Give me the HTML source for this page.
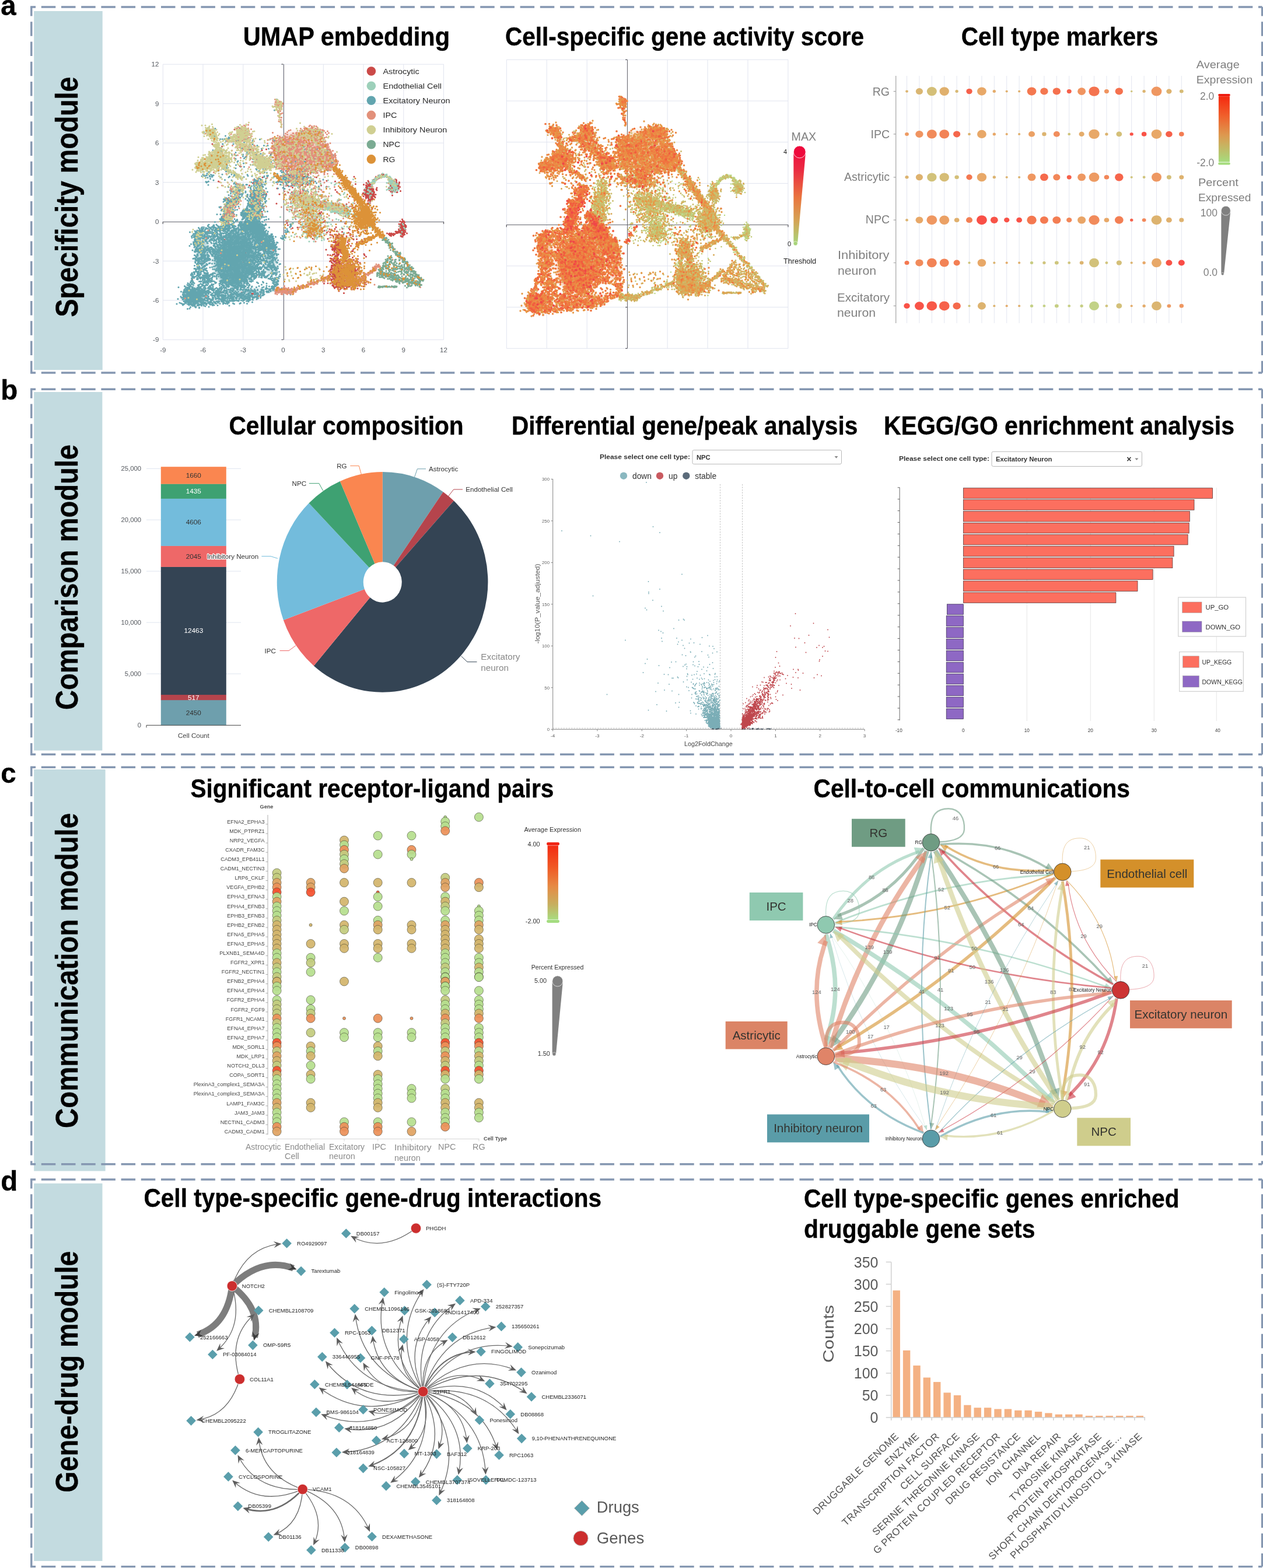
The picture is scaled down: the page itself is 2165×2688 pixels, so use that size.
<!DOCTYPE html>
<html lang="en"><head><meta charset="utf-8"><title>Figure</title>
<style>html,body{margin:0;padding:0;background:#fff;overflow:hidden}body{width:2165px;height:2688px}svg{display:block}text{font-family:"Liberation Sans",sans-serif}</style>
</head><body>
<svg width="2165" height="2688" viewBox="0 0 2165 2688">
<rect x="58.2" y="19" width="117.5" height="615.2" fill="#c3dbe0"/>
<rect x="58.2" y="672" width="117.2" height="614.6" fill="#c3dbe0"/>
<rect x="58.2" y="1319" width="122.4" height="688.5" fill="#c3dbe0"/>
<rect x="58.2" y="2028.7" width="117.3" height="647.3" fill="#c3dbe0"/>
<path d="M52.1 12H2163.6M52.1 639H2163.6" fill="none" stroke="#8597b1" stroke-width="3.4" stroke-dasharray="24.5 9.7" stroke-dashoffset="15.5"/><path d="M53.8 12V639M2163.6 12V639" fill="none" stroke="#8597b1" stroke-width="3.4" stroke-dasharray="24.5 9.7" stroke-dashoffset="8.9"/>
<path d="M52.1 667.2H2163.6M52.1 1293.3H2163.6" fill="none" stroke="#8597b1" stroke-width="3.4" stroke-dasharray="24.5 9.7" stroke-dashoffset="15.5"/><path d="M53.8 667.2V1293.3M2163.6 667.2V1293.3" fill="none" stroke="#8597b1" stroke-width="3.4" stroke-dasharray="24.5 9.7" stroke-dashoffset="8.9"/>
<path d="M52.1 1315.2H2163.6M52.1 1995.8H2163.6" fill="none" stroke="#8597b1" stroke-width="3.4" stroke-dasharray="24.5 9.7" stroke-dashoffset="15.5"/><path d="M53.8 1315.2V1995.8M2163.6 1315.2V1995.8" fill="none" stroke="#8597b1" stroke-width="3.4" stroke-dasharray="24.5 9.7" stroke-dashoffset="8.9"/>
<path d="M52.1 2022H2163.6M52.1 2685.6H2163.6" fill="none" stroke="#8597b1" stroke-width="3.4" stroke-dasharray="24.5 9.7" stroke-dashoffset="15.5"/><path d="M53.8 2022V2685.6M2163.6 2022V2685.6" fill="none" stroke="#8597b1" stroke-width="3.4" stroke-dasharray="24.5 9.7" stroke-dashoffset="8.9"/>
<text transform="translate(133 543.5) rotate(-90)" font-size="54.4" font-weight="bold" textLength="412" lengthAdjust="spacingAndGlyphs" stroke="#000" stroke-width="0.4">Specificity module</text>
<text x="1.2" y="26" font-size="47.5" font-weight="bold" stroke="#000" stroke-width="0.4">a</text>
<text transform="translate(133 1217) rotate(-90)" font-size="54.4" font-weight="bold" textLength="455" lengthAdjust="spacingAndGlyphs" stroke="#000" stroke-width="0.4">Comparison module</text>
<text x="1.2" y="684.6" font-size="47.5" font-weight="bold" stroke="#000" stroke-width="0.4">b</text>
<text transform="translate(133 1934) rotate(-90)" font-size="54.4" font-weight="bold" textLength="540" lengthAdjust="spacingAndGlyphs" stroke="#000" stroke-width="0.4">Communication module</text>
<text x="1.2" y="1342" font-size="47.5" font-weight="bold" stroke="#000" stroke-width="0.4">c</text>
<text transform="translate(133 2558.5) rotate(-90)" font-size="54.4" font-weight="bold" textLength="414" lengthAdjust="spacingAndGlyphs" stroke="#000" stroke-width="0.4">Gene-drug module</text>
<text x="1.2" y="2041" font-size="47.5" font-weight="bold" stroke="#000" stroke-width="0.4">d</text>
<text x="416.7" y="78.3" font-size="45.2" font-weight="bold" textLength="354.3" lengthAdjust="spacingAndGlyphs" stroke="#000" stroke-width="0.4">UMAP embedding</text>
<text x="866" y="78" font-size="45.2" font-weight="bold" textLength="615" lengthAdjust="spacingAndGlyphs" stroke="#000" stroke-width="0.4">Cell-specific gene activity score</text>
<text x="1647.7" y="78.3" font-size="45.2" font-weight="bold" textLength="337.6" lengthAdjust="spacingAndGlyphs" stroke="#000" stroke-width="0.4">Cell type markers</text>
<text x="392.4" y="745.1" font-size="45.2" font-weight="bold" textLength="402.3" lengthAdjust="spacingAndGlyphs" stroke="#000" stroke-width="0.4">Cellular composition</text>
<text x="877" y="745.3" font-size="45.2" font-weight="bold" textLength="593.3" lengthAdjust="spacingAndGlyphs" stroke="#000" stroke-width="0.4">Differential gene/peak analysis</text>
<text x="1515" y="744.8" font-size="45.2" font-weight="bold" textLength="601" lengthAdjust="spacingAndGlyphs" stroke="#000" stroke-width="0.4">KEGG/GO enrichment analysis</text>
<text x="326.4" y="1367.2" font-size="45.2" font-weight="bold" textLength="622.9" lengthAdjust="spacingAndGlyphs" stroke="#000" stroke-width="0.4">Significant receptor-ligand pairs</text>
<text x="1394.5" y="1367.4" font-size="45.2" font-weight="bold" textLength="542.5" lengthAdjust="spacingAndGlyphs" stroke="#000" stroke-width="0.4">Cell-to-cell communications</text>
<text x="246.5" y="2069.4" font-size="45.2" font-weight="bold" textLength="784.5" lengthAdjust="spacingAndGlyphs" stroke="#000" stroke-width="0.4">Cell type-specific gene-drug interactions</text>
<text x="1378" y="2069.6" font-size="45.2" font-weight="bold" textLength="643.5" lengthAdjust="spacingAndGlyphs" stroke="#000" stroke-width="0.4">Cell type-specific genes enriched</text>
<text x="1378" y="2122.4" font-size="45.2" font-weight="bold" textLength="396.3" lengthAdjust="spacingAndGlyphs" stroke="#000" stroke-width="0.4">druggable gene sets</text>
<defs><filter id="ublur" x="-30%" y="-30%" width="160%" height="160%"><feGaussianBlur stdDeviation="5"/></filter></defs>
<path d="M279.3 110.2V582.4M348 110.2V582.4M416.8 110.2V582.4M485.5 110.2V582.4M554.3 110.2V582.4M623 110.2V582.4M691.8 110.2V582.4M760.5 110.2V582.4M279.3 110.2H760.5M279.3 177.7H760.5M279.3 245.1H760.5M279.3 312.6H760.5M279.3 380H760.5M279.3 447.5H760.5M279.3 514.9H760.5M279.3 582.4H760.5" stroke="#e1e4ef" stroke-width="1" fill="none"/>
<path d="M486.5 110.2V582.4M279.3 380.5H760.5" stroke="#5c5c62" stroke-width="0.9" fill="none"/>
<path d="M485.5 110.2h-3M485.5 582.4h-3M279.3 380v4M760.5 380v4" stroke="#5c5c62" stroke-width="1.3"/>
<text x="272.3" y="114.2" font-size="11.5" text-anchor="end" fill="#55595f" >12</text>
<text x="272.3" y="181.7" font-size="11.5" text-anchor="end" fill="#55595f" >9</text>
<text x="272.3" y="249.1" font-size="11.5" text-anchor="end" fill="#55595f" >6</text>
<text x="272.3" y="316.6" font-size="11.5" text-anchor="end" fill="#55595f" >3</text>
<text x="272.3" y="384" font-size="11.5" text-anchor="end" fill="#55595f" >0</text>
<text x="272.3" y="451.5" font-size="11.5" text-anchor="end" fill="#55595f" >-3</text>
<text x="272.3" y="518.9" font-size="11.5" text-anchor="end" fill="#55595f" >-6</text>
<text x="272.3" y="586.4" font-size="11.5" text-anchor="end" fill="#55595f" >-9</text>
<text x="279.3" y="603.5" font-size="11.5" text-anchor="middle" fill="#55595f" >-9</text>
<text x="348" y="603.5" font-size="11.5" text-anchor="middle" fill="#55595f" >-6</text>
<text x="416.8" y="603.5" font-size="11.5" text-anchor="middle" fill="#55595f" >-3</text>
<text x="485.5" y="603.5" font-size="11.5" text-anchor="middle" fill="#55595f" >0</text>
<text x="554.3" y="603.5" font-size="11.5" text-anchor="middle" fill="#55595f" >3</text>
<text x="623" y="603.5" font-size="11.5" text-anchor="middle" fill="#55595f" >6</text>
<text x="691.8" y="603.5" font-size="11.5" text-anchor="middle" fill="#55595f" >9</text>
<text x="760.5" y="603.5" font-size="11.5" text-anchor="middle" fill="#55595f" >12</text>
<g filter="url(#ublur)">
<ellipse cx="403" cy="445.2" rx="34.4" ry="45" fill="#62a5af" fill-opacity="0.85" transform="rotate(10 403 445.2)"/>
<ellipse cx="444.3" cy="407" rx="13.7" ry="29.2" fill="#62a5af" fill-opacity="0.6" transform="rotate(-40 444.3 407)"/>
<ellipse cx="334.3" cy="508.2" rx="18.3" ry="13.5" fill="#62a5af" fill-opacity="0.6" transform="rotate(0 334.3 508.2)"/>
<ellipse cx="407.6" cy="504.8" rx="45.8" ry="6.7" fill="#62a5af" fill-opacity="0.5" transform="rotate(-6 407.6 504.8)"/>
<ellipse cx="348" cy="429.5" rx="10.3" ry="27" fill="#62a5af" fill-opacity="0.45" transform="rotate(0 348 429.5)"/>
<ellipse cx="462.6" cy="447.5" rx="10.3" ry="22.5" fill="#62a5af" fill-opacity="0.45" transform="rotate(0 462.6 447.5)"/>
<ellipse cx="515.3" cy="258.6" rx="43.5" ry="29.2" fill="#e2907a" fill-opacity="0.5" transform="rotate(15 515.3 258.6)"/>
<ellipse cx="366.4" cy="276.6" rx="18.3" ry="9" fill="#d0cf92" fill-opacity="0.5" transform="rotate(-20 366.4 276.6)"/>
<ellipse cx="623" cy="373.3" rx="11.5" ry="13.5" fill="#dc9238" fill-opacity="0.5" transform="rotate(0 623 373.3)"/>
<ellipse cx="595.5" cy="467.7" rx="13.7" ry="13.5" fill="#dc9238" fill-opacity="0.45" transform="rotate(0 595.5 467.7)"/>
</g>
<g fill="none" stroke-linecap="round" transform="scale(0.5)">
<path d="M804 444h0m18-3h0m3 0h0m5 3h0m11 0h0m-116 7h0m0 5h0m97-4h0m0 6h0m11-3h0m3 1h0m0 3h0m216-7h0m21 4h0m0 2h0m24-6h0m-270 11h0m259 0h0m21-1h0m-324 16h0m36-8h0m12 4h0m131 2h0m85-4h0m8 1h0m-244 11h0m3-2h0m4 0h0m21-2h0m2 2h0m122-2h0m4 6h0m38-1h0m8-5h0m-285 14h0m106 5h0m127-2h0m1-3h0m49 0h0m80 2h0m-330 6h0m53 5h0m25-2h0m35-3h0m132-2h0m11 2h0m38-2h0m62 3h0m-258 10h0m39 2h0m15-3h0m44 4h0m44-2h0m55 5h0m66-1h0m-318 11h0m52-4h0m29-4h0m44 7h0m43 1h0m20-6h0m40-1h0m22 4h0m-325 8h0m151 0h0m95 0h0m55-3h0m31 8h0m14-1h0m18 0h0m34-5h0m-430 14h0m44-1h0m15 1h0m4-4h0m25-1h0m73 3h0m30-2h0m29 2h0m80-3h0m50 4h0m20-6h0m8 4h0m48 2h0m-58 8h0m-352 8h0m16-2h0m27 3h0m117 1h0m175-2h0m59 7h0m-378 2h0m21 5h0m16 2h0m57-8h0m152 0h0m16 9h0m5-8h0m56 4h0m11 3h0m14-7h0m21 5h0m36 1h0m-153 8h0m1 3h0m2 1h0m4-3h0m13-3h0m16-1h0m5-2h0m2 5h0m1 3h0m13 1h0m16-6h0m3 0h0m-71 14h0m19-1h0m2-5h0m4-1h0m7 3h0m3 3h0m4 1h0m10 2h0m2-5h0m3-4h0m7 6h0m6 2h0m3-1h0m19-5h0m234 6h0m2-1h0m3 2h0m1-1h0m-415 10h0m68-6h0m9 3h0m3 1h0m10-6h0m2 1h0m24 3h0m6 0h0m0 4h0m1-2h0m1-6h0m4 8h0m1-7h0m3 2h0m1 0h0m9 3h0m5-2h0m6-1h0m32 5h0m129-2h0m75 0h0m3 3h0m4-3h0m1-4h0m3 7h0m2 0h0m1-3h0m7 0h0m3-5h0m11 4h0m1-3h0m1 5h0m-353 8h0m8 0h0m2-1h0m9-1h0m2 0h0m1 4h0m1-1h0m1-6h0m1 3h0m1-3h0m4 6h0m1-2h0m12 0h0m2 0h0m5-3h0m2 2h0m4 3h0m2-5h0m2 0h0m1 4h0m2 0h0m2-2h0m2-1h0m4 5h0m7-4h0m20 2h0m98 3h0m13-3h0m100 1h0m5-6h0m2 4h0m3 1h0m6-3h0m34 3h0m2 3h0m10 0h0m6 0h0m5-3h0m3 1h0m1 2h0m-610 4h0m118 6h0m13-1h0m12-6h0m9 4h0m86-3h0m3 2h0m11-3h0m12 8h0m2 0h0m3-2h0m2-5h0m12 3h0m2-1h0m17 0h0m1 3h0m4-5h0m2-1h0m40 0h0m22-1h0m29 2h0m13 4h0m94 1h0m6-7h0m2 4h0m14 5h0m1-2h0m2-1h0m3-3h0m48 5h0m2-1h0m8-7h0m1 5h0m1-4h0m2 3h0m0 4h0m1-1h0m2-7h0m0 5h0m1-3h0m1-2h0m1 5h0m2 1h0m1 2h0m1-3h0m0 3h0m1-3h0m2-5h0m1 6h0m9-1h0m0 3h0m-514 8h0m27 0h0m15 3h0m90-3h0m13 1h0m13-2h0m20 0h0m4-2h0m0 2h0m18-1h0m11-2h0m35 4h0m118-5h0m28 2h0m8 2h0m4 3h0m1-7h0m3 4h0m3-5h0m0 4h0m1 4h0m0 1h0m1-8h0m0 2h0m1 0h0m5-1h0m1 1h0m0 2h0m1-3h0m0 1h0m62-1h0m1 5h0m2-6h0m1 6h0m1 1h0m1-7h0m1 4h0m1 0h0m1-5h0m0 8h0m0 1h0m2-5h0m1-2h0m0 3h0m0 4h0m1-8h0m0 2h0m0 1h0m1-3h0m0 5h0m0 2h0m0 1h0m1-9h0m0 7h0m1-7h0m0 5h0m0 1h0m1 2h0m0 1h0m3-9h0m0 6h0m0 1h0m1-7h0m1 8h0m1-8h0m0 9h0m1-5h0m0 4h0m1 1h0m1-8h0m1 6h0m1 0h0m1-3h0m-542 13h0m13-6h0m46 2h0m15-2h0m51 5h0m53-3h0m24-2h0m1-1h0m12 5h0m7-5h0m46 3h0m27-3h0m48 5h0m39-4h0m48 2h0m1-3h0m1 8h0m1-7h0m0 7h0m0 1h0m1-9h0m0 3h0m0 6h0m1-7h0m0 5h0m1-3h0m0 4h0m1-7h0m0 6h0m1-7h0m0 3h0m0 1h0m1 1h0m0 1h0m0 2h0m1-6h0m0 1h0m1-2h0m0 1h0m0 2h0m0 5h0m1-9h0m0 1h0m0 8h0m1-3h0m1-5h0m0 6h0m1 1h0m1-8h0m0 7h0m0 1h0m1-5h0m0 1h0m0 5h0m1-7h0m0 1h0m0 4h0m0 2h0m1-7h0m0 7h0m1-3h0m0 1h0m0 1h0m1-5h0m0 3h0m1-5h0m3 7h0m10 1h0m2-5h0m41 1h0m5 3h0m1 0h0m1-3h0m3-4h0m0 5h0m1 3h0m2-2h0m1-7h0m0 1h0m0 7h0m1-7h0m0 3h0m0 1h0m0 1h0m1 0h0m1-6h0m1 3h0m0 2h0m1-1h0m0 4h0m1-8h0m0 1h0m0 2h0m0 6h0m1-7h0m0 1h0m0 3h0m0 2h0m0 1h0m1-8h0m0 2h0m0 1h0m0 2h0m1-2h0m0 2h0m1-3h0m3-2h0m0 4h0m1-2h0m0 2h0m1 0h0m0 2h0m1-2h0m2-3h0m2 5h0m4-6h0m-553 10h0m55 1h0m4 3h0m2 0h0m0 1h0m1-4h0m1 4h0m1 2h0m1 1h0m1-4h0m1 3h0m1-1h0m1-7h0m1 4h0m2 5h0m1-4h0m2 0h0m2 2h0m1-2h0m1 1h0m2 3h0m102 0h0m29-3h0m9-4h0m1 5h0m7-1h0m3 0h0m32 0h0m68-5h0m5 7h0m94-6h0m1-2h0m1 9h0m3-7h0m0 7h0m1-5h0m1-3h0m0 3h0m3 0h0m0 4h0m1 1h0m1-8h0m0 4h0m0 1h0m0 1h0m1-3h0m0 1h0m0 1h0m0 1h0m0 1h0m1-4h0m0 5h0m1-9h0m0 1h0m0 1h0m0 1h0m0 1h0m0 1h0m0 1h0m1-3h0m0 1h0m0 1h0m0 1h0m0 3h0m1-8h0m0 8h0m1-9h0m0 2h0m0 3h0m0 1h0m0 1h0m0 2h0m1-9h0m0 2h0m0 1h0m0 3h0m0 3h0m1-9h0m0 1h0m0 1h0m0 3h0m0 1h0m0 3h0m1-9h0m0 2h0m2-2h0m0 9h0m1-9h0m0 3h0m0 5h0m1-8h0m0 3h0m0 5h0m0 1h0m1-6h0m0 2h0m0 3h0m1-7h0m0 1h0m0 2h0m0 2h0m0 2h0m0 1h0m1-9h0m0 2h0m0 1h0m0 4h0m0 2h0m1-1h0m1-2h0m1-6h0m0 5h0m0 2h0m2 0h0m10-5h0m43 0h0m5 5h0m2-6h0m2-1h0m1 5h0m0 3h0m1-4h0m4-3h0m0 1h0m1 0h0m2-2h0m0 1h0m0 1h0m0 5h0m1-5h0m0 1h0m0 4h0m1-5h0m1-2h0m3 0h0m1 9h0m2 0h0m11-4h0m-510 7h0m13 3h0m1-5h0m5 6h0m1-5h0m3-1h0m1 2h0m0 1h0m3-3h0m0 1h0m1 1h0m0 3h0m2 3h0m1-8h0m1 0h0m6 8h0m3-2h0m7 2h0m2-3h0m45 1h0m20 0h0m10-6h0m11 7h0m4 1h0m10 0h0m8-5h0m7 4h0m1-5h0m22 0h0m3 0h0m190 1h0m4-2h0m1 5h0m1-4h0m1 5h0m2-4h0m0 6h0m3-6h0m1 3h0m1-1h0m1-1h0m1-2h0m0 4h0m0 3h0m1-9h0m0 3h0m0 1h0m0 3h0m0 1h0m1-8h0m0 1h0m0 3h0m0 5h0m1-8h0m0 3h0m0 1h0m1-5h0m0 1h0m0 3h0m0 1h0m0 1h0m0 2h0m1-7h0m0 6h0m1-6h0m1 2h0m1 3h0m0 3h0m1-9h0m0 3h0m0 1h0m0 5h0m1-7h0m0 3h0m0 3h0m1-7h0m0 1h0m0 2h0m0 5h0m1-9h0m0 7h0m0 1h0m1-6h0m0 2h0m0 2h0m1-5h0m0 6h0m0 2h0m1-9h0m0 1h0m0 4h0m1-4h0m0 4h0m0 1h0m0 3h0m1-9h0m0 6h0m1 3h0m1-5h0m1 3h0m1-7h0m0 1h0m0 2h0m0 4h0m0 2h0m1-4h0m0 1h0m0 2h0m1-8h0m5 7h0m-440 8h0m13-5h0m4 2h0m4-2h0m12 0h0m4 0h0m6 2h0m105 7h0m3-9h0m4 1h0m5 1h0m6 3h0m2-3h0m1 0h0m1-2h0m2 6h0m1-1h0m2-2h0m3 6h0m10-1h0m1-6h0m3-2h0m12 9h0m1-6h0m5 5h0m16-1h0m125-4h0m47 0h0m8 2h0m1 3h0m1-7h0m0 3h0m1-3h0m1-1h0m0 3h0m2 0h0m0 2h0m1 2h0m1-6h0m1 0h0m0 3h0m0 4h0m1-5h0m0 1h0m0 4h0m1-7h0m0 5h0m1-6h0m0 3h0m0 2h0m1-3h0m0 2h0m0 2h0m1-6h0m1 0h0m0 3h0m1 0h0m1-1h0m0 2h0m1-4h0m0 4h0m0 2h0m0 1h0m1-5h0m0 4h0m1-4h0m0 2h0m2-1h0m1 0h0m0 6h0m1-9h0m4 1h0m0 2h0m3 2h0m1 2h0m59-7h0m-560 18h0m20-7h0m65 0h0m24-1h0m110 6h0m17-4h0m6-2h0m5 5h0m5 0h0m1-1h0m14 4h0m7 1h0m2-7h0m5-2h0m6 3h0m0 1h0m5 5h0m1-7h0m1-1h0m2 4h0m2 3h0m2-3h0m2 1h0m72 1h0m96-7h0m7 9h0m1-9h0m1 4h0m2 0h0m0 1h0m4-2h0m1 3h0m2-6h0m1 1h0m1 1h0m1 3h0m1-5h0m0 3h0m2-1h0m-461 8h0m53 9h0m8-5h0m3-4h0m2 8h0m4-7h0m60 7h0m83-6h0m3-2h0m2 4h0m7-1h0m0 3h0m1-3h0m3-3h0m7 7h0m5 1h0m2-3h0m3-4h0m9 2h0m2-3h0m18 3h0m14 1h0m2-4h0m18 9h0m10-6h0m2 6h0m10 0h0m112-2h0m5-2h0m0 2h0m3-7h0m0 6h0m-495 12h0m128-8h0m99 9h0m20-6h0m16 0h0m0 6h0m5-3h0m5 2h0m3-3h0m7-1h0m5 2h0m8-3h0m2-3h0m0 1h0m13-1h0m14 0h0m4 0h0m3 2h0m12 4h0m14 2h0m28 0h0m2-7h0m17 3h0m9-4h0m34 6h0m14 3h0m25-9h0m-492 17h0m10 2h0m15-9h0m3 0h0m71 8h0m6-7h0m1 6h0m16-7h0m6 2h0m1-1h0m114 3h0m23 4h0m17-5h0m3 3h0m9-1h0m2 3h0m16 0h0m78-7h0m2 3h0m51-3h0m32 1h0m20-1h0m11 5h0m-475 9h0m66-1h0m13 3h0m3-5h0m4 0h0m11 4h0m102-5h0m20 4h0m7-3h0m12-1h0m21-1h0m1 9h0m33-6h0m2 6h0m6-2h0m46-3h0m19 1h0m13 2h0m37-2h0m8-1h0m22 2h0m7 3h0m15 0h0m-481 8h0m0 2h0m96-6h0m16 4h0m104-7h0m28 4h0m24-4h0m17 7h0m21-4h0m5 0h0m2 5h0m60-6h0m9-1h0m55 5h0m18-1h0m9-3h0m4 6h0m3-3h0m9 4h0m-487 8h0m16-2h0m63-4h0m1 2h0m8 3h0m22-1h0m123-4h0m22 5h0m7 1h0m48-7h0m93 1h0m31 3h0m24 0h0m3 0h0m12-4h0m-459 12h0m79-1h0m172 3h0m6 0h0m166 4h0m30-3h0m12-1h0m2 1h0m0 3h0m110 1h0m7-7h0m2 5h0m4 2h0m-535 9h0m134-3h0m126-4h0m73 5h0m56 3h0m129-1h0m6 0h0m0 1h0m1-1h0m1-2h0m0 2h0m1-7h0m0 5h0m2 0h0m0 3h0m1-8h0m0 4h0m0 2h0m0 2h0m1-2h0m0 2h0m2-1h0m0 1h0m1-3h0m0 1h0m0 2h0m1-1h0m1 1h0m1-7h0m-400 10h0m165 7h0m102-1h0m3 0h0m15-8h0m97 6h0m2-1h0m1-2h0m1 2h0m0 2h0m1-7h0m0 3h0m1 4h0m1-7h0m0 1h0m0 1h0m0 5h0m0 1h0m0 1h0m1-4h0m0 1h0m0 1h0m0 1h0m0 1h0m1-9h0m0 1h0m0 2h0m0 1h0m0 2h0m0 2h0m1-8h0m0 1h0m0 4h0m0 2h0m0 2h0m1-6h0m0 4h0m0 1h0m0 1h0m1-8h0m0 5h0m0 1h0m0 1h0m1-7h0m0 1h0m0 1h0m0 1h0m0 1h0m0 2h0m1-3h0m1-4h0m0 1h0m1-1h0m0 5h0m0 1h0m1-6h0m0 2h0m0 1h0m0 6h0m1-4h0m2-4h0m1 5h0m2-2h0m0 4h0m-649 7h0m87 4h0m69-1h0m104-6h0m17-2h0m54 5h0m56 1h0m18-1h0m26-1h0m22-2h0m3 5h0m29-2h0m1 0h0m138 1h0m2 3h0m3-5h0m0 3h0m2-6h0m1 2h0m0 1h0m1-4h0m0 1h0m0 2h0m0 5h0m1-7h0m0 1h0m0 2h0m0 2h0m0 2h0m1-6h0m0 2h0m0 2h0m0 1h0m1-6h0m0 2h0m0 1h0m0 1h0m0 2h0m0 1h0m0 1h0m1-9h0m0 1h0m0 1h0m0 1h0m0 1h0m0 2h0m0 3h0m1-8h0m0 1h0m0 2h0m0 1h0m0 2h0m0 2h0m1-9h0m0 2h0m0 1h0m0 1h0m0 2h0m0 1h0m0 1h0m1-8h0m0 1h0m0 1h0m0 2h0m0 1h0m0 2h0m1-5h0m0 4h0m1 0h0m1-3h0m0 3h0m0 2h0m0 1h0m1-7h0m0 1h0m0 3h0m1-3h0m1-3h0m0 1h0m1 7h0m-505 5h0m193 5h0m34-7h0m9 6h0m11 0h0m6-7h0m17 3h0m18 2h0m22 3h0m15-2h0m15-6h0m2 8h0m2-3h0m23-5h0m104 4h0m3 0h0m0 3h0m0 2h0m1 0h0m2-4h0m0 2h0m0 2h0m1-1h0m2 0h0m2-6h0m0 3h0m0 1h0m2 0h0m1-3h0m1 2h0m1 1h0m0 2h0m1-8h0m0 1h0m1 4h0m1 3h0m1-7h0m0 1h0m0 1h0m0 3h0m0 2h0m1-4h0m1-2h0m0 4h0m0 2h0m1-8h0m0 1h0m1-1h0m0 5h0m0 1h0m0 2h0m1-6h0m0 1h0m0 6h0m1-9h0m0 1h0m0 4h0m1-4h0m0 1h0m0 3h0m0 2h0m0 2h0m1-6h0m0 1h0m0 4h0m2 0h0m1-8h0m3 5h0m-511 9h0m217-2h0m3 2h0m19-1h0m14 2h0m6 1h0m2 1h0m8-3h0m9 3h0m5-5h0m1 3h0m7 1h0m6 1h0m2-4h0m23-1h0m0 5h0m1-1h0m34-2h0m91-4h0m6 2h0m0 1h0m3-3h0m0 1h0m0 2h0m0 1h0m0 2h0m1-2h0m0 3h0m2-4h0m2 0h0m0 6h0m1-9h0m0 1h0m2 1h0m0 2h0m1-1h0m1-1h0m3 5h0m1-6h0m3 2h0m1-1h0m20 7h0m1-8h0m2-1h0m0 2h0m1 2h0m3-2h0m1-2h0m0 5h0m0 2h0m1-7h0m0 6h0m2-3h0m2 1h0m8-4h0m-501 18h0m178 0h0m52 1h0m19-8h0m8 6h0m1-5h0m3-1h0m0 2h0m3 2h0m1 0h0m2 4h0m5-1h0m3-1h0m2-5h0m4-2h0m1 6h0m3 3h0m9-9h0m22 0h0m12 0h0m27 9h0m18-6h0m4 5h0m1-5h0m9-2h0m0 4h0m95-4h0m4 1h0m-610 10h0m127 5h0m32-2h0m220 2h0m2-6h0m0 8h0m6-1h0m2-8h0m0 8h0m2-4h0m1-4h0m1 2h0m6 7h0m1-7h0m1-2h0m0 3h0m0 6h0m1-3h0m22-2h0m18-4h0m0 1h0m11-1h0m19 8h0m31-7h0m-130 9h0m5 1h0m2 1h0m1 6h0m2 0h0m1-7h0m1 2h0m0 1h0m1-3h0m0 2h0m3-3h0m0 7h0m2-6h0m0 4h0m1-5h0m2 7h0m1-2h0m2 2h0m1-5h0m2 2h0m2-2h0m2 7h0m3 0h0m1-9h0m2 1h0m12-1h0m4 6h0m26 2h0m1-4h0m1-4h0m19 0h0m12 1h0m1 0h0m-121 14h0m1-5h0m3 7h0m1-7h0m4 6h0m3-4h0m0 6h0m4-6h0m0 5h0m1-4h0m1 6h0m4-8h0m1 5h0m0 2h0m2 1h0m1-8h0m1 3h0m2-3h0m1 1h0m0 6h0m2-7h0m0 1h0m3 6h0m2-3h0m1 1h0m1 3h0m3-6h0m1-2h0m0 3h0m4 0h0m2 2h0m6-5h0m2 0h0m11 2h0m22 1h0m2 2h0m-318 12h0m209-2h0m21-2h0m0 1h0m1-2h0m0 4h0m2-6h0m3 5h0m1 2h0m1-7h0m0 8h0m2-8h0m1 1h0m0 2h0m0 2h0m3-6h0m1 0h0m2 5h0m1-2h0m1 0h0m3 1h0m1 2h0m0 2h0m2-4h0m0 4h0m2-8h0m0 2h0m0 1h0m0 6h0m1-2h0m1 2h0m2-7h0m0 5h0m1 2h0m2-9h0m0 3h0m3-1h0m1 5h0m1 0h0m4-7h0m1 7h0m28-2h0m-370 11h0m305-5h0m2 2h0m5 3h0m2-6h0m1 9h0m1-8h0m1 0h0m0 2h0m0 4h0m3-1h0m7-3h0m2 4h0m3 1h0m1-6h0m0 3h0m5-5h0m3 5h0m6 4h0m19-8h0m3 0h0m-86 13h0m8 1h0m9-2h0m4-1h0m2-1h0m2 7h0m2-1h0m1 0h0m1 2h0m2-8h0m1 6h0m1-7h0m0 3h0m1 4h0m3-6h0m0 2h0m7 6h0m10 0h0m7-4h0m8-2h0m5 6h0m50-8h0m2 4h0m-568 12h0m118 1h0m42-8h0m291 6h0m5 1h0m7 0h0m1-4h0m0 4h0m3-3h0m4 1h0m1-1h0m2-4h0m0 9h0m2-4h0m1 1h0m19-6h0m4 4h0m1 4h0m6-5h0m8 6h0m2-1h0m10-5h0m18 5h0m28-8h0m-419 19h0m295-3h0m3-2h0m3 5h0m4-7h0m2 0h0m1 3h0m2 3h0m2-3h0m2 1h0m1-1h0m1-3h0m0 1h0m0 5h0m1-3h0m1-4h0m3 6h0m2-4h0m0 5h0m1-2h0m2-4h0m2 4h0m1-2h0m0 3h0m1-2h0m0 1h0m6-4h0m4 4h0m4 1h0m2-4h0m5 1h0m7-2h0m2 3h0m2 3h0m3-8h0m3 5h0m1-3h0m0 3h0m8-4h0m6 5h0m1 1h0m5-2h0m2 3h0m-533 5h0m444-2h0m4 3h0m2 2h0m0 3h0m3-2h0m2-1h0m1-1h0m2-3h0m0 3h0m1-5h0m2 8h0m1-1h0m1-7h0m0 6h0m1 2h0m2-7h0m0 8h0m1-7h0m0 7h0m1-3h0m1 1h0m0 1h0m1-2h0m1-3h0m5 3h0m1-5h0m1 8h0m4-7h0m6 5h0m3-1h0m2 2h0m4-3h0m2-4h0m1 3h0m0 1h0m0 3h0m1-3h0m1-5h0m5 7h0m5 1h0m5-4h0m0 1h0m0 2h0m4-1h0m10-6h0m9 1h0m-395 17h0m297-2h0m1-6h0m1 3h0m0 5h0m4-8h0m2 3h0m1 0h0m1 6h0m1-8h0m1 0h0m0 7h0m1-4h0m0 2h0m0 1h0m1-3h0m1 5h0m1-9h0m0 9h0m1-5h0m0 3h0m1-7h0m0 3h0m0 6h0m1-6h0m1-3h0m0 3h0m2 1h0m0 1h0m0 3h0m2-8h0m1 3h0m0 3h0m0 3h0m1-2h0m3 2h0m1-6h0m0 6h0m1-2h0m0 1h0m2-6h0m0 7h0m1-6h0m0 4h0m1-3h0m0 4h0m1 1h0m1-4h0m1 2h0m0 1h0m1 0h0m2 0h0m1-7h0m1-1h0m0 3h0m2 4h0m1-3h0m2 5h0m3-1h0m1-3h0m1-3h0m1 4h0m0 3h0m1-1h0m2-6h0m0 2h0m1 2h0m2 0h0m1 1h0m1-6h0m5 8h0m1-7h0m0 6h0m1-4h0m0 4h0m1-7h0m0 6h0m1-4h0m0 4h0m1-2h0m1-5h0m9 6h0m0 2h0m12 1h0m2-1h0m-101 10h0m2-4h0m1-1h0m3 1h0m3-2h0m1 0h0m2 3h0m0 2h0m0 2h0m2-7h0m0 1h0m1 0h0m1 2h0m1-4h0m1 1h0m1 6h0m1-7h0m1 5h0m1-4h0m1 1h0m0 1h0m1-2h0m0 1h0m2-1h0m1 7h0m1-2h0m3-5h0m1-2h0m1 2h0m0 6h0m1-1h0m1-5h0m0 7h0m2-9h0m0 4h0m0 2h0m0 2h0m1-6h0m0 1h0m1 2h0m1-1h0m1-2h0m0 1h0m0 4h0m2 0h0m1 2h0m1-1h0m2-1h0m1-6h0m0 1h0m2 5h0m6-7h0m1 6h0m1-3h0m3 5h0m1-8h0m1 3h0m1 6h0m1-1h0m1 0h0m1-5h0m1 1h0m1 4h0m2-4h0m1 2h0m3-3h0m0 3h0m3-1h0m1-4h0m0 3h0m7-3h0m0 1h0m0 6h0m1-3h0m4 3h0m4-5h0m0 3h0m-357 13h0m262 0h0m4-7h0m2-1h0m0 1h0m0 3h0m2 2h0m0 1h0m1 1h0m1-2h0m2-4h0m1-2h0m0 3h0m0 2h0m1 0h0m0 1h0m2-1h0m1-5h0m0 5h0m0 2h0m1-1h0m0 2h0m1-7h0m1-1h0m0 2h0m1-3h0m0 4h0m0 4h0m2-8h0m0 6h0m0 2h0m1-7h0m0 6h0m0 1h0m0 1h0m1-3h0m0 3h0m1-9h0m1 3h0m1-2h0m0 7h0m0 1h0m1-1h0m1-6h0m0 4h0m0 1h0m1-5h0m0 7h0m1-4h0m1-4h0m1 3h0m1 0h0m0 5h0m1-2h0m0 2h0m2-6h0m0 3h0m3-6h0m0 2h0m0 4h0m2-4h0m0 2h0m0 5h0m3-3h0m0 3h0m1-3h0m6 0h0m2 1h0m1-3h0m1 1h0m0 3h0m2-7h0m1 4h0m1-3h0m0 4h0m1-5h0m2-1h0m1 5h0m0 1h0m0 3h0m3-5h0m1-4h0m2 6h0m1-1h0m1 0h0m1 0h0m2-5h0m1 0h0m1 8h0m1-6h0m1-1h0m2 3h0m4-3h0m3 5h0m3-1h0m3 0h0m2 2h0m6-6h0m4 2h0m-440 12h0m84-2h0m242 4h0m9-5h0m5 4h0m1 3h0m2-5h0m2 5h0m1-9h0m0 5h0m0 2h0m2-1h0m1 0h0m2-3h0m0 3h0m2-6h0m1 6h0m0 3h0m1-8h0m0 2h0m0 1h0m0 1h0m0 1h0m0 1h0m1-4h0m0 6h0m1-9h0m0 2h0m0 1h0m0 3h0m0 3h0m1-3h0m1-6h0m1 1h0m0 2h0m0 4h0m0 1h0m0 1h0m1-5h0m0 2h0m1-5h0m0 5h0m0 2h0m1-6h0m0 2h0m0 4h0m1-4h0m0 5h0m1-9h0m0 2h0m0 1h0m0 2h0m0 1h0m0 2h0m1-6h0m0 2h0m0 2h0m1-6h0m0 8h0m1 0h0m2-8h0m4 1h0m1 2h0m2 1h0m0 4h0m1 0h0m1-8h0m2 4h0m0 2h0m3 0h0m1 1h0m0 1h0m0 1h0m1-3h0m1 1h0m2-3h0m1 4h0m1-7h0m2 8h0m2-7h0m1 2h0m4 5h0m1-3h0m1 3h0m2 0h0m3-9h0m0 5h0m2 3h0m1-6h0m2 5h0m3-6h0m0 1h0m0 1h0m0 2h0m3-1h0m2-3h0m2 8h0m20-1h0m-581 11h0m474-3h0m5 2h0m4-2h0m1-4h0m1 0h0m0 2h0m2 4h0m1-2h0m1-6h0m2 6h0m1 1h0m1-1h0m0 2h0m1-8h0m0 4h0m2 3h0m1-5h0m0 5h0m1-7h0m0 4h0m0 5h0m1-9h0m0 7h0m0 1h0m2-5h0m1-2h0m1 4h0m1-3h0m0 5h0m1-2h0m0 3h0m1-3h0m0 1h0m1-1h0m1-5h0m0 5h0m1-1h0m1-1h0m0 5h0m1-7h0m0 1h0m2-2h0m0 5h0m2-2h0m0 1h0m0 3h0m2-6h0m0 7h0m0 1h0m1-4h0m2-2h0m1-3h0m0 3h0m0 5h0m1-1h0m1-5h0m0 6h0m1-4h0m5-2h0m0 3h0m0 2h0m1-7h0m0 2h0m1 0h0m1 5h0m1-4h0m0 1h0m0 2h0m1-6h0m2 1h0m0 6h0m1-7h0m0 3h0m1-3h0m0 9h0m2-4h0m0 4h0m5-9h0m4 5h0m1-4h0m4 8h0m7-2h0m2-1h0m1-2h0m7 2h0m6-3h0m2 0h0m1 6h0m2 0h0m1-2h0m5 2h0m24-1h0m-135 4h0m1 0h0m4 5h0m2-1h0m1-1h0m0 4h0m1-3h0m2 0h0m0 1h0m1-1h0m0 1h0m0 2h0m1-2h0m2-4h0m0 2h0m0 3h0m1-2h0m2-6h0m2 3h0m0 6h0m1-7h0m0 4h0m1-5h0m0 1h0m0 7h0m2-8h0m0 7h0m1-5h0m0 2h0m1 0h0m1 2h0m1 0h0m1-3h0m1-4h0m0 5h0m0 3h0m1 0h0m0 1h0m1-5h0m0 2h0m0 2h0m1-3h0m0 1h0m2 3h0m1-7h0m0 5h0m1 0h0m1 2h0m1-4h0m1 3h0m1-8h0m0 2h0m1 0h0m1-1h0m0 7h0m1-6h0m0 4h0m1 2h0m1-6h0m1 4h0m2-4h0m0 4h0m2-5h0m1 5h0m2-4h0m0 7h0m2-2h0m3-7h0m0 1h0m0 1h0m0 5h0m0 1h0m3-5h0m3 3h0m2-4h0m0 3h0m3-1h0m1-4h0m4 3h0m1 5h0m4-7h0m0 1h0m1 7h0m1-1h0m1-2h0m0 2h0m2-1h0m2-2h0m2-3h0m1 3h0m1-2h0m1-3h0m1 2h0m0 7h0m3-4h0m1-4h0m5 6h0m8-5h0m1-1h0m4 8h0m9-4h0m-480 11h0m331-4h0m13-1h0m9 0h0m6-1h0m1 7h0m0 2h0m4-1h0m1-6h0m1-2h0m1 0h0m0 3h0m5-3h0m0 5h0m1-4h0m0 8h0m1-3h0m1 0h0m0 3h0m1-4h0m1-2h0m0 3h0m1-4h0m0 2h0m1-3h0m0 2h0m0 1h0m0 1h0m1-3h0m0 3h0m0 4h0m1-8h0m0 1h0m0 1h0m0 4h0m0 2h0m2-9h0m1 1h0m0 2h0m1 0h0m1 5h0m1-6h0m0 2h0m0 5h0m2-4h0m1-1h0m0 1h0m1-5h0m0 8h0m3-3h0m1-1h0m0 1h0m0 3h0m1-8h0m0 8h0m1-2h0m0 2h0m1-8h0m0 7h0m1-7h0m0 9h0m1-9h0m1 1h0m0 3h0m0 1h0m0 1h0m1-3h0m1-1h0m0 2h0m0 1h0m1 1h0m0 1h0m0 2h0m1-9h0m1 5h0m1-5h0m0 1h0m1-1h0m0 1h0m0 1h0m0 3h0m0 2h0m1-5h0m0 2h0m0 1h0m0 4h0m2-8h0m0 7h0m1-8h0m0 4h0m0 3h0m1-6h0m0 1h0m0 2h0m0 2h0m2-2h0m1 1h0m2-1h0m1-3h0m1 8h0m1-6h0m2-1h0m0 1h0m1 0h0m2-2h0m1 0h0m1 6h0m1-2h0m0 3h0m1-8h0m0 8h0m4-3h0m0 3h0m1-2h0m2-6h0m1 1h0m0 4h0m0 4h0m1-9h0m1 1h0m2 1h0m1 2h0m4 0h0m1-4h0m2 3h0m1 5h0m15-8h0m4 5h0m5 0h0m-111 7h0m0 1h0m3 5h0m2-3h0m2-1h0m4 0h0m3-4h0m2 2h0m0 3h0m1-1h0m3 0h0m1-1h0m2-2h0m1 6h0m4-4h0m2-2h0m0 1h0m0 2h0m1-4h0m2 3h0m1-2h0m1-1h0m1 8h0m3-7h0m5-1h0m1 2h0m0 3h0m3-5h0m2 3h0m2-1h0m0 1h0m3-1h0m5 5h0m7-5h0m2 1h0m13 6h0m6-9h0m14 2h0m-566 11h0m479-2h0m3 7h0m4-6h0m14-1h0m3-1h0m4 0h0m25 1h0m-562 17h0m108-5h0m71 0h0m34 4h0m4 0h0m312-2h0m-388 5h0" stroke="#cb4a48" stroke-width="6.2"/>
<path d="M1089 460h0m2 3h0m-45 10h0m18-2h0m31 7h0m-160 3h0m9 1h0m146-2h0m-123 17h0m48-2h0m69 1h0m-119 11h0m7 1h0m-22 4h0m24 3h0m22-1h0m23 2h0m34-3h0m-56 7h0m27 3h0m1-1h0m1 7h0m89 0h0m13-7h0m-66 9h0m4 0h0m-106 16h0m10-4h0m166-2h0m7 5h0m-187 11h0m93 4h0m9 8h0m34-3h0m-70 4h0m55 4h0m16 3h0m2-5h0m-58 9h0m-5 18h0m280-4h0m10 4h0m1 0h0m3-1h0m-337 11h0m306-1h0m2-4h0m1 1h0m0 3h0m2-7h0m0 7h0m1-8h0m0 3h0m1 4h0m2-5h0m1 2h0m1 1h0m0 2h0m0 1h0m1-7h0m0 1h0m0 3h0m1 4h0m5-5h0m0 2h0m4-4h0m0 5h0m2-4h0m3 1h0m0 1h0m1-1h0m3 2h0m3 0h0m0 2h0m1-2h0m3 3h0m2-2h0m1-2h0m0 1h0m3 2h0m-301 9h0m87 1h0m86-3h0m66 2h0m5 2h0m1 0h0m2-2h0m1-6h0m0 3h0m0 2h0m1-5h0m1 1h0m1 4h0m0 3h0m1-1h0m1-6h0m1-2h0m1 1h0m2 1h0m1-1h0m37 1h0m0 5h0m2-6h0m0 8h0m3-7h0m1 1h0m1 0h0m0 2h0m1 2h0m2-4h0m3 6h0m7-3h0m-372 11h0m9-3h0m53 0h0m16 0h0m37-3h0m3 8h0m37-1h0m126 0h0m9-2h0m4-1h0m2-1h0m0 4h0m1-6h0m0 3h0m0 2h0m0 2h0m1-3h0m2-3h0m2-2h0m2 1h0m0 4h0m41 1h0m7-2h0m4 1h0m0 1h0m0 2h0m1-7h0m2 0h0m1 4h0m2-5h0m1 1h0m0 5h0m1-7h0m1 1h0m1 2h0m0 2h0m1-2h0m3 2h0m0 1h0m0 3h0m1 0h0m2-1h0m1-3h0m0 4h0m-341 2h0m133 3h0m3-3h0m14-1h0m111 6h0m1-4h0m0 2h0m1-4h0m62 1h0m4 2h0m1 5h0m1-5h0m1 0h0m0 5h0m2-7h0m3 1h0m0 3h0m1-5h0m0 9h0m1-6h0m0 6h0m1-4h0m3-3h0m0 3h0m1-1h0m1 4h0m2-8h0m3 2h0m-327 14h0m17 3h0m22-3h0m8-5h0m8 4h0m0 4h0m2 0h0m23-8h0m10-1h0m125 7h0m12-4h0m6 0h0m61 5h0m4-8h0m0 9h0m4-6h0m8-3h0m2 3h0m1 2h0m0 2h0m0 1h0m1-7h0m2 7h0m2-5h0m0 3h0m2-1h0m1-5h0m1 4h0m2 2h0m2-3h0m-370 8h0m15 7h0m3 1h0m3-7h0m6 6h0m6-2h0m20 1h0m11 2h0m22-1h0m6 0h0m15-8h0m112 0h0m49 2h0m1-2h0m3 3h0m2 5h0m3-1h0m1-2h0m55-4h0m11-1h0m7 4h0m2-4h0m1 0h0m4 6h0m2-4h0m0 3h0m3 3h0m4-8h0m4 1h0m0 2h0m-368 10h0m8 2h0m1-5h0m0 1h0m5 2h0m3 3h0m1-6h0m9 7h0m14-3h0m2 4h0m4 0h0m11-2h0m27-5h0m5 5h0m12 2h0m1 0h0m68 1h0m11-3h0m3-5h0m69-1h0m9 3h0m5 1h0m12-3h0m68 2h0m-351 14h0m2-4h0m1 2h0m3 0h0m4-3h0m1 0h0m3 3h0m1-2h0m2-3h0m1 7h0m2-6h0m1 5h0m2-1h0m0 1h0m2 3h0m1-7h0m0 4h0m0 3h0m1-7h0m1-1h0m1 7h0m2-2h0m4-5h0m8 0h0m1 7h0m1 1h0m2-1h0m0 1h0m4-2h0m1 0h0m1-5h0m1 0h0m1 4h0m11-3h0m3 1h0m7 5h0m4-7h0m1 3h0m17-2h0m13-2h0m32 0h0m52 4h0m80-3h0m0 6h0m4-8h0m-280 13h0m11-1h0m4 4h0m2-1h0m4-3h0m6 6h0m2-8h0m3 3h0m0 4h0m3-5h0m1 0h0m0 2h0m6-2h0m1-2h0m1 0h0m0 4h0m2 4h0m3-5h0m3 2h0m1-3h0m3 2h0m1-1h0m1 1h0m1 0h0m1-1h0m0 1h0m1 0h0m0 5h0m2 0h0m1-5h0m1 3h0m2-4h0m1 2h0m0 3h0m1-6h0m0 6h0m0 1h0m4-9h0m0 9h0m2-6h0m0 4h0m1-5h0m0 7h0m8-4h0m2 3h0m1-3h0m2-5h0m1 8h0m4 1h0m1 0h0m6-4h0m1 1h0m2 3h0m13-2h0m5-4h0m2 2h0m42 1h0m6-1h0m5 0h0m-173 13h0m2-8h0m1 8h0m4-2h0m6-2h0m5-1h0m3-1h0m1 2h0m3 3h0m10-4h0m0 2h0m1-5h0m3 4h0m6-4h0m5 5h0m1-3h0m1 4h0m5-6h0m1 4h0m2 2h0m1-6h0m0 4h0m3 4h0m2-1h0m2-2h0m1 0h0m1-2h0m5-2h0m1-1h0m0 8h0m3-3h0m1-4h0m3 4h0m1-5h0m0 7h0m1-4h0m4-1h0m0 2h0m0 4h0m1-3h0m2 3h0m0 1h0m3-9h0m0 1h0m0 3h0m5 2h0m2-2h0m2 2h0m1 0h0m2 1h0m1-2h0m0 4h0m1-5h0m2 2h0m0 1h0m2-3h0m0 2h0m0 2h0m3-4h0m0 1h0m0 1h0m1 2h0m2-5h0m0 6h0m1-3h0m1-2h0m0 4h0m1-1h0m0 2h0m1 0h0m1 0h0m2-5h0m0 2h0m1 2h0m3 0h0m6 0h0m4-4h0m2 2h0m0 2h0m10 1h0m1-1h0m15-2h0m47 0h0m56-1h0m-293 7h0m14 3h0m15 0h0m16 2h0m6-7h0m9 3h0m0 4h0m1-6h0m3 1h0m5 2h0m3 1h0m2 4h0m1-8h0m0 5h0m5 1h0m6 0h0m0 2h0m3-5h0m4-1h0m0 4h0m4 2h0m4-7h0m3 0h0m2 0h0m4 5h0m5-6h0m2 4h0m1 1h0m1 3h0m6-4h0m0 1h0m1-1h0m1-5h0m1 0h0m0 5h0m1 0h0m1 1h0m0 2h0m2-1h0m0 1h0m1-5h0m0 6h0m1-6h0m1-2h0m1-1h0m0 5h0m1-4h0m0 3h0m0 4h0m1-4h0m0 2h0m0 2h0m1-7h0m1 1h0m0 5h0m1-6h0m0 4h0m0 1h0m0 2h0m1-6h0m0 2h0m0 1h0m0 2h0m1-4h0m0 5h0m1-8h0m1 3h0m1-3h0m0 8h0m1-6h0m0 1h0m0 2h0m0 4h0m1-6h0m0 1h0m0 1h0m0 2h0m0 2h0m1-6h0m0 6h0m1-9h0m0 5h0m0 3h0m1-1h0m0 1h0m1-3h0m1-4h0m1 5h0m0 3h0m2-6h0m1-1h0m0 5h0m0 1h0m1-1h0m1-1h0m2-5h0m0 2h0m0 4h0m0 2h0m2-3h0m0 1h0m1-1h0m2-4h0m0 1h0m0 6h0m1-4h0m0 1h0m1 0h0m0 3h0m2-9h0m0 4h0m0 4h0m2-2h0m2 3h0m2-4h0m0 4h0m1-2h0m0 1h0m2-8h0m7 9h0m2-5h0m1 2h0m8 2h0m15-4h0m4 4h0m15-8h0m16 3h0m16 4h0m-244 11h0m2 0h0m16 0h0m6-5h0m3-3h0m18 0h0m3 0h0m1 0h0m7 8h0m2-7h0m4 3h0m1 2h0m1 1h0m2-2h0m6 2h0m1-6h0m4-1h0m0 6h0m0 3h0m1-8h0m2 3h0m1-2h0m2 1h0m0 2h0m13-4h0m1 5h0m7 1h0m3-4h0m11-3h0m3 0h0m1 1h0m1 1h0m3-1h0m0 4h0m2-3h0m2 7h0m1-8h0m1 3h0m0 2h0m1-4h0m0 5h0m2-7h0m0 1h0m0 4h0m0 1h0m1-6h0m0 1h0m1-1h0m0 3h0m1-3h0m0 5h0m1-3h0m0 1h0m1-3h0m0 3h0m0 5h0m1-1h0m2-5h0m0 2h0m0 1h0m0 1h0m0 2h0m1-8h0m0 1h0m1 3h0m0 1h0m1-2h0m0 5h0m1-8h0m0 1h0m0 3h0m1-3h0m0 1h0m1 2h0m1-1h0m1-2h0m0 2h0m0 3h0m1-6h0m0 3h0m1-1h0m0 2h0m0 1h0m1-3h0m1-1h0m0 5h0m0 3h0m1-4h0m1-4h0m0 2h0m0 3h0m0 3h0m2-5h0m0 4h0m1-4h0m0 1h0m0 2h0m0 2h0m1-8h0m1 7h0m1-8h0m0 4h0m0 5h0m2-3h0m0 3h0m1 0h0m2-9h0m0 7h0m1-1h0m2 3h0m1-5h0m0 5h0m1-6h0m1 5h0m1-2h0m1-1h0m0 4h0m4-3h0m1-1h0m0 3h0m0 1h0m1-2h0m1-3h0m1 1h0m1 0h0m2-2h0m0 5h0m2-4h0m0 4h0m2-5h0m1 2h0m0 2h0m1-5h0m0 2h0m1 4h0m1 1h0m2-2h0m1-5h0m1-1h0m4 1h0m6 6h0m13 1h0m20-1h0m-243 7h0m17-1h0m23 4h0m14-8h0m1 1h0m4 1h0m0 7h0m13-8h0m1 7h0m8-5h0m2 1h0m1 2h0m9 0h0m26-6h0m4 0h0m8 0h0m7 1h0m1-1h0m3 6h0m1 2h0m4-6h0m0 5h0m1-7h0m3 2h0m1 4h0m2-6h0m1 1h0m0 6h0m1-5h0m1-2h0m0 2h0m3 5h0m1-1h0m0 3h0m1-6h0m1 0h0m2-3h0m0 2h0m0 6h0m2-7h0m0 2h0m4-3h0m0 3h0m0 6h0m1-8h0m0 7h0m1-4h0m0 4h0m3-6h0m0 1h0m0 1h0m1-3h0m0 6h0m1-3h0m1 4h0m0 1h0m1-9h0m1 0h0m0 7h0m0 2h0m1-9h0m0 1h0m0 6h0m1-7h0m0 1h0m1 2h0m0 2h0m1-1h0m0 2h0m0 1h0m1 0h0m1-2h0m1-3h0m0 4h0m2-3h0m0 5h0m2-1h0m1-7h0m0 1h0m1 2h0m2 4h0m0 2h0m1-1h0m2-3h0m0 1h0m0 3h0m3-1h0m1-8h0m0 8h0m1 0h0m1-2h0m0 2h0m1-1h0m2-4h0m2 0h0m0 2h0m52 4h0m6 0h0m11-2h0m0 2h0m-252 7h0m2 0h0m20-2h0m7-3h0m7 4h0m1-1h0m4 5h0m1-4h0m8 2h0m6-1h0m9-2h0m1 0h0m10 4h0m4-1h0m59-7h0m6 3h0m1-3h0m1 1h0m0 3h0m3-4h0m4 2h0m5 2h0m1-3h0m2 1h0m1-1h0m1 0h0m4 0h0m0 6h0m3-5h0m1 1h0m2 5h0m1-4h0m1-3h0m1 2h0m1 3h0m1-5h0m0 1h0m1 1h0m1 1h0m12 0h0m18 0h0m4-4h0m27 3h0m-300 11h0m47 0h0m4 4h0m11-4h0m2 2h0m15 3h0m1-1h0m2-7h0m1-1h0m7 9h0m4-9h0m1 4h0m1 4h0m11-4h0m2 3h0m1-4h0m4 0h0m4 6h0m1-7h0m9 0h0m0 5h0m7-3h0m4-3h0m9 8h0m68-7h0m4-1h0m12 0h0m0 1h0m1 4h0m24-6h0m3 1h0m24 8h0m1 0h0m4-3h0m-264 8h0m18-2h0m48 3h0m4 0h0m2-4h0m4 2h0m1 4h0m1-3h0m0 2h0m7-3h0m4-1h0m1 0h0m1-2h0m1 2h0m0 2h0m1-3h0m0 8h0m4-6h0m0 3h0m1-4h0m11 2h0m4 4h0m6-5h0m3-1h0m21-2h0m24 1h0m8 3h0m90-4h0m16 1h0m5 4h0m-268 9h0m26-3h0m8 6h0m8 0h0m8 0h0m4-4h0m0 1h0m2-2h0m8 2h0m2 1h0m1 3h0m1 1h0m1-9h0m2 4h0m0 4h0m2-3h0m1 1h0m1-6h0m0 6h0m2-4h0m0 7h0m2 0h0m2-7h0m1 1h0m2-3h0m1 5h0m1-3h0m1 3h0m6-5h0m5 6h0m2-3h0m0 2h0m19-1h0m7-2h0m5 7h0m93-5h0m24-4h0m2 5h0m10-3h0m2 1h0m14-3h0m100 7h0m-350 11h0m3-8h0m3 2h0m0 1h0m12 4h0m1 2h0m1-6h0m8 2h0m0 2h0m1-2h0m4-2h0m0 5h0m11-7h0m0 1h0m0 3h0m1 0h0m1 1h0m6-2h0m1 1h0m3 3h0m1-5h0m7 5h0m1-2h0m5-1h0m26 0h0m64 2h0m180-2h0m13-4h0m-349 10h0m10 1h0m1-1h0m9 2h0m2 3h0m1-4h0m2 6h0m3-4h0m2-4h0m0 6h0m0 2h0m3-1h0m0 2h0m1-2h0m4-7h0m0 7h0m2-6h0m1 4h0m0 1h0m1 1h0m1-1h0m1-4h0m1 5h0m1-1h0m2-3h0m1 2h0m2-3h0m2 2h0m0 5h0m4-3h0m3 0h0m0 3h0m5-4h0m3 3h0m70-8h0m6 4h0m70 0h0m124 2h0m13-6h0m3 4h0m1 1h0m-349 11h0m3 2h0m3-6h0m1 5h0m2-5h0m3 3h0m0 1h0m2-5h0m2 1h0m1 7h0m1-9h0m0 8h0m1 0h0m1-2h0m1-6h0m1 7h0m3-7h0m0 4h0m1-3h0m0 3h0m1 0h0m1-2h0m0 7h0m1-9h0m1 6h0m1-5h0m3 3h0m2-3h0m0 3h0m2 2h0m1-3h0m1 3h0m1-5h0m0 6h0m2-1h0m1 0h0m3 3h0m4-7h0m3 0h0m3 7h0m7-7h0m4 1h0m10-3h0m1 0h0m59 8h0m2 1h0m198-4h0m-379 14h0m12-5h0m24 2h0m16-5h0m2 5h0m12-2h0m0 1h0m2-1h0m6-4h0m0 4h0m2 5h0m2-2h0m0 1h0m0 1h0m1-4h0m2 4h0m3-5h0m4 0h0m8-2h0m1 2h0m1 4h0m4-3h0m9-4h0m264 2h0m-327 11h0m4 2h0m14-2h0m14 2h0m6-3h0m1 6h0m3-5h0m4-4h0m11 1h0m6 6h0m112-7h0m-247 13h0m85 5h0m16 0h0m27-4h0m8-2h0" stroke="#9dd0ba" stroke-width="6.2"/>
<path d="M949 341h0m-1 13h0m3 1h0m5 0h0m2 3h0m0 1h0m2 2h0m-19 17h0m-228 61h0m104-4h0m-98 12h0m1-3h0m1 5h0m3-1h0m8-2h0m6-5h0m86 3h0m1-3h0m2 8h0m13 0h0m7-6h0m249 4h0m-397 6h0m24 1h0m2-1h0m10 5h0m85-3h0m6-5h0m1 7h0m4 0h0m6-4h0m1-1h0m6-2h0m4 2h0m3 7h0m184-7h0m18 0h0m2 4h0m5-4h0m12 0h0m4 7h0m14-9h0m4 7h0m10-4h0m-371 13h0m3 2h0m37-2h0m37-1h0m1 1h0m10-3h0m12 6h0m2-7h0m2 0h0m2-2h0m2 1h0m2-1h0m5 6h0m196 1h0m25 1h0m8-3h0m2-4h0m8 8h0m17-2h0m-378 3h0m5 0h0m3 3h0m21 4h0m7 0h0m7 0h0m9 0h0m2-1h0m4-5h0m1 4h0m0 4h0m3-5h0m1-2h0m7 2h0m2-4h0m14 8h0m9-2h0m5-4h0m10 2h0m8 3h0m3-3h0m6-1h0m15 5h0m23 0h0m35 0h0m12-2h0m2 3h0m23 0h0m6-8h0m54 2h0m31-3h0m6 3h0m16 2h0m2 0h0m21-2h0m-324 7h0m0 4h0m25 2h0m9-5h0m5 1h0m1-1h0m0 5h0m21-5h0m1 7h0m26 1h0m3-6h0m75 0h0m12 4h0m28-5h0m6 4h0m3 3h0m14-5h0m15-2h0m0 6h0m18-1h0m4-4h0m0 5h0m43 0h0m18-3h0m12 2h0m-369 8h0m3 2h0m15-3h0m1 0h0m36 0h0m36 1h0m19 2h0m11-5h0m0 3h0m16 4h0m23 0h0m13 0h0m36-9h0m3 8h0m8-7h0m5 8h0m6 0h0m5-1h0m5-1h0m2-2h0m45 3h0m6 0h0m2-8h0m2 6h0m21-4h0m27 5h0m-351 3h0m14 8h0m6-2h0m69 3h0m3-1h0m7-8h0m15 2h0m0 6h0m81-8h0m6 7h0m10-3h0m15 2h0m1-6h0m0 6h0m18 0h0m12-3h0m2 4h0m13-6h0m1 5h0m27-2h0m4-2h0m14 5h0m1 0h0m10 1h0m28-3h0m1-3h0m3 2h0m-371 11h0m10-3h0m5 3h0m8 4h0m1-8h0m4 7h0m4 1h0m11-1h0m58-4h0m20-2h0m3-2h0m0 5h0m24-4h0m3 6h0m16-7h0m24 0h0m22 3h0m26-3h0m3 8h0m4-5h0m3 4h0m7-2h0m2 4h0m10-4h0m22-3h0m22 2h0m5-3h0m17 5h0m23-5h0m33 4h0m4-2h0m6 2h0m1-2h0m-373 13h0m50-3h0m37 5h0m2-6h0m3 6h0m14-5h0m6 0h0m6 0h0m2 6h0m2 0h0m14-2h0m38-1h0m4-3h0m23-3h0m0 4h0m9 1h0m10 4h0m3-2h0m18 2h0m22-5h0m5 2h0m6-3h0m20-2h0m8 6h0m18 2h0m18-7h0m8 4h0m4 1h0m4-6h0m2-1h0m-396 16h0m3 2h0m9-5h0m1-1h0m15 4h0m3-2h0m2 1h0m2 1h0m1-4h0m0 7h0m1-7h0m0 3h0m0 2h0m8-4h0m13 4h0m19-7h0m14 3h0m24-3h0m0 6h0m8 3h0m3-2h0m1 0h0m29-6h0m2 6h0m12-1h0m1 0h0m12-4h0m25 3h0m2-3h0m1 5h0m19-2h0m4-4h0m13 6h0m12-5h0m3 7h0m1-3h0m4-4h0m18 3h0m30 1h0m37-3h0m0 1h0m56 1h0m6 1h0m0 2h0m11-6h0m-433 9h0m6 2h0m4 3h0m1-4h0m10 5h0m0 1h0m6-5h0m10 1h0m0 1h0m3 4h0m2 0h0m11-6h0m0 6h0m4-6h0m6-2h0m34 3h0m1 1h0m29-2h0m30 3h0m1 0h0m4-3h0m8-1h0m0 6h0m11-6h0m5 3h0m10 0h0m7-1h0m20-4h0m4 9h0m16-2h0m30 0h0m5-4h0m7 2h0m3 4h0m6-3h0m14-4h0m8 4h0m54-2h0m2 4h0m3 0h0m25-5h0m4 0h0m15 0h0m-410 9h0m1-1h0m2 6h0m2-1h0m8-2h0m2-1h0m0 5h0m3-4h0m3-4h0m0 6h0m4-1h0m0 1h0m7-3h0m1 1h0m3 4h0m4-7h0m6-1h0m7 5h0m13-3h0m29 3h0m2-3h0m54 3h0m15-2h0m3 3h0m7-2h0m3 3h0m4 1h0m3-1h0m4-3h0m3-2h0m4 5h0m14-2h0m11-1h0m2 4h0m15-6h0m43 3h0m11-1h0m1-1h0m31 1h0m3 1h0m5-2h0m14 2h0m18-2h0m14 4h0m4-3h0m0 2h0m24-4h0m13 5h0m2 1h0m3-6h0m-442 13h0m1 0h0m2-3h0m2-2h0m8 7h0m2-2h0m1 2h0m4 0h0m1-1h0m0 1h0m5-7h0m0 8h0m12-8h0m7 9h0m2-9h0m3 0h0m8 3h0m1 5h0m3-4h0m11 1h0m3 0h0m0 4h0m31-3h0m26-6h0m24 5h0m8 0h0m13 4h0m4-3h0m2-5h0m6 2h0m6 3h0m2-5h0m2 6h0m4-6h0m1-1h0m4 3h0m9 5h0m7-6h0m23 6h0m12-3h0m2-4h0m4 8h0m30-9h0m20 7h0m4-3h0m13 5h0m21-5h0m11 1h0m30-3h0m22 4h0m13-6h0m3 0h0m13 0h0m-455 15h0m1 4h0m8-2h0m4-1h0m57 2h0m3 1h0m2-9h0m2 4h0m5-2h0m2 5h0m5-2h0m26 2h0m17-5h0m12 0h0m41 7h0m15-9h0m1 3h0m9-3h0m9 5h0m2-5h0m14 3h0m3 0h0m11-1h0m46 4h0m1-1h0m38-4h0m9 0h0m5 7h0m3-8h0m9 9h0m9-4h0m0 1h0m38 0h0m-404 13h0m23 0h0m30-3h0m24-3h0m2 5h0m5-3h0m0 1h0m5 3h0m5-5h0m90-2h0m8 4h0m14-6h0m8 0h0m52 6h0m4-2h0m14 2h0m14 3h0m4-6h0m6 5h0m5 1h0m3-9h0m1 8h0m8-4h0m1 2h0m2-2h0m1 4h0m2 1h0m3-8h0m2 8h0m3-7h0m3 7h0m6-2h0m2-5h0m10 3h0m30 2h0m38-2h0m-428 13h0m14-3h0m5-5h0m8 9h0m39-1h0m31-7h0m1 7h0m9-1h0m2 2h0m1-4h0m2 0h0m2 2h0m38 2h0m59-8h0m8 1h0m36 4h0m15-5h0m3-1h0m6 4h0m5 4h0m4-5h0m0 6h0m4-2h0m9-5h0m11 4h0m0 3h0m2 0h0m1-5h0m0 1h0m4-1h0m7 2h0m1-1h0m1-5h0m1 1h0m4 3h0m0 1h0m2 3h0m2-7h0m11 1h0m0 4h0m6 3h0m19-8h0m-377 13h0m7-2h0m2 1h0m4 6h0m1-7h0m3-1h0m3 8h0m6-6h0m2 3h0m6 0h0m1-5h0m0 4h0m1 1h0m4-5h0m25 7h0m27 0h0m3-3h0m15-2h0m7 1h0m3-4h0m1 2h0m1 3h0m4-1h0m18 3h0m14-4h0m14 1h0m41 3h0m1-3h0m9-1h0m2 2h0m2-3h0m20 4h0m16 0h0m7-3h0m5 1h0m3 0h0m0 1h0m4 3h0m2-6h0m0 6h0m2-3h0m3 4h0m3-1h0m4-1h0m5-1h0m2 1h0m1-7h0m3 1h0m1 4h0m2 4h0m2-5h0m0 4h0m4-3h0m3 2h0m1-2h0m2-5h0m0 1h0m2 0h0m2 2h0m0 5h0m0 1h0m2-3h0m1-3h0m5-1h0m0 2h0m1-4h0m0 3h0m1-2h0m0 3h0m3 0h0m1 4h0m4-6h0m2 5h0m1 2h0m9-8h0m1 5h0m1 2h0m1 1h0m3-7h0m0 4h0m4 3h0m6 0h0m1-1h0m-344 5h0m11 5h0m39-1h0m23 1h0m30-8h0m48 4h0m2 2h0m5 3h0m5-5h0m0 4h0m2-7h0m0 2h0m2-1h0m1 0h0m4 2h0m2 3h0m2 0h0m15-5h0m38-1h0m10 0h0m5 4h0m6-4h0m0 5h0m4-1h0m1 1h0m2 2h0m3-5h0m2 1h0m0 5h0m1 0h0m5-9h0m0 4h0m2 4h0m2-2h0m1 2h0m3-1h0m0 2h0m1 0h0m2-8h0m2 1h0m2 3h0m2 1h0m2-4h0m2 6h0m1-7h0m2 5h0m1 0h0m5-2h0m17 4h0m3-4h0m3-4h0m20 9h0m3-7h0m4 6h0m5-4h0m0 5h0m34-3h0m-402 7h0m2 3h0m3-2h0m4-2h0m88 6h0m3-3h0m56 0h0m8-1h0m2-4h0m0 9h0m5-7h0m0 6h0m5 0h0m1-8h0m0 3h0m1 0h0m1-3h0m3 5h0m6 1h0m2-4h0m3-2h0m3 5h0m8-1h0m1-3h0m26 3h0m10 1h0m4-1h0m2-2h0m2 2h0m4-3h0m3 3h0m4 0h0m3 2h0m3-4h0m2 2h0m5 0h0m1 1h0m4 4h0m5-4h0m5-3h0m6 3h0m0 4h0m5-4h0m1-5h0m1 8h0m4 0h0m1 0h0m1-7h0m2 2h0m1 4h0m3-2h0m6-5h0m0 3h0m2 2h0m1-2h0m3 0h0m4 1h0m1-3h0m1 0h0m3 8h0m8 0h0m4-5h0m0 3h0m2-1h0m10-2h0m2-3h0m15 1h0m4 6h0m-371 6h0m88-4h0m4 9h0m2-7h0m4 3h0m1 2h0m3-6h0m6 5h0m3-1h0m0 1h0m5 0h0m3-3h0m0 5h0m11-5h0m3 0h0m16 5h0m7-4h0m1 5h0m5-6h0m1-1h0m0 2h0m1 0h0m1-2h0m3-1h0m1 0h0m1 0h0m0 5h0m1-2h0m3-4h0m0 5h0m0 2h0m1-1h0m4-1h0m3-4h0m3 1h0m0 6h0m2 1h0m5-7h0m2 1h0m1 0h0m52 0h0m1 0h0m18 4h0m2-6h0m0 2h0m1-1h0m7 7h0m6-1h0m6-5h0m0 2h0m6 2h0m1-2h0m6 2h0m5-7h0m3 9h0m1-2h0m7-2h0m3-5h0m16 0h0m10 0h0m33 9h0m7-7h0m-317 9h0m16 3h0m5-3h0m6 4h0m1-3h0m1 2h0m4 1h0m2 2h0m1 2h0m1-7h0m5 6h0m3 0h0m24-6h0m7 0h0m0 4h0m1 3h0m10-5h0m1 3h0m1-6h0m2-1h0m0 2h0m3 3h0m4 0h0m0 2h0m1-6h0m2 3h0m4 5h0m2-9h0m0 8h0m1-3h0m1-1h0m2-4h0m1 8h0m4 0h0m2-7h0m1 0h0m10 5h0m41 0h0m17-2h0m6 3h0m46-4h0m16 5h0m4-7h0m26 8h0m-288 9h0m9-6h0m3 6h0m1-6h0m5 6h0m4-2h0m4-1h0m1 4h0m3-7h0m1 1h0m2 4h0m4-4h0m2-2h0m0 4h0m2-5h0m0 7h0m2-5h0m2-1h0m3 5h0m5-4h0m9 4h0m17 3h0m4-5h0m5 0h0m0 4h0m2-6h0m0 3h0m4-1h0m1-1h0m1 3h0m2 0h0m1 1h0m1-4h0m1-1h0m0 6h0m2 1h0m2-9h0m1 6h0m3-2h0m1 2h0m1 3h0m1-5h0m0 2h0m1 2h0m2-7h0m2 1h0m4 7h0m1-1h0m2-6h0m0 5h0m13 1h0m93-6h0m33-1h0m10 4h0m3 2h0m-272 12h0m7-5h0m10-2h0m4 1h0m0 4h0m4-5h0m2 0h0m1 0h0m1-2h0m3 0h0m2 4h0m3-4h0m0 2h0m1 6h0m5-3h0m3 2h0m2-3h0m2-3h0m8-1h0m5 9h0m2-2h0m0 2h0m9-1h0m2-7h0m1 3h0m0 5h0m1 0h0m7-3h0m1-6h0m0 1h0m1 1h0m0 1h0m0 1h0m0 3h0m2 1h0m2-8h0m3 7h0m1-3h0m0 1h0m1-4h0m0 1h0m1 3h0m1-1h0m0 4h0m2-7h0m2 8h0m1-6h0m0 6h0m1-5h0m0 4h0m1-6h0m0 1h0m0 4h0m1-5h0m1-1h0m0 7h0m1-5h0m1-3h0m0 3h0m1 0h0m0 2h0m1-5h0m1 4h0m5 4h0m3 0h0m3-7h0m2 5h0m-134 13h0m9 0h0m1-1h0m6-6h0m4 2h0m1 2h0m5-1h0m0 4h0m2-5h0m4-4h0m0 5h0m2-3h0m0 3h0m1-2h0m0 3h0m1-5h0m1 6h0m1-6h0m3 1h0m4 3h0m4 2h0m5-5h0m16 1h0m3 2h0m9-2h0m3-3h0m0 5h0m3-1h0m0 2h0m0 3h0m2-6h0m1 1h0m2-2h0m0 5h0m4-5h0m1-2h0m0 7h0m1-5h0m3 2h0m0 2h0m0 3h0m1-8h0m0 6h0m3-5h0m0 3h0m1 0h0m1-3h0m0 4h0m1-5h0m1 4h0m3-1h0m0 1h0m1 3h0m3-4h0m4-3h0m3 7h0m3-8h0m0 5h0m0 3h0m5 1h0m2 0h0m2-5h0m2-4h0m-146 13h0m2 6h0m1-6h0m1 1h0m1 2h0m1 1h0m1 0h0m0 1h0m1-7h0m3 2h0m1-2h0m2 6h0m1-1h0m1-2h0m0 2h0m1-1h0m2-2h0m1-1h0m1-1h0m0 6h0m2 0h0m1-2h0m0 1h0m4-3h0m0 5h0m4-1h0m1-5h0m0 2h0m1-1h0m4 1h0m3 0h0m0 5h0m1-8h0m1 7h0m2-4h0m2 3h0m2-5h0m3-2h0m3 3h0m1 1h0m19-2h0m6 5h0m5-7h0m1 3h0m2 2h0m0 1h0m4-4h0m0 3h0m1-4h0m0 8h0m3-9h0m0 5h0m1-5h0m0 4h0m0 5h0m2-1h0m1-6h0m0 1h0m0 2h0m1-4h0m1 5h0m2-6h0m0 1h0m0 5h0m1-4h0m1 5h0m1-7h0m0 3h0m0 1h0m0 4h0m2-7h0m0 1h0m0 7h0m1-4h0m1-1h0m1 4h0m1-5h0m1-2h0m1 0h0m0 4h0m1-2h0m2 3h0m0 1h0m2 0h0m1 2h0m1-9h0m0 1h0m3 6h0m5-5h0m0 1h0m0 6h0m1-7h0m0 4h0m8-3h0m2 0h0m4 6h0m-147 3h0m10 7h0m1-5h0m3-3h0m0 3h0m1 2h0m0 2h0m1 1h0m2 0h0m1-1h0m1-3h0m1-4h0m0 1h0m1-1h0m2 3h0m3-3h0m0 7h0m1 0h0m1 0h0m1-6h0m0 5h0m1 0h0m1 0h0m1 0h0m1-2h0m0 3h0m1-6h0m0 4h0m3 2h0m3-8h0m0 3h0m3 2h0m1-3h0m6 6h0m33 0h0m2-8h0m0 5h0m3 2h0m4-6h0m0 2h0m1-3h0m0 6h0m1-5h0m1-1h0m0 2h0m1 1h0m1 2h0m1-1h0m1 4h0m1-5h0m0 2h0m2-5h0m0 9h0m1-2h0m1-5h0m0 6h0m3-1h0m1-4h0m0 1h0m1-3h0m1 3h0m1 2h0m3-3h0m0 1h0m0 2h0m2-5h0m1 2h0m0 5h0m1-7h0m0 1h0m1-1h0m1 5h0m3-4h0m1 0h0m0 2h0m0 2h0m2 0h0m1 2h0m5-8h0m3 9h0m7-8h0m1 4h0m-153 14h0m13-8h0m3 6h0m1-4h0m2-3h0m0 9h0m1-6h0m1 1h0m1-2h0m1-1h0m0 4h0m0 3h0m1-8h0m1 4h0m2 1h0m2-1h0m0 1h0m0 1h0m1-5h0m0 2h0m0 3h0m1 0h0m1-6h0m0 4h0m1 3h0m0 2h0m1-5h0m0 4h0m1-7h0m1 0h0m0 1h0m0 1h0m0 3h0m3 1h0m0 2h0m2-7h0m0 3h0m1-5h0m0 7h0m1-3h0m4-1h0m3-1h0m1 7h0m10-1h0m30-1h0m1-1h0m1-6h0m1 4h0m2-1h0m2 6h0m2-8h0m0 1h0m0 1h0m0 6h0m2-4h0m0 4h0m2-9h0m3 4h0m0 3h0m2-1h0m2-5h0m0 5h0m0 1h0m1 0h0m2 1h0m1-5h0m0 3h0m0 2h0m1-7h0m0 4h0m1-3h0m1 5h0m1 0h0m2-4h0m1 2h0m1-4h0m2 1h0m3 1h0m0 4h0m1-3h0m1-3h0m0 7h0m1-8h0m0 1h0m0 4h0m3-2h0m3 3h0m5-2h0m1 5h0m5-1h0m-153 2h0m3 2h0m7 6h0m6-6h0m1-2h0m5 8h0m3 0h0m3-7h0m1 6h0m1 0h0m3-3h0m1-4h0m1 1h0m0 1h0m0 2h0m1 0h0m1 0h0m3-3h0m2 2h0m0 2h0m2-3h0m1-1h0m2 7h0m14 1h0m22 0h0m7 0h0m1-2h0m2-3h0m1 5h0m1-9h0m0 7h0m2-3h0m7 4h0m5-8h0m0 4h0m0 5h0m1-8h0m0 3h0m1 4h0m2-7h0m1 7h0m2-7h0m0 3h0m2 0h0m0 3h0m1-6h0m0 7h0m1-3h0m1-1h0m1 4h0m1-7h0m2 0h0m0 5h0m2-3h0m0 6h0m4-5h0m1-1h0m3-1h0m1 2h0m0 2h0m1 1h0m1-5h0m0 1h0m1 0h0m0 4h0m1-6h0m3 6h0m2-2h0m2-3h0m5 3h0m-145 5h0m0 2h0m9 3h0m1-2h0m2 4h0m2 1h0m3-1h0m0 2h0m1-5h0m1-4h0m0 1h0m0 5h0m1-3h0m1-3h0m0 3h0m0 2h0m1-3h0m0 1h0m0 4h0m1-3h0m1 0h0m1-1h0m0 3h0m0 3h0m1-7h0m0 2h0m0 3h0m2-3h0m2 1h0m1-5h0m0 4h0m1-2h0m2-1h0m0 1h0m2 4h0m1-2h0m0 2h0m2-6h0m1 4h0m0 2h0m0 3h0m7-9h0m22 9h0m1-1h0m3-5h0m0 5h0m1-6h0m0 4h0m1-4h0m1 2h0m2-2h0m2-2h0m2 6h0m1-2h0m1-3h0m2 1h0m0 5h0m0 1h0m3-4h0m0 2h0m0 3h0m1-9h0m0 6h0m2-1h0m0 3h0m1-8h0m0 6h0m0 1h0m1-3h0m1-2h0m0 2h0m0 3h0m2-5h0m1 0h0m0 3h0m2 4h0m1-1h0m2-8h0m0 1h0m0 4h0m1 0h0m2 3h0m1-7h0m1 3h0m1 4h0m1-7h0m1 0h0m1 2h0m3 6h0m3-6h0m0 6h0m1-2h0m1-5h0m0 7h0m1-5h0m1-4h0m0 6h0m2 1h0m1 1h0m0 1h0m1-4h0m3 4h0m2-7h0m0 4h0m1-1h0m1-1h0m1-3h0m1 2h0m10-2h0m5 5h0m8-1h0m-173 10h0m12 0h0m10-1h0m2 3h0m1-6h0m0 6h0m0 1h0m0 1h0m1-1h0m1-7h0m1 0h0m0 1h0m1 3h0m2 0h0m0 3h0m1-8h0m2 3h0m1 3h0m2-5h0m1-1h0m0 1h0m0 5h0m0 3h0m1-9h0m0 1h0m1 7h0m5-1h0m0 2h0m1-4h0m0 2h0m1 2h0m1-2h0m1 0h0m1-6h0m1 1h0m1 1h0m6 1h0m1 1h0m8 2h0m15-7h0m0 6h0m2-6h0m0 9h0m1-5h0m1-4h0m1 6h0m1-4h0m1 2h0m1-3h0m2 2h0m0 5h0m1-6h0m1-2h0m1 0h0m0 3h0m1-1h0m1 4h0m0 2h0m2-6h0m1 6h0m1-4h0m1-2h0m3 1h0m0 4h0m1-6h0m0 3h0m0 2h0m1-4h0m0 3h0m1-3h0m1 5h0m2-6h0m0 3h0m4-4h0m0 4h0m0 2h0m1-4h0m1-1h0m0 1h0m0 2h0m0 3h0m1-4h0m2 2h0m0 2h0m2-2h0m1 1h0m1-2h0m2 4h0m2-4h0m0 4h0m1-3h0m1-5h0m0 1h0m3-1h0m0 1h0m0 8h0m1-3h0m1 0h0m2-5h0m2 7h0m1-6h0m1-1h0m1-1h0m1 3h0m3 4h0m5 1h0m1 1h0m1-5h0m0 2h0m2-3h0m-140 14h0m1-4h0m2 2h0m1 2h0m1-6h0m0 2h0m1-1h0m1-2h0m0 1h0m0 8h0m1 0h0m1-1h0m1-6h0m1 2h0m0 4h0m0 1h0m1-7h0m3 4h0m3 3h0m1-4h0m1 1h0m4 3h0m1-6h0m1 2h0m1 4h0m1-5h0m1 3h0m1-7h0m1 2h0m3-1h0m0 2h0m2-1h0m0 1h0m1 1h0m2-2h0m35 0h0m0 3h0m1-4h0m2 0h0m2 3h0m1 3h0m1-5h0m1-1h0m3 1h0m2-1h0m0 6h0m1-7h0m2 0h0m0 1h0m0 2h0m0 4h0m2-4h0m0 4h0m1-7h0m0 4h0m1-4h0m0 6h0m2-1h0m1 1h0m1-1h0m0 2h0m1-4h0m1-1h0m0 1h0m0 2h0m1-4h0m1 0h0m0 5h0m0 1h0m0 2h0m1-8h0m1 0h0m0 5h0m1-2h0m0 1h0m0 2h0m1-2h0m0 3h0m1-7h0m0 1h0m1 5h0m1-5h0m0 1h0m0 1h0m0 1h0m1 3h0m2 1h0m3-5h0m0 2h0m1-1h0m0 2h0m1 1h0m1-4h0m0 1h0m2 3h0m1-8h0m0 5h0m1-5h0m0 6h0m1 2h0m3-7h0m0 8h0m3-4h0m1 2h0m1-7h0m1 2h0m2-2h0m0 2h0m1 3h0m1 1h0m2 0h0m2-3h0m6 1h0m7-1h0m-158 8h0m3 4h0m0 1h0m2-5h0m1 4h0m1-2h0m1 0h0m0 1h0m0 2h0m2-5h0m1 8h0m3-9h0m0 2h0m0 3h0m1 3h0m1-4h0m0 2h0m1 1h0m1 2h0m1-3h0m0 1h0m0 1h0m1 0h0m1 0h0m1-7h0m0 3h0m1-3h0m0 3h0m1-2h0m0 1h0m1-3h0m0 3h0m0 4h0m1-4h0m1-3h0m0 7h0m1-4h0m0 5h0m2-6h0m3 4h0m1-1h0m1 0h0m1-5h0m0 2h0m0 4h0m4 3h0m5-1h0m0 1h0m5-8h0m5 5h0m4-3h0m1 3h0m16-3h0m1-2h0m0 1h0m4-2h0m6 7h0m1-1h0m1-4h0m3-2h0m0 8h0m2-6h0m0 7h0m2-4h0m1 0h0m3 2h0m0 1h0m2-3h0m1 1h0m1-6h0m2 0h0m0 2h0m0 7h0m1 0h0m1-2h0m0 2h0m2-8h0m0 5h0m0 1h0m0 2h0m1-5h0m1-2h0m0 6h0m0 1h0m1-4h0m0 1h0m0 1h0m0 1h0m0 1h0m1-5h0m0 2h0m0 1h0m1-4h0m1 0h0m1-3h0m0 1h0m1 4h0m0 2h0m1-6h0m0 6h0m1-6h0m1 0h0m1 1h0m3 4h0m1-5h0m4 6h0m1-6h0m1 6h0m1 2h0m3-2h0m1-6h0m16 4h0m6-2h0m8-2h0m-184 10h0m26 3h0m1-3h0m1 1h0m0 2h0m2-1h0m1-1h0m0 1h0m0 5h0m1-8h0m0 1h0m0 1h0m0 3h0m0 2h0m1-4h0m0 1h0m1-3h0m0 5h0m1-6h0m2 0h0m0 4h0m0 3h0m0 1h0m1-5h0m0 3h0m1-6h0m0 4h0m0 3h0m0 1h0m1-7h0m1 0h0m0 4h0m0 1h0m1 0h0m2-6h0m0 8h0m0 1h0m1 0h0m1-1h0m0 1h0m1-4h0m0 2h0m1 1h0m9 1h0m3-2h0m5-3h0m6-4h0m13 5h0m1 0h0m0 2h0m2-7h0m0 9h0m1-4h0m1 0h0m1-3h0m0 7h0m1-5h0m1-4h0m0 4h0m4 4h0m3-2h0m1-5h0m0 5h0m1-3h0m0 6h0m1-5h0m1 1h0m0 1h0m2 1h0m2-3h0m0 4h0m3-8h0m0 7h0m0 2h0m2-5h0m0 1h0m0 2h0m1-6h0m0 5h0m1-3h0m2-3h0m1 4h0m0 1h0m0 2h0m1-3h0m1 4h0m1-7h0m0 4h0m0 3h0m1-8h0m0 2h0m1-2h0m0 1h0m0 6h0m0 1h0m1-4h0m0 2h0m1-5h0m0 2h0m0 2h0m0 4h0m1-7h0m0 2h0m0 5h0m1-9h0m0 2h0m0 1h0m0 1h0m0 4h0m0 1h0m1-5h0m0 1h0m0 2h0m0 2h0m1-7h0m0 3h0m1-4h0m0 2h0m0 2h0m1-3h0m1 0h0m0 2h0m0 2h0m0 1h0m1-7h0m0 5h0m2-4h0m0 2h0m0 2h0m1 1h0m1-4h0m1 3h0m2-4h0m0 7h0m1-4h0m0 5h0m1-5h0m0 4h0m1-7h0m1 2h0m0 1h0m1 3h0m0 2h0m1-8h0m0 4h0m1-5h0m0 6h0m0 2h0m1-2h0m0 2h0m1-2h0m0 2h0m1-6h0m0 7h0m2-1h0m1 0h0m1-8h0m0 7h0m0 1h0m2-4h0m1 3h0m4 1h0m2-8h0m2 1h0m10 7h0m84 1h0m4-1h0m0 1h0m5-3h0m-311 13h0m6 0h0m14-6h0m0 3h0m3-6h0m1 9h0m10-1h0m3-2h0m2-4h0m0 1h0m2-1h0m1 6h0m7-8h0m3 4h0m4 3h0m1-1h0m6 1h0m1-1h0m5 3h0m1-3h0m1 0h0m2-3h0m0 3h0m0 2h0m2 0h0m1 1h0m4-7h0m0 4h0m0 1h0m2-7h0m0 3h0m0 3h0m1-4h0m1 1h0m0 1h0m2-2h0m0 2h0m0 1h0m1-4h0m0 1h0m1 5h0m1-5h0m2 6h0m2-2h0m1-6h0m1 6h0m0 1h0m2-7h0m4 0h0m2 4h0m1 5h0m1-9h0m0 6h0m2-4h0m0 7h0m2 0h0m1-5h0m1 1h0m4 1h0m9-3h0m0 6h0m1-8h0m3-1h0m0 3h0m1-2h0m2 7h0m1-2h0m0 1h0m1-7h0m0 4h0m1 5h0m1-8h0m0 2h0m0 1h0m1 0h0m0 4h0m1-5h0m4-3h0m1 2h0m0 4h0m0 3h0m1-2h0m1-5h0m1 3h0m1 2h0m1 2h0m1-7h0m1 4h0m0 2h0m1-3h0m1-5h0m1 0h0m0 1h0m0 7h0m1-8h0m0 5h0m2-2h0m0 3h0m0 1h0m1-6h0m0 3h0m0 2h0m0 1h0m0 2h0m1-6h0m1-3h0m1 6h0m1-4h0m0 1h0m0 1h0m0 1h0m1 0h0m0 3h0m1-8h0m0 3h0m1 6h0m1-6h0m0 4h0m1-3h0m0 2h0m0 2h0m1-3h0m0 1h0m1-1h0m1-5h0m0 2h0m0 7h0m1-9h0m0 1h0m0 1h0m1-1h0m0 1h0m0 6h0m1-4h0m0 1h0m0 2h0m0 2h0m1-8h0m0 2h0m0 1h0m0 1h0m1-3h0m0 2h0m0 1h0m0 4h0m1-7h0m1 0h0m0 1h0m0 2h0m0 2h0m1-6h0m0 3h0m0 2h0m0 2h0m1-7h0m0 3h0m0 5h0m1-5h0m0 1h0m0 3h0m1-2h0m1-6h0m1 1h0m1 1h0m0 3h0m0 4h0m1-9h0m0 4h0m0 2h0m0 2h0m0 1h0m1-4h0m0 1h0m0 1h0m0 1h0m1-7h0m0 1h0m0 4h0m1-5h0m0 6h0m1-7h0m0 2h0m0 1h0m0 4h0m1-7h0m0 3h0m0 3h0m0 1h0m0 2h0m1-9h0m0 1h0m0 3h0m0 2h0m1-5h0m0 2h0m1-3h0m0 1h0m0 3h0m0 3h0m1-2h0m1 0h0m1-3h0m0 1h0m0 1h0m0 1h0m0 1h0m1 2h0m0 1h0m3-6h0m0 3h0m0 1h0m1-1h0m0 2h0m1-5h0m0 5h0m2-2h0m0 1h0m1 1h0m1-4h0m2 0h0m1-4h0m0 5h0m1-5h0m2 2h0m3 2h0m3-3h0m3 0h0m82 8h0m1-2h0m2-4h0m1 2h0m-317 6h0m3 4h0m6-3h0m0 6h0m4-4h0m1 4h0m3-4h0m5 4h0m2-3h0m1-4h0m0 3h0m1 0h0m1-1h0m3 1h0m2 0h0m5 4h0m2-5h0m3-3h0m2 5h0m1 2h0m4-7h0m0 8h0m2-7h0m0 2h0m5-3h0m1 8h0m1-3h0m1-4h0m0 7h0m2-1h0m1-4h0m1 1h0m4-3h0m2 4h0m2-4h0m3 7h0m1-5h0m0 1h0m0 1h0m2 0h0m3 0h0m1 0h0m0 2h0m0 1h0m1-3h0m1-2h0m0 6h0m1-8h0m1 2h0m1 2h0m0 1h0m0 2h0m1-8h0m0 4h0m0 5h0m1-6h0m1-1h0m1-2h0m0 1h0m0 3h0m2 2h0m1 2h0m1-6h0m3 1h0m0 1h0m1 2h0m0 1h0m1 0h0m1-5h0m0 7h0m1-3h0m1 3h0m2-6h0m0 1h0m0 5h0m1-1h0m1-6h0m0 2h0m1-2h0m4 0h0m3 7h0m3 0h0m2-7h0m2 5h0m2-3h0m0 1h0m0 4h0m1-6h0m1 3h0m2 2h0m1-2h0m1-2h0m2-1h0m0 3h0m4-5h0m2 5h0m1-1h0m1 3h0m0 1h0m2 0h0m2-2h0m2-4h0m1-3h0m1 2h0m0 2h0m0 3h0m1-6h0m0 6h0m1-7h0m2 3h0m0 1h0m2 3h0m0 1h0m1-7h0m0 1h0m1 6h0m1-8h0m1 0h0m0 1h0m0 2h0m1 3h0m3-3h0m0 3h0m0 3h0m1-8h0m0 8h0m1-6h0m1-1h0m1 6h0m0 1h0m1-4h0m0 1h0m0 1h0m1-7h0m0 5h0m1-1h0m0 2h0m1-2h0m0 3h0m1-6h0m0 3h0m0 5h0m1-9h0m1 0h0m0 1h0m0 2h0m0 1h0m1-4h0m0 2h0m0 1h0m1 2h0m0 3h0m1-1h0m1-6h0m0 7h0m1-3h0m0 1h0m0 2h0m1-7h0m0 2h0m0 1h0m0 2h0m0 2h0m1-6h0m1 3h0m0 3h0m1-2h0m1-6h0m0 3h0m0 2h0m0 1h0m0 2h0m1-8h0m0 3h0m1 1h0m0 3h0m1-7h0m1 1h0m0 4h0m0 1h0m1-2h0m0 3h0m0 1h0m1-8h0m0 3h0m0 1h0m2-4h0m0 4h0m0 4h0m1-7h0m0 2h0m0 1h0m0 1h0m0 1h0m1-5h0m0 3h0m0 3h0m0 1h0m1-5h0m0 1h0m0 2h0m0 1h0m0 2h0m1-1h0m1-8h0m0 4h0m0 3h0m0 2h0m1-7h0m0 2h0m1-2h0m0 2h0m1-2h0m1 4h0m0 1h0m0 1h0m1-6h0m0 1h0m0 1h0m1 0h0m0 3h0m0 1h0m1-6h0m0 3h0m0 2h0m1-3h0m0 4h0m1-7h0m1-1h0m0 3h0m0 4h0m1-5h0m2-1h0m0 3h0m0 1h0m0 1h0m1-5h0m0 5h0m0 3h0m1 0h0m1-5h0m1 1h0m1-3h0m0 3h0m1-4h0m0 6h0m1-4h0m1-1h0m2 0h0m0 4h0m3-6h0m2 4h0m1-4h0m0 6h0m3-3h0m15-3h0m61 5h0m-333 11h0m17-4h0m2 6h0m1-3h0m0 3h0m2-4h0m0 2h0m1 1h0m2-7h0m1 8h0m2-2h0m2-3h0m1-2h0m0 4h0m0 4h0m2-1h0m2-8h0m0 3h0m3 6h0m1-2h0m1-6h0m0 5h0m2 1h0m2-7h0m0 4h0m1-2h0m0 2h0m5-2h0m1 1h0m1 5h0m1-2h0m4-1h0m2 3h0m3-5h0m0 2h0m3-2h0m1 6h0m1-9h0m0 2h0m3 2h0m0 5h0m4 0h0m2-6h0m2 5h0m3 0h0m1-1h0m2-7h0m3 3h0m3 4h0m3-5h0m0 4h0m1-5h0m2-1h0m4 1h0m3 4h0m1-4h0m0 3h0m2 5h0m4-9h0m1 9h0m3-8h0m2 2h0m2-2h0m0 8h0m4-5h0m3 1h0m3 2h0m1-5h0m3 0h0m3 0h0m1 7h0m2 0h0m1-1h0m1-4h0m2-3h0m0 8h0m1-8h0m0 4h0m2-3h0m0 2h0m1-4h0m0 2h0m0 1h0m2 1h0m2-1h0m0 6h0m1-8h0m0 1h0m3 0h0m3 5h0m1-1h0m0 2h0m1-7h0m1 4h0m4 2h0m1-1h0m1-5h0m0 5h0m1-6h0m0 1h0m1 5h0m2-6h0m6 5h0m0 3h0m1-8h0m2 0h0m2 9h0m1-7h0m4-1h0m3 4h0m0 4h0m1-6h0m0 1h0m1 3h0m0 1h0m2-1h0m0 1h0m1 0h0m1-7h0m1-1h0m0 3h0m0 5h0m0 1h0m1-7h0m0 1h0m0 2h0m0 2h0m0 1h0m1-3h0m0 1h0m2 0h0m5-2h0m0 1h0m1-2h0m1-1h0m0 2h0m0 3h0m1-7h0m0 1h0m1 2h0m1-2h0m1 1h0m1 1h0m1-1h0m1-2h0m0 6h0m1-5h0m1 2h0m1-2h0m1 5h0m0 1h0m2-2h0m0 1h0m1 1h0m1-4h0m1-1h0m0 1h0m1-2h0m0 2h0m0 2h0m0 1h0m0 1h0m1-7h0m1 4h0m1-3h0m0 1h0m0 1h0m0 3h0m1-5h0m0 2h0m0 2h0m0 1h0m1-6h0m0 8h0m1-8h0m1 2h0m0 1h0m1 1h0m0 3h0m1-3h0m0 1h0m0 4h0m1-5h0m0 1h0m1-5h0m0 1h0m0 2h0m0 5h0m2-5h0m0 1h0m0 2h0m1-4h0m0 6h0m0 1h0m1-8h0m0 3h0m0 3h0m1-6h0m1 2h0m0 5h0m0 1h0m1-8h0m1 3h0m0 1h0m1 0h0m1-5h0m0 1h0m0 4h0m0 1h0m1 0h0m1-4h0m0 3h0m1 1h0m0 1h0m0 1h0m0 1h0m1-8h0m0 1h0m0 4h0m3-6h0m0 3h0m0 1h0m0 2h0m0 3h0m1-6h0m0 3h0m1 0h0m0 2h0m3 0h0m2-5h0m0 6h0m3-9h0m6 4h0m59-4h0m0 6h0m5 0h0m2-5h0m1 3h0m0 1h0m1 0h0m2-1h0m-328 13h0m2-5h0m3 0h0m1 6h0m1-1h0m2-6h0m3 6h0m0 2h0m1-5h0m0 1h0m1 2h0m0 2h0m1-9h0m2 6h0m2-2h0m0 1h0m3 3h0m2-3h0m2 1h0m0 1h0m4-6h0m0 4h0m0 1h0m0 2h0m2-4h0m3-3h0m0 8h0m2 0h0m3-4h0m2 2h0m2-6h0m3 1h0m1-2h0m1 5h0m0 4h0m2-8h0m4 7h0m1-8h0m10 6h0m1-4h0m0 3h0m5 3h0m1-8h0m0 5h0m1-5h0m0 5h0m3-4h0m1 8h0m4-5h0m0 2h0m1-1h0m0 3h0m2-8h0m0 4h0m0 5h0m6-6h0m1-1h0m1 0h0m0 6h0m2-4h0m0 4h0m3-6h0m0 4h0m0 3h0m7-8h0m0 8h0m6-1h0m2-8h0m1 2h0m1 2h0m1 2h0m1 1h0m2-3h0m0 1h0m1-2h0m2 4h0m1-7h0m1 0h0m1 5h0m2-2h0m0 5h0m1 0h0m1 0h0m1-2h0m2-1h0m5-5h0m1 8h0m1-2h0m2-6h0m0 6h0m1 0h0m3-3h0m0 2h0m0 1h0m0 1h0m2 1h0m1-7h0m0 6h0m1 2h0m3-9h0m1 8h0m1-4h0m0 3h0m2-5h0m1 5h0m0 1h0m1 1h0m1-5h0m0 1h0m0 2h0m3-5h0m3-2h0m2 0h0m0 4h0m3-3h0m1-1h0m1 1h0m0 6h0m1-6h0m4 8h0m1-8h0m0 7h0m2-4h0m1-1h0m0 4h0m0 1h0m3-7h0m3 0h0m0 5h0m3-4h0m0 7h0m1-9h0m0 4h0m0 1h0m0 2h0m1-5h0m0 1h0m1 0h0m0 1h0m0 1h0m1 0h0m1-1h0m1 2h0m0 3h0m1-3h0m1-3h0m1-2h0m0 3h0m1-4h0m0 2h0m1-2h0m1 1h0m0 2h0m1-3h0m1 9h0m1-1h0m0 1h0m1-5h0m1-4h0m0 9h0m1-9h0m0 4h0m0 4h0m3-7h0m0 1h0m1-2h0m1 0h0m0 1h0m0 8h0m1-6h0m0 5h0m1-4h0m0 5h0m1-4h0m0 4h0m1-9h0m0 1h0m0 5h0m0 3h0m1-5h0m0 4h0m1 0h0m2-6h0m0 5h0m1-3h0m1-2h0m0 3h0m0 2h0m1-7h0m2 1h0m1 1h0m0 1h0m2 3h0m1 2h0m1-4h0m1-3h0m0 4h0m1 0h0m0 4h0m1-5h0m0 1h0m0 3h0m1-4h0m1-4h0m0 1h0m0 1h0m0 3h0m0 1h0m2-5h0m0 5h0m0 1h0m2-7h0m0 4h0m1-3h0m0 1h0m0 3h0m1-5h0m1 0h0m0 3h0m1-2h0m0 5h0m1-4h0m1 0h0m1 3h0m0 1h0m0 1h0m1 2h0m1-6h0m0 1h0m0 1h0m0 1h0m0 1h0m1-2h0m2 3h0m1-4h0m1 4h0m2-8h0m0 1h0m0 3h0m5 4h0m1 1h0m3 0h0m1-1h0m1 1h0m2-6h0m1 5h0m2-5h0m35 6h0m7-2h0m-318 3h0m1 5h0m6-2h0m2-2h0m1 2h0m1 6h0m2-8h0m0 8h0m2-8h0m0 3h0m0 1h0m2-2h0m0 1h0m0 2h0m1-6h0m0 2h0m1-2h0m1 2h0m0 4h0m1-5h0m2 0h0m0 7h0m0 1h0m2-9h0m1 9h0m1 0h0m1-4h0m2-4h0m2 5h0m1-5h0m1-1h0m1 4h0m3 4h0m1-1h0m3-7h0m0 7h0m1-3h0m0 2h0m3-4h0m1 0h0m3 0h0m1 3h0m1 1h0m1-5h0m1 2h0m1 4h0m1-3h0m0 4h0m2-5h0m0 2h0m5-5h0m2 4h0m2-3h0m1 8h0m1 0h0m3-7h0m2 4h0m0 2h0m2-7h0m3-1h0m1 4h0m1-2h0m6-2h0m0 9h0m2-6h0m1 2h0m1-4h0m0 6h0m3 0h0m1-3h0m1 5h0m3-5h0m0 4h0m1-1h0m1-6h0m1-1h0m0 1h0m1 2h0m1 0h0m0 3h0m0 2h0m0 1h0m2-1h0m1 0h0m1-4h0m0 2h0m0 2h0m4-5h0m2-3h0m0 2h0m2-2h0m0 3h0m0 1h0m2 3h0m1-7h0m2 5h0m0 3h0m3-2h0m0 1h0m1-5h0m2-1h0m0 2h0m1 0h0m1 1h0m1-1h0m1-1h0m0 4h0m1 1h0m1-6h0m0 1h0m1 0h0m0 5h0m1-4h0m0 2h0m0 2h0m1 0h0m1-2h0m1-4h0m0 4h0m1-2h0m0 1h0m2 5h0m1-6h0m1-1h0m2 0h0m2 5h0m1-4h0m0 3h0m4-6h0m1 2h0m0 2h0m1 4h0m1-6h0m0 3h0m1 0h0m1-3h0m0 5h0m1 1h0m1-6h0m0 1h0m1-1h0m0 3h0m1 0h0m1 0h0m0 1h0m1-3h0m0 4h0m1-1h0m2-3h0m0 2h0m0 3h0m2-1h0m1 2h0m1-8h0m0 1h0m1 0h0m0 1h0m2 0h0m1 6h0m1-8h0m2-1h0m1 4h0m2-4h0m0 2h0m0 2h0m1 4h0m1-2h0m1-3h0m1 0h0m0 4h0m3-3h0m0 1h0m1 4h0m1 0h0m2 0h0m1-8h0m2 1h0m1 0h0m0 4h0m1-3h0m1 1h0m1-4h0m1 0h0m0 9h0m2-1h0m3 0h0m0 1h0m1-1h0m3-6h0m0 3h0m1 2h0m3-5h0m2 3h0m1-2h0m1-3h0m2 5h0m1-5h0m0 1h0m0 7h0m1-8h0m2 3h0m2-1h0m1-2h0m0 7h0m0 1h0m0 1h0m4-9h0m0 5h0m0 2h0m2-6h0m1 1h0m0 5h0m0 1h0m1-5h0m1 1h0m0 4h0m1-7h0m0 5h0m1-3h0m0 1h0m1-3h0m1-1h0m0 6h0m1 0h0m0 3h0m1-8h0m0 5h0m3-5h0m1 0h0m0 1h0m0 6h0m1-4h0m1-4h0m0 2h0m0 6h0m1-8h0m0 7h0m1 1h0m2-1h0m3 2h0m1-5h0m0 3h0m2-7h0m0 6h0m1-1h0m1-2h0m1-3h0m0 8h0m2-6h0m3 3h0m1-3h0m1 2h0m0 2h0m3-3h0m0 4h0m1-3h0m1-4h0m0 3h0m2-3h0m0 3h0m2 6h0m1-3h0m2-3h0m1-3h0m2 8h0m7-6h0m18 4h0m3 2h0m4-3h0m0 3h0m3-4h0m2-3h0m1-1h0m2 2h0m1 3h0m-312 8h0m0 6h0m1 0h0m2-4h0m0 4h0m3-2h0m1-4h0m2 4h0m0 2h0m1 0h0m1-3h0m1-4h0m0 3h0m2 4h0m1-7h0m2-1h0m0 1h0m0 1h0m2-2h0m0 1h0m2 7h0m6-2h0m2-2h0m3-4h0m5 5h0m1-4h0m0 1h0m0 4h0m3-5h0m2 7h0m7-2h0m2-2h0m1-3h0m1 0h0m1 1h0m1-1h0m1 1h0m4 0h0m4 3h0m1 1h0m2-7h0m0 3h0m0 2h0m3 0h0m3-2h0m1-3h0m0 6h0m7-5h0m0 1h0m1 3h0m4 0h0m5-3h0m4 3h0m1 2h0m1-6h0m1 2h0m2 2h0m1 2h0m2-2h0m0 2h0m0 2h0m5-1h0m1-7h0m1 0h0m1 8h0m2-3h0m1-4h0m3 2h0m1 5h0m1-4h0m1-3h0m0 6h0m1-8h0m0 2h0m1 3h0m0 1h0m3-6h0m1 7h0m1-7h0m0 1h0m0 8h0m2-7h0m1 2h0m1-2h0m1-2h0m4 7h0m0 1h0m1-3h0m1 2h0m2-5h0m0 1h0m0 4h0m0 2h0m1-4h0m0 1h0m2-6h0m0 6h0m1-5h0m1 0h0m0 3h0m0 5h0m2-5h0m0 3h0m2-5h0m0 3h0m2-2h0m1-3h0m5 6h0m1 0h0m2 1h0m1 0h0m1-1h0m1-6h0m0 2h0m1 7h0m1-9h0m1 9h0m1-4h0m0 4h0m1-6h0m3-3h0m0 3h0m2-2h0m0 6h0m2-6h0m1 8h0m1-2h0m1-2h0m1 1h0m1-1h0m2-5h0m1 0h0m2 2h0m2 2h0m1-2h0m0 2h0m2 3h0m8 2h0m1-4h0m1-3h0m2 2h0m1-2h0m1 3h0m3 3h0m2-7h0m0 8h0m1-6h0m0 4h0m1-4h0m0 2h0m0 2h0m1-2h0m3-4h0m0 4h0m1-4h0m1-1h0m0 3h0m0 5h0m4-4h0m1 1h0m1-1h0m1-4h0m0 7h0m2-4h0m0 6h0m1-9h0m0 6h0m1 2h0m1-5h0m1 0h0m0 1h0m1-1h0m2 1h0m1 1h0m0 2h0m1-4h0m0 6h0m2-8h0m0 3h0m1-3h0m1 1h0m0 6h0m1-6h0m0 1h0m1 4h0m0 1h0m1-8h0m0 6h0m0 2h0m0 1h0m1-3h0m0 1h0m2-4h0m1-3h0m0 2h0m1 2h0m0 3h0m0 1h0m1-8h0m0 7h0m0 1h0m0 1h0m1-2h0m1-4h0m0 5h0m1-7h0m1 8h0m1-1h0m1-6h0m0 2h0m0 4h0m1-7h0m0 5h0m0 1h0m1-5h0m1 3h0m0 3h0m0 1h0m1-7h0m1 1h0m1 3h0m1-4h0m1 2h0m0 3h0m3 1h0m1 0h0m0 1h0m1-9h0m1 2h0m0 7h0m2-4h0m1 0h0m31-5h0m-315 17h0m8-7h0m0 6h0m2-3h0m1-1h0m1 2h0m2 3h0m1-3h0m2-1h0m1 6h0m5-5h0m1-1h0m0 2h0m1 0h0m0 1h0m1-6h0m0 7h0m2-2h0m2-4h0m2 7h0m1-5h0m1 0h0m1 4h0m0 1h0m1-2h0m1-6h0m2 7h0m0 2h0m4-8h0m0 2h0m12 0h0m2 1h0m11-4h0m2 4h0m7 0h0m3 1h0m1 2h0m3-4h0m2 1h0m1-3h0m0 2h0m0 3h0m2 2h0m5-8h0m0 1h0m3 8h0m1-3h0m1-6h0m1 8h0m4-7h0m3-1h0m0 4h0m2-4h0m3 8h0m1-4h0m2 0h0m0 4h0m1-8h0m2 0h0m1 4h0m0 3h0m1-2h0m1-5h0m0 7h0m0 2h0m1-3h0m2 0h0m1 2h0m1-7h0m0 2h0m1 0h0m1-2h0m0 7h0m1-8h0m1 4h0m1-2h0m1 4h0m0 3h0m2-4h0m1 2h0m1 0h0m0 1h0m1-8h0m0 3h0m3 6h0m1-7h0m2 1h0m0 4h0m1-4h0m2-2h0m0 2h0m1 1h0m0 4h0m1-8h0m0 6h0m0 3h0m1-1h0m1-3h0m3-2h0m1 2h0m1 2h0m1-6h0m4 4h0m1-4h0m2 6h0m1-4h0m1-3h0m0 7h0m2-3h0m1-3h0m0 4h0m2-5h0m0 3h0m0 2h0m1 0h0m1-4h0m0 8h0m1-6h0m0 5h0m1-8h0m0 6h0m2-5h0m1 1h0m0 4h0m4-1h0m0 2h0m1 0h0m1-7h0m0 4h0m1 0h0m1 0h0m1 0h0m2-4h0m0 4h0m1 1h0m2 3h0m2-6h0m1 3h0m2 3h0m2-7h0m0 3h0m1-3h0m4-1h0m0 4h0m0 1h0m1 2h0m2-5h0m0 1h0m1 5h0m1-6h0m2 6h0m8-2h0m0 3h0m1-8h0m0 3h0m1 1h0m1-4h0m1 1h0m1 4h0m1-6h0m3 1h0m2 0h0m1 2h0m1-3h0m0 5h0m3-1h0m0 3h0m0 1h0m3-7h0m0 1h0m0 4h0m1-3h0m1-3h0m1 0h0m1 0h0m1 3h0m0 3h0m2-5h0m1 3h0m1-2h0m0 2h0m0 4h0m3-5h0m0 2h0m1-4h0m0 7h0m1 1h0m1-3h0m0 1h0m1 0h0m1-6h0m0 8h0m1-8h0m0 3h0m0 3h0m0 1h0m1-6h0m0 1h0m0 6h0m5-8h0m0 4h0m1-3h0m0 1h0m0 3h0m1 2h0m2-1h0m0 1h0m1-3h0m2-1h0m0 3h0m0 1h0m1-7h0m0 1h0m0 3h0m1-3h0m1 4h0m0 1h0m0 1h0m1-1h0m3 2h0m1-5h0m0 1h0m1 0h0m0 1h0m1-3h0m0 1h0m2-3h0m1 8h0m2-7h0m0 5h0m2-6h0m0 6h0m1-5h0m6 5h0m2-6h0m3 1h0m-302 11h0m15-3h0m1 8h0m1-1h0m1-4h0m0 1h0m1 0h0m4 5h0m2-9h0m0 8h0m1-7h0m0 3h0m0 3h0m3-5h0m1 2h0m2-2h0m0 1h0m1-3h0m5 7h0m1 0h0m2-2h0m3-3h0m2 1h0m1-1h0m3 4h0m2 2h0m5-1h0m5-2h0m1-1h0m8 4h0m4 0h0m7-7h0m1 3h0m1-4h0m1 2h0m0 2h0m3 0h0m0 3h0m0 2h0m1-1h0m0 1h0m5-5h0m1-2h0m1 5h0m1 2h0m1-9h0m1 6h0m1 2h0m4-7h0m0 8h0m2-7h0m0 6h0m2-3h0m2-4h0m0 1h0m2-2h0m1 8h0m2-6h0m0 6h0m1-7h0m0 2h0m1-2h0m0 6h0m1-6h0m0 6h0m1 2h0m1-8h0m0 3h0m1-4h0m0 4h0m0 4h0m1 1h0m2-7h0m2 7h0m2-4h0m4 1h0m1 1h0m1-7h0m0 4h0m1 0h0m0 5h0m2-3h0m1 2h0m1-2h0m0 2h0m1-6h0m1 2h0m1 3h0m1 0h0m1-6h0m0 6h0m0 2h0m1-2h0m3 0h0m0 2h0m1-3h0m0 3h0m1-4h0m0 4h0m1-4h0m0 1h0m1 1h0m1-4h0m0 4h0m1-7h0m4 4h0m1 2h0m1-3h0m0 2h0m1 3h0m4-4h0m0 1h0m1-3h0m0 3h0m1-1h0m4-1h0m0 4h0m0 2h0m1-4h0m1-2h0m0 4h0m2 2h0m1-5h0m2 3h0m1-4h0m1-3h0m1 9h0m1-4h0m0 2h0m0 2h0m3-7h0m0 4h0m2-3h0m0 1h0m3-4h0m0 1h0m0 2h0m0 3h0m2 2h0m1-4h0m0 3h0m0 1h0m1-8h0m0 1h0m1 4h0m1-1h0m0 4h0m1-2h0m0 3h0m2-7h0m1 0h0m2 7h0m2-8h0m0 5h0m2-6h0m0 7h0m0 1h0m0 1h0m1-8h0m1 0h0m1 5h0m1-4h0m2 1h0m1-3h0m0 6h0m0 3h0m1-5h0m1 2h0m0 2h0m1-2h0m0 3h0m2-4h0m0 3h0m3 0h0m1-5h0m2 6h0m1-3h0m1 1h0m3 1h0m1 1h0m2-7h0m0 3h0m0 3h0m1-3h0m1 1h0m4-3h0m2 2h0m1-3h0m1-1h0m0 3h0m2-1h0m2 6h0m1 0h0m1-6h0m0 3h0m2 0h0m1-6h0m1 1h0m0 3h0m1-4h0m2 1h0m0 3h0m1 1h0m0 4h0m1-6h0m1-3h0m1 8h0m2-5h0m0 6h0m1-7h0m0 7h0m1-8h0m2 4h0m1-5h0m0 1h0m0 6h0m1 0h0m1-4h0m1-2h0m0 5h0m1-3h0m0 2h0m1 0h0m0 1h0m0 1h0m2-3h0m0 5h0m1-8h0m1-1h0m0 5h0m0 2h0m1-6h0m1-1h0m0 9h0m2-7h0m0 1h0m1-3h0m0 2h0m0 1h0m0 1h0m0 4h0m1-7h0m1 3h0m0 2h0m0 2h0m2 0h0m0 1h0m1-8h0m0 1h0m1 2h0m0 1h0m1-2h0m0 3h0m0 3h0m1-8h0m0 4h0m1-4h0m1 3h0m1-2h0m0 6h0m3-2h0m1-6h0m1 6h0m1 3h0m2-2h0m-289 11h0m10-1h0m1-3h0m0 3h0m3-2h0m2-3h0m1 1h0m0 5h0m1-2h0m2-1h0m0 3h0m3-7h0m2 2h0m0 1h0m1 1h0m1-2h0m1-3h0m0 5h0m5 3h0m1-5h0m1 1h0m1 5h0m1-5h0m3 3h0m0 1h0m1-5h0m1-2h0m3 2h0m2 6h0m1-4h0m1 4h0m3-7h0m0 5h0m1-7h0m1 2h0m3 3h0m1-4h0m0 8h0m3-1h0m1-2h0m2-6h0m2 3h0m2-2h0m0 7h0m3-4h0m1 0h0m1 0h0m1 1h0m0 2h0m1 0h0m1 1h0m4-4h0m2 0h0m4 3h0m2-2h0m0 1h0m0 3h0m4-6h0m1 4h0m0 2h0m2-9h0m0 1h0m0 1h0m0 7h0m1-6h0m0 1h0m1 1h0m0 4h0m2-3h0m1-3h0m0 5h0m2-5h0m1 3h0m1-6h0m3 3h0m0 3h0m1-1h0m0 2h0m2-6h0m1 3h0m0 3h0m1-7h0m1 8h0m1-2h0m2-1h0m0 2h0m3-2h0m0 4h0m2-2h0m2-4h0m1 0h0m1 2h0m0 3h0m2-6h0m0 3h0m1-1h0m0 5h0m1-8h0m0 3h0m0 3h0m3-7h0m0 9h0m1-5h0m2 2h0m1-6h0m1 0h0m0 9h0m1-5h0m0 1h0m0 2h0m0 2h0m1-7h0m0 1h0m1-2h0m0 1h0m0 6h0m1-8h0m0 4h0m0 5h0m1-7h0m0 5h0m1-1h0m1-3h0m1 5h0m2-2h0m1-6h0m0 2h0m2 3h0m1-5h0m1 1h0m0 1h0m0 1h0m0 1h0m1-2h0m0 1h0m0 5h0m1-4h0m1-4h0m0 2h0m0 4h0m1-5h0m0 5h0m0 1h0m0 2h0m2-5h0m0 1h0m3-5h0m1 2h0m0 6h0m1-7h0m0 1h0m0 7h0m2-7h0m1 1h0m1-1h0m0 2h0m0 3h0m2-7h0m2 0h0m1 0h0m1 3h0m0 3h0m1-6h0m1 0h0m2 2h0m0 6h0m1 0h0m0 1h0m1-2h0m0 1h0m1-3h0m1 2h0m1 0h0m0 1h0m1 0h0m2-4h0m0 2h0m1-1h0m0 2h0m3 0h0m2-2h0m1-3h0m0 6h0m1-8h0m1 2h0m1 4h0m2-4h0m0 2h0m0 2h0m1-4h0m0 4h0m0 1h0m1-7h0m0 9h0m2-5h0m1 4h0m6-6h0m0 1h0m4-3h0m0 1h0m2 2h0m0 1h0m1 1h0m1-3h0m1 7h0m2-3h0m3 0h0m3-6h0m1 6h0m1-3h0m1-3h0m2 4h0m1-3h0m0 8h0m1-5h0m0 2h0m1-6h0m0 5h0m2 2h0m1-7h0m1 7h0m1-7h0m0 2h0m1-2h0m0 1h0m0 4h0m1-1h0m3-3h0m0 5h0m0 3h0m1-6h0m0 1h0m0 2h0m2-5h0m2 3h0m0 1h0m4-4h0m0 3h0m1-4h0m2 1h0m0 2h0m1 0h0m1-3h0m0 1h0m1 2h0m2-2h0m0 6h0m0 1h0m1-6h0m0 1h0m1 5h0m1-3h0m1-5h0m1 0h0m0 1h0m0 1h0m1 1h0m3 1h0m2-3h0m1-1h0m2 0h0m0 1h0m1 5h0m3-1h0m2 0h0m0 4h0m1-9h0m1 6h0m0 3h0m1 0h0m2-4h0m1-5h0m8 4h0m5 0h0m-292 8h0m1 2h0m1-2h0m2 1h0m1-3h0m1 0h0m0 1h0m4 1h0m2 2h0m4-2h0m0 4h0m3-3h0m2 0h0m1-2h0m2 6h0m2 0h0m2 0h0m1-5h0m0 1h0m3 1h0m2 4h0m1-8h0m0 2h0m2 2h0m7 2h0m5-5h0m2 1h0m1 3h0m2-3h0m1 6h0m1-5h0m6-1h0m0 2h0m0 1h0m2-5h0m1 0h0m0 2h0m0 6h0m3-6h0m1-2h0m0 2h0m0 4h0m1 0h0m1-6h0m1 1h0m0 2h0m2 1h0m1-3h0m0 4h0m1 4h0m2-3h0m1-6h0m0 2h0m0 3h0m0 1h0m1 0h0m1 0h0m2-3h0m0 5h0m0 1h0m4-9h0m1 7h0m1 1h0m1-8h0m0 2h0m1 3h0m1-2h0m0 5h0m2-7h0m2 1h0m2 0h0m1 4h0m1-1h0m0 2h0m1-7h0m1 2h0m0 4h0m2-4h0m0 4h0m2-3h0m1 2h0m1 1h0m1-5h0m2-1h0m0 2h0m1 2h0m0 4h0m1-1h0m1-4h0m1 3h0m0 1h0m1 2h0m1-5h0m0 2h0m0 2h0m2-6h0m0 2h0m1 5h0m1-9h0m0 2h0m1 0h0m0 5h0m0 2h0m1-9h0m0 3h0m1 4h0m0 1h0m2 0h0m2-1h0m1-5h0m1 1h0m0 3h0m1-3h0m0 4h0m0 1h0m1-3h0m1-3h0m0 7h0m1 0h0m1-8h0m0 4h0m1-4h0m0 3h0m0 5h0m2-8h0m0 2h0m1-3h0m0 4h0m0 4h0m2-7h0m0 2h0m0 4h0m1-3h0m3 1h0m0 2h0m1 0h0m1-3h0m1-1h0m0 3h0m1 2h0m3-7h0m1 1h0m0 5h0m1-6h0m1 3h0m0 3h0m0 1h0m1-7h0m0 6h0m2-6h0m1 6h0m3-2h0m0 1h0m0 1h0m0 1h0m2-2h0m1 0h0m0 3h0m1-8h0m0 7h0m1-7h0m0 1h0m1 1h0m3-1h0m0 1h0m0 3h0m0 1h0m1-7h0m0 1h0m0 7h0m3-4h0m5-2h0m2 5h0m0 1h0m3-4h0m0 3h0m0 1h0m2-6h0m0 5h0m1-5h0m0 5h0m1-6h0m0 3h0m1-1h0m1 1h0m3-1h0m0 1h0m1-1h0m1 5h0m2-1h0m1 0h0m1-6h0m1 8h0m1 0h0m1-2h0m1 0h0m2 2h0m1-3h0m1 2h0m1-7h0m0 1h0m0 1h0m1 5h0m2-4h0m4 2h0m2-3h0m0 5h0m1-6h0m1-1h0m0 4h0m1 3h0m5 0h0m10-8h0m2 5h0m2 1h0m1-5h0m3 3h0m2-3h0m0 2h0m1 1h0m1 2h0m0 3h0m1-7h0m1 0h0m1-2h0m0 3h0m0 5h0m1 0h0m2-7h0m0 2h0m1 2h0m0 2h0m1-7h0m0 7h0m0 2h0m2-6h0m3 6h0m1-7h0m0 2h0m2 2h0m2-2h0m1 2h0m0 2h0m3-2h0m1-4h0m5 7h0m2-6h0m1-2h0m-279 14h0m4 3h0m5-6h0m0 2h0m1-2h0m1-1h0m0 4h0m0 2h0m10-5h0m2 3h0m1 1h0m0 1h0m0 2h0m1-7h0m1 4h0m3 0h0m1-3h0m1 0h0m3 3h0m2-2h0m0 3h0m0 2h0m2-3h0m5-4h0m2 5h0m2-3h0m0 2h0m3 2h0m7-7h0m1 1h0m2 5h0m1-2h0m1 1h0m1-5h0m0 2h0m0 5h0m5-8h0m1 8h0m1-6h0m2 6h0m1-4h0m1-3h0m5 3h0m0 1h0m0 3h0m1-1h0m3-1h0m1-1h0m4 0h0m2-2h0m0 3h0m1-3h0m0 1h0m0 4h0m2-6h0m1 4h0m0 3h0m1-3h0m2-1h0m1 2h0m2-7h0m1 6h0m1-6h0m0 2h0m0 2h0m2-1h0m0 5h0m2-7h0m2 2h0m0 4h0m1 0h0m0 2h0m1-2h0m1-1h0m1 1h0m1-4h0m1 0h0m1-1h0m1 5h0m0 1h0m1-3h0m0 2h0m0 2h0m2-9h0m1 5h0m0 4h0m1-7h0m0 2h0m0 5h0m1-8h0m0 3h0m0 4h0m1-8h0m1 7h0m1-7h0m0 1h0m0 5h0m0 1h0m1-2h0m1-4h0m0 4h0m1-3h0m0 7h0m1-2h0m2 1h0m1-7h0m2 2h0m0 1h0m1-4h0m0 4h0m0 4h0m0 1h0m1-2h0m1-4h0m0 5h0m2-8h0m0 1h0m0 7h0m1-6h0m0 5h0m1-5h0m0 3h0m0 1h0m0 1h0m3-7h0m2 6h0m1 1h0m1-2h0m0 3h0m0 1h0m1-3h0m3-6h0m0 3h0m0 5h0m1-8h0m0 9h0m1 0h0m2-3h0m1-3h0m0 6h0m1-5h0m0 4h0m1-1h0m0 2h0m1-1h0m1-3h0m0 2h0m1-4h0m1 1h0m0 2h0m2-5h0m1 0h0m0 2h0m0 2h0m0 1h0m0 1h0m1-6h0m0 8h0m1-4h0m0 1h0m2-3h0m1-1h0m0 3h0m1-3h0m0 2h0m1-2h0m0 2h0m0 3h0m1-4h0m1-2h0m0 4h0m1-4h0m1 7h0m1-3h0m1 2h0m0 1h0m2-3h0m0 2h0m2-4h0m1 5h0m1 0h0m1-6h0m2 4h0m0 2h0m4-3h0m0 1h0m1 0h0m1 3h0m1-4h0m0 3h0m3 1h0m1-1h0m1-4h0m1 0h0m1-4h0m0 3h0m2-1h0m0 2h0m0 2h0m1 2h0m2-6h0m1 0h0m2 6h0m2 1h0m1-5h0m0 4h0m2-5h0m1 0h0m0 3h0m0 3h0m1 0h0m2-8h0m2 4h0m3-5h0m1 4h0m0 5h0m2-4h0m1 0h0m0 4h0m2-5h0m2-2h0m1 7h0m1-5h0m2 1h0m1-4h0m1 4h0m2 3h0m1-8h0m2 7h0m0 2h0m9-6h0m0 2h0m0 1h0m1-2h0m4 4h0m3-8h0m0 9h0m1-8h0m1 0h0m1 5h0m5-3h0m0 3h0m5-4h0m0 2h0m8-4h0m0 3h0m1 3h0m5-4h0m-292 15h0m4-1h0m3 0h0m1-1h0m3-5h0m0 2h0m0 1h0m1 0h0m1 0h0m3 4h0m3 1h0m1-4h0m0 2h0m2 3h0m2-4h0m1 1h0m0 3h0m2-7h0m0 7h0m1-2h0m1-4h0m1 6h0m1-4h0m1-4h0m1 2h0m0 2h0m4-5h0m1 1h0m0 6h0m1 0h0m1-6h0m1 4h0m1-2h0m2 6h0m1-3h0m3 0h0m2-5h0m1 0h0m1 7h0m1-3h0m4 2h0m17-7h0m0 4h0m0 2h0m3-3h0m0 2h0m2-5h0m0 1h0m0 6h0m3-3h0m1-3h0m0 5h0m3 1h0m1-6h0m2 1h0m0 1h0m0 2h0m1 2h0m1-4h0m1 4h0m1 1h0m2-4h0m1 4h0m1 0h0m4 1h0m1-1h0m1-8h0m0 2h0m1 2h0m0 2h0m3 2h0m0 1h0m1-8h0m0 5h0m1-5h0m0 3h0m2 4h0m0 1h0m1-3h0m1-4h0m0 6h0m0 1h0m1-4h0m1-3h0m0 7h0m1-6h0m0 6h0m1-9h0m1 0h0m1 9h0m1-9h0m0 2h0m0 7h0m1-8h0m0 1h0m1 2h0m1 0h0m1 1h0m0 2h0m2 1h0m1-8h0m0 6h0m0 3h0m1-8h0m1 2h0m0 2h0m0 2h0m0 1h0m3-8h0m0 4h0m0 4h0m1-8h0m0 5h0m0 2h0m1-7h0m1 3h0m0 3h0m1-6h0m0 3h0m3 3h0m0 3h0m1-3h0m1-1h0m1 4h0m1-5h0m1-3h0m0 4h0m1 3h0m1-7h0m1 2h0m1 5h0m1-8h0m0 4h0m0 2h0m1-3h0m0 3h0m1-1h0m1-4h0m0 4h0m1 2h0m1-5h0m0 6h0m0 1h0m1-3h0m0 1h0m1-3h0m0 1h0m0 2h0m1-7h0m0 2h0m1 3h0m0 4h0m1 0h0m2-6h0m2 6h0m2-6h0m0 4h0m1-7h0m0 9h0m1-2h0m1-7h0m0 3h0m0 2h0m0 2h0m1 0h0m1-4h0m1 5h0m1-5h0m1 4h0m1-6h0m1 5h0m1-1h0m1 1h0m1-4h0m0 1h0m0 1h0m1 2h0m1-5h0m1-1h0m4 8h0m1 1h0m1-9h0m0 3h0m2-2h0m0 2h0m5-1h0m2-2h0m1 9h0m4-9h0m0 3h0m2-3h0m2 5h0m1-2h0m0 2h0m2-5h0m0 4h0m0 5h0m2-6h0m3 3h0m1-6h0m4 4h0m0 2h0m2 2h0m1-3h0m3-4h0m0 1h0m0 1h0m1 0h0m2 6h0m2-3h0m2-3h0m0 4h0m2 2h0m5-9h0m2 5h0m1 1h0m0 2h0m1 1h0m6-4h0m4 0h0m2 1h0m1-4h0m1 1h0m3 3h0m2-6h0m2 6h0m1 1h0m1-7h0m2 2h0m4-2h0m0 3h0m1 6h0m1-9h0m3 2h0m0 1h0m0 1h0m0 4h0m1-4h0m3-1h0m1 6h0m2-1h0m4-4h0m-280 14h0m1-7h0m2-1h0m1 4h0m1-4h0m4 3h0m1 4h0m0 2h0m2-2h0m1-5h0m0 1h0m4 3h0m6-3h0m0 3h0m5 0h0m1 1h0m1-4h0m0 5h0m3-8h0m2 1h0m0 6h0m5-2h0m2-3h0m5 0h0m5-2h0m8 2h0m7 2h0m1-2h0m1-2h0m4 6h0m3-6h0m0 6h0m2-3h0m0 3h0m0 1h0m2-3h0m0 3h0m1-7h0m3 5h0m0 2h0m1-7h0m0 4h0m4-1h0m1 4h0m1-4h0m0 5h0m1-2h0m2 1h0m1 0h0m1-2h0m2-5h0m0 3h0m0 2h0m1-3h0m1-2h0m2 0h0m0 9h0m1-7h0m4 4h0m1 2h0m1-6h0m0 2h0m1-3h0m1 4h0m1-1h0m0 3h0m1-4h0m0 2h0m0 1h0m1-6h0m1 0h0m0 7h0m1-1h0m0 3h0m1-8h0m0 7h0m2-6h0m1-1h0m0 2h0m0 5h0m1-8h0m0 4h0m1-4h0m0 4h0m0 1h0m1 1h0m0 2h0m2-8h0m0 2h0m1 0h0m0 7h0m1-8h0m0 5h0m0 1h0m1-7h0m0 3h0m0 2h0m0 3h0m1 1h0m1-7h0m0 1h0m0 2h0m0 2h0m1-5h0m0 2h0m2 0h0m0 1h0m1 2h0m2-7h0m1 3h0m1-2h0m0 7h0m1-7h0m0 3h0m1 0h0m0 3h0m0 2h0m2-9h0m0 3h0m1-2h0m2 6h0m0 2h0m1-9h0m0 3h0m0 1h0m0 4h0m1-8h0m1 0h0m0 3h0m0 4h0m1 0h0m1-4h0m0 1h0m0 2h0m0 1h0m1-5h0m0 3h0m0 1h0m1-3h0m2-2h0m0 1h0m1 1h0m0 4h0m0 1h0m3-2h0m0 2h0m5-5h0m2-1h0m0 3h0m1-3h0m0 3h0m1 2h0m1 2h0m2-5h0m0 5h0m1-4h0m0 1h0m1-5h0m0 3h0m5-4h0m0 1h0m0 3h0m2 5h0m2-2h0m5-2h0m1 1h0m1-3h0m0 6h0m3-5h0m1-3h0m0 2h0m2 2h0m1 2h0m0 1h0m1-5h0m0 4h0m0 2h0m1-3h0m1-5h0m0 1h0m0 4h0m0 1h0m3-5h0m1-2h0m0 1h0m0 1h0m4 0h0m1 1h0m0 1h0m0 3h0m4 2h0m1-9h0m0 7h0m2 2h0m1-8h0m1 6h0m1-6h0m0 2h0m1-3h0m0 2h0m1 4h0m0 1h0m1 1h0m5-7h0m0 5h0m1-4h0m2 0h0m3 2h0m1-3h0m1 2h0m1 0h0m2-1h0m1-1h0m2 7h0m1-1h0m1-2h0m2 3h0m2-6h0m2 5h0m1 1h0m0 1h0m7-1h0m1-2h0m0 3h0m1-2h0m3-2h0m3-3h0m1 0h0m1 4h0m3-2h0m7-4h0m0 2h0m3 6h0m6-6h0m-283 9h0m5 5h0m0 1h0m1-3h0m0 2h0m4 1h0m1-6h0m4 2h0m1 1h0m1-2h0m2 3h0m2 1h0m1-4h0m3 3h0m3-2h0m2-3h0m2 0h0m6 5h0m2 3h0m1-1h0m6-4h0m3-1h0m7 2h0m9-1h0m5 6h0m2-2h0m1-6h0m0 6h0m3 0h0m1-1h0m0 1h0m1-6h0m0 5h0m1 3h0m2-2h0m2-1h0m2-5h0m1 8h0m1-5h0m3-3h0m0 1h0m0 4h0m2 0h0m0 1h0m1-6h0m0 3h0m0 3h0m2-7h0m0 2h0m0 2h0m1-3h0m0 1h0m1-1h0m0 4h0m0 3h0m1 0h0m1-6h0m2 0h0m1 7h0m1-8h0m0 6h0m2-6h0m0 3h0m3-3h0m3 2h0m1-2h0m0 5h0m1 2h0m1 0h0m1-8h0m0 2h0m0 7h0m1-9h0m0 9h0m1-3h0m2-6h0m0 8h0m1-3h0m0 1h0m1-1h0m1-4h0m0 1h0m1 0h0m0 4h0m0 1h0m0 2h0m2-8h0m0 1h0m1 3h0m1 1h0m0 2h0m0 1h0m3-5h0m1-1h0m1 3h0m1-2h0m0 3h0m0 1h0m2-8h0m0 8h0m2-5h0m1-2h0m0 2h0m0 2h0m0 4h0m1-1h0m0 1h0m1-7h0m0 2h0m2 4h0m1-6h0m1 6h0m1-8h0m0 5h0m0 3h0m1-2h0m1 1h0m1 1h0m2-1h0m1-4h0m0 3h0m2-6h0m0 3h0m1-1h0m1-2h0m0 1h0m0 4h0m1-5h0m0 6h0m1-2h0m0 4h0m0 1h0m1-6h0m0 2h0m0 2h0m0 2h0m1-7h0m5 5h0m1-7h0m1 5h0m1-2h0m0 5h0m1-7h0m0 2h0m0 1h0m0 2h0m0 1h0m0 2h0m2-6h0m1 2h0m3 2h0m1-4h0m0 4h0m1-2h0m1-2h0m1 3h0m0 2h0m0 1h0m3-4h0m1 0h0m1 2h0m1-6h0m0 2h0m2 3h0m0 3h0m2-5h0m4 2h0m4-6h0m1 0h0m1 4h0m1 0h0m1-2h0m1 0h0m0 5h0m1-3h0m1-3h0m6 6h0m2 2h0m2 0h0m1-5h0m2 1h0m0 2h0m4-4h0m4-1h0m0 1h0m1-2h0m0 4h0m7 3h0m6-5h0m2 3h0m7 2h0m1 0h0m3-5h0m0 3h0m2-3h0m2 6h0m1-6h0m5-3h0m4 1h0m0 7h0m2-2h0m12-6h0m0 1h0m1-1h0m7 6h0m3-1h0m-294 6h0m9 4h0m3 2h0m2 2h0m2-6h0m0 3h0m3 2h0m6-8h0m1 8h0m2-2h0m2-1h0m2 1h0m1-5h0m1 1h0m2 1h0m2-3h0m15 7h0m7-1h0m6-2h0m5-2h0m3-2h0m6 1h0m0 5h0m1-2h0m3 0h0m3 5h0m1-6h0m1 0h0m1 6h0m4-9h0m2 8h0m0 1h0m3-1h0m1-7h0m0 6h0m6 0h0m1 0h0m1-5h0m0 2h0m1-1h0m3 4h0m1-2h0m0 4h0m2-2h0m1-6h0m0 2h0m2 4h0m0 1h0m1-4h0m1 1h0m1-2h0m0 3h0m0 3h0m1-5h0m2 2h0m0 2h0m0 1h0m1-1h0m0 1h0m1-8h0m2 7h0m1-3h0m1 4h0m4-9h0m0 1h0m0 5h0m0 1h0m1-7h0m2 2h0m0 5h0m2 1h0m2-8h0m0 5h0m1 0h0m1 2h0m1 0h0m1 0h0m0 1h0m0 1h0m1-5h0m1-4h0m1 5h0m0 4h0m1-4h0m0 4h0m1-9h0m1 8h0m1-7h0m1-1h0m1 1h0m0 3h0m1 0h0m0 1h0m1-3h0m2 1h0m0 2h0m0 1h0m0 1h0m1-3h0m0 1h0m0 1h0m0 1h0m2-5h0m1 3h0m0 4h0m1-8h0m0 1h0m0 4h0m0 2h0m1-7h0m1 3h0m2 0h0m0 1h0m0 1h0m2-1h0m0 1h0m2-4h0m0 6h0m1-7h0m2 0h0m0 7h0m1-5h0m0 1h0m0 1h0m2-4h0m1-1h0m1 1h0m0 8h0m5-9h0m0 7h0m2-7h0m0 5h0m1 4h0m1-2h0m1-1h0m1-3h0m1 4h0m1-6h0m0 8h0m1-5h0m0 5h0m1-1h0m3-5h0m1 1h0m1 4h0m2-7h0m0 4h0m1 0h0m0 1h0m4 0h0m0 3h0m2-8h0m0 2h0m1 2h0m0 2h0m3-4h0m1-2h0m0 3h0m2-1h0m1-2h0m0 1h0m0 1h0m0 3h0m1-6h0m0 8h0m3 0h0m1 0h0m2-1h0m0 2h0m1-4h0m1 1h0m1 0h0m1 2h0m1 0h0m2 1h0m3-4h0m2-3h0m1-1h0m1-1h0m1 1h0m2 5h0m1 1h0m0 2h0m2-1h0m1-1h0m0 2h0m3-2h0m3-1h0m1-6h0m3 0h0m0 4h0m2-4h0m1 4h0m0 1h0m2-4h0m0 2h0m0 4h0m1 1h0m2-7h0m1-1h0m0 4h0m2 2h0m2 2h0m1-5h0m1-1h0m2 2h0m1 4h0m1-8h0m2 4h0m4 3h0m6-4h0m0 1h0m-286 7h0m3 0h0m2 5h0m1-4h0m0 6h0m0 1h0m2-6h0m2-1h0m5 1h0m1 6h0m1-8h0m2-1h0m0 1h0m2 2h0m0 2h0m4 4h0m1-8h0m5 3h0m1 2h0m0 2h0m3-6h0m0 3h0m3 0h0m1-4h0m1 6h0m2-7h0m0 8h0m2 1h0m20-6h0m6 0h0m4 6h0m1-3h0m2-5h0m0 6h0m5-2h0m1-4h0m0 7h0m1-7h0m0 6h0m0 1h0m2-5h0m1 2h0m2 1h0m1 0h0m1-2h0m2-4h0m1 4h0m0 2h0m2 0h0m1-4h0m0 3h0m1-1h0m0 5h0m1-6h0m1 6h0m1 0h0m1 0h0m1-1h0m1 1h0m2-7h0m1-2h0m0 6h0m0 1h0m1-6h0m5 6h0m0 1h0m1-2h0m2-3h0m0 1h0m1 4h0m1-2h0m3-6h0m0 2h0m0 2h0m0 2h0m1-4h0m1 2h0m2-3h0m0 3h0m0 4h0m1 1h0m1-2h0m1-6h0m1 2h0m1-2h0m0 3h0m2-2h0m1 1h0m0 3h0m1-6h0m1 2h0m0 1h0m0 4h0m1-5h0m1-2h0m2 9h0m1-7h0m0 1h0m0 3h0m0 1h0m2-7h0m0 3h0m1-3h0m0 2h0m0 2h0m0 3h0m1-5h0m0 1h0m0 5h0m1-3h0m1-5h0m0 1h0m0 6h0m2-5h0m0 4h0m1-3h0m1-3h0m0 2h0m2 2h0m0 1h0m0 4h0m2-8h0m0 1h0m0 4h0m1 3h0m2-9h0m6 5h0m1-5h0m0 5h0m2 1h0m1-3h0m1-2h0m1 5h0m0 1h0m2-4h0m0 3h0m0 2h0m1-6h0m5-2h0m1 3h0m0 4h0m1-1h0m0 3h0m1-9h0m0 3h0m0 2h0m0 1h0m1-5h0m2 5h0m0 1h0m1-2h0m0 1h0m0 2h0m1-2h0m2-4h0m0 3h0m0 3h0m1-8h0m0 6h0m1-1h0m2-2h0m3 2h0m0 3h0m1 1h0m1-5h0m0 1h0m0 3h0m1-5h0m0 4h0m1-4h0m3-3h0m0 4h0m2 0h0m3-4h0m0 2h0m0 7h0m1-2h0m2-5h0m1-2h0m1 3h0m1 1h0m1-4h0m0 9h0m4-8h0m3 3h0m1 4h0m2-6h0m4 1h0m1-1h0m0 1h0m1-1h0m0 1h0m9 2h0m0 4h0m9-8h0m4 2h0m0 1h0m5 1h0m7-4h0m2 2h0m2 3h0m2 2h0m5-4h0m2-4h0m2 4h0m1 4h0m1-4h0m1-3h0m1-1h0m0 4h0m1 2h0m4-6h0m-296 19h0m1-3h0m1 3h0m5-6h0m0 1h0m2 2h0m1-3h0m0 2h0m4-4h0m3 1h0m2-1h0m1 1h0m0 1h0m0 2h0m0 3h0m3-3h0m1-4h0m1 2h0m0 3h0m0 1h0m6-3h0m1-4h0m0 3h0m0 6h0m7-9h0m4 4h0m1 4h0m3-2h0m1 0h0m1 3h0m1-1h0m0 1h0m4-4h0m2 1h0m15 3h0m1-2h0m4-1h0m4 1h0m12-5h0m2 1h0m1 2h0m0 1h0m1 1h0m0 2h0m1-3h0m4-5h0m1 8h0m3 0h0m1-9h0m0 9h0m1-1h0m2-2h0m2-1h0m1-4h0m0 2h0m0 1h0m1-1h0m1 6h0m4-9h0m2 0h0m0 4h0m1-3h0m3 4h0m1-5h0m0 1h0m1 6h0m5-7h0m1 5h0m0 3h0m1-1h0m2 0h0m2-2h0m2-2h0m0 2h0m0 1h0m1 1h0m4 2h0m1-9h0m1 3h0m0 5h0m1 0h0m2-1h0m1-7h0m0 3h0m0 5h0m1-1h0m1-5h0m2 1h0m0 3h0m1-4h0m0 5h0m0 2h0m2-9h0m1 2h0m0 7h0m2-5h0m2-3h0m0 2h0m0 6h0m1-9h0m1 5h0m1-5h0m3 9h0m1-1h0m1-4h0m0 3h0m0 2h0m2-5h0m1-1h0m0 3h0m0 2h0m0 1h0m1-9h0m0 5h0m1-5h0m2 3h0m1 0h0m0 2h0m1-1h0m3 2h0m3-6h0m1 1h0m1 5h0m1-3h0m1-1h0m0 2h0m0 4h0m0 1h0m1-7h0m0 4h0m1-6h0m1 8h0m1-5h0m1-1h0m0 1h0m1-3h0m0 5h0m0 1h0m2-6h0m0 2h0m0 2h0m0 2h0m4-6h0m1 4h0m0 5h0m1-1h0m1-2h0m0 3h0m1-7h0m0 3h0m0 2h0m1-4h0m0 3h0m1 1h0m2-7h0m0 1h0m1 5h0m1-4h0m1 6h0m2 0h0m1 1h0m4-2h0m1 1h0m2-8h0m1 3h0m0 6h0m3-7h0m2 1h0m2 3h0m1 2h0m1-6h0m1 2h0m4 4h0m0 1h0m1 0h0m2-8h0m0 8h0m1-5h0m2-4h0m0 7h0m1-4h0m0 3h0m1-4h0m0 6h0m1-1h0m1-3h0m1 2h0m1 0h0m1-3h0m1 2h0m2-3h0m18 5h0m4-4h0m1 6h0m2 0h0m3-4h0m1 4h0m4-4h0m1 0h0m1 4h0m4 0h0m1-6h0m7-1h0m-302 9h0m0 3h0m4 4h0m2-6h0m1 5h0m2 1h0m3-8h0m4 8h0m4-3h0m1-2h0m1 0h0m2 3h0m1-2h0m1 4h0m1-7h0m0 4h0m1 4h0m1-9h0m2 3h0m9 1h0m1 5h0m1-5h0m1 3h0m3 0h0m1-3h0m3 0h0m0 4h0m1 0h0m1 0h0m1-3h0m1 3h0m1-8h0m3 1h0m0 3h0m0 4h0m3-4h0m0 3h0m1-2h0m0 3h0m1-2h0m2-4h0m0 2h0m0 3h0m2-6h0m2-1h0m3 0h0m0 3h0m1 0h0m1-2h0m0 8h0m1-9h0m4 6h0m2 2h0m6-3h0m0 4h0m2-7h0m4-1h0m1 7h0m6-3h0m1-2h0m0 4h0m3-2h0m1-5h0m2 2h0m1-2h0m0 5h0m0 4h0m1-6h0m2-3h0m0 3h0m0 3h0m0 1h0m3-7h0m2 1h0m0 5h0m1 1h0m0 2h0m1-1h0m1 1h0m1-7h0m1-2h0m0 3h0m1 3h0m0 2h0m2-6h0m0 3h0m2-5h0m1 6h0m1-6h0m0 4h0m0 3h0m2-3h0m1 1h0m1 0h0m2 3h0m1-6h0m1 2h0m3-4h0m0 4h0m1 3h0m1-7h0m0 3h0m0 2h0m1-2h0m1 1h0m0 4h0m1-5h0m0 2h0m0 3h0m1-8h0m1 1h0m2 2h0m1 4h0m1 1h0m1-2h0m1-4h0m1-1h0m0 6h0m1-7h0m0 4h0m1 2h0m1-5h0m0 8h0m1-4h0m0 1h0m1-6h0m0 3h0m1 0h0m0 1h0m0 4h0m1-1h0m2-4h0m1 3h0m1 1h0m1 1h0m2-5h0m0 4h0m1-6h0m1 8h0m1-8h0m0 2h0m1-1h0m1 5h0m2-6h0m0 6h0m0 1h0m1-8h0m0 7h0m2-2h0m0 4h0m3-6h0m1 6h0m1-2h0m2-5h0m0 6h0m2-8h0m0 2h0m3-2h0m0 6h0m1-1h0m0 3h0m2-1h0m0 1h0m0 1h0m1-1h0m1-1h0m1-2h0m0 1h0m3-6h0m2 1h0m1-1h0m6 4h0m1 4h0m2-6h0m3-2h0m0 1h0m0 4h0m0 3h0m3 0h0m1-4h0m2 2h0m1-1h0m0 2h0m2 0h0m2 2h0m1-5h0m1-2h0m6-1h0m1 2h0m0 6h0m1-6h0m0 2h0m1-2h0m0 1h0m4-2h0m0 1h0m3 4h0m2-6h0m3 5h0m2-2h0m2-3h0m1 5h0m6 2h0m2 1h0m2-4h0m1 1h0m4-4h0m9 4h0m1-1h0m0 2h0m6-7h0m8 1h0m0 3h0m11 3h0m3-6h0m0 7h0m-303 6h0m2 0h0m2-3h0m4 0h0m0 2h0m2-3h0m8 7h0m1-5h0m2 6h0m1-2h0m3-6h0m2 0h0m1 3h0m2 3h0m1-1h0m1-5h0m1 1h0m4-1h0m0 3h0m1 5h0m1-8h0m1 5h0m2-5h0m1 1h0m0 3h0m0 3h0m2-2h0m1 4h0m2-8h0m2 1h0m2 3h0m1-4h0m2 0h0m0 8h0m1-2h0m0 1h0m2-1h0m1-4h0m1 4h0m0 1h0m5-4h0m4 1h0m1-3h0m0 7h0m16-4h0m0 1h0m15-6h0m0 2h0m1-1h0m3 1h0m1-1h0m0 2h0m1 0h0m1 3h0m0 3h0m1-6h0m0 1h0m0 2h0m0 1h0m1-2h0m2 4h0m1-7h0m0 2h0m1 2h0m1-3h0m2-3h0m0 3h0m1 1h0m1-4h0m0 3h0m0 5h0m1-7h0m2-1h0m0 4h0m1 5h0m3-1h0m3-5h0m1 1h0m2-2h0m1-1h0m3 3h0m2-1h0m1-3h0m1 1h0m0 6h0m2-5h0m2 3h0m1-4h0m0 2h0m5 2h0m1-4h0m0 2h0m1-3h0m0 8h0m4-5h0m0 3h0m1-5h0m0 4h0m3-2h0m1 0h0m1 4h0m1-6h0m3 1h0m0 2h0m2-1h0m3-2h0m0 5h0m1-4h0m1-1h0m0 3h0m1-3h0m0 8h0m1-1h0m2-2h0m3 2h0m1-7h0m0 4h0m0 1h0m1-2h0m1-2h0m0 2h0m0 3h0m1-6h0m2 2h0m2 5h0m1 0h0m1-7h0m2 0h0m5 3h0m0 3h0m2 0h0m2-3h0m0 1h0m2-3h0m0 3h0m1-4h0m0 8h0m1-1h0m1-8h0m0 8h0m7-1h0m1-5h0m1 4h0m1-6h0m1 3h0m2-2h0m0 2h0m1-2h0m1-1h0m10 0h0m7 1h0m3 1h0m9-1h0m3-1h0m1 0h0m1 2h0m8 3h0m4 0h0m2 2h0m2-7h0m0 5h0m3 2h0m3-3h0m1 0h0m4 4h0m3-5h0m0 6h0m4-5h0m1 4h0m1-6h0m1 6h0m4-6h0m3 2h0m-303 15h0m1-3h0m2-4h0m1-2h0m0 1h0m0 4h0m1-2h0m2-1h0m2 4h0m1 3h0m20-4h0m5-1h0m0 2h0m2-1h0m5-4h0m1 6h0m0 1h0m4-2h0m1-4h0m0 6h0m1-7h0m2 7h0m1-2h0m3-3h0m1 6h0m1-2h0m1 0h0m1-2h0m1 4h0m2-6h0m0 3h0m3-5h0m2-1h0m0 7h0m2-4h0m1-1h0m1 4h0m1-5h0m0 4h0m1 0h0m2-1h0m5 0h0m4 3h0m4 2h0m13-5h0m2-1h0m0 5h0m2-2h0m1-5h0m0 2h0m0 5h0m3-7h0m0 7h0m2-3h0m1-3h0m0 1h0m0 3h0m1 3h0m1-4h0m1-5h0m0 5h0m0 3h0m3-5h0m0 2h0m1 3h0m1-6h0m0 3h0m2-5h0m0 6h0m1 2h0m2 1h0m5-5h0m0 4h0m1-6h0m0 3h0m0 2h0m2-4h0m0 4h0m0 1h0m1-5h0m0 1h0m2 1h0m0 2h0m1-3h0m1-4h0m0 8h0m2-7h0m1 7h0m1-1h0m1 1h0m2-6h0m1-2h0m0 5h0m3-5h0m0 9h0m1-9h0m0 1h0m0 3h0m0 3h0m4-4h0m1 4h0m1-7h0m0 7h0m1-7h0m1 8h0m0 1h0m1-8h0m0 1h0m1 7h0m1-9h0m0 1h0m1-1h0m0 5h0m2-5h0m0 4h0m1 4h0m2-6h0m1 7h0m2-1h0m2-8h0m0 2h0m0 4h0m1-6h0m0 7h0m0 1h0m1-4h0m0 3h0m2-5h0m1 1h0m3-1h0m1 1h0m0 1h0m1-2h0m0 4h0m1-6h0m1 4h0m1-2h0m1 7h0m2-4h0m0 1h0m1-2h0m1-3h0m2 3h0m2-3h0m0 7h0m1-3h0m0 3h0m8-4h0m2 1h0m3 0h0m1 1h0m1-2h0m4-1h0m14 5h0m20-2h0m2 3h0m29-8h0m3 2h0m3-2h0m1 0h0m0 6h0m0 2h0m1-8h0m0 4h0m0 1h0m2-5h0m2 7h0m3-2h0m0 3h0m3-3h0m1-1h0m2-4h0m1 1h0m0 3h0m-312 12h0m2-6h0m1 7h0m4-4h0m3 3h0m1 0h0m4-5h0m1 3h0m3-5h0m2 7h0m3-6h0m13 7h0m1 1h0m3-3h0m5-3h0m4 2h0m1 3h0m1-1h0m3-5h0m1 7h0m5-9h0m2 9h0m2-4h0m4 3h0m2-7h0m1 2h0m10 5h0m2-4h0m1 3h0m1 0h0m0 1h0m4-3h0m6-4h0m14 2h0m1 6h0m2-7h0m4 3h0m4-2h0m0 6h0m1-8h0m3 7h0m4-8h0m0 1h0m1 0h0m1 1h0m2 1h0m0 4h0m1-6h0m0 4h0m1-5h0m1 6h0m1 0h0m3 0h0m2-4h0m0 7h0m2-5h0m1 0h0m1-4h0m1 1h0m2 5h0m1-4h0m1 3h0m1 0h0m0 3h0m1-7h0m0 2h0m0 5h0m1-5h0m1 4h0m3-5h0m1 7h0m1-9h0m1 8h0m1-6h0m2-2h0m0 9h0m3-3h0m1-4h0m3-1h0m1 2h0m1-2h0m0 7h0m2-1h0m1 2h0m1-9h0m0 4h0m1-2h0m0 3h0m1-3h0m0 7h0m2-1h0m1 1h0m1-1h0m1-8h0m0 9h0m1-3h0m0 3h0m1-7h0m5 5h0m4-5h0m1 7h0m1-9h0m6 2h0m2 5h0m3-5h0m1-1h0m4 5h0m1 2h0m29-7h0m12 5h0m17-4h0m21-2h0m3 0h0m1 4h0m1 0h0m2 3h0m4-3h0m1 1h0m3 2h0m2-5h0m0 2h0m1 1h0m-341 10h0m21-4h0m3 3h0m5 1h0m1 1h0m3 0h0m3-3h0m0 5h0m0 1h0m1-8h0m1 3h0m0 1h0m3-5h0m3 3h0m4 1h0m0 2h0m1-2h0m0 5h0m6-1h0m8 1h0m2-3h0m2-1h0m1 4h0m1-9h0m0 8h0m1-3h0m0 3h0m1-3h0m1-1h0m2 0h0m2 4h0m1-5h0m5-3h0m4 7h0m2-7h0m1 4h0m1-4h0m1 6h0m1 0h0m0 2h0m8 0h0m2-1h0m2-3h0m1 3h0m1-5h0m1-2h0m2 2h0m1 7h0m1-3h0m3 3h0m4-7h0m0 3h0m12 2h0m10 2h0m2-3h0m5-3h0m0 2h0m1 3h0m1 1h0m1-1h0m4-5h0m1 3h0m1-1h0m1-4h0m1 7h0m3-1h0m2-3h0m1 5h0m3-8h0m3 2h0m0 1h0m1-1h0m2-1h0m7 7h0m5-9h0m0 8h0m4-7h0m0 1h0m2 2h0m1 4h0m4-7h0m1 3h0m0 2h0m0 2h0m1-4h0m0 4h0m1-6h0m1 1h0m2 0h0m0 3h0m2 3h0m1-8h0m0 5h0m1-6h0m4 1h0m1 1h0m2 7h0m1-3h0m0 1h0m2-7h0m0 4h0m2-4h0m0 3h0m1 2h0m2-1h0m3 2h0m1-5h0m0 7h0m1-5h0m0 3h0m4-4h0m7 4h0m3-1h0m1-5h0m10 4h0m1-2h0m15 3h0m9-4h0m11 5h0m5-2h0m9 2h0m1-6h0m2 9h0m7-7h0m8 1h0m0 6h0m2-2h0m0 1h0m1-7h0m1 5h0m1 3h0m1-1h0m1-3h0m2-4h0m0 6h0m2-5h0m4-1h0m20 7h0m-335 7h0m1-2h0m3-3h0m0 8h0m1-1h0m1-7h0m2 2h0m1 1h0m0 5h0m1-8h0m0 2h0m0 2h0m1-2h0m1 7h0m2-9h0m0 7h0m1-5h0m1 5h0m1 0h0m0 1h0m1-8h0m0 3h0m0 2h0m1 3h0m1-7h0m0 2h0m0 1h0m0 1h0m0 3h0m3-4h0m1 2h0m0 1h0m0 1h0m1-1h0m2-7h0m0 2h0m0 4h0m1-4h0m1-1h0m1 7h0m0 1h0m1-7h0m0 1h0m1 6h0m1-9h0m0 1h0m0 1h0m1 1h0m1 3h0m0 3h0m1-8h0m0 4h0m1 0h0m0 1h0m1-6h0m0 2h0m2 3h0m1-3h0m0 1h0m1-2h0m0 2h0m0 1h0m1-1h0m2-2h0m3 4h0m0 1h0m0 2h0m2-7h0m3 0h0m0 2h0m0 6h0m1-2h0m1-1h0m0 1h0m1 2h0m2-1h0m1-1h0m1-6h0m0 3h0m1-3h0m1 8h0m1-5h0m0 5h0m1-6h0m3 1h0m1 0h0m0 2h0m0 3h0m1-6h0m2-2h0m0 4h0m2 3h0m1-8h0m0 8h0m5 0h0m0 1h0m1-3h0m1 0h0m3 0h0m2-4h0m0 7h0m4-8h0m4 0h0m0 2h0m3-3h0m0 5h0m4-4h0m0 7h0m1-6h0m0 4h0m1-2h0m4-4h0m2 7h0m3 0h0m2-2h0m0 3h0m1-8h0m0 6h0m0 2h0m3-3h0m2-2h0m0 5h0m4-8h0m0 8h0m2-7h0m0 6h0m3-4h0m7 6h0m1-4h0m1-1h0m0 2h0m1 2h0m1-1h0m3-1h0m1 0h0m2-1h0m0 1h0m5-3h0m4 1h0m1 0h0m3-2h0m0 4h0m4-1h0m3 4h0m2-9h0m0 2h0m0 4h0m1-5h0m1 2h0m0 2h0m6 3h0m6-6h0m0 2h0m3-1h0m7 1h0m2-4h0m4 3h0m4 2h0m1-1h0m1-1h0m5 5h0m1-5h0m2-1h0m0 1h0m0 2h0m0 1h0m2-4h0m3 5h0m1-2h0m0 2h0m0 1h0m2-1h0m1-5h0m1 5h0m1-2h0m6-5h0m0 6h0m2-1h0m3 1h0m0 3h0m2-3h0m1 2h0m1 0h0m1 1h0m1-1h0m2-6h0m2 4h0m1 2h0m0 1h0m7-6h0m0 2h0m13-3h0m0 4h0m1 2h0m4-5h0m1 4h0m1 1h0m1-3h0m0 2h0m6-6h0m3 0h0m0 8h0m2-1h0m1-8h0m4 8h0m2-7h0m2 3h0m1 1h0m2-4h0m1 4h0m0 4h0m1-2h0m6-6h0m1 5h0m1-3h0m3-3h0m3 3h0m0 5h0m3-1h0m8-7h0m1 5h0m1-1h0m0 3h0m5-4h0m14 6h0m4-1h0m2-4h0m2 0h0m2 1h0m7-2h0m0 4h0m0 1h0m1-1h0m2-2h0m5-4h0m-379 9h0m6 9h0m1-7h0m0 2h0m2-4h0m1 3h0m2-3h0m0 9h0m1-6h0m1-1h0m2-1h0m2 2h0m1-1h0m0 6h0m1-4h0m0 3h0m0 2h0m1-9h0m0 3h0m1 6h0m1-6h0m0 2h0m0 3h0m1-5h0m0 5h0m0 1h0m1-2h0m0 2h0m1-8h0m2-1h0m0 1h0m0 2h0m0 6h0m1-6h0m0 1h0m1-4h0m1 1h0m0 5h0m0 1h0m1-3h0m0 1h0m1 0h0m0 1h0m0 2h0m1-8h0m0 2h0m0 6h0m0 1h0m3-8h0m0 2h0m0 4h0m0 2h0m1-8h0m0 1h0m0 1h0m0 2h0m0 2h0m1-3h0m0 2h0m1-6h0m0 2h0m0 3h0m0 2h0m1-6h0m1 0h0m0 1h0m1-2h0m0 1h0m0 5h0m0 2h0m1-3h0m0 1h0m0 3h0m1-7h0m2 7h0m1-6h0m0 3h0m0 2h0m1-7h0m0 6h0m1-7h0m1 5h0m0 1h0m1-5h0m0 3h0m1-3h0m0 7h0m1-4h0m1 3h0m1-7h0m0 4h0m0 4h0m1-4h0m1 4h0m0 1h0m1-3h0m1 1h0m0 2h0m2-7h0m0 4h0m1-6h0m0 2h0m1 6h0m1-5h0m0 4h0m1 0h0m2 1h0m1-4h0m0 3h0m0 2h0m1-3h0m2-3h0m0 6h0m1-5h0m2 4h0m2-7h0m0 4h0m4-2h0m1-3h0m0 5h0m1 1h0m1-3h0m1 6h0m1 0h0m1-7h0m1 2h0m2-4h0m2 4h0m0 1h0m1-3h0m1 6h0m2-6h0m0 1h0m5-1h0m2 7h0m4-3h0m5-3h0m3 1h0m3-3h0m0 7h0m0 1h0m3-8h0m0 5h0m1-6h0m0 9h0m1-5h0m1 3h0m1 1h0m0 1h0m1-5h0m1-2h0m2 2h0m0 4h0m1-5h0m0 6h0m2-7h0m1 3h0m1-2h0m2 1h0m5-3h0m0 2h0m2-3h0m3 3h0m5 3h0m3-4h0m1 3h0m1-3h0m1 2h0m0 1h0m1-5h0m2 8h0m5-7h0m4 0h0m1 2h0m2 4h0m3-7h0m0 7h0m0 2h0m1 0h0m1-1h0m4-6h0m0 2h0m0 3h0m3-3h0m1 3h0m2 1h0m2-2h0m0 1h0m1-5h0m1 3h0m1 0h0m3 3h0m1-8h0m0 9h0m3-1h0m0 1h0m1-1h0m3 1h0m1-3h0m2 3h0m2-5h0m1 1h0m1 4h0m3-8h0m0 1h0m3 6h0m1-2h0m1-4h0m3-2h0m9 6h0m2 2h0m1-4h0m4-4h0m0 4h0m2 0h0m10-3h0m1 0h0m1 1h0m1 2h0m0 3h0m2-4h0m1 3h0m1-2h0m0 5h0m2-2h0m1-1h0m3-2h0m1 5h0m2-2h0m5-6h0m2 0h0m1-1h0m0 5h0m5-1h0m3 5h0m1-5h0m2-3h0m1 8h0m9-7h0m2 0h0m5 0h0m28-2h0m12 0h0m25 2h0m2-2h0m-369 17h0m7-6h0m2 4h0m0 2h0m0 2h0m2-9h0m0 4h0m2 2h0m2-1h0m0 4h0m2-7h0m0 1h0m0 1h0m1-1h0m0 5h0m1 1h0m1-6h0m0 4h0m1-4h0m1-3h0m0 3h0m0 3h0m0 3h0m1-9h0m0 1h0m0 1h0m0 1h0m0 1h0m0 5h0m1-9h0m1 0h0m0 6h0m0 2h0m1-5h0m1-2h0m0 1h0m0 3h0m0 1h0m0 2h0m1-5h0m0 2h0m2 0h0m0 3h0m1-7h0m0 6h0m0 1h0m0 1h0m1-5h0m0 2h0m0 1h0m1-5h0m0 1h0m0 6h0m1-8h0m0 4h0m0 4h0m1-4h0m1-1h0m0 3h0m1-4h0m1-1h0m0 4h0m0 2h0m0 1h0m2-8h0m0 1h0m1 1h0m0 6h0m1-9h0m0 1h0m0 2h0m0 1h0m0 1h0m0 4h0m1-1h0m1-6h0m0 1h0m0 4h0m1-7h0m0 5h0m0 3h0m1-5h0m0 3h0m2 1h0m0 2h0m1-5h0m0 2h0m1-6h0m1 9h0m1-5h0m0 5h0m2-9h0m1 3h0m0 1h0m0 2h0m2-3h0m0 1h0m1-1h0m0 6h0m1-6h0m0 2h0m0 4h0m1-7h0m0 2h0m1-4h0m0 3h0m0 1h0m0 1h0m1-2h0m1 6h0m1-9h0m0 3h0m0 1h0m1 4h0m1-1h0m0 1h0m1-6h0m0 5h0m1-3h0m0 2h0m0 3h0m2-4h0m1-5h0m0 1h0m4 5h0m1-4h0m1 2h0m2-1h0m1 3h0m3-3h0m0 1h0m1-3h0m2 0h0m0 2h0m0 5h0m4-6h0m3 4h0m1 0h0m0 3h0m1-3h0m8-5h0m4 3h0m1 0h0m1-2h0m4 1h0m1-1h0m2 0h0m0 4h0m1-2h0m1 5h0m2-9h0m4 1h0m1 2h0m0 3h0m2 1h0m1-2h0m1-1h0m0 4h0m2-2h0m2-5h0m4 3h0m2-3h0m1-1h0m0 6h0m1 0h0m1-5h0m0 4h0m1 1h0m1-5h0m0 4h0m1-4h0m1 1h0m1 0h0m0 2h0m0 5h0m2-4h0m2-1h0m1 3h0m1-5h0m1 2h0m7 5h0m1-7h0m0 4h0m2-1h0m3 1h0m2-4h0m2-1h0m1-1h0m0 1h0m0 4h0m0 3h0m2-1h0m1-5h0m0 1h0m2 4h0m3-7h0m1 0h0m1 8h0m1-2h0m6-5h0m4 1h0m0 3h0m0 3h0m2-4h0m0 2h0m2-5h0m0 4h0m2 1h0m2-6h0m2 4h0m1-1h0m1 4h0m1 2h0m2-9h0m0 1h0m1 5h0m1 3h0m2-6h0m2-1h0m0 2h0m3 0h0m0 1h0m0 3h0m3-2h0m1-1h0m2 1h0m1-6h0m0 9h0m2-9h0m2 7h0m1-1h0m1-6h0m1 1h0m1 6h0m0 2h0m1-8h0m1 6h0m2-5h0m0 5h0m1 0h0m1-5h0m0 6h0m2-4h0m1 1h0m1-4h0m0 4h0m2-2h0m1 0h0m0 6h0m1 0h0m4-1h0m2-8h0m1 0h0m0 8h0m1-1h0m4 2h0m1-3h0m3-3h0m0 1h0m0 3h0m2-6h0m1-1h0m0 5h0m1-2h0m0 4h0m5-4h0m2-3h0m1 7h0m5-4h0m4-1h0m93-2h0m-386 15h0m12-4h0m4 6h0m1-7h0m0 5h0m3 1h0m1-1h0m2-1h0m2-1h0m0 1h0m1-1h0m1-3h0m0 7h0m1-7h0m0 2h0m0 6h0m1-8h0m0 8h0m1-6h0m0 6h0m0 1h0m1-5h0m0 3h0m0 1h0m1-8h0m0 5h0m0 4h0m1-9h0m0 4h0m0 2h0m0 3h0m1-7h0m1 3h0m1-4h0m0 6h0m0 2h0m1-1h0m1-8h0m0 5h0m1-2h0m0 5h0m1-6h0m0 1h0m1-3h0m0 7h0m2 1h0m1 0h0m1-4h0m0 1h0m1-5h0m0 1h0m0 8h0m1-9h0m0 1h0m1-1h0m0 5h0m0 1h0m1-5h0m0 5h0m0 3h0m1-7h0m0 3h0m0 3h0m0 1h0m1-5h0m2-2h0m0 2h0m1-4h0m0 6h0m0 2h0m1-7h0m0 3h0m0 3h0m0 2h0m1-3h0m3 0h0m2-5h0m0 2h0m0 2h0m0 1h0m1-4h0m1-1h0m2 3h0m0 2h0m1-6h0m0 4h0m0 2h0m0 1h0m1-2h0m1-4h0m0 7h0m1-4h0m0 4h0m1-2h0m1-2h0m0 5h0m1-7h0m1-2h0m0 4h0m1-4h0m0 2h0m0 3h0m1-2h0m0 2h0m0 2h0m0 2h0m4-5h0m1 2h0m1-1h0m1-2h0m0 6h0m1 0h0m3-3h0m0 1h0m0 2h0m3 0h0m2-4h0m2 4h0m1-8h0m2 0h0m2 0h0m0 2h0m4-2h0m0 6h0m4-4h0m0 2h0m4 0h0m5 2h0m2 1h0m0 1h0m2-9h0m0 2h0m1 6h0m1-8h0m0 4h0m8-1h0m1 3h0m4-3h0m4 1h0m2-2h0m0 3h0m2-2h0m0 2h0m2 0h0m0 1h0m4 0h0m3-5h0m0 8h0m1-9h0m0 4h0m0 1h0m2-5h0m1 8h0m2-6h0m1 2h0m0 5h0m1-6h0m0 2h0m1 1h0m4-4h0m0 2h0m2-3h0m4 6h0m1-5h0m2-1h0m4 3h0m0 5h0m3-9h0m0 3h0m3-2h0m1 0h0m1 3h0m0 3h0m1-2h0m0 2h0m1-7h0m2 2h0m1-1h0m1 4h0m7-5h0m0 3h0m3 6h0m1-6h0m8 0h0m0 5h0m4-7h0m3 1h0m3 1h0m3 3h0m1-4h0m1 4h0m2 3h0m1-1h0m1-2h0m1-4h0m4 3h0m3-2h0m1 0h0m2 5h0m1-3h0m1 1h0m2-1h0m1 0h0m1-4h0m1 1h0m0 1h0m0 4h0m0 2h0m1-2h0m7 0h0m2-5h0m0 6h0m4-7h0m9-1h0m0 6h0m1-6h0m4 3h0m8-2h0m-277 17h0m14-5h0m3-1h0m1 6h0m2-4h0m0 2h0m1-2h0m1-3h0m0 3h0m0 1h0m1-1h0m0 1h0m1-1h0m2-1h0m1 0h0m0 2h0m1-4h0m2 1h0m0 5h0m1-7h0m1 0h0m0 3h0m0 4h0m1-7h0m1 0h0m1 0h0m0 6h0m1 2h0m1-4h0m0 4h0m1-6h0m0 6h0m1-7h0m0 7h0m0 1h0m2-9h0m0 2h0m0 4h0m3-6h0m0 5h0m3-4h0m0 2h0m0 6h0m2-8h0m0 2h0m0 3h0m0 2h0m1-7h0m0 6h0m1-1h0m0 2h0m1 0h0m1-4h0m0 3h0m1-7h0m1 0h0m0 2h0m1 0h0m0 4h0m1 2h0m1-4h0m0 2h0m0 2h0m1-4h0m0 4h0m2-6h0m1-1h0m2 0h0m0 2h0m0 1h0m0 1h0m3-4h0m2 1h0m2 4h0m3-5h0m2 5h0m4-5h0m0 3h0m0 4h0m1 0h0m2-2h0m5-6h0m0 7h0m5-6h0m0 1h0m1-2h0m2 0h0m1 2h0m1 5h0m1 2h0m1 0h0m3-4h0m2 1h0m1-5h0m0 7h0m3-7h0m0 6h0m1-6h0m2 8h0m1 0h0m4-5h0m1 1h0m2 3h0m1-2h0m0 3h0m1-3h0m4-2h0m3-1h0m2 5h0m1 0h0m2-6h0m2 2h0m6-4h0m1 1h0m1 3h0m2-4h0m0 1h0m0 2h0m2-1h0m0 2h0m1 3h0m0 1h0m1-3h0m1-5h0m1 1h0m1 8h0m1 0h0m2-7h0m2-1h0m2 2h0m1 3h0m2-3h0m1 0h0m0 1h0m0 5h0m4-6h0m0 5h0m1-1h0m3-7h0m1 0h0m0 1h0m1 1h0m5-1h0m1 1h0m2-1h0m0 1h0m1-1h0m1 0h0m1 0h0m1 1h0m3-2h0m1 0h0m5 0h0m4 1h0m3 1h0m7 7h0m2-9h0m6 1h0m0 1h0m4 6h0m8-6h0m2 0h0m3-1h0m2 3h0m1-4h0m12 6h0m-259 6h0m15-2h0m4 2h0m2 4h0m2-3h0m2 0h0m7-3h0m6 3h0m1-3h0m2 4h0m1 2h0m1-5h0m1 1h0m0 2h0m2-4h0m2 0h0m1 0h0m0 2h0m0 1h0m1 0h0m0 2h0m0 1h0m4-4h0m1 4h0m0 3h0m3-9h0m0 4h0m2 0h0m0 2h0m1-4h0m0 1h0m0 5h0m1-5h0m0 2h0m0 1h0m1-6h0m3 0h0m5 7h0m1-6h0m0 4h0m3-3h0m0 5h0m4-2h0m4-3h0m0 2h0m1-3h0m0 5h0m1 2h0m1-4h0m0 2h0m1-6h0m5 3h0m1-2h0m0 7h0m3-8h0m2 2h0m4 3h0m1-5h0m8 0h0m3 4h0m4 0h0m5 0h0m0 3h0m1-5h0m0 3h0m2 1h0m2 0h0m7-5h0m5 6h0m8-6h0m11 1h0m9-1h0m6 1h0m6 6h0m13-8h0m4 2h0m19-1h0m25 0h0m-204 18h0m7-1h0m3-5h0m15-2h0m3 3h0m1-2h0m11 2h0m0 2h0m21-6h0m12 2h0" stroke="#62a5af" stroke-width="6.2"/>
<path d="M943 341h0m4 2h0m0 5h0m10 0h0m3 0h0m-17 9h0m1-7h0m1 7h0m2-7h0m0 4h0m1 5h0m4-7h0m0 5h0m2 1h0m1-5h0m1-3h0m0 6h0m1 3h0m2-6h0m1 0h0m0 2h0m2-1h0m2 2h0m1 3h0m4-5h0m1 2h0m-27 8h0m4 1h0m1-5h0m1 1h0m1 0h0m1 0h0m1 3h0m0 2h0m0 2h0m1-5h0m0 5h0m1 0h0m1-8h0m1 6h0m1-5h0m2 5h0m3-6h0m1 1h0m3 5h0m1-3h0m-19 12h0m10-2h0m2 3h0m0 3h0m5-7h0m-12 10h0m1 4h0m1-6h0m6 1h0m7 7h0m-9 5h0m1 1h0m3-4h0m-6 11h0m2 2h0m6 0h0m-9 13h0m5 1h0m1 1h0m0 1h0m1-8h0m1 7h0m-113 10h0m115-2h0m-147 11h0m12-3h0m6-4h0m3 9h0m1-6h0m1 6h0m121-4h0m2 1h0m82 2h0m2 1h0m11-6h0m3-3h0m5 8h0m1-5h0m0 3h0m1 2h0m3-1h0m4-5h0m7 1h0m4 4h0m-380 11h0m15-2h0m4-3h0m7 4h0m76-3h0m1-3h0m2-1h0m11 8h0m3-8h0m2 9h0m2-1h0m2-3h0m4 3h0m2-3h0m2 0h0m1 1h0m0 1h0m6-4h0m2 2h0m1-5h0m10 3h0m129 5h0m6-2h0m33 2h0m2-7h0m5 5h0m5 3h0m2-9h0m1 8h0m1-4h0m1-3h0m5 7h0m2-8h0m0 8h0m2-5h0m2 2h0m2 3h0m1 1h0m1-7h0m0 6h0m1 1h0m2-7h0m0 5h0m1-6h0m0 7h0m0 1h0m1 0h0m1-6h0m5-1h0m0 1h0m2 5h0m1 1h0m2-4h0m0 3h0m4-7h0m4 4h0m1 4h0m1-7h0m4 2h0m6 0h0m0 2h0m0 3h0m1-5h0m6 2h0m3 0h0m0 3h0m4 0h0m-406 9h0m17-8h0m0 1h0m7 0h0m84 6h0m2 2h0m2-7h0m2 2h0m2-1h0m2 1h0m1 4h0m1-6h0m0 1h0m1 2h0m0 2h0m1-2h0m2-3h0m1 3h0m1-4h0m0 2h0m3 0h0m1-1h0m4-2h0m1 8h0m1-2h0m1 3h0m2-4h0m0 4h0m1-7h0m1 4h0m8-6h0m0 7h0m2 1h0m7 0h0m72-3h0m44 3h0m6-5h0m19 4h0m2 0h0m9-1h0m0 1h0m2-2h0m5 1h0m0 3h0m5-3h0m3-3h0m3 3h0m1 0h0m1 3h0m1-3h0m2-5h0m0 8h0m3-4h0m1 0h0m3 4h0m1-8h0m1 2h0m0 2h0m1 0h0m3 1h0m0 2h0m3-4h0m0 4h0m1-6h0m0 4h0m2-6h0m1 1h0m0 2h0m1-2h0m0 4h0m0 1h0m3 1h0m1 1h0m1-2h0m1-3h0m1 4h0m2 1h0m4-4h0m1-1h0m1-2h0m0 6h0m4-6h0m0 6h0m1 0h0m1-7h0m0 1h0m0 6h0m2 2h0m1-2h0m1-6h0m1 7h0m1-8h0m1 7h0m5-4h0m2-1h0m3 1h0m4 3h0m15-1h0m7-5h0m4 6h0m-408 9h0m73-5h0m10 9h0m2-7h0m0 7h0m10-8h0m6 3h0m0 1h0m5 2h0m6-3h0m0 4h0m1 0h0m1-2h0m4-5h0m2 2h0m2 2h0m0 2h0m1-5h0m0 4h0m3-3h0m3 3h0m0 1h0m1-4h0m0 1h0m4-3h0m2 2h0m5 5h0m3-1h0m89-2h0m7 3h0m15 1h0m3-3h0m8-5h0m8 7h0m5-5h0m6 2h0m1 4h0m3-2h0m8 2h0m1-7h0m1 3h0m0 3h0m1-1h0m2 0h0m6-5h0m0 5h0m3-3h0m3-4h0m0 2h0m2-2h0m1 0h0m2 0h0m0 2h0m1 3h0m2 1h0m3-3h0m2-2h0m0 1h0m0 4h0m1-1h0m2 0h0m1-1h0m0 1h0m1-3h0m0 6h0m1 0h0m2 0h0m2-5h0m0 1h0m0 1h0m1-2h0m1 0h0m1 0h0m2 6h0m1 0h0m1-7h0m2-2h0m0 5h0m0 1h0m1-4h0m1-1h0m0 3h0m2-3h0m0 1h0m0 2h0m1 4h0m0 1h0m1-5h0m2-3h0m0 5h0m3-1h0m0 2h0m1-7h0m0 7h0m1-2h0m0 2h0m1-5h0m1-2h0m0 1h0m0 4h0m1-1h0m0 2h0m4-1h0m3-5h0m0 3h0m0 2h0m2 1h0m1-1h0m1-1h0m2-1h0m0 3h0m1-6h0m0 2h0m1 6h0m2-4h0m0 4h0m1-7h0m0 7h0m5 0h0m2-3h0m2-1h0m13-3h0m-379 13h0m2 1h0m34 3h0m8 1h0m5-6h0m2 0h0m1 1h0m9-4h0m4 8h0m1-7h0m5 4h0m1-5h0m0 4h0m3 3h0m1-7h0m2 9h0m2 0h0m1-2h0m3-6h0m3 4h0m2-3h0m1 6h0m2-7h0m0 2h0m5 3h0m9 0h0m4-4h0m7 0h0m68 4h0m6-1h0m3-2h0m3 2h0m2 1h0m1 2h0m1 0h0m8-5h0m4 0h0m0 1h0m1 3h0m1-3h0m1 1h0m2-3h0m2 0h0m1 6h0m3-5h0m1 5h0m1-6h0m0 7h0m6-8h0m0 2h0m0 4h0m3-5h0m0 1h0m2 3h0m1-6h0m2 9h0m3-9h0m2 8h0m1-1h0m1 2h0m3-6h0m0 3h0m1 0h0m3-5h0m3 2h0m4 6h0m5-3h0m2 2h0m3-7h0m0 6h0m2 1h0m1-1h0m1-7h0m0 4h0m1 2h0m2 3h0m3-5h0m0 4h0m1-7h0m1 3h0m0 4h0m0 1h0m6 0h0m1-5h0m1-3h0m1 1h0m3 4h0m2-5h0m0 3h0m6-2h0m1-1h0m0 1h0m3 2h0m5 0h0m0 4h0m1-8h0m0 2h0m3 1h0m2 0h0m1-3h0m0 7h0m3-7h0m0 6h0m1-6h0m2 4h0m0 3h0m0 2h0m2-6h0m1 0h0m1-2h0m1 0h0m4 7h0m1-8h0m0 6h0m1-4h0m1 0h0m1 2h0m1-1h0m0 1h0m1 4h0m2-7h0m0 1h0m1-1h0m0 6h0m1-7h0m2 1h0m0 2h0m1 1h0m2 4h0m6-6h0m1 5h0m0 2h0m1-5h0m2 3h0m3-2h0m4 0h0m2 2h0m3-5h0m6-2h0m-340 14h0m15 2h0m14-5h0m4 7h0m6-2h0m12-3h0m8-3h0m4 5h0m4 3h0m2-8h0m6 6h0m4-6h0m3 9h0m10-5h0m47-4h0m17 2h0m1 3h0m5 2h0m5-5h0m2 3h0m1-3h0m0 7h0m4-7h0m2 4h0m2-2h0m0 4h0m1-3h0m3-3h0m0 1h0m2 4h0m2-6h0m0 5h0m3-4h0m1 5h0m1 2h0m1-7h0m0 3h0m0 4h0m3-7h0m0 1h0m0 5h0m1-5h0m0 4h0m4-7h0m3 6h0m1-3h0m0 1h0m1 3h0m5-7h0m3 9h0m1-7h0m1 5h0m0 1h0m2-6h0m1 2h0m0 3h0m0 1h0m2-8h0m0 5h0m0 4h0m1 0h0m1-2h0m1-1h0m0 1h0m1-5h0m0 4h0m1-2h0m0 1h0m3-5h0m0 5h0m1-5h0m3 6h0m1-6h0m0 1h0m0 4h0m1-2h0m4-1h0m0 7h0m3-1h0m3 0h0m6 1h0m1-9h0m0 5h0m2-4h0m1 7h0m2-2h0m3-1h0m1 2h0m2-5h0m0 2h0m1-1h0m0 5h0m7-6h0m2 6h0m0 1h0m6-7h0m1-2h0m1 4h0m2 5h0m5-9h0m4 7h0m2 2h0m4-2h0m1 0h0m2 2h0m1-6h0m1-3h0m1 1h0m0 3h0m1-4h0m2 0h0m3 2h0m1 6h0m6-4h0m0 1h0m3 2h0m1-4h0m3 3h0m7-2h0m1 4h0m3-1h0m3-3h0m-381 13h0m8 0h0m54 2h0m15-4h0m7-2h0m1 4h0m2-5h0m2 4h0m5-3h0m3 1h0m5 0h0m6 4h0m15-3h0m13 3h0m46-6h0m15-2h0m2 2h0m6 6h0m3-6h0m0 2h0m1 3h0m2-3h0m0 1h0m2 3h0m3-8h0m1 4h0m2-1h0m1-3h0m0 6h0m1-5h0m1 0h0m4 7h0m1-3h0m2-2h0m3 3h0m1-6h0m0 8h0m1-3h0m1-1h0m0 4h0m1 0h0m3-1h0m7-5h0m0 3h0m0 2h0m0 1h0m2-6h0m1 4h0m0 3h0m1-9h0m0 1h0m1-1h0m1 2h0m0 4h0m1-5h0m1-1h0m0 8h0m1-6h0m0 3h0m1 1h0m0 2h0m1 0h0m1-7h0m0 3h0m2 1h0m0 4h0m1-2h0m1-4h0m0 6h0m1-7h0m0 1h0m0 5h0m2-8h0m2 2h0m0 2h0m1 4h0m1-5h0m1-2h0m0 4h0m1-1h0m1 2h0m2-6h0m0 4h0m0 5h0m1-7h0m2-2h0m0 6h0m4-4h0m0 2h0m0 1h0m4-4h0m2 4h0m4-2h0m1-3h0m0 1h0m2 2h0m1 3h0m0 1h0m0 1h0m6-6h0m0 6h0m7-6h0m2 1h0m5 4h0m4-6h0m1 5h0m5-6h0m1 2h0m0 5h0m2-6h0m0 3h0m2-1h0m2 0h0m1-1h0m1 5h0m1-4h0m0 3h0m3-6h0m0 7h0m1-7h0m11 5h0m1-2h0m2-1h0m2 7h0m7-8h0m0 3h0m1 3h0m5-1h0m0 2h0m1-3h0m0 4h0m1 0h0m1-2h0m1-6h0m2 2h0m0 2h0m5 1h0m1 3h0m2-5h0m4 2h0m3-3h0m1 4h0m7-6h0m-391 16h0m69-5h0m3 0h0m10 1h0m0 3h0m12 0h0m4-6h0m1 6h0m4-6h0m1 0h0m4 3h0m3-3h0m0 7h0m4 1h0m6 0h0m1-5h0m3 6h0m7-9h0m56 8h0m4-3h0m0 4h0m3-9h0m3 5h0m0 1h0m1 2h0m2-7h0m4 5h0m0 3h0m2-2h0m4-3h0m1 1h0m1-1h0m0 4h0m2-1h0m1-6h0m1 7h0m1-7h0m1 2h0m1-3h0m2 1h0m0 2h0m0 6h0m4-3h0m2-6h0m2 1h0m0 1h0m1 1h0m0 1h0m0 3h0m0 2h0m1-5h0m0 4h0m3-8h0m0 1h0m0 2h0m1-3h0m2 0h0m1 4h0m3-2h0m1 4h0m1-1h0m3 4h0m1-7h0m3 7h0m1-8h0m1 5h0m0 2h0m1-2h0m0 3h0m1-6h0m0 3h0m1-4h0m1 3h0m2-1h0m0 1h0m2-3h0m0 1h0m3 1h0m1-4h0m1 2h0m0 5h0m0 1h0m2-7h0m0 3h0m0 4h0m3-5h0m3 0h0m0 5h0m1-3h0m0 2h0m2-4h0m1-1h0m1 7h0m2-9h0m2 3h0m2-1h0m7 0h0m1 6h0m1-3h0m0 4h0m1-9h0m0 8h0m1-1h0m1 2h0m7-8h0m8 5h0m1 2h0m1-5h0m1 0h0m4 1h0m2-1h0m1 1h0m3-3h0m3 5h0m4 3h0m3-4h0m2 0h0m2-1h0m0 3h0m6-3h0m1-1h0m3 4h0m1-1h0m1-4h0m0 6h0m1-7h0m1 6h0m1-1h0m3-5h0m1 4h0m1 3h0m4-6h0m0 6h0m2-6h0m0 5h0m2-3h0m1 2h0m1-5h0m1 0h0m0 1h0m9 2h0m0 1h0m1-5h0m0 8h0m1-6h0m2 3h0m3-1h0m-379 15h0m5-2h0m42-1h0m35 1h0m3-5h0m1-2h0m0 2h0m15 1h0m2 1h0m11 2h0m5-2h0m2-3h0m0 5h0m7-6h0m58 0h0m3 9h0m1-5h0m4 5h0m1-7h0m1 0h0m0 2h0m1 4h0m3 0h0m4-3h0m0 3h0m0 1h0m2-2h0m2-3h0m0 4h0m1 1h0m4-9h0m3 9h0m1-2h0m1-5h0m0 2h0m1-1h0m0 1h0m2-4h0m0 6h0m1-6h0m2 1h0m0 6h0m0 1h0m1-7h0m0 7h0m2-4h0m0 4h0m1-7h0m3 0h0m0 7h0m1-3h0m1-1h0m1-4h0m0 4h0m1-1h0m0 4h0m1-6h0m1 6h0m0 2h0m1-3h0m0 3h0m1 0h0m1-9h0m1 0h0m1 7h0m0 1h0m1 0h0m1-5h0m1 1h0m0 4h0m2-4h0m1 3h0m1-5h0m0 4h0m1-3h0m2-2h0m0 7h0m1-1h0m2-3h0m2 5h0m1-7h0m1-1h0m1 8h0m1-9h0m0 3h0m0 3h0m3-6h0m0 7h0m1-4h0m1 4h0m3-3h0m4-2h0m0 6h0m1-2h0m1-2h0m1 5h0m4-8h0m0 3h0m5-3h0m0 1h0m2 6h0m3 0h0m1-1h0m9-7h0m2 3h0m1-1h0m0 1h0m0 3h0m3-5h0m5 0h0m1 2h0m0 5h0m5 0h0m2-4h0m3-4h0m0 9h0m1-9h0m0 6h0m1-1h0m1 0h0m2 1h0m3 2h0m1-6h0m0 5h0m0 1h0m1-7h0m3 0h0m1 5h0m4 0h0m5 1h0m2-1h0m2-2h0m0 2h0m2 2h0m1-4h0m2 2h0m0 3h0m1-5h0m0 4h0m1-8h0m0 7h0m5-2h0m2 3h0m2-3h0m0 3h0m1-4h0m5-1h0m5-2h0m4 0h0m0 4h0m3-2h0m3 5h0m7-1h0m-396 10h0m4-5h0m12 1h0m1 4h0m102-7h0m5 1h0m3 7h0m3-1h0m5-2h0m22-1h0m21 1h0m1-4h0m6 1h0m5 2h0m1 0h0m1-1h0m4 5h0m2-1h0m1 1h0m6 0h0m2-5h0m2-2h0m1 5h0m3-4h0m0 4h0m1-2h0m4 5h0m2-4h0m1-5h0m0 5h0m2-3h0m1 0h0m2 5h0m1-6h0m1 2h0m0 1h0m0 1h0m1-4h0m0 6h0m1-5h0m0 6h0m1-3h0m0 2h0m1-4h0m0 5h0m1-4h0m2 0h0m0 2h0m0 3h0m1-8h0m0 1h0m0 7h0m1-1h0m1-1h0m1-6h0m1 1h0m0 4h0m0 1h0m1 2h0m4-6h0m0 4h0m1-4h0m0 4h0m1-4h0m1-2h0m0 6h0m1-7h0m1 4h0m1-4h0m1 8h0m1-4h0m0 1h0m1-1h0m2 1h0m1 0h0m0 2h0m3 0h0m0 1h0m2-6h0m1 3h0m5-5h0m3 0h0m1 0h0m0 5h0m0 2h0m2-7h0m0 2h0m0 1h0m2 3h0m2-6h0m0 3h0m1 0h0m0 1h0m1-2h0m5 0h0m0 2h0m2 2h0m1-3h0m1-1h0m2-1h0m3 8h0m3-9h0m0 4h0m2-4h0m1 1h0m0 4h0m0 2h0m4-4h0m0 3h0m3 2h0m3-4h0m2-3h0m1 2h0m2 6h0m2-7h0m3 6h0m2-7h0m1 4h0m1 3h0m1-7h0m2 5h0m4-2h0m2 4h0m3-5h0m2 1h0m0 3h0m1-1h0m1-3h0m1 4h0m6-6h0m4-1h0m0 9h0m1-3h0m1-6h0m0 1h0m1-1h0m1 6h0m0 2h0m2-3h0m1-3h0m2 0h0m1-1h0m1 2h0m1 0h0m1-2h0m3 4h0m1 1h0m2 1h0m1 0h0m2-7h0m0 5h0m2-3h0m0 4h0m1-4h0m0 2h0m0 5h0m3-5h0m1-4h0m1 0h0m3 7h0m2-5h0m2 5h0m3-5h0m0 6h0m2 0h0m11-1h0m-425 3h0m1 8h0m32-2h0m6 0h0m52-4h0m30 2h0m32 4h0m5-1h0m6-4h0m0 2h0m8 3h0m2-4h0m2 4h0m15-3h0m26-3h0m0 1h0m1-2h0m2 8h0m1-2h0m2-6h0m0 6h0m0 2h0m1-5h0m2 5h0m2-6h0m1 2h0m1-1h0m1 4h0m1-8h0m2 7h0m0 1h0m2-7h0m5 1h0m0 6h0m1-4h0m1 1h0m2-1h0m1-1h0m2 2h0m0 1h0m1-5h0m0 6h0m0 1h0m1 1h0m3-2h0m1 2h0m1-2h0m1-7h0m0 7h0m1 1h0m1-2h0m1-6h0m0 2h0m1 3h0m0 1h0m1-2h0m0 1h0m2-1h0m1 2h0m3-5h0m0 7h0m2-4h0m2 5h0m2-9h0m0 4h0m2 1h0m1 4h0m2-6h0m3-3h0m0 2h0m2 1h0m0 1h0m1-2h0m0 1h0m0 3h0m1-3h0m4 0h0m4-3h0m0 1h0m2 3h0m0 2h0m5-4h0m0 4h0m1-5h0m0 6h0m1-7h0m3 0h0m0 4h0m0 2h0m1-6h0m0 2h0m0 6h0m6-4h0m2 5h0m1-1h0m1-3h0m1 1h0m2 0h0m2-4h0m6-1h0m2 3h0m1 4h0m4-2h0m2-5h0m2 4h0m1 4h0m2-7h0m0 5h0m0 2h0m2-4h0m0 1h0m1-2h0m0 1h0m0 1h0m2-5h0m4 3h0m0 3h0m3-6h0m1-1h0m1 5h0m2-5h0m1 3h0m1-3h0m1 1h0m0 5h0m2 1h0m0 2h0m3-2h0m1-4h0m1-3h0m0 1h0m0 7h0m0 1h0m2-6h0m1 1h0m0 2h0m1 1h0m1-7h0m0 3h0m1 1h0m2 1h0m1-2h0m0 3h0m3-6h0m0 1h0m2 1h0m0 2h0m1-3h0m0 6h0m1-5h0m0 4h0m1 1h0m1-5h0m2-2h0m0 3h0m1 4h0m0 2h0m1-4h0m0 1h0m3-4h0m0 1h0m1 4h0m2-5h0m1 6h0m1-1h0m1-5h0m2-2h0m0 2h0m0 3h0m3 0h0m0 1h0m1-4h0m0 4h0m2-4h0m0 7h0m1-6h0m0 2h0m3-5h0m0 1h0m1 5h0m1-4h0m2 0h0m1-2h0m1 1h0m0 7h0m1-1h0m2 1h0m4-7h0m1 5h0m1 1h0m2-4h0m-452 14h0m24-1h0m3 1h0m1-1h0m5-3h0m3-3h0m7 4h0m11 3h0m3-7h0m0 8h0m7-1h0m2-3h0m38-2h0m22-1h0m34 0h0m12 0h0m1 1h0m0 2h0m6 1h0m2-5h0m2 0h0m0 2h0m10 7h0m2-9h0m16 8h0m13-5h0m3 6h0m3-2h0m8-7h0m4 9h0m1-2h0m2-3h0m1 0h0m1 5h0m1-6h0m1 4h0m1-6h0m2 1h0m5 0h0m2 7h0m4-5h0m1 0h0m2 4h0m1-7h0m1 0h0m0 8h0m3-7h0m2-1h0m0 2h0m3-3h0m0 8h0m1-8h0m0 4h0m0 2h0m2-6h0m0 4h0m1-3h0m1-1h0m1 5h0m0 4h0m2-2h0m5-5h0m1 1h0m2-3h0m2 4h0m1 3h0m0 2h0m4 0h0m2-9h0m0 1h0m1-1h0m0 1h0m0 8h0m1-8h0m2-1h0m0 7h0m1 2h0m1-3h0m2 3h0m1-8h0m0 1h0m1-2h0m0 4h0m1-2h0m1 7h0m1-8h0m0 1h0m4-1h0m1 4h0m0 1h0m1-2h0m0 3h0m1-3h0m0 5h0m1-6h0m2-1h0m1 5h0m5-6h0m2 1h0m1-1h0m0 8h0m3-5h0m2 0h0m2 3h0m3-7h0m1 1h0m8 7h0m2-5h0m3-1h0m0 4h0m2-1h0m0 2h0m1 0h0m2-3h0m1 1h0m2 0h0m0 2h0m1-2h0m0 4h0m2-5h0m3 3h0m1 2h0m1-6h0m2-2h0m1 0h0m1 3h0m0 1h0m0 3h0m7-4h0m0 5h0m1-6h0m1 1h0m1-3h0m2 8h0m2-7h0m1 2h0m1-4h0m0 3h0m0 3h0m2-2h0m0 4h0m1-3h0m0 2h0m1 0h0m2-7h0m0 6h0m0 2h0m1-4h0m0 4h0m1 0h0m1-8h0m0 3h0m0 6h0m2-6h0m1 4h0m1-3h0m0 5h0m1 0h0m1-1h0m1-8h0m1 1h0m2 4h0m1-4h0m1 2h0m1-3h0m1 6h0m1-3h0m0 5h0m1 0h0m1-7h0m0 3h0m1-4h0m0 4h0m0 2h0m0 1h0m1 1h0m0 1h0m1-5h0m0 2h0m0 2h0m1-7h0m0 2h0m0 4h0m0 2h0m1-5h0m1 4h0m1-5h0m0 1h0m1 4h0m1-6h0m0 3h0m1-2h0m0 6h0m1-7h0m0 3h0m1 0h0m1 2h0m2 0h0m0 1h0m1-8h0m2 0h0m0 2h0m1 0h0m3 2h0m1-1h0m2 0h0m1-2h0m0 8h0m7-8h0m0 6h0m3 2h0m-420 2h0m2 1h0m1 6h0m8-2h0m36-1h0m64 4h0m20-4h0m11 1h0m11-1h0m17 0h0m5 4h0m3-7h0m6 0h0m1 7h0m2-7h0m2 3h0m20 3h0m3-1h0m4 1h0m4-8h0m1 5h0m2-5h0m4 3h0m4 6h0m3-5h0m1-2h0m1 1h0m0 5h0m2-3h0m1-1h0m2-4h0m1 6h0m1 1h0m1 0h0m2-4h0m5 2h0m3 2h0m6-1h0m1-1h0m1 3h0m1-3h0m2-3h0m0 3h0m2-4h0m4 1h0m0 6h0m4-6h0m5 7h0m2 0h0m3-8h0m1 6h0m2-6h0m1-1h0m3 1h0m0 1h0m0 5h0m1-7h0m0 8h0m2-5h0m0 5h0m1-6h0m1 5h0m0 2h0m1-8h0m2 2h0m2 0h0m1-1h0m0 7h0m1-3h0m1-5h0m1-1h0m9 8h0m2-7h0m1 2h0m1 1h0m1-3h0m6 0h0m0 8h0m1-6h0m4 2h0m3-1h0m0 5h0m1-3h0m0 1h0m0 1h0m0 1h0m5-8h0m0 2h0m3 2h0m1-5h0m1 3h0m1 2h0m1-5h0m0 1h0m0 5h0m2-3h0m0 4h0m2 1h0m1-6h0m1 0h0m2-1h0m1-1h0m2 0h0m0 2h0m2 4h0m1-1h0m0 4h0m1-7h0m0 4h0m3-2h0m1-4h0m0 1h0m0 3h0m0 3h0m1-2h0m0 1h0m1-3h0m1 0h0m1 1h0m1 0h0m0 1h0m1-2h0m0 5h0m2-7h0m0 5h0m0 3h0m1-8h0m0 1h0m0 1h0m0 5h0m1-5h0m1-2h0m0 2h0m1-1h0m0 3h0m2-2h0m0 5h0m1-6h0m1 5h0m2-5h0m0 2h0m0 5h0m1-8h0m0 3h0m0 1h0m1-1h0m0 5h0m1-9h0m0 6h0m1-6h0m0 3h0m1-3h0m0 1h0m0 7h0m0 1h0m1-1h0m1-5h0m0 5h0m1-6h0m0 5h0m0 1h0m1-1h0m1-3h0m0 1h0m4-4h0m0 1h0m1 7h0m1-6h0m4-2h0m0 2h0m1-3h0m5 4h0m4-3h0m0 5h0m1-2h0m1-1h0m0 2h0m2 0h0m2-5h0m3 9h0m2-6h0m-431 14h0m1-5h0m13 0h0m11-2h0m129 9h0m18-2h0m2-6h0m0 4h0m0 4h0m12-7h0m7-2h0m2 3h0m3 6h0m9-9h0m12 3h0m2 0h0m0 1h0m3-2h0m1 0h0m1 0h0m4 1h0m3 4h0m1-7h0m3 1h0m0 1h0m2 3h0m5 1h0m1-3h0m1 0h0m0 2h0m1 4h0m3-7h0m1-1h0m1 2h0m4 3h0m2-4h0m0 1h0m0 1h0m2-1h0m1 5h0m1-7h0m3 8h0m5-2h0m0 1h0m1-3h0m1 2h0m3-5h0m0 6h0m3-3h0m0 3h0m1 0h0m5-8h0m0 1h0m0 4h0m2 4h0m1-1h0m4 1h0m2-2h0m6-4h0m6 1h0m4 1h0m2 0h0m1-5h0m0 2h0m1 0h0m1 5h0m2-1h0m1-5h0m5 4h0m4-2h0m7 5h0m2-7h0m2 1h0m3 0h0m1 6h0m3 0h0m1-2h0m0 3h0m3-2h0m2-5h0m0 5h0m5 0h0m5-1h0m2-5h0m0 2h0m3-3h0m0 2h0m1-1h0m1 8h0m2-9h0m0 1h0m2 0h0m1-1h0m0 4h0m3 1h0m0 3h0m1-8h0m2 2h0m1-2h0m0 5h0m2 1h0m1-4h0m0 4h0m0 1h0m1-6h0m0 5h0m0 3h0m1-8h0m1 8h0m1-9h0m1 5h0m1 3h0m2-8h0m0 5h0m2-2h0m1 5h0m2-8h0m1 1h0m1 6h0m1-5h0m0 2h0m1-2h0m1 3h0m2-1h0m0 4h0m1-6h0m3 2h0m2 4h0m1 1h0m1-5h0m2 3h0m2-6h0m2 3h0m4-4h0m2 3h0m2 2h0m3-3h0m-440 14h0m112-5h0m27 2h0m32-3h0m0 1h0m7 5h0m6-6h0m8 5h0m1 1h0m3-2h0m4 5h0m5-2h0m1-2h0m3-4h0m4 5h0m19-2h0m0 1h0m2-5h0m3 0h0m3 8h0m3-5h0m1 5h0m5-7h0m0 5h0m2-3h0m3-2h0m0 6h0m2 2h0m2-8h0m0 2h0m7 4h0m2-4h0m1 4h0m1-2h0m3 4h0m1-8h0m0 2h0m10 0h0m0 3h0m2-6h0m1 5h0m6 3h0m1-4h0m2-3h0m3 1h0m2 0h0m7 2h0m2-3h0m0 1h0m1 0h0m0 7h0m1-8h0m2 8h0m4-3h0m2 3h0m4-6h0m0 5h0m3-4h0m0 1h0m2-4h0m4 0h0m0 7h0m1-8h0m3 3h0m0 3h0m2-2h0m3-4h0m3 7h0m0 2h0m1-7h0m0 5h0m2 0h0m3-1h0m3-4h0m3 6h0m0 1h0m1-9h0m1 8h0m0 1h0m1-9h0m8 2h0m0 4h0m2-3h0m1 2h0m1-5h0m0 3h0m4 4h0m3-7h0m0 2h0m0 3h0m1-4h0m0 1h0m1-1h0m0 4h0m0 1h0m1-2h0m1-4h0m0 1h0m0 7h0m3-5h0m3-1h0m2-1h0m0 1h0m0 3h0m1 0h0m1 3h0m1-3h0m0 1h0m4-5h0m2 8h0m1-8h0m2 3h0m1 0h0m0 5h0m2-6h0m2 5h0m3-3h0m2-2h0m0 4h0m1-7h0m2 0h0m2 3h0m0 6h0m1-1h0m1-3h0m1-4h0m1 3h0m5-2h0m5 7h0m2-6h0m3-1h0m5 6h0m7 1h0m-197 2h0m1-1h0m5 5h0m4-5h0m6 9h0m3-4h0m6-2h0m1 2h0m8-4h0m0 2h0m0 1h0m1-3h0m4-1h0m0 2h0m1 3h0m2-5h0m0 7h0m3-3h0m1-2h0m4 1h0m2 2h0m3 2h0m2-7h0m4 3h0m5 5h0m3-6h0m2 0h0m5 3h0m6-5h0m1 6h0m4 1h0m1 0h0m1-5h0m3 5h0m7-2h0m2-2h0m1 0h0m2-2h0m0 4h0m1-2h0m2 4h0m4-7h0m0 4h0m1 3h0m4-6h0m0 3h0m2 4h0m6-3h0m6-5h0m1 6h0m1-3h0m0 1h0m1 0h0m1-4h0m1 1h0m2 7h0m9 1h0m2-3h0m2-5h0m6-1h0m1 2h0m3-1h0m2 1h0m1 2h0m4-2h0m1 2h0m1-4h0m14 8h0m7-5h0m-423 8h0m43 5h0m116-1h0m93-1h0m11-3h0m1-1h0m0 1h0m1 5h0m2-4h0m1 2h0m0 4h0m2-1h0m1-7h0m0 1h0m0 4h0m3-1h0m0 5h0m2-4h0m1 4h0m1-9h0m0 8h0m2-1h0m5-7h0m0 5h0m1-2h0m0 3h0m4-3h0m4 1h0m3-3h0m0 5h0m4 3h0m3-6h0m2 0h0m1 4h0m2-7h0m4 0h0m17 3h0m2 3h0m11-5h0m3-1h0m3 4h0m5-1h0m2 0h0m11-3h0m12 3h0m0 5h0m1-8h0m10 6h0m22 1h0m10-4h0m0 6h0m10-8h0m-203 16h0m6-1h0m8-3h0m4-1h0m3 0h0m1-2h0m5 9h0m3-1h0m7-4h0m1 3h0m8 1h0m2-3h0m0 1h0m17 1h0m1-5h0m7 1h0m23-2h0m21 6h0m13-6h0m73 4h0m20 4h0m-317 8h0m14-5h0m34-2h0m13 6h0m37 2h0m25 0h0m1-8h0m0 9h0m6-4h0m2 3h0m3-7h0m2 6h0m3-2h0m3-1h0m10-2h0m2-2h0m0 6h0m3 2h0m1-3h0m6 1h0m1-6h0m8 7h0m8-2h0m3 0h0m2-5h0m122 6h0m5-4h0m-429 12h0m28 2h0m28 1h0m66 0h0m11 1h0m11-2h0m74 2h0m9-8h0m17 2h0m18-2h0m4 2h0m2 1h0m3-2h0m4 4h0m6-3h0m0 6h0m2-3h0m13-3h0m6 7h0m20-7h0m18 2h0m1-3h0m18 5h0m72 0h0m3-3h0m1 1h0m8 2h0m2-3h0m5 1h0m-442 12h0m32 2h0m19-8h0m7 2h0m4 7h0m15-1h0m54-6h0m59-1h0m30 6h0m16 2h0m7-8h0m4 2h0m8-3h0m7 4h0m2 0h0m5 0h0m18 0h0m15 1h0m17 3h0m105-3h0m9-2h0m3 0h0m2-1h0m10 4h0m-419 8h0m4 4h0m1 0h0m3 0h0m13-2h0m9-3h0m5 2h0m0 2h0m9-2h0m6 0h0m56-3h0m131 5h0m15-3h0m32 2h0m4-2h0m3 3h0m14 1h0m52-7h0m45 6h0m20 0h0m-421 3h0m4 6h0m14 1h0m7 1h0m44-4h0m23 5h0m11 0h0m2 0h0m10-5h0m70 2h0m16-6h0m19 8h0m1-6h0m3 2h0m10 2h0m5-6h0m1 6h0m8 0h0m29 1h0m24 0h0m10-5h0m4 6h0m103-6h0m5 7h0m6 0h0m-406 1h0m1 9h0m1-5h0m4-2h0m1 0h0m44 5h0m21-7h0m116 6h0m7-1h0m0 2h0m11-6h0m15 1h0m1 2h0m3-2h0m1 0h0m5 7h0m7-9h0m14 3h0m2 3h0m6-6h0m0 8h0m8-1h0m3-1h0m1 1h0m2 0h0m71-5h0m48-2h0m2 0h0m8 4h0m3-4h0m4 9h0m3-1h0m-443 11h0m11-7h0m2 3h0m19 3h0m48-7h0m14 4h0m1-4h0m6 8h0m17-6h0m92-1h0m4 4h0m4-3h0m3 1h0m7-2h0m0 3h0m10-3h0m0 4h0m2-3h0m4 2h0m1 3h0m2-6h0m2 4h0m2 0h0m11 0h0m1 0h0m0 3h0m2-4h0m0 2h0m2 0h0m3 0h0m1-2h0m3 2h0m2 1h0m1 0h0m2-2h0m4-4h0m0 4h0m35 3h0m9-5h0m1-1h0m6 1h0m9-1h0m100 1h0m-451 9h0m12 2h0m13-5h0m25 9h0m36 0h0m6 0h0m17-2h0m5-2h0m102-4h0m12 2h0m3-1h0m2 7h0m2-2h0m1 1h0m6-4h0m4 1h0m4-2h0m4-2h0m0 8h0m2-8h0m1 1h0m2 1h0m5-3h0m0 3h0m0 4h0m1 0h0m2 0h0m1-1h0m1-3h0m16-2h0m5 6h0m9 1h0m3-6h0m3 3h0m14-1h0m17 4h0m52-2h0m50-2h0m13 4h0m2-4h0m3-2h0m3 1h0m1 1h0m2-1h0m7 0h0m-456 12h0m1 4h0m5 0h0m3-3h0m1-2h0m3 1h0m3 0h0m1-5h0m13 3h0m70 1h0m93 5h0m6-3h0m9-2h0m10-4h0m4 8h0m4-5h0m4 0h0m11 2h0m0 1h0m2 0h0m5 2h0m2-7h0m2 2h0m8 3h0m2-6h0m4 0h0m9 5h0m1-3h0m2 3h0m3-3h0m0 2h0m3 4h0m1-8h0m5 4h0m1 2h0m3 2h0m9-8h0m8 1h0m0 7h0m4-3h0m1-1h0m3 3h0m5 2h0m5-7h0m2 6h0m31-1h0m6-5h0m1 7h0m38-5h0m20 3h0m25 0h0m6 0h0m-474 9h0m8 0h0m7 0h0m2 1h0m7-2h0m5 0h0m2-1h0m7-2h0m3-2h0m49 0h0m13 8h0m5-5h0m9-3h0m1 8h0m22 0h0m82 1h0m4 0h0m1 0h0m18-8h0m6 0h0m2 8h0m13-1h0m1-4h0m5-4h0m10 0h0m6 7h0m1 2h0m7-9h0m5 3h0m3 5h0m6 1h0m1-8h0m1 8h0m1-1h0m3 0h0m1 1h0m5-2h0m3 2h0m4-6h0m10-3h0m6 2h0m0 6h0m5-8h0m7 3h0m8 3h0m6-4h0m6 3h0m0 2h0m5-3h0m20 3h0m13 2h0m10-1h0m4-1h0m3 1h0m43 1h0m6-8h0m2 4h0m-499 7h0m13 5h0m1 0h0m7-1h0m2 2h0m2-2h0m0 2h0m3-6h0m7 5h0m0 1h0m2-3h0m11-2h0m15 1h0m58 0h0m25-2h0m62-2h0m18 8h0m1-7h0m19 3h0m11 1h0m1-2h0m5 0h0m14 6h0m5-3h0m1 3h0m16-6h0m1 5h0m3-4h0m24 1h0m2 3h0m9-7h0m11 1h0m1 6h0m33-3h0m3 4h0m7-3h0m2 1h0m10-3h0m5 2h0m3-3h0m9 4h0m0 2h0m1-9h0m3 6h0m7 0h0m67 3h0m-483 1h0m3 5h0m2-5h0m0 8h0m1-8h0m2 0h0m1 1h0m0 6h0m2-7h0m2 6h0m3-4h0m0 3h0m63 0h0m25-4h0m108-1h0m24 7h0m2-3h0m5 0h0m20 3h0m7-3h0m4 3h0m3 2h0m15-4h0m1-2h0m0 2h0m2-1h0m6 0h0m9 0h0m2 3h0m9-5h0m66 0h0m2-1h0m17 8h0m6-2h0m70-2h0m6 0h0m-497 13h0m8-2h0m0 2h0m4-8h0m3 6h0m8-6h0m0 4h0m2 2h0m4 3h0m3-7h0m5 4h0m69 2h0m1-4h0m1-3h0m11 7h0m6-1h0m2 2h0m115-3h0m2-6h0m24 6h0m5 0h0m10 1h0m7-3h0m9 5h0m1 0h0m2-6h0m24 5h0m16-7h0m21 8h0m20-8h0m31-1h0m-414 15h0m4 1h0m3-5h0m1 0h0m5-1h0m2 8h0m1-4h0m1 1h0m3-2h0m8 4h0m5-2h0m2-5h0m3 2h0m75-2h0m1 0h0m2 0h0m132 2h0m27-1h0m4 6h0m1-5h0m1 1h0m7-3h0m2 9h0m14-9h0m1 8h0m1-4h0m13-3h0m0 6h0m9-7h0m9 6h0m8 3h0m10-5h0m57 5h0m-400 2h0m2-1h0m2 8h0m200-1h0m6-1h0m27-4h0m15 2h0m5-4h0m17 7h0m14-3h0m6 4h0m3-7h0m2 2h0m1 1h0m7-1h0m3 2h0m7 4h0m1-7h0m19 5h0m26-2h0m-375 7h0m20 5h0m239-2h0m2 1h0m20 2h0m6-4h0m7 1h0m6-2h0m3 5h0m2 1h0m1-4h0m5 1h0m0 3h0m4-8h0m0 4h0m1 4h0m1-6h0m1-1h0m1 3h0m0 3h0m4-5h0m9-2h0m89 4h0m-149 13h0m12-1h0m5-1h0m4-4h0m5 4h0m3-6h0m2 9h0m2-9h0m0 9h0m1-4h0m1-1h0m1-4h0m0 9h0m2 0h0m4 0h0m2-1h0m2-8h0m1 5h0m1-4h0m4 1h0m2 2h0m0 5h0m2-4h0m2-3h0m14 7h0m5-6h0m90 1h0m-206 11h0m27-5h0m10 8h0m18-1h0m4-3h0m1 0h0m3 0h0m4-3h0m2 0h0m0 7h0m5-8h0m1 2h0m1 1h0m9-1h0m3 1h0m1 6h0m3-8h0m0 2h0m1 0h0m0 5h0m1-2h0m2 3h0m5-3h0m1-6h0m34 8h0m-420 2h0m335 6h0m3 1h0m1-6h0m1 0h0m10 1h0m1 1h0m1-1h0m1 4h0m0 1h0m3-5h0m5-2h0m1 6h0m2-4h0m0 6h0m2-8h0m1 5h0m7 3h0m2-6h0m3-2h0m1 3h0m3 2h0m3-4h0m26 2h0m-64 7h0m3 4h0m1 4h0m4-4h0m3 2h0m3-3h0m123 3h0m-492 10h0m311-5h0m12 4h0m24-2h0m7-3h0m18 2h0m55 2h0m31-1h0m-88 8h0m5 7h0m-185 2h0m429 0h0m8 7h0m14 11h0m-411 10h0m-180 10h0m604-6h0m-184 22h0m198 3h0m-177 4h0m148-1h0m-185 19h0m21-2h0m2-2h0m13-2h0m17 1h0m76 2h0m8 1h0m1 1h0m51-1h0m-183 6h0m6 3h0m11-4h0m1 6h0m1 0h0m5-5h0m16 1h0m12 2h0m59 1h0m1 2h0m4 0h0m1-5h0m2 4h0m1-6h0m1 7h0m1-2h0m1 2h0m2-6h0m2-2h0m0 2h0m1-3h0m0 5h0m2-2h0m1-1h0m1 1h0m0 2h0m2 0h0m2-2h0m70 0h0m-218 14h0m30 0h0m19-7h0m5 8h0m17 0h0m44 0h0m4 1h0m2-2h0m1 0h0m1-4h0m1 1h0m1 3h0m2-4h0m1-1h0m0 7h0m3-8h0m0 2h0m2-3h0m0 1h0m0 6h0m2-5h0m13 1h0m20-2h0m27 7h0m3-6h0m43 3h0m12-3h0m-250 17h0m11-7h0m8-1h0m0 6h0m18-4h0m2-1h0m48 4h0m5 3h0m3-1h0m2 1h0m6-3h0m3-1h0m0 3h0m1-1h0m1 0h0m1-4h0m0 4h0m0 2h0m1-5h0m1 1h0m1-2h0m2 3h0m1-5h0m2 3h0m2 1h0m1-5h0m27 7h0m109-7h0m7 1h0m-314 15h0m13 3h0m6-3h0m2 1h0m2 2h0m28-3h0m14-1h0m14 2h0m8-3h0m16 1h0m3 1h0m20-4h0m14 5h0m3 1h0m1 0h0m1-1h0m1-5h0m0 2h0m0 5h0m1 0h0m2-9h0m3 2h0m2-1h0m1 0h0m0 3h0m1-1h0m58 6h0m15-8h0m5 0h0m2 5h0m41-4h0m51 3h0m-333 12h0m1-4h0m0 4h0m0 2h0m1-4h0m0 2h0m1-2h0m0 3h0m2 1h0m1-5h0m1 5h0m1-5h0m0 4h0m2 1h0m2-7h0m0 7h0m1-7h0m1-1h0m2 2h0m1-1h0m1-2h0m0 3h0m0 3h0m2-3h0m0 3h0m1-5h0m0 3h0m0 2h0m4-1h0m1-3h0m0 6h0m2-2h0m31-2h0m19 2h0m3 3h0m7-9h0m2 9h0m7 0h0m6-2h0m6-1h0m6 3h0m1-7h0m4 5h0m1-4h0m6 3h0m2-4h0m5 0h0m2 1h0m1-1h0m0 1h0m0 1h0m1 1h0m0 3h0m3 0h0m1-8h0m0 1h0m1 3h0m0 4h0m1-6h0m1 0h0m1 0h0m1 0h0m1 4h0m1-6h0m0 2h0m4-2h0m129 9h0m-329 8h0m10 2h0m1-5h0m4 4h0m5-4h0m0 3h0m0 2h0m1-3h0m1 1h0m0 1h0m7 1h0m1-4h0m0 4h0m2-6h0m4-3h0m0 2h0m3-1h0m1 2h0m2 0h0m5-2h0m5 5h0m6-1h0m41-4h0m9 3h0m11-3h0m3 5h0m8 0h0m3-1h0m0 2h0m1-3h0m0 1h0m1 2h0m3-7h0m0 8h0m4-3h0m2-5h0m3 7h0m0 1h0m4-6h0m0 2h0m0 3h0m7-2h0m1 2h0m9-6h0m0 8h0m1-6h0m0 5h0m0 1h0m1-9h0m1 1h0m0 7h0m1-6h0m0 6h0m1 1h0m1 0h0m1-6h0m0 5h0m1-1h0m1-7h0m1 6h0m1-6h0m3 7h0m0 2h0m1-6h0m0 3h0m1-4h0m0 1h0m1 3h0m2-4h0m3 0h0m10 0h0m5 3h0m110-5h0m9 6h0m13-4h0m9 6h0m-365 11h0m15-3h0m1 1h0m3-2h0m1 4h0m1-9h0m4 2h0m0 4h0m4-4h0m1 3h0m2-4h0m3 1h0m1 2h0m1-4h0m1 2h0m1-2h0m0 6h0m3-5h0m0 4h0m2-4h0m5 1h0m3 1h0m100 4h0m1-6h0m1 0h0m0 3h0m2-3h0m2-1h0m0 3h0m2-1h0m5 4h0m3-5h0m4 3h0m4 0h0m1-3h0m4-1h0m5 0h0m2 1h0m2-1h0m1 2h0m3 2h0m5 4h0m18-4h0m10-4h0m21 6h0m120 0h0m-456 11h0m0 1h0m3 1h0m1-4h0m1 0h0m0 3h0m0 1h0m1-3h0m2 1h0m16 0h0m3-6h0m0 6h0m4 1h0m0 1h0m3 0h0m7-2h0m11 2h0m18-3h0m2 2h0m2-7h0m1 8h0m1-1h0m3-5h0m0 4h0m1 0h0m1-2h0m3-5h0m0 3h0m2 0h0m1 5h0m3-5h0m0 1h0m1 0h0m1 0h0m0 1h0m1-4h0m1 1h0m5-1h0m0 1h0m0 4h0m3-6h0m16 5h0m140-5h0m1 5h0m1-3h0m1 0h0m17-2h0m81 4h0m16-1h0m19 1h0m99 1h0m-497 9h0m0 1h0m0 3h0m2-2h0m0 2h0m2 0h0m0 1h0m1-3h0m0 2h0m1-6h0m0 1h0m0 1h0m0 2h0m2-1h0m1-4h0m0 1h0m0 1h0m0 1h0m1-2h0m0 5h0m1-4h0m0 4h0m2-7h0m0 3h0m0 6h0m1-7h0m0 1h0m0 1h0m0 1h0m2 1h0m2-5h0m0 7h0m1-7h0m0 1h0m0 6h0m1-3h0m1 1h0m1-4h0m1-1h0m0 2h0m1 5h0m1-6h0m1 6h0m1-7h0m0 7h0m1-8h0m0 2h0m0 3h0m1-1h0m0 2h0m0 3h0m1-3h0m1 0h0m0 2h0m0 1h0m1-6h0m0 2h0m1-3h0m0 3h0m0 2h0m2-1h0m1-5h0m0 4h0m0 4h0m1-2h0m0 1h0m1-2h0m2 0h0m0 2h0m1-6h0m0 2h0m0 4h0m1-2h0m1-1h0m0 1h0m1-6h0m0 6h0m0 1h0m1 0h0m1 0h0m2-3h0m1-1h0m1 1h0m0 5h0m1-2h0m0 2h0m1-7h0m0 3h0m0 2h0m1 1h0m1-5h0m0 2h0m3 4h0m1-9h0m0 1h0m0 4h0m1-1h0m2 4h0m1 1h0m1-5h0m2-4h0m0 8h0m2-2h0m2-1h0m1-5h0m1 3h0m1 3h0m3-3h0m10-2h0m178 2h0m-263 11h0m0 3h0m2-4h0m1-3h0m1 3h0m2 6h0m2-7h0m3 2h0m5-2h0m2-2h0m1 0h0m1 8h0m1-7h0m0 2h0m1 3h0m1 0h0m0 3h0m1-9h0m0 9h0m2-7h0m3-2h0m0 3h0m1-1h0m1-2h0m0 4h0m1-1h0m1-2h0m1 1h0m1 0h0m1-2h0m0 4h0m0 2h0m1-6h0m1 1h0m1-1h0m0 1h0m1-1h0m0 7h0m1-7h0m0 9h0m1-8h0m0 5h0m5-1h0m2-1h0m0 2h0m1-6h0m0 6h0m2-6h0m0 2h0m1 6h0m2-4h0m3-2h0m1-2h0m1 1h0m1 6h0m1-3h0m0 2h0m1-6h0m7 1h0m-308 15h0m182-1h0m-253 8h0" stroke="#e2907a" stroke-width="6.2"/>
<path d="M946 341h0m4 8h0m1 0h0m1-7h0m2 4h0m1 2h0m10 1h0m-19 7h0m6-1h0m1 1h0m5-2h0m5-1h0m0 1h0m0 5h0m2-4h0m0 3h0m-31 6h0m2 3h0m3-1h0m6 0h0m2-2h0m0 5h0m2-6h0m4 5h0m3-1h0m3-5h0m0 1h0m1-2h0m0 7h0m1-5h0m0 6h0m1-2h0m2-3h0m-19 13h0m2 0h0m1-6h0m3 6h0m5-7h0m1 0h0m2 7h0m5-6h0m2 2h0m0 2h0m-9 8h0m1 6h0m-5 8h0m3 0h0m3-2h0m1 0h0m-1 6h0m0 1h0m-2 8h0m4 9h0m1-2h0m-235 9h0m96 2h0m21-2h0m0 3h0m9-9h0m111 5h0m65-3h0m-337 8h0m12 0h0m1 8h0m6 1h0m6-4h0m0 3h0m1-5h0m11 2h0m77 3h0m7-3h0m1 0h0m12 2h0m2-4h0m0 3h0m0 3h0m5-2h0m4 0h0m0 1h0m4-2h0m2 3h0m121-4h0m1-4h0m78 3h0m34 2h0m13 3h0m-385 7h0m0 1h0m1-2h0m0 1h0m1 0h0m1-4h0m1 0h0m0 6h0m1-6h0m0 1h0m0 2h0m2-3h0m0 4h0m0 2h0m0 1h0m2-5h0m2 1h0m2 4h0m1-3h0m1-3h0m0 2h0m0 2h0m0 1h0m3-3h0m0 1h0m1 0h0m0 3h0m1-1h0m1-3h0m0 1h0m0 2h0m0 1h0m2-3h0m0 3h0m1-3h0m0 2h0m1-4h0m1 0h0m1-4h0m0 9h0m2-4h0m1 3h0m1 1h0m1 0h0m5-4h0m66-1h0m5 3h0m3-3h0m0 4h0m5-4h0m0 3h0m1 1h0m1-4h0m5 2h0m4-3h0m2 1h0m1 0h0m1 2h0m1-5h0m4 3h0m6 0h0m4-1h0m0 3h0m1 3h0m1-4h0m164-4h0m3 7h0m13-1h0m17 1h0m8-7h0m3 1h0m3 1h0m5 4h0m1-3h0m3 1h0m3 1h0m6-1h0m3 3h0m6-1h0m4-3h0m-401 9h0m2 3h0m2-5h0m3 8h0m5-8h0m2 3h0m1-3h0m1 2h0m0 1h0m1 0h0m2-3h0m0 5h0m1-6h0m1 2h0m1 7h0m1 0h0m1-9h0m0 3h0m0 3h0m1-3h0m0 2h0m0 2h0m1-1h0m0 1h0m0 2h0m1-8h0m0 4h0m1 4h0m1-5h0m0 1h0m1-3h0m0 7h0m2-4h0m1 3h0m1-1h0m1-2h0m1-3h0m0 1h0m0 1h0m0 3h0m1-7h0m2 0h0m0 7h0m0 1h0m1-6h0m0 7h0m1-5h0m1 5h0m2-4h0m3 4h0m4-6h0m7 6h0m33-1h0m4-4h0m5 1h0m2-3h0m16-1h0m0 6h0m1-6h0m2-1h0m0 7h0m2-2h0m3-2h0m0 3h0m1 0h0m1-3h0m1-2h0m0 7h0m1-5h0m0 4h0m1-1h0m0 3h0m2-7h0m0 5h0m0 1h0m1-5h0m0 2h0m1 0h0m1-3h0m1 0h0m1-1h0m0 2h0m0 6h0m1-9h0m1 5h0m1-3h0m1-2h0m2 0h0m0 3h0m1-1h0m5-1h0m0 6h0m1-7h0m0 7h0m2 2h0m3-5h0m3 4h0m11 1h0m3-8h0m5-1h0m150 8h0m7-5h0m9 2h0m6-4h0m0 4h0m0 2h0m1 0h0m8-6h0m0 7h0m3-6h0m0 7h0m1-8h0m3 3h0m1 3h0m2 0h0m7-4h0m2 2h0m3 3h0m5-6h0m1-2h0m0 3h0m1 1h0m2 0h0m12-4h0m3 1h0m8 1h0m0 4h0m31 3h0m-438 8h0m9-2h0m2-4h0m2 2h0m2-1h0m3 6h0m1-5h0m1-2h0m2 0h0m0 3h0m1 2h0m3-4h0m0 2h0m3 3h0m0 2h0m2-8h0m0 2h0m0 1h0m2-4h0m3 0h0m1 3h0m4-2h0m0 8h0m1-4h0m7-1h0m38 0h0m4 5h0m3 0h0m6-7h0m0 4h0m6-5h0m0 1h0m0 5h0m3-1h0m5-2h0m5-1h0m2 0h0m0 3h0m1-3h0m3 4h0m2-1h0m0 3h0m1-6h0m0 3h0m0 3h0m1 0h0m2-1h0m2-4h0m1-1h0m2-3h0m0 5h0m0 1h0m0 1h0m1-6h0m0 4h0m1-5h0m0 3h0m0 1h0m2-4h0m0 1h0m3 7h0m1-7h0m1 0h0m1 8h0m1-8h0m2 5h0m4-5h0m3 1h0m1 1h0m2 4h0m1-5h0m0 6h0m136-1h0m15-4h0m4 6h0m2-3h0m8-3h0m1 0h0m1 2h0m2 3h0m4-7h0m2 4h0m3-5h0m0 5h0m3 1h0m5-3h0m1 3h0m1-3h0m2-2h0m2 0h0m0 8h0m5-5h0m3 5h0m3-5h0m0 1h0m1-3h0m3 7h0m2-6h0m3 6h0m4-3h0m6-3h0m8 0h0m0 3h0m0 3h0m3-8h0m3 3h0m1-1h0m7-1h0m2 7h0m21-1h0m-413 9h0m8-3h0m1 0h0m1 1h0m1-5h0m1 0h0m2 1h0m1 3h0m0 1h0m3-3h0m1-2h0m2 7h0m3-5h0m2 1h0m1-2h0m0 5h0m1-1h0m2-5h0m3 5h0m27 3h0m1-3h0m1-1h0m0 1h0m2 3h0m14-5h0m1 2h0m2 2h0m2 0h0m1-5h0m0 1h0m1 0h0m1-2h0m2 7h0m1 0h0m3-8h0m1 2h0m0 4h0m1 2h0m1 0h0m1-3h0m1-5h0m0 9h0m3-3h0m0 2h0m1-5h0m0 2h0m1 0h0m3 1h0m4-6h0m0 4h0m0 2h0m1-3h0m4 0h0m1 0h0m0 2h0m0 2h0m1-1h0m2-1h0m0 2h0m1-7h0m0 4h0m6-2h0m0 1h0m2-2h0m4 3h0m8 2h0m8-2h0m8 3h0m7-2h0m20 1h0m27 3h0m17-3h0m3 1h0m2-2h0m9-2h0m10 3h0m3 3h0m6-9h0m38 3h0m11 5h0m4-5h0m10 2h0m2-1h0m12-3h0m3 5h0m3-2h0m5 0h0m5 3h0m7-3h0m1 5h0m1-2h0m7-7h0m1 1h0m6 5h0m7-4h0m12 2h0m17-2h0m-399 10h0m6 2h0m0 2h0m2-5h0m1 6h0m3-1h0m3-6h0m1 0h0m0 8h0m1-8h0m2 2h0m5 7h0m3-8h0m4 6h0m7-3h0m3-4h0m5 9h0m4-9h0m6 7h0m2-6h0m0 6h0m2-7h0m0 2h0m0 3h0m1-2h0m2 3h0m2-4h0m1 3h0m4-5h0m2 4h0m2-4h0m0 4h0m1-4h0m3 5h0m3 3h0m1-1h0m3 1h0m4-3h0m3 4h0m3-4h0m1-5h0m1 9h0m2-8h0m1 5h0m1-6h0m8 4h0m1-1h0m4-2h0m2 4h0m2-2h0m1-2h0m0 5h0m1 0h0m3-6h0m2 3h0m0 4h0m5-7h0m0 5h0m4 4h0m6 0h0m3-5h0m38-1h0m1 6h0m44-5h0m0 2h0m17 1h0m3-1h0m1 1h0m3 0h0m20-4h0m6 2h0m7-4h0m3 2h0m4 6h0m1-4h0m1-1h0m47-4h0m9 3h0m0 2h0m1-4h0m2 4h0m1 2h0m2 1h0m4 0h0m8 0h0m3-7h0m13-1h0m2 9h0m5-8h0m-384 17h0m4-2h0m2 0h0m2-2h0m0 2h0m5 2h0m1-4h0m1 1h0m0 2h0m1-7h0m0 8h0m1-5h0m0 3h0m2-4h0m1 1h0m1 5h0m25-1h0m4-3h0m26-2h0m5 3h0m1-5h0m2 8h0m4-5h0m0 3h0m6-4h0m2 3h0m3-4h0m1 3h0m0 1h0m0 3h0m1-5h0m5 0h0m0 6h0m1-4h0m3-1h0m0 1h0m1 2h0m3-2h0m1-3h0m1 3h0m7-2h0m3-3h0m0 8h0m4 0h0m6-7h0m74 5h0m3-6h0m3 5h0m2-3h0m8 4h0m3-5h0m2 7h0m1 1h0m21-2h0m4 1h0m16 0h0m6 0h0m0 1h0m1-7h0m1 2h0m5-1h0m17 0h0m7 6h0m2-3h0m3 0h0m3 2h0m1-6h0m19 2h0m16 0h0m2 3h0m6-3h0m0 4h0m-360 3h0m4 3h0m2-4h0m2 4h0m0 5h0m1-5h0m1 0h0m1-4h0m1 1h0m1 4h0m1 1h0m1-6h0m0 3h0m2 4h0m1-1h0m1-1h0m7 1h0m8-6h0m15 8h0m25-2h0m5-3h0m1 1h0m0 2h0m2-4h0m3 3h0m7-4h0m2 2h0m2-3h0m4 4h0m2-3h0m0 1h0m2 5h0m2 0h0m3 0h0m1-2h0m3-3h0m5-1h0m0 7h0m1-7h0m3-1h0m1 8h0m3-6h0m2-2h0m0 9h0m1-3h0m8-3h0m0 5h0m1 1h0m5-7h0m4 6h0m3-4h0m4-1h0m14 5h0m12-7h0m20 1h0m10 0h0m3 2h0m2 2h0m2 2h0m15-3h0m5-3h0m1 4h0m6-2h0m1-1h0m1 4h0m8-2h0m5-4h0m2-1h0m1 0h0m2 0h0m0 5h0m14-4h0m3 6h0m13-4h0m2 1h0m7-2h0m4 6h0m17 0h0m9-1h0m32-5h0m2 2h0m-367 13h0m4-2h0m0 2h0m3 2h0m1-8h0m1 2h0m0 2h0m2-5h0m0 5h0m1-3h0m0 2h0m1-1h0m0 2h0m1 0h0m3-2h0m0 2h0m1 0h0m0 1h0m1 3h0m1-4h0m1-2h0m1-3h0m2 1h0m1 3h0m1-4h0m0 2h0m2 1h0m2 4h0m2-1h0m2-4h0m2 3h0m5 3h0m2-2h0m2-2h0m16 3h0m18-2h0m5-3h0m0 3h0m6 2h0m2-7h0m0 6h0m5-2h0m8-1h0m1 0h0m0 2h0m1 2h0m0 1h0m1-5h0m2-3h0m0 9h0m2-3h0m1-6h0m5 9h0m1-3h0m10 1h0m2-6h0m1 2h0m11 0h0m3 1h0m1 3h0m2-5h0m3 0h0m1 0h0m0 7h0m8 0h0m51-4h0m5 0h0m1 3h0m7 1h0m3-9h0m0 5h0m5-5h0m1 2h0m2 3h0m1-2h0m6-3h0m2 8h0m2-6h0m4-2h0m0 6h0m14 3h0m5-2h0m4-3h0m0 2h0m4-5h0m23 7h0m2-3h0m2 2h0m2-3h0m14 3h0m4-6h0m2 8h0m16-7h0m8 7h0m14-2h0m4-5h0m3-1h0m2 2h0m2 6h0m1-7h0m0 5h0m5-5h0m1 0h0m2 5h0m7 1h0m-410 11h0m2-9h0m0 3h0m2 2h0m1-1h0m0 1h0m0 3h0m1-5h0m0 1h0m6-3h0m0 6h0m0 1h0m2 0h0m2-6h0m4 3h0m0 4h0m1-8h0m3 3h0m1 1h0m1-5h0m0 4h0m3-3h0m0 3h0m1 2h0m1-4h0m0 3h0m0 2h0m3-5h0m1 1h0m3 1h0m2-1h0m0 2h0m0 3h0m1-5h0m1-2h0m0 6h0m2-2h0m1 1h0m4-5h0m2 8h0m1-1h0m4-5h0m2 2h0m3-4h0m1 2h0m0 2h0m5-1h0m3-3h0m2 4h0m1-1h0m6 3h0m26-2h0m6-3h0m0 1h0m20 6h0m5-5h0m6-4h0m0 7h0m0 2h0m2-8h0m5 7h0m1-7h0m1 0h0m0 2h0m0 2h0m3-5h0m0 1h0m2 1h0m0 3h0m1 0h0m2 0h0m1 1h0m4-4h0m3 2h0m0 4h0m6-6h0m1 7h0m12-1h0m2-4h0m4 4h0m1-1h0m16-6h0m10 6h0m7-3h0m7 2h0m10-6h0m5 4h0m10 3h0m8-2h0m3 1h0m5-6h0m15 3h0m0 5h0m3-8h0m14 9h0m4-3h0m14-2h0m16 3h0m6-4h0m3-2h0m0 8h0m12-3h0m12 0h0m2-3h0m15-3h0m0 3h0m2 2h0m0 2h0m4-1h0m19 2h0m25-7h0m-475 18h0m17-7h0m6-1h0m4 7h0m3 1h0m1 0h0m6-4h0m3-2h0m0 4h0m2-3h0m1 2h0m1-2h0m3 5h0m1-5h0m0 4h0m2-4h0m0 2h0m1-2h0m0 4h0m2-7h0m0 4h0m2-5h0m0 5h0m0 4h0m1-8h0m0 2h0m1 2h0m0 1h0m1-6h0m0 8h0m1-5h0m0 1h0m0 4h0m0 1h0m1-6h0m1-1h0m0 3h0m1-5h0m1 8h0m1-4h0m1-4h0m0 2h0m1 5h0m2 0h0m1-7h0m0 7h0m3 0h0m1-2h0m1-3h0m0 3h0m0 4h0m3-8h0m0 4h0m0 3h0m2-5h0m0 2h0m0 1h0m0 3h0m2-8h0m0 8h0m3-1h0m2-5h0m1 5h0m0 1h0m2-8h0m0 3h0m1-1h0m0 2h0m0 2h0m2 0h0m0 2h0m1-7h0m0 2h0m0 3h0m5-5h0m1 5h0m1-2h0m4 4h0m1-9h0m0 5h0m0 4h0m11-5h0m1 0h0m8-1h0m1-3h0m23 0h0m19 1h0m0 1h0m8 5h0m2-5h0m1 2h0m1 0h0m3 0h0m5 1h0m1-5h0m0 2h0m3 7h0m1-7h0m3 3h0m2 0h0m0 4h0m3 0h0m1-3h0m2-4h0m2 7h0m1-1h0m1-3h0m0 4h0m3-6h0m4 3h0m1 1h0m0 1h0m0 1h0m2-7h0m7 6h0m3 1h0m3 0h0m5-4h0m9 2h0m5-1h0m1 3h0m21-1h0m10-4h0m5-4h0m12 1h0m7-1h0m1 0h0m4 8h0m3 1h0m8-4h0m12-4h0m3 5h0m4-2h0m2 4h0m2 0h0m13-8h0m1 0h0m3 6h0m3 0h0m21 0h0m22-6h0m0 1h0m1 3h0m6-2h0m9 0h0m5-1h0m5 7h0m17 0h0m-442 9h0m4-6h0m1 2h0m0 3h0m2-5h0m1 1h0m0 1h0m1-1h0m0 6h0m11-5h0m1 3h0m0 2h0m2-6h0m0 1h0m1 5h0m1-1h0m1 1h0m1-2h0m1-6h0m0 9h0m1-2h0m2-7h0m1 2h0m1-1h0m1 1h0m1 1h0m0 1h0m2-3h0m0 4h0m0 1h0m0 1h0m0 1h0m0 1h0m2-9h0m0 2h0m1 5h0m1-1h0m2-4h0m0 4h0m1-6h0m0 1h0m1 1h0m0 2h0m1-3h0m1-1h0m0 3h0m0 3h0m0 3h0m1-7h0m0 4h0m0 2h0m1-1h0m0 1h0m1-4h0m0 1h0m1-3h0m0 2h0m1-4h0m0 2h0m0 2h0m0 3h0m0 1h0m1-2h0m0 3h0m1-8h0m0 6h0m1-7h0m1 2h0m0 3h0m0 1h0m1 1h0m0 2h0m1-2h0m0 2h0m1-4h0m0 2h0m0 1h0m1 1h0m1-8h0m0 7h0m1-3h0m0 4h0m1-7h0m0 7h0m1-8h0m0 7h0m2-2h0m0 3h0m2-9h0m0 1h0m0 2h0m0 2h0m0 1h0m0 2h0m5-4h0m0 1h0m1-3h0m0 1h0m1 1h0m0 4h0m1-8h0m0 8h0m1-6h0m0 3h0m2 1h0m2-6h0m1 7h0m0 1h0m2-5h0m1 3h0m0 1h0m2-1h0m1 3h0m1-5h0m0 5h0m1-4h0m0 4h0m3-5h0m1 0h0m2 3h0m3-5h0m0 1h0m3 4h0m2-3h0m0 2h0m1-5h0m0 7h0m11-1h0m38 0h0m2-6h0m11 3h0m0 5h0m8-6h0m2-1h0m2-1h0m2-1h0m0 1h0m1 3h0m0 3h0m1-7h0m4 4h0m2-3h0m6 2h0m0 6h0m1-1h0m1-8h0m0 1h0m0 7h0m1-7h0m0 3h0m1 5h0m1-8h0m0 3h0m1-4h0m0 2h0m0 7h0m1-7h0m0 2h0m0 5h0m1 0h0m2-7h0m1 4h0m0 1h0m3-5h0m0 3h0m0 2h0m2-7h0m0 2h0m0 6h0m1-4h0m0 1h0m0 3h0m1-5h0m1-3h0m0 4h0m0 2h0m1-5h0m0 5h0m1 1h0m3 2h0m2-9h0m2 5h0m0 4h0m1-5h0m0 5h0m1-3h0m3-3h0m2 2h0m0 2h0m1-6h0m1 0h0m5-1h0m0 7h0m0 2h0m13-1h0m15-4h0m13 5h0m4-5h0m26 2h0m24-6h0m1 3h0m9 4h0m11-4h0m2-2h0m13 5h0m3-2h0m9-3h0m0 4h0m3 3h0m13-7h0m1 8h0m14-7h0m4 6h0m8-1h0m1 2h0m1-6h0m12 0h0m10 5h0m1 1h0m-463 9h0m2 1h0m1-2h0m1-7h0m2 9h0m1-2h0m1 1h0m6-6h0m0 5h0m2-4h0m2-1h0m0 1h0m2-2h0m0 8h0m1-1h0m1-2h0m1 1h0m1 1h0m1-1h0m0 2h0m3-5h0m0 2h0m1 3h0m3-9h0m0 1h0m0 3h0m0 1h0m2 4h0m1-8h0m0 3h0m1-2h0m1 2h0m1 5h0m1-6h0m1 0h0m2-2h0m2 3h0m1-4h0m0 4h0m1-2h0m0 3h0m1 4h0m1-6h0m2-2h0m1 0h0m0 7h0m1-7h0m0 8h0m1-6h0m0 4h0m0 1h0m0 1h0m2-8h0m0 7h0m1-6h0m2 6h0m1-6h0m2-1h0m0 5h0m0 2h0m2-1h0m0 1h0m1 1h0m2-9h0m0 4h0m0 1h0m3 3h0m0 1h0m3-9h0m0 2h0m0 1h0m3-1h0m1 3h0m0 1h0m0 2h0m1-7h0m0 2h0m0 1h0m1-4h0m1 6h0m1-1h0m1 0h0m1-2h0m0 4h0m2-7h0m1 2h0m1 4h0m1-5h0m0 1h0m0 2h0m0 2h0m0 1h0m1-6h0m0 3h0m2 1h0m4-5h0m1 7h0m4-7h0m1 8h0m2-8h0m0 2h0m0 2h0m0 3h0m5-5h0m1-2h0m0 3h0m0 6h0m5-1h0m2-2h0m6-2h0m8 3h0m4-7h0m16 8h0m2-8h0m8 2h0m9 6h0m29-1h0m3-4h0m3-3h0m3 3h0m2 4h0m4-3h0m1 4h0m1-6h0m1 4h0m0 2h0m1-4h0m1-3h0m1-1h0m0 7h0m3-5h0m0 4h0m1-4h0m3 6h0m1-3h0m2-2h0m1-3h0m0 2h0m0 6h0m2-5h0m0 2h0m3-3h0m1 0h0m2 2h0m0 1h0m0 4h0m1-7h0m2 3h0m1-2h0m0 5h0m1-6h0m0 3h0m0 2h0m2-2h0m3 2h0m1-7h0m3 3h0m4-3h0m2 2h0m11 3h0m6-5h0m2 9h0m2-7h0m2 3h0m5-4h0m4 0h0m32 2h0m29 0h0m14-3h0m12 9h0m31-9h0m2 9h0m2-3h0m10 1h0m10-7h0m1 0h0m0 8h0m1 1h0m1 0h0m13-4h0m3 2h0m5-3h0m2 0h0m10-2h0m6 7h0m-478 2h0m1-1h0m0 3h0m3 5h0m2-4h0m2 3h0m1-3h0m0 3h0m3-7h0m2 3h0m1 5h0m2-8h0m1 2h0m0 6h0m3-6h0m0 3h0m0 3h0m0 1h0m1-8h0m0 2h0m0 5h0m1-6h0m0 2h0m0 3h0m0 1h0m1-8h0m0 3h0m1-3h0m0 7h0m0 1h0m0 1h0m1-8h0m0 7h0m1-7h0m0 5h0m0 3h0m1-6h0m0 1h0m0 4h0m1-3h0m0 2h0m1-2h0m0 4h0m1-6h0m0 2h0m0 3h0m0 1h0m2-9h0m0 1h0m0 2h0m0 3h0m0 2h0m1-2h0m0 1h0m0 1h0m1-2h0m1-2h0m0 1h0m0 1h0m1-2h0m0 1h0m0 1h0m1-5h0m0 3h0m0 1h0m0 3h0m1-7h0m1 0h0m0 3h0m0 1h0m1 0h0m0 3h0m2-7h0m0 3h0m1-2h0m0 5h0m1-6h0m2 2h0m1 1h0m1 0h0m0 3h0m1-6h0m2 0h0m1 0h0m1-1h0m0 9h0m2-3h0m1 2h0m0 1h0m2-9h0m0 8h0m2-7h0m1 5h0m1-1h0m2-5h0m0 8h0m1-6h0m2 1h0m1 1h0m0 4h0m1-7h0m2 0h0m0 2h0m1 3h0m3-5h0m0 3h0m1-3h0m1-1h0m0 4h0m2 0h0m0 2h0m1-5h0m0 2h0m1-1h0m0 2h0m0 2h0m2-3h0m1 5h0m1-1h0m1-4h0m1 6h0m1-5h0m2-3h0m0 1h0m1 4h0m1-5h0m1 0h0m2 4h0m3-2h0m0 5h0m2 1h0m2-8h0m2 6h0m0 2h0m12-3h0m29-4h0m3 4h0m7-2h0m17-4h0m18 6h0m7-3h0m4 0h0m2 0h0m2 5h0m1-6h0m1 4h0m1-6h0m1 7h0m5-4h0m0 4h0m1-7h0m0 3h0m0 5h0m2-8h0m0 2h0m2 3h0m1-3h0m1-1h0m0 7h0m1-3h0m1-4h0m0 2h0m2 5h0m0 1h0m2-8h0m0 5h0m1 2h0m1-6h0m1-1h0m0 1h0m0 2h0m2-3h0m0 2h0m0 6h0m1-9h0m0 5h0m0 2h0m1-7h0m0 1h0m0 3h0m0 1h0m3-4h0m0 4h0m1 4h0m3 0h0m1-7h0m0 1h0m0 4h0m0 1h0m1 1h0m2-6h0m1-3h0m0 8h0m1 1h0m2-4h0m1 0h0m0 2h0m1-5h0m0 6h0m2-5h0m2-3h0m0 5h0m1 2h0m2-1h0m4-4h0m0 7h0m3-2h0m2 2h0m4-9h0m1 7h0m10 1h0m6-4h0m0 1h0m5 3h0m1-7h0m8 4h0m1 0h0m7-2h0m26 0h0m16-2h0m17 5h0m0 3h0m5-3h0m1-6h0m15 7h0m1-1h0m0 2h0m5 0h0m4-3h0m12 1h0m3 3h0m4-8h0m18-1h0m7 5h0m7-5h0m-452 15h0m2-3h0m1 5h0m3-6h0m0 3h0m0 4h0m2 1h0m1-1h0m0 1h0m1-1h0m1 1h0m1-5h0m0 4h0m1-7h0m1 1h0m1 1h0m0 6h0m1-1h0m1-8h0m0 2h0m0 2h0m0 1h0m1-4h0m0 1h0m0 5h0m1-1h0m1 0h0m1-6h0m1 1h0m0 1h0m0 1h0m0 4h0m1-6h0m0 1h0m1-1h0m0 4h0m0 1h0m0 1h0m1-7h0m0 2h0m0 4h0m1-5h0m0 2h0m1 0h0m1 3h0m1-5h0m0 2h0m0 2h0m1-3h0m0 3h0m1-4h0m2 1h0m0 3h0m0 4h0m2-7h0m0 2h0m0 2h0m1-4h0m1-1h0m0 8h0m1-7h0m0 4h0m1-5h0m0 3h0m0 3h0m0 1h0m1-4h0m0 4h0m1 1h0m1-5h0m0 3h0m1-3h0m0 4h0m1-4h0m0 5h0m3-5h0m3 5h0m1-3h0m2 0h0m3 0h0m1-2h0m0 3h0m1-7h0m0 1h0m2 3h0m2-2h0m1-1h0m1 5h0m3-2h0m3-2h0m0 4h0m1-2h0m3-3h0m0 4h0m1-5h0m0 1h0m1 3h0m1 5h0m1-3h0m4-2h0m4-4h0m5 0h0m1 3h0m0 4h0m3-4h0m2 0h0m0 4h0m1-7h0m4 1h0m1 4h0m0 2h0m3-7h0m8 6h0m7-6h0m13 5h0m48 4h0m30-4h0m1-4h0m0 6h0m1-2h0m1-2h0m1 0h0m1 4h0m1-6h0m0 7h0m2-6h0m0 7h0m3-6h0m2 5h0m2-8h0m0 2h0m0 3h0m3-2h0m1 0h0m1 2h0m2-1h0m4-3h0m1-1h0m0 2h0m1 4h0m1-1h0m3-1h0m1 1h0m1 1h0m1 1h0m1 2h0m1-2h0m0 1h0m3-6h0m0 2h0m0 1h0m2 2h0m5 2h0m1-8h0m0 4h0m3-1h0m5 0h0m1-1h0m13 6h0m1-8h0m4-1h0m5 3h0m7 1h0m12 4h0m5-2h0m34-5h0m7 1h0m2 4h0m2-5h0m16 6h0m5-5h0m3-1h0m1 4h0m10-1h0m7 3h0m5-7h0m2 4h0m11 1h0m2-2h0m3-3h0m3 2h0m0 3h0m1 0h0m0 2h0m1-5h0m1-1h0m1-1h0m1 2h0m0 6h0m6 1h0m22-1h0m4 1h0m9-4h0m1-3h0m10 4h0m-495 6h0m15 3h0m2-2h0m2-2h0m0 4h0m2 1h0m2-6h0m4 0h0m0 6h0m1 0h0m1-6h0m0 5h0m1-5h0m1 0h0m2 0h0m0 3h0m3-1h0m1-2h0m3 9h0m1-9h0m1 0h0m4 1h0m1-1h0m0 1h0m0 5h0m4-2h0m1 3h0m8-6h0m1 6h0m1-5h0m1 0h0m2-2h0m0 4h0m6-2h0m1 0h0m4 4h0m5 2h0m2-7h0m1 3h0m1 2h0m2-5h0m1 4h0m1-1h0m1-1h0m1-1h0m7 0h0m13 1h0m3 0h0m2-3h0m3 4h0m2 5h0m1-7h0m3 1h0m3 6h0m2-6h0m1 5h0m0 1h0m1 0h0m1 0h0m6-4h0m4 4h0m23-4h0m3-5h0m20 7h0m10-6h0m3 8h0m21-1h0m8-6h0m1-2h0m0 9h0m8-1h0m3-5h0m2 4h0m1 0h0m2-4h0m0 1h0m0 1h0m6-2h0m1-2h0m9 2h0m5 1h0m17-4h0m46 7h0m9 2h0m3-3h0m7-2h0m3 1h0m0 2h0m8-1h0m0 1h0m18-3h0m17 0h0m9-3h0m5 6h0m1 2h0m3-3h0m0 3h0m3-1h0m9-3h0m7-5h0m7 5h0m13-4h0m40-1h0m-482 10h0m17 1h0m8-1h0m3 0h0m0 8h0m15 0h0m3-5h0m20 1h0m12 1h0m28 4h0m5-4h0m4-5h0m0 2h0m3-2h0m6 4h0m4-4h0m2 4h0m2-3h0m0 2h0m2-2h0m1 5h0m2 2h0m4-1h0m6 1h0m10-3h0m1 1h0m12-5h0m32 4h0m7 4h0m8-7h0m7-1h0m2 1h0m2 1h0m4 1h0m11 1h0m13-1h0m11 0h0m32 1h0m3 1h0m18 0h0m2-5h0m3-1h0m4 2h0m2 4h0m5-6h0m0 4h0m4 3h0m2-4h0m9 1h0m1 3h0m2 0h0m8-5h0m6 1h0m5-1h0m3 6h0m3-1h0m3-6h0m27 1h0m90 7h0m-476 8h0m56-3h0m4 5h0m43-2h0m11-3h0m0 4h0m1-3h0m1-5h0m0 2h0m2 7h0m3-4h0m1 2h0m1-6h0m0 7h0m1-8h0m0 6h0m1-5h0m0 3h0m5 4h0m1-4h0m7 4h0m32-7h0m11 0h0m2 6h0m9 1h0m5-3h0m41 4h0m36-9h0m12 3h0m3 2h0m3 3h0m26-4h0m9-1h0m1-1h0m2 4h0m2-2h0m5 4h0m18-6h0m24 1h0m15 1h0m25 3h0m11-3h0m15 1h0m26-3h0m0 1h0m125 4h0m1 1h0m4 0h0m8-4h0m3 0h0m1-3h0m0 3h0m8 0h0m10 0h0m3 2h0m5 3h0m-630 2h0m57 3h0m54 0h0m1 0h0m10 0h0m3 3h0m2-7h0m0 1h0m13 3h0m38 1h0m18 2h0m11 0h0m16 1h0m5-8h0m4 0h0m29 0h0m6 9h0m14-3h0m0 2h0m9-6h0m1 2h0m1 0h0m2-1h0m1 1h0m6 5h0m5-2h0m1-3h0m6 4h0m7-6h0m5 6h0m2-6h0m0 6h0m14-4h0m0 2h0m4-4h0m1 7h0m4-1h0m10-7h0m7 3h0m3 2h0m22-3h0m79-1h0m5 1h0m2-3h0m107 8h0m3-8h0m15 0h0m23 6h0m8-4h0m1 0h0m4 2h0m8 4h0m-593 8h0m22-1h0m17-4h0m11 4h0m49-1h0m31 0h0m5-2h0m5-1h0m1 0h0m1 1h0m0 3h0m13 4h0m26-6h0m1 5h0m32-5h0m2 0h0m24 2h0m4-3h0m2 6h0m5-2h0m2-2h0m10 0h0m2-3h0m5 8h0m5-7h0m1 7h0m1-9h0m13 6h0m10-4h0m37 1h0m60 5h0m26-6h0m6 2h0m32-1h0m56 6h0m6-2h0m2 2h0m51-1h0m16-1h0m-585 10h0m17 1h0m4-6h0m27 3h0m1 4h0m3-3h0m6-6h0m0 9h0m2-1h0m1-4h0m3-1h0m30 5h0m16-7h0m1 0h0m7 4h0m8-3h0m18-2h0m26 6h0m32-2h0m19-4h0m27 7h0m5-3h0m7 4h0m20-8h0m4 7h0m13-1h0m7-4h0m4 2h0m27-2h0m82 6h0m3 1h0m10-7h0m12 3h0m139-2h0m7 2h0m4 2h0m-611 6h0m26-2h0m25 2h0m5-3h0m1 3h0m7 3h0m2 0h0m2 3h0m6-3h0m3 0h0m4 0h0m2 2h0m2-8h0m0 6h0m4-1h0m2-5h0m35 2h0m1 4h0m10 1h0m3-7h0m0 4h0m2 5h0m4-1h0m2-7h0m3 4h0m115 1h0m12-2h0m0 1h0m5 1h0m8-1h0m6-3h0m0 6h0m19-6h0m20 7h0m4-7h0m9 2h0m36 3h0m40 2h0m25-5h0m16 2h0m3 2h0m61-6h0m49-2h0m18 9h0m-561 9h0m17-7h0m6 3h0m1-4h0m1 7h0m5-3h0m15 1h0m4 1h0m4-5h0m21 4h0m8 0h0m11 3h0m2 0h0m3-1h0m2 1h0m4-7h0m7 6h0m4 2h0m1-8h0m2 0h0m1 5h0m9 3h0m75-2h0m21-1h0m6-3h0m10 1h0m21 5h0m1 0h0m8-1h0m2 1h0m2-9h0m10 1h0m1 4h0m6-5h0m8 8h0m112-5h0m7 0h0m-402 12h0m3-3h0m4 1h0m7 4h0m6-7h0m1 0h0m14 0h0m29 0h0m17 0h0m0 4h0m1-2h0m3 4h0m9-4h0m1 6h0m16-7h0m62 1h0m9 7h0m19 0h0m12 0h0m1-1h0m1 1h0m3-8h0m3 3h0m2-3h0m9 7h0m5 1h0m3-3h0m3-4h0m0 3h0m4-1h0m1 5h0m2-4h0m3 0h0m3 0h0m8 4h0m11 0h0m3-8h0m0 1h0m0 3h0m1-4h0m8 4h0m44-2h0m72 0h0m14 3h0m-444 11h0m26 1h0m4-1h0m2-1h0m3-1h0m1-3h0m6-1h0m1 3h0m20 3h0m10-6h0m22-1h0m15 7h0m3 2h0m6 0h0m2-8h0m1 4h0m104-3h0m3-1h0m2 7h0m5-3h0m1-3h0m5 5h0m4 0h0m0 2h0m5-2h0m3-3h0m1 3h0m2-3h0m0 5h0m2-8h0m1 0h0m4 8h0m1-6h0m1 3h0m1-2h0m6 5h0m3-6h0m2-2h0m1-1h0m1 1h0m2-1h0m1 1h0m0 4h0m0 4h0m1-9h0m5 9h0m4-4h0m5-2h0m3 4h0m4-1h0m2-1h0m3-4h0m0 2h0m11-2h0m0 8h0m2-8h0m8 1h0m3 5h0m8-3h0m3-3h0m9 8h0m56-3h0m7-3h0m35 5h0m-436 3h0m0 1h0m9 3h0m7 4h0m7-4h0m7 2h0m3-1h0m1-3h0m2 0h0m39 1h0m12 0h0m22-3h0m2 6h0m2-6h0m0 7h0m22-6h0m57 5h0m4-3h0m11-1h0m11 5h0m4-7h0m5 0h0m3 4h0m5-1h0m4 5h0m2-3h0m1 1h0m0 1h0m5-5h0m1 1h0m1 0h0m1-4h0m1 3h0m7 2h0m1 3h0m1-2h0m0 3h0m2-1h0m4-6h0m0 6h0m4-8h0m1 2h0m0 3h0m0 2h0m2-7h0m0 8h0m1-5h0m1 0h0m0 2h0m1-2h0m0 3h0m2-1h0m1-3h0m1 4h0m3 0h0m4 3h0m1-3h0m1-4h0m2 6h0m1 1h0m1-2h0m1-7h0m1 4h0m1-1h0m6 0h0m5 4h0m1-3h0m11 5h0m14-7h0m5 7h0m1-1h0m11 1h0m25-7h0m62 6h0m51 1h0m-501 10h0m3-9h0m11 8h0m7-1h0m4-7h0m2 5h0m5 3h0m0 1h0m8-4h0m42-1h0m1 3h0m5-7h0m5 6h0m6-1h0m1 1h0m2-1h0m2 1h0m6-5h0m21 6h0m69 2h0m8-6h0m22 1h0m2 4h0m2-4h0m4-3h0m2 0h0m1-1h0m3 2h0m2-1h0m8 3h0m3 0h0m1-1h0m3 1h0m4 0h0m3 2h0m1 0h0m3-4h0m1 0h0m0 7h0m1-5h0m0 1h0m0 4h0m2-4h0m5 3h0m2 0h0m2-4h0m1 5h0m1-7h0m2 3h0m1-4h0m2 5h0m1-2h0m0 1h0m7 0h0m4 1h0m0 1h0m6-6h0m3 0h0m1 5h0m1-1h0m5-5h0m0 2h0m0 1h0m0 2h0m12 2h0m15 2h0m7-4h0m1 3h0m1 1h0m1-2h0m13 1h0m2-1h0m10-6h0m13 8h0m63-9h0m7 8h0m-470 2h0m11 6h0m2-3h0m2 0h0m0 3h0m7-5h0m1 0h0m2 7h0m1-7h0m12 0h0m17 0h0m47-1h0m7 5h0m0 3h0m6-4h0m8 5h0m18-4h0m67-3h0m3-2h0m30 2h0m1-1h0m0 4h0m3-1h0m3-2h0m5-2h0m1 8h0m5-4h0m3 1h0m1-4h0m4-1h0m0 1h0m2 1h0m2 6h0m2-3h0m1 0h0m2 1h0m1-3h0m1-2h0m5 0h0m0 6h0m8-1h0m7 2h0m18-4h0m0 4h0m5-6h0m10 5h0m4-3h0m4-4h0m2 7h0m3-3h0m8-1h0m1 2h0m1 3h0m3-5h0m2 1h0m4-2h0m1 5h0m9 1h0m4-3h0m0 4h0m3-6h0m1 1h0m0 4h0m6-8h0m9 5h0m5 1h0m9 2h0m-413 9h0m1-6h0m6 8h0m2-6h0m0 4h0m11 0h0m8-1h0m6-5h0m37 6h0m22-1h0m0 1h0m14-4h0m2 1h0m1 0h0m2 4h0m2-8h0m5 4h0m3 1h0m7-2h0m88-2h0m6 0h0m12 2h0m2-3h0m11 3h0m1-3h0m7 1h0m2 1h0m5-1h0m10-1h0m0 6h0m2 0h0m3 0h0m1 1h0m1-4h0m1 2h0m1 4h0m3-3h0m0 1h0m1 1h0m2-3h0m2-1h0m2 0h0m1-4h0m0 2h0m0 6h0m1-5h0m6 3h0m3-2h0m0 2h0m1-3h0m1-3h0m0 1h0m2 8h0m8 0h0m1-4h0m3-2h0m5-1h0m6-2h0m5 3h0m0 3h0m3-5h0m0 7h0m10-3h0m1-1h0m4 3h0m10 2h0m4-5h0m1 3h0m4-6h0m1 0h0m5 0h0m5 6h0m7-7h0m0 9h0m1-4h0m1 1h0m0 3h0m2-3h0m2 0h0m6-4h0m3-2h0m3 0h0m1 8h0m1 0h0m1-5h0m11-2h0m53 4h0m8-2h0m7-1h0m1-1h0m-494 12h0m8 6h0m1-5h0m1-4h0m1 3h0m1 2h0m17-4h0m4 1h0m5 1h0m41 2h0m5 2h0m8 1h0m6-4h0m6 0h0m10 5h0m4-7h0m4-2h0m9 8h0m14-3h0m92 0h0m5 4h0m9-1h0m4-8h0m4 5h0m9-2h0m8 0h0m1-3h0m5 7h0m4-5h0m0 6h0m11-6h0m1 3h0m3-3h0m3 2h0m9 3h0m0 2h0m2-7h0m7 1h0m3 3h0m7-1h0m37-4h0m11-1h0m8 0h0m11 0h0m1 0h0m2 3h0m0 4h0m3-6h0m13 4h0m2-5h0m3 7h0m1-5h0m0 1h0m53 4h0m6-4h0m12 5h0m16-7h0m-510 15h0m17 2h0m0 1h0m1-4h0m1-1h0m8 5h0m1-2h0m1-2h0m61 1h0m8 1h0m5-6h0m4 8h0m2-3h0m2-2h0m5 3h0m4 0h0m9-5h0m4 5h0m111-1h0m16-4h0m1-1h0m3 1h0m0 3h0m1 2h0m5-6h0m1 2h0m10-1h0m1 5h0m6-5h0m10 5h0m4-4h0m4-3h0m4 4h0m6-1h0m0 6h0m12 0h0m16-7h0m1-2h0m57 7h0m5 2h0m2-9h0m5 4h0m7 1h0m41 3h0m18 0h0m11-5h0m19 2h0m-504 13h0m4-6h0m0 5h0m7-4h0m1 1h0m0 5h0m1-5h0m5 2h0m5 0h0m3 1h0m14-6h0m38 1h0m6 0h0m1 3h0m9-4h0m3 3h0m16 5h0m6-9h0m3 4h0m1 2h0m110-1h0m4 0h0m11-2h0m2-1h0m2 0h0m4 0h0m3 4h0m5-1h0m8-3h0m0 1h0m2 4h0m4-6h0m8 2h0m0 1h0m5 3h0m4 2h0m5-9h0m8 2h0m7 2h0m12 0h0m1 1h0m0 2h0m3 2h0m10-8h0m0 1h0m12 3h0m55-4h0m9 4h0m42 4h0m5-4h0m8-4h0m1 0h0m3 5h0m12-2h0m-504 15h0m19-7h0m3-2h0m0 3h0m4-1h0m5 0h0m2 0h0m5 1h0m2-2h0m1 2h0m61-1h0m5 4h0m4-6h0m124 6h0m49-6h0m10 2h0m1 4h0m4-6h0m0 3h0m1 3h0m0 2h0m0 1h0m10-1h0m5-1h0m1-1h0m4-3h0m20 5h0m2-3h0m121-4h0m10 2h0m5 4h0m1-6h0m41 5h0m-516 6h0m2 7h0m2-6h0m0 3h0m2-3h0m5 5h0m1-1h0m1-7h0m7 5h0m0 2h0m10-7h0m6 1h0m6 8h0m48-2h0m154 1h0m47-4h0m3-4h0m4 9h0m3-8h0m0 1h0m3 5h0m4 1h0m1-1h0m4-6h0m1 8h0m3-8h0m3 5h0m1-1h0m4-1h0m0 1h0m2 2h0m0 2h0m2-9h0m11 1h0m2-1h0m16 4h0m72 0h0m32-1h0m1 3h0m24 3h0m28-9h0m4 1h0m-518 11h0m6 7h0m1-1h0m4-7h0m205 5h0m66-1h0m5-4h0m13-1h0m3 4h0m5-4h0m1 0h0m0 5h0m0 2h0m1-3h0m0 1h0m1 4h0m2-8h0m0 8h0m1-3h0m4 2h0m1 0h0m1-6h0m2-1h0m0 8h0m1-9h0m0 1h0m2 5h0m4-4h0m9-2h0m1 0h0m22 7h0m1-2h0m1 1h0m17-1h0m41 1h0m16 3h0m7-7h0m30-2h0m3 9h0m19-7h0m1 4h0m14 0h0m-608 11h0m86-1h0m12 1h0m284-5h0m3 6h0m6-5h0m1 6h0m2-7h0m10 5h0m1-6h0m4 7h0m1-3h0m1-5h0m0 3h0m3-3h0m0 8h0m2-1h0m2 0h0m1-6h0m0 2h0m1 2h0m1-3h0m0 7h0m1-8h0m0 2h0m1 3h0m2 2h0m1-8h0m4 6h0m31-2h0m42 3h0m45-7h0m31 3h0m4 2h0m32 2h0m-618 8h0m21 1h0m16 2h0m135-5h0m161 4h0m67-6h0m2 2h0m8-3h0m3 9h0m4-7h0m3 0h0m3 2h0m1 0h0m2 5h0m5-6h0m1 3h0m1-6h0m1 0h0m2 9h0m3-7h0m5 4h0m57-1h0m-486 12h0m2-4h0m4 1h0m0 4h0m5-8h0m7 0h0m44 0h0m279 1h0m23 1h0m2 0h0m13 4h0m10-1h0m17 4h0m1 0h0m4-3h0m2-6h0m0 3h0m3-1h0m29 1h0m57 4h0m-504 8h0m3 0h0m9-5h0m0 1h0m5 0h0m291 0h0m11 2h0m18 0h0m18-1h0m21-1h0m6 4h0m12-2h0m12 4h0m25 0h0m5-2h0m22 1h0m54 1h0m12-2h0m12 4h0m-532 5h0m6 0h0m8 5h0m8-6h0m205 3h0m91-5h0m144 5h0m20-5h0m5 2h0m12-2h0m9 8h0m-515 5h0m11-3h0m1 4h0m10 2h0m6-2h0m472-2h0m7-1h0m1-2h0m1 4h0m4 5h0m-510 1h0m22 5h0m186-5h0m297 5h0m2 2h0m0 1h0m2 0h0m13 0h0m-509 9h0m0 2h0m7-4h0m68 3h0m154-8h0m262 0h0m2 1h0m0 7h0m12-3h0m-501 11h0m488-5h0m4 2h0m3 3h0m-371 9h0m91 0h0m273-1h0m2 3h0m4 0h0m2-2h0m1-2h0m8 0h0m-9 11h0m0 3h0m-279 12h0m274-9h0m-409 16h0m84-6h0m-177 10h0m106 0h0m194 5h0m71 2h0m-360 8h0m71-5h0m220 5h0m25-4h0m44 0h0m19 5h0m26-6h0m-163 16h0m66-5h0m0 3h0m46 4h0m19-4h0m10 5h0m5-2h0m7-1h0m-112 6h0m12-2h0m16 5h0m15-5h0m37 3h0m2-1h0m1 2h0m6-4h0m37 5h0m10-4h0m-286 17h0m127-3h0m28 3h0m87-5h0m2-3h0m1 7h0m16 0h0m4-1h0m-308 5h0m212-1h0m1 4h0m23 0h0m43 2h0m18-4h0m22 2h0m-450 32h0m-2 25h0m29 5h0" stroke="#d0cf92" stroke-width="6.2"/>
<path d="M1277 767h0m-9 12h0m8-5h0m9 5h0m-5 5h0m20 13h0m-1 4h0m13 5h0m3 6h0m1 6h0m1 0h0m2-2h0m0 1h0m5-2h0m2 2h0m-15 6h0m2 0h0m2-3h0m3 2h0m2 2h0m0 1h0m3 0h0m2-1h0m0 4h0m1-3h0m0 1h0m2-2h0m0 1h0m1 3h0m3-6h0m-10 9h0m1-1h0m2 0h0m3 1h0m0 2h0m3 0h0m0 1h0m1-3h0m0 1h0m1 4h0m0 2h0m1-3h0m1-5h0m0 2h0m2 4h0m1 3h0m1-4h0m1 2h0m4-1h0m1-2h0m-13 7h0m1 1h0m1 0h0m0 1h0m5 0h0m1 6h0m4-1h0m1-5h0m1 4h0m-11 3h0m4 7h0m8-5h0m0 1h0m1 0h0m1 2h0m0 1h0m1-3h0m1 2h0m3-1h0m-7 6h0m3 3h0m5-1h0m0 6h0m1-2h0m0 3h0m1-2h0m4-3h0m2 0h0m0 1h0m9 1h0m-42 12h0m11-1h0m16-3h0m1-2h0m2-2h0m1 2h0m1 0h0m0 4h0m4-1h0m1-1h0m2-2h0m2 1h0m0 3h0m0 1h0m2-7h0m-45 17h0m5-3h0m3 4h0m3 1h0m1-6h0m3 0h0m25-1h0m0 1h0m4 0h0m3-1h0m4 5h0m4 0h0m1 0h0m3-2h0m2 4h0m-67 1h0m0 8h0m2-3h0m0 3h0m3-6h0m0 7h0m1-1h0m1-4h0m1-3h0m6 8h0m1-3h0m3 0h0m1 1h0m3-5h0m10-1h0m0 5h0m2 2h0m1-8h0m12 0h0m0 3h0m1-2h0m10 2h0m0 5h0m2 1h0m1-5h0m1 2h0m0 3h0m2-4h0m1-1h0m1-4h0m2 7h0m6 0h0m-82 6h0m2 6h0m1-8h0m4 2h0m2 2h0m0 4h0m6 0h0m4-1h0m2-4h0m1-3h0m0 1h0m1 4h0m6-5h0m1 1h0m4 4h0m3-5h0m3 6h0m6-4h0m8 3h0m2-2h0m8 5h0m8-2h0m4-5h0m0 1h0m1-1h0m2-1h0m2-1h0m0 5h0m1-4h0m2-1h0m1 9h0m6 0h0m-98 9h0m5-2h0m0 2h0m1-8h0m0 4h0m1 2h0m4-3h0m3-1h0m1 5h0m4 1h0m5-7h0m0 7h0m1-4h0m0 2h0m12 3h0m6-7h0m1-1h0m5 8h0m1-9h0m1 0h0m4 3h0m5 0h0m5 1h0m0 1h0m4-4h0m3 4h0m0 4h0m2-2h0m5-5h0m0 4h0m7 2h0m4-8h0m1 5h0m1-4h0m1 6h0m2 0h0m1-2h0m2 3h0m4-2h0m3-1h0m-114 9h0m2 3h0m0 1h0m3 1h0m1 0h0m1-4h0m3 3h0m1-4h0m2-3h0m0 8h0m2-8h0m2 2h0m9-2h0m0 8h0m1-9h0m4 0h0m4 3h0m0 4h0m1-4h0m4 2h0m0 1h0m1-1h0m6 2h0m2-7h0m0 4h0m2-4h0m2 3h0m2 0h0m5 1h0m4-1h0m1-3h0m6 1h0m4-1h0m2 3h0m2 5h0m3-4h0m5 5h0m2-9h0m0 6h0m3-3h0m1-3h0m5 2h0m3 1h0m2-3h0m1 8h0m3-5h0m1-3h0m3 0h0m0 3h0m0 3h0m1-4h0m0 5h0m1-4h0m2 5h0m1-8h0m1 8h0m2-8h0m3 9h0m-127 8h0m1-2h0m4 2h0m1-1h0m0 1h0m3-7h0m0 9h0m2-4h0m2-5h0m1 5h0m0 1h0m0 1h0m0 2h0m1-4h0m1-2h0m3 0h0m2 2h0m0 3h0m1 0h0m1-2h0m0 2h0m3-3h0m0 1h0m0 2h0m2 1h0m4-3h0m6 0h0m4-4h0m1 0h0m2 7h0m1 0h0m1-2h0m1 0h0m1-2h0m5 3h0m4-8h0m1 8h0m1-1h0m6-3h0m6-2h0m5-2h0m4 1h0m2-1h0m1 3h0m1 4h0m10-3h0m1-1h0m2 1h0m2-4h0m1 7h0m3-5h0m2-1h0m0 1h0m0 4h0m7 3h0m2-7h0m1 0h0m3-2h0m2 0h0m0 2h0m3-1h0m1 6h0m1-5h0m0 5h0m1-7h0m1 8h0m3-2h0m0 1h0m1-5h0m-132 9h0m0 4h0m0 2h0m1-6h0m0 2h0m6 1h0m3-3h0m3 0h0m1 0h0m0 3h0m1-2h0m1 0h0m1 3h0m0 4h0m1-9h0m1 0h0m2 4h0m1-3h0m1 3h0m4 0h0m1-3h0m0 1h0m1 2h0m1 4h0m1 0h0m1 0h0m0 1h0m1-5h0m1-2h0m1-2h0m0 1h0m1 0h0m0 3h0m1-1h0m0 5h0m2-8h0m0 2h0m0 4h0m0 1h0m0 2h0m1-5h0m0 1h0m2 2h0m3 1h0m1-1h0m0 2h0m2-5h0m2 4h0m1-4h0m0 3h0m2-1h0m0 1h0m4-5h0m0 5h0m0 1h0m1-8h0m0 3h0m1 1h0m0 2h0m4-4h0m2 4h0m3-1h0m3-2h0m2 3h0m9-6h0m3 7h0m6-7h0m2 1h0m6 6h0m8-4h0m0 1h0m2 2h0m4 0h0m2-4h0m3-2h0m3 5h0m1-3h0m1 1h0m4 4h0m2-1h0m1 0h0m0 2h0m1-8h0m0 8h0m3-8h0m0 5h0m0 4h0m2-8h0m0 3h0m1-2h0m0 1h0m2 1h0m4-1h0m0 6h0m-135 1h0m3 0h0m4 0h0m5 0h0m1 2h0m4 2h0m11 2h0m5 0h0m2-2h0m3-3h0m1 8h0m1-9h0m3 4h0m1-3h0m2 3h0m2-3h0m0 5h0m1-6h0m0 8h0m1-8h0m3 5h0m1-2h0m0 1h0m0 5h0m1-7h0m1-1h0m1-1h0m0 5h0m1-1h0m1-2h0m0 5h0m2-4h0m0 6h0m1-4h0m0 2h0m0 2h0m1-6h0m1 4h0m1-7h0m0 7h0m0 1h0m1-1h0m2-7h0m0 1h0m4 2h0m3 1h0m2 4h0m3-4h0m0 5h0m1-3h0m1-1h0m1 0h0m2 3h0m2 1h0m1-6h0m1 1h0m1-3h0m0 5h0m1 1h0m0 1h0m1-2h0m0 2h0m3 0h0m2-4h0m2 5h0m2 0h0m3 0h0m3-8h0m0 3h0m2-1h0m1 5h0m0 1h0m1-8h0m1-1h0m4 8h0m5-4h0m9-1h0m4-3h0m0 1h0m0 6h0m1-1h0m1-5h0m0 1h0m0 5h0m2-3h0m0 1h0m0 1h0m1 0h0m1 2h0m3-6h0m0 2h0m8 5h0m-107 1h0m0 1h0m1 1h0m11 3h0m3-4h0m0 1h0m1 5h0m2-3h0m2-3h0m1 2h0m2-1h0m0 7h0m1-1h0m3-6h0m0 1h0m2-1h0m1 3h0m4-4h0m2-1h0m0 9h0m1-9h0m0 7h0m2 0h0m1 1h0m3-8h0m1 5h0m1 2h0m1-7h0m0 4h0m3-4h0m0 5h0m2-2h0m3 2h0m2 2h0m1-6h0m2 5h0m0 2h0m2-1h0m4-2h0m1 4h0m1-3h0m0 2h0m1-7h0m0 6h0m1-5h0m0 3h0m0 3h0m1-6h0m0 5h0m3 1h0m1-7h0m0 8h0m2-2h0m1 0h0m2 0h0m1 1h0m6-4h0m0 5h0m3-1h0m4-8h0m0 4h0m1 2h0m0 3h0m2-3h0m1-5h0m5 0h0m2 1h0m1 1h0m-80 9h0m11-2h0m15 3h0m2 4h0m1-5h0m2 0h0m0 2h0m2-4h0m3 0h0m5 2h0m1-1h0m0 7h0m3-6h0m5 0h0m2 0h0m0 1h0m2 4h0m0 1h0m1-5h0m0 4h0m0 2h0m1-8h0m0 1h0m0 4h0m1-2h0m1-2h0m3 4h0m1-5h0m0 4h0m0 4h0m1-7h0m2 0h0m0 1h0m1 0h0m0 1h0m1-2h0m3 6h0m0 1h0m1-4h0m2 1h0m2 1h0m-148 8h0m1-2h0m1-2h0m1 2h0m1 3h0m1-2h0m1 1h0m1-3h0m1 2h0m4-1h0m2-1h0m0 2h0m1 1h0m3-3h0m1 0h0m1-1h0m2 2h0m1-1h0m2-1h0m1 2h0m2 0h0m1-2h0m1 1h0m0 1h0m0 1h0m1-1h0m2 1h0m2-1h0m3-1h0m2 2h0m6-3h0m2 1h0m1 1h0m3 0h0m1-1h0m0 3h0m2 0h0m2-4h0m0 1h0m0 2h0m1-2h0m0 2h0m3-2h0m1 2h0m1-2h0m29-2h0m6 6h0m4-6h0m1 1h0m0 1h0m1-2h0m0 1h0m1-1h0m0 1h0m6 0h0m1-1h0m29 3h0" stroke="#7aab93" stroke-width="6.2"/>
<path d="M708 448h0m12 0h0m331-6h0m-321 13h0m295 2h0m10 2h0m8-2h0m14 0h0m4-5h0m2 7h0m19-9h0m11 7h0m3-5h0m-375 9h0m221 8h0m83-6h0m43 3h0m13-4h0m9 1h0m-356 16h0m1-4h0m212-1h0m24 5h0m23-5h0m13 1h0m14 3h0m20-5h0m17 6h0m40-1h0m6-5h0m-127 14h0m25 0h0m23-2h0m19-5h0m6 7h0m19-6h0m34 4h0m-153 10h0m20 0h0m5 3h0m40-2h0m23 3h0m22-7h0m32-1h0m25 7h0m-184 3h0m163 7h0m17-6h0m2 1h0m-174 12h0m155-5h0m-348 13h0m194 2h0m19-3h0m11-1h0m4 0h0m104 1h0m23 7h0m19 0h0m2-7h0m-398 12h0m19 0h0m11 4h0m9-4h0m170 5h0m12-6h0m39 0h0m13 0h0m11 1h0m2 3h0m25-1h0m94-2h0m-428 11h0m37 2h0m8-1h0m197 2h0m21-3h0m45-5h0m86 5h0m35-2h0m19 5h0m-467 9h0m41 0h0m25-3h0m6 5h0m225-7h0m17 3h0m50 3h0m54-5h0m5 0h0m19-1h0m27 2h0m-471 8h0m0 5h0m19-5h0m0 3h0m3-5h0m0 8h0m15 0h0m33-5h0m25 0h0m245 0h0m45 1h0m14 2h0m6 0h0m2-5h0m12-1h0m50 9h0m1 0h0m1-1h0m2-3h0m10 1h0m-490 6h0m2 5h0m4-2h0m9-5h0m21 6h0m5-6h0m263 0h0m4 0h0m2 9h0m10-6h0m6-2h0m18 7h0m9 0h0m54-4h0m1 5h0m22-8h0m14 0h0m11-1h0m12 4h0m0 3h0m3-2h0m2 1h0m0 2h0m1-8h0m0 3h0m3 2h0m2 0h0m0 3h0m3 1h0m-461 1h0m54 4h0m270-1h0m14 0h0m71 6h0m7-1h0m2-3h0m7-2h0m22-2h0m2 4h0m3-4h0m0 7h0m2-6h0m2-2h0m1 3h0m0 1h0m3 3h0m1-6h0m0 6h0m1-3h0m1 5h0m2-3h0m2-4h0m2-2h0m0 8h0m0 1h0m1-5h0m0 2h0m1 1h0m1-2h0m7 1h0m-235 13h0m1-5h0m1-1h0m0 1h0m4 2h0m120-5h0m87 2h0m0 3h0m3-6h0m0 2h0m2 3h0m1-4h0m1-1h0m0 2h0m0 4h0m4-6h0m1 4h0m0 4h0m2-2h0m2 2h0m1-5h0m0 4h0m0 2h0m1-1h0m1 1h0m1-8h0m1 8h0m-230 5h0m1-1h0m3 2h0m2-2h0m0 2h0m0 3h0m2-8h0m0 1h0m1-1h0m1 6h0m1-3h0m0 3h0m0 1h0m1 2h0m5 0h0m65-3h0m13-3h0m120 2h0m1-5h0m1 0h0m1 3h0m1-2h0m1 3h0m1-2h0m0 1h0m0 4h0m2-6h0m1 0h0m0 3h0m0 5h0m1-3h0m2-2h0m0 2h0m1-1h0m0 4h0m1-3h0m1-6h0m0 2h0m1 0h0m0 1h0m0 4h0m1 2h0m3-3h0m2 1h0m2-1h0m0 2h0m3-6h0m5 7h0m-238 2h0m2 0h0m1 3h0m1-1h0m0 4h0m1-6h0m0 1h0m0 2h0m1-1h0m0 3h0m1-6h0m0 4h0m2 0h0m2 1h0m200-4h0m7 0h0m1-1h0m1 1h0m0 6h0m2 2h0m1-2h0m1-2h0m0 3h0m1-8h0m1 0h0m1 4h0m1-3h0m0 8h0m1-4h0m1-4h0m0 1h0m1 7h0m4-2h0m1-6h0m0 6h0m1-1h0m0 1h0m2 1h0m27-6h0m-264 8h0m67 2h0m45 7h0m2-7h0m7 5h0m88-2h0m7 3h0m1 0h0m4-1h0m1 2h0m1-8h0m0 2h0m1 5h0m1-4h0m1 4h0m3-5h0m0 2h0m0 2h0m1-6h0m0 5h0m0 1h0m1-7h0m0 3h0m1-1h0m1-2h0m0 3h0m1 4h0m1-6h0m0 4h0m0 2h0m2-2h0m0 4h0m1-6h0m0 6h0m1-2h0m1-6h0m2-1h0m0 6h0m4-1h0m1 4h0m-164 7h0m124 2h0m9-8h0m1 0h0m3 6h0m5-3h0m2 4h0m1-5h0m3 2h0m1-2h0m1-1h0m0 7h0m1-4h0m0 5h0m1-3h0m1-2h0m0 2h0m0 1h0m0 2h0m1-6h0m0 4h0m0 1h0m2-2h0m0 2h0m1-4h0m2 0h0m0 3h0m2-4h0m0 1h0m1-3h0m0 2h0m0 2h0m1 3h0m2 1h0m-83 8h0m46-4h0m12-1h0m6-1h0m0 3h0m3 1h0m2 1h0m4-5h0m0 4h0m1-5h0m0 4h0m1-2h0m1 2h0m1-4h0m0 7h0m1-7h0m0 7h0m1-4h0m0 4h0m1-7h0m0 3h0m0 6h0m1-4h0m0 2h0m1-4h0m0 3h0m0 1h0m1 1h0m1-2h0m2-5h0m0 1h0m1 4h0m0 1h0m1-1h0m0 2h0m4-4h0m3 5h0m2-1h0m2-2h0m-108 12h0m63-2h0m7-6h0m7 0h0m9 5h0m3-3h0m2-1h0m0 3h0m1-4h0m0 8h0m0 1h0m1-2h0m1 0h0m1-3h0m1 0h0m0 2h0m2-6h0m0 2h0m0 6h0m1 0h0m1-7h0m0 1h0m0 2h0m0 1h0m0 2h0m2-7h0m0 3h0m1 4h0m0 2h0m1-8h0m0 2h0m0 3h0m1 2h0m0 1h0m1-2h0m1-5h0m0 6h0m0 1h0m1-7h0m0 4h0m2-4h0m0 5h0m-246 12h0m72-5h0m58 4h0m60-3h0m27 2h0m8-7h0m2 0h0m0 1h0m2 0h0m2 6h0m1-4h0m1-3h0m0 1h0m0 1h0m2 4h0m1-2h0m2 2h0m1-5h0m0 3h0m1 4h0m1-8h0m0 5h0m0 4h0m1-6h0m0 1h0m0 5h0m2-1h0m1 1h0m1-9h0m0 6h0m0 2h0m1-4h0m0 2h0m1-3h0m0 6h0m1-3h0m0 3h0m2-2h0m0 1h0m3 0h0m1-5h0m0 3h0m13 2h0m-268 8h0m24 2h0m13-6h0m15 5h0m8-5h0m36 3h0m28-3h0m6 2h0m103-1h0m1 2h0m2-2h0m2-2h0m0 5h0m1-6h0m0 8h0m1-1h0m2-1h0m1-5h0m0 5h0m3-5h0m0 3h0m0 5h0m1-9h0m1 4h0m0 5h0m1-5h0m1 2h0m0 1h0m1-4h0m0 1h0m0 1h0m0 1h0m0 1h0m1-5h0m0 4h0m0 2h0m1-6h0m0 2h0m0 5h0m1-6h0m0 3h0m1 1h0m1-7h0m0 9h0m1-3h0m0 1h0m0 2h0m1 0h0m1 0h0m1-4h0m1 4h0m1-3h0m1-1h0m-264 8h0m22 1h0m12-4h0m22 5h0m95 1h0m70-6h0m21 9h0m2-8h0m1 5h0m2-3h0m1 2h0m1-5h0m0 3h0m1 2h0m1-1h0m1 1h0m0 3h0m0 1h0m1-6h0m0 1h0m1-4h0m0 1h0m0 2h0m2 0h0m0 4h0m1-2h0m1-1h0m1 0h0m0 4h0m0 1h0m1-7h0m0 1h0m1-3h0m0 3h0m0 6h0m2-5h0m0 4h0m1-1h0m0 2h0m1-6h0m1-2h0m1 7h0m1-3h0m0 3h0m8 1h0m2-3h0m32-2h0m-277 8h0m25-1h0m10 2h0m0 6h0m17-1h0m15-8h0m6 5h0m3-1h0m0 2h0m31-6h0m29 7h0m82-5h0m1 2h0m1-2h0m0 6h0m1-5h0m1-3h0m0 1h0m1 1h0m0 2h0m1-2h0m2-1h0m0 2h0m1 0h0m0 6h0m1-5h0m0 3h0m0 1h0m2-4h0m0 1h0m0 3h0m1-3h0m0 2h0m1-6h0m0 6h0m0 1h0m1-3h0m0 1h0m2-3h0m0 1h0m0 4h0m0 1h0m1-8h0m1 2h0m0 1h0m1-4h0m0 8h0m0 1h0m1-8h0m0 3h0m1-1h0m2 1h0m1 1h0m1-5h0m1 8h0m7 0h0m-209 4h0m24 0h0m12 1h0m9 1h0m4-2h0m0 2h0m2 5h0m5-4h0m1-1h0m0 5h0m46-6h0m9 2h0m14-5h0m5 7h0m25-7h0m3 6h0m1-3h0m10 3h0m0 2h0m2-4h0m0 2h0m5 1h0m1 0h0m4-5h0m1 2h0m2 0h0m0 5h0m1-9h0m1 2h0m1-2h0m0 3h0m1 1h0m1-4h0m2 8h0m1-8h0m0 2h0m1 1h0m0 2h0m1-4h0m0 2h0m0 4h0m1-3h0m0 2h0m0 3h0m2-2h0m1 1h0m1-1h0m0 1h0m1 0h0m1-8h0m0 9h0m1 0h0m1-6h0m0 3h0m2-3h0m0 1h0m0 3h0m1 2h0m1-8h0m0 3h0m2 4h0m1 0h0m1 0h0m5-8h0m2 5h0m2-1h0m11 3h0m9 1h0m2 0h0m-257 3h0m15 7h0m1 0h0m6-6h0m1 4h0m130-1h0m19 0h0m2-3h0m1 3h0m7 1h0m1-5h0m0 6h0m2-7h0m1 7h0m8-4h0m0 5h0m4-5h0m4 0h0m0 3h0m5-6h0m0 7h0m1-3h0m0 2h0m1-6h0m1 6h0m0 3h0m2-1h0m1-4h0m1-4h0m2 3h0m0 3h0m0 2h0m1-7h0m0 2h0m0 1h0m0 5h0m1-4h0m0 1h0m1-4h0m0 7h0m1-9h0m0 3h0m0 5h0m1-4h0m0 2h0m0 2h0m0 1h0m2-7h0m0 4h0m0 1h0m0 2h0m1-3h0m0 2h0m2 0h0m2-8h0m0 5h0m0 1h0m0 3h0m2-9h0m0 5h0m0 4h0m1-3h0m1 2h0m6-7h0m1 7h0m4-7h0m8 4h0m8 4h0m-254 1h0m5 7h0m6-3h0m1-3h0m0 4h0m7 2h0m13-7h0m3 3h0m7 1h0m100-2h0m8 1h0m3-3h0m7 4h0m12 0h0m1-3h0m2 6h0m0 1h0m1-5h0m2 1h0m0 1h0m3-2h0m0 1h0m2 3h0m2-3h0m0 1h0m1 4h0m3 0h0m1-8h0m2 6h0m0 2h0m1-2h0m2 0h0m1 1h0m2-8h0m0 3h0m0 1h0m0 4h0m1-3h0m0 4h0m2-9h0m1 3h0m0 5h0m1 1h0m3-6h0m1 5h0m1 1h0m1-8h0m0 4h0m0 1h0m0 2h0m1-7h0m0 2h0m2-2h0m0 6h0m1-6h0m0 5h0m0 3h0m2-2h0m0 1h0m2-7h0m1 2h0m1 6h0m1-8h0m0 4h0m0 1h0m1-6h0m1 2h0m0 7h0m1-9h0m0 1h0m0 2h0m0 1h0m0 1h0m0 1h0m1-6h0m1 6h0m1-6h0m0 2h0m0 3h0m1-3h0m0 3h0m1 0h0m1 3h0m2-4h0m3 2h0m7 3h0m4-1h0m4 0h0m14 1h0m-272 5h0m11-4h0m7 1h0m9-1h0m7 4h0m9-2h0m16 1h0m17 0h0m15 1h0m72-2h0m11 2h0m5 4h0m1 1h0m2-1h0m2 0h0m2-5h0m1 2h0m1-2h0m2 2h0m1-4h0m1 3h0m0 2h0m0 2h0m2-3h0m1 0h0m1 0h0m1 3h0m1-6h0m0 3h0m1-3h0m0 5h0m1-1h0m1-3h0m0 2h0m1-3h0m0 2h0m1-3h0m1 2h0m0 1h0m0 2h0m1-4h0m1-2h0m0 6h0m1 0h0m0 3h0m1-6h0m0 4h0m0 1h0m1-6h0m0 2h0m1-1h0m0 1h0m0 1h0m1 2h0m1-5h0m2 4h0m1-5h0m0 1h0m0 6h0m1-6h0m1-2h0m0 7h0m0 1h0m1-7h0m0 1h0m0 2h0m0 3h0m1-7h0m0 6h0m0 1h0m1-4h0m0 1h0m0 3h0m3 1h0m1-7h0m0 5h0m1-4h0m0 1h0m2 0h0m0 1h0m0 1h0m1-5h0m0 3h0m1 0h0m1-3h0m0 2h0m1 3h0m1 4h0m1-3h0m0 1h0m1-3h0m1-3h0m0 7h0m1-7h0m0 7h0m1-3h0m3 3h0m0 1h0m2-5h0m2 5h0m1-9h0m2 6h0m2 3h0m1 0h0m6-2h0m-240 4h0m8 5h0m7 3h0m8-6h0m17 2h0m107 2h0m3-6h0m3 8h0m7-6h0m5 1h0m4-3h0m3 6h0m1 2h0m1-2h0m2 2h0m4-6h0m0 5h0m2-2h0m1-5h0m0 4h0m0 1h0m1-6h0m0 4h0m2-3h0m2 4h0m0 4h0m1-3h0m0 1h0m1-4h0m0 4h0m0 1h0m1-5h0m0 2h0m1-4h0m1 3h0m1-3h0m0 2h0m0 2h0m0 1h0m2-1h0m3-3h0m0 3h0m0 2h0m0 2h0m1-9h0m0 9h0m1-8h0m0 5h0m0 2h0m3-4h0m0 4h0m1 0h0m1-8h0m0 8h0m2-7h0m0 2h0m0 3h0m2-6h0m0 7h0m1-4h0m0 6h0m1-9h0m0 1h0m0 2h0m1-2h0m0 1h0m1 0h0m0 2h0m1-4h0m0 2h0m0 1h0m0 1h0m0 1h0m0 2h0m1-6h0m0 5h0m0 3h0m1-8h0m0 5h0m1-6h0m1 0h0m0 8h0m1-4h0m0 4h0m1-2h0m0 3h0m1-7h0m1 2h0m0 4h0m1-8h0m0 3h0m1 1h0m0 2h0m2-1h0m4-2h0m2-3h0m2 7h0m3-3h0m2 5h0m8-1h0m-270 11h0m29-5h0m2 3h0m20-2h0m2 3h0m2-3h0m15-2h0m19 3h0m55 1h0m38-5h0m6-2h0m1 7h0m5-2h0m1-1h0m0 1h0m1-5h0m0 7h0m3 1h0m2-4h0m0 5h0m3-4h0m1-4h0m0 2h0m1 0h0m3 2h0m1-4h0m0 8h0m1-9h0m0 7h0m0 2h0m1-6h0m1-1h0m0 4h0m1-1h0m0 2h0m1-2h0m0 1h0m2-2h0m0 3h0m2-7h0m0 4h0m1-2h0m0 4h0m1-4h0m0 3h0m0 1h0m1-4h0m0 7h0m1-8h0m0 1h0m0 2h0m0 2h0m0 3h0m1-9h0m0 1h0m0 1h0m3 2h0m1-3h0m0 5h0m0 2h0m1-7h0m0 5h0m2-5h0m0 5h0m1-5h0m0 3h0m0 1h0m0 1h0m1-4h0m0 4h0m2 1h0m1-5h0m0 1h0m0 3h0m1-1h0m3-1h0m0 3h0m1 2h0m2-9h0m2 3h0m0 4h0m0 2h0m1 0h0m1-4h0m0 2h0m1-6h0m1 6h0m3-6h0m0 2h0m2-2h0m0 7h0m2-7h0m1 3h0m0 1h0m0 3h0m2 0h0m1-2h0m1-1h0m3-2h0m3 0h0m8 2h0m-270 7h0m12-2h0m7 9h0m13-1h0m1-2h0m6-5h0m0 2h0m3 2h0m5 1h0m3 3h0m10-7h0m9 2h0m6-2h0m47 7h0m34-2h0m1-7h0m19 1h0m0 3h0m1-2h0m8 5h0m1-5h0m3-2h0m0 5h0m1-5h0m1 6h0m0 2h0m3 1h0m1-7h0m1 0h0m2 7h0m1-7h0m0 4h0m2-4h0m2 3h0m1-5h0m0 3h0m1 5h0m1-7h0m0 1h0m0 7h0m1-4h0m0 4h0m2-8h0m0 7h0m1-4h0m0 1h0m1-2h0m0 2h0m0 2h0m1-5h0m1-2h0m1 6h0m1-6h0m1 0h0m0 9h0m1-8h0m1-1h0m0 1h0m0 4h0m1-3h0m0 2h0m0 5h0m2-1h0m1-2h0m0 1h0m0 2h0m1-6h0m0 4h0m0 1h0m1-8h0m0 6h0m2-5h0m0 1h0m0 2h0m1 3h0m2-3h0m1 5h0m1-5h0m1-4h0m1 2h0m1 0h0m0 6h0m1-6h0m2 4h0m1-4h0m0 7h0m1-5h0m1-1h0m0 1h0m0 3h0m0 1h0m1-5h0m0 4h0m1-4h0m1-1h0m1-1h0m2-1h0m0 5h0m0 3h0m1-5h0m2-2h0m1 6h0m2-6h0m0 4h0m3 1h0m7-4h0m-314 8h0m53 0h0m11 6h0m15-3h0m5 0h0m1-2h0m8 2h0m1 1h0m2 0h0m1-3h0m0 6h0m3 0h0m3-4h0m3-2h0m2-1h0m5 7h0m8-5h0m10 7h0m5-1h0m85 0h0m13-2h0m7-2h0m0 3h0m5 0h0m4-5h0m2 1h0m0 2h0m1 4h0m2-4h0m1-5h0m0 8h0m2-8h0m0 3h0m2-3h0m0 1h0m0 5h0m0 3h0m2-9h0m1 4h0m1 3h0m2-6h0m2 1h0m0 1h0m1-3h0m0 2h0m1 6h0m1 1h0m2-8h0m2-1h0m0 4h0m1 0h0m2 2h0m2 1h0m1 2h0m1-9h0m1 5h0m2-4h0m3 4h0m1-1h0m5-1h0m3-2h0m0 2h0m0 4h0m1-6h0m0 4h0m0 1h0m1-4h0m0 1h0m0 4h0m1-5h0m1 2h0m1-3h0m2 7h0m1-7h0m0 2h0m0 1h0m0 5h0m1-4h0m2-5h0m2 9h0m-310 2h0m44 5h0m18-4h0m17-1h0m6 1h0m1 6h0m2-4h0m2-3h0m1 1h0m0 3h0m3 3h0m1-4h0m1 0h0m1 1h0m2 0h0m3 2h0m0 1h0m0 1h0m1-6h0m3-2h0m0 5h0m2 0h0m1-1h0m2-3h0m1-1h0m12 1h0m1 5h0m1 1h0m2-5h0m31 4h0m83-6h0m2 1h0m2-1h0m0 3h0m1 4h0m2-4h0m9-4h0m1 4h0m1 1h0m0 1h0m3-5h0m3 0h0m4 0h0m4 2h0m3-2h0m3 8h0m1-9h0m0 3h0m18-2h0m0 8h0m1-8h0m2 6h0m2-7h0m2 2h0m2-2h0m0 2h0m1 5h0m0 1h0m2-4h0m1 2h0m0 1h0m3-5h0m0 6h0m2-4h0m1-3h0m6 6h0m-298 10h0m37-3h0m4 1h0m5 0h0m1 0h0m6-4h0m0 7h0m2 1h0m1-7h0m1 1h0m2 2h0m2 2h0m7-3h0m2-3h0m1 0h0m10 2h0m11-2h0m1 2h0m6 5h0m3-5h0m27 1h0m10-2h0m4 0h0m43 7h0m19-8h0m1 6h0m5-6h0m3 0h0m8 5h0m1-1h0m2-1h0m1 5h0m7 0h0m2-3h0m6-4h0m0 2h0m3 4h0m7-5h0m2 5h0m2-6h0m13 7h0m14-8h0m0 4h0m0 2h0m2-4h0m2-2h0m0 4h0m2-1h0m1 2h0m1-4h0m0 3h0m1-4h0m0 2h0m1 3h0m1-6h0m0 6h0m1-1h0m2 3h0m2-6h0m0 2h0m4 2h0m5-2h0m1 2h0m-331 6h0m75 4h0m1-5h0m0 6h0m4-1h0m1 2h0m6-7h0m8 7h0m3-3h0m3 3h0m6-7h0m8 2h0m16 4h0m28 0h0m11-1h0m2-2h0m8 5h0m1-2h0m7-1h0m5 1h0m29-3h0m7 0h0m21 4h0m2 1h0m3-5h0m16-3h0m3 0h0m4 2h0m2-3h0m3 0h0m14 6h0m1 1h0m9-1h0m0 2h0m1-4h0m1 0h0m0 4h0m2-3h0m0 4h0m1-7h0m0 1h0m1-1h0m0 2h0m0 2h0m1-5h0m1 3h0m2-2h0m0 2h0m1-4h0m1 1h0m0 1h0m0 1h0m0 2h0m0 4h0m1-4h0m1 0h0m0 2h0m1-6h0m0 5h0m0 1h0m2-7h0m0 2h0m1 1h0m0 2h0m1 1h0m4-2h0m0 5h0m2-7h0m2 4h0m1 1h0m2 0h0m-281 3h0m17 1h0m13 1h0m28-1h0m7 0h0m41 5h0m7 2h0m4-6h0m3 6h0m7 0h0m2-2h0m3 3h0m1-7h0m0 3h0m2 4h0m2-1h0m2-2h0m3 0h0m5 1h0m5-2h0m14-1h0m4 4h0m44 0h0m5 0h0m1 0h0m3-1h0m2-4h0m1 2h0m1-3h0m0 6h0m1-6h0m3 4h0m1 1h0m1-4h0m0 4h0m1 1h0m0 1h0m2-1h0m1-3h0m2-1h0m0 1h0m0 2h0m1-6h0m1-1h0m0 5h0m1-4h0m0 4h0m1-2h0m2 2h0m0 2h0m2-4h0m2-2h0m0 1h0m1-1h0m15 3h0m4-3h0m2 4h0m4 1h0m3-5h0m2-1h0m-309 17h0m120 0h0m8 0h0m9-3h0m11 3h0m1 2h0m5-4h0m0 4h0m3-1h0m3-8h0m0 7h0m1-6h0m0 7h0m1-6h0m0 7h0m1-6h0m0 6h0m1-8h0m0 1h0m0 2h0m0 1h0m0 1h0m0 1h0m1-6h0m0 8h0m1-7h0m0 4h0m0 1h0m1-6h0m0 5h0m2-6h0m0 1h0m0 5h0m1-6h0m0 5h0m0 1h0m0 1h0m0 1h0m3-5h0m0 6h0m1-6h0m0 6h0m1 0h0m1-5h0m1 0h0m0 3h0m1-5h0m10 2h0m1-4h0m1 7h0m1-6h0m32 8h0m6-2h0m3-5h0m2 1h0m4 5h0m0 1h0m2-2h0m1-1h0m1-1h0m2-5h0m1 1h0m0 6h0m1-5h0m0 2h0m2 5h0m3 0h0m2-7h0m0 4h0m2-6h0m2 1h0m1 0h0m1 2h0m0 1h0m2-2h0m2-1h0m1 1h0m1 1h0m1-1h0m48-1h0m-171 15h0m5-2h0m9 2h0m0 3h0m2-2h0m2-7h0m0 1h0m0 8h0m2-9h0m0 2h0m1-1h0m0 6h0m1-6h0m0 2h0m0 2h0m0 2h0m2-4h0m0 1h0m0 2h0m1-2h0m0 5h0m1-3h0m0 3h0m1-8h0m0 6h0m1-7h0m0 3h0m1 0h0m1-3h0m0 3h0m1 2h0m0 3h0m1-7h0m1 2h0m12 6h0m11-4h0m14 1h0m1 2h0m3-3h0m0 4h0m1-1h0m2-1h0m0 1h0m1 0h0m2-5h0m0 3h0m2-5h0m2 5h0m3-3h0m1 2h0m1-2h0m0 4h0m1-2h0m1-1h0m1 3h0m1-5h0m2 1h0m2 2h0m1-5h0m2 0h0m0 1h0m2 0h0m20 7h0m20-6h0m44 5h0m-200 5h0m1-2h0m5 7h0m4-6h0m6 5h0m4-1h0m1 4h0m5-4h0m2 2h0m3-5h0m0 4h0m2-4h0m0 4h0m1-6h0m1 4h0m2-4h0m0 3h0m0 1h0m0 2h0m1-2h0m0 4h0m1-6h0m0 1h0m0 5h0m1-8h0m0 4h0m0 3h0m1-5h0m1-2h0m0 9h0m1-2h0m1-7h0m0 8h0m1-4h0m1 1h0m1 4h0m1-5h0m0 4h0m7-6h0m2 2h0m26 1h0m4-5h0m0 2h0m1 2h0m4-3h0m0 8h0m1-7h0m24-2h0m83 2h0m1 7h0m-183 7h0m7-5h0m1 0h0m4-1h0m0 2h0m3 1h0m2 0h0m1-2h0m1 7h0m1-6h0m1 3h0m0 4h0m1-9h0m0 4h0m1-4h0m0 2h0m0 5h0m0 1h0m1-5h0m0 6h0m1-9h0m0 6h0m0 1h0m2-7h0m0 6h0m1-5h0m0 4h0m1 3h0m0 1h0m1-9h0m0 7h0m1-7h0m0 1h0m0 7h0m4 0h0m1-6h0m6-1h0m16 2h0m4-2h0m9 5h0m41 3h0m81-3h0m-202 8h0m1 0h0m11-4h0m0 7h0m3-5h0m2 1h0m0 4h0m7-7h0m2 4h0m1 2h0m1-6h0m0 6h0m1-4h0m1-1h0m0 7h0m1-2h0m0 2h0m0 1h0m1-5h0m1-4h0m1 5h0m1-5h0m0 5h0m0 1h0m1 0h0m1-6h0m0 5h0m0 1h0m2-6h0m0 3h0m0 5h0m0 1h0m2-6h0m0 6h0m4-8h0m0 2h0m2-2h0m0 5h0m10-2h0m13 1h0m152 3h0m-230 9h0m36-7h0m2 2h0m1-2h0m0 2h0m0 3h0m0 3h0m1-2h0m0 1h0m2-7h0m0 9h0m1-8h0m0 1h0m1 5h0m0 1h0m1-5h0m0 4h0m1-4h0m1 0h0m0 3h0m1-3h0m1 1h0m1 1h0m0 2h0m2 0h0m1-5h0m0 5h0m0 1h0m1-5h0m1-3h0m3 2h0m0 2h0m3-2h0m8-2h0m7 8h0m13 0h0m136 0h0m2 1h0m7-1h0m-225 5h0m3 2h0m1 4h0m1-2h0m1-3h0m3-2h0m12 6h0m5-7h0m1 4h0m0 1h0m1-3h0m1 0h0m0 1h0m1-3h0m1 2h0m1 4h0m2-7h0m1 3h0m0 5h0m1-1h0m1-7h0m0 9h0m1-4h0m0 4h0m1-1h0m1-4h0m0 1h0m0 3h0m1-1h0m0 1h0m1-6h0m0 1h0m1 1h0m3-2h0m2 7h0m8 0h0m17-3h0m4 2h0m24-3h0m87-1h0m3-3h0m37 1h0m5 1h0m4 3h0m-248 5h0m19 6h0m2-1h0m6-5h0m3 2h0m5-1h0m2 7h0m2-3h0m1 1h0m1-6h0m1 4h0m2 3h0m1-8h0m2 8h0m1-7h0m5 7h0m3-3h0m1-3h0m0 3h0m2 4h0m2-4h0m2 0h0m2-2h0m1 5h0m2-1h0m2-4h0m1-3h0m0 3h0m1 4h0m1 0h0m8-1h0m4-3h0m3 4h0m1 0h0m103 2h0m57-8h0m-242 15h0m8 0h0m6 3h0m1 0h0m1-5h0m7 4h0m4-6h0m1 7h0m1-9h0m6 0h0m2 6h0m0 2h0m3 1h0m5-5h0m0 1h0m0 2h0m2-6h0m1 8h0m1-2h0m2 1h0m2 0h0m4-2h0m2-4h0m0 3h0m7 4h0m1-8h0m3 6h0m5-4h0m6 1h0m5 3h0m0 1h0m7-3h0m14-4h0m87 6h0m34-5h0m24 0h0m4 5h0m-379 12h0m1-1h0m39-2h0m8 1h0m15-4h0m37 2h0m25-1h0m0 1h0m5 1h0m4-3h0m0 3h0m1-6h0m0 9h0m5-9h0m1 5h0m3 0h0m0 4h0m2-8h0m0 6h0m1 0h0m1-2h0m3-4h0m0 1h0m1 0h0m5 3h0m2-5h0m3 5h0m3 2h0m1 1h0m2 1h0m1-6h0m3 0h0m0 6h0m1-7h0m0 2h0m1-3h0m0 6h0m3-4h0m0 4h0m1-7h0m2 0h0m0 4h0m1 3h0m2 1h0m1-1h0m1-4h0m0 3h0m0 1h0m2-7h0m0 7h0m1-7h0m0 4h0m1-2h0m1 6h0m1 1h0m2-7h0m0 7h0m2-9h0m0 1h0m0 6h0m2-5h0m1 2h0m3 1h0m2-1h0m5 4h0m1-5h0m5 1h0m5 4h0m10-5h0m75 0h0m11 2h0m16 0h0m8 2h0m38-6h0m-404 12h0m3-3h0m49 4h0m7-4h0m15 2h0m29 2h0m46 3h0m1-5h0m6-1h0m1 5h0m4-4h0m2-2h0m0 4h0m0 3h0m2-3h0m7-2h0m0 3h0m0 2h0m2-6h0m3 2h0m0 2h0m2 4h0m3-7h0m0 3h0m0 4h0m1-9h0m0 9h0m4-6h0m0 1h0m1 3h0m1-6h0m1 8h0m1-1h0m1-8h0m0 3h0m0 1h0m1-3h0m1 4h0m1-3h0m0 4h0m1 0h0m0 2h0m2-8h0m0 3h0m1-1h0m1 2h0m0 1h0m1-2h0m0 5h0m0 1h0m1-7h0m1 3h0m0 3h0m1-5h0m1 0h0m3 1h0m1 5h0m1-4h0m4-4h0m0 1h0m1 1h0m1-3h0m0 7h0m1-4h0m1 4h0m1-6h0m1-1h0m0 4h0m1-4h0m0 2h0m17 1h0m0 6h0m6-1h0m4-1h0m8-7h0m31 4h0m1-4h0m1 7h0m1-2h0m2 2h0m18-6h0m26 0h0m14-1h0m34 4h0m30-4h0m3 5h0m-425 11h0m29 2h0m15-7h0m81-1h0m17 0h0m5 4h0m7-2h0m1 4h0m2-2h0m1-1h0m0 1h0m3-4h0m2 6h0m1 1h0m0 1h0m1-7h0m1 8h0m3-5h0m2-3h0m3 7h0m2-2h0m1 0h0m0 3h0m4-6h0m2 3h0m2-1h0m0 3h0m1-7h0m0 2h0m2-3h0m0 4h0m1-3h0m0 3h0m1-4h0m0 4h0m3-3h0m1 5h0m1 2h0m1-6h0m1-1h0m2 3h0m0 2h0m1 1h0m0 2h0m1-8h0m0 3h0m0 1h0m2 4h0m1-4h0m0 2h0m1-6h0m0 2h0m0 1h0m0 1h0m0 3h0m1-7h0m0 4h0m1 0h0m0 1h0m1-4h0m0 7h0m1-8h0m1 5h0m0 2h0m1 1h0m1-7h0m0 7h0m4-3h0m1-3h0m0 6h0m5-1h0m1-3h0m4-4h0m0 5h0m0 3h0m1-9h0m0 3h0m4 3h0m3-3h0m0 4h0m1-2h0m0 4h0m4-2h0m1-3h0m5 2h0m4 3h0m2-6h0m0 6h0m3-8h0m8 4h0m15 0h0m7-5h0m7 0h0m28 8h0m1-7h0m10 7h0m39-8h0m-369 16h0m44-4h0m1 2h0m73 4h0m22-3h0m1 4h0m1-4h0m0 1h0m5 2h0m8-3h0m12-1h0m1-4h0m0 8h0m3-7h0m0 3h0m0 4h0m1-2h0m0 1h0m1 1h0m0 1h0m2-9h0m0 3h0m2-3h0m0 1h0m1 2h0m0 1h0m2-2h0m0 3h0m4 3h0m1-2h0m0 2h0m0 1h0m2-8h0m0 4h0m1-4h0m0 4h0m1 4h0m3-5h0m0 4h0m2-8h0m1 9h0m2 0h0m2-7h0m0 4h0m3-4h0m1-1h0m1 0h0m1 1h0m0 1h0m2 5h0m1 0h0m1-8h0m0 4h0m0 1h0m0 2h0m0 2h0m1-4h0m1 4h0m1-9h0m2 8h0m1-7h0m0 1h0m1 1h0m2 4h0m2-5h0m1 1h0m1 1h0m1-3h0m3 5h0m1-6h0m0 9h0m8-6h0m1 5h0m4-6h0m1 7h0m4 0h0m9-2h0m5-1h0m1 0h0m1-3h0m3-1h0m2 7h0m64-7h0m9-2h0m4 5h0m0 1h0m6-4h0m18 0h0m44 0h0m35 6h0m-427 6h0m16-1h0m2-1h0m53 7h0m25-6h0m1 0h0m6 2h0m2-3h0m2 0h0m3 2h0m1-3h0m6 7h0m3-4h0m3-1h0m1-2h0m16 1h0m5 7h0m1-2h0m1-1h0m4-6h0m0 4h0m1 3h0m1 2h0m3-2h0m1-5h0m0 5h0m2-4h0m2 0h0m1 0h0m1 3h0m0 2h0m2-8h0m3 1h0m1 3h0m1-4h0m0 5h0m2-3h0m1 7h0m1-8h0m0 7h0m1-4h0m1 1h0m4-4h0m1 0h0m0 4h0m1 1h0m1-3h0m1 1h0m0 4h0m1-7h0m1 3h0m0 5h0m1-9h0m1 4h0m1-2h0m0 5h0m1-4h0m1 2h0m1-5h0m0 4h0m1-4h0m2 2h0m0 4h0m1-2h0m0 2h0m0 1h0m1-3h0m1-3h0m0 1h0m1 1h0m1-3h0m2 4h0m2-4h0m1 2h0m0 7h0m1-3h0m3-2h0m4 1h0m1 1h0m0 1h0m0 1h0m2-2h0m1-2h0m1 5h0m7-1h0m1-1h0m2-1h0m3 1h0m1 0h0m1 2h0m6-6h0m1 1h0m7 2h0m2-6h0m0 6h0m102 2h0m14 1h0m11-5h0m2 5h0m1-4h0m2-1h0m30 0h0m18-3h0m4 1h0m8 6h0m-471 7h0m90-1h0m2 0h0m1-4h0m11 7h0m8-4h0m3 4h0m11-6h0m8 0h0m15 2h0m6-3h0m8 6h0m1-1h0m3 2h0m3-5h0m0 7h0m3-4h0m5 0h0m3-5h0m0 1h0m1 5h0m8-4h0m2 4h0m2 0h0m0 3h0m1-1h0m1-5h0m1 0h0m1-3h0m0 9h0m3 0h0m1-4h0m3-5h0m1 8h0m0 1h0m1-2h0m0 2h0m5-7h0m2 3h0m0 1h0m2-6h0m0 6h0m1-6h0m0 5h0m1-1h0m1 0h0m0 4h0m1 0h0m2-2h0m0 3h0m2-8h0m1 2h0m1-2h0m1 5h0m1-5h0m0 4h0m1 2h0m1-6h0m0 7h0m1-6h0m0 1h0m2-1h0m0 7h0m1-7h0m0 6h0m1-2h0m1 0h0m2-6h0m3 2h0m0 4h0m4-3h0m1 0h0m1-2h0m0 2h0m1 0h0m0 5h0m1-6h0m3 6h0m1-5h0m0 4h0m1 2h0m1-4h0m6-4h0m2 4h0m6-4h0m3 8h0m2-4h0m4-4h0m3 6h0m8 0h0m6 2h0m143-8h0m13 2h0m-404 16h0m17-2h0m12 1h0m15-5h0m66-1h0m14 4h0m2-1h0m2-5h0m5 9h0m2-6h0m0 1h0m0 4h0m2-5h0m1 5h0m1-3h0m1-4h0m4 4h0m2 2h0m0 2h0m1-7h0m1 1h0m0 3h0m1-2h0m2 0h0m1 3h0m3-2h0m2 3h0m1-6h0m1-2h0m1 6h0m1-5h0m3 1h0m1 1h0m0 5h0m1-3h0m1 4h0m1-9h0m1 9h0m1-3h0m2 1h0m0 1h0m0 1h0m2-7h0m0 7h0m1-3h0m3 0h0m1 3h0m1-6h0m1-2h0m1 3h0m0 3h0m1-6h0m0 3h0m0 1h0m2-4h0m1 5h0m1 0h0m2-3h0m0 5h0m1-5h0m1 1h0m1 0h0m0 5h0m3-8h0m0 2h0m1 2h0m3 3h0m1-1h0m3-7h0m3 3h0m1 0h0m3 0h0m2 6h0m1-6h0m9-2h0m6 5h0m146-3h0m25-3h0m6 4h0m11 2h0m-488 13h0m2-3h0m57-1h0m15-3h0m4 4h0m0 3h0m9-5h0m1 4h0m2 0h0m3-8h0m9 4h0m5-1h0m101 5h0m2-8h0m5 1h0m1 0h0m4 3h0m1 5h0m3-3h0m2-1h0m5-5h0m10 1h0m4-1h0m11 6h0m0 2h0m2-4h0m2-3h0m2 0h0m1 5h0m2-4h0m0 7h0m3-6h0m0 6h0m1-7h0m0 5h0m6-6h0m15 0h0m10 1h0m74 0h0m-376 11h0m1 3h0m12-3h0m5-1h0m8-1h0m12 2h0m22-3h0m0 3h0m3 1h0m15-3h0m135 5h0m22-4h0m7-2h0m14 2h0m10 1h0m23-1h0m10-1h0m-244 10h0m1 8h0m2-9h0" stroke="#dc9238" stroke-width="6.2"/>
</g>
<circle cx="636.4" cy="122" r="7.8" fill="#cb4a48"/>
<text x="656.5" y="126.6" font-size="13.4" fill="#2a2a2a" textLength="62.2" lengthAdjust="spacingAndGlyphs" >Astrocytic</text>
<circle cx="636.4" cy="147.2" r="7.8" fill="#9dd0ba"/>
<text x="656.5" y="151.8" font-size="13.4" fill="#2a2a2a" textLength="100.5" lengthAdjust="spacingAndGlyphs" >Endothelial Cell</text>
<circle cx="636.4" cy="172.3" r="7.8" fill="#62a5af"/>
<text x="656.5" y="176.9" font-size="13.4" fill="#2a2a2a" textLength="115" lengthAdjust="spacingAndGlyphs" >Excitatory Neuron</text>
<circle cx="636.4" cy="197.4" r="7.8" fill="#e2907a"/>
<text x="656.5" y="202" font-size="13.4" fill="#2a2a2a" textLength="24" lengthAdjust="spacingAndGlyphs" >IPC</text>
<circle cx="636.4" cy="222.6" r="7.8" fill="#d0cf92"/>
<text x="656.5" y="227.2" font-size="13.4" fill="#2a2a2a" textLength="109.8" lengthAdjust="spacingAndGlyphs" >Inhibitory Neuron</text>
<circle cx="636.4" cy="247.8" r="7.8" fill="#7aab93"/>
<text x="656.5" y="252.3" font-size="13.4" fill="#2a2a2a" textLength="29.5" lengthAdjust="spacingAndGlyphs" >NPC</text>
<circle cx="636.4" cy="272.9" r="7.8" fill="#dc9238"/>
<text x="656.5" y="277.5" font-size="13.4" fill="#2a2a2a" textLength="20.8" lengthAdjust="spacingAndGlyphs" >RG</text>
<path d="M868.3 102.3V597.3M937.2 102.3V597.3M1006.2 102.3V597.3M1075.1 102.3V597.3M1144.1 102.3V597.3M1213 102.3V597.3M1282 102.3V597.3M1350.9 102.3V597.3M868.3 102.3H1350.9M868.3 173H1350.9M868.3 243.7H1350.9M868.3 314.4H1350.9M868.3 385.2H1350.9M868.3 455.9H1350.9M868.3 526.6H1350.9M868.3 597.3H1350.9" stroke="#e1e4ef" stroke-width="1" fill="none"/>
<path d="M1075.5 102.3V597.3M868.3 385.5H1350.9" stroke="#5c5c62" stroke-width="0.9" fill="none"/>
<path d="M1075.1 102.3h-3M1075.1 597.3h-3M868.3 385.2v4M1350.9 385.2v4M1075.1 455.9h-3M1075.1 526.6h-3" stroke="#5c5c62" stroke-width="1.3"/>
<g filter="url(#ublur)">
<ellipse cx="992.4" cy="453.5" rx="34.5" ry="47.1" fill="#ee8042" fill-opacity="0.85" transform="rotate(10 992.4 453.5)"/>
<ellipse cx="1033.8" cy="413.4" rx="13.8" ry="30.6" fill="#ee8042" fill-opacity="0.6" transform="rotate(-40 1033.8 413.4)"/>
<ellipse cx="923.5" cy="519.5" rx="18.4" ry="14.1" fill="#ee8042" fill-opacity="0.6" transform="rotate(0 923.5 519.5)"/>
<ellipse cx="997" cy="516" rx="46" ry="7.1" fill="#ee8042" fill-opacity="0.5" transform="rotate(-6 997 516)"/>
<ellipse cx="937.2" cy="437" rx="10.3" ry="28.3" fill="#ee8042" fill-opacity="0.45" transform="rotate(0 937.2 437)"/>
<ellipse cx="1052.1" cy="455.9" rx="10.3" ry="23.6" fill="#ee8042" fill-opacity="0.45" transform="rotate(0 1052.1 455.9)"/>
<ellipse cx="1105" cy="257.9" rx="43.7" ry="30.6" fill="#e8944a" fill-opacity="0.5" transform="rotate(15 1105 257.9)"/>
<ellipse cx="955.6" cy="276.7" rx="18.4" ry="9.4" fill="#e8944a" fill-opacity="0.5" transform="rotate(-20 955.6 276.7)"/>
<ellipse cx="1213" cy="378.1" rx="11.5" ry="14.1" fill="#d8a850" fill-opacity="0.5" transform="rotate(0 1213 378.1)"/>
<ellipse cx="1185.4" cy="477.1" rx="13.8" ry="14.1" fill="#d8a850" fill-opacity="0.45" transform="rotate(0 1185.4 477.1)"/>
</g>
<g fill="none" stroke-linecap="round" transform="scale(0.5)">
<path d="M2321 576h0m-161 12h0m183-7h0m2 8h0m-180 10h0m11-4h0m316 3h0m-374 11h0m217-7h0m146 4h0m10-6h0m2 8h0m1 1h0m2-9h0m0 6h0m7 0h0m3-2h0m0 2h0m-256 11h0m217-4h0m4 2h0m1-2h0m46 2h0m2 1h0m-479 13h0m12-9h0m10 7h0m215-2h0m89-2h0m95-1h0m4 4h0m4-4h0m40-2h0m19 6h0m2-3h0m0 6h0m6-1h0m-475 7h0m8 1h0m18 1h0m128 2h0m39-9h0m61 2h0m63 4h0m57-5h0m20 5h0m0 2h0m3-8h0m47 1h0m17 6h0m4 0h0m7-3h0m5 0h0m-489 9h0m19 2h0m6 1h0m6-1h0m264 3h0m90-1h0m5 0h0m7-3h0m81 2h0m5-2h0m6 5h0m-483 1h0m21 6h0m8 3h0m176-5h0m19 1h0m168 2h0m4-4h0m54 3h0m21-4h0m1-1h0m7 1h0m0 5h0m13-5h0m-513 8h0m6 7h0m21-1h0m10-5h0m3-1h0m13 7h0m132-4h0m6 6h0m221-5h0m95 1h0m-498 8h0m4 3h0m15 1h0m97-2h0m22 3h0m37-5h0m9 4h0m39-4h0m162-2h0m16 6h0m11 2h0m-396 3h0m4 3h0m11 2h0m13 2h0m96-8h0m9 6h0m11-6h0m9 8h0m25-5h0m3 5h0m120-7h0m47 1h0m37-1h0m1-1h0m-398 15h0m13 1h0m4-3h0m134 4h0m8-5h0m1-3h0m21 1h0m3-1h0m0 5h0m3-5h0m2 4h0m10 2h0m2-3h0m9 2h0m21 2h0m121-7h0m8 7h0m13-2h0m-368 8h0m10-3h0m156 1h0m8 2h0m18 0h0m4 4h0m18-4h0m13 4h0m8 1h0m1-5h0m0 4h0m2-4h0m0 5h0m1-7h0m2 7h0m21 0h0m1-8h0m28 4h0m41 3h0m-345 11h0m17-8h0m6 2h0m7 4h0m153-4h0m23 2h0m4 3h0m1 0h0m17-2h0m6 4h0m12-9h0m4 5h0m2 1h0m4-1h0m0 1h0m1-5h0m3 2h0m0 4h0m2 0h0m1-1h0m8-6h0m0 6h0m4 1h0m3 2h0m2-6h0m6 1h0m14 3h0m88-1h0m4 2h0m4-2h0m-396 11h0m4-1h0m5-4h0m19 3h0m8-5h0m7 4h0m141 1h0m10-2h0m49 3h0m16-3h0m0 2h0m6 0h0m6-1h0m1 2h0m3 0h0m5-6h0m3 9h0m7-5h0m0 1h0m5-3h0m15-1h0m3 2h0m2 2h0m1-3h0m11 4h0m9-6h0m25 5h0m8-4h0m45 5h0m-412 7h0m3-3h0m13 0h0m9 8h0m163 0h0m45-7h0m39 4h0m9-5h0m12 2h0m2-1h0m19 1h0m10 0h0m2 4h0m1 0h0m6 1h0m3 2h0m4-6h0m15 1h0m57 1h0m-427 14h0m44-1h0m154-7h0m21 1h0m13 6h0m10-6h0m3 7h0m74-6h0m7-2h0m8 0h0m4 3h0m10-4h0m2 5h0m37-5h0m17 6h0m-395 10h0m11-4h0m25-2h0m178 7h0m166-1h0m24-5h0m-206 15h0m20-3h0m1-1h0m0 1h0m7 3h0m1-4h0m3 3h0m82 2h0m59-5h0m22-2h0m4 8h0m1-2h0m4-2h0m4 1h0m5-4h0m114 6h0m-398 9h0m78 2h0m8-4h0m2-3h0m1 5h0m13-4h0m3 4h0m16-1h0m133 1h0m10-4h0m12 2h0m34-1h0m88 5h0m4 0h0m-337 11h0m9-7h0m9-1h0m7 5h0m5 2h0m1-5h0m4-2h0m3 3h0m3-1h0m3 3h0m132-6h0m14 2h0m20 6h0m112-1h0m7-1h0m2-6h0m0 8h0m2-1h0m4-6h0m2 5h0m2-4h0m3 7h0m-367 2h0m15 3h0m16-2h0m0 1h0m1 0h0m8 5h0m1-6h0m10 7h0m1-1h0m2-1h0m1-5h0m5 5h0m2-6h0m4 3h0m15 0h0m271-2h0m1 3h0m1-2h0m1 4h0m1-4h0m0 4h0m-323 3h0m10 3h0m16 5h0m275-2h0m11 2h0m3 0h0m4-5h0m1 4h0m2 0h0m4-3h0m6-4h0m-329 12h0m6 4h0m12 1h0m17-3h0m0 2h0m16 3h0m39-1h0m28-7h0m148 2h0m10 6h0m38-6h0m0 2h0m8 4h0m-322 2h0m18 0h0m1 0h0m5 5h0m85 2h0m171-6h0m36 2h0m-275 6h0m8 6h0m40-5h0m20 2h0m0 2h0m14 3h0m13-5h0m79-3h0m-128 15h0m23-1h0m1 1h0m2-4h0m-37 15h0m5 10h0m16-4h0m24 3h0m35 1h0m144 22h0m7-5h0m-223 16h0m1 5h0m8 4h0m5-5h0m-7 7h0m74 5h0m118 4h0m-200 4h0m17 3h0m11 3h0m-52 4h0m30-2h0m5 6h0m37-6h0m17 7h0m12-6h0m181 3h0m-237 10h0m3-1h0m12 1h0m14 4h0m2-2h0m214-6h0m4 6h0m-230 8h0m37 3h0m204-8h0m-261 13h0m1 4h0m7-7h0m18 1h0m7 8h0m15-4h0m-89 9h0m76 5h0m167-3h0m-312 11h0m149-6h0m-54 9h0m16 4h0m4 2h0m8 0h0m6-4h0m4 1h0m7 6h0m27 0h0m-185 1h0m3 6h0m1-4h0m120 1h0m0 3h0m48-1h0m-252 6h0m23 2h0m8 4h0m196-6h0m-240 18h0m46-7h0m7 0h0m9 6h0m-39 4h0" stroke="#b9d985" stroke-width="5"/>
<path d="M2144 349h0m-140 96h0m226 22h0m-222 24h0m187 1h0m-303 70h0m65 4h0m47-1h0m324 9h0m14 10h0m-181 6h0m26 8h0m-127 3h0m96 6h0m17 2h0m95-2h0m76-1h0m5-4h0m0 7h0m1-9h0m1 2h0m3 4h0m123 1h0m4-5h0m4 5h0m2-2h0m22 4h0m1 0h0m6 0h0m-448 6h0m4 2h0m115-2h0m42 4h0m128-6h0m109 1h0m6-2h0m5-1h0m5-1h0m25 0h0m16 7h0m-445 6h0m85 0h0m45-3h0m3 8h0m64-3h0m90-2h0m91 5h0m1 0h0m8-8h0m49 1h0m12 1h0m2 4h0m-153 10h0m73-1h0m7 4h0m1-2h0m5-7h0m53 1h0m3 2h0m1 3h0m14-1h0m1-2h0m0 1h0m5 4h0m1 0h0m11-6h0m-517 9h0m5 6h0m29-7h0m6 5h0m169 2h0m18-5h0m183 6h0m3-1h0m5-2h0m2 3h0m70-2h0m7 3h0m4-9h0m1 4h0m3-2h0m3 4h0m-502 8h0m11-2h0m20-2h0m201 0h0m109 0h0m6 2h0m49 7h0m9-3h0m1 3h0m2-4h0m6-1h0m2-3h0m17 6h0m48-4h0m7 2h0m3-2h0m1-3h0m2 7h0m-484 3h0m0 5h0m0 1h0m7-3h0m1-2h0m8 2h0m10 2h0m5-1h0m100 1h0m10-1h0m6 2h0m9-4h0m43 0h0m61 6h0m30 0h0m69 0h0m36 1h0m3-9h0m0 5h0m0 3h0m1-8h0m0 4h0m5-1h0m2 3h0m1 0h0m1-2h0m4 2h0m64-6h0m0 9h0m9-7h0m3 1h0m17-3h0m-514 15h0m11 3h0m9 0h0m10-7h0m11 8h0m57-7h0m40 3h0m4-1h0m0 2h0m5 2h0m2-6h0m1 6h0m7-2h0m2 2h0m4-5h0m7 5h0m23-2h0m1 1h0m4 2h0m69 0h0m9-2h0m129-4h0m1 3h0m15-3h0m-421 14h0m5-6h0m43 5h0m98-5h0m14 6h0m8-6h0m8 5h0m3 1h0m4-1h0m4-4h0m9 5h0m17-3h0m7 2h0m37-6h0m111 2h0m11 6h0m30-4h0m2-4h0m-416 13h0m5 5h0m24 1h0m121 0h0m12 0h0m1-4h0m3-5h0m8 6h0m1 3h0m1-8h0m7 7h0m2-2h0m6-3h0m0 4h0m20-7h0m7 7h0m3-1h0m2-4h0m7 0h0m39 0h0m105-2h0m37 1h0m-416 11h0m6 2h0m8-3h0m3 7h0m1-1h0m12 2h0m6-1h0m144-6h0m2 1h0m2-2h0m7-1h0m0 3h0m3 5h0m11-5h0m3 2h0m12-4h0m7 4h0m7-4h0m15 4h0m9-4h0m5 5h0m0 3h0m3-8h0m1 5h0m3-1h0m3 2h0m3-2h0m0 3h0m2-6h0m0 3h0m83-2h0m22 1h0m-386 10h0m9 3h0m15-7h0m9 1h0m4 4h0m157-2h0m5 3h0m12 2h0m1-4h0m1 1h0m7-4h0m2 7h0m16-2h0m15-1h0m1-2h0m6-2h0m8 3h0m1-1h0m2 6h0m4-2h0m7 1h0m0 1h0m2-4h0m2-1h0m1 1h0m1-5h0m1 9h0m1-6h0m0 2h0m3 2h0m0 2h0m8-9h0m2 6h0m15-4h0m5 2h0m10 4h0m25-3h0m13 3h0m1-4h0m2-2h0m5 2h0m44-3h0m-409 17h0m6-6h0m0 4h0m5-5h0m22 0h0m100 5h0m18-4h0m5 6h0m27-4h0m1 5h0m24-7h0m7 1h0m24 1h0m28 0h0m5-4h0m16 7h0m2-1h0m2 1h0m3 0h0m2 2h0m10-5h0m1 4h0m11-7h0m0 5h0m5 3h0m5-4h0m20-2h0m42-2h0m1 2h0m4 6h0m4-3h0m-409 4h0m14 3h0m7 5h0m9-7h0m110 3h0m52 1h0m20-5h0m24 4h0m7 0h0m49 0h0m8 1h0m6 4h0m3-9h0m3 3h0m5 2h0m1 2h0m5-7h0m8 6h0m5 1h0m6 0h0m8-6h0m10 1h0m13 1h0m24 3h0m10 3h0m1-1h0m2 0h0m1-4h0m2 1h0m2-2h0m-391 7h0m7 6h0m12 2h0m1-5h0m151 4h0m47-5h0m28 1h0m42-1h0m18-2h0m4 7h0m32 2h0m17-7h0m9 5h0m2 0h0m-399 3h0m15 1h0m11 2h0m7 3h0m11-2h0m148 4h0m16 1h0m14-7h0m15-2h0m26 1h0m83 1h0m48-2h0m0 4h0m5-3h0m12 2h0m1-3h0m2 4h0m3 2h0m4 0h0m27 2h0m-423 3h0m109 7h0m81-5h0m155-2h0m31 1h0m0 3h0m3-5h0m31 4h0m97-2h0m6 7h0m-360 8h0m50-1h0m4 0h0m4 0h0m2 2h0m2-8h0m11 2h0m136 1h0m9-3h0m9 9h0m25-6h0m100 6h0m4-1h0m3 1h0m-355 10h0m13-2h0m21-5h0m5 4h0m5-5h0m1 2h0m1 5h0m2 1h0m6-3h0m8 2h0m177-8h0m108 1h0m2 4h0m0 3h0m1-6h0m2 0h0m3-2h0m0 2h0m2-2h0m0 1h0m1 2h0m1 3h0m-390 10h0m35-4h0m11 2h0m10 0h0m10-3h0m3 8h0m6-3h0m1-6h0m1 8h0m3-5h0m5 0h0m2-3h0m4 5h0m1 2h0m8 1h0m1-1h0m139 0h0m3-2h0m46 4h0m86-1h0m3-6h0m1-2h0m0 4h0m1 5h0m1-9h0m0 3h0m1 0h0m2 4h0m1-1h0m0 3h0m-332 9h0m1-1h0m9-5h0m2-2h0m3 7h0m13-6h0m7-1h0m4 0h0m3 2h0m4 5h0m129 1h0m64-1h0m2-1h0m82-4h0m5-1h0m4 6h0m-349 12h0m18-1h0m4 1h0m9-2h0m18-1h0m4-6h0m192 9h0m59-3h0m21-5h0m7-1h0m7 0h0m11 1h0m3 6h0m-341 10h0m31-7h0m0 1h0m-1 13h0m9-2h0m60 6h0m25-3h0m86-4h0m59 2h0m13 5h0m-179 8h0m6 1h0m17-7h0m9 4h0m78-1h0m34 3h0m-108 12h0m159-8h0m-192 13h0m15 3h0m12-4h0m0 6h0m160-4h0m-200 6h0m7 3h0m1 1h0m21 0h0m10 0h0m6 4h0m-24 3h0m14 5h0m7-5h0m2 0h0m33 0h0m140 1h0m0 2h0m-174 10h0m6-1h0m67 3h0m-103 7h0m27 1h0m3 0h0m2 3h0m9 1h0m34-3h0m100 3h0m-161 2h0m6 7h0m3-4h0m14 5h0m4 0h0m161-5h0m-212 15h0m1-2h0m6-3h0m29 5h0m18-3h0m4-2h0m6 5h0m5-3h0m-67 6h0m26 5h0m4 0h0m2 2h0m9-3h0m1 1h0m28 2h0m71-6h0m41 6h0m18 0h0m-249 4h0m62 6h0m7-8h0m16 2h0m37 4h0m56 3h0m12-3h0m-148 8h0m1 3h0m1-7h0m12 7h0m9-2h0m1-5h0m2 4h0m23 2h0m2 2h0m5-8h0m4 1h0m13 0h0m97 4h0m113 0h0m-421 9h0m108-4h0m19 4h0m4 4h0m27-2h0m2-3h0m4 5h0m3-7h0m5 5h0m12 2h0m11-4h0m13 3h0m6 2h0m5-9h0m89 4h0m1-3h0m31 5h0m-238 6h0m26 0h0m21-2h0m4 6h0m16 2h0m13 0h0m7-5h0m9-3h0m46 7h0m202-5h0m-371 12h0m28-3h0m11 4h0m32 4h0m8-9h0m1 0h0m16 9h0m2-6h0m1 4h0m9 2h0m16-9h0m4 2h0m4 0h0m3 6h0m9 0h0m9-6h0m2 0h0m7-2h0m135 0h0m44 8h0m-355 9h0m6-4h0m87-1h0m28 4h0m36-5h0m-270 18h0m27-7h0m34 4h0m12 3h0m124-5h0m30 1h0m45 3h0m-271 10h0m1-4h0m1 4h0m4-4h0m1 4h0m2-2h0m2 2h0m2-5h0m1 0h0m14 0h0m3 4h0m12 1h0m37-8h0m-82 12h0m8 4h0m5-2h0m16 1h0m4-5h0m16 0h0m-322 37h0" stroke="#c2ca78" stroke-width="5.4"/>
<path d="M2128 331h0m-101 107h0m-135 8h0m344 2h0m48-7h0m-368 18h0m299-4h0m-217 11h0m-96 4h0m39 3h0m64 10h0m4 5h0m114-1h0m61-5h0m36-1h0m-128 17h0m98 1h0m-90 10h0m12-9h0m189 6h0m-370 8h0m161-3h0m43 6h0m10-4h0m33-2h0m67 5h0m38 0h0m-172 9h0m4-3h0m52 7h0m46-8h0m-275 13h0m114-4h0m230 0h0m7 0h0m11 7h0m-314 6h0m30 0h0m129-2h0m38 5h0m-34 7h0m36 6h0m104-1h0m-226 10h0m3-5h0m4 6h0m11-1h0m13-4h0m153-1h0m-303 16h0m17-3h0m98-6h0m33 5h0m127-5h0m103 8h0m5-4h0m5 5h0m-368 5h0m41 3h0m178 0h0m3-1h0m15-5h0m101-1h0m24 3h0m-359 8h0m86 6h0m95-5h0m49 3h0m2 3h0m20-3h0m113 3h0m-173 11h0m44-6h0m1 6h0m13-3h0m123-3h0m144 2h0m0 1h0m-490 11h0m67-2h0m23-5h0m52 5h0m17-4h0m15 1h0m3-1h0m36 7h0m4-3h0m43 2h0m34 2h0m55-4h0m12 0h0m3-2h0m111 5h0m3-8h0m3 1h0m12 0h0m1 1h0m25 3h0m-462 8h0m67 4h0m20-2h0m31 3h0m6-8h0m1 5h0m24 2h0m12-1h0m20 2h0m133-2h0m159-5h0m6 5h0m-507 11h0m26 1h0m5-3h0m2-3h0m105-1h0m0 6h0m4-3h0m18-3h0m12 3h0m2-4h0m55 8h0m98-4h0m8-2h0m13 1h0m2 6h0m74-5h0m8-1h0m2 1h0m1-4h0m59 0h0m4 0h0m10 3h0m0 3h0m5-4h0m8 3h0m-492 10h0m13-1h0m2-3h0m4 8h0m151-2h0m43-1h0m115-3h0m5 4h0m53-1h0m5-1h0m3 1h0m0 2h0m1-5h0m0 3h0m77-3h0m3 2h0m1-1h0m1 4h0m4-6h0m2 5h0m0 1h0m-483 2h0m8 1h0m7 8h0m7-3h0m5 0h0m112 2h0m65-8h0m5 2h0m38 0h0m80 5h0m7-7h0m6 1h0m48 1h0m2 0h0m2 1h0m0 5h0m2-4h0m0 2h0m1-3h0m4 2h0m67-2h0m10 2h0m2 0h0m1 2h0m2 0h0m1-6h0m0 6h0m1-4h0m9 5h0m-503 7h0m13-1h0m9 2h0m8 3h0m1 0h0m2-7h0m94 3h0m31 1h0m2 3h0m28-7h0m1 6h0m1-2h0m24 0h0m131-4h0m1 5h0m3-5h0m3 2h0m31 5h0m7-4h0m5 4h0m6-9h0m0 7h0m2-7h0m3 4h0m2 4h0m1 0h0m2-4h0m4 2h0m2-3h0m68 0h0m-487 13h0m3 0h0m18 0h0m15 1h0m5-3h0m94 5h0m9-9h0m7 5h0m14 4h0m10-4h0m6-5h0m3 4h0m6 2h0m43 0h0m7-2h0m106-2h0m21 6h0m2-4h0m2 2h0m28-5h0m3 1h0m5 7h0m2-7h0m-416 15h0m19 1h0m3-1h0m2-5h0m5 5h0m1-5h0m2 0h0m5 3h0m105 4h0m4-7h0m12 1h0m2 0h0m6-1h0m17 3h0m4-1h0m6-1h0m4 6h0m5-8h0m7 8h0m5-3h0m45-6h0m111 0h0m4 9h0m5-4h0m7 4h0m25-2h0m4-4h0m-401 9h0m17-2h0m131 7h0m2 2h0m13-5h0m7-2h0m16 5h0m3-2h0m4 0h0m8-3h0m0 2h0m4-3h0m0 6h0m20 1h0m2-1h0m70-4h0m62 3h0m20-6h0m21 1h0m-400 12h0m9-1h0m133-1h0m37 1h0m9 5h0m7-3h0m5-3h0m13 3h0m2-4h0m1 5h0m4-2h0m9 0h0m5 1h0m1 4h0m2-1h0m2-5h0m1 3h0m12 4h0m1-2h0m8 0h0m11-1h0m8-2h0m15 4h0m35-7h0m41 3h0m4-3h0m20 3h0m0 3h0m-403 9h0m6 3h0m6-4h0m23-2h0m121-1h0m20 7h0m5-8h0m5 2h0m16 1h0m3-2h0m22 4h0m21 1h0m12-3h0m0 1h0m1 1h0m3-5h0m2 8h0m1-3h0m12 2h0m3 0h0m4-8h0m2 3h0m5 2h0m70-4h0m17 1h0m5-2h0m1 1h0m1 0h0m3 6h0m15 1h0m15 0h0m-416 8h0m9-3h0m1-1h0m2 4h0m2-1h0m2-4h0m5 0h0m6 0h0m2 8h0m5-6h0m117 0h0m28 1h0m14 0h0m1-2h0m2 2h0m1-4h0m0 1h0m1 1h0m5 5h0m8 0h0m7 1h0m3-5h0m7 1h0m17 2h0m21-3h0m22-2h0m8 3h0m4-2h0m2 5h0m4-7h0m0 9h0m6-1h0m3-7h0m6 8h0m12 0h0m34-3h0m8-2h0m1 4h0m15-4h0m3 4h0m5-2h0m0 2h0m-405 6h0m24 1h0m17 0h0m116 2h0m37 1h0m59 1h0m26-3h0m18-1h0m10 1h0m4-3h0m7 3h0m26-5h0m26 6h0m7-2h0m14 0h0m6 0h0m3-1h0m4 1h0m3-2h0m6 5h0m2-2h0m14 1h0m4 0h0m-456 3h0m46 9h0m1 0h0m4-9h0m2 2h0m12 0h0m142 1h0m8-3h0m4 1h0m2 3h0m1 5h0m40-2h0m4-5h0m2 5h0m6-5h0m71 1h0m18-1h0m2-1h0m19 1h0m7 3h0m4 2h0m22-2h0m5-3h0m1 6h0m6 1h0m7-1h0m-421 9h0m15 0h0m1 0h0m10 0h0m13-2h0m5 1h0m6-3h0m62 0h0m47 1h0m13-3h0m13 4h0m10 1h0m5-6h0m8 7h0m9 2h0m31-6h0m85-2h0m30 2h0m4-3h0m14 6h0m1-2h0m11-1h0m2-2h0m3 3h0m36 2h0m-253 7h0m21 4h0m29 2h0m128-7h0m7 5h0m4 2h0m3-2h0m17-5h0m7 4h0m3 0h0m8-6h0m6 5h0m10 2h0m8-6h0m2 4h0m18 1h0m-262 12h0m37-4h0m1 1h0m1 2h0m7-2h0m13-4h0m2 4h0m5-3h0m12 2h0m7 1h0m96 1h0m6-4h0m9-2h0m12 1h0m24 7h0m6-2h0m104 3h0m1-4h0m-518 13h0m111-1h0m61-4h0m14 1h0m12 0h0m7-4h0m4 1h0m42 8h0m122-5h0m2-3h0m8-1h0m11 9h0m3-8h0m1 5h0m15-1h0m7 0h0m92-1h0m2-1h0m0 6h0m1-2h0m3 1h0m0 1h0m2-4h0m-527 7h0m4 5h0m19 0h0m156 2h0m28-6h0m2-1h0m6 7h0m1-9h0m0 3h0m8-3h0m3 2h0m7-2h0m4 8h0m78-7h0m65 4h0m44 4h0m86-1h0m10-6h0m1-2h0m0 2h0m1 3h0m10 2h0m-695 9h0m156 2h0m37-3h0m5-3h0m111 7h0m54-7h0m5 7h0m3-3h0m1 0h0m11 2h0m1-4h0m14-2h0m1-1h0m2 2h0m-55 11h0m16-1h0m12-1h0m1 5h0m9 0h0m9-1h0m45 1h0m16-1h0m146 1h0m2 0h0m9-5h0m0 2h0m40 2h0m5-3h0m-415 9h0m131-2h0m10 2h0m18 2h0m116-2h0m12 0h0m58 3h0m23-5h0m-179 12h0m33-1h0m15 1h0m24 5h0m66 2h0m2-8h0m2 4h0m1 1h0m44 0h0m15-6h0m1 8h0m-398 3h0m153 1h0m91 2h0m2 4h0m6-5h0m1-1h0m1 1h0m50 2h0m18-1h0m77 1h0m3 2h0m4-4h0m-200 11h0m29-1h0m9-2h0m5 4h0m11 0h0m40-3h0m14-1h0m-94 14h0m3-5h0m6 8h0m11-6h0m3 2h0m5 3h0m3-6h0m1 1h0m3 1h0m-67 8h0m23 1h0m7 7h0m10-2h0m17-2h0m3-3h0m4-1h0m169 8h0m-571 9h0m83-4h0m290-3h0m24 5h0m1-4h0m4 5h0m5 1h0m20-2h0m-26 9h0m1-1h0m2-1h0m5-3h0m2 3h0m3 5h0m147 1h0m2-6h0m27 6h0m3-5h0m1 5h0m-237 9h0m46-7h0m0 8h0m6-9h0m146 0h0m9 0h0m14 6h0m-220 10h0m10-5h0m10 2h0m3-1h0m5-2h0m28 2h0m3 0h0m1 0h0m7 2h0m1-4h0m0 1h0m20 6h0m102-1h0m45 3h0m18-5h0m1 5h0m-244 9h0m4-8h0m6 6h0m15 0h0m7-2h0m3 0h0m5 1h0m7 1h0m15 1h0m2-5h0m7-2h0m133 9h0m8-1h0m36-6h0m-246 17h0m4-7h0m9 2h0m4 3h0m24-3h0m3-2h0m1 2h0m3 1h0m7 1h0m1-5h0m1 4h0m9 0h0m34-4h0m64 8h0m18-3h0m32 2h0m10-8h0m27 5h0m1 3h0m6 0h0m-280 10h0m15-5h0m0 2h0m11-4h0m15 0h0m4-1h0m4 7h0m12-2h0m1-3h0m0 3h0m5 3h0m7-6h0m7 6h0m2-6h0m1 7h0m6-9h0m53 8h0m4-1h0m9-4h0m20-2h0m3 7h0m44-2h0m25-5h0m0 8h0m19-1h0m12-7h0m6 7h0m2 0h0m-619 6h0m277 4h0m77-1h0m5-7h0m7 9h0m5-1h0m1-3h0m2-4h0m5 6h0m1-5h0m9 3h0m0 1h0m2-4h0m4 2h0m5-3h0m7 3h0m0 4h0m10-4h0m13 2h0m12-4h0m19 7h0m8-6h0m2 3h0m43-5h0m3 1h0m0 7h0m7-2h0m9 2h0m4 0h0m58-8h0m20-1h0m-345 19h0m42-3h0m32 3h0m13 0h0m1-6h0m6 5h0m4-3h0m10-5h0m1 3h0m9 5h0m4-5h0m0 4h0m2 2h0m7-4h0m5-3h0m12-2h0m8 2h0m1 5h0m4-6h0m5 7h0m19 0h0m3 1h0m41-9h0m20 3h0m2-2h0m12 0h0m1 4h0m1-2h0m56-3h0m14 3h0m27 5h0m3-8h0m6 9h0m-373 3h0m40 5h0m19-5h0m0 3h0m0 3h0m20-3h0m14 4h0m10-4h0m2 3h0m3-4h0m8-4h0m2 7h0m4-7h0m3 1h0m2-1h0m7 4h0m47-1h0m3 6h0m3-4h0m1-5h0m99 0h0m0 8h0m12-6h0m21 7h0m10-4h0m1 3h0m14-8h0m6 0h0m8 3h0m12-2h0m2 6h0m3-4h0m5 0h0m-387 13h0m34-4h0m5 1h0m12-2h0m39 4h0m0 1h0m2 1h0m3-1h0m6-4h0m9 2h0m1 0h0m1 2h0m3-4h0m0 6h0m10-1h0m6 0h0m1-2h0m2-5h0m6 9h0m7-8h0m4 8h0m2-3h0m6-4h0m6-1h0m1 2h0m1 0h0m14 4h0m8-5h0m114-1h0m22-1h0m3 8h0m8-6h0m20 6h0m2-6h0m34 0h0m-388 11h0m9-1h0m7 3h0m55-3h0m7-2h0m13 6h0m5-2h0m1-1h0m2 0h0m0 6h0m2-7h0m6 6h0m6-8h0m1 9h0m3-8h0m0 7h0m9-1h0m2-3h0m5 3h0m6 0h0m0 2h0m1-5h0m0 2h0m8-1h0m4-4h0m16 2h0m6 0h0m168-3h0m22 9h0m1-6h0m11 1h0m-486 14h0m1-1h0m26 2h0m59-4h0m1 0h0m4-2h0m10 2h0m96 1h0m5-6h0m24 4h0m18 0h0m11-3h0m26 0h0m14 2h0m52 1h0m10 1h0m8-2h0m1-1h0m20 3h0m9-1h0m63-2h0m17-2h0m15 0h0m-597 14h0m99 2h0m11-2h0m1 1h0m2 2h0m3-2h0m5-1h0m8-2h0m3 5h0m2-6h0m2 5h0m4 0h0m0 1h0m1-3h0m6 2h0m2 3h0m1-1h0m16 0h0m2-1h0m16-5h0m7-2h0m131 3h0m20-2h0m18 2h0m-256 12h0m1-4h0m13 1h0m2 1h0m2 6h0m1-9h0m0 8h0m7-7h0m5 5h0m7 2h0m6-2h0m9-2h0m1-2h0m3 4h0m4-6h0m-357 15h0m75 0h0m145-3h0m91-2h0m40 1h0m-370 15h0" stroke="#cbbb6b" stroke-width="5.8"/>
<path d="M2136 338h0m-4 21h0m-6 2h0m7-1h0m4 4h0m2 21h0m2 27h0m-156 21h0m34 6h0m123-9h0m107 9h0m29 0h0m-375 8h0m112-2h0m1 1h0m0 2h0m30-2h0m162 3h0m30-3h0m7-2h0m4 5h0m-225 10h0m4 0h0m4-5h0m0 3h0m2 1h0m192-7h0m9 0h0m2 8h0m5-6h0m28 6h0m-114 9h0m89-7h0m1-1h0m2 2h0m9-1h0m47 7h0m-373 10h0m69-5h0m15 5h0m8-4h0m100 5h0m59-3h0m14-6h0m73 0h0m0 7h0m25 1h0m-329 2h0m163 9h0m8-4h0m4-5h0m36 5h0m9 4h0m22-1h0m52-3h0m2-4h0m29 5h0m-281 9h0m15-3h0m6 7h0m1-2h0m9 0h0m44 0h0m65-6h0m18 1h0m3 1h0m1 6h0m107 0h0m-358 3h0m5 2h0m69-4h0m157 1h0m0 4h0m68-3h0m30 4h0m13 3h0m-332 5h0m219-1h0m10 0h0m16 3h0m14-2h0m90 3h0m31-5h0m-386 17h0m31-9h0m106 7h0m42-7h0m24 5h0m7-1h0m44 4h0m8-7h0m12 1h0m6 1h0m37-1h0m54 4h0m-391 7h0m8 2h0m2 0h0m2 3h0m29 1h0m3-9h0m27 4h0m49 0h0m14 0h0m70 2h0m4 3h0m14-3h0m18-5h0m15 5h0m1-6h0m22 5h0m10-3h0m11-1h0m45 4h0m37-2h0m29 2h0m6-5h0m-395 15h0m1 0h0m31 4h0m88-7h0m18 1h0m12 2h0m2 2h0m21 0h0m87-1h0m48-3h0m8 1h0m21 4h0m38 1h0m5-1h0m-407 4h0m4-1h0m3 7h0m8-7h0m5 5h0m15 0h0m31-4h0m124 2h0m0 5h0m2-4h0m5-3h0m13-2h0m14 9h0m119-6h0m18 2h0m19 3h0m7 1h0m4-6h0m0 1h0m6 3h0m2-3h0m0 5h0m8-6h0m3 2h0m-439 11h0m8 0h0m8 3h0m22-7h0m13 5h0m14 1h0m54-1h0m66 2h0m10 0h0m22-8h0m80 4h0m11 3h0m46-1h0m16-7h0m29 2h0m-415 11h0m11 3h0m7-4h0m3 2h0m17 1h0m65-5h0m123 4h0m52-1h0m126-1h0m20 5h0m47-4h0m7-3h0m-441 19h0m9 0h0m28-3h0m23-2h0m107-4h0m144 8h0m15-4h0m1-2h0m80-1h0m39 4h0m-371 7h0m5-2h0m150 7h0m10 1h0m60-2h0m26 0h0m-250 11h0m24-5h0m2 6h0m7-5h0m129 5h0m50-1h0m15-1h0m8 1h0m53-2h0m84-3h0m159 3h0m-486 6h0m120 3h0m25 5h0m18-9h0m2 3h0m1 5h0m47 1h0m10-6h0m127 5h0m-476 9h0m194-1h0m58-6h0m49 4h0m11-2h0m6 3h0m10 1h0m0 2h0m4-3h0m4-4h0m122 8h0m8-8h0m5 1h0m6 0h0m1 2h0m3 3h0m148-6h0m25 2h0m-579 7h0m98 7h0m1-6h0m14-1h0m14 8h0m138-4h0m9-4h0m132 6h0m12 2h0m1-1h0m146-2h0m0 4h0m-462 9h0m51-8h0m240 0h0m16 1h0m0 2h0m1-1h0m5 0h0m68 5h0m8 0h0m76-4h0m0 5h0m6-8h0m2 3h0m0 3h0m9 1h0m-491 11h0m10-3h0m2-1h0m10 3h0m118 2h0m28-3h0m14-1h0m130 0h0m17-4h0m6 7h0m1-1h0m0 2h0m4-5h0m55-2h0m6 1h0m5 2h0m11-1h0m52-3h0m12 0h0m-496 15h0m16-5h0m3 2h0m3 0h0m0 6h0m8-3h0m1-1h0m129-2h0m11-1h0m16 0h0m20 6h0m130-8h0m5 9h0m9-9h0m7 3h0m0 1h0m31 3h0m16-2h0m6-3h0m3 5h0m1-3h0m4-1h0m-414 15h0m28-5h0m115 6h0m11-1h0m10-5h0m22 4h0m4-6h0m124 1h0m13 1h0m30-1h0m8 0h0m35-2h0m12 2h0m69 4h0m-561 8h0m35-2h0m57 6h0m1-7h0m12 6h0m21-7h0m82 3h0m30-1h0m4 2h0m7 5h0m2-7h0m6 7h0m18-5h0m12 5h0m9-2h0m137-5h0m7 2h0m9-2h0m2 4h0m2-5h0m18 3h0m17-4h0m13 1h0m-438 13h0m16-2h0m25 0h0m140 2h0m19 5h0m11-4h0m1-1h0m1-2h0m18 3h0m3 0h0m28-1h0m120-4h0m3 6h0m9-4h0m1 6h0m20-2h0m-474 10h0m67-5h0m7-1h0m39 6h0m126-5h0m4-1h0m4 8h0m11-2h0m15-4h0m12-2h0m2 2h0m12 4h0m7-4h0m13-1h0m16 4h0m106-4h0m7 1h0m0 1h0m1 5h0m6-8h0m23 8h0m-416 4h0m17 7h0m9 0h0m23-2h0m5-2h0m114 0h0m27-1h0m4-4h0m7 1h0m29 6h0m5-7h0m2 4h0m2-2h0m4 2h0m1-1h0m1 3h0m3-2h0m1 5h0m2-7h0m9 0h0m12 0h0m1 5h0m22-4h0m11 5h0m46-4h0m13 3h0m22-7h0m3 3h0m-404 14h0m17-2h0m12 1h0m14-4h0m99 5h0m67-2h0m1-4h0m8 6h0m118-3h0m11 3h0m19-3h0m38 3h0m9 0h0m1-6h0m3 3h0m0 1h0m16 4h0m2-5h0m-418 14h0m28-7h0m122 7h0m58-6h0m16 0h0m14 6h0m69-7h0m2 1h0m67 7h0m5-5h0m3-3h0m6 8h0m14-9h0m-427 18h0m5-3h0m12 4h0m20-9h0m158 3h0m26 0h0m16 3h0m2-5h0m92-1h0m3 0h0m54 7h0m2-3h0m5 2h0m6-5h0m5 1h0m4 3h0m2 4h0m7 0h0m1-9h0m1 2h0m17 1h0m-425 10h0m19 1h0m1 4h0m20-2h0m155-6h0m1 1h0m12 2h0m175 0h0m2-3h0m12 9h0m13-5h0m4 2h0m7 3h0m18-1h0m-509 9h0m287-3h0m180-2h0m12 3h0m15 0h0m20-2h0m-471 13h0m18 0h0m10-4h0m10 4h0m142 3h0m28-7h0m60 1h0m140-1h0m19-1h0m0 4h0m1-1h0m14-2h0m1 6h0m4-6h0m6 0h0m-448 8h0m41 6h0m6-1h0m9-1h0m2 1h0m172-1h0m2 2h0m1-6h0m22 2h0m149 4h0m9-6h0m9 9h0m3-7h0m12 0h0m-523 17h0m37-1h0m32-2h0m25-6h0m10 3h0m60 5h0m117-1h0m56 0h0m52 1h0m67-5h0m28-1h0m5 4h0m7-6h0m42 2h0m8 1h0m94 5h0m7-1h0m-568 3h0m55 9h0m38-7h0m80 7h0m67-1h0m1-3h0m5-2h0m0 3h0m6-3h0m1-3h0m4 6h0m2-2h0m151 2h0m65-2h0m1 1h0m16 1h0m1 2h0m44-2h0m23-3h0m-637 15h0m13-2h0m104 0h0m51-1h0m71 0h0m75 4h0m5 0h0m26-6h0m75 1h0m0 5h0m68-7h0m6 4h0m21-6h0m2 6h0m13-5h0m23 2h0m4-1h0m1 1h0m11 3h0m1 2h0m32-2h0m1-1h0m1-1h0m7 1h0m-668 8h0m50 3h0m54-2h0m44-1h0m62 6h0m141-7h0m28 5h0m94 0h0m8 2h0m10 0h0m57-7h0m32 3h0m11 3h0m3-5h0m0 4h0m28-4h0m-642 14h0m18-1h0m176-5h0m66-1h0m12 1h0m134 0h0m98 1h0m4-1h0m1 8h0m1 0h0m11-3h0m65-5h0m1 2h0m9 2h0m-573 7h0m20 5h0m79 2h0m16-7h0m34 2h0m66 5h0m7-9h0m6 7h0m239 1h0m2-6h0m1 0h0m3 7h0m6-8h0m2 2h0m0 5h0m6-2h0m0 2h0m73-8h0m0 8h0m8-3h0m79 4h0m-598 9h0m33 0h0m118-6h0m279-1h0m5 0h0m6 5h0m46 0h0m113-5h0m1 2h0m-577 10h0m92 4h0m14 0h0m31-2h0m256-1h0m3 0h0m4 5h0m5-5h0m10 3h0m2-3h0m0 2h0m16-3h0m19 5h0m16-5h0m122 6h0m-656 8h0m31-4h0m62 5h0m35-2h0m10 0h0m74 0h0m1-3h0m12 3h0m15-6h0m229 3h0m3-2h0m10 1h0m5-2h0m2 2h0m1 3h0m82-1h0m-417 8h0m18 2h0m0 2h0m49-2h0m260 1h0m2 1h0m2 2h0m3-7h0m1 8h0m9-1h0m166-2h0m11 3h0m1-8h0m-622 17h0m387-5h0m21 0h0m10 2h0m9-4h0m0 2h0m0 4h0m18-7h0m3 5h0m52-4h0m89 6h0m-679 7h0m54 5h0m69-2h0m159-2h0m211-5h0m35 4h0m7 1h0m14-5h0m120 3h0m-661 15h0m79 1h0m49-7h0m27-2h0m113 1h0m216 4h0m2-1h0m4-4h0m44 5h0m17-2h0m105-2h0m63 0h0m5 8h0m-626 7h0m86 2h0m285-1h0m14-4h0m4 3h0m1-2h0m1 2h0m6-1h0m8 3h0m23-7h0m0 5h0m21 2h0m121-7h0m12 3h0m3 0h0m54 2h0m-643 10h0m48 3h0m124-9h0m220 3h0m6 0h0m1 4h0m4-1h0m5-5h0m16 5h0m2 1h0m5 1h0m4-3h0m10 4h0m72-4h0m7 4h0m3-4h0m11-4h0m18 0h0m7 8h0m10-6h0m27-3h0m7 9h0m4-1h0m6-5h0m8 5h0m6-2h0m-686 11h0m83-1h0m14 2h0m55-5h0m0 4h0m33-6h0m112-1h0m40 2h0m97-2h0m7 9h0m6-7h0m0 6h0m2-8h0m9 0h0m4 3h0m1-2h0m3 7h0m5 1h0m4-2h0m2-1h0m2-3h0m2 1h0m7-4h0m1 1h0m6 7h0m5 0h0m2-5h0m25 6h0m7-3h0m37-5h0m5-1h0m19 9h0m9-1h0m36-6h0m11 0h0m52 3h0m5 1h0m-735 6h0m30 1h0m19 6h0m65 0h0m249-2h0m109-5h0m6 5h0m4 2h0m6 0h0m1-9h0m5 0h0m18 0h0m5 8h0m16-6h0m32 3h0m10 3h0m23-4h0m28-4h0m10 7h0m4-2h0m15-5h0m1 0h0m2 8h0m1 0h0m60-7h0m10 0h0m2 8h0m13-5h0m-650 7h0m1 6h0m53-1h0m21-2h0m203-2h0m74 3h0m2 1h0m4-5h0m6 5h0m3-3h0m2 3h0m10-6h0m4 7h0m1-7h0m0 5h0m2-5h0m1 7h0m3-6h0m10-1h0m10 5h0m5-5h0m2 9h0m4-3h0m6-6h0m43 9h0m50-7h0m13-2h0m18 9h0m17-9h0m5 6h0m3 1h0m3-6h0m26 5h0m22-4h0m23 5h0m12-3h0m-674 8h0m3 3h0m24-5h0m81 6h0m71 3h0m82-8h0m79 6h0m5-3h0m6 5h0m1-7h0m9-1h0m5 1h0m35 6h0m6-8h0m5 4h0m1 0h0m1-3h0m4 7h0m1-6h0m5-2h0m9 3h0m2 6h0m4-3h0m1-2h0m8 5h0m1-4h0m6-1h0m1 4h0m2-1h0m2-2h0m1-2h0m13-1h0m4 2h0m5-1h0m26 5h0m68-8h0m21 7h0m24-3h0m1 5h0m3 0h0m3-3h0m21 2h0m19-5h0m5-3h0m17 9h0m-746 4h0m63 5h0m18-3h0m44-3h0m118 3h0m24 0h0m17-1h0m83 5h0m2-1h0m18-5h0m29 0h0m28 0h0m6 3h0m9 0h0m1 2h0m12-2h0m8-5h0m5 5h0m3 1h0m4-6h0m1 2h0m13-3h0m4 9h0m6-8h0m3 0h0m2-1h0m1 9h0m8 0h0m2-6h0m1 3h0m125-5h0m5 7h0m3-5h0m17 3h0m4-1h0m16 1h0m3 0h0m9 1h0m1 0h0m2 1h0m1-5h0m14 3h0m-628 5h0m7 2h0m219 5h0m29-6h0m4 3h0m2-5h0m2 1h0m65 7h0m6-1h0m7 0h0m4 0h0m0 2h0m4-6h0m0 5h0m7-5h0m1 2h0m11-1h0m3-3h0m1 6h0m2-5h0m0 3h0m1 0h0m0 1h0m1-4h0m2-1h0m2-1h0m0 2h0m1-1h0m1 3h0m2-1h0m1 3h0m13-3h0m19-3h0m3 3h0m18 3h0m178-3h0m6 0h0m1-1h0m9 5h0m-764 12h0m21-8h0m81-1h0m267 1h0m98 8h0m11 0h0m6-4h0m3-5h0m11 2h0m17-1h0m12 2h0m11-3h0m22 2h0m60 2h0m11 1h0m9-1h0m2-2h0m5 3h0m3 0h0m21-2h0m44 4h0m-732 8h0m57-4h0m139 6h0m2 0h0m84 2h0m4-4h0m1-4h0m2-1h0m5 4h0m8-1h0m2 2h0m4-4h0m3 6h0m2 0h0m3 0h0m1 2h0m1-1h0m13-2h0m7-4h0m1 4h0m1 0h0m4-2h0m1-3h0m5 0h0m6 4h0m6-3h0m201-2h0m-567 14h0m18-4h0m8 5h0m35-1h0m128-4h0m97 5h0m4-5h0m24 0h0m6 1h0m11 6h0m5-3h0m1-4h0m-359 15h0m58-1h0m67 5h0m49-1h0m12-7h0m58 5h0m87-5h0m-328 17h0m17-7h0m4 0h0m2 3h0m7 1h0m154-3h0m27 7h0m-215 8h0m15-6h0m1 1h0m10 3h0m97 3h0m92-1h0m-237 5h0m121 1h0" stroke="#d8ab5a" stroke-width="6.2"/>
<path d="M2131 343h0m-18 12h0m19-1h0m7 4h0m2 0h0m2-3h0m-16 12h0m13-7h0m3 3h0m-9 15h0m3 3h0m1 7h0m1-2h0m-107 28h0m-135 13h0m132-5h0m210 6h0m3-4h0m-358 9h0m14 5h0m91-2h0m22 2h0m-139 10h0m14-7h0m5 0h0m11-1h0m0 1h0m0 3h0m12 0h0m61 3h0m24 1h0m11-2h0m8-1h0m33 0h0m172 2h0m8-4h0m0 5h0m2-2h0m11-2h0m9 2h0m-378 5h0m8 3h0m8-2h0m8 0h0m2 5h0m3-7h0m1 4h0m9-4h0m2 9h0m84 0h0m6-6h0m0 1h0m6 5h0m2-1h0m176 1h0m14-1h0m1 1h0m29-5h0m29-1h0m2 1h0m13 3h0m6 1h0m-380 8h0m7 0h0m55-6h0m16 7h0m23 1h0m34-4h0m109 4h0m16-2h0m19-5h0m4 2h0m8 2h0m2-4h0m15 6h0m2-7h0m17 4h0m1 1h0m5 4h0m3-3h0m11 1h0m4-6h0m9 7h0m12-8h0m12 0h0m-376 15h0m2-2h0m7 3h0m36-1h0m1-3h0m7 5h0m0 2h0m21-7h0m11 1h0m6-3h0m1 8h0m3-6h0m5-2h0m6 7h0m6-7h0m8 2h0m103-2h0m11 5h0m1 1h0m15 3h0m24-8h0m2 2h0m3 4h0m7 2h0m3-4h0m1-5h0m3 5h0m15 4h0m12-6h0m5 2h0m24 2h0m3-3h0m23-4h0m-376 11h0m67 2h0m31-3h0m5 0h0m7 2h0m4 1h0m0 2h0m122-2h0m7 1h0m7-1h0m6 5h0m13-4h0m2-1h0m8 6h0m22-4h0m8-5h0m22 8h0m36-8h0m15 4h0m-379 11h0m4 3h0m7-3h0m2-2h0m71 1h0m5 5h0m19-3h0m12-1h0m26 2h0m63-2h0m17 0h0m9 2h0m6 1h0m12-2h0m2-6h0m5 8h0m2 1h0m6-3h0m2-3h0m5 2h0m1-4h0m20 4h0m2 1h0m6 0h0m5-3h0m18 1h0m9-3h0m3 3h0m17 1h0m2-3h0m33 3h0m-367 13h0m23-2h0m31-2h0m0 1h0m48-1h0m2-3h0m71 2h0m6 3h0m1-1h0m13-3h0m15 7h0m15-1h0m1-4h0m4 4h0m5-1h0m3-6h0m10 6h0m2-5h0m18-2h0m28 9h0m1-8h0m2 5h0m2 3h0m19-6h0m17 1h0m3-4h0m2 2h0m-361 8h0m1 2h0m10 6h0m10-7h0m6-1h0m7 7h0m59-7h0m16 1h0m15-1h0m123 4h0m2 5h0m1-2h0m3-5h0m1 5h0m2 1h0m5-5h0m0 3h0m11 0h0m7 3h0m1-5h0m9-1h0m22-2h0m4 5h0m5 0h0m7-4h0m21-2h0m15 6h0m11-2h0m-395 9h0m7 4h0m9-7h0m8 0h0m5 1h0m1 0h0m45 5h0m35 3h0m37-5h0m3-4h0m25 6h0m8-3h0m59-2h0m6 8h0m6-5h0m1-2h0m2-2h0m4 3h0m0 2h0m1-5h0m1 7h0m2-1h0m9-5h0m25 8h0m3-6h0m11-2h0m0 4h0m17-3h0m22-2h0m5 5h0m13 0h0m33-5h0m2 9h0m-445 9h0m49-1h0m8-5h0m14 2h0m3 5h0m17-7h0m2 7h0m7-3h0m5 2h0m83-4h0m6-3h0m5 4h0m17 0h0m1 3h0m5-6h0m9 7h0m5-5h0m11 5h0m2-8h0m19 8h0m6-4h0m2 2h0m18-7h0m18 7h0m4 2h0m20-8h0m9 4h0m5 1h0m1 1h0m9 2h0m3-4h0m41-3h0m5-2h0m1 4h0m0 2h0m20-5h0m3 8h0m12-5h0m3-2h0m8-2h0m6 7h0m8-1h0m-456 5h0m0 4h0m1-3h0m2-1h0m0 6h0m14-6h0m16 6h0m0 1h0m9-8h0m1 3h0m1 3h0m5-3h0m10-1h0m1 6h0m7-5h0m3 4h0m2-7h0m28 6h0m9-5h0m66 0h0m4 3h0m8 4h0m7-7h0m2 3h0m2-2h0m0 2h0m3-4h0m1 7h0m6-2h0m25 4h0m40-5h0m10-1h0m8 4h0m16-7h0m1 9h0m16-9h0m4 3h0m11-2h0m1 0h0m36 4h0m7 3h0m4-4h0m4-1h0m2 5h0m14-6h0m2 7h0m10-4h0m1 2h0m4-4h0m2-3h0m1 7h0m10-2h0m24 4h0m-474 10h0m4-1h0m5-5h0m4-2h0m4 7h0m9-3h0m16 3h0m2-7h0m0 7h0m10-5h0m1-1h0m2 6h0m2-8h0m13 4h0m6-4h0m3 5h0m3 1h0m18 3h0m5-1h0m38-8h0m40 5h0m11 2h0m20-4h0m4 2h0m5-1h0m3-2h0m7 7h0m3-3h0m4-6h0m8 5h0m24 1h0m4-4h0m30 5h0m13-6h0m11 3h0m17 4h0m1-6h0m5 1h0m4 4h0m30 0h0m6-6h0m9 2h0m1 3h0m16-6h0m5 0h0m1 0h0m5 1h0m8 4h0m2-2h0m1-2h0m0 1h0m1 7h0m3-7h0m22-1h0m4 4h0m-460 12h0m3 2h0m9-2h0m7-7h0m5 8h0m5-8h0m12 0h0m6 4h0m5 1h0m4-1h0m15 1h0m96 2h0m19 1h0m11-6h0m1 7h0m11-4h0m1 1h0m1-2h0m17-1h0m37 0h0m3 5h0m17-5h0m11 6h0m9 0h0m9 0h0m33-3h0m21 1h0m22 1h0m32-3h0m2 4h0m2-9h0m1 3h0m9 3h0m1-2h0m18-3h0m-473 11h0m5 4h0m3-2h0m3-3h0m6 5h0m9 2h0m5 0h0m2-2h0m3-1h0m0 3h0m15-8h0m17 2h0m26 3h0m113-3h0m4 0h0m10 0h0m12 1h0m13 0h0m0 4h0m8-4h0m8-3h0m43 9h0m3-8h0m0 7h0m16-1h0m17-3h0m14-2h0m8 7h0m14-6h0m3 3h0m7 1h0m4-2h0m17 0h0m3-5h0m1 1h0m44 8h0m20-6h0m-473 7h0m2 0h0m7 1h0m2 1h0m20-2h0m10 3h0m25 4h0m4-1h0m1 0h0m0 2h0m41-4h0m69-1h0m32 0h0m38 2h0m33 3h0m9-8h0m38 9h0m10-4h0m2 4h0m9-7h0m5-2h0m14 8h0m18-4h0m2 0h0m1-1h0m26-2h0m4 5h0m2 1h0m28-1h0m-326 7h0m79-3h0m101 5h0m17-4h0m0 3h0m10-2h0m9 3h0m3 3h0m4 1h0m1-8h0m6 3h0m6 1h0m26-2h0m19-3h0m73 4h0m-466 13h0m121-3h0m131 1h0m3 3h0m4-5h0m2 5h0m18-1h0m39-5h0m1 6h0m3-5h0m13 1h0m24 1h0m118 4h0m5-5h0m-413 13h0m168 2h0m26-7h0m1 4h0m2 0h0m18 2h0m8-7h0m5 6h0m9-1h0m10-5h0m31-1h0m126 0h0m11 2h0m-368 16h0m90-3h0m49 3h0m4 0h0m59-8h0m9 5h0m2 1h0m6-4h0m6-2h0m12 0h0m9 1h0m9 1h0m19 3h0m13 2h0m89 2h0m36-2h0m-408 12h0m65-3h0m74-1h0m20-3h0m44 1h0m33 6h0m7-6h0m6 1h0m6-1h0m117-3h0m4 5h0m5-2h0m155-1h0m-496 15h0m49-1h0m123-5h0m26 0h0m68 5h0m65 0h0m11 0h0m166-3h0m-535 8h0m0 2h0m65-1h0m149 5h0m54-3h0m57 2h0m51-4h0m2 3h0m5-2h0m1 2h0m51 4h0m11-6h0m65 1h0m28-4h0m-582 13h0m12-1h0m11-2h0m85 7h0m139 0h0m145-6h0m28 4h0m12 4h0m2-6h0m61-2h0m-264 16h0m22 1h0m14-8h0m18 8h0m7-3h0m201 0h0m-488 13h0m15-8h0m62 6h0m43 3h0m110-8h0m19 3h0m84 4h0m6-2h0m92 2h0m6-8h0m-417 17h0m3-2h0m58-5h0m20 8h0m148-8h0m14 5h0m183-4h0m5 4h0m-428 7h0m81 1h0m112 0h0m65-1h0m12-1h0m157 0h0m8 5h0m5-4h0m18 0h0m-482 9h0m13 0h0m76 3h0m35-1h0m89 4h0m42-1h0m8-2h0m150 2h0m11-6h0m17 5h0m8 2h0m7-1h0m19 0h0m-426 11h0m40-5h0m126-1h0m100 0h0m59 3h0m76 2h0m29 3h0m2-5h0m-487 10h0m3 4h0m16 0h0m29 0h0m53-7h0m158 1h0m10-2h0m2 0h0m17 2h0m112 6h0m39-5h0m12-3h0m23 0h0m18 2h0m-440 11h0m4-2h0m193 6h0m78-7h0m126 2h0m3 3h0m16-3h0m-482 16h0m2-8h0m5 4h0m4-1h0m1 0h0m4 1h0m49-3h0m14-1h0m3 4h0m3 0h0m0 1h0m6-5h0m32 2h0m1 4h0m191 0h0m16-6h0m137 8h0m2-8h0m3 1h0m0 3h0m11 4h0m8-6h0m1 1h0m2 6h0m2-1h0m-494 10h0m57-5h0m332 1h0m52-4h0m27 5h0m4-5h0m3 2h0m0 7h0m15-1h0m-494 6h0m78-4h0m0 8h0m2-1h0m9-4h0m3 0h0m10-1h0m1 5h0m1-4h0m4 2h0m6 4h0m10-2h0m111-2h0m86 1h0m132 1h0m49-7h0m0 7h0m-494 7h0m3-1h0m13-3h0m31 8h0m3-5h0m2 6h0m16 0h0m1-9h0m7 5h0m0 1h0m5-2h0m10 0h0m1 1h0m1 0h0m7 4h0m4-9h0m5 3h0m2 6h0m7-1h0m2-4h0m15-2h0m146 4h0m19 1h0m18-4h0m105 6h0m20-1h0m56-6h0m8 1h0m-555 8h0m26 4h0m16-3h0m3 7h0m6-6h0m11 1h0m9-4h0m29 1h0m19 5h0m5-4h0m14 6h0m7-1h0m6 1h0m9-2h0m8-3h0m2 4h0m166 1h0m84-2h0m111-5h0m25 3h0m18 4h0m-645 9h0m56-5h0m48-2h0m2 2h0m51 7h0m13-7h0m14-1h0m6 7h0m2-7h0m7 4h0m1-5h0m0 3h0m26 2h0m187-1h0m63 2h0m96 1h0m61-5h0m3 6h0m5-1h0m-592 7h0m20 4h0m4-8h0m13 7h0m40-5h0m22 7h0m46-1h0m11-5h0m6-1h0m18 1h0m9 4h0m157 1h0m12-1h0m114-1h0m23-1h0m51-2h0m39 3h0m15 1h0m13 2h0m-632 10h0m18-1h0m3-4h0m2 1h0m55-3h0m7 5h0m8 2h0m14-6h0m9 2h0m36 1h0m24-4h0m13 0h0m7-2h0m11 1h0m2 3h0m0 5h0m3-6h0m180 1h0m51 5h0m29-1h0m37 0h0m94-7h0m25 4h0m-633 7h0m41 4h0m10-3h0m19 6h0m34 0h0m46-6h0m2 5h0m16-5h0m5 3h0m15-1h0m28 2h0m11-5h0m4 3h0m8 0h0m2 0h0m2-5h0m3 5h0m1 2h0m6-1h0m167 1h0m70 2h0m5-6h0m4 3h0m26-5h0m58 3h0m4 1h0m2-3h0m1 3h0m1-4h0m-603 15h0m4-6h0m5 3h0m53-3h0m6 6h0m10-3h0m14-2h0m7 3h0m24-3h0m1 5h0m12-4h0m4 2h0m12 1h0m3 0h0m35 1h0m13-1h0m2 0h0m2-4h0m7 0h0m1 3h0m6-4h0m4 2h0m6-2h0m5 9h0m15-7h0m3 2h0m9-2h0m6 2h0m9 1h0m208-4h0m15 4h0m6-3h0m1-2h0m5 5h0m15-5h0m128 4h0m-637 7h0m0 1h0m52-2h0m20 4h0m17-2h0m4 6h0m3-5h0m30 3h0m7 1h0m6-7h0m11 7h0m22 0h0m18-3h0m21 0h0m1 4h0m15-8h0m6 2h0m3-1h0m1 3h0m5 1h0m3 0h0m216-5h0m1 2h0m17 4h0m14 2h0m10-3h0m145-5h0m-665 14h0m34-3h0m18 7h0m37 0h0m9-4h0m27-1h0m1-2h0m23 5h0m10-5h0m0 3h0m21 0h0m3-1h0m1 4h0m17-3h0m22-1h0m7 2h0m15 3h0m3-8h0m0 8h0m4-7h0m12 3h0m7-4h0m206 9h0m8-9h0m8 3h0m17 2h0m3-1h0m-517 8h0m26 6h0m7 0h0m7-4h0m25-2h0m11 3h0m12 3h0m6-7h0m21-1h0m16 4h0m8 2h0m19-4h0m12 0h0m0 1h0m15 5h0m45-8h0m30 9h0m13-5h0m3 4h0m204 0h0m30-5h0m6 1h0m165-3h0m-659 17h0m46-6h0m4 5h0m16-7h0m10 5h0m6 2h0m6-4h0m15-1h0m8 7h0m30-2h0m6-5h0m2 6h0m9-6h0m0 2h0m309 5h0m201-7h0m5-1h0m-697 10h0m23 8h0m3-7h0m10 1h0m33 3h0m32-4h0m16-1h0m0 4h0m14 4h0m6-5h0m16 1h0m1 0h0m5-3h0m14 7h0m11 0h0m7-3h0m7-1h0m6-3h0m23-2h0m11 1h0m25 1h0m220 2h0m28-4h0m7 6h0m192 2h0m-675 8h0m13-4h0m25 2h0m29 2h0m19 3h0m2-6h0m11 3h0m1-3h0m14 3h0m67-5h0m12 5h0m239-4h0m15-2h0m59 7h0m-527 3h0m21 7h0m34-6h0m17 1h0m2 6h0m4-3h0m7 2h0m0 2h0m5 0h0m4-1h0m9-4h0m7-2h0m2 7h0m26-9h0m5 9h0m3-4h0m10 1h0m48-2h0m9-2h0m57 5h0m226-4h0m25 6h0m136-3h0m20-1h0m12-5h0m-694 11h0m13 1h0m51 6h0m8-5h0m16 2h0m20 2h0m27-7h0m5 6h0m5-2h0m29 4h0m32-1h0m20 2h0m1-4h0m245-1h0m63-3h0m80 2h0m39 4h0m26-2h0m-680 7h0m50 2h0m11-4h0m21 8h0m37-2h0m29-3h0m2 1h0m12 1h0m21 2h0m6-1h0m18-5h0m1 5h0m176-2h0m87 3h0m24-6h0m4 3h0m7 0h0m1 5h0m4-2h0m7-6h0m17 5h0m13-4h0m72 1h0m17 1h0m0 1h0m74-5h0m0 4h0m-624 6h0m5 9h0m14-7h0m2 2h0m22 1h0m12-3h0m19 4h0m50 0h0m250-4h0m6-2h0m2 9h0m1-9h0m1 1h0m12 1h0m42 4h0m10-5h0m0 5h0m73-6h0m0 8h0m70-7h0m24 8h0m22 0h0m-734 5h0m11-2h0m5 3h0m55 1h0m25 2h0m0 1h0m3 0h0m28 0h0m7-1h0m34-7h0m12 1h0m34-1h0m27 1h0m78 7h0m148-7h0m17 4h0m2 2h0m4-1h0m6 0h0m0 2h0m1-4h0m2 3h0m24-1h0m79-5h0m26 4h0m23 1h0m6 1h0m31-2h0m31 3h0m8-6h0m29 4h0m-764 11h0m3-2h0m40-3h0m7 5h0m8 0h0m17-3h0m38 0h0m12-2h0m20 0h0m0 3h0m23-5h0m13 0h0m5 4h0m24-1h0m21 0h0m5-3h0m5-1h0m222 9h0m12-1h0m16-3h0m4-2h0m5-3h0m28 6h0m6 3h0m17 0h0m37-3h0m1 0h0m8 2h0m7-8h0m1 3h0m60 0h0m14 4h0m8-1h0m1-3h0m5 3h0m11-2h0m3-2h0m38 4h0m13-5h0m-756 10h0m56 2h0m26 2h0m23-2h0m9-1h0m64 2h0m307 0h0m14 5h0m21-7h0m2 2h0m2 0h0m6-1h0m0 5h0m4-8h0m16 0h0m16 9h0m5-3h0m6-5h0m3 3h0m15-4h0m0 6h0m93-2h0m9-3h0m3 4h0m5 2h0m3 0h0m7-4h0m7 0h0m10 0h0m20 0h0m29 2h0m-781 7h0m40 4h0m10 1h0m16-2h0m2-1h0m34-3h0m45 6h0m16 2h0m11-6h0m305 3h0m13-1h0m5 1h0m6-1h0m1 3h0m12-3h0m0 3h0m4-8h0m6 6h0m3 0h0m6-2h0m4-1h0m4 3h0m0 1h0m1 0h0m2 1h0m1-5h0m1-3h0m4 3h0m10 0h0m2 5h0m4-5h0m145-1h0m60 7h0m-755 10h0m18-7h0m97 4h0m27 0h0m2 3h0m29-8h0m95 4h0m1 0h0m3 2h0m102 1h0m59-6h0m34-2h0m4 5h0m10-1h0m3-1h0m19-3h0m7 0h0m2 1h0m0 4h0m15 0h0m1-4h0m3 4h0m6 0h0m4 1h0m5-2h0m213-1h0m1 0h0m-827 14h0m86-7h0m125 2h0m5-2h0m11 0h0m26 3h0m77 6h0m100-4h0m115 0h0m16-1h0m19-2h0m16 7h0m7-2h0m4-3h0m34-1h0m61 0h0m39 3h0m52-5h0m-765 14h0m1 1h0m11 0h0m6-2h0m10-2h0m1 6h0m12-8h0m1 3h0m33 5h0m26 1h0m2 0h0m26-4h0m21 2h0m0 1h0m45-3h0m20 2h0m21 1h0m8-2h0m69 0h0m3 0h0m17-4h0m190 6h0m-535 8h0m22-1h0m8 0h0m1-1h0m2 5h0m15-3h0m23-3h0m4-2h0m11 5h0m42-1h0m20 3h0m14-5h0m17 6h0m6-2h0m12 1h0m46-7h0m23 2h0m6 3h0m69-4h0m-326 10h0m0 2h0m2-3h0m0 1h0m6 5h0m1 2h0m1-5h0m7 0h0m4 1h0m2 4h0m41-7h0m7 7h0m25-8h0m11 5h0m19 1h0m33-5h0m27 0h0m22 1h0m36 6h0m112-9h0m-377 14h0m7-3h0m21 5h0m4-4h0m1 6h0m2-4h0m2-2h0m1 1h0m12 2h0m1-3h0m11 1h0m1 5h0m54-7h0m9-1h0m4 6h0m2 3h0m4 0h0m24-4h0m19-1h0m8 2h0m22-4h0m-193 9h0m11 0h0m48 3h0m68-3h0m47 2h0m-157 9h0m0 1h0m10 1h0m2 3h0m7-5h0m62 0h0m33 1h0m6 2h0m-93 6h0m50-1h0" stroke="#e69a48" stroke-width="6.6"/>
<path d="M2131 332h0m8 6h0m-3 9h0m3-2h0m3 0h0m8 2h0m-28 9h0m5 0h0m11-3h0m1-1h0m3-2h0m-15 13h0m9-1h0m0 41h0m5 10h0m-258 12h0m118-3h0m22-2h0m-137 17h0m4 0h0m111-1h0m18-6h0m11 8h0m10 0h0m104-8h0m100 8h0m4-6h0m8-2h0m10 7h0m11 2h0m-369 8h0m83-4h0m14 4h0m1-3h0m4-1h0m1 6h0m2-1h0m4-3h0m193 3h0m2-6h0m32 2h0m1 4h0m7-1h0m7-1h0m5 0h0m7 2h0m-382 9h0m5 0h0m3-7h0m14 4h0m1-2h0m3 3h0m15-1h0m70 5h0m5-9h0m9 1h0m5 1h0m4-2h0m16 8h0m145-6h0m18 3h0m2-2h0m2 5h0m6-7h0m3 3h0m2 4h0m6-8h0m1 2h0m3 7h0m2-3h0m2-4h0m5 1h0m9 0h0m2 1h0m2 4h0m12 1h0m5-7h0m0 6h0m4 1h0m-382 2h0m16-1h0m17 1h0m2 5h0m53 3h0m2 0h0m15 0h0m29-5h0m4-1h0m11 6h0m136-5h0m24 0h0m10-1h0m11-2h0m8 6h0m0 2h0m3-8h0m4 4h0m3-5h0m7 6h0m21 2h0m1-7h0m12 7h0m30-4h0m-400 8h0m1-1h0m63 0h0m5 2h0m3 4h0m10-6h0m7 3h0m6-2h0m6-1h0m19 1h0m13-2h0m35 3h0m45 2h0m3 0h0m7-5h0m10 9h0m2-2h0m11-4h0m0 6h0m13-5h0m5-2h0m1-2h0m6 0h0m13 7h0m4-4h0m10-3h0m12 2h0m11-1h0m10 6h0m9-6h0m1 7h0m17-1h0m10 1h0m4-7h0m10 2h0m-329 11h0m23-2h0m13 4h0m3-4h0m37 5h0m51-1h0m49 2h0m12-4h0m2 2h0m2-2h0m2-4h0m1 4h0m31-2h0m4 2h0m5 2h0m1 3h0m1-7h0m0 4h0m21-2h0m21 3h0m16-2h0m3-1h0m24-1h0m7-2h0m7 0h0m-390 10h0m17 2h0m1 6h0m19-7h0m48 0h0m12 1h0m3-1h0m3-1h0m6 1h0m18-1h0m63-1h0m16 8h0m15-2h0m4-4h0m9 6h0m2 1h0m8-4h0m0 1h0m8 1h0m10 2h0m8-1h0m19-6h0m25 5h0m5 2h0m39-5h0m8 1h0m5 0h0m1 3h0m11-6h0m8 3h0m-285 7h0m7 2h0m2 1h0m7-4h0m84 7h0m22-2h0m17 0h0m4-5h0m3 8h0m1-7h0m4 2h0m14-1h0m9-3h0m18 1h0m9-1h0m57 4h0m1 2h0m4 0h0m5 0h0m4 2h0m1 1h0m8-9h0m3 1h0m-401 17h0m13-5h0m11 6h0m10-6h0m2 3h0m41 0h0m45-5h0m16 3h0m15 0h0m76-1h0m5 1h0m2 2h0m4 1h0m6-3h0m14-2h0m7 0h0m4 6h0m3-3h0m5-3h0m3 1h0m5 0h0m5 4h0m42-6h0m1 0h0m20 4h0m17 0h0m15 2h0m6-4h0m2 3h0m2 1h0m12-6h0m-406 16h0m10 0h0m10-3h0m3 5h0m14-7h0m1 4h0m6-6h0m4 7h0m104-6h0m4 5h0m63-5h0m6 6h0m10-7h0m9 8h0m14-6h0m0 5h0m3 1h0m1-4h0m5 4h0m12-4h0m4 2h0m2-5h0m1 5h0m0 3h0m14-8h0m6 0h0m1 4h0m0 4h0m7-7h0m19-2h0m5 0h0m21 8h0m1 1h0m17-8h0m10 0h0m14 4h0m30 1h0m-448 4h0m14 4h0m1 2h0m3 0h0m3-1h0m16 3h0m7-2h0m3 1h0m4-6h0m1 1h0m3 2h0m0 2h0m14 1h0m14 2h0m84-8h0m27 8h0m9-1h0m25-2h0m18-3h0m6 0h0m18 3h0m1 2h0m5-2h0m2 1h0m2-1h0m3-2h0m2-1h0m4-2h0m0 8h0m3 0h0m4-6h0m5 0h0m5 3h0m33-2h0m19-4h0m5 8h0m1-3h0m1 0h0m3-3h0m5 2h0m10 2h0m9-3h0m6 0h0m7 2h0m2 4h0m18-3h0m-410 13h0m3-9h0m1 1h0m11 1h0m1-2h0m0 3h0m2 6h0m1-8h0m4 6h0m1 0h0m0 1h0m4-1h0m6 2h0m5-6h0m1-1h0m5 3h0m1-2h0m11 3h0m2 3h0m18-1h0m11-1h0m40-7h0m19 3h0m11 1h0m10 4h0m3 1h0m2-9h0m8 5h0m2-3h0m4-1h0m2 3h0m33 4h0m7 1h0m2-2h0m1-7h0m18 9h0m4-5h0m9-3h0m14 6h0m3-1h0m12-5h0m10 2h0m0 2h0m13 4h0m12-8h0m15 6h0m2-3h0m7-4h0m2 1h0m16 3h0m7-1h0m6 1h0m0 2h0m3-3h0m3 6h0m5-6h0m4-3h0m0 9h0m3-1h0m3-4h0m11 1h0m3 3h0m3 0h0m14-1h0m-457 12h0m14-8h0m0 3h0m6-1h0m1-2h0m5 4h0m11-1h0m0 5h0m3-3h0m3 2h0m2-3h0m6 1h0m5-3h0m11 4h0m11-2h0m1 3h0m8-6h0m93 1h0m15 3h0m1-5h0m15 4h0m7-3h0m4 6h0m1 0h0m1-6h0m3 0h0m20 2h0m39-1h0m14 4h0m7-2h0m13-2h0m7 5h0m6-1h0m12-7h0m11 9h0m1-8h0m0 8h0m14-4h0m17-5h0m1 8h0m1 1h0m11-2h0m8 0h0m3-7h0m2 1h0m6 2h0m1 5h0m5-7h0m5 6h0m2 0h0m5-3h0m2-1h0m-466 8h0m1 0h0m7 7h0m13-5h0m0 3h0m2-3h0m0 5h0m2-5h0m9-3h0m0 9h0m4-7h0m3 4h0m25 3h0m5-8h0m14-1h0m9 2h0m130 4h0m3 3h0m2-8h0m5 1h0m4 0h0m1-1h0m12 5h0m1 0h0m3-3h0m26 2h0m1-1h0m3-2h0m5 3h0m6-3h0m22 1h0m17 6h0m9-3h0m3 3h0m22-4h0m8-3h0m3 1h0m8 2h0m5 2h0m0 2h0m5 0h0m8-2h0m7-1h0m6 1h0m3-3h0m7-3h0m14 6h0m1 0h0m14-4h0m6 0h0m34 4h0m-492 12h0m13-2h0m1 0h0m2-3h0m1-1h0m7-3h0m10 9h0m3-3h0m0 2h0m31-6h0m4 6h0m15-4h0m6-3h0m8 0h0m52 1h0m10 1h0m57 1h0m2 2h0m11 0h0m1 1h0m3-2h0m2-5h0m13 0h0m12 4h0m23 0h0m3-1h0m9 2h0m2-5h0m13 7h0m1-1h0m6-2h0m6 2h0m12-3h0m7-1h0m4 0h0m8 6h0m12-6h0m3 7h0m5-5h0m6-4h0m4 7h0m10 2h0m22-8h0m1 1h0m0 1h0m3 0h0m2 5h0m28-4h0m3-2h0m-454 8h0m0 1h0m1 2h0m14-1h0m2-2h0m0 2h0m7-1h0m4-1h0m1 2h0m0 6h0m6-8h0m7 0h0m32 4h0m215-1h0m15 4h0m20-3h0m0 1h0m0 1h0m19-6h0m7 5h0m26-4h0m0 8h0m18-2h0m1-2h0m14 4h0m16-7h0m15 1h0m19-3h0m-440 12h0m22 3h0m68-1h0m6-3h0m14 2h0m0 4h0m83-2h0m95-4h0m2 5h0m15 0h0m4 3h0m10-3h0m3-4h0m3 6h0m3-2h0m9-6h0m30 5h0m15-5h0m26 0h0m8 5h0m-386 14h0m36-9h0m47 0h0m4 0h0m168 6h0m29-5h0m8 5h0m8 2h0m27-8h0m88 8h0m31 0h0m1-6h0m-360 10h0m11 1h0m7 0h0m119 1h0m9 3h0m3 0h0m37-5h0m2 2h0m13 5h0m4-2h0m6-2h0m8-5h0m19 6h0m13-4h0m10 7h0m40-9h0m-161 16h0m13-4h0m26 1h0m18-1h0m12 4h0m14-5h0m15 2h0m-344 7h0m106 9h0m150-1h0m21-5h0m28-2h0m20 8h0m152-8h0m18 2h0m-419 12h0m21 1h0m260-6h0m127 1h0m-402 17h0m1-3h0m9 1h0m20 0h0m209-4h0m3 3h0m-252 8h0m19 0h0m9 0h0m9 2h0m3 3h0m68-1h0m327-5h0m-385 16h0m53-6h0m20 4h0m315-6h0m3 5h0m8 3h0m-454 9h0m13 2h0m10-5h0m412-3h0m-441 15h0m5-2h0m10-3h0m16 3h0m6-3h0m15 2h0m407 6h0m-451 8h0m4 1h0m13-3h0m3-1h0m1 0h0m2-3h0m0 7h0m2-6h0m5 3h0m69-4h0m2 0h0m358 0h0m5 2h0m5 4h0m-471 9h0m5-6h0m5 0h0m3 4h0m6 4h0m231-2h0m6 3h0m23-4h0m208 1h0m1 0h0m-504 13h0m12-4h0m14-3h0m36 0h0m27 3h0m14-3h0m401 4h0m-491 10h0m3-4h0m7-2h0m3 6h0m10-1h0m6-3h0m41 2h0m10 3h0m379 1h0m8 1h0m1-7h0m12 7h0m11 0h0m5-9h0m-503 15h0m7-5h0m119 6h0m385-2h0m-501 8h0m7 5h0m1-3h0m7-4h0m58 0h0m16 5h0m183-3h0m201 7h0m-494 1h0m3 6h0m39-3h0m3 5h0m47 0h0m1-8h0m20 2h0m0 7h0m2-2h0m6-6h0m1 1h0m32 3h0m80 1h0m-223 8h0m4-3h0m0 2h0m3-3h0m7 7h0m7 0h0m3-7h0m6 0h0m30 0h0m2 2h0m0 4h0m23-2h0m0 4h0m1 1h0m13-5h0m1-4h0m0 5h0m8 2h0m8-2h0m2 1h0m2 3h0m4 0h0m192 0h0m72 0h0m100 0h0m15-5h0m3 1h0m2 2h0m-560 7h0m67 1h0m1-3h0m3-2h0m25 7h0m18-7h0m2 2h0m13 1h0m12 0h0m0 2h0m4-1h0m7 4h0m2-3h0m3-1h0m4-3h0m1 1h0m3 7h0m7-7h0m7 5h0m9-2h0m236-5h0m69 5h0m-506 5h0m8 4h0m12 0h0m3-3h0m17 6h0m22 0h0m8-3h0m13 4h0m20 1h0m2-4h0m1-1h0m22-3h0m1 1h0m8 7h0m7-5h0m6-4h0m0 7h0m2-4h0m3-1h0m0 1h0m3 5h0m3-8h0m7 7h0m1 1h0m2-8h0m2 6h0m1 0h0m0 3h0m5-6h0m2-3h0m9 3h0m3-3h0m4 0h0m12 5h0m315-2h0m6 4h0m-548 10h0m5-5h0m17 6h0m10-1h0m4-7h0m1 4h0m36-1h0m0 3h0m12-6h0m7 6h0m9-5h0m14 1h0m14 5h0m17 0h0m19-7h0m3 7h0m12-4h0m4-2h0m9 4h0m4-1h0m0 1h0m0 3h0m1-1h0m6-1h0m12 2h0m6-2h0m81 2h0m-314 2h0m4 6h0m14-5h0m2 7h0m45-6h0m33-1h0m13 5h0m5-5h0m6 0h0m6 1h0m57 5h0m3 2h0m21-3h0m6-4h0m4-1h0m3 0h0m5 2h0m2 1h0m9 4h0m2-7h0m20 4h0m3 1h0m244 3h0m22-1h0m-533 3h0m2-1h0m2 3h0m2-3h0m1 6h0m2-4h0m1 2h0m2 0h0m5-3h0m8-1h0m13 5h0m5-3h0m37 6h0m19 1h0m6-9h0m2 3h0m12 3h0m1 0h0m1-6h0m24 8h0m5-2h0m2-5h0m20 1h0m5 5h0m10-2h0m4-3h0m11 0h0m0 3h0m5-2h0m6-3h0m12 0h0m2 7h0m1-5h0m3 7h0m2-9h0m2 3h0m0 1h0m15-1h0m6 2h0m4 1h0m5 0h0m14-1h0m19 4h0m9-3h0m3-3h0m-277 12h0m12-5h0m27 9h0m11-4h0m4-3h0m10-1h0m8 8h0m17-4h0m1-1h0m4-1h0m7 0h0m13 2h0m1 2h0m11 2h0m1-7h0m13 4h0m2-2h0m2 0h0m12 3h0m6-5h0m28 5h0m6-3h0m3 3h0m20 0h0m11 2h0m6-6h0m3 5h0m1 1h0m172-9h0m28 9h0m179-8h0m-652 17h0m2-1h0m8-5h0m29-2h0m26 8h0m37-8h0m8 3h0m1 6h0m6-5h0m2 4h0m1-2h0m1-4h0m3-2h0m5 3h0m6 4h0m3-7h0m9 2h0m10 7h0m9-7h0m8 5h0m0 1h0m5-7h0m7 4h0m6-4h0m16 7h0m3-2h0m8 0h0m12-2h0m13-1h0m0 5h0m1-2h0m0 1h0m4-6h0m1 1h0m2 0h0m4-1h0m3 2h0m7 6h0m3-4h0m231-4h0m6 2h0m1-1h0m3 5h0m8 0h0m-517 10h0m69-6h0m24 5h0m10 3h0m4-2h0m10-3h0m5 3h0m2-6h0m6 0h0m29 8h0m3-1h0m8-7h0m0 8h0m7-5h0m5 2h0m1 1h0m9-6h0m3 1h0m2 6h0m18 1h0m20-4h0m3-3h0m3-1h0m9-1h0m9 5h0m1-4h0m3 3h0m240-1h0m59-2h0m26 3h0m-580 7h0m9 7h0m4-7h0m44 8h0m14-7h0m10 6h0m7-4h0m5-1h0m3 6h0m4-5h0m13-3h0m7 0h0m18 7h0m7-3h0m3-4h0m2 6h0m6-3h0m0 1h0m12-2h0m20-2h0m2 1h0m3 6h0m6 1h0m6-6h0m16 2h0m2-5h0m10 9h0m9-4h0m0 1h0m14 0h0m3-4h0m214 0h0m3 5h0m10-4h0m-458 16h0m9-7h0m20 5h0m1-7h0m14 0h0m5 4h0m19-2h0m17 2h0m0 3h0m8-3h0m9 2h0m1-5h0m2 8h0m11-3h0m14-5h0m0 5h0m1 0h0m4-3h0m23 5h0m1-4h0m14 5h0m9-1h0m6-4h0m6-2h0m17 7h0m24-9h0m2 0h0m6 6h0m209-6h0m48 9h0m-516 9h0m43-1h0m11-7h0m4 1h0m10 1h0m13-1h0m3 0h0m4 0h0m13 4h0m1 1h0m8-4h0m6 3h0m26-3h0m0 7h0m2-8h0m1 3h0m18 4h0m20-6h0m5 5h0m32-6h0m12 3h0m3-4h0m6 6h0m1 1h0m4-7h0m7 8h0m222-1h0m-492 7h0m3 2h0m1 3h0m28-4h0m0 2h0m2-5h0m42 2h0m12 0h0m17 1h0m5 1h0m2 0h0m1-3h0m6-3h0m1 7h0m5-1h0m6-6h0m5 4h0m8 0h0m14-3h0m10-1h0m7 1h0m2 0h0m4 2h0m8-1h0m6 2h0m6-4h0m5 6h0m11 3h0m6 0h0m2-8h0m2-1h0m4 0h0m3 1h0m15 0h0m16 5h0m-253 13h0m4-8h0m6 0h0m45 6h0m11-4h0m3 0h0m15-1h0m7 1h0m2 2h0m1-4h0m1 4h0m20 2h0m3-4h0m0 1h0m3-3h0m5-1h0m2 0h0m0 4h0m6-2h0m50 0h0m9 6h0m6-2h0m1-2h0m12 3h0m9-3h0m11-3h0m30 5h0m210-6h0m-396 14h0m8 4h0m11-3h0m3-4h0m5 8h0m5-8h0m1 2h0m4 6h0m2-9h0m5 1h0m12 5h0m13 1h0m9 0h0m30-4h0m1 1h0m9-3h0m7 5h0m6-1h0m7 3h0m4-7h0m29 1h0m5 1h0m-260 10h0m11-3h0m0 2h0m15 7h0m4-2h0m32-7h0m11 8h0m10-2h0m25-3h0m9 0h0m17 5h0m1-1h0m1 0h0m7-4h0m20 2h0m4-5h0m5 3h0m0 5h0m3-3h0m3-3h0m3-2h0m4 8h0m12-8h0m1 4h0m8 4h0m4-1h0m1-6h0m2 1h0m31 3h0m0 2h0m277-5h0m-501 11h0m2 0h0m69 3h0m8-1h0m9-1h0m6 3h0m8-4h0m7 5h0m12-5h0m10 2h0m4 2h0m4-6h0m0 2h0m9-1h0m12 6h0m22 0h0m4-6h0m3-2h0m5 6h0m19-2h0m3 2h0m7-3h0m22 2h0m4-4h0m10 7h0m199-1h0m15-2h0m1 0h0m24-4h0m12 5h0m1 0h0m-534 10h0m0 1h0m10 2h0m10-1h0m18-1h0m30 1h0m9-2h0m1 1h0m11-4h0m2 1h0m1 3h0m15-1h0m8-1h0m2-3h0m0 6h0m7-7h0m10 0h0m1 0h0m0 3h0m3-2h0m5 6h0m2-7h0m5 6h0m9-4h0m3-2h0m4 0h0m8 6h0m3 1h0m2-4h0m1 0h0m2-1h0m26 6h0m16-9h0m53 2h0m1 3h0m221-4h0m1 1h0m19 7h0m24 0h0m132-4h0m-688 13h0m24-2h0m30-1h0m36-4h0m14 7h0m2-1h0m17-3h0m13 0h0m13-3h0m22 1h0m1 0h0m9 3h0m6-3h0m2-2h0m3 2h0m1 0h0m3 1h0m5 5h0m3-4h0m1 1h0m6 3h0m3 0h0m25-8h0m0 7h0m1-4h0m3-1h0m2 4h0m3-1h0m2-1h0m27 4h0m225-1h0m8 2h0m20-6h0m76 0h0m165 6h0m-750 5h0m10 5h0m16-1h0m1 0h0m6-5h0m4 0h0m19 5h0m6-4h0m25-2h0m8 7h0m34-6h0m6-1h0m2 0h0m4 5h0m21-6h0m4 7h0m5-3h0m23 4h0m8-8h0m7 7h0m18-8h0m9 9h0m2-5h0m229 1h0m4-3h0m9 7h0m15-6h0m164-3h0m-674 13h0m1-3h0m1 0h0m17 0h0m4 6h0m13 1h0m26-3h0m16 2h0m30-4h0m21 2h0m20-3h0m7 0h0m10 3h0m10-2h0m4 6h0m14-4h0m3 4h0m2-8h0m65 5h0m215-3h0m15 6h0m53-7h0m8 6h0m4-3h0m19 5h0m117-8h0m-655 17h0m16-1h0m2-4h0m10 1h0m26 2h0m5-1h0m10-3h0m6-1h0m7 2h0m13 2h0m4-1h0m15 5h0m7-9h0m0 8h0m23-3h0m91 3h0m8-2h0m7-4h0m0 3h0m184-3h0m10 6h0m25-8h0m25 6h0m6-1h0m10 0h0m-558 8h0m55 6h0m16 0h0m31-3h0m24 0h0m12-4h0m2 2h0m13 2h0m1-4h0m7 6h0m10 1h0m18-6h0m11 6h0m326-8h0m6 1h0m15 1h0m15 0h0m33 4h0m34-1h0m129-5h0m-759 13h0m26 2h0m8-1h0m24 4h0m49-9h0m7 2h0m4 6h0m6-6h0m4 2h0m27 1h0m7 3h0m5-5h0m5 3h0m9 1h0m2-3h0m25 1h0m278-5h0m40 9h0m12-8h0m21 3h0m-580 15h0m6-8h0m14 8h0m19-4h0m0 1h0m32 3h0m12-6h0m7 1h0m2-4h0m6 7h0m6-5h0m6 5h0m1-6h0m0 7h0m5 1h0m40-5h0m59 5h0m2-5h0m2 5h0m48-5h0m1 4h0m14-8h0m20 0h0m26 4h0m32 1h0m-354 14h0m2-9h0m8 2h0m4 0h0m3 7h0m2-1h0m1-6h0m8 7h0m9-3h0m5-2h0m15 3h0m8-2h0m3 2h0m38-1h0m3 0h0m2-1h0m3-5h0m2 6h0m6-4h0m34 7h0m14-5h0m18 1h0m6-1h0m34-4h0m3 3h0m9 5h0m17-8h0m20 4h0m3-4h0m2 3h0m-288 15h0m9-6h0m2-1h0m11 4h0m9 3h0m19-2h0m15-1h0m1 3h0m14 1h0m13-3h0m9 1h0m8-2h0m2-5h0m79 9h0m31-4h0m6 3h0m29-3h0m11-4h0m-267 14h0m6-3h0m3 3h0m5 0h0m1-5h0m7 8h0m8-1h0m4 2h0m1 0h0m1-1h0m3-1h0m4 0h0m6-1h0m1-5h0m10 8h0m5-1h0m4-4h0m4 0h0m4 0h0m17 1h0m10 1h0m9-6h0m3 8h0m18-2h0m44-5h0m17 5h0m27-1h0m28 0h0m-248 13h0m1-7h0m4 2h0m5 1h0m3-4h0m1 9h0m13-5h0m0 2h0m6-1h0m6 0h0m6-1h0m13-4h0m24 8h0m3-4h0m3-4h0m0 4h0m12 5h0m24-5h0m3 2h0m15 1h0m1 1h0m34-4h0m19 1h0m24-3h0m-203 11h0m15-2h0m2-1h0m1 3h0m2-2h0m10 8h0m12-7h0m2 5h0m15-6h0m2 2h0m13-1h0m56 0h0m-123 8h0m0 4h0m37-1h0m5 2h0m13 1h0" stroke="#ec8844" stroke-width="7"/>
<path d="M2123 331h0m6 8h0m8 10h0m7-3h0m-2 58h0m-234 25h0m-20 9h0m1-2h0m105 3h0m8 0h0m1 0h0m2-8h0m11 2h0m237-1h0m-366 15h0m19-6h0m5 0h0m10-1h0m74 3h0m21 5h0m221-2h0m1 1h0m13 2h0m24-7h0m1 4h0m-312 8h0m28-2h0m42 7h0m124-5h0m48-2h0m19 5h0m2-6h0m3 2h0m1 4h0m10-5h0m13 1h0m14 3h0m-367 6h0m75 4h0m9-3h0m12 3h0m31-4h0m148 5h0m52-6h0m15-1h0m13 1h0m4 2h0m2 5h0m6-1h0m2-5h0m9 2h0m-357 8h0m34 2h0m7 3h0m48-2h0m108-2h0m5-2h0m8 8h0m21-9h0m37 4h0m38 5h0m19-6h0m10-2h0m4 7h0m16-4h0m6-4h0m-329 11h0m50 8h0m35-3h0m88-4h0m6 5h0m2 0h0m36-1h0m1 3h0m6-7h0m0 4h0m6-4h0m5 7h0m32-1h0m47 1h0m14-7h0m-363 15h0m8 1h0m3-8h0m64 5h0m20 4h0m11-9h0m19 3h0m82 0h0m15-1h0m20 1h0m0 1h0m104-3h0m-341 12h0m111 3h0m105 3h0m6-5h0m5-3h0m13 3h0m14-2h0m29 7h0m34-8h0m4 4h0m22-5h0m12 3h0m-353 15h0m3-7h0m83-1h0m8 1h0m2 6h0m21 2h0m100-1h0m8-2h0m9-3h0m2 2h0m4 2h0m6-5h0m30 0h0m56 4h0m40-1h0m2-2h0m11-2h0m-388 12h0m3-1h0m7 0h0m6 3h0m2 0h0m93-1h0m14-4h0m0 9h0m55-9h0m18 4h0m82-2h0m21-2h0m9 5h0m50 3h0m4-2h0m-369 12h0m13-1h0m2-2h0m1 2h0m4-1h0m82 2h0m46-1h0m1-3h0m0 2h0m10-5h0m39 8h0m8-3h0m4-2h0m3 4h0m23-5h0m11-1h0m26 5h0m33-2h0m46 3h0m0 1h0m25-7h0m32-1h0m-413 10h0m3 6h0m9 0h0m2-6h0m4 0h0m3 5h0m15 2h0m1-7h0m84 8h0m34-8h0m11 7h0m18-3h0m1-5h0m33 7h0m25-4h0m23-2h0m18 6h0m57-3h0m26-4h0m3 4h0m9-1h0m8 0h0m0 3h0m5 2h0m10-6h0m4 2h0m3-1h0m-425 8h0m27 1h0m4 1h0m4 2h0m134-3h0m27 1h0m16-1h0m11 3h0m107 3h0m41-7h0m15 3h0m11-2h0m10 1h0m33 0h0m-477 10h0m11 0h0m2-2h0m12 5h0m18 3h0m13-9h0m12 3h0m10 1h0m75-3h0m57 3h0m8 1h0m4-4h0m0 4h0m12-4h0m102 7h0m27-8h0m56 5h0m11-4h0m19 8h0m14-4h0m3-5h0m-462 12h0m4 0h0m0 6h0m3-5h0m6-3h0m4 7h0m4-4h0m23 1h0m10 1h0m20 3h0m3 1h0m12-6h0m107 5h0m25-5h0m7 4h0m18-7h0m44 1h0m3 0h0m9 1h0m38 1h0m3 4h0m7-4h0m9-2h0m32 4h0m8 0h0m6 1h0m8-3h0m7-1h0m13 3h0m18 0h0m5-2h0m-456 15h0m15-6h0m4 1h0m19 2h0m6-1h0m162-3h0m13 8h0m96-6h0m23 4h0m4-7h0m6 4h0m13-4h0m11 9h0m66-6h0m-414 14h0m83-4h0m49 0h0m58 2h0m83-4h0m15 1h0m16 7h0m23-4h0m39-4h0m84 3h0m-461 10h0m240-2h0m68-1h0m35 8h0m6-8h0m119 3h0m-341 13h0m61-6h0m116 8h0m21-5h0m-50 13h0m16 1h0m5-7h0m40 7h0m-226 3h0m10 5h0m6 2h0m261-6h0m-264 9h0m2 1h0m7 2h0m156-3h0m199 8h0m-375 9h0m5-8h0m2 2h0m15 5h0m261-3h0m-263 15h0m-5 2h0m-47 17h0m4-3h0m5 2h0m12 1h0m9-1h0m6 1h0m9-5h0m400 1h0m-441 7h0m3 8h0m7-1h0m6-1h0m10-5h0m-33 14h0m1-5h0m3 0h0m0 2h0m0 2h0m9-2h0m25-1h0m-30 12h0m2 0h0m1-1h0m6-3h0m1 6h0m2-2h0m380 0h0m117 1h0m-536 5h0m8 5h0m8 4h0m1-3h0m4 2h0m4-4h0m10 1h0m0 4h0m201-2h0m-224 4h0m7 8h0m3-7h0m5 1h0m5 1h0m41 5h0m2-3h0m6 3h0m14-3h0m-109 8h0m23 5h0m3-2h0m9-5h0m1 3h0m0 1h0m9 0h0m4 0h0m36 2h0m3-3h0m6-5h0m2 2h0m13-1h0m0 8h0m2-3h0m1-3h0m7 3h0m247-6h0m121 4h0m-461 9h0m16 6h0m4-7h0m4 5h0m3 0h0m43-1h0m12-3h0m2 2h0m0 1h0m12-1h0m12-2h0m-117 12h0m2-2h0m12 5h0m0 1h0m12-3h0m3-1h0m1 1h0m2-3h0m12-3h0m39 2h0m18 5h0m10-6h0m2 6h0m-116 6h0m4 1h0m4-2h0m5 2h0m5-4h0m1 8h0m1 0h0m3 1h0m4-1h0m55-3h0m4 0h0m10 0h0m8-4h0m5 0h0m0 4h0m1-3h0m1 1h0m6 3h0m10 1h0m379-7h0m-531 13h0m10-2h0m13 7h0m3-5h0m8 6h0m6-6h0m1 4h0m1-6h0m12 6h0m1-6h0m38 6h0m27-1h0m2 3h0m10-3h0m1-4h0m0 2h0m6 3h0m9-6h0m1 7h0m18-3h0m-218 7h0m23 4h0m8 0h0m13 3h0m6-7h0m1 2h0m30-4h0m10 8h0m8 1h0m37-8h0m9 3h0m6 1h0m5-3h0m14 4h0m1-1h0m3-5h0m4 4h0m10 1h0m7-5h0m2 3h0m17-1h0m7-1h0m82 6h0m-298 8h0m64-2h0m16 2h0m17-1h0m17 1h0m33-1h0m7 3h0m2 2h0m4-8h0m13 4h0m10 3h0m3 1h0m2-9h0m0 4h0m1 4h0m1-8h0m2 2h0m3 0h0m4 3h0m3 2h0m1-4h0m5 2h0m1 2h0m92 0h0m314 2h0m-638 6h0m7-5h0m6 0h0m28 3h0m25-3h0m29 4h0m1 4h0m2-7h0m14 6h0m10-5h0m18 6h0m12-2h0m8-1h0m29 4h0m23-4h0m14-4h0m2 1h0m2 5h0m6-7h0m0 1h0m2 1h0m7 6h0m2-1h0m-254 6h0m1 5h0m15-4h0m2 5h0m8-6h0m6 1h0m2-1h0m1 4h0m41-6h0m21 0h0m8 5h0m15-3h0m7 3h0m6-5h0m0 4h0m2-1h0m8-4h0m11 2h0m4-2h0m3 5h0m22-4h0m12 4h0m1-1h0m2 2h0m12-5h0m3 0h0m7 0h0m8-1h0m29 9h0m14-9h0m9 6h0m27 3h0m16-5h0m-300 8h0m3 0h0m16-2h0m21 5h0m0 3h0m2-1h0m4-5h0m6 7h0m17-9h0m21 6h0m7-2h0m21 4h0m1-6h0m13 7h0m3-9h0m6 0h0m5 2h0m37-1h0m7 6h0m3 2h0m7-2h0m4-3h0m2-1h0m4-2h0m5 1h0m3 4h0m5 2h0m12-5h0m1 4h0m4-3h0m51-1h0m-295 8h0m5 2h0m7-1h0m1 5h0m5-7h0m61 3h0m4 2h0m3 3h0m12-4h0m8-4h0m5 3h0m6 1h0m7 3h0m2-3h0m5-3h0m71 2h0m17 1h0m1-4h0m28 0h0m250 0h0m-524 18h0m18 0h0m12-2h0m88-4h0m12 0h0m12 7h0m30-2h0m14-1h0m1-5h0m1 7h0m35 0h0m20-8h0m5 0h0m16 5h0m24 2h0m1-6h0m3 5h0m-266 11h0m12 2h0m1-7h0m13 1h0m48-1h0m18 0h0m16 0h0m0 6h0m16-3h0m1 2h0m23-1h0m10-2h0m41 4h0m11-3h0m12-1h0m9 2h0m6 2h0m2-3h0m1 3h0m2-3h0m12 3h0m1-6h0m240 6h0m-500 10h0m6-1h0m42 0h0m3-4h0m14 4h0m6-1h0m7-6h0m1 8h0m14-1h0m15-7h0m1 4h0m9 4h0m4-4h0m10-3h0m12 8h0m6-2h0m26 1h0m9-7h0m2 0h0m46 3h0m20 1h0m-248 12h0m3-1h0m22-2h0m23 3h0m23-7h0m4 5h0m7 4h0m33-5h0m16-4h0m0 6h0m5-6h0m4 1h0m9 7h0m4-8h0m3 2h0m1 7h0m8 0h0m1-8h0m11 2h0m22 5h0m13-8h0m21 6h0m23-4h0m3 0h0m225 0h0m-468 10h0m3 7h0m19-2h0m1-5h0m16 1h0m10 4h0m11-6h0m14 5h0m9 2h0m15-4h0m12 1h0m7-4h0m0 1h0m5 5h0m13 2h0m6-8h0m1 1h0m50 3h0m9 0h0m27-3h0m8 4h0m2 2h0m12-8h0m1 9h0m-273 8h0m59 2h0m16-2h0m1-5h0m25 1h0m15-3h0m5 5h0m1-3h0m3 3h0m17-3h0m0 4h0m5 0h0m4-1h0m50 1h0m36 1h0m26 2h0m-235 5h0m44-1h0m23-2h0m12 2h0m7 5h0m3-1h0m1 0h0m6 2h0m3-5h0m28 0h0m1 5h0m11-3h0m19-4h0m2-2h0m3 0h0m57 5h0m0 1h0m-240 12h0m3-3h0m27-3h0m37 2h0m17 0h0m1 0h0m1-3h0m4 1h0m2-2h0m2 3h0m14 2h0m6-2h0m2 0h0m0 2h0m8 3h0m1-8h0m18 7h0m3-7h0m3 2h0m3-2h0m9 0h0m8 0h0m7 8h0m4-4h0m11 5h0m27-9h0m31 8h0m311-6h0m-571 17h0m107-1h0m15-8h0m2 9h0m1-5h0m3 5h0m2-2h0m8-2h0m6 0h0m5 2h0m7-5h0m1 6h0m6-5h0m1-3h0m2 2h0m1 7h0m59-5h0m16 1h0m39 0h0m201 0h0m-475 6h0m88 3h0m11 2h0m10-5h0m4 0h0m1 0h0m13 4h0m10-2h0m0 4h0m4-3h0m15-1h0m6 1h0m17 5h0m8-2h0m2-3h0m17 4h0m65-6h0m255 0h0m90 3h0m-608 11h0m70-1h0m17-2h0m14 5h0m27-7h0m2 4h0m1 3h0m3 0h0m11-2h0m15 3h0m11-6h0m1 6h0m1-6h0m12-3h0m36 7h0m31 1h0m10-4h0m327 0h0m-615 9h0m15 4h0m24 2h0m33-7h0m28 2h0m10 2h0m12 0h0m2-2h0m2 1h0m1 2h0m19-7h0m4 6h0m4 3h0m3-4h0m20 0h0m15 1h0m24 1h0m3-1h0m20-4h0m24 3h0m281 4h0m55-6h0m-598 10h0m40 2h0m3-2h0m12-2h0m4 6h0m47-6h0m5 8h0m9-7h0m1-2h0m24 5h0m12 0h0m26 2h0m49-7h0m43 6h0m8 2h0m3 1h0m259-8h0m184 3h0m-729 6h0m67 6h0m63-3h0m5-3h0m5 8h0m14-8h0m1 9h0m3-9h0m13 8h0m12 1h0m19-3h0m5-2h0m4-1h0m72-2h0m1 4h0m-297 6h0m5 3h0m35 3h0m30-7h0m81 9h0m1 0h0m4-7h0m3-2h0m4 9h0m9-1h0m11-7h0m71 6h0m55-4h0m210 3h0m32 1h0m-509 8h0m19 2h0m14-4h0m49 4h0m3 2h0m27-8h0m11 1h0m1 3h0m0 2h0m5 0h0m3-5h0m19 7h0m107-6h0m-308 15h0m5-5h0m8 3h0m5-1h0m9-2h0m1 1h0m17 0h0m4 5h0m13-4h0m1 1h0m78-6h0m23 2h0m2 2h0m9-4h0m13 6h0m20-1h0m61 1h0m36-5h0m-298 14h0m8 1h0m2 1h0m1 1h0m6-1h0m4-3h0m1 3h0m5 2h0m10-9h0m3 4h0m10-3h0m10 4h0m14-1h0m12 4h0m68-7h0m44-1h0m20 6h0m5-6h0m4 0h0m-232 14h0m9 4h0m4 1h0m4-9h0m5 3h0m9 4h0m18-2h0m60-4h0m11 5h0m4-3h0m3 5h0m27-5h0m50 4h0m33 2h0m10-7h0m4 6h0m-262 4h0m8 5h0m4-5h0m0 1h0m4-1h0m0 7h0m3-1h0m15-7h0m15 8h0m2-5h0m66 2h0m50-6h0m8 8h0m38 1h0m17-6h0m26-3h0m-243 17h0m3 0h0m1-3h0m2-4h0m8 5h0m4 1h0m2-5h0m3 5h0m2-6h0m16 7h0m4-4h0m7-1h0m7 1h0m6 1h0m5 2h0m17-2h0m23 2h0m17 3h0m6-4h0m29-1h0m19-3h0m45-1h0m-227 14h0m13-2h0m12 1h0m2-2h0m2 1h0m35 2h0m6 5h0m20-1h0m2 1h0m35-3h0m72-4h0m-172 8h0m24 0h0m2 2h0m-8 8h0" stroke="#f0743f" stroke-width="7.4"/>
<path d="M1895 441h0m9 2h0m104 5h0m206-1h0m18 0h0m4-1h0m-328 4h0m372 2h0m-297 13h0m17-3h0m239 7h0m34-7h0m13-1h0m-150 10h0m-142 11h0m168-1h0m68 4h0m23-4h0m-336 10h0m224 5h0m27 0h0m56-5h0m70 5h0m-365 8h0m216 0h0m4 4h0m18-1h0m124-7h0m8 2h0m-240 14h0m76-4h0m61 0h0m47 2h0m24 0h0m27 5h0m15-5h0m-324 15h0m276 0h0m-186 8h0m130-1h0m42-2h0m60-3h0m-405 13h0m12-4h0m9 5h0m201 3h0m52-6h0m132-1h0m-408 12h0m233-3h0m45 6h0m71 3h0m23-9h0m-401 11h0m6 5h0m18-2h0m8 3h0m28-3h0m3 0h0m210-2h0m33-1h0m25 4h0m49 4h0m36-9h0m-382 15h0m156 2h0m214 0h0m6-6h0m4 5h0m-383 7h0m75 4h0m243-1h0m69-5h0m-336 9h0m250 23h0m-227 11h0m278 1h0m-243 18h0m191 5h0m-212 2h0m24 6h0m-70 43h0m6-7h0m24-2h0m5 9h0m8-8h0m18 5h0m-26 6h0m7 6h0m-38 10h0m8-6h0m13 3h0m-10 11h0m1 0h0m9 2h0m3-4h0m48 11h0m-70 5h0m31 5h0m1-1h0m40 3h0m6-1h0m22 3h0m324-8h0m-430 18h0m3-1h0m1-6h0m1 7h0m13-6h0m2-1h0m10 2h0m15-3h0m52-1h0m-89 18h0m6-8h0m11 0h0m23 3h0m47-1h0m4-1h0m3 6h0m17 0h0m-114 10h0m66 0h0m28-2h0m-132 9h0m18 3h0m48 0h0m46-7h0m9 6h0m1 0h0m-164 13h0m2-9h0m70 7h0m3-7h0m2 6h0m0 1h0m42 0h0m23-2h0m33 0h0m18-2h0m1 2h0m3-1h0m2 2h0m-216 12h0m42-3h0m40-5h0m39 7h0m10-7h0m4 0h0m23 4h0m46 2h0m26-5h0m82 2h0m159 0h0m-460 9h0m49 1h0m20 2h0m55-5h0m64 5h0m8-5h0m4 1h0m-209 13h0m20-2h0m89 2h0m29 0h0m13 0h0m77-1h0m-176 14h0m67-3h0m19 4h0m53-8h0m10 1h0m25 0h0m-231 17h0m97 0h0m17-4h0m19 0h0m26-3h0m1-1h0m8 8h0m48 1h0m37-1h0m11-5h0m-259 13h0m5 2h0m14-4h0m66 1h0m72 4h0m-165 3h0m29 7h0m91-2h0m12-3h0m0 4h0m1-4h0m82-1h0m5 5h0m34-8h0m-191 15h0m51 3h0m5 0h0m27-5h0m39 6h0m-154 10h0m52-6h0m24-3h0m28 5h0m17 4h0m22-1h0m25-5h0m3 6h0m2-7h0m12 0h0m37 7h0m-170 2h0m56 2h0m6 6h0m3-4h0m4 1h0m24-2h0m8 3h0m9-6h0m23 1h0m-210 8h0m80 6h0m1-3h0m4 1h0m20 4h0m30 0h0m20-2h0m12-6h0m25 9h0m26-7h0m-214 8h0m9 9h0m74-6h0m36 5h0m3-6h0m0 2h0m16-3h0m4 2h0m8 0h0m3 6h0m16-8h0m9 7h0m-55 3h0m2 6h0m2-2h0m42 3h0m75 0h0m40-5h0m-178 8h0m2 4h0m1 3h0m44-4h0m0 2h0m6-2h0m10 4h0m44-3h0m36 0h0m26-3h0m-117 14h0m18 0h0m5 2h0m14-8h0m-60 11h0m47 1h0m-184 12h0m45-3h0m9-1h0m59 8h0m3-5h0m38 3h0m18 1h0m50-1h0m-88 12h0m-48 11h0m34-1h0m137-7h0m-266 11h0m36-1h0m61 0h0m8 1h0m48 3h0m-169 12h0m-19 7h0m55 3h0m38-5h0m35 3h0m145 4h0m18-6h0m-287 11h0m4 0h0m10-4h0m13 3h0m40 4h0m30-2h0m54-2h0m-141 13h0m8-3h0m8 4h0m35-1h0m6-1h0m1-1h0m117-1h0m7-2h0m21 8h0m-193 5h0m1-2h0m10 7h0m10-6h0m2-1h0m13 4h0m71-3h0m40-2h0m42 7h0m-202 5h0m5 0h0m142 2h0m29 0h0m-168 13h0m18-4h0m21 4h0m35 0h0" stroke="#f15d3f" stroke-width="7.8"/>
<path d="M2235 438h0m14 46h0m-323 20h0m340 34h0m-294 53h0m105 3h0m128-4h0m20 4h0m-198 7h0m154 11h0m21 12h0m2 3h0m-210 48h0m-49 14h0m337-4h0m-315 7h0m-19 16h0m20-1h0m-37 11h0m26-7h0m9 0h0m-16 27h0m14-7h0m63 3h0m-66 14h0m-15 11h0m18 3h0m69 5h0m-92 10h0m5-4h0m3-1h0m7 3h0m77 2h0m10-2h0m13-1h0m-108 8h0m74 4h0m6-4h0m10 4h0m22-5h0m-9 11h0m2 2h0m9 2h0m-18 12h0m113-6h0m-48 13h0m-232 8h0m115 5h0m12 2h0m-146 15h0m181 1h0m32 10h0m-204 9h0m128 1h0m2 2h0m-83 10h0m48 6h0m4 7h0m26 1h0m14 1h0m53-3h0m-180 14h0m50-3h0m38 7h0m19-3h0m117 26h0m-165 27h0m6-3h0m65 3h0m-56 10h0m43 16h0m-75 24h0m171-1h0m-113 6h0m43 5h0m-183 2h0m-21 10h0m43 17h0m-43 5h0m7 0h0m46 16h0" stroke="#ef4748" stroke-width="8.2"/>
<path d="M2196 584h0m128 3h0m21 1h0m-154 20h0m11 1h0m278-5h0m4 4h0m4-4h0m14-3h0m14 7h0m-146 3h0m28 4h0m82-4h0m0 1h0m34 0h0m1 2h0m4-3h0m0 4h0m4 1h0m-443 12h0m9 0h0m375-5h0m5-1h0m51 3h0m1-5h0m3 4h0m3 4h0m-278 8h0m92-6h0m94 9h0m21-2h0m2-4h0m3-2h0m2 1h0m52 0h0m11 7h0m3-1h0m2-3h0m-453 7h0m134-2h0m114 5h0m61 0h0m56-5h0m5 4h0m7-4h0m58 9h0m14-6h0m3 0h0m1-3h0m1 3h0m1 4h0m4-5h0m7 6h0m-491 11h0m14-5h0m186 1h0m1-5h0m195 5h0m7-5h0m0 6h0m68-1h0m9-2h0m1 1h0m8-2h0m-476 17h0m3-8h0m0 4h0m2-4h0m2 3h0m114-1h0m11 6h0m28-6h0m35 0h0m137-2h0m2 1h0m54 4h0m-410 13h0m39-6h0m119 6h0m14-9h0m9 8h0m35 1h0m5-7h0m19 5h0m111-5h0m9 3h0m29 0h0m17 4h0m6-4h0m-429 7h0m40-1h0m108 4h0m26-2h0m25-1h0m7-1h0m0 3h0m7 5h0m3-8h0m7 0h0m-187 17h0m5-2h0m11-2h0m105 1h0m4-3h0m0 4h0m25 1h0m7-4h0m8-3h0m7 7h0m9-6h0m1 3h0m15 3h0m15-7h0m13 7h0m-259 8h0m7 3h0m6-1h0m18-7h0m10 1h0m91-1h0m17 5h0m37 4h0m7-5h0m5 3h0m7-6h0m6 5h0m5-6h0m7 5h0m19-3h0m1-2h0m6 1h0m5 6h0m1-5h0m1-1h0m16 6h0m117-3h0m-341 15h0m15-3h0m124 1h0m26 0h0m26 2h0m2-3h0m1-3h0m3 2h0m8-5h0m5 7h0m3 1h0m3-6h0m1 3h0m0 3h0m1-6h0m4-1h0m5 1h0m16-2h0m12 0h0m11 4h0m39 0h0m71 5h0m-386 3h0m0 1h0m147 4h0m5 0h0m1-3h0m56 1h0m29-5h0m4 9h0m1-8h0m3 4h0m13-2h0m1-3h0m5 2h0m0 3h0m4 2h0m2 0h0m5 1h0m39-2h0m15-2h0m35-2h0m-399 14h0m8-3h0m0 1h0m5-2h0m12 6h0m5-1h0m129-4h0m30 6h0m36-9h0m69 6h0m10 0h0m5-5h0m2 6h0m1-2h0m0 3h0m4 0h0m1-6h0m3 4h0m0 2h0m9-1h0m14-2h0m40 2h0m-388 5h0m2 2h0m23-4h0m188 4h0m13-1h0m1 2h0m152-1h0m13-3h0m7 0h0m3 5h0m9-4h0m8-2h0m-243 16h0m20 0h0m0 1h0m23-3h0m8-2h0m152 1h0m3-3h0m1 4h0m9 0h0m6 1h0m-193 14h0m10-3h0m195-4h0m7 6h0m1 1h0m-207 6h0m2 3h0m11-8h0m2 1h0m2 6h0m11-6h0m9-1h0m34 3h0m53 4h0m73-6h0m118 8h0m3-3h0m3 3h0m-394 4h0m46-3h0m35 6h0m5-1h0m4-5h0m2 3h0m2 6h0m1-7h0m1-1h0m5 2h0m6 6h0m1-2h0m32-1h0m13 0h0m107-2h0m9-1h0m122 4h0m2-1h0m3-6h0m0 4h0m0 4h0m2-7h0m1-1h0m8 5h0m-333 11h0m2 0h0m7-3h0m2-2h0m4 5h0m4-6h0m0 9h0m5-7h0m2 6h0m5-1h0m18-7h0m14 6h0m87-5h0m35 5h0m45 3h0m83 0h0m3-8h0m1-1h0m0 4h0m1-1h0m0 6h0m1-3h0m1-5h0m1 4h0m1 2h0m1-5h0m0 3h0m4-5h0m2 5h0m1-2h0m-335 11h0m8-4h0m11 5h0m2-3h0m11-1h0m10 3h0m0 1h0m11 0h0m10-3h0m241 7h0m10-9h0m15 9h0m1-5h0m-321 6h0m173 1h0m24 1h0m78 4h0m3-4h0m30-2h0m6 2h0m1-2h0m3 2h0m-328 12h0m11 2h0m9-4h0m15 5h0m4-4h0m14 5h0m27-1h0m27-5h0m-83 8h0m-2 12h0m91 4h0m72 3h0m-80 2h0m17 7h0m1-5h0m3 11h0m155 1h0m5-1h0m-184 6h0m-16 19h0m16-4h0m26-5h0m66 6h0m-92 7h0m0 3h0m20-2h0m15 0h0m-17 8h0m27 4h0m187 1h0m5 11h0m3 1h0m-246 3h0m38 1h0m-33 14h0m37 3h0m34 1h0m191 8h0m-274 3h0m30 1h0m17-1h0m-33 12h0m41 5h0m9-7h0m109 1h0m-205 8h0m9 2h0m2 1h0m25 2h0m10-6h0m8 6h0m9 1h0m31-7h0m234 1h0m-363 15h0m81 3h0m6-5h0m65 4h0m19 1h0m-83 2h0m12 7h0m33 1h0m-144 7h0m90-6h0m13 0h0m187 2h0m-318 8h0" stroke="#b9d985" stroke-width="5"/>
<path d="M2226 436h0m-179 39h0m146 1h0m-145 5h0m26 72h0m-214 26h0m144-6h0m167 8h0m150 2h0m5-2h0m-153 12h0m164-2h0m2 1h0m5 4h0m-173 7h0m172 4h0m147 2h0m9-3h0m4-4h0m2 6h0m-145 8h0m1 2h0m1 0h0m107-3h0m44-3h0m5 3h0m-456 11h0m10-1h0m3 1h0m3-2h0m81 4h0m25 1h0m11-5h0m33 1h0m141 0h0m89 1h0m61-1h0m7-1h0m5 4h0m4 1h0m2 0h0m3-8h0m-489 12h0m6 5h0m5 1h0m78-2h0m228 1h0m88-1h0m9-7h0m63 5h0m3 1h0m2-2h0m0 5h0m2-9h0m2 9h0m5-5h0m0 4h0m2-1h0m3 1h0m-608 2h0m103 2h0m19-2h0m160 8h0m51 0h0m1-5h0m68-1h0m95 2h0m9 4h0m78-5h0m9-3h0m1 4h0m3 3h0m4-5h0m1 5h0m1-5h0m-495 17h0m12-1h0m113-3h0m258 0h0m18 2h0m7 1h0m1 1h0m59-2h0m7-1h0m4-4h0m0 7h0m3-9h0m4 6h0m1-1h0m8-5h0m-503 10h0m17 5h0m3 3h0m3-4h0m10-1h0m9 0h0m109 5h0m34-4h0m177 5h0m33-5h0m7-2h0m1 5h0m1 0h0m3-1h0m1-4h0m1-1h0m2 4h0m6-2h0m0 2h0m64-3h0m-448 11h0m11-1h0m106 4h0m6 2h0m12-2h0m4 1h0m23-1h0m27 1h0m3-6h0m13 7h0m67-7h0m57 5h0m36-4h0m5 4h0m9 3h0m2-8h0m0 5h0m3-6h0m2 5h0m-431 6h0m15-1h0m10 8h0m3-8h0m137 2h0m15 3h0m9-3h0m16 7h0m5-4h0m5 4h0m2-2h0m13 1h0m0 1h0m2-2h0m26-3h0m57 5h0m32-3h0m40 1h0m2-5h0m25 1h0m9 6h0m-412 9h0m3 1h0m12-6h0m3 3h0m127-3h0m8 5h0m18-7h0m7 0h0m3 3h0m4-2h0m7 5h0m1-6h0m10 4h0m2 3h0m1-2h0m9 0h0m1-4h0m2-1h0m8 8h0m10-6h0m2 3h0m148 1h0m32-5h0m7-1h0m-429 13h0m23-1h0m10 5h0m2-1h0m135 1h0m19-8h0m14 2h0m14 6h0m2-3h0m10 4h0m10-9h0m6 7h0m8-3h0m1 1h0m0 2h0m4 2h0m4-4h0m6-2h0m2 5h0m20 0h0m3-1h0m41 0h0m55-6h0m-395 12h0m4-2h0m15 4h0m4 1h0m19-5h0m83-1h0m10 9h0m5 0h0m6-2h0m7-1h0m15-6h0m17 1h0m4 6h0m62-5h0m5 0h0m6 0h0m0 1h0m11-3h0m1 1h0m0 4h0m3 0h0m3 2h0m1 1h0m1-8h0m1 8h0m2-1h0m7-3h0m2 1h0m8-4h0m0 5h0m5 2h0m5-2h0m10-1h0m9 0h0m6-4h0m3 6h0m34-4h0m-380 16h0m31-3h0m1-4h0m16-1h0m95 7h0m38-8h0m17 8h0m16-7h0m14 6h0m6-6h0m38 2h0m9 6h0m6-8h0m2-1h0m5 2h0m2-1h0m2-1h0m0 2h0m2 0h0m2 2h0m2-4h0m0 9h0m2-4h0m1 0h0m3 1h0m3 0h0m2-3h0m1 4h0m5 1h0m6-5h0m5 5h0m0 1h0m2-3h0m9 3h0m1-7h0m2 1h0m20-3h0m21 7h0m18-1h0m4 0h0m-400 7h0m0 1h0m4-4h0m21 8h0m3-5h0m10-2h0m3 0h0m157 6h0m18-3h0m8-3h0m9 4h0m55-4h0m0 4h0m9-5h0m6 1h0m19 8h0m4-6h0m0 1h0m0 1h0m2 0h0m7-4h0m4 0h0m1 3h0m6 0h0m3-2h0m22 3h0m16 2h0m15 1h0m7-8h0m21 8h0m-418 8h0m9-2h0m11-2h0m150 3h0m50-2h0m88 5h0m8-8h0m3 0h0m31 7h0m24-2h0m4-2h0m2-2h0m0 3h0m6-1h0m13 1h0m6 0h0m-408 9h0m5-2h0m8 4h0m4 3h0m202-7h0m18 3h0m0 2h0m80-5h0m15 0h0m47-1h0m7 8h0m-356 3h0m158 1h0m27-1h0m3-1h0m5 3h0m11 0h0m46 2h0m96 2h0m8-7h0m4 4h0m13-1h0m10 6h0m101 0h0m-331 1h0m17 5h0m1-4h0m6 3h0m0 5h0m4-3h0m16-3h0m103 1h0m45 2h0m2 3h0m1-8h0m12 0h0m31 0h0m101 6h0m5-1h0m0 3h0m-340 3h0m8 5h0m18-7h0m3 5h0m7 0h0m16-5h0m0 1h0m139 0h0m8 1h0m2 1h0m30 3h0m101 2h0m1-6h0m0 7h0m1-9h0m6 6h0m1 1h0m4 0h0m-347 6h0m10 6h0m3-1h0m13-8h0m1 0h0m3 5h0m9 0h0m1-1h0m0 3h0m7-5h0m12 2h0m76 1h0m194 1h0m4-6h0m0 4h0m1 1h0m0 3h0m2-3h0m1 1h0m1-1h0m1 3h0m1-7h0m2 1h0m1 2h0m-341 10h0m19-2h0m1 2h0m6 1h0m4-3h0m5 6h0m39-6h0m13 7h0m93-8h0m14 7h0m6-2h0m122 1h0m9-3h0m0 4h0m2-8h0m0 4h0m0 4h0m2-7h0m1 4h0m1-4h0m2 2h0m0 3h0m2-6h0m0 1h0m4 6h0m-333 4h0m7 5h0m3-3h0m10-3h0m8 8h0m84 0h0m95-6h0m38 5h0m40-4h0m3 2h0m18-5h0m14 2h0m-360 12h0m13 4h0m232-2h0m1 2h0m49 1h0m-138 7h0m3 3h0m94-8h0m42 5h0m2-3h0m-153 10h0m84 0h0m0 3h0m3-6h0m0 4h0m85 5h0m-174 7h0m5-6h0m9 3h0m1 0h0m2 0h0m1-2h0m95 1h0m60 0h0m7-1h0m-175 11h0m7-2h0m5 2h0m-33 9h0m26 1h0m199 15h0m4-2h0m-190 8h0m188-2h0m-229 18h0m45-8h0m61 1h0m-104 9h0m7 1h0m74 2h0m8 5h0m105-6h0m58 4h0m-230 11h0m12 0h0m13-5h0m1 2h0m37 1h0m-62 10h0m17 1h0m22-2h0m107-4h0m95 7h0m7 0h0m-270 3h0m3-1h0m7 5h0m15-1h0m20 5h0m6-3h0m12-5h0m69 7h0m2-5h0m99 4h0m-238 8h0m4 1h0m4-1h0m0 1h0m1 2h0m28-3h0m11 0h0m43-1h0m-127 13h0m63 2h0m6-5h0m2 5h0m8-3h0m13 2h0m17-5h0m0 2h0m27 2h0m101-4h0m25 6h0m26-3h0m-287 9h0m6 4h0m4-8h0m43 6h0m37 0h0m149-3h0m11 1h0m80-5h0m2 2h0m-289 15h0m33 2h0m6-7h0m5 6h0m53-6h0m122 1h0m67 6h0m5-9h0m0 4h0m-364 13h0m57-5h0m22 5h0m3-3h0m13-1h0m7 2h0m0 4h0m225-4h0m-385 12h0m11 0h0m151-7h0m33 2h0m111 2h0m1-1h0m114 1h0m-808 13h0m332-5h0m10 5h0m11 0h0m11 0h0m1 2h0m2-5h0m17 1h0m233-2h0m-282 12h0m20-2h0m18-1h0m-350 8h0m5 5h0m-1 14h0m213-5h0" stroke="#c2ca78" stroke-width="5.4"/>
<path d="M2134 339h0m-12 9h0m24 6h0m-139 74h0m-116 6h0m2 14h0m353-4h0m-231 12h0m209 3h0m77-2h0m-374 3h0m41 8h0m37 0h0m-8 11h0m178 0h0m8 0h0m37-9h0m68 7h0m-128 12h0m-14 5h0m138 3h0m-361 11h0m228-6h0m129 4h0m9-2h0m13-4h0m33 19h0m-53 5h0m-359 10h0m10 0h0m142 3h0m188-2h0m12-4h0m-320 15h0m244 3h0m15-5h0m7-4h0m-336 14h0m62-4h0m26 4h0m47 5h0m111-7h0m78 1h0m92 4h0m-395 3h0m374 18h0m48-7h0m-270 13h0m72-4h0m40 5h0m63 0h0m2-1h0m-64 14h0m49-6h0m122 0h0m-183 13h0m70 4h0m113-6h0m3 5h0m132 1h0m10-1h0m17-1h0m-439 9h0m2 0h0m12-5h0m57 4h0m8-1h0m11-3h0m5 1h0m6-1h0m1-1h0m15 4h0m33 4h0m4-1h0m45-6h0m202 8h0m6-1h0m1-5h0m2 2h0m12-5h0m25 8h0m-465 2h0m2 8h0m15-5h0m7 2h0m3-5h0m16 5h0m45-5h0m15 0h0m12 3h0m14-3h0m3 9h0m29 0h0m9-9h0m13 8h0m129-1h0m1-4h0m82 0h0m87 0h0m3-2h0m-476 17h0m5-3h0m3 3h0m1-6h0m130-1h0m97-1h0m78 7h0m6-7h0m64 5h0m15 2h0m2-5h0m60-1h0m4 4h0m3-4h0m7-1h0m1 8h0m2 1h0m4-3h0m1-2h0m1-4h0m-381 12h0m24 6h0m12-7h0m8 7h0m3-2h0m161-3h0m5-1h0m1 2h0m69 1h0m3 3h0m1-2h0m6 3h0m64-5h0m4-3h0m10-1h0m2 2h0m0 6h0m10-4h0m9 2h0m-492 12h0m1-1h0m8 2h0m61-8h0m60 6h0m3-6h0m89 6h0m100-6h0m0 1h0m15 1h0m42 1h0m1 5h0m2-6h0m2 6h0m2-1h0m2-1h0m1-2h0m2 3h0m1-5h0m2 1h0m1 1h0m3 0h0m1 2h0m63-7h0m2 4h0m11 4h0m4-8h0m2 5h0m-482 11h0m6-3h0m1-2h0m0 4h0m1 3h0m0 1h0m4-3h0m0 1h0m1 0h0m25-3h0m104 3h0m18-6h0m43 0h0m3 2h0m70 0h0m49 3h0m4 1h0m12-2h0m42-4h0m1 2h0m2 6h0m5-5h0m2 3h0m2 2h0m1-3h0m70-6h0m10 2h0m-497 12h0m3 1h0m10-2h0m2 3h0m3-6h0m3 7h0m4 1h0m8 0h0m10-4h0m99 3h0m21 0h0m9-3h0m0 3h0m6 0h0m2-5h0m10 6h0m21-6h0m18 0h0m26 7h0m103-9h0m9 9h0m18-5h0m9-1h0m12-3h0m1 3h0m0 6h0m5-3h0m3-3h0m1 5h0m2-7h0m6 4h0m1-5h0m0 4h0m-418 12h0m12 0h0m11-6h0m4 0h0m1 1h0m5 8h0m24 0h0m71-1h0m25-4h0m2-1h0m30 0h0m1 0h0m3 2h0m7-1h0m2-4h0m1 2h0m13 0h0m138 1h0m18 5h0m22-6h0m19 4h0m1 1h0m3 2h0m2-1h0m7-4h0m-425 7h0m0 6h0m8-5h0m4-1h0m0 4h0m4-4h0m7 3h0m1-1h0m2 0h0m10 3h0m11 2h0m102-5h0m1 1h0m3 4h0m3-7h0m8 5h0m9-5h0m16-1h0m2 6h0m5-3h0m2-3h0m15 7h0m15-7h0m5 3h0m18 2h0m57-4h0m45 0h0m9 0h0m-374 16h0m17-5h0m3 5h0m1-2h0m9 3h0m4-3h0m4 3h0m86-2h0m7 1h0m33-7h0m5 0h0m13 0h0m3 1h0m9 0h0m9 8h0m1-5h0m9-2h0m13 7h0m10-4h0m4-3h0m11 1h0m1 0h0m3-1h0m11-2h0m21 1h0m33 5h0m56-5h0m2-1h0m12 6h0m2 0h0m13 2h0m3 0h0m-403 9h0m9-6h0m0 3h0m5 1h0m3-1h0m1-1h0m3 2h0m16 4h0m129-1h0m5-1h0m5-5h0m11 2h0m4-1h0m2 4h0m3 2h0m2-4h0m31 1h0m2-5h0m8 6h0m5-5h0m29 1h0m1 4h0m15-5h0m7 0h0m4 7h0m90-2h0m1-1h0m2-1h0m2 3h0m1-2h0m3-5h0m9 5h0m-401 13h0m16-7h0m162 7h0m19-7h0m5 1h0m2 2h0m4-4h0m12 2h0m3-2h0m31 1h0m0 7h0m10-7h0m8 0h0m0 3h0m6 1h0m1-3h0m3 4h0m2-6h0m1 1h0m3 6h0m4-5h0m6 1h0m15 2h0m10-5h0m1 2h0m5 1h0m25 3h0m22-6h0m4 2h0m0 5h0m2-6h0m8 2h0m6 3h0m1 0h0m1-3h0m7 5h0m-406 3h0m7 4h0m15-1h0m1 3h0m161-5h0m16 1h0m24-2h0m18 3h0m51 2h0m27-7h0m7 2h0m9 4h0m50-5h0m6 5h0m2 2h0m1-3h0m3-3h0m2 2h0m-394 9h0m10 5h0m3-1h0m3 0h0m6 2h0m133-4h0m43 3h0m1-5h0m2-1h0m24 7h0m108-8h0m30 0h0m3 1h0m7 5h0m3-1h0m9-3h0m1-2h0m2 7h0m6-6h0m6 5h0m0 2h0m5-1h0m-426 2h0m45 1h0m112 3h0m60 5h0m15 0h0m1-8h0m0 8h0m42-5h0m64-3h0m10 5h0m13-4h0m30 0h0m11 5h0m2-1h0m10-5h0m4 5h0m7 2h0m-258 3h0m41 3h0m14 3h0m6-6h0m3 3h0m19 1h0m2 3h0m16-2h0m118 2h0m7-1h0m14-7h0m4 6h0m1 0h0m10-6h0m6 7h0m1-1h0m2-4h0m-248 10h0m31 0h0m7 6h0m2-7h0m12 8h0m1-5h0m8-1h0m138 6h0m15-9h0m2 0h0m7 6h0m1 2h0m11-6h0m18-1h0m3 6h0m91 2h0m11-6h0m-535 10h0m15 0h0m111-2h0m93 5h0m2-4h0m5 7h0m7-7h0m148 4h0m21-1h0m22-3h0m1 7h0m93-3h0m2 0h0m1 0h0m1-5h0m2 1h0m3 7h0m3-3h0m-505 9h0m3 1h0m122-3h0m18-2h0m42-1h0m4 9h0m1-7h0m0 7h0m6-7h0m5 7h0m23 0h0m2-1h0m117-5h0m7 3h0m11-6h0m141 0h0m1 0h0m1 9h0m6-5h0m-502 11h0m160 2h0m11-3h0m6 2h0m4-5h0m9 7h0m8-7h0m7 7h0m48-6h0m21 5h0m13-1h0m80-4h0m34 5h0m8 0h0m69 0h0m19 0h0m1-4h0m-544 8h0m22 1h0m211 4h0m3-1h0m12 1h0m8-2h0m6 4h0m8-4h0m183 3h0m11-4h0m3 2h0m7-1h0m28 1h0m8 4h0m6-4h0m20-5h0m3 7h0m5 1h0m-611 8h0m98 2h0m128-6h0m49 2h0m19 1h0m14-3h0m84 4h0m39 1h0m28-7h0m47 2h0m46 6h0m-350 8h0m19-2h0m175-1h0m4 2h0m0 3h0m7-6h0m3 5h0m2-7h0m1 7h0m26-4h0m58-3h0m2 2h0m2 3h0m9-5h0m37 0h0m13 5h0m-183 6h0m5 4h0m0 2h0m1 0h0m6-2h0m18 2h0m44 1h0m1-4h0m32-1h0m72 4h0m2-6h0m2 5h0m-470 8h0m66 2h0m233 2h0m6-2h0m0 1h0m12-3h0m3-2h0m12 6h0m2-8h0m26 2h0m3 1h0m1-1h0m3 3h0m103 0h0m2 1h0m-160 4h0m1 2h0m1 0h0m9 4h0m35-6h0m127 7h0m1-4h0m-507 16h0m309-8h0m8 7h0m3-1h0m18-2h0m4-2h0m0 2h0m2-2h0m22 3h0m140-1h0m2-5h0m-583 12h0m187 5h0m220-6h0m9 0h0m175 8h0m-660 7h0m94-4h0m94 7h0m262 0h0m6-4h0m32-4h0m-405 14h0m388-1h0m24 5h0m29 0h0m164-6h0m-686 14h0m224-2h0m223 0h0m7 2h0m4-3h0m0 3h0m18 2h0m24-7h0m24 2h0m2-2h0m159 1h0m2-1h0m10 6h0m-242 9h0m2 0h0m1-4h0m9 2h0m16 2h0m3-3h0m16 1h0m1-3h0m10 2h0m1 5h0m2-6h0m9-2h0m5 4h0m108-1h0m13 5h0m7-1h0m43-4h0m-333 11h0m78-3h0m4 0h0m3 2h0m8-3h0m7 2h0m15 0h0m9 5h0m5-4h0m9 1h0m1-4h0m2 1h0m20 4h0m60 1h0m15 2h0m53-2h0m4-2h0m12-2h0m19 5h0m15-2h0m11 1h0m-349 7h0m74 2h0m4 2h0m10-6h0m0 3h0m6-5h0m10 8h0m4 0h0m2-2h0m8 3h0m2-9h0m1 6h0m4-5h0m2 7h0m8-5h0m0 1h0m4-4h0m2 6h0m5-6h0m12 6h0m54 0h0m2-5h0m0 4h0m18 1h0m16-5h0m86 5h0m-498 9h0m156 4h0m80-3h0m2-4h0m12 5h0m1 1h0m1-3h0m10-4h0m1 5h0m1-1h0m6-3h0m4 3h0m12 2h0m3-6h0m3 6h0m5-2h0m3-1h0m16-3h0m28 3h0m2 4h0m18-5h0m27 1h0m3 1h0m1 1h0m7 0h0m2-3h0m32 3h0m57-5h0m-344 11h0m67 7h0m34-1h0m9-4h0m1-3h0m0 1h0m6 5h0m1-3h0m3 4h0m4-3h0m62 1h0m11 2h0m81-3h0m14 0h0m5-4h0m2 2h0m4-2h0m9 5h0m55 0h0m-715 6h0m369 7h0m28-6h0m4 1h0m2 4h0m18-3h0m1 2h0m21-2h0m1 4h0m1-2h0m11-5h0m0 3h0m2-3h0m36 5h0m4-5h0m19 7h0m123-9h0m16 9h0m7-9h0m1 0h0m7 3h0m12-1h0m7 6h0m15 1h0m6-1h0m24 0h0m-581 7h0m205 4h0m10-2h0m12-4h0m19 3h0m50-4h0m0 1h0m10 6h0m3-3h0m1 3h0m1-6h0m1 6h0m5-9h0m8 2h0m0 5h0m10 1h0m15-2h0m3 0h0m3-4h0m2 4h0m10 3h0m10-4h0m18 2h0m4-2h0m0 1h0m10 3h0m93-4h0m12 0h0m8 2h0m3 2h0m2-9h0m7 0h0m8 1h0m48 2h0m-795 13h0m468-4h0m23-1h0m0 2h0m5-3h0m0 5h0m19 4h0m9-9h0m1 7h0m9-6h0m5 8h0m4-7h0m10 4h0m2 3h0m6-8h0m2-1h0m7 0h0m145 3h0m26 0h0m19-1h0m11 0h0m18 5h0m-687 7h0m193 2h0m1 3h0m1-2h0m22 1h0m57-7h0m0 3h0m7 1h0m127-3h0m9-1h0m8 1h0m6 4h0m21-4h0m94 4h0m5-2h0m18-2h0m5 2h0m3-1h0m-383 9h0m0 2h0m5 2h0m2 2h0m4-1h0m2-7h0m5 9h0m5-5h0m9-1h0m0 6h0m4-1h0m3-3h0m1-1h0m15-2h0m176 2h0m29-2h0m-533 17h0m264-9h0m0 6h0m4-6h0m4 4h0m10-2h0m16 2h0m4-2h0m1 0h0m9-2h0m1 8h0m1-6h0m11-2h0m0 9h0m2-9h0m7 2h0m-367 13h0m30 1h0m273-5h0m46 2h0m-340 7h0m29 0h0m-7 14h0m117 0h0" stroke="#cbbb6b" stroke-width="5.8"/>
<path d="M2131 357h0m126 70h0m-368 7h0m103-4h0m21 9h0m6 0h0m-123 7h0m4-2h0m3 3h0m1-4h0m3-2h0m5 1h0m88 7h0m8-5h0m15 4h0m195-2h0m22 2h0m30-3h0m6 3h0m15-4h0m-376 12h0m58-5h0m12 7h0m8-5h0m26 3h0m16-3h0m1 6h0m158-7h0m18 4h0m25 3h0m19-3h0m1-4h0m1 1h0m14 4h0m-321 5h0m48-1h0m3 5h0m5-4h0m4 2h0m130 4h0m11-1h0m1 0h0m32-2h0m14-2h0m52 4h0m-330 4h0m2 8h0m41-3h0m54 1h0m19 0h0m84-5h0m90 6h0m34-5h0m33-3h0m-293 19h0m9-6h0m21-3h0m122 2h0m106 7h0m28-4h0m5 3h0m36 0h0m-395 6h0m97 5h0m132-1h0m35-8h0m8 7h0m2-3h0m22-3h0m4 5h0m18-2h0m5-4h0m-312 15h0m10-1h0m51-4h0m12 4h0m12 5h0m3-4h0m22-5h0m89 5h0m3-3h0m15 3h0m13 1h0m3 3h0m17-4h0m19-5h0m93 0h0m13 9h0m-387 5h0m9 0h0m99 1h0m6-5h0m11 4h0m7 4h0m13-8h0m4 0h0m8 8h0m64 0h0m7-3h0m5-4h0m9 6h0m44 2h0m14 0h0m61 0h0m-353 2h0m50 8h0m70-9h0m7 4h0m71 2h0m74-2h0m22-1h0m54-3h0m5 0h0m2 7h0m36-6h0m-411 17h0m1 0h0m4-5h0m34 4h0m6 0h0m27-4h0m80 4h0m64-5h0m26 1h0m3-1h0m14 3h0m15 0h0m9-4h0m119 3h0m5-1h0m-437 8h0m33 1h0m11 1h0m26 1h0m14 5h0m11-2h0m18-3h0m62-4h0m30 8h0m44-4h0m8-2h0m43 2h0m70 1h0m21-4h0m39 1h0m-448 8h0m39 2h0m2 3h0m17-3h0m2 3h0m0 3h0m8-4h0m6-4h0m52 7h0m19 2h0m63-6h0m2 5h0m82-6h0m30 0h0m54 1h0m26-3h0m12 0h0m15 4h0m3-1h0m19 5h0m12-1h0m14-3h0m-473 14h0m17-2h0m4-2h0m1-3h0m1 4h0m0 4h0m3-8h0m2 5h0m2-4h0m39-1h0m0 6h0m121-3h0m2 1h0m5-4h0m50 6h0m19-3h0m3 5h0m35-2h0m64-6h0m41 1h0m8 1h0m8 0h0m21 0h0m26 6h0m-470 4h0m10-3h0m32 9h0m3-4h0m19-5h0m24 2h0m52-1h0m63 1h0m37 6h0m29-7h0m3 8h0m14-7h0m7-2h0m117 4h0m0 3h0m1-4h0m35-2h0m5 8h0m17-2h0m1-7h0m-469 11h0m146 1h0m74 3h0m14-5h0m71 8h0m20-7h0m18-1h0m48 1h0m78 4h0m4 4h0m2-3h0m-170 13h0m6-8h0m5 7h0m15-8h0m20 3h0m14 5h0m27-4h0m7 3h0m65-7h0m11 7h0m6-7h0m3 8h0m-450 8h0m34 0h0m57 1h0m11-5h0m6 5h0m124-2h0m18 2h0m2-2h0m7 1h0m45 3h0m7-5h0m1 3h0m5-5h0m22-2h0m2 3h0m116 1h0m4 5h0m37 0h0m85-1h0m7-1h0m3-7h0m-598 12h0m112-1h0m125 0h0m10 2h0m7 5h0m34-8h0m5 9h0m3-1h0m25-4h0m1-1h0m5-1h0m1 3h0m132-3h0m7 1h0m11 6h0m-476 7h0m79-5h0m134 1h0m35 6h0m30-7h0m3 0h0m63 5h0m10 0h0m52-2h0m68 3h0m167-7h0m-463 16h0m7 0h0m70-6h0m49 8h0m2-4h0m5 4h0m4-5h0m23-2h0m3 7h0m45-2h0m76-5h0m5 1h0m4-1h0m5 0h0m30 4h0m28 2h0m15-6h0m4 8h0m5-9h0m8 1h0m68 0h0m-464 9h0m10 6h0m76 2h0m27-5h0m4-2h0m42 5h0m148-5h0m11 6h0m8-7h0m2 9h0m52 0h0m13-1h0m16 1h0m59-1h0m3-1h0m9 2h0m-483 1h0m141 9h0m16-9h0m94 2h0m69 7h0m52-7h0m9 5h0m12 1h0m7-5h0m71 4h0m4-6h0m5 4h0m-552 7h0m50 3h0m20 4h0m8 0h0m4-9h0m94 2h0m69 3h0m13-5h0m12 4h0m121 2h0m5-3h0m12-1h0m43 2h0m5-4h0m0 9h0m1-8h0m0 6h0m1 0h0m11-2h0m2-4h0m0 8h0m72-8h0m-474 16h0m4-3h0m31 2h0m100-1h0m32 0h0m28 3h0m4-7h0m10 2h0m15 5h0m14-2h0m84 3h0m17-4h0m0 2h0m6-3h0m35 2h0m7 3h0m5-9h0m0 5h0m2-5h0m3 8h0m6-5h0m2-1h0m6 1h0m-421 11h0m15 3h0m6-2h0m138 4h0m11-9h0m0 5h0m23 3h0m11-5h0m2-2h0m41 8h0m103-7h0m3 3h0m2 1h0m11 3h0m22-3h0m1-6h0m7 4h0m1-4h0m0 5h0m11 3h0m-416 9h0m8-7h0m23 9h0m102-9h0m29 1h0m9 7h0m9-8h0m19 1h0m28 5h0m1 2h0m5-7h0m2 0h0m31 5h0m106-5h0m0 6h0m4-7h0m14 6h0m26 0h0m-484 13h0m67-9h0m7 6h0m7-4h0m5 1h0m3-1h0m3 4h0m94 3h0m37-9h0m4 1h0m6 6h0m3-6h0m2 2h0m6 5h0m1-2h0m12 3h0m11-8h0m0 4h0m19 4h0m1-6h0m9 5h0m9 1h0m11-5h0m22 0h0m12 0h0m7 2h0m1-1h0m6 3h0m19-1h0m56 2h0m1-9h0m9 1h0m0 4h0m3 0h0m7 3h0m15-6h0m0 2h0m-469 8h0m79 1h0m164 5h0m1 0h0m18-1h0m40-4h0m18 3h0m6-6h0m21 5h0m88-3h0m10 5h0m10-1h0m1-2h0m37 2h0m-412 11h0m12-2h0m112-3h0m17-1h0m31 5h0m5-2h0m5 4h0m3 1h0m1-4h0m7 3h0m29-7h0m6-1h0m59 2h0m8 2h0m60-3h0m9 3h0m0 1h0m3-1h0m5 5h0m1-8h0m8 5h0m-498 5h0m21 8h0m6-6h0m66 3h0m12 3h0m4-7h0m10 7h0m9-4h0m27-2h0m100 0h0m4 1h0m28 2h0m21 3h0m111-4h0m36-3h0m27 5h0m25-4h0m-488 14h0m15-6h0m59-1h0m6 6h0m11-3h0m0 4h0m1-2h0m6 0h0m129 0h0m31 0h0m180-1h0m5-1h0m0 2h0m3 2h0m7-6h0m29 3h0m3-1h0m16 5h0m-490 4h0m70-2h0m15 5h0m8-5h0m12 5h0m8-1h0m131 1h0m6-3h0m14 3h0m33 2h0m35-3h0m107 2h0m5 3h0m3-6h0m1 0h0m4 2h0m9 3h0m3-5h0m2-3h0m14 2h0m7 1h0m-404 7h0m171 4h0m11 4h0m7-4h0m163 0h0m0 5h0m7-8h0m5 5h0m18 0h0m30 1h0m-428 4h0m19 7h0m12 1h0m188-3h0m3-3h0m23 0h0m83 4h0m21-5h0m29 0h0m7-2h0m18 4h0m11 0h0m1-2h0m-458 12h0m71 3h0m163-7h0m13 4h0m0 1h0m8-5h0m44 4h0m105 1h0m5 3h0m10 1h0m4-2h0m2-7h0m7 3h0m28 1h0m0 4h0m1-1h0m1-4h0m3-1h0m102 4h0m-623 12h0m4-5h0m38-2h0m67 0h0m7 1h0m17 4h0m163-2h0m12-4h0m7 7h0m6 2h0m6-4h0m0 1h0m13-5h0m97-1h0m53 0h0m3 5h0m28 1h0m4-6h0m2 3h0m3 2h0m91 1h0m-587 7h0m1-3h0m80 5h0m7 0h0m165 4h0m11-6h0m7 2h0m15-4h0m1 2h0m3 5h0m7-5h0m1 0h0m2 1h0m54 0h0m108 1h0m47 1h0m78-5h0m-629 14h0m38-5h0m43 3h0m15 0h0m26-1h0m28 6h0m4-4h0m4 5h0m23-4h0m146-5h0m41 5h0m20 4h0m1 0h0m29 0h0m109 0h0m16-5h0m4 2h0m1-2h0m1-4h0m0 4h0m1 3h0m14 1h0m22 1h0m45-8h0m-518 17h0m1-8h0m165 8h0m47-8h0m19 1h0m79 2h0m4 6h0m9-7h0m86 6h0m7-4h0m7 0h0m12-3h0m-631 17h0m35-2h0m51-6h0m5 2h0m161 5h0m1 2h0m237-6h0m4 2h0m9-1h0m0 4h0m2-2h0m1-2h0m0 1h0m78 0h0m4-4h0m6 2h0m4 4h0m50-5h0m3 7h0m-643 10h0m146 0h0m18-1h0m65-6h0m237 1h0m8 0h0m18 0h0m3 3h0m9 1h0m40 2h0m10-6h0m7 4h0m4-5h0m9 1h0m-577 16h0m81-3h0m157 0h0m22 0h0m3-1h0m3 3h0m230-2h0m5 3h0m1-9h0m0 7h0m2 2h0m3-5h0m1-1h0m10 3h0m32-2h0m1 4h0m-456 11h0m22-4h0m29-4h0m96 0h0m37 8h0m187-1h0m10-7h0m3 4h0m19-5h0m7 2h0m171 5h0m-680 8h0m76-1h0m12-4h0m1 3h0m163-3h0m6 7h0m248-7h0m2 9h0m15-2h0m18-7h0m-469 15h0m90 2h0m324-2h0m7-3h0m9-1h0m2-1h0m2 3h0m1 4h0m6-7h0m2 5h0m7 4h0m1-7h0m-412 12h0m11-3h0m33 4h0m36-4h0m353 3h0m-446 10h0m25 3h0m3-4h0m13 4h0m13 0h0m8-4h0m53 5h0m280 0h0m14-7h0m3 6h0m2-2h0m2 0h0m2-1h0m1-4h0m18 9h0m125-1h0m6-3h0m35 3h0m8-5h0m-681 11h0m67-2h0m64 7h0m5-7h0m316 0h0m21 6h0m11-3h0m13 1h0m3-1h0m6-3h0m16 2h0m109 1h0m7 3h0m4-5h0m2 1h0m1 4h0m38-8h0m17 7h0m-632 11h0m375-7h0m11 1h0m7 5h0m20 0h0m19 0h0m117-7h0m6 9h0m2-7h0m38-1h0m36 7h0m-531 10h0m27-2h0m1 0h0m43-5h0m40 2h0m43 3h0m28 3h0m95-8h0m14 5h0m9-1h0m1-5h0m0 9h0m6-5h0m1 2h0m4 3h0m1-9h0m5 6h0m1 2h0m2-2h0m2-6h0m14 7h0m1-7h0m0 8h0m3-7h0m6 6h0m4-7h0m2 3h0m10-3h0m1 7h0m51 1h0m2-1h0m4-1h0m14-4h0m13 2h0m30 3h0m6 1h0m17-7h0m14 4h0m-604 14h0m23-8h0m9-1h0m52 2h0m0 4h0m7-3h0m6-3h0m105 3h0m18 6h0m150-6h0m3 3h0m2-2h0m13-4h0m1 7h0m2-1h0m4-1h0m3-2h0m0 4h0m6-1h0m3-5h0m0 1h0m1 3h0m3-1h0m4 2h0m2 0h0m2-3h0m0 3h0m10-5h0m73 8h0m7-8h0m12 1h0m26 6h0m14-5h0m42-1h0m6 6h0m4-7h0m3 8h0m3-6h0m15-2h0m9 6h0m-747 4h0m226 5h0m241 2h0m6-4h0m8-1h0m4-2h0m10 4h0m2-4h0m0 3h0m3-1h0m3 3h0m1-6h0m3 7h0m4-4h0m1 5h0m2-6h0m5 2h0m0 1h0m0 3h0m15-1h0m19-5h0m2 3h0m25 2h0m14-1h0m3-5h0m2 4h0m36-1h0m4 5h0m13-4h0m14 3h0m4-4h0m17-1h0m40 2h0m19-4h0m-543 15h0m34 3h0m214-3h0m23-1h0m5 0h0m0 1h0m1 3h0m5-7h0m17 1h0m6 2h0m12-4h0m0 6h0m5-2h0m7 0h0m3-2h0m2 1h0m37-1h0m0 4h0m6-6h0m6 0h0m34 5h0m11 3h0m7-5h0m11-4h0m3 8h0m5-1h0m2-6h0m6 6h0m59-6h0m-686 18h0m14-8h0m111 0h0m58 0h0m126 1h0m83 7h0m1-4h0m5-3h0m9 0h0m20 6h0m13-2h0m0 2h0m4-5h0m1-2h0m4 1h0m0 4h0m3-5h0m3 2h0m0 1h0m3-1h0m18 3h0m1 1h0m3-3h0m0 5h0m1-6h0m13 4h0m3-3h0m10-3h0m1 5h0m10-1h0m7 1h0m1 1h0m1-4h0m1-2h0m6 2h0m0 5h0m6-6h0m50-2h0m34 5h0m16-5h0m16 8h0m-301 6h0m10 3h0m11-4h0m54 4h0m4-1h0m3 3h0m12-4h0m0 3h0m6-3h0m0 3h0m8-7h0m4 1h0m4 0h0m1 4h0m10-2h0m13-2h0m15 6h0m5-2h0m3-3h0m0 6h0m5-9h0m3 7h0m2-5h0m5-1h0m102 1h0m51 1h0m4 5h0m15-6h0m4-1h0m28 0h0m-787 16h0m75-6h0m203 3h0m112 3h0m27-6h0m5-1h0m1 0h0m60 9h0m1-6h0m1-3h0m11 3h0m0 1h0m1 1h0m3-3h0m5 0h0m0 3h0m4 0h0m1-5h0m0 5h0m8-2h0m0 5h0m3-1h0m3-7h0m1 2h0m4-2h0m0 1h0m4 8h0m11-4h0m8-1h0m5-3h0m4-1h0m0 2h0m6-2h0m2 4h0m151-4h0m21 3h0m19-1h0m1 2h0m1-1h0m10 3h0m7 2h0m-789 3h0m127 1h0m35 2h0m208-4h0m3 3h0m3 4h0m0 1h0m19-6h0m0 5h0m108-7h0m26 1h0m9-1h0m0 3h0m7 0h0m8 5h0m22-7h0m86 5h0m12-2h0m3-1h0m18 0h0m4 1h0m5 1h0m4-2h0m41-2h0m2 0h0m8 0h0m-762 17h0m17 0h0m8-6h0m26 3h0m245 2h0m9-3h0m1-3h0m19 5h0m9-5h0m0 7h0m18-5h0m2-2h0m5 4h0m231-2h0m-569 10h0m1-1h0m69 1h0m28 2h0m217-3h0m2 0h0m-339 11h0m31 4h0m71-7h0m35 7h0m7-5h0m57 7h0m138-8h0m-336 12h0m14-3h0m10 9h0m14-7h0m1 5h0m51 2h0m79-3h0m54-5h0m-235 10h0m58 1h0m83-2h0m-151 17h0m49 4h0" stroke="#d8ab5a" stroke-width="6.2"/>
<path d="M2126 344h0m9-3h0m4 3h0m-21 13h0m6 0h0m12-5h0m3 0h0m1 2h0m2-2h0m-10 8h0m13 7h0m-13 7h0m7-3h0m8 9h0m-11 14h0m8 2h0m64 20h0m-302 4h0m110 5h0m-16 14h0m6-6h0m10-1h0m10 7h0m202-6h0m5 2h0m19 3h0m8-2h0m7-5h0m2 3h0m2 5h0m-393 10h0m5-8h0m4 2h0m1-3h0m0 3h0m4 3h0m6-4h0m1 1h0m1 3h0m4-2h0m5 1h0m0 4h0m14-1h0m69-1h0m3-4h0m8 5h0m0 1h0m21-3h0m197-2h0m5 2h0m11-6h0m2 4h0m17-3h0m3 5h0m2 3h0m16-5h0m10 4h0m-398 2h0m9 5h0m2-5h0m4 1h0m1 6h0m4-7h0m4 4h0m3-3h0m82 7h0m8 0h0m2-8h0m0 1h0m15 3h0m1 3h0m6-2h0m3-2h0m144 6h0m37-3h0m8-3h0m3-1h0m1 6h0m8-8h0m4 1h0m1-1h0m3 5h0m10 2h0m4-2h0m2 3h0m2-5h0m2-3h0m8 9h0m5-4h0m-369 13h0m2-4h0m0 1h0m2 3h0m2-6h0m5 7h0m2-3h0m53 3h0m1-4h0m4 3h0m16-8h0m17 5h0m0 3h0m3-1h0m2-4h0m1-2h0m2 8h0m7-4h0m6 3h0m108 0h0m54-1h0m3-5h0m4 1h0m40 2h0m9-5h0m1 5h0m7-2h0m9 2h0m10 0h0m8-1h0m14 2h0m-397 4h0m64 5h0m5-5h0m1 0h0m4 0h0m17 9h0m1-8h0m0 1h0m2 0h0m22 4h0m3 3h0m28-5h0m7-3h0m57 0h0m6 0h0m16-1h0m2 1h0m1 1h0m23 7h0m8-3h0m4-3h0m6 4h0m8 0h0m29-6h0m34-1h0m3 0h0m3 4h0m2-2h0m3-2h0m21 4h0m3-3h0m-364 14h0m56-4h0m2 0h0m8 3h0m3-3h0m2 4h0m25 0h0m14-5h0m15 6h0m5-5h0m36-1h0m66 3h0m1-3h0m12 8h0m4-2h0m4-1h0m3-1h0m7-4h0m15 1h0m8 7h0m8-5h0m15 6h0m30-3h0m10-1h0m3 4h0m2-8h0m3 3h0m5-2h0m-369 12h0m10 1h0m32 0h0m79 3h0m3-6h0m88-1h0m0 1h0m13 7h0m2-4h0m4-4h0m12 7h0m11-5h0m5 5h0m2-5h0m3-3h0m39 8h0m7-5h0m23 6h0m26 0h0m-353 3h0m8-2h0m2 5h0m89-2h0m13 2h0m87-2h0m27 5h0m4 1h0m3-3h0m19 1h0m4-6h0m0 3h0m6-4h0m5 6h0m6-5h0m2 4h0m14-3h0m6 6h0m1-5h0m0 3h0m11 3h0m9-8h0m4 1h0m26 0h0m9 3h0m3-2h0m-365 13h0m3 0h0m6-2h0m9 1h0m3-4h0m3-1h0m60 0h0m69 8h0m12-4h0m40 4h0m12-8h0m2 4h0m5 0h0m9-3h0m1 1h0m0 6h0m5-2h0m9-5h0m0 3h0m12 5h0m10-3h0m4-2h0m58 2h0m44 3h0m4-2h0m7-6h0m2 5h0m-408 12h0m21 0h0m3-5h0m6 3h0m103-5h0m76 3h0m13-1h0m5 4h0m17-6h0m1 4h0m8-1h0m1-3h0m4 7h0m1-5h0m17 3h0m34-4h0m5 7h0m3-8h0m17 4h0m6-2h0m29 2h0m5 4h0m11-5h0m13 0h0m11-1h0m8-2h0m-425 17h0m21-5h0m0 6h0m2-8h0m10 1h0m1-1h0m13 0h0m1 7h0m1-7h0m13 2h0m4-2h0m3 6h0m68 0h0m19-4h0m9 6h0m10 0h0m21 0h0m22-2h0m10 1h0m6-7h0m21 2h0m3 4h0m7-3h0m10 1h0m2-4h0m16 1h0m17-2h0m3 3h0m10-3h0m23 3h0m5 3h0m5-2h0m2-3h0m20-1h0m6 2h0m5 0h0m10-1h0m23 5h0m2 3h0m6 0h0m-427 6h0m3 3h0m6-2h0m3 0h0m7 1h0m3-1h0m2-4h0m6 2h0m1 5h0m1-3h0m7 3h0m8-9h0m6 2h0m2 6h0m3-2h0m1-6h0m4 6h0m1 1h0m8-3h0m3-2h0m40-2h0m77 2h0m1 2h0m9 5h0m2-3h0m28 1h0m16 2h0m7-1h0m16-4h0m17 5h0m3-9h0m2 1h0m1 6h0m7-5h0m10-2h0m0 4h0m2-2h0m21-1h0m7 7h0m7-3h0m15 3h0m3-4h0m9-3h0m7 2h0m2 5h0m2-4h0m1 1h0m22-1h0m1 4h0m9 1h0m15 0h0m-468 8h0m16-3h0m4 4h0m12 1h0m12-4h0m4 1h0m1 2h0m2 0h0m0 1h0m1-1h0m5-6h0m4 7h0m8-9h0m6 2h0m24 6h0m1-6h0m94 3h0m19 4h0m23-6h0m59 5h0m14-2h0m20-4h0m49-1h0m14 4h0m1 2h0m13-6h0m13 4h0m8-1h0m6 2h0m0 3h0m1-6h0m16 6h0m13-6h0m3 6h0m-468 6h0m15 4h0m5-9h0m3 5h0m1 3h0m4 1h0m2-2h0m5-2h0m0 4h0m3-1h0m2 0h0m7-6h0m1 6h0m1-1h0m9-1h0m4-2h0m2-3h0m8 0h0m13 1h0m15 6h0m44-1h0m70-1h0m12-5h0m3-1h0m62 2h0m8 1h0m0 3h0m33-1h0m6-4h0m5-1h0m4 8h0m10-8h0m11 2h0m2 5h0m26 2h0m1-3h0m7 2h0m10-1h0m7-5h0m7-1h0m5 0h0m2 6h0m2-4h0m3-2h0m11 1h0m17 0h0m-449 10h0m6-2h0m0 2h0m71-2h0m117 2h0m2 1h0m5 6h0m14-7h0m3-2h0m18 6h0m3-2h0m10-1h0m24 1h0m14 5h0m2-5h0m14-2h0m12 3h0m20-3h0m10 2h0m19-3h0m3 8h0m3 0h0m6-6h0m5-2h0m9 3h0m3 3h0m10-2h0m3 3h0m3-6h0m2 2h0m2-1h0m2 3h0m4-6h0m8 3h0m18-3h0m5 5h0m-467 6h0m96 4h0m10-1h0m120-2h0m4 7h0m22-9h0m58 7h0m12-2h0m13 0h0m4 4h0m50-2h0m6-6h0m0 8h0m12-7h0m12 0h0m3-2h0m0 8h0m50-8h0m20 7h0m6 1h0m-485 5h0m26 0h0m17 0h0m64 3h0m7-5h0m112 6h0m25-1h0m35 0h0m32 0h0m1-4h0m3 5h0m3-1h0m9-1h0m8-1h0m15-2h0m31 1h0m2-1h0m77 2h0m-456 11h0m26-2h0m91 0h0m47 4h0m87-3h0m52-4h0m7 8h0m4-4h0m21-3h0m1 5h0m1-1h0m130 1h0m16 3h0m-489 1h0m10 2h0m112 5h0m116-4h0m22-3h0m3 5h0m2 2h0m22 1h0m2-1h0m12 0h0m10-6h0m14 1h0m45 2h0m116 3h0m32 1h0m-301 3h0m26 7h0m54 0h0m52-1h0m138-1h0m7-6h0m2 0h0m-476 18h0m97-4h0m11 0h0m187-4h0m25 2h0m137-1h0m24 8h0m5-4h0m-435 6h0m45 8h0m72-4h0m141-1h0m166-1h0m1-3h0m6 8h0m4 0h0m6-3h0m-412 8h0m23-1h0m42-1h0m14 6h0m10-5h0m9 7h0m152-7h0m23 4h0m114-1h0m8-5h0m26 8h0m4-7h0m39 2h0m-451 12h0m14-2h0m7-2h0m51 0h0m10 8h0m6-4h0m81-3h0m49 0h0m52 5h0m130-1h0m60-2h0m-423 13h0m24-5h0m13-2h0m8 3h0m2 1h0m83 1h0m63 4h0m16 0h0m158-9h0m2 1h0m5-1h0m8 3h0m2 1h0m41 2h0m-485 10h0m69 3h0m7-8h0m2 5h0m37 2h0m100-7h0m30 8h0m23-4h0m136-3h0m37 1h0m9 2h0m0 4h0m-449 6h0m3-1h0m68-3h0m6 6h0m3-6h0m2 3h0m4 4h0m12-7h0m3 6h0m153-3h0m8 5h0m40-3h0m141-2h0m2-1h0m0 6h0m5-4h0m2-4h0m15 2h0m-479 13h0m16-5h0m1 7h0m5-2h0m74-2h0m20-3h0m117 4h0m33 4h0m19-4h0m31 1h0m32 1h0m117-5h0m4 3h0m17 1h0m-463 11h0m3 2h0m87-8h0m2 2h0m115 0h0m59 1h0m15 2h0m8-5h0m65 4h0m92 1h0m2-4h0m15 7h0m23-5h0m-488 9h0m55-1h0m38-2h0m168 3h0m84 0h0m37 3h0m16-6h0m72 8h0m0 1h0m4-3h0m27 1h0m-428 6h0m18 1h0m1 5h0m23-5h0m95 5h0m6-3h0m13-2h0m225 3h0m8 0h0m3 0h0m8-3h0m-492 10h0m18 2h0m18 0h0m18-3h0m37 1h0m1 1h0m153 1h0m109 3h0m102-8h0m34 5h0m-495 5h0m0 7h0m11-5h0m2 6h0m84-2h0m2-2h0m13 2h0m1 2h0m141-6h0m77 6h0m162-6h0m9-3h0m15 4h0m-528 7h0m2 5h0m6 0h0m15-3h0m5-1h0m1 4h0m74 1h0m4 1h0m2-2h0m1-3h0m10 3h0m7 1h0m361-1h0m3-5h0m12 5h0m-487 7h0m1 5h0m17-6h0m47 4h0m3 3h0m16-1h0m2-5h0m3 2h0m4 2h0m12-4h0m1 6h0m2-9h0m16 1h0m184 3h0m170 3h0m1 1h0m12-5h0m11-3h0m2 7h0m2-6h0m-568 16h0m13 2h0m4-2h0m43 1h0m9-8h0m39 4h0m39 2h0m11 0h0m5-6h0m0 1h0m17 3h0m138-3h0m198 2h0m39 2h0m10-1h0m3 0h0m2 5h0m-567 2h0m41 5h0m81-4h0m4 6h0m5-2h0m7-1h0m4 1h0m6-6h0m5 0h0m2 1h0m0 5h0m5 3h0m5-6h0m5 2h0m4 3h0m4-5h0m1 5h0m155-7h0m3 4h0m189-3h0m27-2h0m9 9h0m1-6h0m19-1h0m-618 13h0m74 2h0m37-1h0m4 0h0m14 2h0m39-4h0m21 5h0m6-2h0m4-2h0m1-3h0m3 4h0m3-3h0m10 5h0m3 1h0m1-1h0m3 0h0m191-6h0m62 3h0m141 3h0m85-7h0m-713 12h0m31 4h0m3-7h0m6 8h0m43-4h0m47 4h0m35-5h0m10-3h0m4 0h0m4 2h0m1 2h0m6 2h0m5-3h0m28 4h0m5-5h0m13 6h0m7-2h0m142-5h0m14 7h0m106-8h0m12 2h0m5-2h0m15 6h0m84 3h0m-606 4h0m41 6h0m16-3h0m2-3h0m9 1h0m7 3h0m7-5h0m46 6h0m4 1h0m31 0h0m4-7h0m20 0h0m14 3h0m1 2h0m11 0h0m21-5h0m7 0h0m125 4h0m21-6h0m77 5h0m120 1h0m20-4h0m19 0h0m4 2h0m2-1h0m-640 16h0m4-4h0m4-1h0m8-3h0m2 7h0m7 1h0m17-4h0m71-5h0m1 0h0m22 2h0m6 1h0m20-3h0m6 3h0m2-1h0m19 3h0m18 1h0m18-5h0m2 0h0m3 5h0m2-3h0m0 6h0m13-5h0m9-1h0m220-3h0m0 4h0m6 1h0m4 2h0m5-6h0m5 5h0m6-2h0m0 5h0m17-2h0m18-2h0m42 0h0m0 2h0m6-7h0m-579 19h0m28-7h0m7-2h0m24 8h0m30-8h0m43 0h0m10 7h0m4-6h0m25 7h0m22 1h0m4-6h0m3 1h0m18 4h0m10-6h0m6-2h0m1 0h0m7 9h0m1-3h0m8 0h0m19 0h0m211-4h0m14 4h0m1 2h0m1-4h0m6 3h0m53-6h0m6 3h0m3-2h0m3-2h0m73 4h0m13 1h0m-646 5h0m54 6h0m13 3h0m9-4h0m7-4h0m10 1h0m44 1h0m46-3h0m37 2h0m10 0h0m7-1h0m3 5h0m8 3h0m3-3h0m217-1h0m15 3h0m4-2h0m6 2h0m48-2h0m105 1h0m10 0h0m-599 7h0m9 5h0m32 0h0m9-4h0m1 4h0m3-4h0m1 1h0m6-2h0m29 3h0m15-4h0m24-1h0m8-1h0m7 5h0m1 3h0m12-1h0m13-7h0m9 4h0m6-5h0m0 2h0m0 3h0m2 0h0m224 3h0m16 0h0m2-4h0m0 3h0m6-4h0m4 0h0m163 4h0m-664 7h0m17 2h0m14-6h0m6 1h0m0 7h0m32-4h0m3-4h0m3 3h0m7-3h0m1 7h0m6-6h0m16 4h0m18 3h0m12-1h0m2-4h0m16 4h0m3-5h0m1 1h0m7-1h0m12 6h0m34-7h0m18 5h0m8 1h0m22-3h0m204 2h0m9-1h0m2 0h0m13-1h0m5 0h0m2-3h0m0 5h0m3-4h0m1 6h0m-460 5h0m7 6h0m17-8h0m9 3h0m4-1h0m22-2h0m3 1h0m16 3h0m20-2h0m18 0h0m4 4h0m31-2h0m49-2h0m26 6h0m200-3h0m8 1h0m20 1h0m2 0h0m3-8h0m11 8h0m171-1h0m-691 12h0m39-7h0m35-2h0m24 7h0m17-2h0m1-5h0m1 6h0m30 2h0m3 1h0m17 0h0m4-3h0m12-2h0m4-3h0m3 8h0m2-2h0m4-7h0m4 9h0m14-1h0m247-8h0m46 5h0m6-3h0m183-1h0m13 8h0m-707 8h0m9-1h0m4-4h0m3 1h0m30 3h0m91 1h0m4-2h0m18 0h0m5-3h0m23 6h0m28-2h0m14-4h0m1 4h0m35-5h0m218 5h0m29-2h0m151-4h0m8 9h0m26-3h0m-591 5h0m15 2h0m3 3h0m16 3h0m3-5h0m22-1h0m25 2h0m24-2h0m37 3h0m213 2h0m16-7h0m20 5h0m7-1h0m9 0h0m134 0h0m6-5h0m-567 14h0m13-2h0m34 3h0m27-3h0m2 4h0m2 2h0m5-4h0m3 0h0m110-1h0m203 3h0m1-3h0m26-2h0m12 7h0m6 0h0m107 0h0m4-2h0m13 0h0m2 2h0m-642 11h0m10-9h0m85 2h0m1 0h0m5 4h0m12-6h0m17 2h0m15 0h0m3 4h0m3-3h0m1 5h0m3-1h0m5-2h0m8 2h0m17-2h0m3-5h0m11 7h0m21-2h0m23 1h0m18-5h0m68 5h0m32 2h0m32-7h0m10 7h0m45-8h0m23 4h0m2 4h0m6-8h0m8 2h0m15 5h0m20 2h0m6-5h0m0 2h0m14-1h0m7 1h0m10 2h0m39 0h0m2-1h0m4-6h0m28 4h0m4 1h0m7-3h0m15 5h0m31-1h0m33-4h0m-732 14h0m5-6h0m66 2h0m8 1h0m6 3h0m16-1h0m5-4h0m45-1h0m63 0h0m5 8h0m35-3h0m132-6h0m44 8h0m32-1h0m8-3h0m5-3h0m15 1h0m1 5h0m9-6h0m18 0h0m4 1h0m38 7h0m30-2h0m6-2h0m28 3h0m30-7h0m5 3h0m69-4h0m3 4h0m-749 9h0m43 5h0m3 0h0m73-2h0m14-5h0m23 1h0m11 7h0m4-5h0m2-2h0m15-2h0m34 2h0m9 5h0m50-3h0m6-2h0m64 4h0m70-1h0m48 3h0m12-5h0m6 5h0m9 0h0m2-7h0m2-1h0m0 8h0m4-1h0m30-4h0m1 6h0m12-2h0m11-3h0m94 0h0m12 5h0m62-7h0m32 4h0m-740 4h0m23 3h0m4 2h0m58 0h0m19-2h0m11-1h0m22 3h0m5-5h0m6 0h0m10 7h0m9 0h0m32-4h0m48 6h0m18-6h0m109 0h0m98 0h0m2-1h0m3 4h0m0 2h0m3-5h0m1-1h0m10 6h0m8 1h0m7-3h0m9-3h0m6-2h0m4 0h0m11 2h0m43-2h0m56-1h0m6 1h0m11 6h0m20 2h0m71-4h0m7-4h0m-767 10h0m14 5h0m42 3h0m38-7h0m5 1h0m23 0h0m21 2h0m1-4h0m17 2h0m3-2h0m3 8h0m2-4h0m10-3h0m67-2h0m10 4h0m188 4h0m18-4h0m33-4h0m18 9h0m13-8h0m6 1h0m4 7h0m4-8h0m14 8h0m4-4h0m1 0h0m16-2h0m6-2h0m5 0h0m69 3h0m18 0h0m20-1h0m4 4h0m6 0h0m23 2h0m4-1h0m20-7h0m23 5h0m-784 10h0m4-2h0m67 1h0m34-4h0m9 4h0m27 3h0m22-8h0m25 5h0m1-4h0m59 6h0m164-3h0m3-4h0m100 6h0m10-1h0m4 3h0m9-1h0m3 1h0m2 0h0m1-3h0m9-1h0m1 0h0m17 1h0m1 4h0m2-1h0m4-3h0m8 1h0m107-5h0m30 1h0m4 5h0m2-7h0m1 9h0m22-1h0m3-1h0m4 2h0m9 0h0m12-5h0m6 0h0m-726 8h0m90 7h0m278-7h0m76-2h0m3 6h0m7 3h0m9-3h0m6-2h0m3 4h0m3 0h0m25-5h0m6 3h0m12-2h0m177-4h0m4 3h0m16 3h0m11 1h0m-807 5h0m3 3h0m47 1h0m1-1h0m70-5h0m47 3h0m1-3h0m16 2h0m7-2h0m7 7h0m11-4h0m7 4h0m4-6h0m88 1h0m6 0h0m26 6h0m188-7h0m14 2h0m15-3h0m10 3h0m20 0h0m86 2h0m47 1h0m-718 6h0m15 2h0m8 0h0m6-3h0m25 7h0m14 1h0m17-7h0m7-1h0m6 2h0m66 0h0m34 3h0m15 3h0m48-1h0m19 1h0m9-4h0m64-4h0m26 0h0m167 1h0m38-2h0m-586 15h0m3-2h0m15 5h0m11-7h0m1 1h0m3 2h0m3 4h0m5-5h0m18-2h0m51 1h0m86 4h0m42-6h0m20 2h0m71 0h0m1-2h0m16 4h0m4-1h0m197 4h0m-552 12h0m14-6h0m0 2h0m3-5h0m2 7h0m6 1h0m2-1h0m9-1h0m5-6h0m13 6h0m1-1h0m1-2h0m7-1h0m14-1h0m22 6h0m16-3h0m8-3h0m2 2h0m6 6h0m13-5h0m18-1h0m44 4h0m10-4h0m16 3h0m1 2h0m3-2h0m20-5h0m0 6h0m-247 8h0m6-2h0m8-2h0m7 8h0m21 0h0m5-8h0m45 1h0m46 2h0m20 3h0m39-3h0m18-2h0m3 6h0m2-2h0m1-5h0m12 0h0m8 1h0m-238 9h0m10 3h0m6-2h0m8 0h0m10 6h0m6 0h0m1-6h0m22 1h0m6 1h0m25 5h0m42-3h0m8 1h0m15-2h0m3 0h0m25-2h0m17 2h0m23-4h0m-262 15h0m19 0h0m31 3h0m10-9h0m51 4h0m6-3h0m32 4h0m49 1h0m19-2h0m3-1h0m-39 9h0m-143 12h0" stroke="#e69a48" stroke-width="6.6"/>
<path d="M2130 339h0m9 4h0m3 0h0m1 4h0m-17 9h0m2-4h0m7 5h0m4-3h0m7 3h0m-21 12h0m10-8h0m3 8h0m7-5h0m-7 31h0m7 25h0m-252 19h0m16 0h0m89-7h0m11 7h0m187-3h0m44 1h0m5-1h0m-360 4h0m1 3h0m2 5h0m9-6h0m1-2h0m0 9h0m1-6h0m1 2h0m0 1h0m1-5h0m1 0h0m0 2h0m6 0h0m3 2h0m1 1h0m3-1h0m85-3h0m2 4h0m7 1h0m12-6h0m8-1h0m2 0h0m138 3h0m46-2h0m11 8h0m9-1h0m18-4h0m0 4h0m17-6h0m3 5h0m3 1h0m1-7h0m2 5h0m4 3h0m-385 4h0m18 6h0m63-2h0m4 1h0m13-8h0m2 0h0m3 3h0m2-1h0m0 1h0m4 6h0m3-7h0m7 4h0m3 0h0m4-4h0m1 3h0m176-3h0m15 4h0m1 0h0m26-4h0m-346 12h0m7 2h0m2 1h0m8-3h0m48 4h0m18-3h0m4 2h0m2 1h0m2-6h0m24 3h0m144-3h0m47 6h0m17-6h0m3 1h0m1 5h0m17-3h0m5 0h0m1 1h0m4-1h0m5-1h0m12-3h0m4-1h0m-370 12h0m10-2h0m35 4h0m6 1h0m8-1h0m3-2h0m10 1h0m4 3h0m8-1h0m2 0h0m1 1h0m4-1h0m8-5h0m0 6h0m7-3h0m3-2h0m94 4h0m10-5h0m27 2h0m4 4h0m27 3h0m14-3h0m3-6h0m2 4h0m32 3h0m20-4h0m1 4h0m11-6h0m15 3h0m4 1h0m-358 8h0m45 1h0m67 0h0m82 3h0m4-5h0m8 7h0m10-5h0m15 0h0m5 1h0m9 4h0m2-1h0m2-5h0m15-1h0m0 2h0m1-1h0m11-3h0m6 8h0m5-6h0m5 0h0m8-1h0m3 4h0m33-5h0m6 0h0m5 5h0m11-3h0m14 3h0m-377 14h0m6-6h0m6-2h0m1 2h0m4-3h0m1 6h0m16 2h0m13-6h0m52-2h0m5 7h0m1-4h0m13 5h0m5-2h0m81 2h0m25-7h0m6 5h0m1-3h0m12 2h0m3 0h0m13 0h0m0 2h0m7-7h0m3 4h0m5 5h0m6-8h0m33 3h0m12-3h0m4-1h0m2 5h0m1-4h0m36 4h0m15 3h0m4-7h0m-372 15h0m65-3h0m7 6h0m76-3h0m28 0h0m14-6h0m8 6h0m5-1h0m2 1h0m3-5h0m10 3h0m2 5h0m1-7h0m3 7h0m2-8h0m9 8h0m12-6h0m12 6h0m4-6h0m0 2h0m4 2h0m7-7h0m10 5h0m20-4h0m6 1h0m7 6h0m1 0h0m10-2h0m25-1h0m14-2h0m-375 9h0m13 0h0m0 4h0m4 0h0m54-3h0m14 3h0m10 0h0m45-5h0m69 5h0m32 2h0m10-6h0m2-1h0m24 4h0m17 0h0m0 2h0m4 2h0m1-1h0m7-4h0m10-3h0m17 5h0m7-1h0m12 3h0m5-3h0m1-5h0m5 1h0m3-1h0m5 1h0m11 8h0m2-6h0m13 2h0m-426 7h0m4 2h0m1-2h0m6 4h0m19-2h0m0 2h0m27-2h0m47-1h0m25 4h0m14-7h0m12 4h0m3 0h0m4 4h0m51-1h0m1-6h0m4 5h0m22 3h0m3-7h0m12 4h0m1-6h0m4 1h0m3 8h0m3-3h0m2-1h0m1 0h0m1-5h0m0 9h0m5-3h0m2-4h0m4 7h0m1-6h0m7 4h0m4-3h0m21-1h0m15 3h0m11 0h0m3-4h0m3-1h0m18-1h0m1 2h0m2 4h0m3 0h0m10 2h0m2-4h0m6-3h0m0 4h0m2-5h0m10 8h0m-419 3h0m23 2h0m3 0h0m14-3h0m1 3h0m6 6h0m2-4h0m7 4h0m7-1h0m6-6h0m1 5h0m38-5h0m67 7h0m16-5h0m12 3h0m16-3h0m15 5h0m12-9h0m1 9h0m3-9h0m14 1h0m7 3h0m5 2h0m4-5h0m66 4h0m21 4h0m6-9h0m10 4h0m25-3h0m1 6h0m2-6h0m6 5h0m4 1h0m13-4h0m-434 8h0m0 2h0m2 4h0m13-6h0m10 1h0m4 7h0m4-3h0m0 1h0m1 1h0m10-2h0m2-5h0m3 8h0m8 0h0m3-9h0m6 2h0m0 7h0m2-4h0m2-2h0m3 4h0m12-3h0m2 3h0m9-3h0m63 0h0m16-2h0m0 1h0m6-2h0m2 1h0m10 7h0m13-3h0m10-2h0m0 5h0m4-4h0m9 4h0m11 0h0m8-5h0m2-1h0m7 1h0m13-3h0m4 0h0m22 3h0m7-4h0m5 9h0m7-9h0m6 2h0m6 5h0m5-7h0m2 7h0m16-2h0m9 1h0m1-5h0m7 4h0m9-3h0m1-2h0m1 1h0m16 1h0m2-2h0m4 7h0m2 1h0m8 1h0m6-9h0m1 3h0m6-3h0m1 8h0m1-4h0m1-3h0m0 6h0m2 1h0m5-3h0m5-5h0m2 1h0m1 0h0m0 8h0m-451 3h0m11 6h0m3-2h0m1-2h0m24-3h0m4 2h0m4 5h0m1-2h0m4-5h0m0 5h0m9-3h0m1 1h0m0 2h0m7-2h0m33 3h0m27-5h0m61-2h0m5 7h0m4-2h0m2 1h0m4 1h0m19-2h0m10 3h0m39-7h0m5 8h0m8-3h0m24 3h0m18 0h0m21-6h0m17 1h0m13 1h0m1 0h0m15 1h0m3-3h0m1 5h0m14-3h0m4-2h0m2 5h0m2-7h0m4 0h0m2 7h0m4-6h0m2 2h0m2 2h0m3 2h0m5-4h0m10-4h0m2 2h0m2 0h0m-467 12h0m7 5h0m2-7h0m6 1h0m2 6h0m1-7h0m0 5h0m2-3h0m5-4h0m0 1h0m0 7h0m17 1h0m1-9h0m1 2h0m1 6h0m5-8h0m2 1h0m1 6h0m8-2h0m8-3h0m1 2h0m1 1h0m1-5h0m7 4h0m5 5h0m14-3h0m39-3h0m84 6h0m2-1h0m2-7h0m0 3h0m5-3h0m15 0h0m30 1h0m0 7h0m2-6h0m8-3h0m1 9h0m17-5h0m74-1h0m24 0h0m16 0h0m2-3h0m1 0h0m3 1h0m15 5h0m5 1h0m4-7h0m9 1h0m1-1h0m1 1h0m0 3h0m1 5h0m13-8h0m-479 12h0m19-2h0m3-1h0m1 7h0m4-5h0m0 4h0m32-4h0m9 1h0m12 4h0m14-3h0m7 4h0m5 1h0m78-5h0m33 5h0m2-5h0m3-3h0m7 0h0m13 6h0m4 2h0m4 0h0m1-3h0m3-4h0m4 3h0m19 2h0m22 2h0m5-7h0m27-1h0m0 2h0m13-3h0m5 0h0m8 2h0m46 7h0m5-7h0m1 3h0m17-5h0m0 4h0m18-4h0m7 4h0m7 5h0m8-7h0m12 5h0m6-1h0m-467 12h0m1-1h0m48 1h0m54-2h0m120-5h0m57 1h0m20-2h0m13 3h0m12 2h0m5 0h0m7 1h0m20 3h0m10 0h0m17-9h0m28 6h0m15 1h0m10 0h0m11-6h0m23 5h0m7-4h0m-375 10h0m10 0h0m8 6h0m137 0h0m79-1h0m1-7h0m0 9h0m5-3h0m0 2h0m8-7h0m86 7h0m22 1h0m-441 6h0m10-4h0m4 8h0m7-1h0m79-7h0m3 6h0m2 0h0m8 0h0m32-2h0m26-2h0m79 3h0m15 0h0m10-5h0m3 4h0m1-3h0m0 1h0m25 4h0m17-1h0m1 0h0m5-6h0m132 5h0m4-4h0m0 6h0m-464 7h0m16 2h0m89-5h0m103 4h0m4-2h0m38-3h0m40 7h0m28-7h0m3 7h0m13-1h0m5-3h0m8-1h0m20 6h0m-360 10h0m37-2h0m4 1h0m27 1h0m193-3h0m31 0h0m10-1h0m9 3h0m14-2h0m1 3h0m37-6h0m96 0h0m17 6h0m14 0h0m-398 4h0m26 5h0m175-2h0m7-3h0m42-2h0m111 4h0m7 0h0m23-3h0m1 6h0m-413 5h0m11 1h0m6 6h0m12-1h0m3-4h0m16-4h0m367 9h0m-403 4h0m26-2h0m3 0h0m6 2h0m124-2h0m60 6h0m183-6h0m21 6h0m45-1h0m12-4h0m-469 17h0m6-2h0m1-5h0m1 4h0m3 3h0m25-4h0m1-4h0m48 5h0m163-6h0m157 5h0m4 1h0m-424 12h0m17 0h0m3-1h0m2-4h0m4 5h0m413 1h0m-442 9h0m13-7h0m2 2h0m1-1h0m1 6h0m5-7h0m217 8h0m-253 5h0m3-4h0m14 2h0m5 3h0m1-4h0m4 0h0m3 5h0m7 3h0m8-2h0m44-1h0m133-6h0m69 8h0m163-8h0m-458 17h0m17-5h0m2 4h0m4 2h0m7-3h0m438 0h0m0 4h0m3-2h0m7-6h0m5 6h0m-486 12h0m7-5h0m5-3h0m4 1h0m1 1h0m8-2h0m6 2h0m442-2h0m-471 9h0m20 2h0m6 1h0m52 4h0m3 1h0m408-6h0m-479 9h0m2 5h0m3-3h0m4 2h0m8-1h0m4 0h0m49-1h0m1 1h0m11 3h0m362-6h0m14 5h0m15-6h0m-480 11h0m9 7h0m8 1h0m3 0h0m9 0h0m1-6h0m44 0h0m16-2h0m36 4h0m0 1h0m344-3h0m13 6h0m8-7h0m19 7h0m-517 3h0m18 7h0m14-4h0m1 0h0m6-4h0m30 4h0m13 2h0m15-1h0m0 3h0m211-6h0m106-3h0m23 9h0m-444 6h0m14 4h0m5-6h0m1-2h0m17 0h0m62 1h0m9 2h0m3 0h0m4 1h0m0 2h0m198-1h0m179 3h0m22-2h0m11-6h0m-517 11h0m4 6h0m13 1h0m3-1h0m23-8h0m13 5h0m16 2h0m1 2h0m4-1h0m11-8h0m2 4h0m2 4h0m2-8h0m5 8h0m5-8h0m2 5h0m3 0h0m3 4h0m10-9h0m2 8h0m1 0h0m2-3h0m5 4h0m381-8h0m-448 13h0m15-2h0m1-1h0m3 7h0m6-4h0m6-3h0m1-1h0m2 0h0m1 5h0m5-3h0m1 3h0m4 2h0m3 0h0m3-3h0m0 4h0m2 0h0m4 1h0m4-5h0m18-2h0m86 6h0m2-4h0m245 1h0m12 0h0m-548 7h0m32 7h0m5-5h0m4 3h0m9 0h0m5 2h0m3-4h0m5-2h0m1-1h0m18 1h0m9-3h0m8 7h0m23-2h0m7-2h0m4-3h0m11 5h0m0 4h0m9-6h0m4-3h0m0 7h0m8-1h0m0 3h0m1-4h0m3-5h0m2 6h0m3-6h0m5 2h0m1 7h0m3-2h0m1-5h0m247 7h0m-461 3h0m26-2h0m15 1h0m21 4h0m7-3h0m16-1h0m14 6h0m9-7h0m2 3h0m24 0h0m5 5h0m2-5h0m0 5h0m12-6h0m18 0h0m13 3h0m4-1h0m20 3h0m4-1h0m2-5h0m6 0h0m0 6h0m2 0h0m1-7h0m5 8h0m85-2h0m106-5h0m115 7h0m-535 4h0m7-1h0m9 3h0m1-1h0m16-1h0m3 1h0m16 6h0m18-7h0m29 1h0m15-2h0m2 8h0m10 0h0m7 0h0m5-7h0m29 7h0m3-9h0m0 3h0m7 3h0m4 1h0m5-5h0m7 5h0m4-4h0m5 5h0m1-6h0m6 7h0m11-1h0m2-4h0m2 4h0m3-5h0m2-1h0m6 6h0m7-6h0m0 1h0m201 3h0m119 1h0m57-2h0m-629 9h0m2 1h0m5 2h0m2-7h0m10 8h0m35-5h0m13 0h0m12-3h0m14 2h0m1 2h0m11 1h0m20-4h0m1 5h0m5 0h0m0 1h0m4-3h0m8-4h0m2 5h0m9-3h0m0 7h0m8-5h0m1 1h0m9-2h0m28 2h0m10-4h0m4 4h0m13 4h0m3 0h0m14-7h0m4 1h0m5 1h0m5-3h0m45 1h0m137 1h0m38 6h0m46-1h0m-511 8h0m0 3h0m5-3h0m12-6h0m30 3h0m6-2h0m4 5h0m5 0h0m9 3h0m2-9h0m8 5h0m2-4h0m4 3h0m3 4h0m10-7h0m12 8h0m14-9h0m1 8h0m3 1h0m4-4h0m5 0h0m6-4h0m8 4h0m17 3h0m5-3h0m57-2h0m6 0h0m1-2h0m264 5h0m70 2h0m-554 6h0m37 4h0m40 1h0m7-4h0m0 2h0m17 0h0m9 0h0m8-7h0m5 4h0m5 0h0m29 1h0m3 3h0m9-6h0m26 2h0m5-3h0m6 2h0m7 2h0m6-4h0m8 4h0m4-5h0m4 9h0m1-7h0m3 1h0m223 1h0m19-4h0m-516 10h0m24 2h0m4-1h0m4 8h0m49-7h0m10 3h0m40 0h0m2-2h0m8-1h0m12 6h0m0 1h0m3-8h0m10 1h0m12 3h0m4 0h0m2 4h0m5-7h0m7 3h0m7-3h0m36 0h0m5 2h0m3-1h0m2 5h0m9-1h0m6-2h0m4-2h0m2 6h0m16-8h0m200 5h0m-473 7h0m9 6h0m7 0h0m4 0h0m7-4h0m10-5h0m0 6h0m1 0h0m10-2h0m15-3h0m1 2h0m17-1h0m14 4h0m15-3h0m2 6h0m6 0h0m1-6h0m2 2h0m6-3h0m9 3h0m0 3h0m10-4h0m2 3h0m3 0h0m6-3h0m20 3h0m7-7h0m0 4h0m2 5h0m4-5h0m6-2h0m19 7h0m10-9h0m4 9h0m2-6h0m6 1h0m4-2h0m9 3h0m1 3h0m8-2h0m4-5h0m8-1h0m-279 18h0m6-8h0m0 6h0m6-3h0m49 5h0m17-1h0m23-2h0m5 4h0m3-3h0m9-4h0m6 2h0m11 5h0m4-3h0m4-6h0m4 8h0m2-6h0m7 4h0m15-2h0m17 3h0m2 1h0m1 1h0m18-3h0m28-6h0m13 7h0m3-5h0m0 1h0m1 5h0m1-5h0m18 1h0m5-4h0m243 9h0m168-2h0m-681 12h0m14-8h0m3 1h0m2 0h0m3 7h0m12-1h0m1-6h0m24 3h0m21-2h0m16 5h0m8-6h0m25 6h0m4-5h0m13-1h0m3 7h0m2-7h0m2-1h0m9 8h0m1-2h0m1-3h0m54 0h0m30 1h0m248-3h0m7 1h0m10 1h0m-511 7h0m25-1h0m11 0h0m3 4h0m29-4h0m6 9h0m4-8h0m7 1h0m3 7h0m6-5h0m7-3h0m6 2h0m9-2h0m3 5h0m2-2h0m0 2h0m9 1h0m19-3h0m2 2h0m2 0h0m0 3h0m5-8h0m1 6h0m10-3h0m1-4h0m5 4h0m14 0h0m26-4h0m15 4h0m3-1h0m0 2h0m39-3h0m423 1h0m-707 9h0m24 3h0m17 0h0m5 3h0m24-8h0m22 9h0m5-3h0m4-6h0m5 9h0m7 0h0m8-6h0m3 4h0m10 2h0m1 0h0m3-3h0m2-6h0m9 3h0m4-3h0m0 1h0m12 0h0m0 3h0m7-1h0m9 4h0m15 2h0m7-7h0m2 7h0m9-7h0m16 6h0m6-1h0m37-3h0m6 5h0m9 0h0m220-1h0m-501 3h0m9 7h0m11-5h0m55 0h0m2-2h0m4 0h0m0 3h0m8 4h0m15 0h0m5-8h0m0 4h0m4 2h0m4-6h0m4 8h0m1-2h0m2-1h0m9-5h0m4 4h0m0 2h0m0 2h0m7-8h0m0 7h0m2-3h0m1-1h0m5 4h0m2 0h0m8-6h0m21 6h0m10-3h0m2-2h0m0 5h0m5 2h0m8-3h0m46-2h0m24 3h0m301 1h0m78-2h0m-662 13h0m24-1h0m6-8h0m51 4h0m10-3h0m14 5h0m16-3h0m6 3h0m9-3h0m13-1h0m3 7h0m9-7h0m1 5h0m1 2h0m1 0h0m11-7h0m3 3h0m4 1h0m4-4h0m22 6h0m8 1h0m13-6h0m7 5h0m8-4h0m8 1h0m288 1h0m-523 12h0m48-6h0m43 0h0m5 5h0m5-1h0m5 0h0m11-1h0m7 3h0m3-3h0m1 1h0m4 2h0m10-6h0m2 5h0m2 1h0m4-5h0m8-2h0m11 2h0m7 4h0m8-4h0m5 4h0m20-3h0m18 3h0m10-6h0m8 8h0m3-5h0m16 4h0m189-4h0m14 0h0m41 2h0m17-4h0m95-1h0m-634 13h0m19-1h0m7-1h0m0 7h0m1-3h0m8 0h0m44-1h0m2-4h0m40 1h0m8 0h0m2 6h0m6 1h0m1-4h0m10-2h0m13 5h0m11 0h0m2-3h0m5 0h0m1-1h0m13-3h0m3 8h0m7-4h0m5-3h0m16-1h0m397-1h0m-635 18h0m8-6h0m11-2h0m1 4h0m12-1h0m16 2h0m3 2h0m25-3h0m37-2h0m0 7h0m7-1h0m5 1h0m8-2h0m1-1h0m6 3h0m7-7h0m0 4h0m0 1h0m4-1h0m0 1h0m22-2h0m15 0h0m2 3h0m5-3h0m10 0h0m9 2h0m7 0h0m24-2h0m27 1h0m29-5h0m193 0h0m56 3h0m173-2h0m-700 13h0m3 3h0m13-5h0m9 5h0m8 0h0m8-2h0m23-5h0m13 1h0m5-1h0m2 7h0m1-6h0m11 7h0m21 0h0m15-1h0m18-1h0m6-5h0m8 3h0m12-5h0m8 7h0m5-3h0m0 4h0m11 1h0m8-9h0m2 2h0m1 0h0m17 4h0m6 1h0m47 0h0m26-2h0m192 2h0m14-5h0m4 7h0m13-8h0m113 7h0m30-6h0m71 3h0m-765 8h0m46-2h0m6 0h0m2 5h0m0 1h0m47-7h0m10 3h0m1 3h0m13 2h0m34-5h0m2 4h0m3-3h0m6 2h0m12-2h0m8-4h0m6 4h0m2 2h0m13 1h0m38-6h0m19 6h0m162-1h0m105-3h0m0 6h0m2-8h0m5 3h0m1 2h0m22 1h0m8 1h0m1-6h0m172 7h0m-748 3h0m32 2h0m6-3h0m2 6h0m5-5h0m3 5h0m4 2h0m50 0h0m1-6h0m6 1h0m2 1h0m6 0h0m5 4h0m6-2h0m6 2h0m8-9h0m14 2h0m15 2h0m3 0h0m5 3h0m1-7h0m0 4h0m2-2h0m10 7h0m14-3h0m82 2h0m6-2h0m3-5h0m190 6h0m14-4h0m6 5h0m27-3h0m6-4h0m52 0h0m6 0h0m115 1h0m-725 17h0m8-2h0m61-3h0m58-3h0m4 2h0m0 4h0m4 0h0m12-1h0m4-2h0m8-2h0m3-2h0m22 2h0m9 1h0m66-3h0m11 3h0m246 0h0m51 6h0m2-4h0m10 2h0m199-6h0m7 4h0m-785 12h0m3-3h0m70 4h0m37-1h0m27-2h0m70 1h0m37-4h0m16 3h0m34 1h0m221-5h0m2-1h0m34 4h0m-548 15h0m8 0h0m8-7h0m5-1h0m0 2h0m10 5h0m1-1h0m4-4h0m1 1h0m6 2h0m2-3h0m18 5h0m2-1h0m56 1h0m8-1h0m5-3h0m5 1h0m6-4h0m33 0h0m4 4h0m44-1h0m63 4h0m7-4h0m-316 10h0m14 5h0m2-2h0m7-2h0m3 3h0m1-8h0m5 9h0m1-2h0m8-2h0m4-2h0m0 3h0m11-4h0m0 2h0m2 5h0m6-1h0m1-3h0m1 1h0m10 2h0m5-4h0m8 1h0m1-4h0m25 7h0m1-2h0m18-1h0m15-1h0m1 2h0m19-5h0m21 1h0m22 2h0m33 0h0m0 2h0m5 0h0m2 3h0m36-6h0m92-1h0m-377 10h0m1 5h0m5-2h0m3 0h0m3 2h0m9-4h0m3-2h0m3 0h0m4 6h0m7 1h0m2-5h0m8-3h0m1 2h0m1-1h0m1 5h0m8 2h0m1-6h0m3-1h0m13 4h0m17-2h0m9 3h0m4-2h0m6-3h0m18 7h0m7-3h0m7 2h0m7 2h0m14-5h0m8 5h0m6-5h0m5 4h0m23-8h0m-207 19h0m3-2h0m8-6h0m4 3h0m2 4h0m4-8h0m4 3h0m5 4h0m2-7h0m18 7h0m4 1h0m3-8h0m19 1h0m44 4h0m3 3h0m21-1h0m22 1h0m12-6h0m27 7h0m16-1h0m-226 2h0m14 8h0m1-8h0m0 1h0m2 8h0m4-7h0m3 1h0m14-2h0m2 3h0m4 4h0m6-8h0m36 1h0m22 6h0m24-3h0m90 2h0m6-3h0m12 6h0m-234 8h0m18-1h0m6 0h0m0 1h0m1 0h0m3-1h0m4 2h0m5-1h0m4-5h0m2-2h0m16 5h0m9-5h0m2 3h0m13 0h0m5 5h0m2-8h0m20 4h0m23-3h0m6 2h0m-103 9h0" stroke="#ec8844" stroke-width="7"/>
<path d="M2125 347h0m19-7h0m-17 11h0m8 7h0m6-7h0m3 13h0m-24 6h0m-250 55h0m126 4h0m149-4h0m-162 14h0m3 0h0m44-4h0m211 1h0m2 1h0m6-4h0m-353 15h0m6 1h0m2-9h0m16 0h0m76 7h0m5-3h0m9 3h0m8 0h0m1-3h0m11-3h0m200 2h0m2 0h0m7 6h0m3-4h0m-363 9h0m17 1h0m24 1h0m73 0h0m12-5h0m38 4h0m143-2h0m34-2h0m22 1h0m4 6h0m14-3h0m17 4h0m10-8h0m8-1h0m-291 13h0m222-1h0m17 6h0m7-8h0m20 3h0m14 0h0m9 6h0m-339 3h0m16 7h0m2-8h0m10 4h0m11 4h0m6-3h0m2 1h0m11-6h0m14 0h0m76 5h0m41-4h0m54 7h0m3-3h0m22 3h0m11-9h0m2 0h0m19 8h0m9-1h0m24-6h0m1 0h0m-292 12h0m132 3h0m8-5h0m6 3h0m2-1h0m0 5h0m3 0h0m2-2h0m84 2h0m-310 10h0m1-3h0m3-4h0m81 6h0m32-1h0m12 2h0m82-4h0m15-1h0m14 3h0m7-1h0m2-3h0m6 4h0m7-4h0m16 0h0m8 4h0m56-3h0m23-2h0m6 3h0m3-2h0m-311 12h0m6-4h0m32 0h0m8 6h0m17 1h0m8 2h0m19-1h0m49-6h0m19 1h0m5 5h0m24-4h0m44 4h0m53-3h0m13 1h0m1-6h0m2 0h0m1 2h0m-357 12h0m10 3h0m4-2h0m11-1h0m49 1h0m14-1h0m12-2h0m97 4h0m25 1h0m12-1h0m12-5h0m0 7h0m75-5h0m5-2h0m2 5h0m1-6h0m35 2h0m19 5h0m-384 4h0m3 2h0m2 4h0m2-2h0m14-3h0m13-2h0m4 3h0m63 0h0m21 4h0m8 1h0m8-7h0m53 2h0m90 6h0m34-9h0m11 3h0m14-1h0m16-2h0m13 4h0m20 5h0m-429 10h0m18-5h0m11-2h0m5 2h0m15 2h0m0 2h0m4-2h0m7-1h0m8-4h0m7-1h0m23 2h0m37 4h0m3-6h0m12 3h0m16 2h0m0 2h0m10 1h0m2-6h0m0 7h0m8-2h0m12 1h0m67 1h0m4-8h0m7 2h0m17 1h0m4-1h0m12 3h0m6 2h0m9-3h0m5 3h0m47-1h0m12-4h0m22 5h0m-395 8h0m3-6h0m5 1h0m2 5h0m2 2h0m12 0h0m3 1h0m4-3h0m112 0h0m16 3h0m16-9h0m75 0h0m5 0h0m3 7h0m6-4h0m29 3h0m46 1h0m4-3h0m15 5h0m69-1h0m-471 10h0m7 0h0m4-6h0m13-1h0m46-1h0m4 5h0m0 4h0m7-7h0m18 3h0m65 4h0m55-3h0m2 2h0m12-3h0m11-2h0m30 2h0m42 0h0m1-5h0m0 5h0m4-4h0m23 2h0m15-3h0m21 1h0m27 1h0m8 0h0m5 5h0m2-4h0m9 1h0m2-1h0m7 6h0m29-4h0m1-2h0m-478 16h0m32-2h0m3-6h0m52 6h0m125-3h0m18-4h0m4 6h0m5-2h0m0 5h0m2-7h0m7 7h0m41-3h0m44 3h0m70-1h0m46-8h0m17 5h0m17-2h0m2-3h0m-472 18h0m17-5h0m41 2h0m6 0h0m152-5h0m1 1h0m5-1h0m6 6h0m1 1h0m53-7h0m40 9h0m33-4h0m7-4h0m6 1h0m32 2h0m10-3h0m5 2h0m53 3h0m-470 4h0m92 2h0m132 3h0m64 2h0m40-6h0m47 0h0m24 5h0m5 1h0m2 0h0m42-7h0m-436 11h0m3 1h0m81-1h0m22 5h0m8 3h0m90-9h0m103 8h0m16 0h0m5-6h0m18 0h0m23 6h0m22-3h0m-222 8h0m26 5h0m125-4h0m11-1h0m66 1h0m-249 13h0m129 1h0m54-8h0m6 1h0m32 0h0m14-1h0m-94 12h0m6 0h0m2-2h0m7 1h0m20 8h0m3-9h0m5 7h0m147-4h0m22 1h0m-411 12h0m47 1h0m76-3h0m121 4h0m70-2h0m-304 12h0m7-1h0m17 0h0m176-5h0m-191 13h0m4-4h0m14 6h0m2-4h0m5-2h0m209 2h0m30 1h0m128-3h0m-385 16h0m14-7h0m4 2h0m277 1h0m114 2h0m-414 11h0m6 0h0m-39 9h0m12 4h0m9-6h0m11-2h0m9 3h0m19-1h0m398 0h0m-442 10h0m16 3h0m17-6h0m157 3h0m-196 13h0m10 0h0m4-2h0m3-1h0m3 2h0m13 1h0m131 0h0m192 0h0m-360 6h0m0 3h0m0 4h0m2-8h0m3 6h0m4 0h0m4-7h0m15 7h0m-34 9h0m3 1h0m2 1h0m5 0h0m1-8h0m2 2h0m2 0h0m2 4h0m3-2h0m-18 10h0m0 4h0m8-7h0m3 8h0m3-8h0m2-1h0m34 8h0m4 0h0m15-7h0m0 5h0m-77 12h0m14-8h0m2 7h0m5-1h0m5-6h0m2 2h0m44 5h0m10-7h0m0 1h0m12 1h0m1 3h0m370-1h0m-470 6h0m3 0h0m27 5h0m41-4h0m23 3h0m2-1h0m1-3h0m-92 11h0m1 2h0m1 4h0m7-6h0m0 1h0m2-2h0m1 7h0m29-1h0m41-1h0m63-2h0m-150 11h0m11 5h0m2-5h0m4-4h0m1 9h0m41-2h0m3-2h0m8 4h0m5-5h0m10 4h0m1-2h0m1-4h0m3-2h0m0 1h0m4 4h0m2 2h0m3-3h0m1-4h0m4 7h0m2-2h0m2-2h0m40 6h0m-196 2h0m61 2h0m22-2h0m2 2h0m2 2h0m19-4h0m16 2h0m1 3h0m7-5h0m3 2h0m2 1h0m2 3h0m5 1h0m5-6h0m1-2h0m7 1h0m7 5h0m0 2h0m5-7h0m1 1h0m1 0h0m11 5h0m104-7h0m205 3h0m-543 16h0m28-6h0m22 2h0m25-4h0m8 5h0m7-4h0m14 2h0m2 3h0m1-6h0m32 2h0m4 3h0m7 2h0m12-8h0m6 9h0m9-5h0m4 1h0m5 4h0m4-7h0m7 2h0m1 1h0m0 3h0m2-1h0m2-2h0m0 2h0m1-6h0m4 4h0m4 0h0m4 1h0m-226 12h0m32-5h0m8-1h0m43 7h0m14-7h0m38-2h0m12 4h0m10 5h0m11-6h0m2-2h0m1-1h0m16 3h0m3 2h0m6-2h0m2 1h0m0 3h0m0 2h0m10-3h0m5-1h0m8 3h0m19 1h0m96-3h0m-310 9h0m3 2h0m16-7h0m15 0h0m7 2h0m17 0h0m0 6h0m4-5h0m18-2h0m20 8h0m3-3h0m4 3h0m2-2h0m17-4h0m4 6h0m22-2h0m3-4h0m11-2h0m18 3h0m13-2h0m21 6h0m20-2h0m159-5h0m-401 17h0m1-6h0m2-1h0m2 8h0m2-9h0m0 4h0m4 0h0m4-4h0m12 9h0m4-9h0m36 2h0m4 1h0m16-2h0m46 8h0m3-6h0m11 5h0m1-8h0m7 4h0m24-3h0m42 4h0m0 1h0m1-3h0m21-3h0m6 8h0m5-6h0m-242 12h0m60-2h0m4 2h0m15-3h0m2 0h0m12 3h0m12 1h0m8 0h0m2 0h0m8 0h0m1 1h0m3-2h0m56 4h0m10-4h0m3 4h0m3 0h0m7 0h0m1-7h0m12 5h0m4-6h0m59 1h0m4 0h0m-292 15h0m1 3h0m6-5h0m6-1h0m21 5h0m40 1h0m19-6h0m3 5h0m1-6h0m3 1h0m28-3h0m20 9h0m13-1h0m10 1h0m30-8h0m16 2h0m1 1h0m5 2h0m8-4h0m2-2h0m5 4h0m17 4h0m241-1h0m34 2h0m-527 7h0m0 2h0m15-1h0m38-1h0m20-4h0m12 4h0m0 1h0m3-5h0m2 2h0m6 5h0m10-9h0m14 9h0m6 0h0m2-8h0m34 7h0m13-4h0m4 2h0m22 0h0m10 2h0m6-1h0m7 2h0m5-8h0m5 8h0m3-7h0m11 5h0m1 0h0m0 2h0m-265 3h0m5 7h0m35-2h0m20-4h0m12 0h0m18 3h0m4 1h0m30-4h0m0 3h0m4-5h0m18 2h0m1 3h0m0 1h0m0 2h0m13-1h0m10-8h0m10 8h0m10-6h0m10-2h0m3 0h0m25 4h0m7 4h0m8 1h0m1-7h0m40-1h0m242 8h0m37-8h0m-555 14h0m26-2h0m21 4h0m13-7h0m35 2h0m2 6h0m2-5h0m14 6h0m12-9h0m2 3h0m5 0h0m11 1h0m2-4h0m19 8h0m2-3h0m4-2h0m2-2h0m11 5h0m21-2h0m8 4h0m1-7h0m1 6h0m5-6h0m21 7h0m3-1h0m9 1h0m-243 4h0m8 1h0m39-3h0m31 8h0m9-2h0m12 1h0m9-5h0m1 5h0m8-7h0m2 4h0m4 0h0m2-1h0m4-1h0m1 1h0m1-1h0m5 4h0m11-5h0m0 2h0m4 0h0m6 5h0m4-1h0m31-5h0m3 2h0m14 1h0m24 0h0m19-1h0m1 5h0m-245 6h0m3 2h0m35-7h0m8 4h0m41 4h0m6 0h0m12-3h0m13-2h0m6 2h0m16-5h0m4 5h0m8 2h0m4-4h0m34 1h0m6 4h0m9-3h0m38 4h0m5-1h0m0 1h0m-257 3h0m11 3h0m6 4h0m21-5h0m31 3h0m10 2h0m7-1h0m6-4h0m5 1h0m7 3h0m28-7h0m1 8h0m2-5h0m13-1h0m1-2h0m11 7h0m7-2h0m22-5h0m0 6h0m1 1h0m3-5h0m12 5h0m28 0h0m20-3h0m257-5h0m-483 12h0m55 6h0m35-5h0m1-3h0m20 0h0m5 5h0m2 3h0m10-4h0m3-4h0m1 2h0m1-1h0m16 5h0m6-4h0m1 2h0m10 4h0m36-6h0m283 0h0m-474 8h0m29 3h0m2 3h0m2-2h0m35 3h0m11-1h0m10-6h0m9 4h0m6 5h0m5-4h0m6-1h0m93-4h0m13 8h0m-260 9h0m12-1h0m11-6h0m40 9h0m13-9h0m23 4h0m12 3h0m9 1h0m3 0h0m5-5h0m16 0h0m1-1h0m1 3h0m14 1h0m43 3h0m-127 3h0m7 1h0m0 6h0m33-7h0m11-1h0m7-1h0m3 7h0m13 2h0m23-4h0m51-2h0m0 4h0m-246 8h0m18 2h0m12-5h0m16 3h0m22 4h0m2-4h0m25 3h0m1-3h0m6 4h0m17-6h0m27 4h0m38-7h0m4 0h0m8 5h0m6 1h0m2 0h0m1-5h0m1 4h0m16 3h0m30-7h0m22 1h0m211 1h0m-479 14h0m33-4h0m15-3h0m8 3h0m52 5h0m3-6h0m30 6h0m2-8h0m4 0h0m2 2h0m1 1h0m10-3h0m12 8h0m13-2h0m23-3h0m6 6h0m1 0h0m81-9h0m373 9h0m-648 3h0m17 3h0m77-5h0m0 9h0m8-6h0m43-3h0m6 7h0m9 1h0m9-1h0m22-7h0m1 0h0m65 3h0m6-1h0m0 6h0m218-3h0m-510 6h0m27 4h0m12 4h0m20-3h0m7-4h0m3-1h0m50 5h0m0 3h0m8-5h0m1 1h0m4 2h0m5-6h0m10 0h0m6-1h0m15 2h0m2-2h0m9 2h0m105-1h0m2 0h0m283 1h0m194 6h0m-759 2h0m46 6h0m67-3h0m3 2h0m8-3h0m1 2h0m29 0h0m5-3h0m8 6h0m108-6h0m7 7h0m5-8h0m229 5h0m257-3h0m-774 13h0m1 0h0m0 2h0m6 2h0m10-2h0m26 0h0m9 2h0m50 0h0m21-5h0m3-1h0m16-1h0m16-1h0m1-1h0m3 0h0m5 7h0m4-6h0m0 3h0m105 3h0m280-4h0m-578 8h0m5 3h0m2 5h0m3-9h0m0 7h0m1-5h0m6 5h0m13-5h0m2 2h0m2 1h0m23 0h0m8 1h0m9 2h0m185-4h0m31-2h0m8 0h0m-289 11h0m5 0h0m4-3h0m5 0h0m12 6h0m12-5h0m4-1h0m10 1h0m14 6h0m98 2h0m3-2h0m17 0h0m12-5h0m34 6h0m7-2h0m20-6h0m-275 17h0m18 1h0m8-1h0m10-6h0m4 0h0m6 6h0m1 2h0m5-3h0m4-6h0m22 8h0m3-4h0m14-3h0m21 8h0m48-2h0m24-7h0m0 1h0m3 7h0m9-5h0m4 2h0m5 2h0m0 1h0m35-6h0m21 1h0m10 1h0m3-2h0m-280 16h0m13-3h0m7-4h0m15 1h0m2 5h0m12 0h0m1 1h0m2-6h0m3 3h0m1-3h0m0 5h0m9 1h0m25-2h0m31 1h0m15 0h0m30-3h0m62-4h0m26 9h0m-244 10h0m2 0h0m5 0h0m10-1h0m1-3h0m24-4h0m6 5h0m5-2h0m4-1h0m10-1h0m7 2h0m17-3h0m3 0h0m11 7h0m22 0h0m4-4h0m7 1h0m12-3h0m9-2h0m0 1h0m38 3h0m17-2h0m-204 16h0m8-4h0m23 1h0m61-5h0m-91 10h0m98 1h0m-96 11h0" stroke="#f0743f" stroke-width="7.4"/>
<path d="M2133 336h0m-1 54h0m-114 43h0m209 0h0m-319 15h0m353-3h0m-348 8h0m119 4h0m-112 11h0m90-8h0m-117 14h0m21-2h0m5 5h0m350-4h0m-340 13h0m111 0h0m121 10h0m22 0h0m42-2h0m-203 14h0m96-4h0m34 5h0m5-7h0m34 6h0m-266 5h0m324 5h0m-350 3h0m146-1h0m19 0h0m23 6h0m157 1h0m42-1h0m31 1h0m-421 12h0m6-3h0m135-5h0m24 4h0m29 4h0m182-6h0m-211 9h0m28 6h0m200-8h0m-412 19h0m36-1h0m153-2h0m18 2h0m72-1h0m-286 6h0m6 2h0m3 1h0m27 3h0m26 0h0m138-7h0m44 6h0m37-1h0m31-4h0m-213 8h0m310 6h0m-211 4h0m134 0h0m85-1h0m-288 27h0m170-5h0m-19 12h0m18-1h0m189 12h0m-353 14h0m88-6h0m69 2h0m42 3h0m-203 17h0m4-2h0m0 3h0m-25 12h0m13-2h0m3-3h0m-20 36h0m-16 6h0m0 2h0m26-1h0m13-6h0m28 18h0m-79 7h0m7-4h0m4 7h0m7-3h0m50 0h0m-59 7h0m4 7h0m2-4h0m4-3h0m12 0h0m29 6h0m26-6h0m0 4h0m-88 7h0m7 2h0m2 2h0m9 0h0m87 12h0m13-1h0m-131 11h0m16-3h0m0 2h0m3-1h0m6-4h0m2 0h0m1 6h0m73-1h0m12 1h0m2-2h0m-101 5h0m2-2h0m0 7h0m5-7h0m19 9h0m58-6h0m15-2h0m6 6h0m10 0h0m1-7h0m-138 14h0m18 3h0m3 2h0m8-5h0m74 3h0m0 1h0m5-2h0m11 0h0m11 1h0m3-6h0m3 6h0m5-7h0m0 6h0m15-5h0m94-1h0m-302 15h0m31 2h0m51-4h0m2 3h0m57 2h0m5-1h0m14-5h0m0 4h0m1 1h0m5-4h0m13 1h0m22 3h0m-154 3h0m1 9h0m26-9h0m12 9h0m19-8h0m57-1h0m24 3h0m3 1h0m4 0h0m4-3h0m-169 10h0m99 6h0m27-6h0m22 1h0m3 2h0m-198 14h0m1-5h0m31 1h0m9 2h0m23-1h0m55 3h0m30-1h0m5-2h0m7 2h0m41-3h0m10-2h0m37 5h0m-253 5h0m27 4h0m45 3h0m13-8h0m36 0h0m3 2h0m23 5h0m14-5h0m5 4h0m43 1h0m32-8h0m-247 17h0m144-6h0m26 1h0m7-1h0m352 2h0m-521 11h0m18 5h0m78-4h0m32 4h0m119-4h0m4-4h0m3 1h0m13 3h0m0 1h0m-95 4h0m12 4h0m1 3h0m0 2h0m102 0h0m-273 9h0m1 1h0m21-9h0m26 2h0m2 3h0m3 1h0m83 3h0m13 0h0m-95 10h0m62-9h0m63 2h0m3 2h0m6-1h0m41-1h0m-216 15h0m5 2h0m23-6h0m14 4h0m29 0h0m49-3h0m51 2h0m-176 5h0m9 6h0m7-4h0m103-1h0m74 7h0m51-9h0m-159 18h0m29-7h0m48 2h0m20-3h0m-133 15h0m3 0h0m8-2h0m50 2h0m9 0h0m1 0h0m3 3h0m21-4h0m16 1h0m33-1h0m-130 13h0m71-7h0m1 8h0m50 0h0m45-5h0m19 5h0m-187 7h0m2 4h0m11-3h0m2-6h0m6 9h0m61-9h0m8 1h0m76 3h0m11 0h0m12 2h0m-279 5h0m34 6h0m119-7h0m6 7h0m2-4h0m35-2h0m28 2h0m-230 8h0m17 1h0m39 2h0m71 0h0m8 0h0m14 1h0m-1 8h0m63-1h0m377 0h0m-547 9h0m14 2h0m88-3h0m11 0h0m7 9h0m13-5h0m-68 15h0m81-1h0m-14 7h0m100 4h0m-283 6h0m22 0h0m27 3h0m52-3h0m6-3h0m37 5h0m19-4h0m0 2h0m29-2h0m41 1h0m30-1h0m-269 12h0m10-1h0m56-3h0m57 0h0m-141 11h0m0 1h0m18-3h0m44 0h0m45 5h0m29 3h0m2-5h0m53-1h0m3-2h0m19 9h0m7-7h0m5 1h0m-191 15h0m1-6h0m1 3h0m8 3h0m91-4h0m5 1h0m33 0h0m12 1h0m-149 9h0m65-2h0m24 4h0m54-4h0m-142 10h0m3-2h0m0 4h0m31-3h0m6-1h0m-48 9h0" stroke="#f15d3f" stroke-width="7.8"/>
<path d="M2029 479h0m249-6h0m-164 24h0m63-7h0m68 9h0m-72 7h0m-221 11h0m56-5h0m72 15h0m84-6h0m-99 20h0m-83 16h0m92-3h0m158 21h0m20-4h0m-16 16h0m1-1h0m-24 19h0m-72 5h0m27 2h0m30-2h0m-47 13h0m-166 21h0m219-1h0m-233 20h0m-22 27h0m11 4h0m7 18h0m-1 8h0m17 1h0m41 1h0m-68 12h0m24 0h0m33-3h0m-70 16h0m86-2h0m11-2h0m-101 9h0m86 5h0m18-3h0m11 0h0m-25 11h0m-82 14h0m117 0h0m119-2h0m-162 10h0m27-5h0m31-1h0m-116 13h0m31-2h0m4 4h0m37 11h0m33 4h0m-15 11h0m17 15h0m-123 25h0m-73 12h0m50-2h0m70-1h0m-21 16h0m59 0h0m-18 5h0m14 4h0m2-2h0m-92 10h0m14 1h0m47 8h0m28 8h0m32 4h0m-62 11h0m7-1h0m29 2h0m-35 7h0m-7 15h0m57-3h0m-92 12h0m20-1h0m-21 11h0m64 7h0m6-4h0m-186 29h0m-19 12h0m34 7h0m103-2h0m-91 11h0m-21 21h0" stroke="#ef4748" stroke-width="8.2"/>
<path d="M2125 557h0m214 31h0m-186 10h0m192-5h0m-170 9h0m26 4h0m151 3h0m117 0h0m19-3h0m14 2h0m5-7h0m-145 15h0m110-5h0m6 0h0m31 0h0m-451 11h0m9 5h0m100-2h0m137-4h0m153-1h0m4 7h0m1-7h0m1 5h0m1 2h0m59 2h0m1-4h0m2-1h0m3 5h0m1-8h0m-344 11h0m340 5h0m-488 6h0m40 3h0m2-2h0m184 1h0m193 0h0m62 3h0m14-5h0m12-2h0m-480 15h0m107 0h0m102-3h0m164 0h0m1 1h0m3 1h0m2-5h0m0 9h0m5-3h0m9 2h0m66-4h0m5-3h0m3 2h0m2 1h0m1-3h0m-477 10h0m14 5h0m4-2h0m138 3h0m11 2h0m9-1h0m22-2h0m184 1h0m7-6h0m4 5h0m5 0h0m0 1h0m-399 5h0m5 0h0m26 0h0m96 6h0m8-4h0m62 0h0m193 5h0m3-5h0m2 0h0m-389 11h0m90-3h0m22-1h0m3 3h0m4 0h0m5 5h0m6-8h0m7 0h0m10 7h0m6-3h0m1 1h0m10-4h0m180 4h0m-356 7h0m8 2h0m13-1h0m5-1h0m146 0h0m2-3h0m1 5h0m11 1h0m7 3h0m17-8h0m1 3h0m55 1h0m-281 14h0m10-9h0m8 0h0m30 4h0m91 1h0m69-3h0m42 3h0m1-2h0m8 6h0m5-3h0m18-2h0m-280 8h0m7 2h0m4 5h0m6-4h0m4 3h0m120-1h0m3 0h0m19-6h0m17 5h0m1 2h0m17 1h0m40-1h0m7-2h0m4-6h0m5 1h0m3 5h0m11-6h0m7 4h0m6-4h0m2 6h0m3 3h0m1-1h0m3-1h0m2 0h0m10 2h0m59-4h0m-377 10h0m16 0h0m17-3h0m9 7h0m126-3h0m4-5h0m2 0h0m53 3h0m1 0h0m4-4h0m15 0h0m37 5h0m4-4h0m1 7h0m4-5h0m1-3h0m8 1h0m17 1h0m0 3h0m1-1h0m3 3h0m14 0h0m75-7h0m-246 13h0m29 2h0m22 1h0m1 1h0m5-4h0m3 0h0m7 0h0m74-3h0m10 2h0m17 2h0m10 2h0m5-1h0m0 3h0m5-1h0m24-5h0m29-2h0m14 0h0m13 9h0m28-1h0m-433 5h0m7 6h0m11 0h0m138-5h0m7-4h0m50 3h0m63-3h0m46 3h0m0 4h0m1-4h0m39 0h0m5 2h0m11-4h0m14 7h0m17 0h0m-413 4h0m139 2h0m11-2h0m25 1h0m13 0h0m6 3h0m8-6h0m2 4h0m15 1h0m15 0h0m93 1h0m57 1h0m-266 7h0m64 2h0m4 2h0m2-2h0m2-6h0m19 6h0m1-4h0m2 3h0m5-2h0m20 0h0m126-2h0m7 2h0m7 1h0m2 1h0m40 0h0m-237 9h0m19 0h0m3 1h0m6 2h0m2-1h0m2 3h0m1-6h0m5 1h0m177-1h0m6 1h0m104 4h0m4-1h0m6 1h0m-349 6h0m1 5h0m29-8h0m5-1h0m0 4h0m1 1h0m1-4h0m27 1h0m0 4h0m279 1h0m1-6h0m3 1h0m0 3h0m1-2h0m1-3h0m2 3h0m-329 12h0m10-3h0m6-1h0m0 3h0m3 5h0m3 0h0m2-3h0m3-2h0m3 2h0m4 1h0m157-4h0m127-1h0m0 4h0m4 1h0m1-4h0m1-2h0m0 2h0m1-2h0m0 8h0m1-6h0m0 3h0m3 1h0m3-2h0m-349 13h0m14-6h0m0 1h0m7 2h0m7-3h0m6 1h0m4 2h0m3 2h0m6-6h0m2 4h0m17 0h0m15 4h0m94-6h0m157 4h0m4-2h0m1-5h0m3 8h0m2-4h0m-332 9h0m7-3h0m30 1h0m116 5h0m45-6h0m129 0h0m0 5h0m3-5h0m1 5h0m-390 11h0m87 3h0m3-8h0m21 3h0m272-3h0m-212 18h0m15-6h0m-12 16h0m13-2h0m153 1h0m14 0h0m-182 11h0m172-8h0m14 20h0m-164 13h0m174 4h0m7 7h0m1-5h0m-205 19h0m15-2h0m29 2h0m179-1h0m-219 5h0m231 1h0m-240 13h0m7-4h0m30 6h0m1-7h0m-9 17h0m2-6h0m9-2h0m8 5h0m12 3h0m17-7h0m-81 8h0m15 2h0m23 0h0m15 2h0m205 1h0m-276 5h0m2 0h0m7 5h0m45-1h0m77 1h0m49 1h0m110 0h0m-265 11h0m31-6h0m122 8h0m-211 3h0m-24 15h0m69 0h0m53-1h0m-12 5h0m-224 27h0m-2 3h0m17 7h0" stroke="#b9d985" stroke-width="5"/>
<path d="M2243 461h0m-172 88h0m121 13h0m143 4h0m-307 23h0m113 16h0m7-3h0m31 2h0m32 3h0m266-2h0m10-1h0m1 2h0m22 3h0m-445 5h0m125 0h0m8 3h0m151-3h0m7 5h0m6-6h0m105 1h0m6 0h0m3 0h0m2 1h0m4-3h0m15-2h0m18 0h0m-459 16h0m7-5h0m16-1h0m0 9h0m66-1h0m40-5h0m20 4h0m43-5h0m80 4h0m35 0h0m2-3h0m93 5h0m11-7h0m44 8h0m9-5h0m2 2h0m3 1h0m0 2h0m5-1h0m-486 4h0m15 0h0m2 3h0m4-1h0m160-4h0m52 3h0m51 2h0m32 2h0m87 0h0m5-1h0m4-3h0m54-2h0m14 6h0m2-3h0m5 3h0m1-5h0m1 0h0m4 2h0m-491 14h0m15 0h0m5-8h0m92 1h0m97 8h0m120-2h0m5-4h0m57-1h0m0 5h0m10-2h0m3 3h0m53-4h0m22 0h0m1 1h0m5 2h0m-457 3h0m117 7h0m15-7h0m228 6h0m12 2h0m1-1h0m3-5h0m0 3h0m2-1h0m75-4h0m1 2h0m1-2h0m10 0h0m3 7h0m-501 3h0m4 3h0m7 3h0m2-5h0m3 1h0m1-1h0m0 2h0m1 1h0m19-3h0m104 6h0m1-1h0m8-1h0m24 4h0m5-5h0m9-1h0m30 3h0m29-2h0m93-2h0m10 2h0m37 2h0m10-1h0m2-4h0m0 8h0m1-6h0m1-2h0m0 6h0m1-7h0m2 0h0m0 1h0m2 0h0m0 1h0m2-1h0m1 4h0m2-2h0m6-3h0m1 6h0m3-1h0m69-4h0m-475 10h0m34 0h0m86 2h0m3-1h0m11 0h0m0 2h0m0 4h0m35 1h0m3-8h0m18 8h0m26-2h0m10-3h0m116 0h0m43-4h0m1 1h0m4 7h0m2-7h0m2 5h0m5-4h0m-418 16h0m3-6h0m6 6h0m3-1h0m5 1h0m4-5h0m9 3h0m10 1h0m2-3h0m116 1h0m2 0h0m1 3h0m6-5h0m0 2h0m11 4h0m3-4h0m3-1h0m16 1h0m1 1h0m7-4h0m2 3h0m8-4h0m5 8h0m21-9h0m9 0h0m116 3h0m32-1h0m12 0h0m1 0h0m4 3h0m-417 11h0m4 0h0m10-5h0m10 7h0m4 1h0m25-3h0m90-6h0m3 7h0m10-5h0m15 5h0m11-3h0m4 1h0m16-4h0m8 7h0m4-2h0m7-4h0m10 5h0m24-5h0m42 7h0m77-9h0m38 3h0m-394 8h0m14 2h0m17-1h0m98-1h0m3 8h0m1-4h0m6 3h0m13-6h0m10 4h0m7 3h0m16-7h0m9 5h0m0 2h0m2-7h0m7-1h0m29 7h0m2-6h0m18 4h0m117-2h0m22-1h0m-408 16h0m12-1h0m13-2h0m135 3h0m13-4h0m2-4h0m9-1h0m4 3h0m16 6h0m5-1h0m3-8h0m10 5h0m15-3h0m14 1h0m2 6h0m1-7h0m6-1h0m1 2h0m2 3h0m2-3h0m3-2h0m2 5h0m0 1h0m6-4h0m2 6h0m4 0h0m5 0h0m1 0h0m12-6h0m10 5h0m8-4h0m8 5h0m50-4h0m18 3h0m-393 9h0m18 1h0m2-6h0m7-2h0m5 5h0m146 3h0m5-7h0m1 8h0m11-5h0m9 0h0m6-2h0m39 6h0m10-8h0m15 4h0m4 4h0m6 0h0m2 0h0m1-5h0m1 1h0m8 0h0m4 4h0m4-7h0m2 8h0m5-1h0m1 0h0m7-6h0m12 6h0m55-6h0m5 2h0m11 0h0m-405 15h0m7-7h0m7 7h0m3-1h0m1-2h0m26-6h0m96 3h0m27-2h0m30 8h0m19-3h0m57-6h0m30 7h0m1-7h0m5 0h0m13 1h0m0 3h0m1-3h0m36 1h0m28-1h0m2 7h0m15-4h0m4-3h0m-400 12h0m3 4h0m24 0h0m133-6h0m5 2h0m12 6h0m4-9h0m4 9h0m28-7h0m80-1h0m6 5h0m12-3h0m9-3h0m3 1h0m1 1h0m7-1h0m12 6h0m9-5h0m7 2h0m9-1h0m2 2h0m2 1h0m9 0h0m10-2h0m1-2h0m2-1h0m5-1h0m12 5h0m-446 6h0m23 5h0m21-2h0m3 0h0m14 1h0m128-4h0m18 0h0m70 8h0m77-4h0m11-5h0m24 0h0m0 6h0m8 3h0m8-5h0m0 2h0m4-1h0m7-5h0m0 5h0m9 2h0m5-5h0m0 3h0m2-5h0m3 8h0m2-7h0m3 3h0m-221 11h0m1-5h0m0 4h0m1-1h0m10 4h0m7-4h0m8 1h0m50-4h0m25 1h0m66 4h0m20 0h0m3-1h0m6-3h0m12 3h0m17-3h0m2 7h0m3 0h0m-236 10h0m8 0h0m4-5h0m21-2h0m0 4h0m31-3h0m76 4h0m1-5h0m33 2h0m1 6h0m10-7h0m9 3h0m1 0h0m0 3h0m1-5h0m2 4h0m2-6h0m3 2h0m5-3h0m16 9h0m98 0h0m10-8h0m3 0h0m-341 15h0m18 2h0m10 0h0m6-2h0m7-2h0m2 3h0m37 1h0m60-1h0m56-7h0m13 0h0m4 1h0m30 0h0m90 7h0m2 0h0m3-5h0m3 6h0m-336 4h0m19 5h0m1-2h0m7-6h0m3 2h0m3 6h0m2-4h0m2-1h0m7-1h0m20-2h0m127 1h0m12 5h0m11-2h0m117 5h0m1-6h0m0 2h0m3-5h0m0 5h0m3-1h0m1 3h0m0 1h0m1-4h0m1 3h0m2-4h0m1-2h0m-340 17h0m1-2h0m3-6h0m10 4h0m5-2h0m2 6h0m5-7h0m9 4h0m9 0h0m10 3h0m23-3h0m241-1h0m0 4h0m6-5h0m3-3h0m1 0h0m2 0h0m4 6h0m5-4h0m-378 15h0m33-7h0m16 0h0m3 7h0m11-5h0m12-1h0m2 1h0m8 0h0m160 1h0m78 1h0m3-1h0m1 2h0m25-4h0m21 7h0m1-6h0m2 4h0m10-4h0m-388 14h0m45 2h0m26-7h0m76 5h0m123 2h0m-29 4h0m78 7h0m1-2h0m-269 5h0m114 0h0m0 7h0m7-4h0m61 4h0m-336 10h0m235-5h0m12 3h0m12-1h0m169 0h0m-170 13h0m4-4h0m9-5h0m1 2h0m0 3h0m0 4h0m4-4h0m5 0h0m160-4h0m-183 18h0m12-2h0m51-7h0m-66 19h0m13-5h0m11 4h0m9 1h0m-41 4h0m26 3h0m49-2h0m-89 9h0m3 6h0m4-6h0m4-1h0m22 7h0m12-6h0m1 2h0m2 0h0m16 0h0m22-1h0m160 0h0m6 1h0m-256 5h0m27 9h0m4-5h0m1-2h0m35-2h0m181 6h0m2 0h0m-229 11h0m36 0h0m23-5h0m80 7h0m39-4h0m66 2h0m-254 6h0m7 4h0m3-6h0m9 6h0m1-7h0m27 0h0m13 0h0m4 0h0m163 2h0m37 2h0m-256 6h0m6 9h0m15-4h0m19-2h0m1-2h0m8 2h0m24 1h0m5-3h0m67 1h0m102-1h0m-264 10h0m7 1h0m8-1h0m18 6h0m14-5h0m12 2h0m2-3h0m8 8h0m8 0h0m4-4h0m87-1h0m3 0h0m-336 7h0m173 3h0m8 1h0m7 0h0m3-2h0m10 6h0m16-9h0m8 9h0m4-2h0m10-1h0m40-5h0m43-1h0m13 0h0m3 1h0m24 3h0m36 5h0m40-8h0m28 1h0m-335 15h0m51-4h0m4 1h0m4-4h0m7 3h0m7-3h0m1 2h0m3 1h0m11-3h0m2 0h0m19 6h0m118 0h0m31-2h0m4 0h0m76 2h0m6 2h0m-361 7h0m59-3h0m12-1h0m39 1h0m37 3h0m-180 13h0m4-7h0m9 1h0m0 3h0m22-2h0m92-2h0m24 2h0m7-3h0m7 2h0m10 3h0m28 1h0m177 0h0m-444 12h0m46-4h0m140-2h0m60-2h0m63 6h0m29-2h0m-377 14h0m3-2h0m4-2h0m1-1h0m14 3h0m15 2h0m11-1h0m2-7h0m25 0h0m-52 15h0m2-5h0m0 2h0m2 1h0m3-1h0m7 2h0" stroke="#c2ca78" stroke-width="5.4"/>
<path d="M2130 352h0m0 17h0m-121 78h0m-41 3h0m11 8h0m22 1h0m164-3h0m-172 10h0m260-4h0m-296 13h0m201-3h0m-137 10h0m182 3h0m19 1h0m-296 9h0m53-4h0m22-1h0m39 6h0m85 8h0m18 3h0m24 2h0m82-5h0m-80 12h0m5 3h0m-192 10h0m5-7h0m74 1h0m-143 10h0m323 5h0m30-8h0m51 1h0m-276 15h0m259-2h0m-350 6h0m233 2h0m35 2h0m-177 12h0m44-2h0m213-4h0m-438 13h0m21 4h0m178-3h0m137-3h0m31 6h0m6 2h0m86-3h0m10 2h0m-141 9h0m142-7h0m1 1h0m-250 12h0m101 0h0m3-1h0m33 2h0m7 5h0m31-4h0m77 4h0m6-8h0m8 2h0m-218 16h0m13-1h0m33 0h0m53-3h0m108 0h0m5-1h0m7-3h0m140 3h0m0 3h0m1-5h0m-561 10h0m118 6h0m11-1h0m114 1h0m8-1h0m40 0h0m20-1h0m116-6h0m2 1h0m104 6h0m3 2h0m18-6h0m33 6h0m16-1h0m-385 9h0m92 1h0m126 1h0m4-5h0m5 3h0m137-5h0m23-2h0m-484 11h0m1 4h0m0 2h0m20-2h0m10 1h0m94-3h0m35 0h0m16 1h0m105-3h0m29 8h0m13-2h0m1 2h0m142-4h0m8 0h0m2-5h0m1 5h0m4-2h0m6 1h0m-524 12h0m36 1h0m11 2h0m8-9h0m97 3h0m24-1h0m34 3h0m47 4h0m25-5h0m8 1h0m50 2h0m15-1h0m1-5h0m66 3h0m2 5h0m4-1h0m1-2h0m76-4h0m4 0h0m4 3h0m3 0h0m3 4h0m2-8h0m0 3h0m6-1h0m-495 14h0m22-4h0m7 0h0m13-2h0m113-1h0m16 0h0m14 4h0m138-2h0m14 7h0m1-8h0m1 6h0m4 1h0m37-1h0m15-6h0m0 6h0m4-6h0m0 7h0m6 1h0m74-8h0m8 0h0m0 4h0m-477 12h0m6-1h0m10 3h0m8-6h0m108 2h0m46-1h0m34-2h0m111 1h0m0 1h0m2-1h0m16 2h0m30 3h0m9 1h0m2-4h0m0 4h0m1-9h0m0 5h0m3-5h0m2 0h0m1 1h0m1-1h0m4 7h0m2-7h0m1 3h0m1 0h0m4 5h0m-425 11h0m11-1h0m3-8h0m2 4h0m0 2h0m1 2h0m5-8h0m5 6h0m3-1h0m5 2h0m19-3h0m86 4h0m12-7h0m9 7h0m20 0h0m3-2h0m21-1h0m21-2h0m8 6h0m76-4h0m54-3h0m26 7h0m10-2h0m1-5h0m1-1h0m0 5h0m2-4h0m0 3h0m1-5h0m2 7h0m5-2h0m10 1h0m-411 12h0m2-1h0m3-4h0m8-2h0m1 0h0m16 8h0m1-5h0m8 1h0m101 1h0m2 1h0m4 2h0m3-4h0m5 0h0m2-3h0m4-1h0m0 5h0m1-2h0m4-2h0m1 7h0m13-4h0m11 3h0m3-1h0m152-5h0m10 3h0m5-5h0m4 2h0m1 4h0m40-3h0m2-3h0m3 6h0m-410 10h0m7-6h0m4 0h0m4 8h0m16-1h0m74-7h0m74 9h0m24 0h0m5-4h0m1 3h0m2-4h0m1-1h0m1-2h0m3 7h0m10 1h0m25 0h0m7-5h0m31 4h0m2-5h0m6-1h0m60-1h0m3 7h0m3-6h0m1 3h0m1 3h0m18-1h0m14-6h0m6 6h0m-410 11h0m13-4h0m7-1h0m6 0h0m7 3h0m94-3h0m16-2h0m18 6h0m10-6h0m1 7h0m15-7h0m1 1h0m19 0h0m11 0h0m0 1h0m1-1h0m2 1h0m4 5h0m8-5h0m8 0h0m1 2h0m10 1h0m3 1h0m1-4h0m2 5h0m4-7h0m9 4h0m18 0h0m4 2h0m51 1h0m12-4h0m23-1h0m12 2h0m-373 7h0m105 7h0m44-7h0m16 1h0m11 1h0m15-4h0m2 9h0m9-9h0m18 7h0m4-4h0m3 0h0m1 3h0m4-1h0m12-4h0m6 8h0m4-9h0m0 5h0m6-1h0m1 5h0m7-3h0m9-4h0m1 6h0m18-1h0m5-5h0m13 7h0m29-6h0m15 4h0m1-6h0m6 4h0m6 1h0m6-5h0m0 3h0m2-2h0m8 7h0m1-1h0m2-6h0m-370 8h0m4 0h0m132 7h0m4-3h0m1 0h0m8-1h0m1 3h0m3 0h0m0 1h0m5-2h0m26 1h0m34-6h0m6 7h0m9-6h0m7 1h0m13 6h0m6 0h0m2-1h0m4 2h0m3-3h0m5 3h0m7-6h0m0 2h0m7 0h0m33 1h0m23 2h0m4-8h0m8 4h0m1 3h0m1-1h0m1-2h0m8-1h0m-414 10h0m0 4h0m6-7h0m12 0h0m8 5h0m3 1h0m28-2h0m98 4h0m55-7h0m5 6h0m7-6h0m3 4h0m9-4h0m2 4h0m83 4h0m2-2h0m8-4h0m7 3h0m12 0h0m15-6h0m2 7h0m10-5h0m17 4h0m7-1h0m0 4h0m5-2h0m8 0h0m1-5h0m6 5h0m-493 12h0m63-8h0m38 4h0m1 1h0m5-5h0m6 6h0m3-6h0m7 6h0m126-7h0m10 2h0m10 4h0m14 2h0m2-2h0m2 2h0m5-2h0m1 3h0m21-1h0m3 1h0m6-3h0m100-3h0m16 4h0m15-4h0m1 2h0m0 4h0m7-1h0m3-4h0m8 2h0m7-5h0m2 1h0m6 3h0m1 4h0m2-2h0m4 0h0m16-1h0m-440 5h0m19 0h0m2 7h0m157-7h0m15 7h0m6-7h0m5 8h0m34-6h0m4-1h0m7 1h0m81 6h0m41-3h0m17-1h0m6 0h0m5-4h0m0 6h0m1 2h0m8-9h0m8 0h0m5 6h0m5 0h0m1-1h0m-401 6h0m116 5h0m48-6h0m26 8h0m15 0h0m15 1h0m1-7h0m0 2h0m19 3h0m107-3h0m0 1h0m4 3h0m5-3h0m6-5h0m0 9h0m9-5h0m2-2h0m6 2h0m1 2h0m1-5h0m6 6h0m5-3h0m-241 12h0m28-6h0m0 5h0m6-2h0m4 4h0m6 2h0m3 0h0m8-9h0m23 6h0m104-5h0m10 2h0m3-3h0m7 2h0m14 4h0m1-3h0m8-1h0m3-2h0m2 6h0m19-6h0m107 6h0m-325 4h0m8 7h0m19-7h0m1 2h0m1 4h0m37 1h0m111-6h0m24 6h0m10-1h0m107-2h0m4 3h0m1-1h0m1-5h0m1 3h0m-526 15h0m27 0h0m172-5h0m4 1h0m12 2h0m3-6h0m0 4h0m93 4h0m34-1h0m25-2h0m7-5h0m28 0h0m26-1h0m8 9h0m86-1h0m3-4h0m0 1h0m2 1h0m1 2h0m-590 7h0m245 1h0m9-2h0m0 3h0m9-4h0m12-1h0m11 4h0m0 3h0m2-4h0m29-2h0m98 6h0m17-2h0m18-3h0m13-3h0m30 4h0m18 3h0m68-1h0m2 1h0m1-2h0m3-6h0m3 2h0m-288 13h0m2-4h0m5-1h0m35 8h0m16-1h0m9 1h0m14 1h0m113-2h0m5 2h0m6-6h0m0 4h0m7 2h0m26-4h0m51-5h0m-629 11h0m81 6h0m143-3h0m47 1h0m24 4h0m11-6h0m94 1h0m21 5h0m46-6h0m46 6h0m8-2h0m5 0h0m5-2h0m16 2h0m15-7h0m2 9h0m61-4h0m-217 12h0m6-7h0m2 6h0m1-2h0m12-4h0m86 1h0m3 5h0m1 0h0m46 2h0m-193 2h0m29 5h0m22-1h0m77 0h0m70 0h0m7 0h0m-161 10h0m1-3h0m2 7h0m1-8h0m2 7h0m19-4h0m29 5h0m3-6h0m-304 8h0m219 2h0m19 4h0m4 1h0m2-7h0m2 6h0m2 1h0m5 1h0m1-5h0m19 3h0m147-3h0m10 6h0m-208 10h0m16-6h0m14 3h0m2-3h0m2-2h0m1 7h0m10-2h0m170 1h0m2 2h0m-607 4h0m415-3h0m8 0h0m4 2h0m3 7h0m2-5h0m8 4h0m3-1h0m-461 12h0m417-1h0m21 1h0m2 0h0m3-3h0m1-3h0m2-2h0m7 2h0m171-1h0m6 6h0m-216 11h0m1-8h0m20 1h0m8 5h0m7-3h0m9 1h0m16 2h0m110 0h0m53-3h0m-595 8h0m389 7h0m10-5h0m16 3h0m12-3h0m2 4h0m114-6h0m27 7h0m29-5h0m-216 6h0m17 4h0m142-2h0m46 1h0m17 1h0m12 5h0m2-1h0m-588 4h0m70 2h0m114 4h0m142-2h0m7-5h0m2 8h0m2-5h0m2 5h0m3-8h0m4 1h0m3 5h0m7 0h0m1-2h0m2-5h0m6 5h0m16 0h0m7-3h0m1 3h0m4-1h0m5 3h0m0 2h0m77-9h0m5 1h0m19 8h0m-142 2h0m2 8h0m1-8h0m7 0h0m16-1h0m5 9h0m8-4h0m2-4h0m12 6h0m15 0h0m40-2h0m28-2h0m28 2h0m22 3h0m15 0h0m41-8h0m10 8h0m-407 11h0m124-4h0m6-1h0m5 2h0m5-1h0m0 4h0m1-9h0m0 5h0m0 3h0m3-1h0m3-1h0m2 3h0m1-9h0m1 3h0m7-3h0m0 4h0m5 5h0m13-6h0m6 2h0m11 1h0m1-2h0m4 3h0m1-4h0m7 3h0m1-3h0m14 5h0m2 0h0m27-2h0m11-4h0m27 5h0m3-1h0m2 2h0m21 1h0m37-9h0m42 8h0m12-3h0m6 4h0m-298 9h0m1-4h0m15 5h0m10-7h0m0 6h0m1-3h0m4 2h0m1 0h0m2-6h0m1 7h0m1-6h0m0 4h0m2 1h0m5 1h0m5-1h0m5 1h0m3-1h0m5-6h0m6 2h0m0 1h0m10 3h0m9-6h0m0 4h0m14 3h0m36-6h0m40-2h0m27 2h0m3 1h0m6 5h0m4-3h0m9 1h0m6 0h0m57-2h0m10 3h0m5-3h0m1-2h0m1 6h0m1-5h0m-594 11h0m137 4h0m107-1h0m32-5h0m1-2h0m5 6h0m6-4h0m3 4h0m14-5h0m1 1h0m4 3h0m4-5h0m3 7h0m3-4h0m1-1h0m1 5h0m2 0h0m5-1h0m2-6h0m0 2h0m6 6h0m2 1h0m1-1h0m1-5h0m1 4h0m7-2h0m4 1h0m4-1h0m7-5h0m4 3h0m6 6h0m1-5h0m9 0h0m8 3h0m2-1h0m6 3h0m7-7h0m2-1h0m86 5h0m22-2h0m0 4h0m23 0h0m2-4h0m1 2h0m1-2h0m4 0h0m5-4h0m9 8h0m4 1h0m11-5h0m23 1h0m-374 10h0m5 3h0m20-8h0m0 8h0m10-7h0m35 1h0m8 3h0m8 3h0m17-4h0m0 2h0m1 0h0m7 3h0m1-2h0m11-3h0m18 3h0m10-1h0m3 3h0m14-3h0m18 3h0m95-9h0m67 1h0m2 4h0m26 1h0m2-5h0m-287 15h0m2-3h0m9-3h0m1 0h0m5 5h0m3-5h0m5 0h0m2 6h0m6-1h0m2 0h0m0 3h0m0 1h0m1-7h0m1 2h0m4 0h0m8 2h0m1-4h0m8 3h0m0 4h0m1-2h0m12-5h0m4 6h0m22-3h0m143-2h0m9 4h0m8 1h0m12-1h0m3-3h0m4 5h0m-485 10h0m9 0h0m70-5h0m20-1h0m9-3h0m2 4h0m97 1h0m7 0h0m4-1h0m2-2h0m7 5h0m32 0h0m1-1h0m2-3h0m119 1h0m14 1h0m2-3h0m-572 16h0m171 1h0m3-1h0m1-4h0m5-2h0m25 6h0m5-2h0m6 3h0m1-1h0m7-5h0m14 3h0m149-4h0m48 3h0m-518 14h0m267-8h0m6-1h0m7 0h0m5 4h0m9 5h0m15-3h0m2-6h0m1 4h0m4-2h0m157-2h0m-269 20h0m-229 28h0" stroke="#cbbb6b" stroke-width="5.8"/>
<path d="M2127 338h0m7 1h0m-3 9h0m4-2h0m2-1h0m-8 7h0m9-2h0m0 44h0m5 18h0m-227 23h0m73 4h0m33-5h0m202 5h0m13-3h0m-336 5h0m97 8h0m2-2h0m7 1h0m7-1h0m230-5h0m-345 15h0m2-3h0m18 0h0m86-1h0m10 3h0m1 2h0m10-2h0m16-2h0m155-3h0m55 3h0m8 3h0m13-5h0m-395 11h0m101-1h0m27 7h0m9-8h0m4 6h0m23-4h0m117 3h0m66 3h0m33-6h0m-354 16h0m30-5h0m41 2h0m39-6h0m21 7h0m107-2h0m46 2h0m9-5h0m48 5h0m16-6h0m7 8h0m-333 5h0m35-2h0m169 6h0m25 0h0m10-3h0m14 2h0m42-3h0m9 5h0m17-5h0m1-2h0m37 2h0m-372 10h0m95 4h0m3-7h0m4 7h0m97 1h0m1-8h0m31 4h0m13-5h0m4 2h0m64 6h0m50-6h0m7 7h0m-280 7h0m10-3h0m28 3h0m82-4h0m20 5h0m4 2h0m40-8h0m29-1h0m70 1h0m-362 17h0m3 1h0m12-5h0m9-2h0m54 0h0m21 2h0m15-1h0m71-1h0m5-1h0m16 8h0m8-8h0m8 2h0m0 4h0m13 1h0m34-1h0m11-7h0m1 6h0m75 2h0m17-2h0m-257 4h0m1 2h0m90 0h0m17 4h0m108-4h0m20 0h0m8 3h0m6-1h0m15 2h0m-377 11h0m132-1h0m91 3h0m11-2h0m2-4h0m7 6h0m18-3h0m11-3h0m2-2h0m44 2h0m25 1h0m32 0h0m-403 12h0m8-3h0m2 2h0m18 3h0m8-6h0m106 2h0m0 3h0m16-3h0m4-2h0m1 7h0m3-3h0m17-1h0m51-1h0m13-4h0m38 1h0m45 4h0m40 3h0m-180 11h0m24 0h0m7-1h0m23-4h0m50-3h0m4 0h0m6 0h0m41 2h0m8-3h0m20 7h0m4-2h0m4-4h0m-424 18h0m6-4h0m5 4h0m7-6h0m3-2h0m12 1h0m18 7h0m11-2h0m94-6h0m44 0h0m35 7h0m6-5h0m45 2h0m7-3h0m22 6h0m82-1h0m22-7h0m-433 19h0m10-6h0m7 4h0m4 1h0m2-8h0m3 5h0m18-4h0m50 3h0m6 3h0m1-6h0m123 2h0m7 2h0m45 0h0m11 4h0m29-5h0m73 0h0m5 4h0m29-6h0m6 2h0m2 5h0m14-3h0m-426 5h0m4 3h0m84 2h0m139-6h0m116 1h0m43 5h0m7-6h0m15 5h0m16-3h0m39-1h0m3 8h0m-486 4h0m221-2h0m108 3h0m9-3h0m30 0h0m65 0h0m49 4h0m3-3h0m-340 16h0m99-2h0m37-4h0m57-1h0m17-1h0m2 7h0m1-4h0m97 3h0m41-2h0m5-3h0m155 7h0m-570 3h0m73 3h0m52 4h0m74-1h0m2-1h0m48 3h0m10-2h0m34-6h0m46 6h0m75-4h0m2 1h0m8 0h0m2 0h0m-452 7h0m151 2h0m15-2h0m5 7h0m128-7h0m1 5h0m26 0h0m1-1h0m8 0h0m125-3h0m1 7h0m1-2h0m177 2h0m-554 6h0m81-5h0m105 7h0m145 1h0m33-1h0m4-7h0m2 9h0m12-2h0m150 2h0m4 0h0m-606 8h0m26-1h0m100 0h0m0 1h0m25-4h0m140-3h0m25 1h0m121 2h0m17 1h0m71 3h0m3-1h0m3 0h0m76 0h0m0 1h0m1-1h0m1 1h0m7 2h0m5-7h0m-533 8h0m61 3h0m9 4h0m72-5h0m218 6h0m5-5h0m3-1h0m1 1h0m10 2h0m2 1h0m1-3h0m39 4h0m2 2h0m13-5h0m62-1h0m7 2h0m16-1h0m-535 13h0m51 1h0m9 0h0m3-4h0m4 5h0m2-1h0m5-3h0m1 1h0m2-5h0m2 3h0m11 0h0m61 4h0m26 1h0m34-8h0m9 6h0m0 1h0m2-1h0m32-1h0m108 0h0m25 3h0m1-4h0m2-2h0m45 5h0m9-8h0m2 5h0m4 4h0m11-6h0m2-1h0m-434 12h0m12-4h0m12 6h0m11 1h0m2-3h0m2-4h0m0 4h0m6-4h0m100 8h0m3 1h0m2-3h0m9 2h0m15 0h0m32-7h0m156 8h0m5-4h0m5 2h0m3-5h0m0 3h0m1-1h0m1-2h0m33 7h0m3-6h0m1 2h0m7 4h0m2-5h0m3-1h0m3 6h0m5-2h0m0 2h0m-438 1h0m33 3h0m16 4h0m8-6h0m100-1h0m2 8h0m3-7h0m9 2h0m17 4h0m2-1h0m14-5h0m20 8h0m7 0h0m150-7h0m0 1h0m2 2h0m0 2h0m37-7h0m3 0h0m-392 18h0m23-6h0m84-1h0m16 6h0m8-5h0m18 2h0m21-2h0m42 1h0m18 3h0m54-2h0m56 2h0m6-4h0m1-2h0m2 9h0m5-8h0m9 6h0m-437 5h0m58 1h0m4-1h0m7 4h0m2 2h0m29-1h0m80-1h0m16-5h0m44-1h0m1 3h0m6 0h0m6 2h0m4 1h0m59-2h0m4 5h0m23-4h0m14 2h0m75-1h0m1 0h0m3-4h0m8-1h0m3 0h0m-392 9h0m10 4h0m7 4h0m114-5h0m23 0h0m5 5h0m22-8h0m30 5h0m3 4h0m36-5h0m5 0h0m22 0h0m8-1h0m21-1h0m72-1h0m15 4h0m-495 5h0m97 8h0m3-2h0m6-4h0m17 4h0m122 3h0m15-8h0m33 7h0m3-4h0m7 2h0m28 0h0m58-5h0m10 1h0m13 2h0m20-4h0m63 1h0m3 8h0m6-9h0m7 8h0m21-5h0m-440 13h0m12 3h0m6-2h0m12-5h0m0 7h0m17-2h0m137-6h0m21-1h0m0 4h0m97-1h0m30 3h0m1 2h0m36-2h0m10-2h0m7 4h0m6-5h0m1 5h0m11-6h0m10 2h0m2 0h0m-404 9h0m19 6h0m130-4h0m17-4h0m30 2h0m157 6h0m1-6h0m8 1h0m1-4h0m18 2h0m7-1h0m2 5h0m7-1h0m4-1h0m0 5h0m-401 6h0m8-1h0m9 3h0m14-3h0m123-3h0m16 5h0m28-4h0m14 4h0m40 2h0m1-7h0m104 2h0m5 5h0m7 0h0m7-3h0m2 1h0m4-5h0m11 2h0m4 2h0m3 4h0m9-6h0m4 1h0m-458 13h0m65-7h0m6 1h0m140 8h0m9-9h0m38 9h0m37-7h0m123 1h0m3 2h0m2-5h0m2 2h0m4 6h0m7-6h0m8-1h0m15 4h0m12 4h0m5-6h0m-433 7h0m0 9h0m5-6h0m1-2h0m13 7h0m2-4h0m169 5h0m37-1h0m2 1h0m14-9h0m129 4h0m1 2h0m10-5h0m1 3h0m13-1h0m1 2h0m2-3h0m0 2h0m1 4h0m15-4h0m8 3h0m2-2h0m-417 10h0m4 0h0m6 0h0m193 0h0m5 2h0m1-5h0m11-1h0m6 3h0m139 0h0m7-4h0m5 9h0m5-9h0m13 0h0m12 3h0m6 0h0m6 3h0m2-6h0m94 8h0m-675 7h0m37 1h0m93-5h0m56 4h0m86-2h0m95 3h0m2 0h0m7-1h0m1 2h0m7-4h0m136 6h0m13-3h0m16-6h0m28 2h0m5 7h0m3-2h0m-601 11h0m5-8h0m101 4h0m79-1h0m4 2h0m6 1h0m25-2h0m142 5h0m1-6h0m7 0h0m12-3h0m5 4h0m23-1h0m4-3h0m115 3h0m60-2h0m8 2h0m0 6h0m9-6h0m75 2h0m9-3h0m-720 17h0m160-2h0m21-1h0m174-3h0m75 1h0m9 3h0m190 2h0m12-4h0m2 4h0m1 0h0m33-6h0m0 3h0m10-2h0m14-3h0m26-1h0m-688 17h0m30-2h0m31 4h0m8-3h0m62-1h0m11 1h0m48-2h0m15-1h0m24 0h0m242 2h0m32-5h0m69 6h0m14 0h0m2-3h0m22 4h0m-601 8h0m174-5h0m7 0h0m16 4h0m20 4h0m1-3h0m236-3h0m11 5h0m27-3h0m24 0h0m48-3h0m47 4h0m4-1h0m1 4h0m3 0h0m-665 6h0m5-1h0m142 6h0m65-7h0m15 5h0m10-2h0m6-1h0m15-1h0m11 5h0m77-7h0m150 1h0m11 5h0m1-4h0m2 0h0m10 6h0m2-7h0m2-1h0m68-1h0m70 3h0m16 5h0m-588 6h0m38-2h0m12 0h0m87-1h0m29 6h0m18 1h0m215-1h0m14-1h0m10 2h0m3-4h0m45-2h0m7 3h0m2-5h0m4 0h0m5 1h0m3 0h0m-477 17h0m167-4h0m214 2h0m22-6h0m11 4h0m3-4h0m0 5h0m1-4h0m7 5h0m156 2h0m-663 2h0m72 4h0m80-1h0m45-3h0m281 1h0m3 3h0m3 4h0m2-3h0m4-2h0m0 4h0m5-2h0m2 0h0m9-2h0m20 3h0m151 3h0m-592 2h0m18 6h0m0 1h0m396 0h0m173-3h0m-578 8h0m16 0h0m28 2h0m25-2h0m7-1h0m24 3h0m16 0h0m22 3h0m7-4h0m9 2h0m218-3h0m23 4h0m2 2h0m3-6h0m2 2h0m2 4h0m7 0h0m174-5h0m-544 7h0m7 2h0m350-3h0m9 1h0m13 6h0m22-4h0m119 3h0m7 1h0m42-5h0m-258 11h0m29 2h0m1 3h0m4-5h0m11 0h0m3 4h0m2-2h0m6-5h0m31 3h0m101 5h0m6-3h0m12 4h0m-540 3h0m25 1h0m17 6h0m20-8h0m11 1h0m52 2h0m7 4h0m220 1h0m15-5h0m7-1h0m1 3h0m13-3h0m4 2h0m5 4h0m4-9h0m1 9h0m10-2h0m7 2h0m80-1h0m3-4h0m1 1h0m24 1h0m47-4h0m6 7h0m14-9h0m-671 14h0m72 3h0m257-2h0m101 0h0m5 1h0m14 2h0m3-1h0m13-7h0m34 2h0m61 5h0m9 2h0m11-7h0m8 3h0m16 4h0m6-1h0m3-7h0m69 4h0m3-2h0m5 5h0m-617 8h0m61 2h0m286-8h0m11 9h0m1-1h0m4-8h0m7 0h0m1 6h0m2-3h0m10-3h0m0 7h0m16 2h0m2-6h0m24 6h0m9-8h0m4 7h0m50-3h0m1-3h0m52-1h0m18 0h0m0 8h0m2-9h0m10 1h0m33-1h0m19 8h0m7 1h0m-757 10h0m87-4h0m48 3h0m87-1h0m97-3h0m164 1h0m7 4h0m5-4h0m6-2h0m11 5h0m14-5h0m0 1h0m1 0h0m34 0h0m12-2h0m15 5h0m14 0h0m49-3h0m3 0h0m12 0h0m10 2h0m6 1h0m31-1h0m37-5h0m-716 15h0m49 1h0m36-3h0m39 4h0m318-4h0m11 2h0m2 1h0m4-1h0m1-1h0m2-2h0m3 0h0m2 1h0m8 0h0m4 0h0m1-1h0m5 2h0m1-4h0m3-1h0m12 8h0m2 1h0m2 0h0m5-9h0m43 8h0m10-8h0m46 9h0m3-1h0m12-1h0m1 1h0m2-5h0m9-2h0m6 8h0m2-2h0m9-5h0m65 1h0m-697 10h0m43 6h0m178 0h0m164-1h0m4 0h0m1-5h0m9-1h0m1 3h0m12 1h0m23 1h0m1-1h0m5-2h0m1 3h0m2-2h0m1-1h0m2-2h0m5-1h0m1 2h0m1 1h0m3 0h0m14 3h0m2-7h0m0 3h0m2-3h0m6 4h0m3-4h0m6 2h0m32 4h0m72-5h0m26 8h0m15 0h0m8 0h0m18 0h0m7 0h0m5-2h0m5-3h0m11-1h0m-596 13h0m27 1h0m253-6h0m37-1h0m9 5h0m14 0h0m3-5h0m9 4h0m1-4h0m1 8h0m10-6h0m2-2h0m1 2h0m8 4h0m5-6h0m2 0h0m7 8h0m1-3h0m4-2h0m2-1h0m7-1h0m4 2h0m2 0h0m4 5h0m2-4h0m3 4h0m2-8h0m5 8h0m11-3h0m109 0h0m3-3h0m0 5h0m7 2h0m11-8h0m6 7h0m5-1h0m1-3h0m1-4h0m8 6h0m4 0h0m9-5h0m0 6h0m3 0h0m10 1h0m14 1h0m-649 3h0m146-2h0m118 5h0m18-2h0m12-1h0m74 0h0m1 4h0m3-6h0m1 3h0m2 3h0m12 1h0m5-3h0m5-3h0m0 7h0m3-7h0m1 7h0m10-4h0m2-2h0m0 1h0m0 4h0m3-6h0m0 1h0m1 4h0m0 1h0m16-6h0m22-1h0m18 0h0m135 2h0m28-1h0m9 3h0m5 1h0m-722 8h0m40 6h0m263-7h0m10-1h0m8 8h0m2-8h0m109 4h0m10-5h0m3 2h0m4 7h0m2-4h0m6 1h0m3-6h0m0 1h0m9 0h0m13-1h0m10 3h0m14-1h0m76 5h0m1-2h0m2-2h0m7 2h0m4-2h0m5 0h0m7 1h0m27-1h0m2 0h0m3 2h0m1-2h0m40-1h0m2-1h0m40 5h0m-809 6h0m33 5h0m44 0h0m10-7h0m11 9h0m28-9h0m7 6h0m161 0h0m16 1h0m5 1h0m1-4h0m5 5h0m8-5h0m6-1h0m3 0h0m2 5h0m12-1h0m2 2h0m8-2h0m2 2h0m19-2h0m7-7h0m192 1h0m-586 14h0m17-5h0m3 0h0m15 1h0m0 7h0m114-6h0m22 2h0m147-3h0m22 3h0m3-2h0m2 4h0m8-3h0m2-3h0m9 1h0m0 7h0m-375 11h0m30-9h0m8 5h0m7-2h0m5-1h0m2 5h0m25-6h0m18-1h0m46 3h0m-125 9h0m17 0h0m16-1h0m7 8h0m40-1h0m15-5h0m62-3h0m-163 16h0m29-3h0m13 3h0m13-6h0m41 4h0m71 1h0m-113 23h0" stroke="#d8ab5a" stroke-width="6.2"/>
<path d="M2125 331h0m-1 16h0m3-3h0m3 2h0m1 0h0m-4 4h0m1 4h0m3 5h0m8 0h0m7 8h0m77 62h0m26-2h0m15 1h0m-365 11h0m11-5h0m96 1h0m137-5h0m79 4h0m24 4h0m-363 4h0m1 5h0m15-4h0m3 1h0m5-3h0m87 5h0m7 3h0m10-9h0m1 6h0m5 2h0m3-8h0m2 5h0m178-1h0m8-1h0m31 4h0m14-7h0m1 4h0m5 4h0m3-8h0m0 5h0m13 2h0m11-2h0m1-4h0m-396 18h0m9-4h0m1-5h0m2 5h0m3-2h0m3 0h0m1 6h0m1-3h0m3-2h0m71 3h0m5-4h0m4 2h0m12-2h0m5-2h0m2 0h0m2 4h0m1 4h0m3-5h0m4-1h0m4 6h0m195-8h0m3 3h0m1 4h0m8-7h0m1 4h0m4 3h0m4 0h0m1-2h0m15 1h0m2 1h0m8-2h0m5 3h0m13-1h0m19-6h0m-405 8h0m3 6h0m5-6h0m70 7h0m10-6h0m9-1h0m5 3h0m4 3h0m5-6h0m0 2h0m2 0h0m3-2h0m4 2h0m5 0h0m1 0h0m148 1h0m3 6h0m17-4h0m1 1h0m23 1h0m7 1h0m1-7h0m3-1h0m1 5h0m3 4h0m11-7h0m5 2h0m5-2h0m4-1h0m6 5h0m5-5h0m6 8h0m9-4h0m-373 13h0m8-5h0m0 3h0m26 0h0m8-6h0m3 3h0m29 5h0m15-4h0m10-3h0m7-1h0m0 3h0m88-1h0m15 3h0m5-5h0m3 9h0m15-2h0m17-1h0m30 3h0m3-5h0m7 1h0m1-4h0m1 3h0m7 2h0m24-2h0m7 0h0m6 2h0m7-1h0m2 0h0m-343 9h0m13 3h0m17-6h0m25 2h0m5 0h0m69 3h0m71 3h0m7-5h0m11-1h0m3 0h0m43-2h0m2 7h0m12 0h0m8-3h0m17-1h0m15 2h0m7-6h0m15 8h0m-262 5h0m6-2h0m19-1h0m34 5h0m69 0h0m1-2h0m13-3h0m3 3h0m7 4h0m3-3h0m3 2h0m1-1h0m0 4h0m23-1h0m1-1h0m12 0h0m15 1h0m21-8h0m28 4h0m17 1h0m9-4h0m8 6h0m-369 5h0m4 7h0m14-1h0m0 1h0m7-9h0m51 1h0m34 7h0m5-2h0m10 1h0m5 1h0m4-7h0m64 7h0m13-1h0m1-3h0m6-2h0m7 7h0m12-4h0m22 2h0m1-3h0m14 2h0m3-2h0m27 2h0m-297 7h0m2-3h0m2 3h0m48 1h0m44-3h0m18 8h0m7-7h0m78 5h0m1-7h0m33 2h0m6 0h0m2-2h0m0 4h0m22-4h0m1 3h0m0 6h0m6-7h0m4 7h0m5-9h0m14 3h0m0 3h0m4-4h0m53 3h0m3 0h0m2 1h0m5-4h0m3 6h0m10-8h0m-398 14h0m12-3h0m4 3h0m10 1h0m14-1h0m19 0h0m73 3h0m7-1h0m0 2h0m7 0h0m15-7h0m71 6h0m2-5h0m11 1h0m5 1h0m8 0h0m7 5h0m1-9h0m7 2h0m7 5h0m4-3h0m20 4h0m18 1h0m21-1h0m3 0h0m5-4h0m0 3h0m14-4h0m26-1h0m3 3h0m10-2h0m0 5h0m1 0h0m7-1h0m-409 10h0m8-4h0m4-3h0m1 8h0m7 1h0m11-4h0m7-3h0m1-2h0m3 2h0m1 1h0m15 2h0m36-4h0m32 0h0m9 6h0m28-5h0m42 3h0m24 4h0m3-7h0m2 2h0m3 4h0m7-1h0m1-4h0m7 4h0m1 2h0m4-1h0m3 0h0m4-5h0m23-1h0m15 6h0m3-8h0m17 6h0m12 1h0m15-4h0m5 3h0m16 3h0m1-1h0m11-7h0m3 0h0m7 7h0m0 1h0m9-7h0m11 6h0m9-2h0m-453 11h0m8 1h0m5-3h0m7 3h0m6-5h0m0 3h0m5-4h0m2-1h0m3 4h0m0 2h0m2-1h0m4-3h0m6 5h0m3-6h0m0 6h0m1-4h0m3 1h0m3 4h0m1 0h0m2 0h0m4 0h0m1-9h0m33 3h0m98 5h0m5 1h0m10-5h0m7 5h0m33 0h0m26-8h0m5 0h0m5 5h0m1-6h0m30 9h0m2-7h0m0 2h0m3-2h0m24 2h0m3 3h0m2-5h0m29 7h0m12-5h0m4 5h0m1 0h0m4-3h0m9 2h0m3-1h0m11-4h0m3 5h0m6-4h0m3-2h0m6 1h0m11-2h0m0 5h0m-470 12h0m7-1h0m29-5h0m2 1h0m31 2h0m0 3h0m12 0h0m5-1h0m1-5h0m0 3h0m14-1h0m57-2h0m58 3h0m2-5h0m6 7h0m4-4h0m1-3h0m1 6h0m19 0h0m25-6h0m9 0h0m11 5h0m10 3h0m46-8h0m3 0h0m0 2h0m10 7h0m33 0h0m37 0h0m6-7h0m6-1h0m1 8h0m6-2h0m3-1h0m4-5h0m0 1h0m12 3h0m-464 7h0m5-2h0m5 9h0m3 0h0m6-5h0m1 1h0m1-1h0m0 2h0m6-5h0m21-1h0m6 3h0m9-1h0m28-1h0m13 6h0m82-4h0m9 0h0m1 4h0m16-5h0m0 2h0m4 3h0m1 0h0m1-5h0m1 0h0m0 1h0m2-2h0m2 0h0m0 4h0m8 3h0m9 1h0m2-5h0m2-4h0m8 3h0m17-3h0m4 3h0m13 3h0m7-3h0m0 3h0m13-2h0m4-2h0m15 2h0m16-1h0m5 1h0m14-1h0m1 5h0m26-2h0m22-4h0m2 5h0m1-6h0m11 8h0m14-3h0m3 3h0m6-7h0m26 4h0m-464 5h0m1-1h0m2 2h0m1-2h0m4 8h0m1-1h0m1-1h0m5 0h0m3 2h0m1-6h0m3 5h0m14 0h0m35-6h0m5 8h0m18-1h0m25 0h0m73-1h0m1-7h0m11 7h0m2-7h0m6 7h0m1-7h0m7 8h0m19 0h0m28-7h0m2 4h0m10 0h0m16 1h0m14-1h0m38-5h0m60 7h0m1-6h0m7 3h0m1-2h0m2 4h0m8-4h0m10 4h0m10 3h0m10-2h0m-467 10h0m11-5h0m3 3h0m9-4h0m11-1h0m20 3h0m10 0h0m4-2h0m28 4h0m6 2h0m108 1h0m27-5h0m61-1h0m16 7h0m21-5h0m8 2h0m1 3h0m14-5h0m6-4h0m4 3h0m2-2h0m27 7h0m3 1h0m42-4h0m6-2h0m3 1h0m20 0h0m3-3h0m-453 10h0m41-1h0m45 1h0m19 4h0m25 3h0m33-7h0m79 4h0m55-2h0m2 0h0m7 0h0m20 0h0m2 4h0m45-6h0m78-1h0m6 6h0m-460 4h0m3 1h0m24 1h0m4 7h0m67-9h0m16 3h0m1 2h0m8-4h0m59 8h0m76 0h0m51-2h0m6-6h0m11 4h0m7 0h0m25 0h0m104 3h0m-361 2h0m38 0h0m98 2h0m30 6h0m20-1h0m9-3h0m0 2h0m10-1h0m9 2h0m11-2h0m37-3h0m118 7h0m6-4h0m5-1h0m-234 9h0m20 5h0m4-7h0m1 6h0m6-7h0m13 2h0m28 1h0m0 1h0m5-2h0m0 5h0m29 1h0m34 0h0m82-8h0m1 7h0m8 2h0m2-4h0m1-5h0m1 8h0m3 1h0m73-1h0m-464 6h0m166 4h0m16-2h0m26 1h0m29 1h0m132-4h0m1-2h0m17-1h0m3 7h0m17 1h0m61-1h0m-467 7h0m8 2h0m28-4h0m164-3h0m7 0h0m20 5h0m153-4h0m4 2h0m8 6h0m2-5h0m79 3h0m83 1h0m-544 6h0m3 4h0m46 1h0m330-9h0m7 8h0m6 1h0m5-2h0m2-6h0m0 4h0m47 4h0m5-4h0m9 0h0m2-3h0m1 5h0m-458 9h0m65-6h0m10 9h0m13-3h0m295 0h0m7-3h0m1-3h0m5 4h0m1 1h0m1 3h0m6 1h0m41-5h0m4 5h0m93-5h0m-578 10h0m12 4h0m2-8h0m21 0h0m31 3h0m17 3h0m112-5h0m24 8h0m44-4h0m167 2h0m1-1h0m1-2h0m4 0h0m41-4h0m-379 19h0m143 0h0m21-1h0m22 0h0m146-4h0m4-2h0m4-2h0m4 3h0m2-1h0m0 2h0m4 1h0m8 4h0m22-9h0m-480 13h0m20-3h0m6 5h0m15-5h0m38 1h0m175-1h0m3 1h0m15-1h0m0 4h0m8 5h0m1-3h0m1-3h0m50 4h0m106-5h0m6 0h0m0 3h0m2-4h0m3 7h0m7-8h0m9 8h0m-460 10h0m8-3h0m3-2h0m2 1h0m74 5h0m148-5h0m15-3h0m29 1h0m169-2h0m2 8h0m1-7h0m2 4h0m4 2h0m2 2h0m7-1h0m-479 2h0m3 1h0m42 5h0m60 0h0m7-5h0m6 6h0m0 1h0m8-6h0m67 6h0m44-8h0m141 2h0m40 3h0m23 4h0m38-2h0m6 2h0m-477 7h0m8-4h0m9 7h0m80 0h0m10-5h0m295 2h0m74-6h0m0 6h0m9-3h0m-493 14h0m3-2h0m1-5h0m55 1h0m38-1h0m21 4h0m1-1h0m140 3h0m14 0h0m6-3h0m24-1h0m0 5h0m18-5h0m139 4h0m8 0h0m9-2h0m10 4h0m12 0h0m-516 6h0m11 2h0m2 1h0m23-1h0m1-6h0m454 0h0m12 3h0m17 5h0m-488 8h0m49-3h0m3-2h0m20-1h0m52 3h0m101 4h0m1-7h0m210 9h0m13-3h0m21 1h0m2-4h0m-499 11h0m12 3h0m7-5h0m10 0h0m8 7h0m58-4h0m11 4h0m4-9h0m19 7h0m31-7h0m84 1h0m90 7h0m127-8h0m9 3h0m10 3h0m21-4h0m12-1h0m-500 17h0m64-3h0m19-4h0m9 2h0m15-2h0m194 8h0m17-3h0m124 1h0m5-7h0m1 6h0m15-6h0m9 9h0m23 0h0m8-1h0m-542 11h0m40-2h0m6-5h0m47 3h0m17-4h0m1 5h0m2 1h0m3-6h0m1 6h0m5 2h0m11-1h0m3 1h0m12-4h0m4-1h0m4 4h0m15-3h0m92 1h0m51 2h0m164-1h0m22-6h0m22 6h0m14 0h0m2-6h0m-589 16h0m64-4h0m30 1h0m7 2h0m49 3h0m9-7h0m3 6h0m3-2h0m3-5h0m4 8h0m6-8h0m12 4h0m3-2h0m5 6h0m1 0h0m164 0h0m128-4h0m81-3h0m31-1h0m2-1h0m5 3h0m-627 11h0m4 3h0m2 2h0m27-5h0m8 3h0m36 1h0m20-7h0m4 1h0m24 1h0m10 0h0m19-1h0m21-1h0m17-1h0m0 2h0m7 1h0m7 1h0m2-4h0m3 3h0m2-3h0m10 3h0m0 3h0m1-5h0m1 4h0m7 3h0m4-3h0m185-5h0m17 4h0m105-1h0m88-1h0m5 2h0m60 5h0m-698 5h0m20 3h0m2 2h0m4 0h0m2-3h0m23-4h0m8-1h0m21 5h0m29-2h0m27-3h0m5 4h0m3-2h0m37-3h0m8 7h0m9-1h0m4 0h0m9 0h0m2-3h0m0 6h0m4 0h0m8 0h0m2-9h0m9 7h0m5-7h0m1 5h0m132-1h0m18-4h0m146 9h0m25-9h0m-556 18h0m11-5h0m15-1h0m11 7h0m5-1h0m31-6h0m57 3h0m34 0h0m13-1h0m29-2h0m25 3h0m11 3h0m12-2h0m217-2h0m12 1h0m3-5h0m14 5h0m3-5h0m90 5h0m3 1h0m-599 7h0m6 5h0m4-7h0m7 5h0m37-1h0m11 3h0m48-3h0m26 4h0m23-7h0m15 7h0m38-5h0m10 2h0m4 1h0m3 0h0m2 2h0m10-3h0m14 0h0m243-2h0m71 1h0m2 1h0m29-2h0m-605 8h0m3 0h0m18 5h0m9 0h0m0 2h0m89-6h0m33 4h0m10-4h0m6-1h0m9 1h0m0 6h0m57-2h0m20 2h0m4-7h0m16 3h0m229-3h0m0 3h0m8-2h0m1 4h0m47 2h0m6-3h0m9 0h0m2 2h0m2-2h0m9-2h0m72-2h0m3 3h0m-660 13h0m63-3h0m70-5h0m70 3h0m11 6h0m20-5h0m8-1h0m2 3h0m3-2h0m4-3h0m216 8h0m2-5h0m9 1h0m7-3h0m11-1h0m10 3h0m-496 15h0m4-3h0m16-6h0m32 9h0m8-1h0m15-3h0m12-4h0m4 1h0m2 2h0m12 4h0m2-8h0m2 9h0m1-4h0m3-4h0m9-1h0m2 8h0m11 1h0m1-4h0m0 1h0m12 3h0m12-9h0m3 3h0m1-1h0m3 7h0m1-8h0m7 0h0m61 4h0m1 2h0m4-2h0m1-3h0m2 1h0m2 2h0m16 0h0m5-1h0m1-1h0m198-2h0m14-1h0m8 8h0m8-5h0m-508 16h0m25-6h0m4 1h0m4-2h0m6 2h0m12 0h0m34-2h0m29 0h0m16 2h0m5 2h0m4 3h0m10-8h0m35-1h0m1 3h0m23-3h0m1 7h0m3-6h0m24 4h0m34-2h0m222 3h0m21 0h0m1-5h0m2 1h0m-458 16h0m33 0h0m17 0h0m10-2h0m9 0h0m7 3h0m33-3h0m20-4h0m17 6h0m8-8h0m6 3h0m274 0h0m26 5h0m9-2h0m-506 12h0m7-7h0m65 4h0m3-5h0m2 2h0m4-2h0m10 6h0m12-3h0m1 0h0m80 1h0m5-1h0m248-3h0m65 8h0m187 0h0m-706 9h0m6-4h0m3 2h0m2-2h0m21-2h0m33 8h0m28-5h0m2 2h0m19-4h0m3 3h0m1-3h0m18 6h0m3 1h0m11-4h0m2 3h0m11 1h0m1-6h0m11 2h0m21 4h0m26-5h0m33 0h0m20 1h0m206 0h0m7-4h0m196 6h0m31-4h0m-700 10h0m5-3h0m1 0h0m55 0h0m41 5h0m27 0h0m5-3h0m19 4h0m37-2h0m36 1h0m38 3h0m260-4h0m175-3h0m-710 14h0m90-4h0m4 4h0m42-4h0m11-1h0m4 4h0m2-3h0m0 4h0m11-4h0m5 7h0m29-7h0m53 6h0m4 0h0m8-4h0m205 0h0m9 5h0m8-7h0m1 6h0m20-2h0m29 1h0m4-2h0m86 5h0m23-9h0m15 4h0m-592 10h0m13 4h0m16-7h0m5 2h0m16 6h0m13-1h0m3-1h0m4 0h0m45-1h0m8-2h0m2 4h0m43-3h0m12-4h0m4 1h0m226-1h0m2 1h0m25 0h0m8 5h0m16-3h0m7 4h0m84-8h0m27 1h0m-637 17h0m60-5h0m18 5h0m8 0h0m27-8h0m19 9h0m2 0h0m10-5h0m14-1h0m71-2h0m76 0h0m139 5h0m2-3h0m18 6h0m7-2h0m7-2h0m6-3h0m24 6h0m16 1h0m2-7h0m5 1h0m82 2h0m3 3h0m75-6h0m9 2h0m-661 14h0m24-4h0m14 5h0m6-2h0m18-3h0m22-3h0m4 0h0m46 7h0m22-7h0m48 4h0m7 4h0m11-2h0m49-5h0m79 4h0m68 3h0m1-5h0m3 0h0m2-3h0m0 8h0m11-4h0m13-3h0m6-1h0m0 8h0m1-9h0m14 6h0m1 2h0m6-6h0m60 3h0m37 0h0m16 2h0m36 2h0m2-2h0m22 2h0m19-3h0m-710 6h0m10 6h0m3 1h0m19-4h0m40 4h0m2-5h0m11-4h0m19 1h0m7 1h0m12 4h0m39 3h0m75-8h0m10 3h0m25 2h0m74-4h0m0 1h0m67 2h0m58-4h0m8-1h0m0 1h0m13 6h0m18 0h0m39-6h0m19 5h0m48-3h0m29 1h0m1-4h0m28 9h0m26-8h0m23 5h0m21-2h0m-754 12h0m12-1h0m2-5h0m5 8h0m1-8h0m7 9h0m24 0h0m32-9h0m11 9h0m6-5h0m22 2h0m1-5h0m3-1h0m1 2h0m36 3h0m36-3h0m2 1h0m36-1h0m34 1h0m10 0h0m35 6h0m14-5h0m111 0h0m37 2h0m4-6h0m27 8h0m7-6h0m4 4h0m44 3h0m2-1h0m5 0h0m7-2h0m3-6h0m94 5h0m12-3h0m9 7h0m67-9h0m0 7h0m-751 9h0m81 2h0m3-4h0m11 5h0m15-7h0m5 5h0m7 0h0m4-7h0m12 7h0m4-5h0m27 2h0m159 1h0m62-3h0m22 2h0m44 3h0m1 0h0m10-6h0m4 0h0m3 0h0m9 4h0m10 3h0m6-5h0m0 3h0m5-4h0m0 5h0m11-7h0m11 8h0m2-1h0m10 1h0m1-6h0m2 6h0m3 0h0m2-8h0m6 3h0m4-1h0m13 0h0m146 6h0m-715 5h0m6 4h0m32-3h0m38 0h0m9-3h0m4-1h0m49 9h0m14-9h0m100 5h0m132-3h0m100 4h0m1-6h0m3 6h0m0 2h0m18-2h0m1-3h0m3-1h0m4 4h0m3-5h0m11 8h0m11-9h0m2 5h0m17-4h0m155 7h0m29-4h0m-788 12h0m9-1h0m30 4h0m13-8h0m36 6h0m1-4h0m36 1h0m43 5h0m16-1h0m11-7h0m78 0h0m19 7h0m95 0h0m10-4h0m10-2h0m97 1h0m39-3h0m116 2h0m56 3h0m34-4h0m13 1h0m-772 15h0m16-7h0m3 3h0m26 0h0m17 2h0m11-4h0m93-1h0m19 4h0m8-2h0m21 2h0m6 4h0m0 1h0m9-8h0m5 7h0m64 1h0m21-8h0m27 3h0m214-3h0m24 3h0m-586 8h0m3-1h0m0 1h0m8 4h0m19 0h0m4 2h0m8-1h0m16-6h0m23 1h0m26 4h0m9-6h0m0 9h0m9-2h0m3-2h0m45 1h0m5-6h0m3 8h0m24-5h0m20 3h0m4-4h0m15 7h0m3-8h0m18 1h0m109 0h0m-371 9h0m15 5h0m5 0h0m10-4h0m11-1h0m0 1h0m7 4h0m7 1h0m8 2h0m40 0h0m31-5h0m29 1h0m2-4h0m24-1h0m12 4h0m10 4h0m10-5h0m9 0h0m-253 15h0m21 0h0m8-6h0m0 1h0m2 4h0m9-7h0m6 6h0m3-5h0m4 4h0m1-2h0m0 6h0m6 0h0m2-5h0m98 4h0m20-5h0m8 0h0m42 2h0m4-3h0m14-2h0m9 2h0m-229 17h0m22-6h0m52 1h0m50-2h0m1 1h0m43 1h0m6-2h0m47-2h0m-225 12h0m35 7h0m4-9h0m5 9h0m3-3h0m18-2h0m82-1h0m-154 7h0m26 7h0m15-7h0m62 1h0m5 0h0" stroke="#e69a48" stroke-width="6.6"/>
<path d="M2126 333h0m-3 7h0m3 1h0m6 5h0m2-3h0m1 4h0m14-2h0m-34 13h0m16-3h0m4-4h0m4 4h0m-13 14h0m13-1h0m-3 7h0m-1 14h0m5-2h0m-2 9h0m-2 13h0m5 2h0m0 2h0m2 6h0m-151 10h0m17-1h0m11-1h0m-125 5h0m1-2h0m9 8h0m4 1h0m83-4h0m12 1h0m8-5h0m4 5h0m5-2h0m5 4h0m185-2h0m19 1h0m22 0h0m-366 12h0m3 0h0m2-6h0m0 1h0m5 0h0m7 5h0m3-4h0m6-5h0m0 8h0m2-4h0m89-1h0m6 4h0m5-6h0m7 1h0m2 5h0m4 1h0m3-3h0m134 3h0m60-5h0m13 6h0m2-6h0m2 0h0m7 0h0m8-3h0m0 3h0m8 6h0m2-5h0m36 1h0m-408 9h0m2-2h0m3 5h0m9-7h0m2 7h0m89-5h0m3-2h0m0 4h0m1 0h0m1 1h0m3-4h0m3 4h0m5 1h0m6-1h0m0 3h0m1-2h0m1 1h0m2-6h0m171 7h0m5-4h0m11 2h0m1-4h0m2 0h0m2-2h0m1 4h0m0 1h0m13 3h0m1-4h0m10 0h0m2 4h0m3-1h0m1 0h0m1 1h0m3-7h0m3 3h0m6 1h0m12-2h0m44 2h0m-407 11h0m60-1h0m17 3h0m3-6h0m3-2h0m15 5h0m1-1h0m11-1h0m18 1h0m1 0h0m92-3h0m16 7h0m59-7h0m0 8h0m3-9h0m4 8h0m7-6h0m6 0h0m9-1h0m0 5h0m4 3h0m6-2h0m4-2h0m8 1h0m0 3h0m4-9h0m8 6h0m9-6h0m0 4h0m-357 7h0m32 6h0m28-3h0m9 1h0m3-2h0m1 4h0m4-5h0m12-1h0m14 7h0m3-1h0m43-2h0m27 2h0m17 1h0m3-5h0m5 1h0m13 0h0m8 2h0m3-6h0m1 9h0m3-3h0m6-6h0m2 7h0m9-4h0m6-3h0m32 6h0m5 1h0m2-6h0m5-1h0m18 0h0m2 9h0m3-9h0m19 1h0m3 3h0m6-4h0m10 6h0m-367 7h0m39 3h0m15-4h0m24 3h0m3 2h0m30-7h0m13 2h0m10-2h0m1 8h0m74-8h0m10 8h0m1-7h0m4 8h0m15-7h0m6 2h0m6-3h0m1 3h0m6 3h0m6-7h0m5 7h0m1-2h0m2-4h0m9 1h0m48 4h0m8 3h0m4-3h0m2 1h0m33 1h0m-372 5h0m61 3h0m22-6h0m12 2h0m1-1h0m2 5h0m5 2h0m5 0h0m3-6h0m7 7h0m96-6h0m8 3h0m0 3h0m11-2h0m7 2h0m8-5h0m2 0h0m6 2h0m6-5h0m0 4h0m5-4h0m6 6h0m1-6h0m6 1h0m10-2h0m3 0h0m2 4h0m5 5h0m13-4h0m17-5h0m21 1h0m3 6h0m2-3h0m11-1h0m0 2h0m8 4h0m11-6h0m-382 12h0m0 4h0m1-2h0m1-5h0m10 1h0m7 1h0m68-3h0m2 6h0m6-3h0m19 4h0m2-2h0m13 3h0m7-9h0m0 9h0m7-8h0m4 0h0m84-1h0m16 2h0m13 7h0m5-7h0m2 3h0m2 3h0m6-2h0m4-5h0m15 5h0m39 1h0m3-4h0m5-1h0m12-2h0m4 8h0m28-5h0m-398 16h0m12-2h0m5-4h0m1-1h0m14-2h0m53 3h0m50 3h0m14-5h0m3 1h0m2 4h0m60-3h0m3-3h0m7 7h0m1 1h0m5-5h0m11-1h0m10 4h0m5-4h0m15 3h0m0 3h0m8 0h0m7 0h0m2-2h0m1 3h0m5-9h0m18 5h0m3-2h0m12-2h0m4-1h0m2 8h0m16-4h0m9 4h0m13-4h0m2-2h0m3 6h0m23 1h0m-402 10h0m16-6h0m20-1h0m17-1h0m49-1h0m0 2h0m19 6h0m21-6h0m10 0h0m4 2h0m9 4h0m14-5h0m4 4h0m28-4h0m23 2h0m7-1h0m4-4h0m5 6h0m1-6h0m0 7h0m6-6h0m0 7h0m10-6h0m2 4h0m9-3h0m2 4h0m13-1h0m7-4h0m2-2h0m14 8h0m6-4h0m6 3h0m8-1h0m7-6h0m24 9h0m16-5h0m1-2h0m3 7h0m2-9h0m16 1h0m-419 18h0m26-9h0m1 5h0m6 3h0m5-8h0m1 4h0m23 3h0m1-3h0m105 5h0m4-2h0m9-5h0m7 2h0m71-1h0m10 4h0m5-2h0m20 4h0m3-7h0m2 0h0m1 1h0m26 0h0m2-3h0m0 5h0m13-4h0m12-1h0m5 3h0m1 3h0m26 0h0m1 1h0m3 2h0m9-8h0m1 5h0m4 1h0m1-3h0m1 4h0m2-7h0m3 0h0m5 0h0m2 3h0m9-2h0m2-1h0m5 7h0m6-3h0m-441 8h0m16 0h0m1-2h0m7-1h0m6 5h0m2-1h0m1-2h0m0 4h0m6 2h0m1-2h0m5 1h0m20-4h0m5 1h0m10-2h0m6-1h0m49 6h0m15-3h0m1-3h0m11 0h0m18 2h0m10-1h0m6-1h0m1 6h0m16-6h0m5 6h0m3 0h0m28-5h0m5 2h0m8-2h0m0 1h0m5 5h0m6 1h0m7-6h0m23-3h0m0 2h0m1 7h0m10-6h0m36 4h0m4-2h0m4 4h0m5-2h0m6-3h0m17-1h0m2 4h0m13-6h0m11 5h0m4 0h0m3-1h0m1-2h0m1-1h0m3 5h0m2 0h0m8-4h0m-446 14h0m9-6h0m5 3h0m8 1h0m2-3h0m0 7h0m5 0h0m3-7h0m12 2h0m2 5h0m1-3h0m6-1h0m0 3h0m4-2h0m5-3h0m2 5h0m4-8h0m5 7h0m13-7h0m12 4h0m76 3h0m10-4h0m15 3h0m13-3h0m1-1h0m2 7h0m5-4h0m40 3h0m5-4h0m2-3h0m12 0h0m1 5h0m19-6h0m0 4h0m21 5h0m3-7h0m9 6h0m10-6h0m14 1h0m16 6h0m12-5h0m21 0h0m5-4h0m13 5h0m5-5h0m2 8h0m1-6h0m11 0h0m13 4h0m3-6h0m-485 14h0m6-4h0m2 8h0m3-8h0m10 2h0m4 7h0m5 0h0m1-4h0m1-4h0m0 2h0m4 1h0m0 1h0m4 1h0m3-4h0m0 2h0m1-1h0m2 0h0m2 1h0m0 4h0m10 0h0m0 1h0m8-6h0m5-1h0m1 1h0m10 1h0m7 0h0m4-2h0m3 4h0m2 3h0m1-5h0m9 0h0m96 0h0m11 3h0m28-5h0m3 2h0m1 5h0m9-3h0m1 2h0m9-8h0m8 8h0m15-2h0m7-3h0m24 1h0m11 2h0m22-5h0m17 6h0m1-6h0m22 8h0m3-7h0m2 3h0m36 1h0m5 0h0m3 0h0m1-4h0m14 6h0m1-4h0m23 0h0m-474 14h0m5-6h0m12 5h0m1-5h0m4 2h0m3 2h0m4-3h0m1-1h0m2 3h0m11 2h0m4-7h0m3 3h0m1-2h0m5 1h0m0 5h0m7 0h0m4 0h0m14-7h0m46 6h0m81-1h0m5-2h0m10 1h0m18-4h0m4 5h0m0 2h0m11-1h0m5-1h0m28 3h0m20-1h0m9-7h0m16 2h0m12 4h0m19 1h0m6-5h0m5 5h0m11 2h0m20-1h0m7 0h0m17-8h0m1 7h0m5-4h0m-433 15h0m29-8h0m2 6h0m13-4h0m19 4h0m22-6h0m86 0h0m57 5h0m6 0h0m1-5h0m77 7h0m13-4h0m1-1h0m5 4h0m11 1h0m13-4h0m8 4h0m14-3h0m9-2h0m7 7h0m28-7h0m13 6h0m1-8h0m19 6h0m31 0h0m-447 5h0m19 5h0m13 1h0m26 2h0m7-2h0m19 2h0m5-1h0m89-4h0m8 2h0m24 0h0m43 1h0m26-4h0m7-1h0m1 5h0m10-2h0m15 2h0m9-6h0m5 7h0m10-5h0m16 0h0m20 2h0m21-5h0m3 2h0m56 4h0m0 3h0m-461 5h0m23-1h0m45-1h0m24 4h0m105 0h0m70-2h0m8 4h0m23-7h0m6-1h0m3 7h0m31 0h0m2-4h0m6 6h0m110-8h0m5 6h0m-386 4h0m152 2h0m16 1h0m2 0h0m3 3h0m3-5h0m0 2h0m74 4h0m19 1h0m122-9h0m11 2h0m-380 17h0m23-8h0m28 7h0m31 1h0m68-1h0m24-5h0m14 2h0m17 2h0m16 1h0m177 0h0m-357 9h0m93-5h0m73 1h0m1 2h0m27-2h0m25 4h0m111-4h0m20 5h0m-408 11h0m28-9h0m3 7h0m5 2h0m12-5h0m3 5h0m169-8h0m92-1h0m67 9h0m16 0h0m-375 8h0m17-7h0m9 0h0m367 6h0m9 0h0m8 2h0m2-1h0m-430 12h0m9-1h0m2-7h0m4-1h0m12 5h0m65 0h0m123-4h0m51 1h0m158 0h0m-407 16h0m14-4h0m8-2h0m32 3h0m345 4h0m3-7h0m-416 8h0m6 4h0m1 2h0m8-3h0m10 4h0m195-5h0m79 3h0m125 3h0m8-8h0m-452 14h0m9-1h0m5 5h0m440-8h0m9 5h0m1-2h0m3 2h0m-448 14h0m1 0h0m10-7h0m7 7h0m240-7h0m176 3h0m8 0h0m-449 7h0m1 1h0m4 6h0m5-1h0m1-8h0m5 2h0m1-1h0m443 1h0m11 1h0m-495 13h0m12 2h0m4 0h0m27 1h0m34-1h0m291-1h0m53-3h0m70 3h0m-494 3h0m13 3h0m6 4h0m50 0h0m5-7h0m226 9h0m-291 1h0m1 6h0m3 1h0m7-2h0m4-2h0m7 1h0m1 4h0m35-3h0m7-2h0m26 2h0m22 4h0m2-1h0m323-5h0m43 5h0m-484 4h0m0 3h0m8 1h0m6 0h0m5-3h0m10-2h0m1 1h0m63 1h0m3 4h0m-86 7h0m8-2h0m11 0h0m36-1h0m11 7h0m1-2h0m18-6h0m7 6h0m404-3h0m-534 8h0m26 0h0m1-1h0m1 4h0m3 4h0m7-2h0m1-5h0m26 3h0m26 1h0m1-5h0m7 6h0m18 0h0m7 0h0m1-4h0m6 2h0m0 3h0m8-6h0m9 5h0m16-5h0m306 4h0m32 4h0m29-3h0m3-3h0m-523 15h0m11-8h0m17 5h0m8 4h0m34-7h0m5-2h0m4 5h0m15 4h0m3-9h0m4 5h0m4-2h0m8-3h0m2 1h0m0 2h0m1 2h0m2-2h0m6 4h0m3-5h0m1 5h0m2-4h0m2 5h0m23-5h0m218 3h0m69 2h0m-450 4h0m9 4h0m13 1h0m6-6h0m3 4h0m16-2h0m0 2h0m13-5h0m12 4h0m6 3h0m9-4h0m0 6h0m7-6h0m28 5h0m4-8h0m2 9h0m3 0h0m3-1h0m12 1h0m3-2h0m6 2h0m1-5h0m8 1h0m1-4h0m391 4h0m-607 14h0m5-7h0m0 4h0m19-1h0m8 1h0m5-1h0m54-1h0m14 3h0m5-2h0m3-1h0m15-3h0m2 7h0m22-2h0m3 3h0m2-4h0m10 0h0m0 1h0m1 3h0m4-9h0m1 4h0m1-4h0m20 9h0m11-2h0m2-4h0m2 0h0m7 5h0m14-2h0m67 1h0m82 2h0m192-5h0m38 4h0m-619 9h0m1 0h0m47-3h0m52 3h0m8-2h0m18 3h0m23-5h0m3-2h0m1 1h0m1 1h0m6 0h0m9 6h0m4-4h0m2 1h0m20-3h0m10 2h0m0 2h0m4-2h0m14-1h0m6-4h0m3 8h0m64 1h0m319-5h0m-630 12h0m57 1h0m3-3h0m32 3h0m4-1h0m21 3h0m7-5h0m3 4h0m21-4h0m6 4h0m1-2h0m13-6h0m0 4h0m7 5h0m16-6h0m17 2h0m2 3h0m2-5h0m4-2h0m1 4h0m5 3h0m2-4h0m5 1h0m2-3h0m6 3h0m10 2h0m2-6h0m11 7h0m4-2h0m350-3h0m5 5h0m6-7h0m-615 15h0m25-6h0m6 5h0m36-2h0m0 3h0m25 0h0m9-6h0m50 9h0m14-6h0m7 5h0m10-6h0m1-1h0m25 0h0m4-1h0m18 0h0m1 8h0m3-2h0m255-3h0m1-2h0m7 5h0m-505 10h0m10-3h0m1 5h0m45-4h0m10-4h0m9 7h0m8-2h0m12-1h0m3-1h0m11 6h0m30 0h0m11-4h0m15 0h0m1 1h0m26-2h0m20 5h0m14-4h0m1 2h0m1-5h0m3 5h0m13-4h0m28 2h0m199-5h0m21 1h0m19 7h0m-513 6h0m5-4h0m3 3h0m8-2h0m13 5h0m20 2h0m19 1h0m16-5h0m16 2h0m6 0h0m6-3h0m8 1h0m20 0h0m5 3h0m31-3h0m6-2h0m41 6h0m7-1h0m11-2h0m11 1h0m7 2h0m1-2h0m2-6h0m10 3h0m9 1h0m223-3h0m36 6h0m134-1h0m2 1h0m-654 11h0m31-3h0m4-2h0m9 6h0m19-9h0m2 8h0m2-5h0m11-1h0m34-1h0m0 5h0m4-5h0m7 0h0m18 0h0m8 3h0m11 0h0m16-1h0m3-3h0m2 2h0m5 3h0m4 2h0m3-4h0m19 4h0m8-2h0m13-4h0m3 5h0m2-1h0m3-1h0m14-2h0m199 0h0m0 7h0m24-3h0m-495 11h0m1-5h0m6 1h0m3 6h0m3-2h0m3-5h0m43 7h0m4-4h0m4-2h0m1 3h0m2 3h0m18-4h0m3 1h0m6-5h0m10-1h0m7 9h0m12-8h0m0 6h0m1 1h0m2 0h0m4-6h0m3 6h0m11-8h0m17 8h0m2 0h0m19-7h0m4 3h0m9 2h0m53-4h0m272 6h0m149-6h0m-665 16h0m42-8h0m13 4h0m5-3h0m5-1h0m6 1h0m21 7h0m13 1h0m3-5h0m3 1h0m5-2h0m0 3h0m6-4h0m1 5h0m8 1h0m1 0h0m3-3h0m5-1h0m4 1h0m0 1h0m22 1h0m44-1h0m2-2h0m40 1h0m15 0h0m243 0h0m-514 13h0m6-5h0m11-3h0m1 3h0m22 5h0m32-1h0m5-5h0m27 1h0m2 6h0m16-3h0m14-4h0m30-2h0m3 6h0m15 2h0m5-3h0m2 1h0m72-4h0m396 2h0m-662 8h0m1-1h0m16 5h0m15-2h0m35-2h0m2-1h0m16 2h0m1 2h0m20 1h0m5 0h0m2 0h0m2-5h0m26 4h0m7 2h0m8-2h0m10 3h0m4-6h0m2 1h0m5 5h0m13-3h0m38 3h0m5-7h0m17-1h0m2 2h0m5 1h0m7 5h0m267-3h0m-532 10h0m11-1h0m1 0h0m17-1h0m6 1h0m40 5h0m3-5h0m20-4h0m1 9h0m14-6h0m6 4h0m3 0h0m7-1h0m2-5h0m8 4h0m7-2h0m18-3h0m6 8h0m27-2h0m2 1h0m14-3h0m22-4h0m6 4h0m16-2h0m-250 11h0m15 0h0m5-1h0m21-2h0m24 6h0m34-2h0m8-4h0m4 6h0m3-1h0m1 0h0m1-3h0m2 6h0m8 0h0m2-7h0m4-1h0m32 0h0m5 8h0m19-4h0m28-4h0m13 7h0m5-6h0m13-1h0m2 1h0m275 8h0m180-2h0m-697 4h0m0 3h0m0 5h0m3 0h0m1-4h0m12-2h0m6 6h0m4-1h0m45-1h0m13-2h0m6 0h0m16-1h0m13 0h0m14-1h0m1 4h0m9-6h0m21 8h0m9-4h0m2-4h0m1 3h0m2-3h0m9 3h0m4 0h0m2-3h0m7 0h0m1-1h0m4 6h0m10 1h0m3-4h0m13 6h0m23-9h0m219 1h0m19 2h0m16-2h0m15 4h0m125 4h0m22-6h0m48 0h0m-728 7h0m25 4h0m32-3h0m19-1h0m7 4h0m13 3h0m2 0h0m10-3h0m2 4h0m8-2h0m6-4h0m2-2h0m11 0h0m11 0h0m17 5h0m7-4h0m2 4h0m6-5h0m11 5h0m3-2h0m8-3h0m3 1h0m54 0h0m9 1h0m195-1h0m64 0h0m110 5h0m1-4h0m-634 8h0m3 4h0m5 5h0m4-1h0m11-6h0m25 7h0m27-7h0m17 2h0m1-2h0m23 4h0m3 3h0m1-4h0m1 1h0m3 2h0m6-2h0m11-4h0m8 5h0m22-2h0m6 4h0m14-4h0m1 4h0m7-4h0m14-5h0m6 7h0m7-6h0m37 6h0m7 1h0m83-8h0m34 3h0m98 4h0m19-2h0m7-2h0m13 0h0m24 1h0m84 2h0m12-1h0m-666 5h0m0 3h0m21-1h0m23 4h0m18 0h0m12-4h0m20-2h0m8 6h0m7-1h0m30-2h0m2 4h0m3-3h0m1-2h0m13 3h0m1 2h0m6-1h0m3 0h0m3-4h0m2 4h0m5 2h0m5-2h0m28-5h0m3-1h0m14 3h0m8 0h0m41 2h0m1 1h0m225-1h0m64 4h0m74-5h0m26-1h0m-646 9h0m2 6h0m23-7h0m8 3h0m1-4h0m8 7h0m45-5h0m4 2h0m22-2h0m6 1h0m3-3h0m15 6h0m6-3h0m5-1h0m0 2h0m6-2h0m10 2h0m18 1h0m3-4h0m64 4h0m29-3h0m115 5h0m79 1h0m34-2h0m6-1h0m15 1h0m38-4h0m125 1h0m22 5h0m-726 9h0m49 0h0m1-2h0m42-1h0m3-1h0m0 6h0m9-3h0m1 3h0m9-9h0m9 2h0m5 3h0m18-2h0m5-2h0m123 2h0m4 6h0m1-2h0m222-4h0m4-1h0m24 4h0m34 3h0m41-2h0m-624 10h0m11 0h0m10-7h0m30 9h0m35-2h0m4-1h0m10-6h0m10 4h0m4-2h0m21-1h0m12-1h0m5 5h0m20-5h0m20 8h0m102-7h0m17 4h0m231-1h0m14 2h0m24-5h0m8 2h0m-581 9h0m31-2h0m18 8h0m3-3h0m15 0h0m59 0h0m29 0h0m8-2h0m1 1h0m14-4h0m73 7h0m32-3h0m3-2h0m3 7h0m465-6h0m-757 8h0m1 2h0m11-2h0m2 2h0m8 4h0m18 2h0m3-9h0m14 3h0m26 4h0m17 2h0m10-8h0m15 8h0m1 0h0m29-2h0m16-6h0m19 4h0m31 3h0m50-6h0m9 5h0m10-4h0m11 5h0m9 1h0m12-7h0m205-2h0m-534 15h0m3-3h0m2 4h0m5-4h0m0 1h0m4 6h0m7-4h0m4-3h0m16 6h0m3 0h0m5 1h0m3-3h0m4-5h0m52 5h0m39-4h0m20 4h0m33 2h0m20-2h0m9 3h0m19 0h0m27-8h0m15 0h0m-292 16h0m4-6h0m1 7h0m1-7h0m0 1h0m1-2h0m1 8h0m2-3h0m2-4h0m5 2h0m4 6h0m4-4h0m1-2h0m0 2h0m2-3h0m11 4h0m2-6h0m1 6h0m3-3h0m10 0h0m12 4h0m11 1h0m25-6h0m11 6h0m13-4h0m4 2h0m3 0h0m11-6h0m12 0h0m2 1h0m3 0h0m1 1h0m15 4h0m3-3h0m0 4h0m7-1h0m3-5h0m26-1h0m12 5h0m17 0h0m2-1h0m15 1h0m-265 11h0m5-6h0m3 7h0m2-6h0m2 3h0m18-3h0m3 0h0m5 3h0m11-1h0m25 3h0m6-4h0m16 5h0m36-5h0m3 7h0m12-7h0m1 1h0m8 3h0m4-2h0m43-4h0m30 5h0m14-2h0m-249 13h0m4 2h0m1-4h0m3-2h0m5 3h0m1-2h0m2 0h0m9 1h0m2 5h0m11-5h0m8-2h0m1 7h0m7 0h0m5 0h0m97-6h0m1 2h0m9-1h0m52 0h0m7-4h0m-210 10h0m5 2h0m3 0h0m10 0h0m28 2h0m31-4h0m4 3h0m2 3h0m18-4h0m28-2h0m3 6h0m6-5h0m14 3h0m-129 15h0m21-9h0" stroke="#ec8844" stroke-width="7"/>
<path d="M2133 349h0m9-4h0m-6 5h0m8 0h0m-4 23h0m2 9h0m-119 41h0m-9 16h0m234-8h0m27 8h0m-391 2h0m18 8h0m2-8h0m87 5h0m13 1h0m6 1h0m5-5h0m3-3h0m15 5h0m142-4h0m78 5h0m4 0h0m7-3h0m1-3h0m0 6h0m-367 13h0m73-3h0m29-5h0m17 5h0m1 3h0m96-9h0m81 2h0m17 5h0m1 1h0m1-6h0m21 7h0m32 0h0m8-1h0m-377 3h0m20 8h0m72-3h0m15-4h0m7 4h0m8-5h0m12 8h0m101 0h0m5-5h0m15 1h0m55-1h0m26 2h0m2-6h0m4 5h0m10 0h0m14 2h0m-339 4h0m42-1h0m21 8h0m4-6h0m13 4h0m4-3h0m19 3h0m98 3h0m25 0h0m17-3h0m50-5h0m31-1h0m-263 15h0m15 1h0m12-5h0m11 2h0m9 0h0m87 2h0m47-2h0m42 3h0m-299 9h0m32-3h0m74-1h0m5 4h0m76 1h0m57 0h0m8 3h0m23-2h0m3 2h0m3-8h0m4 3h0m20-4h0m0 6h0m29-6h0m-252 12h0m26 3h0m35-5h0m6 6h0m73-3h0m1-1h0m9-1h0m4 3h0m19-1h0m15-1h0m7 7h0m12-9h0m29 8h0m10-3h0m1 0h0m20 4h0m20-8h0m27 1h0m2 7h0m-306 7h0m17 1h0m10 0h0m9-5h0m86 0h0m0 5h0m13 2h0m1-1h0m10-4h0m3 3h0m1 2h0m6-3h0m7-3h0m5 3h0m9 1h0m10-6h0m14 7h0m10-8h0m22 8h0m42-6h0m14 5h0m6 2h0m-384 10h0m20-5h0m32 0h0m47 5h0m30-7h0m12 3h0m99 1h0m4-3h0m18 0h0m26 2h0m3 0h0m2 3h0m3-7h0m42 4h0m7 2h0m5 2h0m12 0h0m25-8h0m4-1h0m4 6h0m7 1h0m-417 9h0m2-2h0m8 1h0m1-3h0m0 6h0m10-4h0m5-2h0m8 3h0m31-1h0m96-1h0m61 0h0m7-1h0m5-2h0m5 6h0m30 0h0m16 3h0m1-8h0m14 4h0m3-1h0m23-2h0m20 5h0m1-6h0m10 6h0m2-6h0m2 3h0m11 5h0m2-1h0m8-3h0m6 1h0m5-4h0m18-1h0m3 5h0m19-3h0m-440 10h0m1 4h0m1 0h0m6-6h0m16 5h0m7 0h0m1-4h0m3 2h0m0 3h0m2-6h0m2 4h0m4 1h0m1 3h0m1-4h0m5-1h0m1 5h0m16-4h0m92-4h0m6 4h0m3-5h0m6 0h0m81 9h0m5-6h0m16-1h0m39 4h0m65-2h0m9 4h0m2-5h0m3 1h0m10 1h0m7 4h0m3-7h0m26-1h0m-471 17h0m37-8h0m8 4h0m25 0h0m4 3h0m4-5h0m14-2h0m9 3h0m25-3h0m7 5h0m89-3h0m0 6h0m78-6h0m14 3h0m36 3h0m9-7h0m8 5h0m30 0h0m9-4h0m5 1h0m3 5h0m2-2h0m3-5h0m2 4h0m1-2h0m5 0h0m5 3h0m9-6h0m-429 10h0m9 6h0m0 1h0m3-1h0m2-1h0m10 1h0m36-2h0m6-1h0m100 3h0m25-2h0m3-3h0m16 7h0m38-7h0m40 2h0m52 2h0m17 1h0m13-4h0m36-1h0m9-1h0m33 8h0m-472 8h0m5-1h0m7 0h0m5 0h0m5-1h0m5 0h0m6-1h0m13 2h0m6 3h0m14-3h0m9-4h0m10 0h0m10 4h0m2-4h0m120 7h0m6-4h0m18 2h0m4-5h0m4 7h0m32-7h0m74 2h0m1 0h0m49-2h0m20 7h0m37-7h0m4 5h0m-475 7h0m14 4h0m2-3h0m7-2h0m27-1h0m11 2h0m25 0h0m3 2h0m30 3h0m129-1h0m16-2h0m22-4h0m21 5h0m18-5h0m43-1h0m50 2h0m44 0h0m12 2h0m23-1h0m-367 8h0m102 7h0m23-4h0m24 2h0m27-2h0m38-4h0m4 6h0m1 1h0m23-6h0m8 8h0m60-7h0m13-1h0m-296 18h0m2 0h0m100-4h0m24 1h0m35 2h0m23-7h0m23 3h0m8 1h0m81-5h0m73 5h0m-369 6h0m178 4h0m17-5h0m16 1h0m21 4h0m119-3h0m-397 8h0m219 7h0m8 2h0m4-4h0m3-4h0m9-1h0m2 6h0m19-3h0m60 2h0m-287 11h0m226-2h0m15-1h0m-226 10h0m0 1h0m2-4h0m212 9h0m161-5h0m-405 13h0m5-4h0m14-2h0m0 8h0m5-3h0m2-2h0m6-2h0m3 0h0m344 2h0m27-2h0m-394 17h0m14-9h0m1 6h0m1 1h0m12-2h0m60-2h0m-83 16h0m37-4h0m252-1h0m-328 9h0m25-2h0m15 2h0m378-3h0m38 6h0m-450 11h0m1-7h0m12 4h0m21-4h0m10 0h0m31 7h0m-71 9h0m26 3h0m-50 7h0m16-2h0m7-1h0m0 1h0m7 5h0m4-4h0m6 4h0m-26 6h0m2 2h0m6 0h0m16-7h0m75 5h0m-103 8h0m14-2h0m1-1h0m1 6h0m6-3h0m4-2h0m3-1h0m0 3h0m37 1h0m2-2h0m2-2h0m2 9h0m3-7h0m6 5h0m5-4h0m-80 11h0m8-4h0m1 6h0m6-3h0m0 5h0m1-2h0m1-1h0m3-1h0m77 3h0m-111 10h0m3-3h0m1 3h0m9-7h0m1 7h0m12-3h0m7-4h0m6 1h0m42 0h0m3 0h0m15 0h0m6 2h0m4 2h0m-95 7h0m3-1h0m2 2h0m3-3h0m6 5h0m47-5h0m14 2h0m13 7h0m3-3h0m3 2h0m1-4h0m1-1h0m-101 13h0m3 1h0m6-6h0m1 4h0m22 4h0m29-4h0m8-4h0m19 8h0m4-4h0m3-1h0m2 1h0m14-4h0m11-1h0m109 9h0m-266 4h0m31 4h0m4 2h0m10-3h0m10 1h0m0 1h0m2-7h0m14 5h0m22-1h0m9-2h0m3 6h0m20-2h0m1 0h0m2-4h0m5 0h0m11 5h0m2-6h0m0 6h0m1-5h0m2-2h0m0 7h0m2-6h0m3 3h0m4-1h0m1 3h0m349-6h0m-536 15h0m24 3h0m50 0h0m45 0h0m3-8h0m16 2h0m8-1h0m14 6h0m1-7h0m1 1h0m1 3h0m4 3h0m1 1h0m8-4h0m3 4h0m1-7h0m3-2h0m11 3h0m96-3h0m139 9h0m19-8h0m-475 17h0m1 0h0m16-4h0m39-3h0m10 2h0m24-1h0m13-2h0m49 0h0m27 0h0m2 3h0m8 2h0m1-2h0m3 4h0m5-5h0m9 5h0m1-5h0m0 3h0m11 3h0m3-4h0m78 4h0m-311 11h0m7-2h0m3 2h0m7-9h0m82 3h0m26 5h0m22 1h0m11-7h0m2-2h0m21 8h0m2-3h0m7 3h0m29-8h0m7 3h0m4 4h0m0 1h0m2 1h0m4-7h0m1 4h0m1-2h0m0 5h0m3 0h0m-235 6h0m0 3h0m1-8h0m42 0h0m20 2h0m42-2h0m4 5h0m12 3h0m4-2h0m12 1h0m6-2h0m2-5h0m2 6h0m22-5h0m2 7h0m38-5h0m33 3h0m7-6h0m4 1h0m1 6h0m1-5h0m-261 10h0m14 5h0m32-6h0m49 7h0m23-1h0m26-5h0m7 4h0m2-6h0m18 1h0m7 1h0m10 5h0m6-5h0m17 4h0m4-4h0m10 2h0m4-1h0m10 1h0m1 1h0m-234 6h0m51 7h0m17-3h0m29 3h0m13-3h0m19 3h0m9-3h0m4 4h0m13-3h0m8 3h0m7-5h0m5 2h0m10 3h0m5-3h0m21-1h0m20 1h0m5-5h0m0 4h0m2-3h0m4-1h0m1 8h0m15-1h0m-277 3h0m25-1h0m4 4h0m10-3h0m4 5h0m36-2h0m10 4h0m46-7h0m13 2h0m0 4h0m8 2h0m6 0h0m1 0h0m13-5h0m2-4h0m25 6h0m34 0h0m17-2h0m12 5h0m5-5h0m15-3h0m-264 17h0m17 0h0m7 0h0m13-3h0m19 4h0m6-5h0m4 5h0m46-7h0m13 7h0m11-2h0m10-7h0m11 8h0m13-6h0m26 4h0m3-6h0m13 5h0m23-2h0m1 3h0m1-1h0m23-5h0m237 5h0m-514 8h0m18-2h0m11 5h0m10 3h0m17-2h0m44 1h0m6-1h0m11-5h0m2 3h0m0 2h0m0 2h0m9-3h0m11-4h0m25 2h0m15 2h0m2-6h0m2 2h0m4 0h0m10 7h0m62-4h0m0 3h0m20-1h0m-201 11h0m29-7h0m1-1h0m1 5h0m14-2h0m7-1h0m9 2h0m8 2h0m14-1h0m29-1h0m6-2h0m44 6h0m5-1h0m1-7h0m14 9h0m8-4h0m219 3h0m-446 4h0m29 0h0m9 2h0m8-1h0m7 6h0m4-9h0m0 2h0m1 2h0m16-1h0m2-1h0m7 6h0m4-3h0m3 4h0m7 0h0m5-6h0m0 1h0m9 2h0m1-6h0m1 2h0m2-1h0m1 1h0m6 0h0m3 1h0m5-2h0m2 8h0m1-6h0m7 0h0m2-3h0m7 9h0m13-5h0m5-4h0m17 5h0m4-4h0m12 5h0m23 0h0m256-5h0m-498 9h0m26 2h0m6 3h0m56 1h0m1 0h0m1-5h0m18 5h0m1-4h0m3-2h0m1 9h0m1 0h0m1-2h0m10-6h0m5 2h0m2-2h0m2 5h0m0 1h0m5 1h0m14-8h0m33 8h0m1-6h0m3 4h0m9-6h0m25 9h0m10-7h0m1 0h0m33-2h0m237 0h0m-508 16h0m13 3h0m54-6h0m4 1h0m11 5h0m4-5h0m1-2h0m3 6h0m6 0h0m4-8h0m6 3h0m14 3h0m3-4h0m2 2h0m2 3h0m3-6h0m41 3h0m37-4h0m20 6h0m3-3h0m7 1h0m32 1h0m231-3h0m-500 12h0m31 1h0m0 1h0m16-5h0m48 8h0m8-1h0m16-5h0m8 2h0m22-4h0m27-1h0m14 1h0m15 5h0m11-6h0m10 9h0m19-2h0m12-2h0m-267 14h0m9-5h0m4 5h0m66-8h0m3 0h0m4 0h0m37 6h0m16-5h0m3 3h0m0 3h0m9 1h0m2-7h0m15-2h0m18 4h0m10-2h0m4 1h0m22 0h0m17 4h0m19-1h0m20 3h0m218-6h0m-495 16h0m10-8h0m6 2h0m15-3h0m2 3h0m33-2h0m5 3h0m1 2h0m23-5h0m2 7h0m5-3h0m30-5h0m10 6h0m3-5h0m34 5h0m1 0h0m5-3h0m2-2h0m7 0h0m8 6h0m14-5h0m3-2h0m5 1h0m23 1h0m29 0h0m214 4h0m16 3h0m-470 9h0m60-3h0m16-5h0m27 9h0m9-2h0m3-3h0m6 4h0m4-5h0m4-1h0m14 5h0m5-6h0m8 3h0m25 1h0m17-2h0m34 0h0m220 6h0m37 0h0m-514 5h0m0 5h0m48-1h0m42-8h0m1 8h0m7-7h0m18 2h0m1 5h0m17-2h0m47-3h0m13 1h0m0 2h0m13-4h0m14 3h0m2-2h0m-245 15h0m34-6h0m23 5h0m49-1h0m1 1h0m4-6h0m43 2h0m28-3h0m6 1h0m13 4h0m2 3h0m1-1h0m35-5h0m36 1h0m2 0h0m13 5h0m181-7h0m63 8h0m-541 10h0m4-4h0m33 0h0m16 1h0m12-5h0m47 1h0m21 6h0m16 1h0m1-9h0m8 9h0m6-9h0m4 2h0m24 2h0m3 4h0m34 0h0m58-7h0m-248 14h0m22-3h0m10 7h0m5-2h0m43-7h0m8 7h0m10-5h0m26 0h0m6 1h0m29 0h0m5 3h0m30-4h0m351 7h0m191-1h0m-786 9h0m58-6h0m4 8h0m1-9h0m15 1h0m40 5h0m9 0h0m36 3h0m6-4h0m114-2h0m-285 16h0m18-2h0m13 0h0m20-5h0m41 0h0m2 3h0m16 1h0m2-6h0m26 7h0m5-3h0m4 2h0m55-1h0m1 2h0m68-4h0m21-3h0m-311 12h0m33 4h0m5-4h0m13 6h0m5-6h0m33-2h0m4 3h0m28 0h0m6 1h0m6 0h0m11-2h0m8 6h0m3-5h0m16 2h0m11 4h0m68-6h0m5 2h0m1-5h0m18 7h0m9-1h0m2-3h0m-269 13h0m5-1h0m3-3h0m21 3h0m11 1h0m3-1h0m2 3h0m67-1h0m10-4h0m14 6h0m9-4h0m6 3h0m1-3h0m4-2h0m28-2h0m3 5h0m6 2h0m2-7h0m27 3h0m5-4h0m14 1h0m2 7h0m7-3h0m-249 5h0m10 3h0m7 5h0m1-8h0m5 5h0m8-5h0m2 1h0m13 4h0m23-2h0m56 5h0m1-5h0m4 4h0m6-3h0m14 3h0m10-7h0m3 4h0m24 0h0m3 0h0m6 5h0m14-3h0m1 0h0m6 2h0m2-8h0m9 2h0m15 1h0m13 1h0m-257 6h0m0 7h0m11-1h0m9 3h0m3-6h0m12 1h0m9 0h0m10-4h0m5 8h0m63-4h0m4 2h0m5-4h0m31 3h0m2-1h0m-180 9h0m24 1h0m0 3h0m4-2h0m55 1h0m44-4h0m18-1h0m82 4h0m-181 8h0m2 2h0" stroke="#f0743f" stroke-width="7.4"/>
<path d="M2134 372h0m6 39h0m-252 26h0m116-1h0m3-5h0m-131 16h0m137 1h0m16 1h0m-23 16h0m115 0h0m138 3h0m3-1h0m-308 10h0m32-2h0m22-5h0m3 3h0m103 6h0m-156 2h0m86 8h0m155-4h0m-201 9h0m22-1h0m130 6h0m5-2h0m-153 4h0m39 6h0m71-7h0m69 0h0m51 4h0m1 2h0m20 8h0m25 5h0m-333 9h0m15-6h0m90 2h0m114 2h0m15-3h0m42 0h0m74 3h0m18 3h0m-253 10h0m251-1h0m-415 9h0m47-3h0m125-4h0m5 2h0m10 4h0m9-2h0m4-2h0m6 0h0m37 4h0m144 1h0m-344 4h0m388 6h0m-462 16h0m28 4h0m360-7h0m59 5h0m-437 6h0m309 1h0m13 4h0m14 16h0m18-1h0m-68 15h0m17 1h0m32-3h0m-33 8h0m-240 8h0m256 9h0m-206 29h0m-3 5h0m7 4h0m-11 8h0m5-4h0m8-1h0m2 8h0m26 1h0m-72 1h0m9 8h0m8 0h0m26-4h0m9-4h0m404 4h0m-442 11h0m10-1h0m9 1h0m4-5h0m7 7h0m-24 8h0m2-1h0m7 1h0m-21 9h0m2 2h0m13-5h0m5 5h0m14 1h0m-37 7h0m1 3h0m1 2h0m5-6h0m9-2h0m53 5h0m0 1h0m-63 7h0m2-4h0m10 8h0m2-7h0m37 0h0m10 0h0m4-1h0m4 3h0m3 3h0m7-5h0m-84 18h0m1 0h0m3-1h0m7-1h0m64 0h0m14-7h0m-105 13h0m4-3h0m3 0h0m6 8h0m9 1h0m2-7h0m3 3h0m44-3h0m31 7h0m3-9h0m2 5h0m3-2h0m-102 9h0m6 2h0m10 2h0m12 2h0m64-8h0m2 9h0m15-4h0m4 2h0m5-5h0m-130 15h0m10-3h0m15 4h0m14-3h0m26-3h0m13-1h0m1 6h0m1 1h0m19-7h0m7 1h0m7 5h0m7 2h0m3-1h0m1-4h0m2 1h0m2-4h0m3 5h0m-189 9h0m8 0h0m49 0h0m7 2h0m86-6h0m16 4h0m6-5h0m16 1h0m37 1h0m322 0h0m-573 13h0m20 4h0m187-1h0m12-5h0m9 0h0m4 2h0m-209 9h0m47 3h0m100-2h0m12 3h0m14-6h0m11 5h0m3-1h0m13 1h0m8-5h0m-201 13h0m5 3h0m5-1h0m40 0h0m71-1h0m69-2h0m39-3h0m2 8h0m37-1h0m9-1h0m-190 3h0m61 3h0m359-1h0m-543 10h0m115 5h0m1 0h0m9 0h0m126-2h0m-243 9h0m102-3h0m9 7h0m35-7h0m34 4h0m36 4h0m17-8h0m0 6h0m-180 8h0m27 0h0m2 3h0m25-8h0m6 9h0m21-2h0m17-4h0m4 1h0m69 0h0m-144 11h0m35-3h0m11 5h0m3 0h0m55-6h0m2 8h0m33-9h0m10 1h0m8 8h0m31-8h0m-196 10h0m76 2h0m1-1h0m59 7h0m1 0h0m40-6h0m14-2h0m11 4h0m-199 12h0m32 1h0m25-1h0m9 1h0m53 1h0m35-9h0m24 5h0m-183 5h0m13 0h0m37 1h0m0 4h0m1-2h0m10 4h0m13-4h0m69 4h0m23-6h0m-147 12h0m8 3h0m3 2h0m12-3h0m5 0h0m28-2h0m2-3h0m67 3h0m14-3h0m30 7h0m4 1h0m-243 3h0m68 6h0m22-2h0m31 2h0m4-1h0m3 3h0m7-3h0m11-2h0m18 3h0m-107 12h0m12-2h0m11-2h0m0 4h0m15-8h0m17 5h0m59-5h0m12 2h0m-200 7h0m24 4h0m99 1h0m10-3h0m2 1h0m34 1h0m-180 11h0m146 0h0m18 2h0m14 2h0m2-2h0m22-7h0m27 8h0m-214 10h0m41-8h0m21 8h0m29-2h0m32-4h0m4-1h0m14 1h0m125-2h0m-189 10h0m9 4h0m12 0h0m53-4h0m1 8h0m9-8h0m108 5h0m-249 14h0m37-1h0m33-3h0m16-1h0m0 3h0m38 0h0m-47 10h0m10-2h0m10 2h0m156-1h0m-274 10h0m2-5h0m42 6h0m156-1h0m-240 7h0m9 1h0m14 0h0m10 0h0m3-3h0m81 1h0m1 7h0m17-2h0m25 1h0m50-1h0m88-2h0m-282 7h0m5-2h0m17 6h0m-45 12h0m8-2h0m38 2h0m5-6h0m23 1h0m32-2h0m70 0h0m5 3h0m37-1h0m-213 10h0m12 3h0m3-6h0m97 8h0m49-3h0m54-5h0m-211 17h0m18-4h0m53 3h0m33 0h0m23-2h0m21-1h0m48 0h0m-192 8h0m6 3h0m38 1h0m19-2h0m-37 13h0" stroke="#f15d3f" stroke-width="7.8"/>
<path d="M2007 441h0m232 9h0m-312 87h0m84-1h0m67 23h0m13-7h0m-160 9h0m133 0h0m-127 22h0m159 24h0m-104 34h0m21 26h0m-17 27h0m7 14h0m-48 9h0m28-5h0m-22 17h0m-16 14h0m2 3h0m107-3h0m-106 13h0m85-4h0m3 14h0m1-6h0m6 7h0m-86 10h0m80-7h0m7 3h0m-99 14h0m13-4h0m99-1h0m15 7h0m-20 4h0m-171 12h0m103-1h0m11 10h0m45 1h0m21-1h0m-104 14h0m9 1h0m188-6h0m-295 26h0m142-1h0m-87 10h0m44-8h0m14 12h0m132 5h0m-67 4h0m-98 21h0m34 4h0m106-1h0m-110 11h0m12 6h0m46 4h0m-54 10h0m3 0h0m12-4h0m19 7h0m-49 17h0m13 1h0m64 12h0m-34 18h0m20 7h0m-4 23h0m-180 16h0m4 0h0m189 5h0m-175 8h0m-12 8h0m55 4h0m119 3h0" stroke="#ef4748" stroke-width="8.2"/>
</g>
<defs><linearGradient id="gmax" x1="0" y1="0" x2="0" y2="1"><stop offset="0" stop-color="#ee1040"/><stop offset="0.2" stop-color="#ea2c42"/><stop offset="0.5" stop-color="#e9753e"/><stop offset="0.75" stop-color="#d5a354"/><stop offset="1" stop-color="#a8d47a"/></linearGradient></defs>
<path d="M1360.3 260.4L1381.1 260.4L1367.1 417.3L1360.3 417.3Z" fill="url(#gmax)"/>
<circle cx="1370.7" cy="260.4" r="10.4" fill="#ee0a3c" stroke="#fff" stroke-width="0.8"/>
<circle cx="1363.6" cy="417.3" r="3.6" fill="#a8d47a" stroke="#fff" stroke-width="0.6"/>
<text x="1356.6" y="240.6" font-size="19.5" fill="#808080" textLength="42.5" lengthAdjust="spacingAndGlyphs" >MAX</text>
<text x="1349" y="264" font-size="11" text-anchor="end" fill="#222" >4</text>
<text x="1356" y="421.6" font-size="11" text-anchor="end" fill="#222" >0</text>
<text x="1343" y="452" font-size="13.5" fill="#222" textLength="56" lengthAdjust="spacingAndGlyphs" >Threshold</text>
<path d="M1554.5 130V554M1575.9 130V554M1597.3 130V554M1618.7 130V554M1640.1 130V554M1661.5 130V554M1682.9 130V554M1704.3 130V554M1725.7 130V554M1747.1 130V554M1768.5 130V554M1789.9 130V554M1811.3 130V554M1832.7 130V554M1854.1 130V554M1875.5 130V554M1896.9 130V554M1918.3 130V554M1939.7 130V554M1961.1 130V554M1982.5 130V554M2003.9 130V554M2025.3 130V554" stroke="#e3e6f0" stroke-width="1" fill="none"/>
<path d="M1535.7 130V554M1535.7 156.6h-4M1535.7 229.9h-4M1535.7 303.8h-4M1535.7 377.2h-4M1535.7 450.5h-4M1535.7 524.4h-4" stroke="#a6a6a6" stroke-width="1.2" fill="none"/>
<ellipse cx="1554.5" cy="156.6" rx="2.4" ry="2.2" fill="#dcb470"/>
<ellipse cx="1575.9" cy="156.6" rx="6.1" ry="5.5" fill="#dab672"/>
<ellipse cx="1597.3" cy="156.6" rx="8.5" ry="7.7" fill="#d4bf78"/>
<ellipse cx="1618.7" cy="156.6" rx="8.2" ry="7.4" fill="#e0b06d"/>
<ellipse cx="1640.1" cy="156.6" rx="2.7" ry="2.5" fill="#d8b974"/>
<ellipse cx="1661.5" cy="156.6" rx="5.2" ry="4.7" fill="#f6604a"/>
<ellipse cx="1682.9" cy="156.6" rx="7.9" ry="7.1" fill="#e8a868"/>
<ellipse cx="1704.3" cy="156.6" rx="2.7" ry="2.5" fill="#e4ac6b"/>
<ellipse cx="1725.7" cy="156.6" rx="2.1" ry="1.9" fill="#e0b06d"/>
<ellipse cx="1747.1" cy="156.6" rx="2.1" ry="1.9" fill="#e0b06d"/>
<ellipse cx="1768.5" cy="156.6" rx="7.9" ry="7.1" fill="#f47850"/>
<ellipse cx="1789.9" cy="156.6" rx="6.7" ry="6" fill="#f47850"/>
<ellipse cx="1811.3" cy="156.6" rx="6.7" ry="6" fill="#f5714e"/>
<ellipse cx="1832.7" cy="156.6" rx="4" ry="3.6" fill="#f6604a"/>
<ellipse cx="1854.1" cy="156.6" rx="7" ry="6.3" fill="#f09460"/>
<ellipse cx="1875.5" cy="156.6" rx="9.2" ry="8.2" fill="#f4734f"/>
<ellipse cx="1896.9" cy="156.6" rx="4" ry="3.6" fill="#f09460"/>
<ellipse cx="1918.3" cy="156.6" rx="6.7" ry="6" fill="#f5714e"/>
<ellipse cx="1939.7" cy="156.6" rx="1.8" ry="1.6" fill="#d0c47c"/>
<ellipse cx="1961.1" cy="156.6" rx="2.7" ry="2.5" fill="#dcb470"/>
<ellipse cx="1982.5" cy="156.6" rx="8.9" ry="8" fill="#ef9761"/>
<ellipse cx="2003.9" cy="156.6" rx="4.6" ry="4.1" fill="#deb26e"/>
<ellipse cx="2025.3" cy="156.6" rx="3.4" ry="3" fill="#d6bb76"/>
<ellipse cx="1554.5" cy="229.9" rx="3.4" ry="3" fill="#ed9b63"/>
<ellipse cx="1575.9" cy="229.9" rx="6.7" ry="6" fill="#f09460"/>
<ellipse cx="1597.3" cy="229.9" rx="8.5" ry="7.7" fill="#f18b5b"/>
<ellipse cx="1618.7" cy="229.9" rx="8.5" ry="7.7" fill="#f28356"/>
<ellipse cx="1640.1" cy="229.9" rx="6.1" ry="5.5" fill="#f5674c"/>
<ellipse cx="1661.5" cy="229.9" rx="2.4" ry="2.2" fill="#dcb470"/>
<ellipse cx="1682.9" cy="229.9" rx="7.9" ry="7.1" fill="#e8a868"/>
<ellipse cx="1704.3" cy="229.9" rx="2.7" ry="2.5" fill="#e8a868"/>
<ellipse cx="1725.7" cy="229.9" rx="2.1" ry="1.9" fill="#e4ac6b"/>
<ellipse cx="1747.1" cy="229.9" rx="2.1" ry="1.9" fill="#e0b06d"/>
<ellipse cx="1768.5" cy="229.9" rx="5.5" ry="4.9" fill="#eba165"/>
<ellipse cx="1789.9" cy="229.9" rx="3.7" ry="3.3" fill="#dcb470"/>
<ellipse cx="1811.3" cy="229.9" rx="5.5" ry="4.9" fill="#f18e5d"/>
<ellipse cx="1832.7" cy="229.9" rx="2.4" ry="2.2" fill="#d0c47c"/>
<ellipse cx="1854.1" cy="229.9" rx="4.6" ry="4.1" fill="#e4ac6b"/>
<ellipse cx="1875.5" cy="229.9" rx="9.2" ry="8.2" fill="#e8a868"/>
<ellipse cx="1896.9" cy="229.9" rx="2.7" ry="2.5" fill="#dcb470"/>
<ellipse cx="1918.3" cy="229.9" rx="4.9" ry="4.4" fill="#d4bf78"/>
<ellipse cx="1939.7" cy="229.9" rx="3.1" ry="2.7" fill="#f95247"/>
<ellipse cx="1961.1" cy="229.9" rx="4.3" ry="3.8" fill="#f95247"/>
<ellipse cx="1982.5" cy="229.9" rx="8.9" ry="8" fill="#e8a868"/>
<ellipse cx="2003.9" cy="229.9" rx="5.8" ry="5.2" fill="#f6604a"/>
<ellipse cx="2025.3" cy="229.9" rx="4.3" ry="3.8" fill="#f37c52"/>
<ellipse cx="1554.5" cy="303.8" rx="3.1" ry="2.7" fill="#dcb470"/>
<ellipse cx="1575.9" cy="303.8" rx="6.1" ry="5.5" fill="#deb26e"/>
<ellipse cx="1597.3" cy="303.8" rx="8.2" ry="7.4" fill="#d2c27a"/>
<ellipse cx="1618.7" cy="303.8" rx="8.2" ry="7.4" fill="#d6bd76"/>
<ellipse cx="1640.1" cy="303.8" rx="3.7" ry="3.3" fill="#d4bf78"/>
<ellipse cx="1661.5" cy="303.8" rx="5.2" ry="4.7" fill="#f47850"/>
<ellipse cx="1682.9" cy="303.8" rx="8.2" ry="7.4" fill="#e8a868"/>
<ellipse cx="1704.3" cy="303.8" rx="2.7" ry="2.5" fill="#dcb470"/>
<ellipse cx="1725.7" cy="303.8" rx="2.1" ry="1.9" fill="#dcb470"/>
<ellipse cx="1747.1" cy="303.8" rx="2.1" ry="1.9" fill="#dcb470"/>
<ellipse cx="1768.5" cy="303.8" rx="7" ry="6.3" fill="#ef9761"/>
<ellipse cx="1789.9" cy="303.8" rx="7" ry="6.3" fill="#f56a4c"/>
<ellipse cx="1811.3" cy="303.8" rx="6.1" ry="5.5" fill="#f28759"/>
<ellipse cx="1832.7" cy="303.8" rx="4" ry="3.6" fill="#f6604a"/>
<ellipse cx="1854.1" cy="303.8" rx="7" ry="6.3" fill="#ee9862"/>
<ellipse cx="1875.5" cy="303.8" rx="8.9" ry="8" fill="#ed9b63"/>
<ellipse cx="1896.9" cy="303.8" rx="4.3" ry="3.8" fill="#f28759"/>
<ellipse cx="1918.3" cy="303.8" rx="7.3" ry="6.6" fill="#f6654b"/>
<ellipse cx="1939.7" cy="303.8" rx="2.1" ry="1.9" fill="#d0c47c"/>
<ellipse cx="1961.1" cy="303.8" rx="2.4" ry="2.2" fill="#d0c47c"/>
<ellipse cx="1982.5" cy="303.8" rx="8.5" ry="7.7" fill="#ee9862"/>
<ellipse cx="2003.9" cy="303.8" rx="4" ry="3.6" fill="#d4bf78"/>
<ellipse cx="2025.3" cy="303.8" rx="4" ry="3.6" fill="#deb26f"/>
<ellipse cx="1554.5" cy="377.2" rx="2.4" ry="2.2" fill="#dcb470"/>
<ellipse cx="1575.9" cy="377.2" rx="6.4" ry="5.8" fill="#e8a868"/>
<ellipse cx="1597.3" cy="377.2" rx="8.9" ry="8" fill="#ef9761"/>
<ellipse cx="1618.7" cy="377.2" rx="8.5" ry="7.7" fill="#eba165"/>
<ellipse cx="1640.1" cy="377.2" rx="4.3" ry="3.8" fill="#e0b06d"/>
<ellipse cx="1661.5" cy="377.2" rx="5.5" ry="4.9" fill="#f37f54"/>
<ellipse cx="1682.9" cy="377.2" rx="8.9" ry="8" fill="#f95047"/>
<ellipse cx="1704.3" cy="377.2" rx="6.4" ry="5.8" fill="#f85448"/>
<ellipse cx="1725.7" cy="377.2" rx="4.6" ry="4.1" fill="#f95247"/>
<ellipse cx="1747.1" cy="377.2" rx="4.9" ry="4.4" fill="#f95247"/>
<ellipse cx="1768.5" cy="377.2" rx="8.2" ry="7.4" fill="#f47850"/>
<ellipse cx="1789.9" cy="377.2" rx="7" ry="6.3" fill="#f47a51"/>
<ellipse cx="1811.3" cy="377.2" rx="7" ry="6.3" fill="#f37e53"/>
<ellipse cx="1832.7" cy="377.2" rx="4.6" ry="4.1" fill="#f28759"/>
<ellipse cx="1854.1" cy="377.2" rx="7" ry="6.3" fill="#e9a567"/>
<ellipse cx="1875.5" cy="377.2" rx="9.2" ry="8.2" fill="#f18b5b"/>
<ellipse cx="1896.9" cy="377.2" rx="4.3" ry="3.8" fill="#e8a868"/>
<ellipse cx="1918.3" cy="377.2" rx="7.3" ry="6.6" fill="#f37f54"/>
<ellipse cx="1939.7" cy="377.2" rx="2.7" ry="2.5" fill="#f6604a"/>
<ellipse cx="1961.1" cy="377.2" rx="3.4" ry="3" fill="#f28759"/>
<ellipse cx="1982.5" cy="377.2" rx="8.9" ry="8" fill="#ddb36f"/>
<ellipse cx="2003.9" cy="377.2" rx="4.9" ry="4.4" fill="#e0b06d"/>
<ellipse cx="2025.3" cy="377.2" rx="4" ry="3.6" fill="#deb26f"/>
<ellipse cx="1554.5" cy="450.5" rx="4" ry="3.6" fill="#f47850"/>
<ellipse cx="1575.9" cy="450.5" rx="6.7" ry="6" fill="#f18b5b"/>
<ellipse cx="1597.3" cy="450.5" rx="8.5" ry="7.7" fill="#f28356"/>
<ellipse cx="1618.7" cy="450.5" rx="7.9" ry="7.1" fill="#f28356"/>
<ellipse cx="1640.1" cy="450.5" rx="5.5" ry="4.9" fill="#f37f54"/>
<ellipse cx="1661.5" cy="450.5" rx="2.1" ry="1.9" fill="#d0c47c"/>
<ellipse cx="1682.9" cy="450.5" rx="7.3" ry="6.6" fill="#e8a868"/>
<ellipse cx="1704.3" cy="450.5" rx="2.1" ry="1.9" fill="#dcb470"/>
<ellipse cx="1725.7" cy="450.5" rx="2.1" ry="1.9" fill="#e4ac6b"/>
<ellipse cx="1747.1" cy="450.5" rx="2.1" ry="1.9" fill="#e0b06d"/>
<ellipse cx="1768.5" cy="450.5" rx="2.7" ry="2.5" fill="#c8cc82"/>
<ellipse cx="1789.9" cy="450.5" rx="2.7" ry="2.5" fill="#d0c47c"/>
<ellipse cx="1811.3" cy="450.5" rx="3.4" ry="3" fill="#cec67d"/>
<ellipse cx="1832.7" cy="450.5" rx="2.4" ry="2.2" fill="#d0c47c"/>
<ellipse cx="1854.1" cy="450.5" rx="3.4" ry="3" fill="#dcb470"/>
<ellipse cx="1875.5" cy="450.5" rx="8.5" ry="7.7" fill="#d2c17a"/>
<ellipse cx="1896.9" cy="450.5" rx="2.4" ry="2.2" fill="#d0c47c"/>
<ellipse cx="1918.3" cy="450.5" rx="4.6" ry="4.1" fill="#d4bf78"/>
<ellipse cx="1939.7" cy="450.5" rx="2.1" ry="1.9" fill="#dcb470"/>
<ellipse cx="1961.1" cy="450.5" rx="2.7" ry="2.5" fill="#e8a868"/>
<ellipse cx="1982.5" cy="450.5" rx="8.5" ry="7.7" fill="#e8a868"/>
<ellipse cx="2003.9" cy="450.5" rx="5.5" ry="4.9" fill="#f85448"/>
<ellipse cx="2025.3" cy="450.5" rx="5.5" ry="4.9" fill="#fa4c46"/>
<ellipse cx="1554.5" cy="524.4" rx="5.2" ry="4.7" fill="#f95247"/>
<ellipse cx="1575.9" cy="524.4" rx="7.9" ry="7.1" fill="#f85448"/>
<ellipse cx="1597.3" cy="524.4" rx="8.9" ry="8" fill="#f85848"/>
<ellipse cx="1618.7" cy="524.4" rx="8.9" ry="8" fill="#f6624b"/>
<ellipse cx="1640.1" cy="524.4" rx="6.7" ry="6" fill="#f56a4c"/>
<ellipse cx="1661.5" cy="524.4" rx="2.1" ry="1.9" fill="#d0c47c"/>
<ellipse cx="1682.9" cy="524.4" rx="7" ry="6.3" fill="#ddb36f"/>
<ellipse cx="1704.3" cy="524.4" rx="2.1" ry="1.9" fill="#dcb470"/>
<ellipse cx="1725.7" cy="524.4" rx="2.1" ry="1.9" fill="#e4ac6b"/>
<ellipse cx="1747.1" cy="524.4" rx="2.1" ry="1.9" fill="#e0b06d"/>
<ellipse cx="1768.5" cy="524.4" rx="2.7" ry="2.5" fill="#c4d085"/>
<ellipse cx="1789.9" cy="524.4" rx="2.4" ry="2.2" fill="#c4d085"/>
<ellipse cx="1811.3" cy="524.4" rx="3.4" ry="3" fill="#c6ce83"/>
<ellipse cx="1832.7" cy="524.4" rx="2.4" ry="2.2" fill="#c6ce83"/>
<ellipse cx="1854.1" cy="524.4" rx="2.7" ry="2.5" fill="#c6ce83"/>
<ellipse cx="1875.5" cy="524.4" rx="8.5" ry="7.7" fill="#c2d287"/>
<ellipse cx="1896.9" cy="524.4" rx="2.4" ry="2.2" fill="#d0c47c"/>
<ellipse cx="1918.3" cy="524.4" rx="4.9" ry="4.4" fill="#d3c079"/>
<ellipse cx="1939.7" cy="524.4" rx="2.1" ry="1.9" fill="#e4ac6b"/>
<ellipse cx="1961.1" cy="524.4" rx="2.7" ry="2.5" fill="#e4ac6b"/>
<ellipse cx="1982.5" cy="524.4" rx="8.5" ry="7.7" fill="#dbb571"/>
<ellipse cx="2003.9" cy="524.4" rx="3.4" ry="3" fill="#ed9b63"/>
<ellipse cx="2025.3" cy="524.4" rx="3.7" ry="3.3" fill="#ef9761"/>
<text x="1525" y="163.5" font-size="19.5" text-anchor="end" fill="#7f7f7f" >RG</text>
<text x="1525" y="236.5" font-size="19.5" text-anchor="end" fill="#7f7f7f" >IPC</text>
<text x="1525" y="310" font-size="19.5" text-anchor="end" fill="#7f7f7f" >Astricytic</text>
<text x="1525" y="383" font-size="19.5" text-anchor="end" fill="#7f7f7f" >NPC</text>
<text x="1436" y="444" font-size="19.5" fill="#7f7f7f" textLength="88.5" lengthAdjust="spacingAndGlyphs" >Inhibitory</text>
<text x="1436" y="470.5" font-size="19.5" fill="#7f7f7f" textLength="66" lengthAdjust="spacingAndGlyphs" >neuron</text>
<text x="1435" y="517" font-size="19.5" fill="#7f7f7f" textLength="90" lengthAdjust="spacingAndGlyphs" >Excitatory</text>
<text x="1435" y="543" font-size="19.5" fill="#7f7f7f" textLength="66" lengthAdjust="spacingAndGlyphs" >neuron</text>
<text x="2050.8" y="117" font-size="18.5" fill="#7f7f7f" textLength="74" lengthAdjust="spacingAndGlyphs" >Average</text>
<text x="2050.8" y="143.3" font-size="18.5" fill="#7f7f7f" textLength="96.5" lengthAdjust="spacingAndGlyphs" >Expression</text>
<defs><linearGradient id="gavg" x1="0" y1="0" x2="0" y2="1"><stop offset="0" stop-color="#f5290f"/><stop offset="0.3" stop-color="#f0602c"/><stop offset="0.6" stop-color="#dc9a50"/><stop offset="1" stop-color="#a5dc7d"/></linearGradient></defs>
<rect x="2088.9" y="165.2" width="19" height="112.4" fill="url(#gavg)"/>
<rect x="2088.2" y="161" width="20.6" height="3.9" rx="1.8" fill="#ee1c10"/>
<rect x="2088.2" y="278.6" width="20.6" height="4" rx="1.8" fill="#a5dc7d"/>
<text x="2081.3" y="171" font-size="17.5" text-anchor="end" fill="#7f7f7f" >2.0</text>
<text x="2081.3" y="285" font-size="17.5" text-anchor="end" fill="#7f7f7f" >-2.0</text>
<text x="2053.9" y="319.3" font-size="18.5" fill="#7f7f7f" textLength="69" lengthAdjust="spacingAndGlyphs" >Percent</text>
<text x="2053.9" y="345" font-size="18.5" fill="#7f7f7f" textLength="90.5" lengthAdjust="spacingAndGlyphs" >Expressed</text>
<path d="M2093.4 361.2L2109.3 362.5L2098 469.6L2093.4 469.6Z" fill="#808080"/>
<circle cx="2101.3" cy="361.2" r="8" fill="#808080" stroke="#fff" stroke-width="0.7"/>
<circle cx="2095.7" cy="469.6" r="2.3" fill="#808080" stroke="#fff" stroke-width="0.5"/>
<text x="2087" y="371.3" font-size="17.5" text-anchor="end" fill="#7f7f7f" >100</text>
<text x="2087" y="473" font-size="17.5" text-anchor="end" fill="#7f7f7f" >0.0</text>
<path d="M251 1155.1H413M251 1067.1H413M251 979.2H413M251 891.2H413M251 803.3H413" stroke="#dfe5ef" stroke-width="1" fill="none"/>
<text x="242" y="1247" font-size="11.3" text-anchor="end" fill="#55595f" >0</text>
<text x="242" y="1159.1" font-size="11.3" text-anchor="end" fill="#55595f" >5,000</text>
<text x="242" y="1071.1" font-size="11.3" text-anchor="end" fill="#55595f" >10,000</text>
<text x="242" y="983.2" font-size="11.3" text-anchor="end" fill="#55595f" >15,000</text>
<text x="242" y="895.2" font-size="11.3" text-anchor="end" fill="#55595f" >20,000</text>
<text x="242" y="807.3" font-size="11.3" text-anchor="end" fill="#55595f" >25,000</text>
<rect x="275.8" y="1199.9" width="112" height="43.4" fill="#6e9fad"/>
<text x="331.8" y="1225.7" font-size="11.8" text-anchor="middle" fill="#333" >2450</text>
<rect x="275.8" y="1190.8" width="112" height="9.4" fill="#b5444c"/>
<text x="331.8" y="1199.6" font-size="11.8" text-anchor="middle" fill="#fff" >517</text>
<rect x="275.8" y="971.6" width="112" height="219.5" fill="#344454"/>
<text x="331.8" y="1085.4" font-size="11.8" text-anchor="middle" fill="#fff" >12463</text>
<rect x="275.8" y="935.6" width="112" height="36.3" fill="#ee6868"/>
<text x="331.8" y="957.8" font-size="11.8" text-anchor="middle" fill="#333" >2045</text>
<rect x="275.8" y="854.6" width="112" height="81.3" fill="#73bcdc"/>
<text x="331.8" y="899.3" font-size="11.8" text-anchor="middle" fill="#333" >4606</text>
<rect x="275.8" y="829.4" width="112" height="25.5" fill="#3ea172"/>
<text x="331.8" y="846.2" font-size="11.8" text-anchor="middle" fill="#fff" >1435</text>
<rect x="275.8" y="800.2" width="112" height="29.5" fill="#fa8650"/>
<text x="331.8" y="819" font-size="11.8" text-anchor="middle" fill="#333" >1660</text>
<path d="M251 1243.3H413M251 1243.3v4" stroke="#444" stroke-width="1" fill="none"/>
<text x="331.8" y="1264.5" font-size="11.5" text-anchor="middle" fill="#444" >Cell Count</text>
<path d="M655.8 809A181 189 0 0 1 759.7 843.2L674.7 969.6A33 34.7 0 0 0 655.8 963.3Z" fill="#6e9fad"/>
<path d="M759.7 843.2A181 189 0 0 1 777.9 858.5L678.1 972.4A33 34.7 0 0 0 674.7 969.6Z" fill="#b5444c"/>
<path d="M777.9 858.5A181 189 0 0 1 537.9 1141.4L634.3 1024.3A33 34.7 0 0 0 678.1 972.4Z" fill="#344454"/>
<path d="M537.9 1141.4A181 189 0 0 1 485.8 1063L624.8 1009.9A33 34.7 0 0 0 634.3 1024.3Z" fill="#ee6868"/>
<path d="M485.8 1063A181 189 0 0 1 529.5 862.6L632.8 973.1A33 34.7 0 0 0 624.8 1009.9Z" fill="#73bcdc"/>
<path d="M529.5 862.6A181 189 0 0 1 582.9 825L642.5 966.2A33 34.7 0 0 0 632.8 973.1Z" fill="#3ea172"/>
<path d="M582.9 825A181 189 0 0 1 655.8 809L655.8 963.3A33 34.7 0 0 0 642.5 966.2Z" fill="#fa8650"/>
<path d="M710.2 818.9L715.4 803.8L730 803.8" fill="none" stroke="#6e9fad" stroke-width="1"/>
<text x="735" y="808" font-size="11.6" fill="#333" >Astrocytic</text>
<path d="M767.2 852.5L777.6 839L793 839" fill="none" stroke="#b5444c" stroke-width="1"/>
<text x="798.3" y="843.2" font-size="11.6" fill="#333" >Endothelial Cell</text>
<path d="M507 1106.7L495 1115.5L479.5 1115.5" fill="none" stroke="#ee6868" stroke-width="1"/>
<text x="472.8" y="1119.7" font-size="11.6" text-anchor="end" fill="#333" >IPC</text>
<path d="M553.7 841.1L546.9 828.7L529.8 828.7" fill="none" stroke="#3ea172" stroke-width="1"/>
<text x="525.1" y="832.9" font-size="11.6" text-anchor="end" fill="#333" >NPC</text>
<path d="M619.5 813.7L615.3 798.6L600.3 798.6" fill="none" stroke="#fa8650" stroke-width="1"/>
<text x="594.6" y="802.8" font-size="11.6" text-anchor="end" fill="#333" >RG</text>
<path d="M475.9 957.3L464 953.6L448.4 953.6" fill="none" stroke="#73bcdc" stroke-width="1"/>
<text x="443.2" y="957.8" font-size="11.6" text-anchor="end" fill="#333" stroke="#fff" stroke-width="2.5" paint-order="stroke" stroke-linejoin="round">Inhibitory Neuron</text>
<path d="M790.6 1124.8L801 1134.7L817.5 1134.7" fill="none" stroke="#344454" stroke-width="1"/>
<text x="824.3" y="1131" font-size="15.3" fill="#8a8a8a" >Excitatory</text>
<text x="824.3" y="1150" font-size="15.3" fill="#8a8a8a" >neuron</text>
<rect x="1187" y="771.6" width="255.5" height="24" rx="2.5" fill="#fff" stroke="#b9b9b9" stroke-width="1"/>
<text x="1183" y="787" font-size="11.6" text-anchor="end" font-weight="bold" fill="#333" textLength="155" lengthAdjust="spacingAndGlyphs" >Please select one cell type:</text>
<text x="1194" y="787.8" font-size="11.2" font-weight="bold" fill="#333" >NPC</text>
<path d="M1430.5 782.1l6 0l-3 3.6z" fill="#888"/>
<circle cx="1069" cy="815.7" r="6.2" fill="#8ab8c0"/>
<text x="1084" y="820.5" font-size="13.8" fill="#333" >down</text>
<circle cx="1131" cy="815.7" r="6.2" fill="#c95a60"/>
<text x="1146" y="820.5" font-size="13.8" fill="#333" >up</text>
<circle cx="1176.3" cy="815.7" r="6.2" fill="#5b6b7a"/>
<text x="1191.3" y="820.5" font-size="13.8" fill="#333" >stable</text>
<path d="M947.7 821V1250.3H1482M947.5 1250.3h-3M947.5 1178.8h-3M947.5 1107.3h-3M947.5 1035.8h-3M947.5 964.4h-3M947.5 892.9h-3M947.5 821.4h-3M947.6 1250.3v3M1023.9 1250.3v3M1100.3 1250.3v3M1176.6 1250.3v3M1253 1250.3v3M1329.4 1250.3v3M1405.7 1250.3v3M1482.1 1250.3v3" fill="none" stroke="#777" stroke-width="0.9"/>
<text x="942" y="1253.1" font-size="7.8" text-anchor="end" fill="#666" >0</text>
<text x="942" y="1181.6" font-size="7.8" text-anchor="end" fill="#666" >50</text>
<text x="942" y="1110.1" font-size="7.8" text-anchor="end" fill="#666" >100</text>
<text x="942" y="1038.6" font-size="7.8" text-anchor="end" fill="#666" >150</text>
<text x="942" y="967.2" font-size="7.8" text-anchor="end" fill="#666" >200</text>
<text x="942" y="895.7" font-size="7.8" text-anchor="end" fill="#666" >250</text>
<text x="942" y="824.2" font-size="7.8" text-anchor="end" fill="#666" >300</text>
<text x="947.6" y="1263.8" font-size="8" text-anchor="middle" fill="#555" >-4</text>
<text x="1023.9" y="1263.8" font-size="8" text-anchor="middle" fill="#555" >-3</text>
<text x="1100.3" y="1263.8" font-size="8" text-anchor="middle" fill="#555" >-2</text>
<text x="1176.6" y="1263.8" font-size="8" text-anchor="middle" fill="#555" >-1</text>
<text x="1253" y="1263.8" font-size="8" text-anchor="middle" fill="#555" >0</text>
<text x="1329.4" y="1263.8" font-size="8" text-anchor="middle" fill="#555" >1</text>
<text x="1405.7" y="1263.8" font-size="8" text-anchor="middle" fill="#555" >2</text>
<text x="1482.1" y="1263.8" font-size="8" text-anchor="middle" fill="#555" >3</text>
<text x="1214.4" y="1279" font-size="10.8" text-anchor="middle" fill="#444" >Log2FoldChange</text>
<text transform="translate(925.2 1035) rotate(-90)" font-size="11.3" text-anchor="middle" fill="#555" textLength="137" lengthAdjust="spacingAndGlyphs" >-log10(P_value_adjusted)</text>
<path d="M1234.5 830V1250.3M1272.5 830V1250.3M947.5 1248.3H1482" fill="none" stroke="#aaa" stroke-width="0.7" stroke-dasharray="2.5 2"/>
<g fill="none" stroke-linecap="round" transform="scale(0.5)">
<path d="M2216 1654h0m23 152h0m-313 14h0m336 6h0m-237 11h0m99 20h0m214 112h0m-115 25h0m39 26h0m-38 10h0m0 5h0m-191 8h0m205 15h0m30 21h0m-56 6h0m5 6h0m57 4h0m53 31h0m16-3h0m3 3h0m-36 29h0m-52 6h0m8 4h0m7 5h0m153 9h0m-158 9h0m52 0h0m87-2h0m-263 9h0m126 4h0m68-4h0m30-4h0m-45 18h0m3-8h0m37 4h0m16-1h0m21 5h0m-58 4h0m90 2h0m12 1h0m-97 7h0m101 1h0m-81 11h0m1 1h0m38-2h0m37 5h0m15-4h0m-119 10h0m12 3h0m34 1h0m42-3h0m-45 7h0m48 0h0m-211 7h0m98 9h0m60 0h0m19-1h0m-184 7h0m90-5h0m50 7h0m24 2h0m21-1h0m36 0h0m10-6h0m-184 10h0m37 7h0m46-4h0m6-5h0m7 6h0m27-3h0m11 3h0m19 1h0m14 1h0m-72 5h0m52 2h0m39-3h0m-240 14h0m185-4h0m33-2h0m29 9h0m-175 3h0m14 1h0m64 6h0m2-9h0m1 3h0m14 2h0m8-2h0m8-2h0m13 4h0m13-5h0m18 2h0m2 2h0m17-2h0m-147 13h0m4 0h0m15-4h0m2 3h0m50 5h0m15-4h0m8 4h0m7-4h0m3 4h0m7-2h0m36-6h0m7-1h0m-115 18h0m13-7h0m14 8h0m59-8h0m5 5h0m12-3h0m5-3h0m7 7h0m1-6h0m6 7h0m2-4h0m-211 8h0m38 4h0m83-2h0m0 2h0m6 3h0m2-3h0m3-3h0m10-1h0m0 7h0m6-3h0m2 3h0m4-5h0m2 1h0m2-5h0m0 9h0m1-7h0m1 2h0m7-4h0m6 1h0m3 4h0m0 1h0m8-1h0m1 3h0m2 0h0m4-8h0m0 7h0m10-3h0m-103 11h0m6 2h0m13 0h0m2 1h0m7-6h0m26 2h0m0 3h0m6 1h0m1-7h0m1 6h0m3-1h0m4 3h0m6 0h0m2-9h0m0 6h0m1 3h0m2-4h0m3-4h0m0 5h0m6-3h0m14 6h0m3 0h0m5-6h0m-187 13h0m26 3h0m58-1h0m15-8h0m3 2h0m4 0h0m13 6h0m10-6h0m1 7h0m1 0h0m13-8h0m1 1h0m2-2h0m0 7h0m10-4h0m2-2h0m3 4h0m6-3h0m6 3h0m0 3h0m1-8h0m3 1h0m0 3h0m6-2h0m0 1h0m0 2h0m4 0h0m-218 6h0m135 6h0m1-3h0m0 1h0m0 3h0m3-6h0m2 7h0m10-9h0m2 8h0m3-4h0m2-2h0m3-2h0m1 4h0m3-4h0m0 3h0m0 3h0m5-1h0m5 1h0m0 3h0m1-1h0m2-7h0m0 6h0m15 2h0m3-2h0m1 1h0m1 1h0m6-1h0m2-3h0m2-1h0m1-2h0m2 7h0m6-2h0m-384 4h0m246 0h0m45 0h0m13-1h0m3 8h0m3-1h0m4-1h0m10-3h0m1 0h0m7-2h0m1 2h0m4 6h0m4-8h0m5 3h0m7-3h0m0 6h0m4-3h0m1-2h0m0 1h0m0 1h0m0 4h0m1-2h0m0 2h0m2-1h0m1-1h0m2-5h0m2 5h0m2 3h0m4-4h0m3 3h0m5-8h0m2 5h0m3 4h0m1-5h0m-96 9h0m15 3h0m1 1h0m5 0h0m2-6h0m1 4h0m0 4h0m4-8h0m4 2h0m2 2h0m5-5h0m2 6h0m1-3h0m0 2h0m1 0h0m5 2h0m1 0h0m1-3h0m1-2h0m6 7h0m1-4h0m0 4h0m2-8h0m0 1h0m3 5h0m2-6h0m2 4h0m0 4h0m1-6h0m3 2h0m3 2h0m3-5h0m0 5h0m0 2h0m2-4h0m0 2h0m1-2h0m0 4h0m2-7h0m2 6h0m1-3h0m1 4h0m1-5h0m3 3h0m0 1h0m3-4h0m2-4h0m-137 18h0m49 0h0m13 1h0m2-2h0m3-4h0m1 1h0m0 1h0m4-5h0m3 1h0m2 8h0m3-2h0m7-5h0m2 2h0m1 1h0m1-3h0m0 5h0m2 1h0m2 0h0m1-5h0m0 6h0m1-6h0m3-3h0m0 2h0m0 5h0m1-7h0m2 0h0m1 4h0m3-3h0m0 7h0m2-8h0m1 4h0m0 1h0m2 3h0m1 0h0m2-6h0m1 2h0m1-4h0m0 3h0m0 6h0m2-8h0m1 3h0m0 1h0m1 4h0m1-4h0m1-5h0m0 1h0m0 2h0m0 6h0m3-3h0m0 1h0m1-5h0m1 3h0m1 0h0m3 4h0m1-1h0m1-3h0m2 2h0m2-5h0m1-2h0m-216 16h0m64-6h0m64 0h0m1 3h0m12-1h0m3 0h0m3 0h0m1 0h0m2 4h0m1-5h0m3 3h0m3 1h0m1 1h0m2-6h0m1 8h0m1-3h0m0 1h0m2-1h0m0 4h0m1-3h0m1 1h0m3-2h0m2 1h0m0 3h0m2-6h0m2 5h0m0 1h0m1-6h0m0 5h0m1-4h0m1 2h0m1-4h0m0 2h0m1-2h0m0 4h0m3 3h0m1-6h0m4-3h0m2 0h0m0 7h0m1-2h0m0 3h0m2 1h0m1-6h0m0 5h0m1-5h0m2 2h0m0 2h0m1-1h0m1 0h0m0 1h0m1 0h0m1-6h0m1 6h0m0 1h0m1-2h0m1-4h0m0 3h0m2-1h0m1-1h0m0 1h0m1-3h0m0 4h0m0 3h0m1 0h0m2-1h0m1-2h0m0 2h0m2 2h0m1-5h0m-140 11h0m59-5h0m6 3h0m3-1h0m1-1h0m0 2h0m8 1h0m7-4h0m1 2h0m2-2h0m0 8h0m1-8h0m2 7h0m1-7h0m1 1h0m1 4h0m1 4h0m1-8h0m0 5h0m0 2h0m3-7h0m0 5h0m1-4h0m1 5h0m1-5h0m0 6h0m1-2h0m1-3h0m1 0h0m1-1h0m0 3h0m0 1h0m1-4h0m0 2h0m0 2h0m1-3h0m2 0h0m0 3h0m1-3h0m1 6h0m1-2h0m1 1h0m1-8h0m1 2h0m0 5h0m1-4h0m0 3h0m0 2h0m1-8h0m3 1h0m1 5h0m1 3h0m1-5h0m0 4h0m1-5h0m0 2h0m1-3h0m0 4h0m0 2h0m1-6h0m0 4h0m1 2h0m1-5h0m3 4h0m1-4h0m0 6h0m1-8h0m0 5h0m1-5h0m0 8h0m1-2h0m1-5h0m3-2h0m0 1h0m-243 14h0m62 3h0m82-1h0m28-6h0m8-1h0m3 0h0m3 7h0m3-4h0m0 5h0m1-6h0m1 1h0m0 3h0m1-1h0m1 2h0m1-7h0m0 6h0m1-4h0m0 5h0m1-3h0m1-4h0m0 1h0m1 3h0m1 4h0m1-2h0m0 2h0m1-1h0m1-4h0m0 2h0m0 4h0m2-5h0m4-4h0m0 2h0m0 7h0m1-8h0m1 1h0m0 1h0m0 2h0m0 4h0m2-6h0m0 1h0m1-4h0m1 0h0m0 6h0m1-2h0m0 3h0m1-4h0m0 5h0m1-7h0m0 5h0m2-6h0m1 4h0m0 2h0m1-6h0m0 1h0m2-1h0m0 5h0m1-3h0m1 4h0m1-6h0m0 8h0m0 1h0m1-8h0m0 3h0m0 1h0m1-4h0m0 1h0m0 5h0m1-3h0m0 4h0m1-7h0m0 1h0m1-1h0m1 5h0m0 3h0m1-7h0m0 3h0m0 2h0m0 2h0m1-7h0m0 6h0m0 1h0m2-9h0m0 5h0m1-5h0m1 2h0m2 0h0m0 1h0m1 0h0m0 3h0m1-1h0m0 2h0m1-7h0m0 4h0m0 4h0m-98 7h0m18 3h0m19 1h0m4-5h0m1 3h0m1-4h0m0 1h0m3-2h0m0 4h0m2 2h0m1-4h0m0 2h0m1-5h0m1 1h0m1 6h0m1-8h0m1 6h0m0 3h0m2-9h0m0 7h0m0 1h0m1-6h0m0 4h0m0 2h0m1-6h0m0 7h0m2-3h0m1 2h0m0 1h0m1-1h0m2-6h0m0 6h0m1-1h0m1-5h0m0 6h0m0 1h0m1-1h0m0 1h0m1-9h0m0 7h0m1-6h0m1 1h0m0 1h0m0 3h0m1-3h0m0 1h0m0 2h0m1-3h0m0 2h0m0 1h0m1-4h0m0 1h0m0 1h0m0 5h0m1-7h0m0 5h0m2-7h0m0 5h0m0 3h0m0 1h0m3-4h0m0 2h0m0 1h0m1-8h0m0 9h0m1-6h0m0 1h0m0 1h0m1-3h0m0 6h0m1-6h0m0 2h0m0 3h0m0 2h0m1-2h0m1-6h0m0 1h0m1-2h0m0 3h0m0 5h0m1-8h0m0 5h0m0 1h0m0 3h0m1-2h0m0 1h0m1-5h0m0 5h0m0 1h0m1-8h0m1 0h0m0 2h0m1-3h0m0 6h0m0 2h0m1-8h0m0 2h0m0 4h0m0 1h0m1-4h0m0 1h0m0 1h0m1-5h0m0 6h0m1-6h0m0 4h0m0 4h0m1-8h0m0 5h0m1-2h0m0 4h0m1-6h0m-60 12h0m1 2h0m4-3h0m1 0h0m1 3h0m1-3h0m0 5h0m2 0h0m1-5h0m0 7h0m1-9h0m1 2h0m2 7h0m1-6h0m1 0h0m0 2h0m0 3h0m1-5h0m0 5h0m0 1h0m1-3h0m0 1h0m0 1h0m1-1h0m0 1h0m0 1h0m1-7h0m1 1h0m0 4h0m1-4h0m0 4h0m1-1h0m0 1h0m0 1h0m1-8h0m0 3h0m0 1h0m0 5h0m1-8h0m0 3h0m0 4h0m1-3h0m0 2h0m1-4h0m1-3h0m0 3h0m0 3h0m1-6h0m0 5h0m1-5h0m0 3h0m0 2h0m0 1h0m0 1h0m0 1h0m1-7h0m0 3h0m0 1h0m0 1h0m0 3h0m1-7h0m0 1h0m0 1h0m0 5h0m1-8h0m0 2h0m0 3h0m1-5h0m0 7h0m1 1h0m2-7h0m0 6h0m0 1h0m1-6h0m0 4h0m1-3h0m0 4h0m1-7h0m0 1h0m0 2h0m0 5h0m1-9h0m0 9h0m1-6h0m0 4h0m1-7h0m0 3h0m1 1h0m0 5h0m1-6h0m1 2h0m1-5h0m0 1h0m0 8h0m1-5h0m1-3h0m0 1h0m0 2h0m0 2h0m0 1h0m1-6h0m0 4h0m0 2h0m0 1h0m0 1h0m1-8h0m0 3h0m0 1h0m0 3h0m1-8h0m0 4h0m0 5h0m1-8h0m0 2h0m0 2h0m0 3h0m0 1h0m1-9h0m0 7h0m1-7h0m0 1h0m1 0h0m0 5h0m0 1h0m0 1h0m0 1h0m1-7h0m0 1h0m0 5h0m0 1h0m1-7h0m0 2h0m0 1h0m1-3h0m-55 8h0m2 0h0m3 0h0m2 0h0m2 9h0m1-1h0m1-7h0m0 8h0m3-4h0m1-2h0m0 5h0m1-7h0m1 0h0m0 2h0m0 3h0m1-2h0m0 1h0m0 4h0m1-9h0m0 2h0m0 1h0m0 3h0m1-6h0m0 5h0m0 1h0m0 1h0m1-6h0m0 4h0m1-2h0m0 1h0m0 2h0m0 1h0m0 1h0m1-8h0m0 2h0m0 2h0m0 2h0m0 2h0m0 1h0m1-8h0m0 3h0m0 1h0m0 4h0m1-4h0m0 1h0m0 2h0m1-7h0m1-1h0m0 4h0m0 2h0m0 1h0m0 1h0m1-6h0m0 1h0m0 1h0m0 1h0m0 4h0m1-2h0m0 1h0m1-5h0m0 2h0m0 2h0m0 2h0m1-9h0m0 2h0m0 3h0m0 1h0m0 1h0m0 2h0m1-7h0m0 1h0m0 1h0m0 1h0m0 2h0m0 1h0m0 1h0m1-8h0m0 3h0m0 3h0m0 1h0m1-2h0m0 1h0m0 1h0m1-4h0m0 3h0m0 1h0m0 1h0m1-8h0m0 1h0m0 3h0m0 1h0m1-2h0m0 2h0m0 3h0m1-9h0m0 2h0m0 1h0m0 3h0m1-3h0m0 1h0m0 1h0m0 4h0m1-7h0m0 5h0m0 1h0m0 1h0m1-8h0m0 3h0m0 1h0m1-4h0m0 4h0m1-4h0m0 2h0m0 3h0m0 2h0m1-8h0m0 6h0m0 1h0m0 2h0m1-8h0m0 2h0m0 3h0m0 3h0m1-4h0m0 3h0m1-8h0m0 1h0m0 1h0m0 4h0m0 1h0m1-3h0m0 5h0m1-8h0m0 4h0m0 1h0m0 2h0m0 1h0m1-9h0m0 1h0m0 4h0m0 1h0m0 2h0m1-8h0m0 7h0m0 1h0m1-8h0m0 3h0m0 1h0m0 1h0m0 1h0m0 3h0m1-4h0m0 3h0m1-7h0m0 5h0m1 2h0m1-8h0m-51 10h0m4 2h0m0 5h0m1-3h0m1-1h0m0 6h0m2-9h0m2 9h0m1-3h0m0 3h0m1-8h0m0 2h0m1 0h0m0 6h0m1-8h0m0 2h0m0 3h0m0 1h0m1-4h0m0 2h0m0 3h0m1-5h0m1-3h0m0 5h0m0 4h0m1-9h0m0 1h0m0 2h0m0 4h0m0 1h0m0 1h0m1-9h0m0 1h0m0 1h0m0 3h0m0 1h0m0 3h0m1-9h0m0 6h0m0 1h0m1-7h0m0 2h0m0 2h0m0 1h0m0 1h0m0 1h0m0 2h0m1-6h0m0 4h0m0 1h0m1-7h0m0 1h0m0 4h0m1-5h0m0 5h0m0 1h0m0 1h0m0 1h0m1-9h0m0 1h0m0 2h0m0 1h0m0 5h0m1-8h0m0 3h0m0 3h0m0 2h0m1-9h0m0 1h0m0 1h0m0 2h0m0 4h0m0 1h0m1-9h0m0 4h0m0 3h0m1-4h0m0 1h0m0 1h0m0 2h0m0 1h0m0 1h0m1-9h0m0 2h0m0 1h0m0 5h0m0 1h0m1-9h0m0 1h0m0 5h0m0 2h0m0 1h0m1-9h0m0 1h0m0 2h0m0 1h0m0 4h0m1-8h0m0 3h0m0 2h0m0 1h0m0 2h0m0 1h0m1-9h0m0 2h0m0 5h0m0 1h0m1-8h0m0 2h0m0 2h0m0 1h0m0 1h0m0 1h0m0 1h0m1-7h0m0 1h0m0 7h0m1-9h0m0 2h0m0 1h0m0 1h0m0 1h0m0 1h0m0 3h0m1-9h0m0 1h0m0 1h0m0 1h0m0 3h0m0 1h0m0 2h0m1-8h0m0 1h0m0 2h0m0 3h0m1-7h0m0 1h0m0 1h0m0 2h0m0 3h0m0 1h0m1-8h0m0 1h0m0 1h0m0 2h0m0 1h0m0 2h0m0 1h0m1-8h0m0 5h0m0 1h0m0 1h0m0 2h0m1-4h0m0 2h0m0 1h0m1-6h0m0 1h0m0 2h0m0 2h0m0 1h0m0 1h0m1-9h0m0 1h0m0 1h0m0 1h0m0 4h0m0 2h0m1-8h0m0 1h0m0 1h0m0 2h0m0 1h0m0 2h0m1-6h0m0 1h0m0 1h0m0 1h0m0 1h0m0 1h0m0 1h0m0 1h0m1-9h0m0 1h0m0 1h0m0 1h0m0 1h0m0 4h0m0 1h0m1-6h0m0 3h0m0 1h0m1-7h0m0 1h0m0 1h0m0 1h0m0 2h0m0 1h0m-42 5h0m4 2h0m0 3h0m2-4h0m1-1h0m0 5h0m0 3h0m1-6h0m0 1h0m0 1h0m0 4h0m1-9h0m0 2h0m0 1h0m0 3h0m1-6h0m0 1h0m0 2h0m0 5h0m1-4h0m0 5h0m1-9h0m0 1h0m0 1h0m0 1h0m0 4h0m1-1h0m0 2h0m0 1h0m1-9h0m0 2h0m0 2h0m0 2h0m1-5h0m0 4h0m0 2h0m0 1h0m1-5h0m0 1h0m0 3h0m1-5h0m0 7h0m1-6h0m0 1h0m1-1h0m0 3h0m0 1h0m0 1h0m1-7h0m0 3h0m0 2h0m0 2h0m1-6h0m0 1h0m0 1h0m0 2h0m0 2h0m0 1h0m1-9h0m0 2h0m0 4h0m0 1h0m0 2h0m1-8h0m0 2h0m0 3h0m1-6h0m0 1h0m0 1h0m0 3h0m0 1h0m0 2h0m0 1h0m1-9h0m0 1h0m0 1h0m0 2h0m0 2h0m0 1h0m0 1h0m0 1h0m1-9h0m0 1h0m0 1h0m0 4h0m0 1h0m0 1h0m1-6h0m0 3h0m0 2h0m0 1h0m1-8h0m0 1h0m0 1h0m0 1h0m0 1h0m0 3h0m0 1h0m0 1h0m1-9h0m0 1h0m0 2h0m0 1h0m0 1h0m0 1h0m0 2h0m0 1h0m1-9h0m0 2h0m0 1h0m0 1h0m0 1h0m0 1h0m0 2h0m1-7h0m0 1h0m0 1h0m0 2h0m0 1h0m0 1h0m1-6h0m0 1h0m0 1h0m0 1h0m0 1h0m0 3h0m0 1h0m1-9h0m0 1h0m0 1h0m0 2h0m0 1h0m0 2h0m0 1h0m0 1h0m1-8h0m0 1h0m0 1h0m0 2h0m0 1h0m0 1h0m0 2h0m1-6h0m0 3h0m0 2h0m0 1h0m1-9h0m0 1h0m0 4h0m0 1h0m0 1h0m0 1h0m1-8h0m0 1h0m0 1h0m0 1h0m0 1h0m0 2h0m0 1h0m0 1h0m0 1h0m1-9h0m0 3h0m0 2h0m0 4h0m1-6h0m0 1h0m0 2h0m0 1h0m0 1h0m0 1h0m1-4h0m0 2h0m0 1h0m1-8h0m0 2h0m0 2h0m0 1h0m0 1h0m0 2h0m0 1h0m1-9h0m0 3h0m0 2h0m0 1h0m0 1h0m0 2h0m1 0h0m-39 1h0m2 0h0m1 1h0m2 2h0m2-2h0m0 5h0m1-5h0m0 2h0m1-2h0m0 1h0m0 3h0m1-4h0m0 1h0m0 2h0m1-1h0m1 0h0m1-1h0m0 1h0m0 2h0m0 2h0m0 1h0m1-7h0m0 4h0m1-5h0m0 1h0m0 1h0m1 1h0m0 2h0m0 3h0m1-8h0m0 1h0m0 1h0m0 2h0m0 1h0m0 2h0m1-7h0m0 1h0m0 1h0m0 1h0m0 3h0m1-5h0m0 1h0m0 1h0m0 1h0m0 1h0m1-2h0m0 1h0m0 4h0m1-3h0m0 2h0m0 1h0m1-8h0m0 3h0m0 3h0m0 1h0m1-7h0m0 1h0m0 1h0m0 1h0m0 4h0m1-7h0m0 1h0m0 1h0m0 1h0m0 2h0m0 1h0m1-3h0m0 1h0m1-4h0m0 1h0m0 3h0m0 1h0m0 2h0m1-7h0m0 3h0m0 4h0m1-7h0m0 1h0m0 1h0m0 2h0m0 1h0m1-4h0m0 1h0m0 1h0m0 2h0m0 2h0m0 1h0m1-8h0m0 1h0m0 1h0m0 1h0m0 1h0m0 1h0m0 2h0m0 1h0m1-7h0m0 1h0m0 1h0m0 1h0m0 3h0m0 1h0m1-8h0m0 2h0m0 2h0m0 1h0m0 3h0m0 1h0m1-9h0m0 2h0m0 2h0m0 1h0m0 1h0m0 3h0m1-9h0m0 8h0m1-8h0m0 1h0m0 1h0m0 2h0m0 2h0m0 1h0m1-7h0m0 1h0m0 1h0m0 1h0m0 3h0m1-6h0m0 1h0m0 2h0m0 1h0m1 1h0m1-4h0m0 5h0" stroke="#7aadb6" stroke-width="3.6"/>
<path d="M2727 2104h0m62 33h0m-79 9h0m128 13h0m-65 19h0m-49 10h0m15 1h0m104-4h0m-84 19h0m-31 15h0m80-6h0m17 3h0m-25 4h0m20 0h0m-157 14h0m100 3h0m66-5h0m9 1h0m-179 21h0m161-4h0m-11 17h0m1-5h0m-141 11h0m-11 15h0m15-4h0m47 11h0m16 0h0m1 3h0m-83 3h0m0 6h0m5 1h0m1-2h0m2-2h0m3 1h0m3 3h0m1-2h0m1-3h0m2 0h0m1 4h0m1 2h0m3 0h0m4-2h0m47-1h0m25 2h0m-113 10h0m12 0h0m2-8h0m4 1h0m0 3h0m0 5h0m4-2h0m1-1h0m4-6h0m0 3h0m1 5h0m5-1h0m1 1h0m8-6h0m1-1h0m3 2h0m14 3h0m102-3h0m14 4h0m-196 6h0m15-2h0m3 7h0m2-3h0m2-5h0m4 3h0m4 1h0m1 4h0m2-4h0m2 3h0m1-5h0m0 2h0m1 3h0m3-2h0m1-1h0m32 3h0m26-5h0m17 2h0m55 0h0m-179 14h0m4 1h0m21-6h0m2 0h0m2 1h0m1-3h0m4 8h0m3-1h0m2-2h0m1-2h0m0 5h0m1-9h0m2 3h0m1 0h0m7 2h0m3-4h0m8 0h0m-67 18h0m18-9h0m1 9h0m2-9h0m2 8h0m4-5h0m1-1h0m3-1h0m3 5h0m3 2h0m2 1h0m1 0h0m1-1h0m1-7h0m0 2h0m2 5h0m2-8h0m6 1h0m37 2h0m17 3h0m-133 9h0m15 2h0m1-7h0m22 8h0m2-7h0m4 8h0m4 0h0m1-9h0m1 0h0m2 2h0m1-1h0m0 1h0m0 2h0m0 2h0m3 1h0m4-7h0m0 9h0m1-7h0m2 5h0m2-1h0m2-5h0m0 1h0m3 2h0m0 1h0m3-5h0m0 8h0m2-8h0m15 0h0m-69 12h0m4 5h0m3-1h0m6 3h0m1 0h0m3-5h0m2-3h0m1 0h0m0 6h0m2-6h0m1-1h0m1 2h0m5 0h0m2 0h0m1 6h0m1-3h0m6-2h0m26 5h0m48-8h0m29 6h0m-156 12h0m11-4h0m4 2h0m2-3h0m8-1h0m0 2h0m2 4h0m6-4h0m1-2h0m1 6h0m2-2h0m3-3h0m1 2h0m0 1h0m2 0h0m2-4h0m0 7h0m1-9h0m1 8h0m2-8h0m0 2h0m24 5h0m5-5h0m-92 17h0m6-2h0m3-5h0m8-1h0m5 7h0m9-2h0m0 1h0m3-1h0m3 3h0m3-9h0m1 4h0m2-3h0m1 5h0m1-5h0m0 8h0m2-1h0m1-5h0m0 2h0m0 3h0m3-7h0m1 1h0m7 4h0m0 3h0m1-7h0m1 3h0m2-4h0m5 0h0m18 8h0m25-6h0m-124 12h0m8 4h0m17-4h0m0 3h0m2 1h0m3-9h0m2 8h0m1-3h0m2 2h0m0 2h0m1-3h0m2 2h0m1-2h0m4-1h0m0 1h0m3-6h0m1 4h0m0 3h0m2-5h0m0 6h0m1 1h0m2-2h0m4 2h0m2 0h0m1-6h0m0 1h0m3-3h0m2 0h0m8 4h0m1-5h0m1 9h0m1-7h0m0 7h0m7-8h0m1 4h0m18 3h0m-105 11h0m10-6h0m6 1h0m0 5h0m1 0h0m5-4h0m4-4h0m3 5h0m3-2h0m0 3h0m1-1h0m0 2h0m3-6h0m0 4h0m0 3h0m1-9h0m0 2h0m0 1h0m2-3h0m0 3h0m1 1h0m0 2h0m2 1h0m1-1h0m0 3h0m1-9h0m1 2h0m1 7h0m1-3h0m1-1h0m1 0h0m2-5h0m0 3h0m0 4h0m1-7h0m1 7h0m1-7h0m2 3h0m0 4h0m2-4h0m0 6h0m1-9h0m8 0h0m2 2h0m6-2h0m1 7h0m34-5h0m-118 11h0m12 6h0m2 0h0m3-4h0m1-1h0m4 0h0m1-3h0m7-1h0m0 6h0m3 0h0m2-2h0m0 1h0m0 4h0m1-7h0m1-1h0m0 5h0m0 2h0m2-6h0m0 7h0m1-9h0m0 5h0m0 1h0m1 2h0m1-7h0m0 7h0m1-7h0m0 3h0m2 2h0m1 1h0m0 1h0m0 1h0m1-7h0m0 7h0m1-3h0m1-5h0m1 1h0m2 7h0m2-6h0m2 0h0m0 6h0m1-9h0m1 0h0m0 3h0m0 3h0m1-3h0m1 4h0m3-4h0m1 1h0m3 5h0m3-5h0m1-1h0m0 1h0m1-2h0m1-1h0m0 4h0m15 4h0m5-5h0m3-3h0m3-1h0m2 2h0m-95 17h0m4-7h0m1 2h0m5-4h0m0 5h0m2-1h0m1-1h0m1-1h0m2 2h0m0 3h0m1 1h0m1-1h0m0 2h0m1-6h0m0 4h0m1-4h0m0 3h0m0 1h0m0 1h0m1-4h0m0 3h0m1-3h0m0 1h0m1 1h0m1 1h0m1-2h0m1 3h0m1-5h0m0 5h0m2-5h0m0 4h0m1-3h0m1-4h0m0 3h0m1 1h0m0 1h0m2-4h0m0 7h0m1-6h0m0 1h0m0 2h0m0 2h0m0 1h0m1-6h0m0 3h0m1 2h0m1-5h0m0 2h0m0 5h0m3 0h0m1-9h0m0 4h0m1-1h0m0 1h0m0 4h0m1-8h0m0 8h0m1-4h0m1-3h0m0 8h0m1-8h0m0 2h0m1 3h0m6 2h0m2-4h0m4 5h0m4-9h0m0 4h0m2 5h0m11 0h0m3 0h0m-86 1h0m7 4h0m3 1h0m1 4h0m2-7h0m3 7h0m1-8h0m0 1h0m0 4h0m0 1h0m1 1h0m1-4h0m1 2h0m1-4h0m1 4h0m0 1h0m0 2h0m1-3h0m0 1h0m1-5h0m0 2h0m0 4h0m1-6h0m0 7h0m2-3h0m1-2h0m0 1h0m1-5h0m1 0h0m0 1h0m0 4h0m0 2h0m1-5h0m0 2h0m0 1h0m0 3h0m1-3h0m0 3h0m1-8h0m1 0h0m0 4h0m0 3h0m0 2h0m1-4h0m0 4h0m1-9h0m0 2h0m0 5h0m1-6h0m0 8h0m1-9h0m0 5h0m1 2h0m1-6h0m1 0h0m1-1h0m2 1h0m0 1h0m1 1h0m0 1h0m1-2h0m0 2h0m1-2h0m1 1h0m1 6h0m3-8h0m2 3h0m0 1h0m0 4h0m1-9h0m2 2h0m3-1h0m0 8h0m10 0h0m1-4h0m1 3h0m4-6h0m1-2h0m5 4h0m3-4h0m5 3h0m1 5h0m-94 10h0m1 0h0m7 1h0m1-2h0m1-7h0m0 1h0m1 3h0m2 5h0m1-7h0m0 6h0m0 1h0m1-6h0m1-2h0m0 2h0m2 2h0m0 3h0m1-3h0m0 2h0m1-1h0m1-5h0m0 5h0m0 2h0m1-7h0m0 8h0m1-4h0m0 2h0m1-3h0m0 2h0m0 1h0m1-5h0m0 1h0m0 3h0m1-4h0m0 1h0m1 4h0m0 2h0m1-8h0m0 1h0m0 7h0m1-9h0m0 4h0m1-4h0m0 1h0m1 0h0m0 5h0m0 2h0m1-8h0m0 1h0m0 6h0m3-5h0m0 1h0m0 1h0m1-4h0m0 4h0m0 3h0m0 2h0m1-4h0m0 4h0m1-2h0m1-7h0m1 5h0m0 1h0m0 3h0m1-6h0m1-3h0m0 8h0m1-8h0m0 5h0m1-1h0m0 1h0m1-4h0m1 5h0m1 3h0m1-8h0m0 4h0m0 4h0m3-7h0m0 2h0m0 4h0m3-8h0m0 3h0m0 3h0m2-6h0m0 7h0m1-5h0m1 7h0m1-8h0m3 1h0m0 7h0m2-2h0m4-3h0m0 3h0m1-3h0m2 0h0m5-3h0m0 1h0m1 6h0m3-8h0m1 3h0m11-2h0m-90 13h0m0 4h0m2-7h0m0 1h0m0 5h0m1-1h0m1 0h0m2-4h0m0 2h0m0 5h0m1 0h0m1-6h0m2 5h0m1-7h0m0 4h0m0 1h0m1-2h0m0 1h0m0 2h0m0 1h0m1 0h0m0 1h0m1-6h0m0 1h0m0 5h0m1-8h0m0 1h0m0 5h0m0 2h0m1-4h0m0 3h0m1-3h0m0 2h0m0 1h0m1-5h0m0 5h0m1-7h0m0 1h0m0 1h0m0 2h0m0 4h0m1-8h0m0 1h0m0 4h0m0 2h0m1-8h0m1 0h0m0 4h0m0 1h0m0 2h0m0 1h0m0 1h0m1-8h0m0 1h0m0 3h0m0 2h0m0 2h0m1-1h0m1-7h0m0 2h0m0 3h0m1-5h0m0 1h0m0 3h0m0 1h0m0 2h0m1-8h0m0 1h0m0 1h0m0 1h0m0 3h0m0 1h0m0 2h0m1-8h0m0 8h0m1-5h0m1-1h0m0 4h0m0 1h0m0 1h0m1-9h0m0 1h0m0 4h0m0 1h0m1-6h0m0 2h0m0 4h0m0 2h0m1-6h0m0 2h0m0 5h0m1-9h0m0 1h0m0 4h0m0 1h0m0 1h0m0 2h0m2-9h0m0 1h0m0 1h0m0 1h0m0 2h0m1-2h0m1-3h0m0 7h0m1-7h0m1 2h0m0 3h0m2-5h0m2 6h0m1-6h0m0 6h0m1-3h0m0 4h0m2-3h0m2-2h0m4 2h0m0 3h0m0 2h0m3-6h0m0 6h0m1-8h0m1 2h0m0 4h0m1-6h0m7 5h0m0 2h0m-70 9h0m0 1h0m1-7h0m0 1h0m0 6h0m1-1h0m1-5h0m0 1h0m0 2h0m0 2h0m1-2h0m0 2h0m0 2h0m1-8h0m0 4h0m1-5h0m0 8h0m1-7h0m0 3h0m0 5h0m1-8h0m0 1h0m0 3h0m0 1h0m0 1h0m0 1h0m1-1h0m0 1h0m1-4h0m0 1h0m0 1h0m1-1h0m0 2h0m0 1h0m1-6h0m0 1h0m0 2h0m0 3h0m1-7h0m0 1h0m0 4h0m0 1h0m0 2h0m1-7h0m0 5h0m0 1h0m0 1h0m1-9h0m0 5h0m0 2h0m0 1h0m0 1h0m1-5h0m0 2h0m1-6h0m0 4h0m0 1h0m0 2h0m1-7h0m0 3h0m0 4h0m0 1h0m0 1h0m1-8h0m0 3h0m0 4h0m0 1h0m1-9h0m0 3h0m0 1h0m0 1h0m0 2h0m0 1h0m1-4h0m0 5h0m1-8h0m0 3h0m0 2h0m0 1h0m1-5h0m0 4h0m1-5h0m0 1h0m0 4h0m0 3h0m1-7h0m0 2h0m0 2h0m0 2h0m0 1h0m1-6h0m0 1h0m0 5h0m1-8h0m0 5h0m1-4h0m0 1h0m0 2h0m0 4h0m1-7h0m0 2h0m0 1h0m0 2h0m1-6h0m0 1h0m0 2h0m0 1h0m0 1h0m0 3h0m1-4h0m0 4h0m1-8h0m0 7h0m1-5h0m1-2h0m0 2h0m0 2h0m0 3h0m1-8h0m0 1h0m0 4h0m1-5h0m1 6h0m1-2h0m0 1h0m1 0h0m1 0h0m4-1h0m1-2h0m2 2h0m1-4h0m0 4h0m1 0h0m2 1h0m3-4h0m4 1h0m5 0h0m2 1h0m4-2h0m2 1h0m-71 17h0m1-8h0m0 4h0m0 1h0m0 2h0m1-8h0m0 2h0m0 1h0m0 1h0m0 2h0m0 1h0m1-7h0m0 1h0m0 1h0m0 4h0m0 1h0m0 1h0m0 1h0m1-4h0m0 4h0m1-6h0m0 2h0m0 3h0m0 1h0m1-7h0m0 1h0m0 2h0m0 1h0m0 1h0m0 1h0m1-8h0m0 1h0m0 1h0m0 1h0m0 3h0m0 1h0m0 1h0m0 1h0m1-6h0m0 3h0m0 2h0m0 1h0m1-7h0m0 2h0m0 1h0m0 1h0m0 1h0m0 2h0m1-9h0m0 3h0m0 1h0m0 1h0m0 1h0m0 2h0m0 1h0m1-9h0m0 1h0m0 2h0m0 1h0m0 2h0m0 1h0m0 2h0m1-9h0m0 2h0m0 1h0m0 1h0m0 1h0m0 2h0m1-6h0m0 1h0m0 1h0m0 1h0m0 2h0m1-6h0m0 4h0m0 2h0m0 2h0m1-7h0m0 1h0m0 4h0m0 1h0m0 1h0m0 1h0m1-9h0m0 1h0m0 1h0m0 3h0m0 2h0m1-7h0m0 1h0m0 1h0m0 2h0m0 2h0m0 1h0m0 1h0m0 1h0m1-7h0m0 2h0m0 1h0m0 1h0m0 2h0m1-7h0m0 2h0m0 1h0m0 2h0m1-5h0m0 1h0m0 1h0m0 1h0m0 2h0m1-5h0m0 2h0m0 2h0m0 1h0m0 1h0m0 2h0m1-9h0m1 4h0m0 1h0m0 2h0m0 1h0m0 1h0m1-9h0m0 1h0m0 1h0m0 1h0m0 2h0m0 1h0m1-3h0m0 1h0m0 1h0m0 3h0m1-7h0m0 2h0m0 3h0m1-5h0m0 3h0m0 1h0m0 1h0m0 1h0m1-6h0m0 5h0m0 2h0m1-3h0m1 2h0m2 0h0m0 2h0m1-8h0m0 6h0m0 2h0m1-9h0m0 1h0m1 0h0m0 1h0m0 4h0m2-2h0m2 2h0m2 1h0m3-6h0m2 1h0m1 0h0m3 3h0m-54 9h0m1-2h0m3-1h0m0 3h0m0 2h0m0 1h0m1-7h0m0 1h0m0 2h0m0 1h0m0 2h0m0 1h0m0 1h0m0 1h0m1-9h0m0 1h0m0 1h0m0 2h0m0 1h0m0 1h0m0 3h0m1-8h0m0 1h0m0 1h0m0 1h0m0 1h0m0 1h0m0 1h0m0 1h0m0 1h0m1-9h0m0 1h0m0 1h0m0 1h0m0 1h0m0 1h0m0 1h0m0 1h0m0 1h0m1-8h0m0 1h0m0 1h0m0 1h0m0 2h0m0 1h0m0 2h0m0 1h0m1-9h0m0 1h0m0 1h0m0 1h0m0 1h0m0 1h0m0 1h0m0 1h0m0 1h0m0 1h0m1-9h0m0 1h0m0 1h0m0 1h0m0 1h0m0 1h0m0 1h0m0 1h0m0 1h0m0 1h0m1-9h0m0 2h0m0 1h0m0 1h0m0 1h0m0 1h0m0 1h0m0 2h0m1-9h0m0 1h0m0 2h0m0 2h0m0 1h0m1-4h0m0 2h0m0 1h0m0 2h0m0 2h0m1-9h0m0 1h0m0 1h0m0 1h0m0 1h0m0 1h0m0 1h0m0 1h0m0 1h0m0 1h0m1-9h0m0 1h0m0 1h0m0 1h0m0 1h0m0 1h0m0 1h0m0 2h0m1-8h0m0 3h0m0 1h0m0 3h0m0 2h0m1-9h0m0 1h0m0 3h0m0 4h0m0 1h0m1-6h0m0 1h0m0 3h0m1-7h0m0 1h0m0 2h0m0 1h0m0 1h0m0 2h0m0 1h0m1-8h0m0 3h0m0 1h0m0 1h0m0 2h0m1-7h0m0 1h0m0 2h0m0 1h0m0 5h0m1-9h0m0 1h0m0 3h0m0 1h0m1-2h0m0 3h0m0 1h0m0 1h0m1-7h0m0 1h0m0 1h0m1-1h0m0 2h0m1-1h0m1-2h0m0 1h0m0 1h0m0 3h0m0 1h0m1-7h0m0 1h0m1 4h0m0 1h0m1-5h0m0 2h0m0 4h0m1-7h0m1 3h0m0 2h0m1-5h0m1 0h0m1 0h0m3 0h0m0 1h0m1 0h0m-36 12h0m0 2h0m0 1h0m0 1h0m0 1h0m0 1h0m1-9h0m0 1h0m0 1h0m0 1h0m0 1h0m0 1h0m0 1h0m0 1h0m0 1h0m1-7h0m0 1h0m0 1h0m0 1h0m0 1h0m0 1h0m0 1h0m0 1h0m0 1h0m1-9h0m0 1h0m0 1h0m0 1h0m0 1h0m0 1h0m0 1h0m0 1h0m0 1h0m0 1h0m1-9h0m0 1h0m0 1h0m0 2h0m0 2h0m0 1h0m1-7h0m0 2h0m0 1h0m0 1h0m0 3h0m1-7h0m0 1h0m0 2h0m1-3h0m0 2h0m0 2h0m0 1h0m1-5h0m0 2h0m0 1h0m0 2h0m0 2h0m1-7h0m0 1h0m0 1h0m0 1h0m0 2h0m1-5h0m0 1h0m0 2h0m1-3h0m0 2h0m0 1h0m0 5h0m1-8h0m0 1h0m1 0h0m1-1h0m2 0h0m0 4h0m0 1h0m4 3h0m4-3h0m-24 5h0" stroke="#bf464c" stroke-width="3.6"/>
<path d="M2441 2499h0m3-1h0m2 1h0m10 0h0m3 0h0m3-2h0m1 1h0m3 0h0m6-1h0m75 1h0m17-1h0m6 2h0m8-1h0m2-1h0m1 0h0m3 1h0m10 1h0m3-1h0m4-1h0m10 2h0m4 0h0m15-1h0m3 0h0m3 1h0m2-1h0m5 0h0m-198 2h0m9 0h0m1 0h0m2 0h0m3 0h0m85 0h0m6 1h0m3-1h0m18 0h0m7 0h0m2 0h0m12 0h0m2 0h0m1 0h0m3 0h0m4 0h0m5 0h0m5 1h0m16-1h0m9 0h0m1 0h0m1 0h0" stroke="#3d4a57" stroke-width="3.2"/>
</g>
<rect x="1700" y="774.2" width="257.4" height="25.3" rx="2.5" fill="#fff" stroke="#b9b9b9" stroke-width="1"/>
<text x="1696" y="790.2" font-size="11.6" text-anchor="end" font-weight="bold" fill="#333" textLength="155" lengthAdjust="spacingAndGlyphs" >Please select one cell type:</text>
<text x="1707" y="791.1" font-size="11.2" font-weight="bold" fill="#333" >Excitatory Neuron</text>
<path d="M1945.4 785.4l6 0l-3 3.6z" fill="#888"/>
<text x="1935.4" y="791.5" font-size="14" text-anchor="middle" font-weight="bold" fill="#333" >×</text>
<path d="M1760.3 836V1236M1869.3 836V1236M1978.3 836V1236M2085.3 836V1236" stroke="#e6e6e6" stroke-width="1" fill="none"/>
<rect x="1651.3" y="836.7" width="427.3" height="17.6" fill="#fc6f5f" stroke="#4a2a2a" stroke-width="0.7"/>
<rect x="1651.3" y="856.6" width="395.7" height="17.6" fill="#fc6f5f" stroke="#4a2a2a" stroke-width="0.7"/>
<rect x="1651.3" y="876.5" width="388" height="17.6" fill="#fc6f5f" stroke="#4a2a2a" stroke-width="0.7"/>
<rect x="1651.3" y="896.4" width="386.9" height="17.6" fill="#fc6f5f" stroke="#4a2a2a" stroke-width="0.7"/>
<rect x="1651.3" y="916.3" width="384.8" height="17.6" fill="#fc6f5f" stroke="#4a2a2a" stroke-width="0.7"/>
<rect x="1651.3" y="936.2" width="360.8" height="17.6" fill="#fc6f5f" stroke="#4a2a2a" stroke-width="0.7"/>
<rect x="1651.3" y="956.1" width="358.6" height="17.6" fill="#fc6f5f" stroke="#4a2a2a" stroke-width="0.7"/>
<rect x="1651.3" y="976" width="324.8" height="17.6" fill="#fc6f5f" stroke="#4a2a2a" stroke-width="0.7"/>
<rect x="1651.3" y="995.9" width="298.7" height="17.6" fill="#fc6f5f" stroke="#4a2a2a" stroke-width="0.7"/>
<rect x="1651.3" y="1015.8" width="261.6" height="17.6" fill="#fc6f5f" stroke="#4a2a2a" stroke-width="0.7"/>
<rect x="1623.4" y="1035.8" width="27.9" height="17.6" fill="#8e68c4" stroke="#33264a" stroke-width="0.7"/>
<rect x="1622.2" y="1055.7" width="29.1" height="17.6" fill="#8e68c4" stroke="#33264a" stroke-width="0.7"/>
<rect x="1622.2" y="1075.6" width="29.1" height="17.6" fill="#8e68c4" stroke="#33264a" stroke-width="0.7"/>
<rect x="1622.2" y="1095.5" width="29.1" height="17.6" fill="#8e68c4" stroke="#33264a" stroke-width="0.7"/>
<rect x="1622.2" y="1115.4" width="29.1" height="17.6" fill="#8e68c4" stroke="#33264a" stroke-width="0.7"/>
<rect x="1622.2" y="1135.3" width="29.1" height="17.6" fill="#8e68c4" stroke="#33264a" stroke-width="0.7"/>
<rect x="1622.2" y="1155.2" width="29.1" height="17.6" fill="#8e68c4" stroke="#33264a" stroke-width="0.7"/>
<rect x="1622.2" y="1175.1" width="29.1" height="17.6" fill="#8e68c4" stroke="#33264a" stroke-width="0.7"/>
<rect x="1622.2" y="1195" width="29.1" height="17.6" fill="#8e68c4" stroke="#33264a" stroke-width="0.7"/>
<rect x="1622.2" y="1214.9" width="29.1" height="17.6" fill="#8e68c4" stroke="#33264a" stroke-width="0.7"/>
<path d="M1542.1 835.5V1235M1542.1 835.8h-3.5M1542.1 855.7h-3.5M1542.1 875.6h-3.5M1542.1 895.5h-3.5M1542.1 915.4h-3.5M1542.1 935.3h-3.5M1542.1 955.2h-3.5M1542.1 975.1h-3.5M1542.1 995h-3.5M1542.1 1014.9h-3.5M1542.1 1034.8h-3.5M1542.1 1054.8h-3.5M1542.1 1074.7h-3.5M1542.1 1094.6h-3.5M1542.1 1114.5h-3.5M1542.1 1134.4h-3.5M1542.1 1154.3h-3.5M1542.1 1174.2h-3.5M1542.1 1194.1h-3.5M1542.1 1214h-3.5M1542.1 1233.9h-3.5" stroke="#444" stroke-width="0.8" fill="none"/>
<text x="1540.8" y="1255" font-size="8.2" text-anchor="middle" fill="#444" >-10</text>
<text x="1651.3" y="1255" font-size="8.2" text-anchor="middle" fill="#444" >0</text>
<text x="1760.3" y="1255" font-size="8.2" text-anchor="middle" fill="#444" >10</text>
<text x="1869.3" y="1255" font-size="8.2" text-anchor="middle" fill="#444" >20</text>
<text x="1978.3" y="1255" font-size="8.2" text-anchor="middle" fill="#444" >30</text>
<text x="2087.3" y="1255" font-size="8.2" text-anchor="middle" fill="#444" >40</text>
<rect x="2019.8" y="1024" width="115.7" height="67" fill="#fff" stroke="#d0d0d0" stroke-width="1.2"/>
<rect x="2021.7" y="1117.5" width="109.6" height="67.8" fill="#fff" stroke="#d0d0d0" stroke-width="1.2"/>
<rect x="2026.7" y="1032" width="33.3" height="18.5" fill="#fc6f5f" stroke="#999" stroke-width="0.5"/>
<text x="2066.5" y="1045.2" font-size="11.3" fill="#333" >UP_GO</text>
<rect x="2026.7" y="1065" width="33.3" height="18.5" fill="#8e68c4" stroke="#999" stroke-width="0.5"/>
<text x="2066.5" y="1078.5" font-size="11.3" fill="#333" >DOWN_GO</text>
<rect x="2027.5" y="1124.8" width="27.8" height="19.5" fill="#fc6f5f" stroke="#999" stroke-width="0.5"/>
<text x="2060.5" y="1139" font-size="10.5" fill="#333" >UP_KEGG</text>
<rect x="2027.5" y="1158.5" width="27.8" height="19.5" fill="#8e68c4" stroke="#999" stroke-width="0.5"/>
<text x="2060.5" y="1172.5" font-size="10.5" fill="#333" >DOWN_KEGG</text>
<path d="M459 1397V1945M459 1412.9h-3.5M459 1429h-3.5M459 1445.1h-3.5M459 1461.2h-3.5M459 1477.3h-3.5M459 1493.4h-3.5M459 1509.5h-3.5M459 1525.6h-3.5M459 1541.7h-3.5M459 1557.8h-3.5M459 1573.9h-3.5M459 1590h-3.5M459 1606.1h-3.5M459 1622.2h-3.5M459 1638.3h-3.5M459 1654.4h-3.5M459 1670.5h-3.5M459 1686.5h-3.5M459 1702.6h-3.5M459 1718.7h-3.5M459 1734.8h-3.5M459 1750.9h-3.5M459 1767h-3.5M459 1783.1h-3.5M459 1799.2h-3.5M459 1815.3h-3.5M459 1831.4h-3.5M459 1847.5h-3.5M459 1863.6h-3.5M459 1879.7h-3.5M459 1895.8h-3.5M459 1911.9h-3.5M459 1928h-3.5M459 1944.1h-3.5" stroke="#999" stroke-width="0.8" fill="none"/>
<path d="M459 1952.5H821.5M474.6 1952.5v4M532.6 1952.5v4M590 1952.5v4M647.7 1952.5v4M705.5 1952.5v4M763.2 1952.5v4M820.9 1952.5v4" stroke="#ccc" stroke-width="0.8" fill="none"/>
<text x="453.5" y="1411.6" font-size="9.1" text-anchor="end" fill="#444" >EFNA2_EPHA3</text>
<text x="453.5" y="1427.7" font-size="9.1" text-anchor="end" fill="#444" >MDK_PTPRZ1</text>
<text x="453.5" y="1443.8" font-size="9.1" text-anchor="end" fill="#444" >NRP2_VEGFA</text>
<text x="453.5" y="1459.9" font-size="9.1" text-anchor="end" fill="#444" >CXADR_FAM3C</text>
<text x="453.5" y="1476" font-size="9.1" text-anchor="end" fill="#444" >CADM3_EPB41L1</text>
<text x="453.5" y="1492.1" font-size="9.1" text-anchor="end" fill="#444" >CADM1_NECTIN3</text>
<text x="453.5" y="1508.2" font-size="9.1" text-anchor="end" fill="#444" >LRP6_CKLF</text>
<text x="453.5" y="1524.3" font-size="9.1" text-anchor="end" fill="#444" >VEGFA_EPHB2</text>
<text x="453.5" y="1540.4" font-size="9.1" text-anchor="end" fill="#444" >EPHA3_EFNA3</text>
<text x="453.5" y="1556.5" font-size="9.1" text-anchor="end" fill="#444" >EPHA4_EFNB3</text>
<text x="453.5" y="1572.6" font-size="9.1" text-anchor="end" fill="#444" >EPHB3_EFNB3</text>
<text x="453.5" y="1588.7" font-size="9.1" text-anchor="end" fill="#444" >EPHB2_EFNB2</text>
<text x="453.5" y="1604.8" font-size="9.1" text-anchor="end" fill="#444" >EFNA5_EPHA5</text>
<text x="453.5" y="1620.9" font-size="9.1" text-anchor="end" fill="#444" >EFNA3_EPHA5</text>
<text x="453.5" y="1637" font-size="9.1" text-anchor="end" fill="#444" >PLXNB1_SEMA4D</text>
<text x="453.5" y="1653.1" font-size="9.1" text-anchor="end" fill="#444" >FGFR2_XPR1</text>
<text x="453.5" y="1669.2" font-size="9.1" text-anchor="end" fill="#444" >FGFR2_NECTIN1</text>
<text x="453.5" y="1685.2" font-size="9.1" text-anchor="end" fill="#444" >EFNB2_EPHA4</text>
<text x="453.5" y="1701.3" font-size="9.1" text-anchor="end" fill="#444" >EFNA4_EPHA4</text>
<text x="453.5" y="1717.4" font-size="9.1" text-anchor="end" fill="#444" >FGFR2_EPHA4</text>
<text x="453.5" y="1733.5" font-size="9.1" text-anchor="end" fill="#444" >FGFR2_FGF9</text>
<text x="453.5" y="1749.6" font-size="9.1" text-anchor="end" fill="#444" >FGFR1_NCAM1</text>
<text x="453.5" y="1765.7" font-size="9.1" text-anchor="end" fill="#444" >EFNA4_EPHA7</text>
<text x="453.5" y="1781.8" font-size="9.1" text-anchor="end" fill="#444" >EFNA2_EPHA7</text>
<text x="453.5" y="1797.9" font-size="9.1" text-anchor="end" fill="#444" >MDK_SORL1</text>
<text x="453.5" y="1814" font-size="9.1" text-anchor="end" fill="#444" >MDK_LRP1</text>
<text x="453.5" y="1830.1" font-size="9.1" text-anchor="end" fill="#444" >NOTCH2_DLL3</text>
<text x="453.5" y="1846.2" font-size="9.1" text-anchor="end" fill="#444" >COPA_SORT1</text>
<text x="453.5" y="1862.3" font-size="9.1" text-anchor="end" fill="#444" >PlexinA3_complex1_SEMA3A</text>
<text x="453.5" y="1878.4" font-size="9.1" text-anchor="end" fill="#444" >PlexinA1_complex3_SEMA3A</text>
<text x="453.5" y="1894.5" font-size="9.1" text-anchor="end" fill="#444" >LAMP1_FAM3C</text>
<text x="453.5" y="1910.6" font-size="9.1" text-anchor="end" fill="#444" >JAM3_JAM3</text>
<text x="453.5" y="1926.7" font-size="9.1" text-anchor="end" fill="#444" >NECTIN1_CADM3</text>
<text x="453.5" y="1942.8" font-size="9.1" text-anchor="end" fill="#444" >CADM3_CADM1</text>
<text x="445.5" y="1386" font-size="9.2" font-weight="bold" fill="#555" >Gene</text>
<text x="829" y="1954.5" font-size="9.2" font-weight="bold" fill="#555" >Cell Type</text>
<g stroke="#3a3a2a" stroke-width="0.55">
<circle cx="474.6" cy="1496.5" r="7.5" fill="#c3cb7e" fill-opacity="0.93"/>
<circle cx="474.6" cy="1504.5" r="7.5" fill="#c3cb7e" fill-opacity="0.93"/>
<circle cx="474.6" cy="1513.1" r="7.5" fill="#e0a262" fill-opacity="0.93"/>
<circle cx="474.6" cy="1521.1" r="7.5" fill="#ec9058" fill-opacity="0.93"/>
<circle cx="474.6" cy="1529.4" r="7.5" fill="#f4512e" fill-opacity="0.93"/>
<circle cx="474.6" cy="1537.3" r="7.5" fill="#b6df8e" fill-opacity="0.93"/>
<circle cx="474.6" cy="1545.6" r="7.5" fill="#e0a262" fill-opacity="0.93"/>
<circle cx="474.6" cy="1553.6" r="7.5" fill="#b6df8e" fill-opacity="0.93"/>
<circle cx="474.6" cy="1561.5" r="7.5" fill="#b6df8e" fill-opacity="0.93"/>
<circle cx="474.6" cy="1569.5" r="7.5" fill="#b6df8e" fill-opacity="0.93"/>
<circle cx="474.6" cy="1577.8" r="7.5" fill="#c3cb7e" fill-opacity="0.93"/>
<circle cx="474.6" cy="1585.7" r="7.5" fill="#d3b56c" fill-opacity="0.93"/>
<circle cx="474.6" cy="1593.7" r="7.5" fill="#d3b56c" fill-opacity="0.93"/>
<circle cx="474.6" cy="1602" r="7.5" fill="#d3b56c" fill-opacity="0.93"/>
<circle cx="474.6" cy="1609.9" r="7.5" fill="#d3b56c" fill-opacity="0.93"/>
<circle cx="474.6" cy="1617.9" r="7.5" fill="#d3b56c" fill-opacity="0.93"/>
<circle cx="474.6" cy="1625.8" r="7.5" fill="#d3b56c" fill-opacity="0.93"/>
<circle cx="474.6" cy="1634.1" r="7.5" fill="#b6df8e" fill-opacity="0.93"/>
<circle cx="474.6" cy="1641.7" r="7.5" fill="#b6df8e" fill-opacity="0.93"/>
<circle cx="474.6" cy="1650.4" r="7.5" fill="#d3b56c" fill-opacity="0.93"/>
<circle cx="474.6" cy="1658.3" r="7.5" fill="#c3cb7e" fill-opacity="0.93"/>
<circle cx="474.6" cy="1666.3" r="7.5" fill="#b6df8e" fill-opacity="0.93"/>
<circle cx="474.6" cy="1674.6" r="7.5" fill="#c3cb7e" fill-opacity="0.93"/>
<circle cx="474.6" cy="1682.5" r="7.5" fill="#d3b56c" fill-opacity="0.93"/>
<circle cx="474.6" cy="1682.8" r="7.5" fill="#d3b56c" fill-opacity="0.93"/>
<circle cx="474.6" cy="1690.8" r="7.5" fill="#b6df8e" fill-opacity="0.93"/>
<circle cx="474.6" cy="1698.3" r="7.5" fill="#b6df8e" fill-opacity="0.93"/>
<circle cx="474.6" cy="1714.2" r="7.5" fill="#b6df8e" fill-opacity="0.93"/>
<circle cx="474.6" cy="1721.8" r="7.5" fill="#c3cb7e" fill-opacity="0.93"/>
<circle cx="474.6" cy="1729.8" r="7.5" fill="#c3cb7e" fill-opacity="0.93"/>
<circle cx="474.6" cy="1737.4" r="7.5" fill="#c3cb7e" fill-opacity="0.93"/>
<circle cx="474.6" cy="1745.7" r="7.5" fill="#ec9058" fill-opacity="0.93"/>
<circle cx="474.6" cy="1754" r="7.5" fill="#c3cb7e" fill-opacity="0.93"/>
<circle cx="474.6" cy="1761.9" r="7.5" fill="#b6df8e" fill-opacity="0.93"/>
<circle cx="474.6" cy="1770.2" r="7.5" fill="#b6df8e" fill-opacity="0.93"/>
<circle cx="474.6" cy="1778.2" r="7.5" fill="#b6df8e" fill-opacity="0.93"/>
<circle cx="474.6" cy="1787.5" r="7.5" fill="#f4512e" fill-opacity="0.93"/>
<circle cx="474.6" cy="1793.4" r="7.5" fill="#ec9058" fill-opacity="0.93"/>
<circle cx="474.6" cy="1802" r="7.5" fill="#c3cb7e" fill-opacity="0.93"/>
<circle cx="474.6" cy="1810.3" r="7.5" fill="#e0a262" fill-opacity="0.93"/>
<circle cx="474.6" cy="1818.6" r="7.5" fill="#d3b56c" fill-opacity="0.93"/>
<circle cx="474.6" cy="1826.6" r="7.5" fill="#c3cb7e" fill-opacity="0.93"/>
<circle cx="474.6" cy="1835.2" r="7.5" fill="#f4512e" fill-opacity="0.93"/>
<circle cx="474.6" cy="1842.1" r="7.5" fill="#d3b56c" fill-opacity="0.93"/>
<circle cx="474.6" cy="1849.7" r="7.5" fill="#b6df8e" fill-opacity="0.93"/>
<circle cx="474.6" cy="1858.4" r="7.5" fill="#b6df8e" fill-opacity="0.93"/>
<circle cx="474.6" cy="1866.3" r="7.5" fill="#b6df8e" fill-opacity="0.93"/>
<circle cx="474.6" cy="1874.6" r="7.5" fill="#b6df8e" fill-opacity="0.93"/>
<circle cx="474.6" cy="1882.6" r="7.5" fill="#b6df8e" fill-opacity="0.93"/>
<circle cx="474.6" cy="1890.5" r="7.5" fill="#e0a262" fill-opacity="0.93"/>
<circle cx="474.6" cy="1898.8" r="7.5" fill="#d3b56c" fill-opacity="0.93"/>
<circle cx="474.6" cy="1907.1" r="7.5" fill="#b6df8e" fill-opacity="0.93"/>
<circle cx="474.6" cy="1916.1" r="7.5" fill="#b6df8e" fill-opacity="0.93"/>
<circle cx="474.6" cy="1923.4" r="7.5" fill="#b6df8e" fill-opacity="0.93"/>
<circle cx="474.6" cy="1931.7" r="7.5" fill="#ec9058" fill-opacity="0.93"/>
<circle cx="474.6" cy="1939.6" r="7.5" fill="#e0a262" fill-opacity="0.93"/>
<circle cx="532.6" cy="1513.1" r="7.5" fill="#e0a262" fill-opacity="0.93"/>
<circle cx="532.6" cy="1521.1" r="7.5" fill="#e0a262" fill-opacity="0.93"/>
<circle cx="532.6" cy="1529.4" r="7.5" fill="#f4512e" fill-opacity="0.93"/>
<circle cx="532.6" cy="1585.7" r="2.5" fill="#d3b56c" fill-opacity="0.93"/>
<circle cx="532.6" cy="1617.9" r="7.5" fill="#d3b56c" fill-opacity="0.93"/>
<circle cx="532.6" cy="1641.7" r="7.5" fill="#b6df8e" fill-opacity="0.93"/>
<circle cx="532.6" cy="1650.4" r="7.5" fill="#c3cb7e" fill-opacity="0.93"/>
<circle cx="532.6" cy="1666.3" r="7.5" fill="#b6df8e" fill-opacity="0.93"/>
<circle cx="532.6" cy="1714.2" r="7.5" fill="#b6df8e" fill-opacity="0.93"/>
<circle cx="532.6" cy="1729.8" r="7.5" fill="#b6df8e" fill-opacity="0.93"/>
<circle cx="532.6" cy="1737.4" r="7.5" fill="#c3cb7e" fill-opacity="0.93"/>
<circle cx="532.6" cy="1745.7" r="7.5" fill="#ec9058" fill-opacity="0.93"/>
<circle cx="532.6" cy="1770.2" r="7.5" fill="#c3cb7e" fill-opacity="0.93"/>
<circle cx="532.6" cy="1793.4" r="7.5" fill="#d3b56c" fill-opacity="0.93"/>
<circle cx="532.6" cy="1802" r="7.5" fill="#b6df8e" fill-opacity="0.93"/>
<circle cx="532.6" cy="1810.3" r="7.5" fill="#d3b56c" fill-opacity="0.93"/>
<circle cx="532.6" cy="1826.6" r="7.5" fill="#b6df8e" fill-opacity="0.93"/>
<circle cx="532.6" cy="1842.1" r="7.5" fill="#d3b56c" fill-opacity="0.93"/>
<circle cx="532.6" cy="1849.7" r="7.5" fill="#b6df8e" fill-opacity="0.93"/>
<circle cx="532.6" cy="1890.5" r="7.5" fill="#d3b56c" fill-opacity="0.93"/>
<circle cx="532.6" cy="1898.8" r="7.5" fill="#d3b56c" fill-opacity="0.93"/>
<circle cx="590" cy="1440.5" r="7.5" fill="#d3b56c" fill-opacity="0.93"/>
<circle cx="590" cy="1448.5" r="7.5" fill="#b6df8e" fill-opacity="0.93"/>
<circle cx="590" cy="1456.8" r="7.5" fill="#ec9058" fill-opacity="0.93"/>
<circle cx="590" cy="1464.7" r="7.5" fill="#c3cb7e" fill-opacity="0.93"/>
<circle cx="590" cy="1472.7" r="7.5" fill="#b6df8e" fill-opacity="0.93"/>
<circle cx="590" cy="1481" r="7.5" fill="#c3cb7e" fill-opacity="0.93"/>
<circle cx="590" cy="1488.9" r="7.5" fill="#e0a262" fill-opacity="0.93"/>
<circle cx="590" cy="1513.1" r="7.5" fill="#d3b56c" fill-opacity="0.93"/>
<circle cx="590" cy="1545.6" r="7.5" fill="#d3b56c" fill-opacity="0.93"/>
<circle cx="590" cy="1561.5" r="7.5" fill="#b6df8e" fill-opacity="0.93"/>
<circle cx="590" cy="1585.7" r="7.5" fill="#d3b56c" fill-opacity="0.93"/>
<circle cx="590" cy="1593.7" r="7.5" fill="#c3cb7e" fill-opacity="0.93"/>
<circle cx="590" cy="1617.9" r="7.5" fill="#d3b56c" fill-opacity="0.93"/>
<circle cx="590" cy="1625.8" r="7.5" fill="#d3b56c" fill-opacity="0.93"/>
<circle cx="590" cy="1682.5" r="7.5" fill="#d3b56c" fill-opacity="0.93"/>
<circle cx="590" cy="1745.7" r="2.5" fill="#ec9058" fill-opacity="0.93"/>
<circle cx="590" cy="1770.2" r="7.5" fill="#b6df8e" fill-opacity="0.93"/>
<circle cx="590" cy="1778.2" r="7.5" fill="#b6df8e" fill-opacity="0.93"/>
<circle cx="590" cy="1923.4" r="7.5" fill="#b6df8e" fill-opacity="0.93"/>
<circle cx="590" cy="1931.7" r="7.5" fill="#ec9058" fill-opacity="0.93"/>
<circle cx="590" cy="1939.6" r="7.5" fill="#ec9058" fill-opacity="0.93"/>
<circle cx="647.7" cy="1432.6" r="7.5" fill="#b6df8e" fill-opacity="0.93"/>
<circle cx="647.7" cy="1464.7" r="7.5" fill="#b6df8e" fill-opacity="0.93"/>
<circle cx="647.7" cy="1513.1" r="7.5" fill="#d3b56c" fill-opacity="0.93"/>
<circle cx="647.7" cy="1529.4" r="2.5" fill="#f4512e" fill-opacity="0.93"/>
<circle cx="647.7" cy="1537.3" r="7.5" fill="#b6df8e" fill-opacity="0.93"/>
<circle cx="647.7" cy="1553.6" r="7.5" fill="#b6df8e" fill-opacity="0.93"/>
<circle cx="647.7" cy="1577.8" r="7.5" fill="#b6df8e" fill-opacity="0.93"/>
<circle cx="647.7" cy="1585.7" r="7.5" fill="#e0a262" fill-opacity="0.93"/>
<circle cx="647.7" cy="1593.7" r="7.5" fill="#d3b56c" fill-opacity="0.93"/>
<circle cx="647.7" cy="1617.9" r="7.5" fill="#d3b56c" fill-opacity="0.93"/>
<circle cx="647.7" cy="1625.8" r="7.5" fill="#d3b56c" fill-opacity="0.93"/>
<circle cx="647.7" cy="1641.7" r="7.5" fill="#b6df8e" fill-opacity="0.93"/>
<circle cx="647.7" cy="1745.7" r="7.5" fill="#ec9058" fill-opacity="0.93"/>
<circle cx="647.7" cy="1770.2" r="7.5" fill="#b6df8e" fill-opacity="0.93"/>
<circle cx="647.7" cy="1778.2" r="7.5" fill="#b6df8e" fill-opacity="0.93"/>
<circle cx="647.7" cy="1793.4" r="7.5" fill="#d3b56c" fill-opacity="0.93"/>
<circle cx="647.7" cy="1802" r="7.5" fill="#b6df8e" fill-opacity="0.93"/>
<circle cx="647.7" cy="1810.3" r="7.5" fill="#d3b56c" fill-opacity="0.93"/>
<circle cx="647.7" cy="1842.1" r="7.5" fill="#d3b56c" fill-opacity="0.93"/>
<circle cx="647.7" cy="1849.7" r="7.5" fill="#b6df8e" fill-opacity="0.93"/>
<circle cx="647.7" cy="1858.4" r="7.5" fill="#b6df8e" fill-opacity="0.93"/>
<circle cx="647.7" cy="1866.3" r="7.5" fill="#b6df8e" fill-opacity="0.93"/>
<circle cx="647.7" cy="1874.6" r="7.5" fill="#b6df8e" fill-opacity="0.93"/>
<circle cx="647.7" cy="1882.6" r="7.5" fill="#b6df8e" fill-opacity="0.93"/>
<circle cx="647.7" cy="1890.5" r="7.5" fill="#d3b56c" fill-opacity="0.93"/>
<circle cx="647.7" cy="1898.8" r="7.5" fill="#d3b56c" fill-opacity="0.93"/>
<circle cx="647.7" cy="1923.4" r="7.5" fill="#b6df8e" fill-opacity="0.93"/>
<circle cx="647.7" cy="1931.7" r="7.5" fill="#ec9058" fill-opacity="0.93"/>
<circle cx="647.7" cy="1939.6" r="7.5" fill="#ec9058" fill-opacity="0.93"/>
<circle cx="705.5" cy="1432.6" r="7.5" fill="#b6df8e" fill-opacity="0.93"/>
<circle cx="705.5" cy="1456.8" r="7.5" fill="#ec9058" fill-opacity="0.93"/>
<circle cx="705.5" cy="1464.7" r="7.5" fill="#b6df8e" fill-opacity="0.93"/>
<circle cx="705.5" cy="1472.7" r="2.5" fill="#b6df8e" fill-opacity="0.93"/>
<circle cx="705.5" cy="1513.1" r="7.5" fill="#d3b56c" fill-opacity="0.93"/>
<circle cx="705.5" cy="1585.7" r="7.5" fill="#d3b56c" fill-opacity="0.93"/>
<circle cx="705.5" cy="1593.7" r="7.5" fill="#d3b56c" fill-opacity="0.93"/>
<circle cx="705.5" cy="1617.9" r="7.5" fill="#d3b56c" fill-opacity="0.93"/>
<circle cx="705.5" cy="1625.8" r="7.5" fill="#d3b56c" fill-opacity="0.93"/>
<circle cx="705.5" cy="1745.7" r="2.5" fill="#ec9058" fill-opacity="0.93"/>
<circle cx="705.5" cy="1770.2" r="7.5" fill="#b6df8e" fill-opacity="0.93"/>
<circle cx="705.5" cy="1778.2" r="7.5" fill="#b6df8e" fill-opacity="0.93"/>
<circle cx="705.5" cy="1866.3" r="7.5" fill="#b6df8e" fill-opacity="0.93"/>
<circle cx="705.5" cy="1874.6" r="7.5" fill="#b6df8e" fill-opacity="0.93"/>
<circle cx="705.5" cy="1882.6" r="7.5" fill="#b6df8e" fill-opacity="0.93"/>
<circle cx="705.5" cy="1923.4" r="7.5" fill="#b6df8e" fill-opacity="0.93"/>
<circle cx="705.5" cy="1939.6" r="7.5" fill="#e0a262" fill-opacity="0.93"/>
<circle cx="763.2" cy="1400.8" r="2.5" fill="#b6df8e" fill-opacity="0.93"/>
<circle cx="763.2" cy="1408.4" r="7.5" fill="#b6df8e" fill-opacity="0.93"/>
<circle cx="763.2" cy="1416.3" r="7.5" fill="#b6df8e" fill-opacity="0.93"/>
<circle cx="763.2" cy="1424.3" r="7.5" fill="#ec9058" fill-opacity="0.93"/>
<circle cx="763.2" cy="1504.5" r="7.5" fill="#c3cb7e" fill-opacity="0.93"/>
<circle cx="763.2" cy="1513.1" r="7.5" fill="#e0a262" fill-opacity="0.93"/>
<circle cx="763.2" cy="1521.1" r="7.5" fill="#e0a262" fill-opacity="0.93"/>
<circle cx="763.2" cy="1537.3" r="7.5" fill="#b6df8e" fill-opacity="0.93"/>
<circle cx="763.2" cy="1545.6" r="7.5" fill="#d3b56c" fill-opacity="0.93"/>
<circle cx="763.2" cy="1553.6" r="7.5" fill="#c3cb7e" fill-opacity="0.93"/>
<circle cx="763.2" cy="1561.5" r="7.5" fill="#b6df8e" fill-opacity="0.93"/>
<circle cx="763.2" cy="1577.8" r="7.5" fill="#b6df8e" fill-opacity="0.93"/>
<circle cx="763.2" cy="1585.7" r="7.5" fill="#e0a262" fill-opacity="0.93"/>
<circle cx="763.2" cy="1593.7" r="7.5" fill="#d3b56c" fill-opacity="0.93"/>
<circle cx="763.2" cy="1602" r="7.5" fill="#d3b56c" fill-opacity="0.93"/>
<circle cx="763.2" cy="1609.9" r="7.5" fill="#d3b56c" fill-opacity="0.93"/>
<circle cx="763.2" cy="1617.9" r="7.5" fill="#d3b56c" fill-opacity="0.93"/>
<circle cx="763.2" cy="1625.8" r="7.5" fill="#d3b56c" fill-opacity="0.93"/>
<circle cx="763.2" cy="1634.1" r="7.5" fill="#b6df8e" fill-opacity="0.93"/>
<circle cx="763.2" cy="1641.7" r="7.5" fill="#b6df8e" fill-opacity="0.93"/>
<circle cx="763.2" cy="1650.4" r="7.5" fill="#b6df8e" fill-opacity="0.93"/>
<circle cx="763.2" cy="1658.3" r="7.5" fill="#c3cb7e" fill-opacity="0.93"/>
<circle cx="763.2" cy="1666.3" r="7.5" fill="#b6df8e" fill-opacity="0.93"/>
<circle cx="763.2" cy="1674.6" r="7.5" fill="#b6df8e" fill-opacity="0.93"/>
<circle cx="763.2" cy="1675.2" r="7.5" fill="#b6df8e" fill-opacity="0.93"/>
<circle cx="763.2" cy="1682.5" r="7.5" fill="#e0a262" fill-opacity="0.93"/>
<circle cx="763.2" cy="1682.8" r="7.5" fill="#e0a262" fill-opacity="0.93"/>
<circle cx="763.2" cy="1690.7" r="7.5" fill="#b6df8e" fill-opacity="0.93"/>
<circle cx="763.2" cy="1690.8" r="7.5" fill="#b6df8e" fill-opacity="0.93"/>
<circle cx="763.2" cy="1698.3" r="7.5" fill="#b6df8e" fill-opacity="0.93"/>
<circle cx="763.2" cy="1714.2" r="7.5" fill="#c3cb7e" fill-opacity="0.93"/>
<circle cx="763.2" cy="1721.8" r="7.5" fill="#b6df8e" fill-opacity="0.93"/>
<circle cx="763.2" cy="1729.8" r="7.5" fill="#b6df8e" fill-opacity="0.93"/>
<circle cx="763.2" cy="1737.4" r="7.5" fill="#d3b56c" fill-opacity="0.93"/>
<circle cx="763.2" cy="1745.7" r="7.5" fill="#ec9058" fill-opacity="0.93"/>
<circle cx="763.2" cy="1754" r="7.5" fill="#c3cb7e" fill-opacity="0.93"/>
<circle cx="763.2" cy="1761.9" r="7.5" fill="#b6df8e" fill-opacity="0.93"/>
<circle cx="763.2" cy="1770.2" r="7.5" fill="#b6df8e" fill-opacity="0.93"/>
<circle cx="763.2" cy="1778.2" r="7.5" fill="#b6df8e" fill-opacity="0.93"/>
<circle cx="763.2" cy="1787.5" r="7.5" fill="#f4512e" fill-opacity="0.93"/>
<circle cx="763.2" cy="1793.4" r="7.5" fill="#ec9058" fill-opacity="0.93"/>
<circle cx="763.2" cy="1802" r="7.5" fill="#c3cb7e" fill-opacity="0.93"/>
<circle cx="763.2" cy="1810.3" r="7.5" fill="#ec9058" fill-opacity="0.93"/>
<circle cx="763.2" cy="1818.6" r="7.5" fill="#d3b56c" fill-opacity="0.93"/>
<circle cx="763.2" cy="1826.6" r="7.5" fill="#c3cb7e" fill-opacity="0.93"/>
<circle cx="763.2" cy="1835.2" r="7.5" fill="#f4512e" fill-opacity="0.93"/>
<circle cx="763.2" cy="1842.1" r="7.5" fill="#d3b56c" fill-opacity="0.93"/>
<circle cx="763.2" cy="1849.7" r="7.5" fill="#b6df8e" fill-opacity="0.93"/>
<circle cx="763.2" cy="1866.3" r="7.5" fill="#c3cb7e" fill-opacity="0.93"/>
<circle cx="763.2" cy="1874.6" r="7.5" fill="#b6df8e" fill-opacity="0.93"/>
<circle cx="763.2" cy="1882.6" r="7.5" fill="#b6df8e" fill-opacity="0.93"/>
<circle cx="763.2" cy="1890.5" r="7.5" fill="#d3b56c" fill-opacity="0.93"/>
<circle cx="763.2" cy="1898.8" r="7.5" fill="#d3b56c" fill-opacity="0.93"/>
<circle cx="763.2" cy="1907.1" r="7.5" fill="#b6df8e" fill-opacity="0.93"/>
<circle cx="763.2" cy="1916.1" r="7.5" fill="#b6df8e" fill-opacity="0.93"/>
<circle cx="763.2" cy="1923.4" r="7.5" fill="#b6df8e" fill-opacity="0.93"/>
<circle cx="763.2" cy="1931.7" r="7.5" fill="#ec9058" fill-opacity="0.93"/>
<circle cx="820.9" cy="1400.8" r="7.5" fill="#b6df8e" fill-opacity="0.93"/>
<circle cx="820.9" cy="1513.1" r="7.5" fill="#ec9058" fill-opacity="0.93"/>
<circle cx="820.9" cy="1521.1" r="7.5" fill="#d3b56c" fill-opacity="0.93"/>
<circle cx="820.9" cy="1553.6" r="2.5" fill="#b6df8e" fill-opacity="0.93"/>
<circle cx="820.9" cy="1561.5" r="7.5" fill="#b6df8e" fill-opacity="0.93"/>
<circle cx="820.9" cy="1569.5" r="7.5" fill="#b6df8e" fill-opacity="0.93"/>
<circle cx="820.9" cy="1577.8" r="7.5" fill="#b6df8e" fill-opacity="0.93"/>
<circle cx="820.9" cy="1585.7" r="7.5" fill="#e0a262" fill-opacity="0.93"/>
<circle cx="820.9" cy="1593.7" r="7.5" fill="#d3b56c" fill-opacity="0.93"/>
<circle cx="820.9" cy="1609.9" r="7.5" fill="#d3b56c" fill-opacity="0.93"/>
<circle cx="820.9" cy="1617.9" r="7.5" fill="#d3b56c" fill-opacity="0.93"/>
<circle cx="820.9" cy="1625.8" r="7.5" fill="#d3b56c" fill-opacity="0.93"/>
<circle cx="820.9" cy="1641.7" r="7.5" fill="#b6df8e" fill-opacity="0.93"/>
<circle cx="820.9" cy="1650.4" r="7.5" fill="#b6df8e" fill-opacity="0.93"/>
<circle cx="820.9" cy="1658.3" r="7.5" fill="#d3b56c" fill-opacity="0.93"/>
<circle cx="820.9" cy="1666.3" r="7.5" fill="#b6df8e" fill-opacity="0.93"/>
<circle cx="820.9" cy="1674.6" r="7.5" fill="#b6df8e" fill-opacity="0.93"/>
<circle cx="820.9" cy="1675.2" r="7.5" fill="#b6df8e" fill-opacity="0.93"/>
<circle cx="820.9" cy="1698.3" r="7.5" fill="#b6df8e" fill-opacity="0.93"/>
<circle cx="820.9" cy="1714.2" r="7.5" fill="#b6df8e" fill-opacity="0.93"/>
<circle cx="820.9" cy="1721.8" r="7.5" fill="#b6df8e" fill-opacity="0.93"/>
<circle cx="820.9" cy="1729.8" r="7.5" fill="#b6df8e" fill-opacity="0.93"/>
<circle cx="820.9" cy="1737.4" r="7.5" fill="#d3b56c" fill-opacity="0.93"/>
<circle cx="820.9" cy="1745.7" r="7.5" fill="#ec9058" fill-opacity="0.93"/>
<circle cx="820.9" cy="1761.9" r="7.5" fill="#b6df8e" fill-opacity="0.93"/>
<circle cx="820.9" cy="1770.2" r="7.5" fill="#b6df8e" fill-opacity="0.93"/>
<circle cx="820.9" cy="1778.2" r="7.5" fill="#b6df8e" fill-opacity="0.93"/>
<circle cx="820.9" cy="1787.5" r="7.5" fill="#f4512e" fill-opacity="0.93"/>
<circle cx="820.9" cy="1793.4" r="7.5" fill="#ec9058" fill-opacity="0.93"/>
<circle cx="820.9" cy="1802" r="7.5" fill="#b6df8e" fill-opacity="0.93"/>
<circle cx="820.9" cy="1810.3" r="7.5" fill="#d3b56c" fill-opacity="0.93"/>
<circle cx="820.9" cy="1818.6" r="7.5" fill="#c3cb7e" fill-opacity="0.93"/>
<circle cx="820.9" cy="1826.6" r="7.5" fill="#b6df8e" fill-opacity="0.93"/>
<circle cx="820.9" cy="1835.2" r="7.5" fill="#f4512e" fill-opacity="0.93"/>
<circle cx="820.9" cy="1842.1" r="7.5" fill="#d3b56c" fill-opacity="0.93"/>
<circle cx="820.9" cy="1849.7" r="7.5" fill="#b6df8e" fill-opacity="0.93"/>
<circle cx="820.9" cy="1890.5" r="7.5" fill="#d3b56c" fill-opacity="0.93"/>
<circle cx="820.9" cy="1898.8" r="7.5" fill="#d3b56c" fill-opacity="0.93"/>
<circle cx="820.9" cy="1907.1" r="7.5" fill="#b6df8e" fill-opacity="0.93"/>
<circle cx="820.9" cy="1916.1" r="7.5" fill="#b6df8e" fill-opacity="0.93"/>
</g>
<text x="421" y="1970.5" font-size="14.4" fill="#8c8c8c" textLength="60.5" lengthAdjust="spacingAndGlyphs" >Astrocytic</text>
<text x="488" y="1970.5" font-size="14.4" fill="#8c8c8c" textLength="69" lengthAdjust="spacingAndGlyphs" >Endothelial</text>
<text x="488" y="1987" font-size="14.4" fill="#8c8c8c" >Cell</text>
<text x="564" y="1970.5" font-size="14.4" fill="#8c8c8c" textLength="61" lengthAdjust="spacingAndGlyphs" >Excitatory</text>
<text x="564" y="1987" font-size="14.4" fill="#8c8c8c" >neuron</text>
<text x="638" y="1970.5" font-size="14.4" fill="#8c8c8c" >IPC</text>
<text x="676" y="1971.5" font-size="14.4" fill="#8c8c8c" textLength="63.5" lengthAdjust="spacingAndGlyphs" >Inhibitory</text>
<text x="676" y="1990" font-size="14.4" fill="#8c8c8c" >neuron</text>
<text x="751" y="1970.5" font-size="14.4" fill="#8c8c8c" >NPC</text>
<text x="810" y="1970.5" font-size="14.4" fill="#8c8c8c" >RG</text>
<text x="898.5" y="1426" font-size="10.8" fill="#333" textLength="97.5" lengthAdjust="spacingAndGlyphs" >Average Expression</text>
<defs><linearGradient id="gavg2" x1="0" y1="0" x2="0" y2="1"><stop offset="0" stop-color="#f32a12"/><stop offset="0.3" stop-color="#f05a26"/><stop offset="0.55" stop-color="#e68a44"/><stop offset="0.8" stop-color="#c6b060"/><stop offset="1" stop-color="#a8dc80"/></linearGradient></defs>
<rect x="938.6" y="1449.6" width="18.3" height="126.8" fill="url(#gavg2)"/>
<rect x="937" y="1444" width="22" height="5.2" rx="2.4" fill="#f02414"/>
<rect x="937" y="1576.9" width="22" height="5" rx="2.4" fill="#a4dc80"/>
<text x="925.4" y="1451" font-size="10.8" text-anchor="end" fill="#333" >4.00</text>
<text x="925.4" y="1583.3" font-size="10.8" text-anchor="end" fill="#333" >-2.00</text>
<text x="910.7" y="1661.7" font-size="10.8" fill="#333" textLength="89.6" lengthAdjust="spacingAndGlyphs" >Percent Expressed</text>
<path d="M946.6 1682L964.7 1685L953 1806.9L946.6 1806.9Z" fill="#808080"/>
<circle cx="955.8" cy="1681.9" r="9.1" fill="#808080" stroke="#fff" stroke-width="0.7"/>
<circle cx="949.9" cy="1806.9" r="3" fill="#808080" stroke="#fff" stroke-width="0.5"/>
<text x="937" y="1685" font-size="10.8" text-anchor="end" fill="#333" >5.00</text>
<text x="942.7" y="1810.2" font-size="10.8" text-anchor="end" fill="#333" >1.50</text>
<path d="M1611.5 1447.7Q1715.6 1438.3 1797.7 1489.5" fill="none" stroke="#6f9c83" stroke-width="3.7" stroke-opacity="0.6"/><path d="M1805.7 1491.3L1791.5 1488.8L1797.2 1479.6Z" fill="#6f9c83" fill-opacity="0.6"/>
<path d="M1805.7 1491.3Q1701.6 1500.7 1619.5 1449.5" fill="none" stroke="#d4902a" stroke-width="3.7" stroke-opacity="0.6"/><path d="M1611.5 1447.7L1625.7 1450.2L1620 1459.4Z" fill="#d4902a" fill-opacity="0.6"/>
<path d="M1583.3 1454.1Q1525.6 1540 1435.8 1569.7" fill="none" stroke="#6f9c83" stroke-width="5" stroke-opacity="0.6"/><path d="M1428.4 1575.5L1440.9 1564.6L1445 1576.8Z" fill="#6f9c83" fill-opacity="0.6"/>
<path d="M1428.4 1575.5Q1486.1 1489.6 1575.9 1459.9" fill="none" stroke="#8fc9b0" stroke-width="5" stroke-opacity="0.6"/><path d="M1583.3 1454.1L1570.8 1465L1566.7 1452.8Z" fill="#8fc9b0" fill-opacity="0.6"/>
<path d="M1431.4 1581.9Q1611.6 1508.9 1798.5 1499.9" fill="none" stroke="#8fc9b0" stroke-width="2.8" stroke-opacity="0.6"/><path d="M1805.7 1498.3L1794 1503.5L1793.5 1494.2Z" fill="#8fc9b0" fill-opacity="0.6"/>
<path d="M1805.7 1498.3Q1625.5 1571.3 1438.6 1580.3" fill="none" stroke="#d4902a" stroke-width="2.8" stroke-opacity="0.6"/><path d="M1431.4 1581.9L1443.1 1576.7L1443.6 1586Z" fill="#d4902a" fill-opacity="0.6"/>
<path d="M1608.5 1454Q1778.1 1545.5 1902 1682.5" fill="none" stroke="#6f9c83" stroke-width="3.6" stroke-opacity="0.6"/><path d="M1908.4 1687.5L1895.6 1681.3L1903.5 1674.2Z" fill="#6f9c83" fill-opacity="0.6"/>
<path d="M1908.4 1687.5Q1738.8 1596 1614.9 1459" fill="none" stroke="#cc3340" stroke-width="3.6" stroke-opacity="0.6"/><path d="M1608.5 1454L1621.3 1460.2L1613.4 1467.3Z" fill="#cc3340" fill-opacity="0.6"/>
<path d="M1828.4 1509.2Q1899.9 1581.9 1911.3 1677.6" fill="none" stroke="#d4902a" stroke-width="1.2" stroke-opacity="0.6"/><path d="M1913.9 1682.9L1909.3 1673.8L1916.2 1673Z" fill="#d4902a" fill-opacity="0.6"/>
<path d="M1913.9 1682.9Q1842.4 1610.2 1831 1514.5" fill="none" stroke="#cc3340" stroke-width="1.2" stroke-opacity="0.6"/><path d="M1828.4 1509.2L1833 1518.3L1826.1 1519.1Z" fill="#cc3340" fill-opacity="0.6"/>
<path d="M1415.8 1601.4Q1447.8 1698.1 1415.8 1783" fill="none" stroke="#8fc9b0" stroke-width="7.6" stroke-opacity="0.6"/><path d="M1415.8 1794.8L1414.6 1773.9L1430.4 1779.9Z" fill="#8fc9b0" fill-opacity="0.6"/>
<path d="M1415.8 1794.8Q1383.8 1698.1 1415.8 1613.2" fill="none" stroke="#e08468" stroke-width="7.6" stroke-opacity="0.6"/><path d="M1415.8 1601.4L1417 1622.3L1401.2 1616.3Z" fill="#e08468" fill-opacity="0.6"/>
<path d="M1588.8 1458.6Q1534.6 1641.6 1428.4 1785.1" fill="none" stroke="#6f9c83" stroke-width="8.6" stroke-opacity="0.6"/><path d="M1422.9 1796.4L1427.7 1774.4L1442.5 1785.4Z" fill="#6f9c83" fill-opacity="0.6"/>
<path d="M1422.9 1796.4Q1477.1 1613.4 1583.3 1469.9" fill="none" stroke="#e08468" stroke-width="8.6" stroke-opacity="0.6"/><path d="M1588.8 1458.6L1584 1480.6L1569.2 1469.6Z" fill="#e08468" fill-opacity="0.6"/>
<path d="M1808.7 1504.6Q1638.2 1678 1436.1 1795" fill="none" stroke="#d4902a" stroke-width="5.4" stroke-opacity="0.6"/><path d="M1428.4 1801L1438.8 1787.2L1445.5 1798.9Z" fill="#d4902a" fill-opacity="0.6"/>
<path d="M1428.4 1801Q1598.9 1627.6 1801 1510.6" fill="none" stroke="#e08468" stroke-width="5.4" stroke-opacity="0.6"/><path d="M1808.7 1504.6L1798.3 1518.4L1791.6 1506.7Z" fill="#e08468" fill-opacity="0.6"/>
<path d="M1431.4 1588.9Q1675.3 1610.1 1898.3 1692.3" fill="none" stroke="#8fc9b0" stroke-width="2.6" stroke-opacity="0.6"/><path d="M1905.4 1693.8L1892.8 1694.1L1895.9 1685.5Z" fill="#8fc9b0" fill-opacity="0.6"/>
<path d="M1905.4 1693.8Q1661.5 1672.6 1438.5 1590.4" fill="none" stroke="#cc3340" stroke-width="2.6" stroke-opacity="0.6"/><path d="M1431.4 1588.9L1444 1588.6L1440.9 1597.2Z" fill="#cc3340" fill-opacity="0.6"/>
<path d="M1603 1458.5Q1737.3 1658.4 1808.7 1875.3" fill="none" stroke="#6f9c83" stroke-width="8.4" stroke-opacity="0.6"/><path d="M1814.2 1886.6L1799.3 1870.1L1816.5 1864.4Z" fill="#6f9c83" fill-opacity="0.6"/>
<path d="M1814.2 1886.6Q1679.9 1686.7 1608.5 1469.8" fill="none" stroke="#cfcd8c" stroke-width="8.4" stroke-opacity="0.6"/><path d="M1603 1458.5L1617.9 1475L1600.7 1480.7Z" fill="#cfcd8c" fill-opacity="0.6"/>
<path d="M1595.9 1460.2Q1627.9 1698.1 1595.9 1929.3" fill="none" stroke="#6f9c83" stroke-width="2" stroke-opacity="0.6"/><path d="M1595.9 1936L1593.3 1924.7L1601.5 1925.8Z" fill="#6f9c83" fill-opacity="0.6"/>
<path d="M1595.9 1936Q1563.9 1698.1 1595.9 1466.9" fill="none" stroke="#5a9ca8" stroke-width="2" stroke-opacity="0.6"/><path d="M1595.9 1460.2L1598.5 1471.5L1590.3 1470.4Z" fill="#5a9ca8" fill-opacity="0.6"/>
<path d="M1428.4 1595.2Q1638.2 1717.9 1799.4 1883.9" fill="none" stroke="#8fc9b0" stroke-width="7.5" stroke-opacity="0.6"/><path d="M1808.7 1891.1L1789.4 1883.3L1801.4 1871.6Z" fill="#8fc9b0" fill-opacity="0.6"/>
<path d="M1808.7 1891.1Q1598.9 1768.4 1437.7 1602.4" fill="none" stroke="#cfcd8c" stroke-width="7.5" stroke-opacity="0.6"/><path d="M1428.4 1595.2L1447.7 1603L1435.7 1614.7Z" fill="#cfcd8c" fill-opacity="0.6"/>
<path d="M1821.3 1510.8Q1853.3 1697.8 1821.3 1875.7" fill="none" stroke="#d4902a" stroke-width="4.8" stroke-opacity="0.6"/><path d="M1821.3 1884.9L1817.8 1869L1830.2 1871.2Z" fill="#d4902a" fill-opacity="0.6"/>
<path d="M1821.3 1884.9Q1789.3 1697.8 1821.3 1520" fill="none" stroke="#cfcd8c" stroke-width="4.8" stroke-opacity="0.6"/><path d="M1821.3 1510.8L1824.8 1526.7L1812.4 1524.5Z" fill="#cfcd8c" fill-opacity="0.6"/>
<path d="M1905.4 1700.8Q1675.4 1785.3 1441.2 1805.1" fill="none" stroke="#cc3340" stroke-width="5.6" stroke-opacity="0.6"/><path d="M1431.4 1807.3L1447 1799L1448.2 1812.8Z" fill="#cc3340" fill-opacity="0.6"/>
<path d="M1431.4 1807.3Q1661.4 1722.8 1895.6 1703" fill="none" stroke="#e08468" stroke-width="5.6" stroke-opacity="0.6"/><path d="M1905.4 1700.8L1889.8 1709.1L1888.6 1695.3Z" fill="#e08468" fill-opacity="0.6"/>
<path d="M1814.2 1509.2Q1737.3 1737.5 1605.4 1932.8" fill="none" stroke="#d4902a" stroke-width="0.7" stroke-opacity="0.6"/><path d="M1603 1937.6L1605.4 1928.6L1610.5 1932Z" fill="#d4902a" fill-opacity="0.6"/>
<path d="M1603 1937.6Q1679.9 1709.3 1811.8 1514" fill="none" stroke="#5a9ca8" stroke-width="0.7" stroke-opacity="0.6"/><path d="M1814.2 1509.2L1811.8 1518.2L1806.7 1514.8Z" fill="#5a9ca8" fill-opacity="0.6"/>
<path d="M1422.9 1599.8Q1534.6 1754.6 1586.6 1933" fill="none" stroke="#8fc9b0" stroke-width="0.4" stroke-opacity="0.6"/><path d="M1588.8 1937.6L1583.7 1930.3L1589.2 1928.7Z" fill="#8fc9b0" fill-opacity="0.6"/>
<path d="M1588.8 1937.6Q1477.1 1782.8 1425.1 1604.4" fill="none" stroke="#5a9ca8" stroke-width="0.4" stroke-opacity="0.6"/><path d="M1422.9 1599.8L1428 1607.1L1422.5 1608.7Z" fill="#5a9ca8" fill-opacity="0.6"/>
<path d="M1914 1711.7Q1899.9 1813.2 1832.6 1877.7" fill="none" stroke="#cc3340" stroke-width="5.4" stroke-opacity="0.6"/><path d="M1828.3 1886.5L1835.1 1870.6L1844.5 1880.4Z" fill="#cc3340" fill-opacity="0.6"/>
<path d="M1828.3 1886.5Q1842.4 1785 1909.7 1720.5" fill="none" stroke="#cfcd8c" stroke-width="5.4" stroke-opacity="0.6"/><path d="M1914 1711.7L1907.2 1727.6L1897.8 1717.8Z" fill="#cfcd8c" fill-opacity="0.6"/>
<path d="M1908.4 1707.2Q1778.2 1849.8 1613.2 1938.5" fill="none" stroke="#cc3340" stroke-width="1.2" stroke-opacity="0.6"/><path d="M1608.5 1942.1L1615.3 1934.5L1618.6 1940.6Z" fill="#cc3340" fill-opacity="0.6"/>
<path d="M1608.5 1942.1Q1738.7 1799.5 1903.7 1710.8" fill="none" stroke="#5a9ca8" stroke-width="1.2" stroke-opacity="0.6"/><path d="M1908.4 1707.2L1901.6 1714.8L1898.3 1708.7Z" fill="#5a9ca8" fill-opacity="0.6"/>
<path d="M1431.4 1814.3Q1625.5 1824.6 1790.1 1894" fill="none" stroke="#e08468" stroke-width="12.1" stroke-opacity="0.6"/><path d="M1805.7 1897.4L1777.2 1898.4L1786.5 1876.3Z" fill="#e08468" fill-opacity="0.6"/>
<path d="M1805.7 1897.4Q1611.6 1887.1 1447 1817.7" fill="none" stroke="#cfcd8c" stroke-width="12.1" stroke-opacity="0.6"/><path d="M1431.4 1814.3L1459.9 1813.3L1450.6 1835.4Z" fill="#cfcd8c" fill-opacity="0.6"/>
<path d="M1428.4 1820.7Q1525.6 1856.2 1577 1937.2" fill="none" stroke="#e08468" stroke-width="3.5" stroke-opacity="0.6"/><path d="M1583.3 1942.1L1571.9 1933.9L1580.8 1928.3Z" fill="#e08468" fill-opacity="0.6"/>
<path d="M1583.3 1942.1Q1486.1 1906.6 1434.7 1825.6" fill="none" stroke="#5a9ca8" stroke-width="3.5" stroke-opacity="0.6"/><path d="M1428.4 1820.7L1439.8 1828.9L1430.9 1834.5Z" fill="#5a9ca8" fill-opacity="0.6"/>
<path d="M1611.5 1948.5Q1701.5 1895.2 1798 1906.2" fill="none" stroke="#5a9ca8" stroke-width="3.4" stroke-opacity="0.6"/><path d="M1805.7 1904.4L1792.4 1908.1L1793.5 1897.9Z" fill="#5a9ca8" fill-opacity="0.6"/>
<path d="M1805.7 1904.4Q1715.7 1957.7 1619.2 1946.7" fill="none" stroke="#cfcd8c" stroke-width="3.4" stroke-opacity="0.6"/><path d="M1611.5 1948.5L1624.8 1944.8L1623.7 1955Z" fill="#cfcd8c" fill-opacity="0.6"/>
<path d="M1595.9 1429.2C1593.9 1394.2 1607.9 1386.2 1625.9 1386.2C1645.9 1386.2 1653.9 1404.2 1652.9 1422.2C1651.9 1436.2 1635.9 1442.2 1610.9 1443.2" fill="none" stroke="#6f9c83" stroke-width="2.4" stroke-opacity="0.6"/>
<path d="M1821.3 1479.8C1819.3 1444.8 1833.3 1436.8 1851.3 1436.8C1871.3 1436.8 1879.3 1454.8 1878.3 1472.8C1877.3 1486.8 1861.3 1492.8 1836.3 1493.8" fill="none" stroke="#d4902a" stroke-width="0.7" stroke-opacity="0.6"/>
<path d="M1921 1682.3C1919 1647.3 1933 1639.3 1951 1639.3C1971 1639.3 1979 1657.3 1978 1675.3C1977 1689.3 1961 1695.3 1936 1696.3" fill="none" stroke="#cc3340" stroke-width="0.7" stroke-opacity="0.6"/>
<path d="M1415.8 1570.4C1413.8 1535.4 1427.8 1527.4 1445.8 1527.4C1465.8 1527.4 1473.8 1545.4 1472.8 1563.4C1471.8 1577.4 1455.8 1583.4 1430.8 1584.4" fill="none" stroke="#8fc9b0" stroke-width="1.2" stroke-opacity="0.6"/>
<path d="M1415.8 1795.8C1413.8 1760.8 1427.8 1752.8 1445.8 1752.8C1465.8 1752.8 1473.8 1770.8 1472.8 1788.8C1471.8 1802.8 1455.8 1808.8 1430.8 1809.8" fill="none" stroke="#e08468" stroke-width="6" stroke-opacity="0.6"/>
<path d="M1821.3 1885.9C1819.3 1850.9 1833.3 1842.9 1851.3 1842.9C1871.3 1842.9 1879.3 1860.9 1878.3 1878.9C1877.3 1892.9 1861.3 1898.9 1836.3 1899.9" fill="none" stroke="#cfcd8c" stroke-width="5.4" stroke-opacity="0.6"/>
<text x="1710.1" y="1456.7" font-size="9.4" text-anchor="middle" fill="#666" >66</text>
<text x="1707.1" y="1488.9" font-size="9.4" text-anchor="middle" fill="#666" >66</text>
<text x="1517.6" y="1529.2" font-size="9.4" text-anchor="middle" fill="#666" >86</text>
<text x="1494.1" y="1507" font-size="9.4" text-anchor="middle" fill="#666" >86</text>
<text x="1613.3" y="1528.2" font-size="9.4" text-anchor="middle" fill="#666" >52</text>
<text x="1623.8" y="1558.6" font-size="9.4" text-anchor="middle" fill="#666" >52</text>
<text x="1766.7" y="1560.2" font-size="9.4" text-anchor="middle" fill="#666" >64</text>
<text x="1750.2" y="1587.9" font-size="9.4" text-anchor="middle" fill="#666" >64</text>
<text x="1884.8" y="1591" font-size="9.4" text-anchor="middle" fill="#666" >29</text>
<text x="1857.5" y="1607.7" font-size="9.4" text-anchor="middle" fill="#666" >29</text>
<text x="1431.8" y="1698.5" font-size="9.4" text-anchor="middle" fill="#666" >124</text>
<text x="1399.8" y="1704.3" font-size="9.4" text-anchor="middle" fill="#666" >124</text>
<text x="1521.6" y="1635" font-size="9.4" text-anchor="middle" fill="#666" >139</text>
<text x="1490.1" y="1626.6" font-size="9.4" text-anchor="middle" fill="#666" >139</text>
<text x="1630.3" y="1667.2" font-size="9.4" text-anchor="middle" fill="#666" >91</text>
<text x="1606.8" y="1645" font-size="9.4" text-anchor="middle" fill="#666" >91</text>
<text x="1670.1" y="1628.6" font-size="9.4" text-anchor="middle" fill="#666" >50</text>
<text x="1666.7" y="1660.7" font-size="9.4" text-anchor="middle" fill="#666" >50</text>
<text x="1721.6" y="1666" font-size="9.4" text-anchor="middle" fill="#666" >136</text>
<text x="1695.6" y="1685.7" font-size="9.4" text-anchor="middle" fill="#666" >136</text>
<text x="1611.9" y="1699.7" font-size="9.4" text-anchor="middle" fill="#666" >41</text>
<text x="1579.9" y="1703.1" font-size="9.4" text-anchor="middle" fill="#666" >41</text>
<text x="1626.1" y="1732" font-size="9.4" text-anchor="middle" fill="#666" >123</text>
<text x="1611" y="1760.9" font-size="9.4" text-anchor="middle" fill="#666" >123</text>
<text x="1837.3" y="1698.8" font-size="9.4" text-anchor="middle" fill="#666" >83</text>
<text x="1805.3" y="1703.5" font-size="9.4" text-anchor="middle" fill="#666" >83</text>
<text x="1674.3" y="1772.4" font-size="9.4" text-anchor="middle" fill="#666" >95</text>
<text x="1662.5" y="1742.3" font-size="9.4" text-anchor="middle" fill="#666" >95</text>
<text x="1723.6" y="1732.6" font-size="9.4" text-anchor="middle" fill="#666" >21</text>
<text x="1693.6" y="1720.8" font-size="9.4" text-anchor="middle" fill="#666" >21</text>
<text x="1519.6" y="1763.8" font-size="9.4" text-anchor="middle" fill="#666" >17</text>
<text x="1492.1" y="1780.2" font-size="9.4" text-anchor="middle" fill="#666" >17</text>
<text x="1886.6" y="1807.2" font-size="9.4" text-anchor="middle" fill="#666" >92</text>
<text x="1855.7" y="1797.6" font-size="9.4" text-anchor="middle" fill="#666" >92</text>
<text x="1769.5" y="1839.6" font-size="9.4" text-anchor="middle" fill="#666" >29</text>
<text x="1747.4" y="1816.3" font-size="9.4" text-anchor="middle" fill="#666" >29</text>
<text x="1618.1" y="1842.7" font-size="9.4" text-anchor="middle" fill="#666" >192</text>
<text x="1619" y="1875.6" font-size="9.4" text-anchor="middle" fill="#666" >192</text>
<text x="1514.1" y="1870.9" font-size="9.4" text-anchor="middle" fill="#666" >63</text>
<text x="1497.6" y="1898.5" font-size="9.4" text-anchor="middle" fill="#666" >63</text>
<text x="1703.1" y="1914.6" font-size="9.4" text-anchor="middle" fill="#666" >61</text>
<text x="1714.1" y="1944.9" font-size="9.4" text-anchor="middle" fill="#666" >61</text>
<text x="1637.9" y="1405.5" font-size="9.4" text-anchor="middle" fill="#666" >46</text>
<text x="1863.3" y="1456.1" font-size="9.4" text-anchor="middle" fill="#666" >21</text>
<text x="1963" y="1658.6" font-size="9.4" text-anchor="middle" fill="#666" >21</text>
<text x="1457.8" y="1546.7" font-size="9.4" text-anchor="middle" fill="#666" >28</text>
<text x="1457.8" y="1772.1" font-size="9.4" text-anchor="middle" fill="#666" >100</text>
<text x="1863.3" y="1862.2" font-size="9.4" text-anchor="middle" fill="#666" >91</text>
<circle cx="1595.9" cy="1444.2" r="14.8" fill="#6f9c83" stroke="#333" stroke-width="0.8"/>
<text x="1580.9" y="1447.2" font-size="8.3" text-anchor="end" fill="#111" >RG</text>
<circle cx="1821.3" cy="1494.8" r="14.8" fill="#d4902a" stroke="#333" stroke-width="0.8"/>
<text x="1806.3" y="1497.8" font-size="8.3" text-anchor="end" fill="#111" >Endothelial Cell</text>
<circle cx="1921" cy="1697.3" r="14.8" fill="#cc3333" stroke="#333" stroke-width="0.8"/>
<text x="1906" y="1700.3" font-size="8.3" text-anchor="end" fill="#111" >Excitatory Neuron</text>
<circle cx="1821.3" cy="1900.9" r="14.8" fill="#cfcd8c" stroke="#333" stroke-width="0.8"/>
<text x="1806.3" y="1903.9" font-size="8.3" text-anchor="end" fill="#111" >NPC</text>
<circle cx="1595.9" cy="1952" r="14.8" fill="#5a9ca8" stroke="#333" stroke-width="0.8"/>
<text x="1580.9" y="1955" font-size="8.3" text-anchor="end" fill="#111" >Inhibitory Neuron</text>
<circle cx="1415.8" cy="1810.8" r="14.8" fill="#e08468" stroke="#333" stroke-width="0.8"/>
<text x="1400.8" y="1813.8" font-size="8.3" text-anchor="end" fill="#111" >Astrocytic</text>
<circle cx="1415.8" cy="1585.4" r="14.8" fill="#8fc9b0" stroke="#333" stroke-width="0.8"/>
<text x="1400.8" y="1588.4" font-size="8.3" text-anchor="end" fill="#111" >IPC</text>
<rect x="1460" y="1403.7" width="91.7" height="48" fill="#6f9c83"/>
<text x="1505.8" y="1434.7" font-size="20.5" text-anchor="middle" fill="#33332f" >RG</text>
<rect x="1886.3" y="1473.5" width="160" height="48" fill="#d4902a"/>
<text x="1966.3" y="1504.5" font-size="20.5" text-anchor="middle" fill="#33332f" >Endothelial cell</text>
<rect x="1284.8" y="1530" width="91.6" height="48" fill="#8fc9b0"/>
<text x="1330.6" y="1561" font-size="20.5" text-anchor="middle" fill="#33332f" >IPC</text>
<rect x="1937" y="1715" width="174.7" height="47.8" fill="#db8466"/>
<text x="2024.3" y="1745.9" font-size="20.5" text-anchor="middle" fill="#33332f" >Excitatory neuron</text>
<rect x="1243.7" y="1751" width="106" height="47.5" fill="#db8466"/>
<text x="1296.7" y="1781.8" font-size="20.5" text-anchor="middle" fill="#33332f" >Astricytic</text>
<rect x="1315" y="1910.4" width="175" height="48" fill="#5a9ca8"/>
<text x="1402.5" y="1941.4" font-size="20.5" text-anchor="middle" fill="#33332f" >Inhibitory neuron</text>
<rect x="1846.3" y="1916.3" width="91.7" height="48" fill="#cfcd8c"/>
<text x="1892.1" y="1947.3" font-size="20.5" text-anchor="middle" fill="#33332f" >NPC</text>
<path d="M397.8 2204.5Q421.3 2138 479.7 2132.6" fill="none" stroke="#6a6a6a" stroke-width="1.3"/><path d="M482.6 2132.3L469.7 2139.2L474.3 2133.1L468.7 2127.9Z" fill="#5e5e5e"/>
<path d="M397.8 2204.5Q448.8 2153.9 503 2174.2" fill="none" stroke="#7d7d7d" stroke-width="11"/><path d="M508.6 2176.3L492.9 2176.9L500.2 2173.1L497.2 2165.5Z" fill="#3c3c3c"/>
<path d="M397.8 2204.5Q448.1 2243.9 436.6 2292.5" fill="none" stroke="#7d7d7d" stroke-width="11"/><path d="M435.2 2298.3L432.7 2282.8L437.3 2289.6L444.5 2285.6Z" fill="#3c3c3c"/>
<path d="M397.8 2204.5Q389.7 2271.5 338.7 2287.9" fill="none" stroke="#7d7d7d" stroke-width="11"/><path d="M333 2289.7L345 2279.5L341.6 2287L348.7 2291.1Z" fill="#3c3c3c"/>
<path d="M397.8 2204.5Q418.7 2273.9 373.4 2314" fill="none" stroke="#6a6a6a" stroke-width="1.3"/><path d="M371.1 2316L377.5 2302.8L377.4 2310.5L385 2311.3Z" fill="#5e5e5e"/>
<path d="M410.9 2364.3Q392.1 2426.6 339.5 2433.9" fill="none" stroke="#6a6a6a" stroke-width="1.3"/><path d="M336.5 2434.4L349.1 2426.9L344.8 2433.2L350.7 2438.1Z" fill="#5e5e5e"/>
<path d="M410.9 2364.3Q389.4 2295.1 434.3 2254.5" fill="none" stroke="#6a6a6a" stroke-width="1.3"/><path d="M436.5 2252.5L430.3 2265.8L430.3 2258.1L422.7 2257.4Z" fill="#5e5e5e"/>
<path d="M713 2105.6Q656 2148.4 603.9 2120.2" fill="none" stroke="#6a6a6a" stroke-width="1.3"/><path d="M601.2 2118.8L615.8 2120.2L608.6 2122.8L610.4 2130.2Z" fill="#5e5e5e"/>
<path d="M518.7 2553.1Q449.3 2528.5 443.7 2467.1" fill="none" stroke="#6a6a6a" stroke-width="1.3"/><path d="M443.4 2464.1L450.3 2477L444.2 2472.4L439 2478Z" fill="#5e5e5e"/>
<path d="M518.7 2553.1Q439.7 2556.6 408.9 2497" fill="none" stroke="#6a6a6a" stroke-width="1.3"/><path d="M407.5 2494.3L418.8 2503.7L411.4 2501.7L408.7 2508.9Z" fill="#5e5e5e"/>
<path d="M518.7 2553.1Q448.1 2583 400.3 2539.5" fill="none" stroke="#6a6a6a" stroke-width="1.3"/><path d="M398.1 2537.5L411.9 2542.3L404.2 2543.1L404.2 2550.7Z" fill="#5e5e5e"/>
<path d="M518.7 2553.1Q472.5 2603.1 419.2 2585.8" fill="none" stroke="#6a6a6a" stroke-width="2.5"/><path d="M416.4 2584.9L431 2583.6L424.3 2587.5L427.5 2594.4Z" fill="#5e5e5e"/>
<path d="M518.7 2553.1Q515.6 2612.6 471.3 2630.3" fill="none" stroke="#6a6a6a" stroke-width="1.3"/><path d="M468.6 2631.4L479 2621.1L476.3 2628.3L483.2 2631.6Z" fill="#5e5e5e"/>
<path d="M518.7 2553.1Q559.4 2600.5 538.4 2646.4" fill="none" stroke="#6a6a6a" stroke-width="1.3"/><path d="M537.1 2649.1L537.6 2634.5L540.6 2641.5L547.9 2639.2Z" fill="#5e5e5e"/>
<path d="M518.7 2553.1Q587 2579.9 590.6 2641.1" fill="none" stroke="#6a6a6a" stroke-width="1.3"/><path d="M590.8 2644.1L584.3 2631L590.3 2635.8L595.6 2630.3Z" fill="#5e5e5e"/>
<path d="M518.7 2553.1Q604.1 2555.6 632.9 2623.2" fill="none" stroke="#6a6a6a" stroke-width="1.3"/><path d="M634.1 2625.9L623.6 2615.7L630.8 2618.2L634 2611.3Z" fill="#5e5e5e"/>
<path d="M725.2 2385.5Q637.5 2321.6 656.4 2227" fill="none" stroke="#6a6a6a" stroke-width="1.3"/><path d="M656.9 2224L659.9 2238.4L655.3 2232.2L648.7 2236.2Z" fill="#5e5e5e"/>
<path d="M725.2 2385.5Q669.8 2291.9 724.8 2212.2" fill="none" stroke="#6a6a6a" stroke-width="1.3"/><path d="M726.5 2209.7L723.5 2224L721.7 2216.6L714.2 2217.6Z" fill="#5e5e5e"/>
<path d="M725.2 2385.5Q706.8 2287.2 778.6 2236.3" fill="none" stroke="#6a6a6a" stroke-width="1.3"/><path d="M781.1 2234.6L773.3 2247L774.2 2239.4L766.8 2237.8Z" fill="#5e5e5e"/>
<path d="M725.2 2385.5Q732.1 2278.3 821.1 2244" fill="none" stroke="#6a6a6a" stroke-width="1.3"/><path d="M823.9 2242.9L813.3 2253.1L816.1 2245.9L809.3 2242.5Z" fill="#5e5e5e"/>
<path d="M725.2 2385.5Q621 2352.1 609.2 2255.4" fill="none" stroke="#6a6a6a" stroke-width="1.3"/><path d="M608.8 2252.4L616.1 2265.1L609.8 2260.7L604.8 2266.5Z" fill="#5e5e5e"/>
<path d="M725.2 2385.5Q665 2326.3 689.4 2258.1" fill="none" stroke="#6a6a6a" stroke-width="1.3"/><path d="M690.5 2255.3L691.2 2269.9L687.6 2263.1L680.6 2266.1Z" fill="#5e5e5e"/>
<path d="M725.2 2385.5Q691.8 2311.3 737.3 2259.1" fill="none" stroke="#6a6a6a" stroke-width="1.3"/><path d="M739.3 2256.8L734.7 2270.7L733.8 2263.1L726.2 2263.3Z" fill="#5e5e5e"/>
<path d="M725.2 2385.5Q756.6 2286.8 847.5 2275.4" fill="none" stroke="#6a6a6a" stroke-width="1.3"/><path d="M850.5 2275L837.8 2282.3L842.2 2276.1L836.4 2271.1Z" fill="#5e5e5e"/>
<path d="M725.2 2385.5Q617.1 2383.7 578.3 2295.8" fill="none" stroke="#6a6a6a" stroke-width="1.3"/><path d="M577.1 2293L587.8 2303.1L580.5 2300.7L577.4 2307.7Z" fill="#5e5e5e"/>
<path d="M725.2 2385.5Q647.9 2361.3 638.9 2292.9" fill="none" stroke="#6a6a6a" stroke-width="1.3"/><path d="M638.6 2289.9L645.9 2302.6L639.6 2298.2L634.7 2304Z" fill="#5e5e5e"/>
<path d="M725.2 2385.5Q680 2351.2 689.7 2307.5" fill="none" stroke="#6a6a6a" stroke-width="1.3"/><path d="M690.4 2304.6L693 2319L688.5 2312.8L681.9 2316.5Z" fill="#5e5e5e"/>
<path d="M725.2 2385.5Q720.6 2323 765 2298.4" fill="none" stroke="#6a6a6a" stroke-width="1.3"/><path d="M767.6 2297L758.6 2308.5L760.3 2301L753.1 2298.5Z" fill="#5e5e5e"/>
<path d="M725.2 2385.5Q782.1 2295.4 875.8 2307.8" fill="none" stroke="#6a6a6a" stroke-width="1.3"/><path d="M878.8 2308.2L864.7 2312.1L870.5 2307.1L866.1 2300.8Z" fill="#5e5e5e"/>
<path d="M725.2 2385.5Q753 2319.5 812.5 2317.5" fill="none" stroke="#6a6a6a" stroke-width="1.8"/><path d="M815.5 2317.4L802.2 2323.5L807.1 2317.7L801.8 2312.2Z" fill="#5e5e5e"/>
<path d="M725.2 2385.5Q619.7 2411.1 559.8 2335.5" fill="none" stroke="#6a6a6a" stroke-width="1.3"/><path d="M557.9 2333.2L570.7 2340.2L563.1 2339.7L561.8 2347.3Z" fill="#5e5e5e"/>
<path d="M725.2 2385.5Q653.2 2391.1 623.8 2338.5" fill="none" stroke="#6a6a6a" stroke-width="1.3"/><path d="M622.4 2335.9L633.9 2344.9L626.5 2343.2L624 2350.4Z" fill="#5e5e5e"/>
<path d="M725.2 2385.5Q798.8 2315.2 882.3 2348.2" fill="none" stroke="#6a6a6a" stroke-width="1.3"/><path d="M885.1 2349.3L870.5 2349.6L877.3 2346.2L874.7 2339.1Z" fill="#5e5e5e"/>
<path d="M725.2 2385.5Q777.9 2342.2 828.6 2366.7" fill="none" stroke="#6a6a6a" stroke-width="1.3"/><path d="M831.3 2368L816.7 2367.2L823.8 2364.3L821.6 2357Z" fill="#5e5e5e"/>
<path d="M725.2 2385.5Q821 2330.5 901.2 2387.5" fill="none" stroke="#6a6a6a" stroke-width="1.3"/><path d="M903.7 2389.3L889.4 2386.1L896.8 2384.4L895.9 2376.8Z" fill="#5e5e5e"/>
<path d="M725.2 2385.5Q628.4 2438.8 549.1 2380.3" fill="none" stroke="#6a6a6a" stroke-width="1.3"/><path d="M546.6 2378.5L560.9 2382L553.4 2383.5L554.1 2391.1Z" fill="#5e5e5e"/>
<path d="M725.2 2385.5Q656.3 2421.2 604.5 2380.9" fill="none" stroke="#6a6a6a" stroke-width="1.3"/><path d="M602.1 2379L616.2 2382.8L608.7 2384.2L609.3 2391.8Z" fill="#5e5e5e"/>
<path d="M725.2 2385.5Q812.4 2357 866.6 2415.4" fill="none" stroke="#6a6a6a" stroke-width="1.3"/><path d="M868.7 2417.6L855.3 2411.6L863 2411.5L863.6 2403.9Z" fill="#5e5e5e"/>
<path d="M725.2 2385.5Q789.2 2379.1 815.8 2424.2" fill="none" stroke="#6a6a6a" stroke-width="1.3"/><path d="M817.3 2426.7L805.6 2418L813.1 2419.5L815.4 2412.2Z" fill="#5e5e5e"/>
<path d="M725.2 2385.5Q835.5 2371.7 887.9 2455.9" fill="none" stroke="#6a6a6a" stroke-width="1.3"/><path d="M889.4 2458.5L877.5 2450L885 2451.4L887.1 2444Z" fill="#5e5e5e"/>
<path d="M725.2 2385.5Q644.9 2461.9 553.1 2425.4" fill="none" stroke="#6a6a6a" stroke-width="1.3"/><path d="M550.3 2424.3L564.9 2424L558 2427.4L560.7 2434.6Z" fill="#5e5e5e"/>
<path d="M725.2 2385.5Q683.8 2433.8 634.1 2419.8" fill="none" stroke="#6a6a6a" stroke-width="1.3"/><path d="M631.3 2419L645.8 2417.2L639.3 2421.2L642.7 2428.1Z" fill="#5e5e5e"/>
<path d="M725.2 2385.5Q673.1 2462.5 593.1 2449.3" fill="none" stroke="#6a6a6a" stroke-width="1.3"/><path d="M590.2 2448.9L604.4 2445.5L598.4 2450.2L602.6 2456.6Z" fill="#5e5e5e"/>
<path d="M725.2 2385.5Q712 2453 656.9 2466.5" fill="none" stroke="#6a6a6a" stroke-width="1.3"/><path d="M653.9 2467.3L665.7 2458.5L662.1 2465.3L668.4 2469.6Z" fill="#5e5e5e"/>
<path d="M725.2 2385.5Q684.4 2485.2 588.8 2489.5" fill="none" stroke="#6a6a6a" stroke-width="1.3"/><path d="M585.8 2489.6L599 2483.3L594.2 2489.2L599.5 2494.7Z" fill="#5e5e5e"/>
<path d="M725.2 2385.5Q743.1 2449 702 2484.1" fill="none" stroke="#6a6a6a" stroke-width="1.3"/><path d="M699.7 2486.1L706.3 2473L706.1 2480.6L713.7 2481.6Z" fill="#5e5e5e"/>
<path d="M725.2 2385.5Q771.1 2431.6 752.6 2481.4" fill="none" stroke="#6a6a6a" stroke-width="1.3"/><path d="M751.5 2484.2L750.9 2469.5L754.5 2476.3L761.6 2473.5Z" fill="#5e5e5e"/>
<path d="M725.2 2385.5Q794.4 2409.8 800.2 2471" fill="none" stroke="#6a6a6a" stroke-width="1.3"/><path d="M800.5 2473.9L793.5 2461L799.7 2465.6L804.8 2460Z" fill="#5e5e5e"/>
<path d="M725.2 2385.5Q825.2 2398.3 851.9 2483.1" fill="none" stroke="#6a6a6a" stroke-width="1.3"/><path d="M852.8 2485.9L843.3 2474.7L850.3 2477.9L854.2 2471.3Z" fill="#5e5e5e"/>
<path d="M725.2 2385.5Q716 2484.1 633.9 2513.1" fill="none" stroke="#6a6a6a" stroke-width="2"/><path d="M631.1 2514.1L641.9 2504.3L639 2511.3L645.7 2515Z" fill="#5e5e5e"/>
<path d="M725.2 2385.5Q745.4 2486.7 671.6 2540.3" fill="none" stroke="#6a6a6a" stroke-width="1.3"/><path d="M669.2 2542.1L676.8 2529.6L675.9 2537.2L683.4 2538.8Z" fill="#5e5e5e"/>
<path d="M725.2 2385.5Q768.3 2467 719.6 2530.8" fill="none" stroke="#6a6a6a" stroke-width="1.3"/><path d="M717.8 2533.1L721.5 2519L722.8 2526.5L730.5 2525.9Z" fill="#5e5e5e"/>
<path d="M725.2 2385.5Q803.1 2442.5 786.3 2525.3" fill="none" stroke="#6a6a6a" stroke-width="1.3"/><path d="M785.7 2528.3L782.8 2513.9L787.3 2520.1L793.9 2516.2Z" fill="#5e5e5e"/>
<path d="M725.2 2385.5Q827.6 2426.8 832.3 2525.1" fill="none" stroke="#6a6a6a" stroke-width="1.3"/><path d="M832.5 2528.1L826.1 2514.9L832.1 2519.8L837.5 2514.4Z" fill="#5e5e5e"/>
<path d="M725.2 2385.5Q796.4 2471.3 753.6 2561.1" fill="none" stroke="#6a6a6a" stroke-width="1.3"/><path d="M752.3 2563.8L753 2549.2L755.9 2556.2L763.2 2554Z" fill="#5e5e5e"/>
<path d="M483.3 2131.5l8.3 -8.3l8.3 8.3l-8.3 8.3z" fill="#5a9eab"/>
<path d="M507.8 2179.1l8.3 -8.3l8.3 8.3l-8.3 8.3z" fill="#5a9eab"/>
<path d="M434.9 2246.5l8.3 -8.3l8.3 8.3l-8.3 8.3z" fill="#5a9eab"/>
<path d="M425.1 2306.1l8.3 -8.3l8.3 8.3l-8.3 8.3z" fill="#5a9eab"/>
<path d="M317.1 2292.2l8.3 -8.3l8.3 8.3l-8.3 8.3z" fill="#5a9eab"/>
<path d="M356.1 2322l8.3 -8.3l8.3 8.3l-8.3 8.3z" fill="#5a9eab"/>
<path d="M319.3 2435.6l8.3 -8.3l8.3 8.3l-8.3 8.3z" fill="#5a9eab"/>
<path d="M585 2114.5l8.3 -8.3l8.3 8.3l-8.3 8.3z" fill="#5a9eab"/>
<path d="M434.3 2455.1l8.3 -8.3l8.3 8.3l-8.3 8.3z" fill="#5a9eab"/>
<path d="M395.1 2486.3l8.3 -8.3l8.3 8.3l-8.3 8.3z" fill="#5a9eab"/>
<path d="M383.1 2531.4l8.3 -8.3l8.3 8.3l-8.3 8.3z" fill="#5a9eab"/>
<path d="M399.5 2582.1l8.3 -8.3l8.3 8.3l-8.3 8.3z" fill="#5a9eab"/>
<path d="M451.9 2634.7l8.3 -8.3l8.3 8.3l-8.3 8.3z" fill="#5a9eab"/>
<path d="M525.1 2657.3l8.3 -8.3l8.3 8.3l-8.3 8.3z" fill="#5a9eab"/>
<path d="M583 2653.1l8.3 -8.3l8.3 8.3l-8.3 8.3z" fill="#5a9eab"/>
<path d="M629.3 2634.2l8.3 -8.3l8.3 8.3l-8.3 8.3z" fill="#5a9eab"/>
<path d="M650.4 2215.2l8.3 -8.3l8.3 8.3l-8.3 8.3z" fill="#5a9eab"/>
<path d="M723.3 2202.3l8.3 -8.3l8.3 8.3l-8.3 8.3z" fill="#5a9eab"/>
<path d="M780.1 2229.4l8.3 -8.3l8.3 8.3l-8.3 8.3z" fill="#5a9eab"/>
<path d="M824 2239.7l8.3 -8.3l8.3 8.3l-8.3 8.3z" fill="#5a9eab"/>
<path d="M599.4 2243.5l8.3 -8.3l8.3 8.3l-8.3 8.3z" fill="#5a9eab"/>
<path d="M685.2 2246.8l8.3 -8.3l8.3 8.3l-8.3 8.3z" fill="#5a9eab"/>
<path d="M736.9 2250l8.3 -8.3l8.3 8.3l-8.3 8.3z" fill="#5a9eab"/>
<path d="M851.1 2273.9l8.3 -8.3l8.3 8.3l-8.3 8.3z" fill="#5a9eab"/>
<path d="M565.2 2284.8l8.3 -8.3l8.3 8.3l-8.3 8.3z" fill="#5a9eab"/>
<path d="M629.1 2281l8.3 -8.3l8.3 8.3l-8.3 8.3z" fill="#5a9eab"/>
<path d="M684 2295.8l8.3 -8.3l8.3 8.3l-8.3 8.3z" fill="#5a9eab"/>
<path d="M767.2 2292.6l8.3 -8.3l8.3 8.3l-8.3 8.3z" fill="#5a9eab"/>
<path d="M879.4 2309.4l8.3 -8.3l8.3 8.3l-8.3 8.3z" fill="#5a9eab"/>
<path d="M816.2 2317.1l8.3 -8.3l8.3 8.3l-8.3 8.3z" fill="#5a9eab"/>
<path d="M544 2326.1l8.3 -8.3l8.3 8.3l-8.3 8.3z" fill="#5a9eab"/>
<path d="M609.7 2328l8.3 -8.3l8.3 8.3l-8.3 8.3z" fill="#5a9eab"/>
<path d="M885.2 2352.6l8.3 -8.3l8.3 8.3l-8.3 8.3z" fill="#5a9eab"/>
<path d="M831.1 2371.9l8.3 -8.3l8.3 8.3l-8.3 8.3z" fill="#5a9eab"/>
<path d="M902.7 2394.5l8.3 -8.3l8.3 8.3l-8.3 8.3z" fill="#5a9eab"/>
<path d="M531.1 2373.2l8.3 -8.3l8.3 8.3l-8.3 8.3z" fill="#5a9eab"/>
<path d="M586.7 2373.5l8.3 -8.3l8.3 8.3l-8.3 8.3z" fill="#5a9eab"/>
<path d="M866.5 2424.2l8.3 -8.3l8.3 8.3l-8.3 8.3z" fill="#5a9eab"/>
<path d="M813.6 2434.5l8.3 -8.3l8.3 8.3l-8.3 8.3z" fill="#5a9eab"/>
<path d="M885.9 2466.1l8.3 -8.3l8.3 8.3l-8.3 8.3z" fill="#5a9eab"/>
<path d="M533.6 2421l8.3 -8.3l8.3 8.3l-8.3 8.3z" fill="#5a9eab"/>
<path d="M614.3 2416.5l8.3 -8.3l8.3 8.3l-8.3 8.3z" fill="#5a9eab"/>
<path d="M573 2447.4l8.3 -8.3l8.3 8.3l-8.3 8.3z" fill="#5a9eab"/>
<path d="M636.9 2469.4l8.3 -8.3l8.3 8.3l-8.3 8.3z" fill="#5a9eab"/>
<path d="M568.5 2490l8.3 -8.3l8.3 8.3l-8.3 8.3z" fill="#5a9eab"/>
<path d="M684.6 2491.9l8.3 -8.3l8.3 8.3l-8.3 8.3z" fill="#5a9eab"/>
<path d="M740.1 2492.6l8.3 -8.3l8.3 8.3l-8.3 8.3z" fill="#5a9eab"/>
<path d="M793 2482.9l8.3 -8.3l8.3 8.3l-8.3 8.3z" fill="#5a9eab"/>
<path d="M847.2 2494.5l8.3 -8.3l8.3 8.3l-8.3 8.3z" fill="#5a9eab"/>
<path d="M614.3 2517.1l8.3 -8.3l8.3 8.3l-8.3 8.3z" fill="#5a9eab"/>
<path d="M653.6 2547.4l8.3 -8.3l8.3 8.3l-8.3 8.3z" fill="#5a9eab"/>
<path d="M704 2540.3l8.3 -8.3l8.3 8.3l-8.3 8.3z" fill="#5a9eab"/>
<path d="M775.6 2537.1l8.3 -8.3l8.3 8.3l-8.3 8.3z" fill="#5a9eab"/>
<path d="M824.6 2537.1l8.3 -8.3l8.3 8.3l-8.3 8.3z" fill="#5a9eab"/>
<path d="M740.1 2571.9l8.3 -8.3l8.3 8.3l-8.3 8.3z" fill="#5a9eab"/>
<text x="509.1" y="2134.8" font-size="9.5" fill="#222" >RO4929097</text>
<text x="533.6" y="2182.4" font-size="9.5" fill="#222" >Tarextumab</text>
<text x="460.7" y="2249.8" font-size="9.5" fill="#222" >CHEMBL2108709</text>
<text x="450.9" y="2309.4" font-size="9.5" fill="#222" >OMP-59R5</text>
<text x="342.9" y="2295.5" font-size="9.5" fill="#222" >252166663</text>
<text x="381.9" y="2325.3" font-size="9.5" fill="#222" >PF-03084014</text>
<text x="345.1" y="2438.9" font-size="9.5" fill="#222" >CHEMBL2095222</text>
<text x="610.8" y="2117.8" font-size="9.5" fill="#222" >DB00157</text>
<text x="460.1" y="2458.4" font-size="9.5" fill="#222" >TROGLITAZONE</text>
<text x="420.9" y="2489.6" font-size="9.5" fill="#222" >6-MERCAPTOPURINE</text>
<text x="408.9" y="2534.7" font-size="9.5" fill="#222" >CYCLOSPORINE</text>
<text x="425.3" y="2585.4" font-size="9.5" fill="#222" >DB05399</text>
<text x="477.7" y="2638" font-size="9.5" fill="#222" >DB01136</text>
<text x="550.9" y="2660.6" font-size="9.5" fill="#222" >DB11338</text>
<text x="608.8" y="2656.4" font-size="9.5" fill="#222" >DB00898</text>
<text x="655.1" y="2637.5" font-size="9.5" fill="#222" >DEXAMETHASONE</text>
<text x="676.2" y="2218.5" font-size="9.5" fill="#222" >Fingolimod</text>
<text x="749.1" y="2205.6" font-size="9.5" fill="#222" >(S)-FTY720P</text>
<text x="805.9" y="2232.7" font-size="9.5" fill="#222" >APD-334</text>
<text x="849.8" y="2243" font-size="9.5" fill="#222" >252827357</text>
<text x="625.2" y="2246.8" font-size="9.5" fill="#222" >CHEMBL1096146</text>
<text x="711" y="2250.1" font-size="9.5" fill="#222" >GSK-2018682</text>
<text x="762.7" y="2253.3" font-size="9.5" fill="#222" >2NDI1417400</text>
<text x="876.9" y="2277.2" font-size="9.5" fill="#222" >135650261</text>
<text x="591" y="2288.1" font-size="9.5" fill="#222" >RPC-1063</text>
<text x="654.9" y="2284.3" font-size="9.5" fill="#222" >DB12371</text>
<text x="709.8" y="2299.1" font-size="9.5" fill="#222" >ASP-4058</text>
<text x="793" y="2295.9" font-size="9.5" fill="#222" >DB12612</text>
<text x="905.2" y="2312.7" font-size="9.5" fill="#222" >Sonepcizumab</text>
<text x="842" y="2320.4" font-size="9.5" fill="#222" >FINGOLIMOD</text>
<text x="569.8" y="2329.4" font-size="9.5" fill="#222" >336446955</text>
<text x="635.5" y="2331.3" font-size="9.5" fill="#222" >GNF-PF-78</text>
<text x="911" y="2355.9" font-size="9.5" fill="#222" >Ozanimod</text>
<text x="856.9" y="2375.2" font-size="9.5" fill="#222" >354702295</text>
<text x="928.5" y="2397.8" font-size="9.5" fill="#222" >CHEMBL2336071</text>
<text x="556.9" y="2376.5" font-size="9.5" fill="#222" >CHEMBL544665</text>
<text x="612.5" y="2376.8" font-size="9.5" fill="#222" >AFIDE</text>
<text x="892.3" y="2427.5" font-size="9.5" fill="#222" >DB08868</text>
<text x="839.4" y="2437.8" font-size="9.5" fill="#222" >Ponesimod</text>
<text x="911.7" y="2469.4" font-size="9.5" fill="#222" >9,10-PHENANTHRENEQUINONE</text>
<text x="559.4" y="2424.3" font-size="9.5" fill="#222" >BMS-986104</text>
<text x="640.1" y="2419.8" font-size="9.5" fill="#222" >PONESIMOD</text>
<text x="598.8" y="2450.7" font-size="9.5" fill="#222" >318164850</text>
<text x="662.7" y="2472.7" font-size="9.5" fill="#222" >ACT-128800</text>
<text x="594.3" y="2493.3" font-size="9.5" fill="#222" >318164839</text>
<text x="710.4" y="2495.2" font-size="9.5" fill="#222" >MT-1303</text>
<text x="765.9" y="2495.9" font-size="9.5" fill="#222" >BAF312</text>
<text x="818.8" y="2486.2" font-size="9.5" fill="#222" >KRP-203</text>
<text x="873" y="2497.8" font-size="9.5" fill="#222" >RPC1063</text>
<text x="640.1" y="2520.4" font-size="9.5" fill="#222" >NSC-105827</text>
<text x="679.4" y="2550.7" font-size="9.5" fill="#222" >CHEMBL3545101</text>
<text x="729.8" y="2543.6" font-size="9.5" fill="#222" >CHEMBL3707374</text>
<text x="801.4" y="2540.4" font-size="9.5" fill="#222" >ISOVELLERAL</text>
<text x="850.4" y="2540.4" font-size="9.5" fill="#222" >TCMDC-123713</text>
<text x="765.9" y="2575.2" font-size="9.5" fill="#222" >318164808</text>
<circle cx="397.8" cy="2204.5" r="8.8" fill="#cc2e2e" stroke="#fff" stroke-width="0.8"/>
<text x="414.8" y="2207.8" font-size="9.5" fill="#222" >NOTCH2</text>
<circle cx="410.9" cy="2364.3" r="8.8" fill="#cc2e2e" stroke="#fff" stroke-width="0.8"/>
<text x="427.9" y="2367.6" font-size="9.5" fill="#222" >COL11A1</text>
<circle cx="713" cy="2105.6" r="8.8" fill="#cc2e2e" stroke="#fff" stroke-width="0.8"/>
<text x="730" y="2108.9" font-size="9.5" fill="#222" >PHGDH</text>
<circle cx="518.7" cy="2553.1" r="8.8" fill="#cc2e2e" stroke="#fff" stroke-width="0.8"/>
<text x="535.7" y="2556.4" font-size="9.5" fill="#222" >VCAM1</text>
<circle cx="725.2" cy="2385.5" r="8.8" fill="#cc2e2e" stroke="#fff" stroke-width="0.8"/>
<text x="742.2" y="2388.8" font-size="9.5" fill="#222" >S1PR1</text>
<path d="M984.4 2585.5l13 -13l13 13l-13 13z" fill="#5a9eab" stroke="#bbb" stroke-width="1"/>
<circle cx="995.5" cy="2637" r="12.6" fill="#cc2e2e" stroke="#bbb" stroke-width="1"/>
<text x="1022.8" y="2593.4" font-size="27.5" fill="#595959" textLength="73" lengthAdjust="spacingAndGlyphs" >Drugs</text>
<text x="1022.8" y="2646.2" font-size="27.5" fill="#595959" textLength="81.5" lengthAdjust="spacingAndGlyphs" >Genes</text>
<rect x="1530.5" y="2212.2" width="12.4" height="217.8" fill="#f4b183"/>
<rect x="1547.9" y="2315" width="12.4" height="115" fill="#f4b183"/>
<rect x="1565.3" y="2340.9" width="12.4" height="89.1" fill="#f4b183"/>
<rect x="1582.6" y="2361.5" width="12.4" height="68.5" fill="#f4b183"/>
<rect x="1600" y="2369.1" width="12.4" height="60.9" fill="#f4b183"/>
<rect x="1617.4" y="2387.4" width="12.4" height="42.6" fill="#f4b183"/>
<rect x="1634.8" y="2391.9" width="12.4" height="38.1" fill="#f4b183"/>
<rect x="1652.2" y="2408.7" width="12.4" height="21.3" fill="#f4b183"/>
<rect x="1669.5" y="2413.2" width="12.4" height="16.8" fill="#f4b183"/>
<rect x="1686.9" y="2413.2" width="12.4" height="16.8" fill="#f4b183"/>
<rect x="1704.3" y="2415.5" width="12.4" height="14.5" fill="#f4b183"/>
<rect x="1721.7" y="2415.5" width="12.4" height="14.5" fill="#f4b183"/>
<rect x="1739.1" y="2417.8" width="12.4" height="12.2" fill="#f4b183"/>
<rect x="1756.4" y="2417.8" width="12.4" height="12.2" fill="#f4b183"/>
<rect x="1773.8" y="2420.1" width="12.4" height="9.9" fill="#f4b183"/>
<rect x="1791.2" y="2422.4" width="12.4" height="7.6" fill="#f4b183"/>
<rect x="1808.6" y="2424.7" width="12.4" height="5.3" fill="#f4b183"/>
<rect x="1826" y="2424.7" width="12.4" height="5.3" fill="#f4b183"/>
<rect x="1843.3" y="2424.7" width="12.4" height="5.3" fill="#f4b183"/>
<rect x="1860.7" y="2427" width="12.4" height="3" fill="#f4b183"/>
<rect x="1878.1" y="2427" width="12.4" height="3" fill="#f4b183"/>
<rect x="1895.5" y="2427" width="12.4" height="3" fill="#f4b183"/>
<rect x="1912.9" y="2427" width="12.4" height="3" fill="#f4b183"/>
<rect x="1930.2" y="2427" width="12.4" height="3" fill="#f4b183"/>
<rect x="1947.6" y="2427" width="12.4" height="3" fill="#f4b183"/>
<path d="M1527.7 2163.5V2430H1963M1527.7 2430h-9M1527.7 2391.9h-9M1527.7 2353.9h-9M1527.7 2315.8h-9M1527.7 2277.7h-9M1527.7 2239.6h-9M1527.7 2201.6h-9M1527.7 2163.5h-9M1527.7 2430v5M1545.1 2430v5M1562.5 2430v5M1579.8 2430v5M1597.2 2430v5M1614.6 2430v5M1632 2430v5M1649.4 2430v5M1666.7 2430v5M1684.1 2430v5M1701.5 2430v5M1718.9 2430v5M1736.3 2430v5M1753.6 2430v5M1771 2430v5M1788.4 2430v5M1805.8 2430v5M1823.2 2430v5M1840.5 2430v5M1857.9 2430v5M1875.3 2430v5M1892.7 2430v5M1910.1 2430v5M1927.4 2430v5M1944.8 2430v5M1962.2 2430v5" fill="none" stroke="#d0d0d0" stroke-width="1.5"/>
<text x="1505.5" y="2439" font-size="25" text-anchor="end" fill="#595959" >0</text>
<text x="1505.5" y="2400.9" font-size="25" text-anchor="end" fill="#595959" >50</text>
<text x="1505.5" y="2362.9" font-size="25" text-anchor="end" fill="#595959" >100</text>
<text x="1505.5" y="2324.8" font-size="25" text-anchor="end" fill="#595959" >150</text>
<text x="1505.5" y="2286.7" font-size="25" text-anchor="end" fill="#595959" >200</text>
<text x="1505.5" y="2248.6" font-size="25" text-anchor="end" fill="#595959" >250</text>
<text x="1505.5" y="2210.6" font-size="25" text-anchor="end" fill="#595959" >300</text>
<text x="1505.5" y="2172.5" font-size="25" text-anchor="end" fill="#595959" >350</text>
<text transform="translate(1428.5 2286.5) rotate(-90)" font-size="26.5" text-anchor="middle" fill="#595959" textLength="99" lengthAdjust="spacingAndGlyphs" >Counts</text>
<text transform="translate(1541.7 2463.5) rotate(-43.5)" font-size="17" text-anchor="end" fill="#505050" letter-spacing="0.5">DRUGGABLE GENOME</text>
<text transform="translate(1576.5 2463.5) rotate(-43.5)" font-size="17" text-anchor="end" fill="#505050" letter-spacing="0.5">ENZYME</text>
<text transform="translate(1611.2 2463.5) rotate(-43.5)" font-size="17" text-anchor="end" fill="#505050" letter-spacing="0.5">TRANSCRIPTION FACTOR</text>
<text transform="translate(1646 2463.5) rotate(-43.5)" font-size="17" text-anchor="end" fill="#505050" letter-spacing="0.5">CELL SURFACE</text>
<text transform="translate(1680.7 2463.5) rotate(-43.5)" font-size="17" text-anchor="end" fill="#505050" letter-spacing="0.5">SERINE THREONINE KINASE</text>
<text transform="translate(1715.5 2463.5) rotate(-43.5)" font-size="17" text-anchor="end" fill="#505050" letter-spacing="0.5">G PROTEIN COUPLED RECEPTOR</text>
<text transform="translate(1750.3 2463.5) rotate(-43.5)" font-size="17" text-anchor="end" fill="#505050" letter-spacing="0.5">DRUG RESISTANCE</text>
<text transform="translate(1785 2463.5) rotate(-43.5)" font-size="17" text-anchor="end" fill="#505050" letter-spacing="0.5">ION CHANNEL</text>
<text transform="translate(1819.8 2463.5) rotate(-43.5)" font-size="17" text-anchor="end" fill="#505050" letter-spacing="0.5">DNA REPAIR</text>
<text transform="translate(1854.5 2463.5) rotate(-43.5)" font-size="17" text-anchor="end" fill="#505050" letter-spacing="0.5">TYROSINE KINASE</text>
<text transform="translate(1889.3 2463.5) rotate(-43.5)" font-size="17" text-anchor="end" fill="#505050" letter-spacing="0.5">PROTEIN PHOSPHATASE</text>
<text transform="translate(1924.1 2463.5) rotate(-43.5)" font-size="17" text-anchor="end" fill="#505050" letter-spacing="0.5">SHORT CHAIN DEHYDROGENASE…</text>
<text transform="translate(1958.8 2463.5) rotate(-43.5)" font-size="17" text-anchor="end" fill="#505050" letter-spacing="0.5">PHOSPHATIDYLINOSITOL 3 KINASE</text>
</svg>
</body></html>
